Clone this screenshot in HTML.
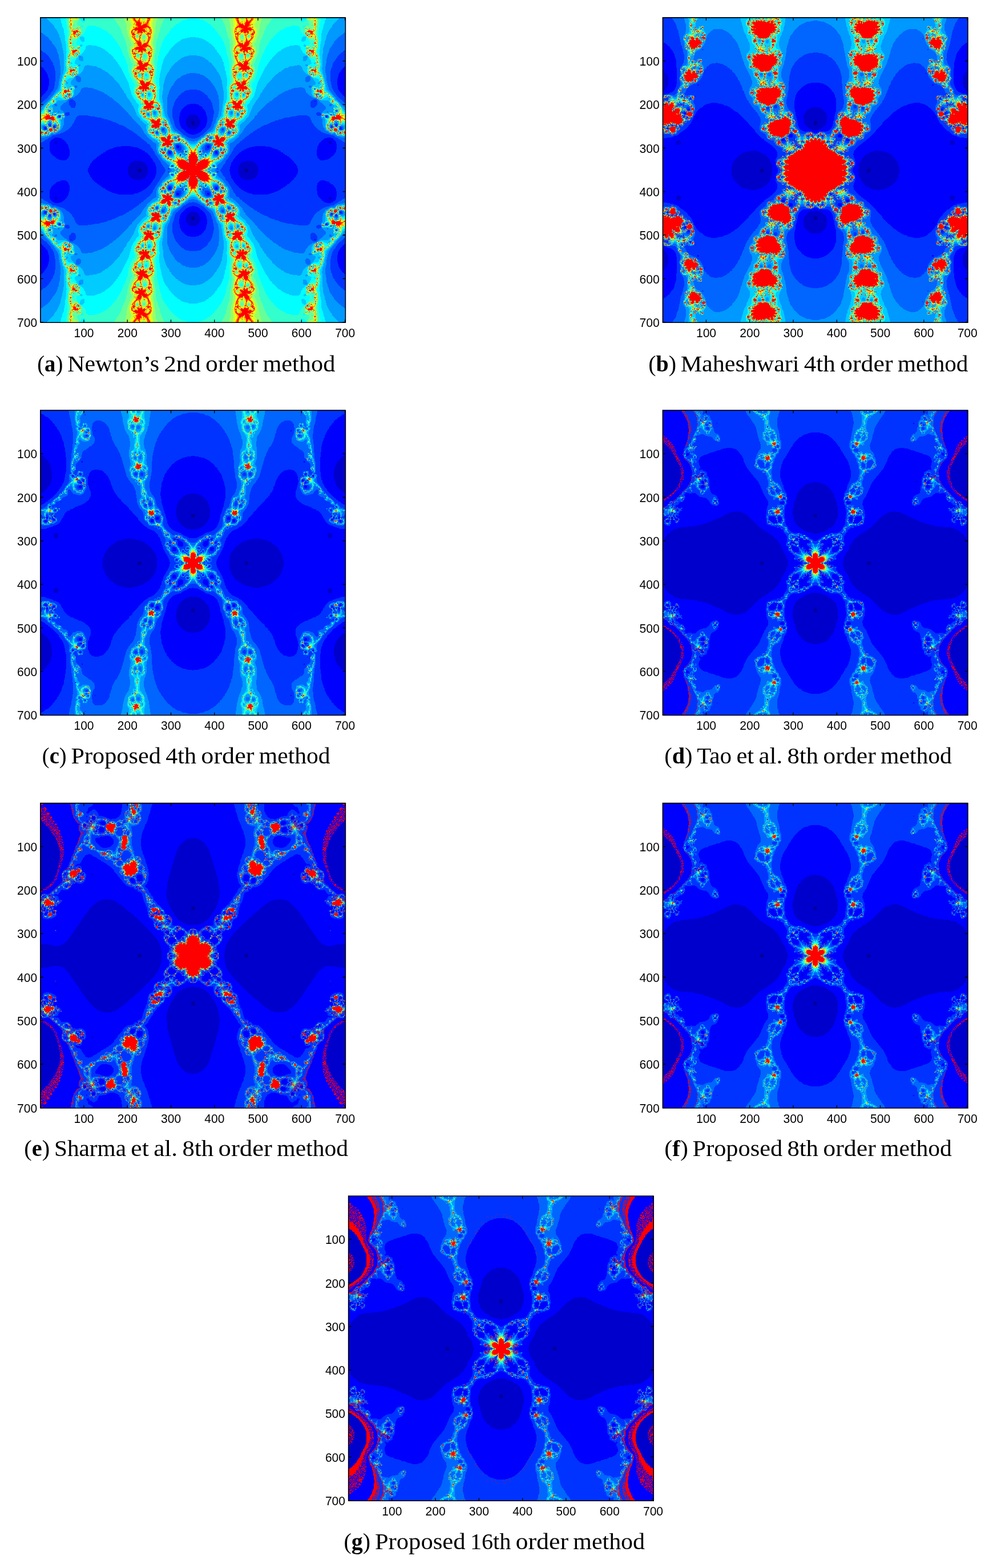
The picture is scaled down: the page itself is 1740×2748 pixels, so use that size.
<!DOCTYPE html>
<html lang="en"><head><meta charset="utf-8"><title>Basins of attraction</title><style>html,body{margin:0;padding:0;background:#fff}svg{display:block}.r{fill:none;stroke-width:1}.t{fill:none;stroke:#000;stroke-width:1.3}.b{fill:none;stroke:#000;stroke-width:1.7}.b2{fill:none;stroke:#000;stroke-width:1.55}text{font-family:"Liberation Sans",Arial,Helvetica,sans-serif;font-size:22px;fill:#000}.xl text{text-anchor:middle}.yl text{text-anchor:end}.c text{font-family:"Liberation Serif","Times New Roman",serif;font-size:40px}.k{font-weight:bold}</style></head><body><svg width="1740" height="2748" viewBox="0 0 1740 2748" fill-rule="evenodd">
<svg x="71.3" y="31.6" width="533.7" height="533.4" viewBox="0 0 699.607 699.213" preserveAspectRatio="none" shape-rendering="crispEdges"><rect width="700" height="700" fill="#009"/>
<g id="qa"><path fill="#00c" d="M350 350l-119 0 0-3-1-1-6 0-1 4-224 0 0-351 351 0 0 237-2 0-2 2 0 5 2 2 2 0z"/><path fill="#00f" d="M350 350l-104 0 0-6-4-8-4-4-6-3-3 0 0-1-12 0-10 5-6 9-1 8-201 0 0-192 2 0 0-10-2 0 0-149 351 0 0 223-5 0-4 2-5 5-1 5-1 0 0 9 1 0 1 5 6 6 8 2zM36 289l2-1 0-4-1-1-4 0-1 1 0 4 1 1z"/><path fill="#03f" d="M350 350l-84 0-1-9-1 0 0-3-1 0 0-3-2-4-2-1-3-7-3-2 0-2-11-11-2 0-2-3-4-1-1-2-5-1-4-3-11-2 0-1-6 0 0-1-23 0 0 1-6 0 0 1-4 0 0 1-4 0-3 2-3 0-2 2-3 0-10 5-1 2-4 1-1 2-2 0-4 4-2 0-2 3-2 0-13 12 0 2-4 3-1 4-2 1 0 3-2 3 0 4-110 0 0-168 2 0 3-4 2 0 1-3 5-4 0-2 2-1 3-6 1-7 1 0 0-15-1 0 0-4-2-3 0-3-3-6-2-1 0-2-3-2 0-2-7-6-2 0 0-112 351 0 0 198-7 0 0 1-6 1-3 3-2 0-9 10-3 6-1 8-1 0 0 14 1 0 0 4 4 8 12 11 8 4 7 1zM71 192l0-2-2 0 0 2zM22 214l-1-2 0 2zM45 227l0-2-3 0 0 2zM22 248l0-2-2 0 0 2zM32 251l0-2-2 0 0 2zM13 255l-1-3-3 1 1 2zM56 327l4-2 4-4 1-5 1 0 0-14-1 0 0-4-1 0 0-3-3-6-8-9-2 0-1-2-4-2-4 0 0-1-9 0 0 1-3 0-7 6-2 4 0 3-1 0 0 13 1 0 0 3 3 6 6 7 2 0 5 5 4 2 3 0 0 1 3 0 0 1zM294 287l2-2 0-3-3-3-4 4 0 2 2 0 1 2zM316 299l2-2 0-2-2-2-2 0-2 2 0 2 2 2zM298 311l1-3-2-2-3 1 0 3 1 1z"/><path fill="#06f" d="M350 350l-63 0 0-2-2-1-1-4-2-1 0-2-6-7-1-4-6-7-2-5-2-1 0-2-2-1-2-6-2-1-2-6-5-5 0-2-4-4-2 0-5-6-2 0-4-5-2 0-4-5-2 0-2-3-2 0-2-3-2 0-2-3-2 0-4-4-2 0-1-2-4-1-1-2-6-2-1-2-10-5-3 0-13-7-6-1-2-2-6-1-6-3-4 0 0-1-7-1 0-1-5 0 0-1-5 0 0-1-5 0 0-1-15-1 0-1-21 0-4 2-3 3-5 12-2 1-2 5-10 10-2 0-1 2-2 0-1 2-6 3-3 0 0 1-3 0 0 1-9 2 0 1-8 1-3 3-7 3-1 2-6 2-4 4-4 1-1 2-2 0 0-92 3 0 8-8 2 0 11-13 0-2 4-4 4-8 1-7 1 0 0-7 1 0 0-25-1 0 0-5-2-3 0-3-2-2 0-3-2-4-2-1-1-4-2-1 0-2-3-2 0-2-10-10-2 0-5-5-3 0 0-75 351 0 0 165-8 0 0 1-7 1-6 3-1 2-2 0-10 9 0 2-5 5-5 10 0 3-2 3 0 4-1 0 0 6-1 0 1 16 1 0 0 4 1 0 0 4 1 0 2 9 3 6 18 17 4 1 1 2 8 4 8 1zM60 181l-1-2 0 2zM76 207l4-3 0-3 1 0-1-9-6-5-6 0-3 3 0 9 6 7zM23 214l-1-3-2 0 0 3zM63 225l4-3 0-4-4-2-5 1-2 2 0 4 3 2zM34 223l0-2-2 0 0 2zM45 228l1-3-1-1-4 0 0 4zM23 232l1-1 0-2-5-1 0 2 2 2zM23 235l-1-2 0 2zM23 249l1-3-2-3-2 0-1 1 0 4 1 1zM33 252l1-4-1-1-3 0-1 1 0 3 1 1zM12 257l2-2 0-3-2-2-4 0-1 1 0 4 2 2zM283 258l0-3-3 0-1 1 1 2zM268 265l1-3-2-1-1 1 0 3zM294 287l2-2 0-3-3-3-4 4 0 2 2 0 1 2zM312 283l-1-2 0 2zM322 304l1-1 0-7-2-4-4-2-6 1-1 1 0 7 1 2 5 3zM279 304l-1-2 0 2zM329 306l-2-2-2 0 0 2zM299 314l2-2 0-5-2-2-5 0-2 2 1 6 2 1zM334 308l1-2-3-1 0 3zM323 309l0-2-2 1zM322 316l0-3-2 0 0 3zM335 315l-1-2 0 2zM303 342l1-2-1-1-3 0 0 3zM295 348l1-3-2-1-2 2 0 2zM310 346l-1-2 0 2zM314 348l-1-2 0 2z"/><path fill="#09f" d="M350 350l-19 0 0-8-2 3 0 5-28 0-7-7 0-5-15-13 0-2-3-2-2-5-4-3-3-6 0-4-1 0 0-14-4-3-2 0-16-14 0-2-7-7-1-4-2-1-1-4-3-2 0-2-21-21 0-2-7-6 0-2-24-24-2 0-4-5-2 0-7-7-2 0-10-8-4-1-1-2-8-4-5-1-5-3-3 0 0-1-3 0 0-1-3 0 0-1-11-1 0-1-9 0 0 1-3 0-3 3-3 8-3 2-1 3-2 0-2 3-2 0-3 3-11 3-9 9-2 0-10 10 0 5 8 7 2 4 1 10-3 2 0 13-1 0-1 6-3 3 0 2-4 4-2 0-4 4-5 1 0 1-6 0-3-2 1 3-7 5-8 1 0 1-4 0 0 1-7 0 0-70 4-1 19-19 0-2 9-9 0-2 3-2 0-2 4-4 1-5 1 0 0-4 1 0 0-5 1 0 0-5 1 0 0-6 1 0 0-7 1 0 0-6 1 0 0-15-1 0-2-19-1 0 0-4-1 0 0-4-2-3 0-3-2-2 0-3-3-6-2-1 0-2-6-7 0-2-12-13-2 0-3-4-2 0-4-4-4-1 0-34 351 0 0 127-15 2-2 2-3 0-6 3-5 5-2 0-9 9 0 2-3 2 0 2-4 4-7 14 0 3-2 3 0 4-1 0 0 6-1 0 0 27 1 0 0 7 1 0 1 6 3 4 3 11 3 4 0 3 3 6 5 5 2 0 7 6 2 0 5 6 5 2 2 3 2 0 4 4 4 2 3 0 0 1 4 0zM91 91l0-2-2 0zM90 148l3-5-1-6-3-3-5-1-2 1-2 3 1 6 4 4zM83 160l2-3-2-2-5 1 0 4zM57 161l0-2-2 0 0 2zM72 164l-1-3-2 1 0 2zM63 177l-1-3-1 2zM68 177l0-2-3 0 1 2zM60 181l0-2-2 0 0 2zM30 195l1-2-2 1zM37 203l0-4-1-2-4 0-1 1 2 5zM31 208l-2-2 0 2zM22 215l1-1 0-3-4 0-1 1 1 3zM42 218l1-3-3-1 0 3zM32 217l1-2-2 1zM263 219l0-3-2-1-1 1 0 3zM35 218l-1-2 0 2zM23 220l0-2-2 1zM248 223l1-3-2-1-1 1 0 3zM29 224l1-2-3-1 1 3zM34 223l0-2-2 0 0 2zM26 225l1-2-2 1zM44 230l2-1 1-5-1-1-5 0-2 2 0 3 3 2zM23 232l1-1 0-2-5-1 0 2 2 2zM23 235l-1-2 0 2zM18 240l0-2-2 0zM25 240l0-2-2 0 0 2zM22 251l3-4 0-4-1-2-2 0 0-2-2 0-3 3 0 5 1 2zM34 253l2-5-2-3-3 0-2 2-1 4-4-1 2 2 3-1 0 2zM12 258l3-2-1-6-2-2-6 0-2 3 1 5 3 2zM19 254l-1-1 1-1-1-1-1 2zM285 262l1-7-2-2-4-1-2 2 0 5 3 3zM269 267l1-1 0-5-1-1-3 0-2 2 0 3 3 2zM18 265l0-2-2 1zM288 265l-2-2 0 2zM284 266l-1-2 0 2zM290 267l-1-2 0 2zM312 277l1-3-1-1-3 0-2 2 1 2zM294 287l2-2 0-3-3-3-4 4 0 2 2 0 1 2zM273 283l-2-2 0 2zM312 283l0-2-2 0 0 2zM269 287l-1-2 0 2zM327 311l0-3 2-1-1-4 2-2-1 0 0-4-4-4 0-2-2 0-3-3-8 0 0 1-5 1 1 10 3 3 0 2 6 5 5-1 3 2zM271 291l0-2-2 0 0 2zM275 292l-1-2 0 2zM300 300l1-2-3-1 0 2zM287 304l0-3-1 0 1-2-1 0-2 2 0 3zM280 304l-1-3-2 0 0 3zM300 317l2-1 1-2 0-6-2-3-4-2-4 0-2 3-1 5 3 5 2 1zM335 309l1-3-1-1-3 0-1 1 1 3zM282 312l0-2-2 0 0 2zM331 315l2-1-1-2-2 0 1 1-1 2zM322 317l1-4-3 0-1 3 1 1zM336 315l0-2-2 0 0 2zM336 319l-1-2 0 2zM327 320l2-2-3 0 0 2zM344 336l3-2-6 0 0 2zM303 343l2-2 0-2-1-1-4 0 0 4 1 1zM310 346l1-1 0-2-3 1zM314 348l1-1 0-2-2 1 0 2z"/><path fill="#0cf" d="M350 350l-19 0 0-8-2 3 0 5-16 0 0-2 2 1-1-1 1-1 0-2-2 0 0 3-1 1-4 0 1-2-3 0 0-2-3 0 0 1-4-1-1 1-3-2 0-2 2 0 0-6 1-1-4-4-5-2-3-4-2 0-5-5-1-5-7-5 0-4-1 0 0-10 1 0 0-7 2-2-5-2 0-3-4-1-1-2-7-3-10-10-3-6 0-5-1 0 1-9-14-12 0-2-7-7-10-24-2-1-1-4-2-1 0-2-8-10-4-9-4-4-1-4-4-4 0-2-3-2-2-5-12-12-1-3-16-14-2 0-4-4-4-1-1-2-6-3-3 0-5-3-8-1 0-1-8 0 0-1-8 1-2 2-4 10-8 8-8 3-10 12-2 4 0 4 2 2 4 1 3 5-1 15-4 6-2 0-1 2-4 0-3 4-6 1 0 1-18 0-1 3-4 4-4 1-4 4-1 3 3 1 0 5-1 0 1 1 0 5-2 2-2-1 1 1-1 3 2-2 2 1 2-3 4 0 0 1 3-1 0 2 4 0 0-1 1 1 1-1 2 1 6-1 3 2 0 3-2-1-1 1 2 2 2 0 0 2-2 2-3 0 2-1-1-2-1 2-2-1 1 4-3 3 1 14-1 0 0 4-2 4-3 3-2 0-4 5-11-1 0 2-2 0 0 2-2 2-4 2-5-1 1-2-2 0 0 2-2 1-9 0 0-59 4-1 3-3 0-2 8-8 0-2 11-10 0-2 4-3 0-2 14-14 1-7 1 0 1-11 2-3 0-6 2-3 0-4 2-3 1-9 1 0 0-6-1 0 0-31-1 0 0-8-1 0 0-5-1 0 0-4-1 0 0-4-1 0 0-4-1 0 0-4-2-3 0-4-1 0-1-6-7-14-2-1 0-2-2-1-2-5-16-16 0-2 336 0 0 87-9 0 0 1-8 1 0 1-3 0-8 4-1 2-5 2-3 4-2 0-11 12 0 2-3 2-3 7-2 1-5 10-2 8-1 0-1 9-1 0 0 7-1 0 0 8-1 0 0 9-1 0 0 11 1 0 1 10 1 0 0 10 1 0 0 7 1 0 1 10 5 6 0 2 2 1 0 2 2 1 1 6 3 4 1 6 3 6 4 4 5 1 8 4 7 8 4 1 4 5 2 0 6 6 4 2 4 0zM97 99l1-1 0-7-1-2-3-2-5 0-2 2 1 7 4 3zM91 111l1-4-1-1-4 1-1 3 1 1zM69 115l-1-2 0 2zM82 115l0-2-2 0 0 2zM77 127l0-2-2 0 0 2zM75 131l0-2-2 0 0 2zM63 151l0-2-2-2-3 1 2 3zM69 159l0-2-2-1 0 2zM57 161l0-2-2 0 0 2zM62 165l3-2 0-3-2 0 1 3-3 1zM72 165l1-3-1-1-3 0 0 4zM69 180l-2-1 2-2 0-3-5 1-1-2-2 0-1 1 1 3 4 0 1-1 0 3 1 1zM250 177l1-3-3-1-1 2 1 2zM236 178l-1-3-2 0 0 3zM60 182l1-3-1-1-3 0-1 1 1 3zM38 187l0-3-2 0 0 2zM30 195l1-2-2 1zM22 204l1-2-3-1 0 2zM22 209l1-2-2 0 0 2zM23 216l1-4-2-2-3 0-2 2 0 3 1 1zM27 214l-1-2 0 2zM264 223l2-3 0-4-1-2-5-1-2 2 0 4 3 4zM23 220l0-2-2 1zM248 225l2-1 0-5-4-1-2 2 0 3zM34 224l2-3-4-1-1 3 1 1zM27 225l0-2 2 1 1-2-3-1-2 3zM24 224l1-2-1 1-2-1 0 2zM45 230l2-2 0-5-2-1-4 0-3 3 0 4 1 1zM23 232l1-1 0-2-5-1 0 2 2 2zM19 254l-1-1 1-3 4 2 0-3 3-3 0-5-3 0 3-3-3 0-1-1 1-4-2 3-1-1-2 0 2 1 0 1-4 0 1 2-1 1 0 7 3 2-2 5zM271 245l1-4-2-2-2 0-3 5 1 1zM285 242l-1-3-4 0 1 3zM246 244l-1-2 0 2zM35 253l2-3 0-4-3-3-5 2-1 6-4-1 1 2 4 0 0 1zM282 247l2-3-3 1 0 2zM11 259l4-2 0-6-1-1 2-1-3 0-4-4-4 0-3 3 0 6 2 3 4 2zM251 249l-1-2 0 2zM286 267l2-4 2 1-1-1 0-7-1-2-4-3-7 0-1 2 0 6 2 4 3 3 2-1zM271 257l1-2-3-1 0 2zM32 258l0-3-5 1 2 2zM260 259l1-4-3 2 0 2zM255 259l0-2-3 1zM14 264l0-2 3 0 1-1 1-3-6 2 1 2-2 2zM32 261l0-2-2 0 0 2zM269 269l2-1 1-5-3-4-4 0-2 2 0 5 2 2zM19 265l0-2-3 0 0 2zM291 267l0-2-2 0 0 2zM283 270l1-3-3 1zM288 269l-1-2 0 2zM312 278l2-1 0-2-2-3-6 0-1 5 2 1zM303 277l1-2-1 1-2-1-1 1zM321 281l-1-3 0 3zM294 287l2-2 0-3-3-3-4 4 0 2 2 0 1 2zM326 281l-1-2-2 1zM273 283l0-2-2 0 0 2zM312 284l1-1 0-2-4 0 1 3zM332 321l-1-2 2-2-2-2 1-1 1 1 3 0 0-2-4 0-4-8 3-1 2-2-1-7-6-6-6-3-3 0 0 1-8 0 0 1-3 0-1-2 0 2 1 1-1 0 0 4 2 2 0 6 1 0 0 2-2 1 2 0 1-1 2 5 6 6 1 0-1-2 3 0 0-2 3 0 2 5 5 1 1 2-1 2zM300 289l0-2-2 1zM276 292l-1-2-2 1zM301 300l-1-4-3-1 0 4 1 1zM305 300l1-2-4-3 0 3 2 0 0 2zM286 305l2-2 0-3-1-2-3-1 1 2-2 1 0 4-2 1 2 0 0-1 1 1zM279 305l1-1 0-4-3 0-1 3zM300 320l4-2 1-2 0-6-4-6-4-2-4 0-3 4-1 6 4 6zM336 309l1-3-2-2-3 0-1 1 0 3 1 1zM282 312l0-2-2 0 0 2zM322 318l1-1 0-5-4 1 0 5zM287 315l-2-2 0 2zM336 319l1-2-2 0 0 2zM327 321l2-3-4 0 0 2zM330 323l-1-2 0 2zM333 324l-2-2 0 2zM338 326l1-2-2 0 0 2zM344 336l3-2-6 0 0 2zM304 343l2-2 0-3-1-1-4 0-3 3 2 3zM312 346l-1-1 1-2-1-1-3 2 1 2zM317 348l1-2-2 0 0 2z"/><path fill="#0ff" d="M350 350l-17 0 0-10-2 0-1 2-1 8-9 0 0-1-2 1 0-1-3 0 0-5-2 1 0 2-3 0 0 1-4-1 0-1 6 0 0-4-3 0-1 3-1-2-3 2-1-1-1 1-1-1-5 1 0-3 1-1 2 0 0 2 6 0 2-3 0-3-1-1-4 0-2 1-2 3-1-2 5-4-2 1-1-4-11-5-2-2 0-3-1 1-4-1-2-8-6-2-1-6-1 0 0-5 2-3 0-5 3 1 0-3-3 0 0 2-2 0 0-2 1-1 3 0 3-4-2 1-3-2 1-1 0-3-3 0-1 3 3 2-3 0-1-1 0-5-12-5-3-3-1-2 1-4-1 2-2 0-3-2-1-5-1 0 0-6 1 0 0-4 2 0-2-1 2-5-2-2-2 0 0-3-1-1-2 0-2-3-2 0-7-7 0-2-5-5-1-6-1 0 0-9 1 0 1-6-7-7 0-2-6-7-4-8-7-26-19-38-2-1-1-4-2-1-2-5-3-2 0-2-5-4 0-2-15-14-2 0-5-5-12-6-3 0-3-2-4 0 0-1-6 0 0-1-9 0 0 1-3 0-2 2-2 8-2 1-2 5-6 5-4 1-3 3 0 2-2 1-1 4-3 3-1 7 7 3 3 5-1 1 0 5 1 0-1 7-4 5-3 0-2 4-6 3-8 1-3 2-1 5-1-1-2 0 2 2-3 4 0 3 3 1 1 7 2 0 0-2 2 1 0 2-3 0 0 2 4-1 0-5 2 1 2-2 7 0-1 3 1 0 0-2 2 1-1 3-2-1 1 2-2 0 0 3-2-1 2 3 0 9-4 4-4 0 0-1 3-1-2-2 2 0 0-2 2-1-2-2-5 2 0-2-3-2 0 3-2 1 1 2 2 1 2 0 2-2 0 5-1 0 0 3-2 2-2 0-1-2 0 3-7 0-14-7 1 2-7 4 2 3-1 6-1 1-2-1 0 2-2 1-7 0 0 2-4 4 0 2 3 0 0 3 1-1 2 1 0-2 3 1 0 4-2 0 2 3-3 0 0 2-3 1 0 3 2-1 0-2 2 0-1 5-2-1 0 2 3 0 0 1 2 0 0-2 3 1 0-2-2-1 3 0 0 3 3 1 1-3 4 0 1-3 3 1 0-2 2 3 8-1 1 1 0 1-3-1 0 3 4 1-1 2-4-1-3 2 1-4-2-2-5 0-3 2-1 2 0 4 2 1 5 0 2-2 2 0 0 3-2-1-4 3 1 7 1 0 0 6 1 0-1 5-1 0 0 4-2 2-3 0 0 1-3-1 0 1 2 0-1 3-1 0 0-2-2 0 2 3-7 0-1-2-2 1-1-2-2 2 1 1 1-1 0 2-2 0-2 4-2-1-1 3-5-1 0-2-6 3-3 0-2-2-2 0 0-16 2 0 1 4 2 2 5 1 0 1 7-3 0-3-1 0 0-4 1-1-3 0 1-2-2 0-3-4-4-1-4 3 0 2-2 0 0-31 4 0 4-4 2-6 2-1 1-4 4-3 0-2 9-7 1-4 3-2 0-2 2 0 4-4 0-2 2 0 9-9 1-2 0-11 1 0 1-8 1 0 0-5 1 0 2-9 3-4 0-3 2-2 0-12-1 0 0-8 1 0 0-3-1 0 0-3 1 0 0-9 1 0 0-8 1 0 0-3-1 0-1-16-1 0 0-7-1 0-1-19-1 0 0-4-1 0 0-4-1 0-1-6-1 0 0-4-3-6 0-4-2-3 0-4 305 0 0 45-14 1 0 1-9 2-6 3-1 2-5 2-2 3-2 0-12 12 0 2-4 3 0 2-8 10-5 10 0 3-2 2-1 7-1 0-2 14-1 0 0 5-1 0-1 9-1 0 0 20 1 0 0 6-1 0 0 23 3 5 0 3 2 2 1 7 1 0 2 22 12 13 1 6 3 4 0 4 1 0 0 3 1 0 0 3 2 4 2 0 1 2 8 1 0 1 3 0 1 2 3 0 5 7 4 1 15 15 4 2 3 0zM100 54l1-2-1-7-4-3-4 0-2 2 1 7 4 3zM94 66l2-2 0-2-1-1-3 0-2 2 0 2 1 1zM87 70l0-2-2 0 0 2zM74 71l-1-2 0 2zM82 82l1-2-3-1 1 3zM86 81l-1-2 0 2zM81 85l0-2-2 1zM73 105l-2-3-3 1 1 2zM79 111l0-2-2 0zM69 115l0-2-2 0 0 2zM82 116l1-1 0-2-3 0-1 1 1 2zM77 127l0-3-4 0 2 3zM81 127l0-3-2 0 0 3zM75 131l-1-3-2 1 0 2zM228 133l1-3-2-1-1 1 0 3zM243 133l1-3-3-1 0 4zM60 139l-2-2 0 2zM54 155l-1-2 0 2zM57 162l0-2 1 1 1-1-4-3-1 5zM71 166l2-2 0-3-4 0-1 1 0 3 1 1zM62 169l0-1-4 0 0 1zM251 181l3-4 0-3-3-3-4 0-1 1 0 6 2 3zM236 180l1-1 0-4-1-1-4 0-1 1 0 3 2 2zM60 182l1-3-2-2-3 0-1 1 1 4zM247 187l-1-2 0 2zM32 190l1-2-2 1zM30 195l2-2-2 0-1-4 0 4 1 1-2 1zM230 199l0-2-2 1zM255 204l0-6-2-1-4 3 0 2 1 1zM268 204l0-3-1-1-3 0 0 2 2 2zM230 203l-1-2 0 2zM28 208l-2-2 2 0zM265 208l0-2-2 0 0 2zM20 217l3-1 1-2 0-3-2-1-4 0-2 3 0 3 1 1zM264 228l4-4 0-3 1 0-1-6-6-4-4 0 0 3-1 0 0 8 3 4zM236 215l0-2-2 0 0 2zM241 216l-1-3-1 3zM252 216l0-2-2 0zM34 220l-3 0 0-3 1 2 1-1 2 0zM249 227l2-2 0-6-3-2-3 0-2 2 0 5 2 2zM255 221l-1-2 0 2zM238 227l-1-2 0 2zM269 229l0-2-2 0 0 2zM32 261l0-6 5-4 0-4 1-1-5-5-4 3-1 7-4-1 0-1 2 0-1-3 2-2 0-3-2-1 1-3-2 0-2-4 2-2 0-2-4 0-1-1 0 2 2 1-1 2 1 2-3 0 0 1 2 1-4 0 0 3-2 1 1 5 2 1 0 2 2 0-2 5 2 0-1-2 4-1-1 1 1 2 2-4 1 3 3-1 1 2 2 0-4 3 4 1-1 3zM261 230l0-2-2 0zM278 238l-1-2 0 2zM287 245l-3-8-4 0-3 3 0 2 1-2 1 2 3 0 0 1 3-1 0 2zM250 241l-1-3-1 3zM271 245l1-4-2-2-2 0-3 5 1 1zM25 241l-2-1 2 0zM284 248l-1-2 1-2-4 1 0 2zM252 249l0-2-2 0 0 2zM274 250l1-2-2 1zM288 270l0-4-1-1 4-2 0-7-5-6-6 0-4-2 1 2-2 0 0 4-6 0-1 2 1 1 5-1 1 1 4 10 3 0-1 1 0 2 2 0 0-2 2 2zM270 252l0-2-5 1 0 1zM259 254l1-2-2 1zM37 257l0-2 2 1-1-1 1-2-3 0 0 4zM260 260l1-1 0-4-3 0-1 3 1 2zM255 260l0-4-3 0 0 3 1 1zM13 266l1-4 5-1 0-3-3 0-4 2 2 2-3 2 0 2zM272 270l1-2-1-7-4-3-3 0-2 2-1 6 2 1 0 2 2 1zM8 264l1-2-3-1 0 2zM18 266l1-1 0-2-4 0zM3 267l1-2-2 1zM291 268l1-2-3-1 0 2zM15 268l1-2-2 1zM260 268l-1-2 0 2zM284 267l-2-1 2 0zM289 272l1-1 0-2-1 2-2 0zM310 279l3-1 1-3 2-1 2 3 1-5-2 0-1 1-1-2-3 1 0-1-5-1-2 1 0 4-2 1-2-1-1 1 1 3 2 0-1-2 4 0-2 1 0 1zM304 274l0-2-2 0 0 2zM315 274l-2 0 0-2 2 0zM321 281l-1-3 0 3zM292 292l0-4 4-3 0-3-2-1 0-2-5 4 0 3-3 2 1 2zM326 282l0-3-4 0 2 3zM312 284l1-3-1-1-2 0-2 2 1 2zM316 285l0-2-2-1 0 2zM340 328l-2-2 1-2-3 1 0-2 2-1-3 1 0-4 2 0 0-2-2 0 0 2-2 0 1-4 3 0 0-2-5 0 0-1 2-1-1-1-3 0 1-2 3 2 4-1 0-3-2-2-5 0 5-2 0-5-2-1 0-2-7-6-3 0-3-3-2 0 1-3-1 2-4 3-1-1-2 1-7-1 0 2-3 1 5 8 0 2-3-2 0-2-2 0 0 2-2 0-2-3-3 0 0 3 2 3 4 0 0-2 1 1 2-1 0 2 2-1 0 2 2 1-2 2 3 0 0 3 2 1 1 4 3 3 4-2-1 4 1 2 3 0 1-1 0-5 1 0 1 1-1 1 0 2 2 0 1-2 2 2-4 1 0 3 5-2 1 2-3 0 0 2 3-1 0 2 2 0-1 2 3-2 1 2 2 0 0 2zM281 285l-3-2 1 2zM300 289l-2-6 0 6zM324 285l0-2-2 0zM278 289l1-2-2 1zM285 306l4-2 0-4-1 0 1-4-1-1-1 1-2-1 1 3-2-1-1 1 0 6-3 0 2-2-2-1 0-2-3 0-1 1 0 4 1 1 6 0 1-1 0 2zM303 322l3-2 0-3 1 0-1-6-1 0 0-2 2-1-3 0-1-3-3-1 1-2-3 1-2-2-4 0-2 4 0 3-3-2-1 2 3 0-1 3 3 6 3 3 5 1 0 1zM305 305l-1-2 0 2zM331 308l-2-1-1-3 3 1zM277 309l2-1-1-2-2 0 1 2-2 0zM282 312l0-2-2 0 0 2zM321 313l-2-1 2 0zM289 317l-2-4-3 0 1 2-3 1 2 1 2-2zM284 320l1-2-2 1zM336 336l1-2 2 0 1-4-3 0 0 3-2 2zM344 336l3-2-6 0 0 2zM318 348l0-2-2 0 0 2z"/><path fill="#3fc" d="M329 350l-3 0-1-2-5 2 0-1-2 0 0-4-2 1 0-2-4 1 1-3-1-1-2 0-1 2-3-1 2-2 0-4-2-1-5 1 2-3-2-3-8-3-1-3-1 2-3-1-2-4-4 0 0-2-2-1 0-4 1 0-1-2 2 0 0-2-2 0 0 2-1-1-2 1-4-2-1-11 3-3-1-3 3-1-3-3 2-1 2 1 1-1-1-2 3 0 0-2-3-1 1 2-3 0 1-3-3 1 0-3-4 1 0-3-1-1-5-1-3-3-5-1-2-7-3 1-2-1-2-8 1 0 0-4 2-3-2-1 0-3 3 0 3-3-2 0 1-2-1 1-6 0 1-1-1-3 2 0 0 3 2 0 1-3-5-1-1-2-4-1-2-3-2 0-3-3-1-5-2 0-3-3-1-9 1 0 0-3 2-2 0-4 2-1 0-2-3-2 0-3-10-10-5-10 0-3-1 0 0-9 1 0 0-4 2-2 0-4-5-6-5-10 0-3-2-2 0-3-2-3 0-5-1 0-1-12-2-3 0-3-2-2 0-3-3-4 0-3-3-4 0-3-3-4 0-3-6-12-2-1-1-4-2-1-2-5-3-2 0-2-6-5 0-2-15-13-18-9-4 0 0-1-4 0 0-1-15 0-2 1-2 3 0 3-4 8-6 6-2 0-4 3 0 2-2 1-5 10 0 6 7 2 3 4-1 2 0 3 1 0 0 8-4 5-3 1 0 2-2 2-13 6 0 4-3 4 0 5 3 0 1 2-1 2 2-1 0 3 1-2 3 0 7-4 2 0 2 2 0 2-3 2-2-3-3 1 0 4 5-1 0 4 2 3-1 1 0 4-2 0 0 2-2 1-2-1 0 3-5 3-14-2 0 2-4 4 3 2 0 3-3 0 0 2 2 1-5 3 0 3-2-1 1 3 2 0-1 2-1-1-1 1 1 1 1-1 2 0-1 1 0 4 2 0 2-2 0 2-1 1 2 0 0-3 1 0-1 6 1-2 5-1 1-2 2 0-1 3 1 1 3 0 2-1-1-6 4-1-1 3 1-2 1 0 0 3-3 0 0 4-3 1 2 4 0 8-3 0 0 3-4 0 0-1 3-1 0-3 2-2-2-3-2 0-1 3-2 0 0-3-3-1-2 1 0 4 3 2 3-1 1 4-1 1-4-1 0-2-2-2-4-1-1 2 1 3 1 1 4 0 1-1 1 3 1-1-1-1 2 0 0 3-3 1-1-2 0 2-3 0 0-1-3 1-9-9-5 0-2 1-1 2 1 1 0 2-3-1 1 2-5 0-1 1 0 4-2-1 1 1 0 4 1 0-2 2 2 0 0-1 3 1-2 0 0 2-4 0-6-3 1 2-2 0 1 5-5 2-1 2 0 3 2 0-1 2 2 0-2 2-1 4 1 2 3 0 2-2 2 1-3 2 0 2 2 0 0 4 1 1 4-1 0-2 1 2 3-2 0 2 2 1 2-2 0-2 2 2 3-3 0 2-4 3 0 4 1 1 7 0 2-2 2 0 0 3-3-1-1 2-4 0 0 5 2 2 1 7 1 0 0 3-2 1 0 5-4-1 1-2-3-1 2-3 2 2 0-2-2-2-1-5-2-2-3 0-3 3 0 2-2-1 0-5-1-2-2 0-2-4 2-2 0-2-5-1 0 2 2 1-1 2 1 2-2 0-1-1 0 3-1-1-2 0 0 3-2 2 1 1-1 3 2 0-1 2-2 0-2-5-3-2-4 0-2 3-2 0 0-24 4 0 5-4 2-8 3-6 4-3 0-2 9-7 1-4 3-4 2 0 8-9 5-2 3-3 1-2-1-11 1 0 1-8 1 0 0-6 1 0 0-3 2-2 1-5 2-1 1-4 3-3-2-18 1 0 1-17 2-3 0-4 1 0 0-7-1 0-1-16-1 0 1-27-1 0-2-17-1 0 0-6-1 0 0-8 34 0 0 6 2 1 0 2 2 0 1 2 5 0 1-1 0-7-2-1 0-2 250 0 0 2-9 0 0 1-5 0-3 2-6 1-8 4-4 4-2 0-14 13 0 2-5 4 0 2-3 2 0 2-6 7-7 14-1 6-2 3 0 4-1 0 0 4-1 0-1 9-2 3-1 8-1 0 0 6-1 0 0 22-1 0 0 9-1 0 0 16 2 3 1 9 1 0 0 4-1 0 0 23 6 7 2 4 0 3 1 0 1 22 1 0 0 3 4 4 5 2 4 5 1 7 3 3 0 4 1 0 3 12 2 1 6 0 0 1 6 0 1 2 4 1-3 1 1 1 0 2-5-3-8 0 0 2-2 0 0 2 3 1-2 1-2-1-2 4 2-1 2 1 1-1 0 2 1-1 9-1 0-2 2 0 1-2 1 10-2 1-1-3-1 2-2 0 1-1-1-3 2 0 0-1-6 2 0 3 4 0 0 1 3-1 1 2-13 0 0 1-4 0-1-4 0 6 4-1 2 6-3 1 1 2-2 0-1-3-4 0 0 3 1 0 0 3 2 1 3-1 0-2 1 1 2-1 0 2 2-1 0 3 1 0-1 2 2 0 0 2 2 1 1 6 4 4 3-3 0 5 1 1 3 0 2-5 1 7 2 0 1-2 0 3 2 0 1-1 0 3 3 3 2 0 1 5-2 4-5 5zM95 22l2-1 1-2-1-2-3 0-2 2 1 3zM89 26l0-2-2 0 0 2zM80 31l-1-2 0 2zM88 37l1-2-2 0 0 2zM85 38l0-2-2 0zM76 62l1-2-2-2-3 1 1 2zM76 69l1-2-2-1 1 2-1 1zM80 68l1-2-3 1zM87 71l0-3-3 0 0 3zM74 71l0-2-2 0 0 2zM81 71l-1-2 0 2zM78 76l-1-3 0 3zM87 81l-1-3-2 1 1 2zM83 82l0-3-4 0 2 3zM83 86l-2-3-3 1 1 2 2-1zM225 87l0-3-3 1 0 2zM240 88l1-2-1-1-3 0 0 3zM68 95l0-2-2 1zM71 117l-1-1 1-2-2 1 0-2-2 0 0 3zM76 116l1-2-2 0 0 2zM228 120l-2-1-1-3 0 3 1 1zM77 127l0-4-1 1-2-1-1 1 1 3zM83 127l-2-4-2 0 0 4 2-1zM244 137l2-2 1-4-3-4-3 0-2 2 0 6 2 2zM75 134l0-2 2-2-2-2-4 0 0 3zM228 135l2-2 0-4-1-1-3 0-2 2 0 3 2 2zM245 141l-2-2 0 2zM246 144l-1-2 0 2zM240 151l0-2-3 1zM221 156l-2-2 0 2zM58 159l-2-1 0-2 3 0zM258 162l0-3-1-1-4-1 2 5zM69 162l-1-3 2-1 1 2zM254 166l0-2-2 1zM224 169l0-2-2 0 0 2zM255 169l-1-2 0 2zM61 170l1-2-4 0zM229 171l1-3-3 0 0 3zM249 187l4-2 0-2 2-1 1-2 0-6-3-4-7-1-1 5-1 0 0 5 1 0 0 3 4 3-1 2zM240 172l0-2-2 0zM261 173l1-2-3 1zM237 182l1-7-3-3-2 0-3 3 0 5 2 2zM247 187l0-2-2 0 0 2zM254 188l1-2-2 0 0 2zM34 194l-4-1 0-4 4 1zM234 196l0-2-2 0 0 2zM252 208l-1-1 0-4 3 0 0 4 1 0 0-9-1-1-3 1-2 2 0 2-2 0 0 6zM273 205l0-2-4 0 0-3-3-2-2 0-2 2 2 4zM234 205l0-2-2 0zM268 207l-2-2 0 2zM22 210l-4 0 2-4zM265 208l0-2-2 0 0 2zM26 214l-2 0-1-5 3 1-1-2 2 0 0 4-2 0zM241 217l1-3 3-1-2-1 1-2-2 0 0-2-2 3 2-1 0 2-3 0-1 2 1 3zM274 213l-2-5-2 0 0 2 2 0 0 2zM267 232l-2-6 1-1 3 1 2-4-3-10-4 0-2-2-7 0 0 1 2 0 0 4-1-1-3 1 3 0 0 7 1 0 1 5 2 0-1 3 2 0-1-4 2 0 0 4 1 1-2 1 2 0 0-1 1 1zM235 216l1-4-3 0 0 3zM252 216l0-3-2 0 0 3zM251 228l1-2 0-6-4-4-3 0-3 4 0 4 2 3 2 1zM25 220l-2-2 2 0zM34 220l-2-1 3-1zM46 222l-3 0 0-1-2 1 0-3 2 1 1-1 0 2 2 0zM255 221l0-2-2 0zM53 227l-1-1-4 0 0-2 1-1-3-1 3 0 1-2 2 0-1 5 4 0zM236 222l1-2-4 1zM240 225l-1-2 0 2zM238 227l-1-2 0 2zM269 229l0-2-2 0 0 2zM278 238l-1-2 0 2zM287 245l-1-2 1-3-3-4-5 0 0 3-4-1 2 4 2-2 0 3 6 0zM271 245l1-4-2-2-2 0-3 5 1 1zM290 243l-1-3-1 3zM257 243l-3-2 1 2zM288 276l2-1-2-1 2-2-1-5 3 1 0-3-3 0-1 2 0-3 5 0 0-6-1 0 1-2-2 0 0-2-4-3 0-2-5 1 1-2 3 0-3-2 1-2-2 1-1-1-2 1 1 2 3 0-2 2-2-1-4 1-1-1-1 1 2 2 0 3-6 0 1-4-5 1 0 1 3 0-1 3 1 2 6-1 1 1-1 1 1 2-2 1 2 1 1-2 1 6 2 2 2 0 0 3 2-2 3 1 2 4-1 2zM28 251l-4-1 3-1-2-2 2-1 1 0zM292 250l1-2-3-2 0 3zM16 249l-2-2 3 0zM252 249l0-2-3 0 1 2zM18 252l-3 0 1-3zM24 264l-7-1 2-3 3 0 0-8 1-2 2 1 0 2 3-1 1 4-2 0-1-1 0 2 5 1-2 1 0 2 3 0 1-1 2 2 0 1-6 0-5-3-2 2 1 1 1-1zM21 254l-2 0 0-2 2 0zM261 260l1-2-1-3 3-1-3 0-2-2-1 2 2-1 0 2-3 0 0 4 1 1zM20 258l-5 0 1-1 0-4 1 2 2-1 2 2zM296 255l-3-2 1 2zM17 269l-4 0-1-2-5 1 0 1-5 0-1-2-2 0 0-7 4 0-2-2-2 0 0-4 2 0 0 2 4 3 9 2-1 2-4 0 0-2-3 0-1 1 1 1-1 1 0 3 3-1-2-2 3-1 2 1 0 2 4 0-1 2 3-3zM36 262l-1-2-3-1 0-4 1-1 3 0 0 3 1-2 4 1-3 3-1-1-2 0 2 1zM255 260l0-5-3 0-1 2 1 3zM271 272l2-1 1-2 0-4-2-4-2-1 1-2-3 1-1-2-2 0-2 2 0 3-1-1-2 0 0 2 2-1-1 2 1 3-3-2 0 3-2 1 2 0 4-2 3 4zM14 260l-2 0 0-2 3 0zM252 264l0-2 2 0 0-1-4 1zM15 265l-2-1 1-2 2 0zM20 267l-2-2 3-1 0 2zM4 267l0-2-2 1zM315 270l-2-2 0 2zM350 350l-17 0 0-10 2 1 4-4 8-3-8 0 1-4-2-2 2-1-2-1 1-2-3 1 0-2 2 0-2-1 2-1-2-1 2-3-3 0-1-1 4-1 0-2-5-2 0-1 5 0 1-1-1-5-2 0 2-1 0-6-5-4 0-3-3 1-3-5-4 1-1-1 0-2 2 1 1-2-5 1 0-3 1-1 2 0 0 2 3 0 0-2 3 2 0-2-4-2-4 1-2-1 1-2-1-6 3 2 0 3 5 1 1 2 2 0 1 3 2 2 2 0 1 3 9 9 5 2zM263 273l1-2-2 1zM306 323l2-2 0-6-1-2 3-2-2-1 0 2-2 0-1-3 2 0 1-2-4 1 1-2-2 1 0-2 2 0-1-4-1 0 1 3-1 1-3-1 1-2-3 1-3-3-3 0 0 2-3 0 1-3-2-4 2-1-2-1 4 0 0-5 4-3 0-3-3-3-4 4 0 3-3 2 1 2 4 2-4 0 0 3-4 1 1 2-2 2-2 0 0-2-3 0-2 4 2 3 9 1-1 4 1-1 2 0 0 3-4 0 0 3-2 0 0 2 2 1-1 2 2-1-1-1 0-2 4 0 1 1-1-3 2 0 0 3 6 5 3 0 0 1zM333 286l-1-2-2 1zM305 288l-2-1 2 0zM307 299l-3-2 0-3 2 1zM283 304l-3-1 3-1zM290 307l-3-1 2 0 0-3 2 0zM331 307l-2 0 0-3 2 1zM277 310l0-2 2 0 0-2-3 0 1 2-3-1zM333 310l-3-1 3 0zM335 319l-2-2 2 0zM291 321l0-2-2 0zM336 327l-2 0-1-2 2 0zM299 345l-3-1 1-3 2 0 0 2 3 0zM321 348l-2-2 0 2z"/><path fill="#6f9" d="M58 185l-5 0 0-2-2 0-4-9-5 0 0 3-2-1 0 1-3 0-1 2-1-2 6-5 4-1 5-4-1-17 3-4 0-7 2-4 2 0-1-1 1-4 5-5 2-4 0-3-2-3 0-5-1 0 1-17 1 0 0-4 1 0 1-6 3-5-2-11-1 0 0-13-1 0 1-2 0-8 1 0 0-4 1 0 0-11-1 0 0-5-1 0 0-7-1 0 0-18 26 0 0 3-5 8-1 6 3 2 3 0 5 5-1 2 0 3 1 0 0 9-4 4-2 0 0 2-5 5-4 2-3 0-1 2-2 0 0 6-1 0-1 6 5 3-1 2 2-1 0 3 2 0-2 2 0 3 1-3 3-2-1-2-1 2-1-3 11-4 2 2 0 2-2 0 0 4-1 0 2 3 0 7-1 2-4 1 0 2-4 3-13 0 0 2-3 3 0 2 2 0-1 2 2-1 0 5-1 2-3 1 0 6 1-1 2 1 1-3 2 0 1 2-1 2-3 0 0 1-2-1 0 1 2 1 0 2 3-1 1 1 0 4 4-2 0-3 2 0 0-2 2 0-1 2 1 1 3 0 3 6-1 2 1 2-2 1-1-2 1-3-4-1 0 5-1 0 1 2-1 3-3-3 2-1 1-4-1-1-1 1-2-1-1 3 2 2-4-1-1 3 2 2 2 0 1 3-5 0-4-2-1-2-4-1-1 2-2 0 1 5-1 1-3 0-1 2 1 3 2-1 2 3-4 0 1 2 2 0-1 2-5 0-2 2 2 1-1 1 1 1-1 1 0 4 4-1-1 1 0 4 2 0 2-2 0 2-1 1 2 0 1-2-1 5 3-3 3 0 0-1 2 0 0 3 5 0 0 1-2 0 0 2 3 5-1 2 1 2-3 1 0 3-4 0 0-1 3-1 0-3 2 1-1-1 1-1-1-3-2-2-2 2-2 0 0-2-3 0 0 1-2-1-1 1 1 1-1 2 3 3 4-1 1 4-1 1-4-1 0-1 3-1-4 0-2-3-3-1-1 1-1 6 2-1 0 2 3-1zM276 301l-3-1 2-1-1-2 2-1 0-2-2-1 3 0 1-5 4-3-3-2-2 1 0-2-3 1 1-3-3-1-2-3-4 0-1-2-2 1-2-1 0-2-4 0-1-2 2 0 1 1 1-1-1-2 4-1 0 2 4 3 3 0 0 1 4-1 1-2-1-2 0-4 1-1-2 1-1-3 2 0 1 1 1-2 1 8 4 3 3 0 1 3 2-2 1 2-1 2 2 0 1-1-1-3 2-1-1-3 4 0-2-1 0-2 2-1-1-6 2 1 0-2-2 0-1-3-4-3 5-1 1 2 1-2-2-1 0-2-2-1-1 0 1 4-4 0 0-1-4 1 1-2 2 0-3-2 1-2-1 1-3-1-1 1 0 2 3 0-1 2-4-2-3 1-2-3 0 4-1 1 3 0 1 1-1 1 1 2-2-1-4 1 1-4-5 2 3 1-1 3 1 1 6-1 1 1-1 1 1 2-5 0 0-1 3-1-6 0 0-1-3 0 0 2-2 0 0-2 1-1-1-1 2-1-3 0 1-2-3 0-2 2 0 3-2-1 0-2-3 0-2 6 2-1 0 1 3 0 0-2 2 0 1 1 0 4 3 0 1 4-3-3-5 2 0-1-4 0-1-1 2-1 1 1 0-2 2 1 0-2-5 1-1-2 1-1-1-4 3-3 0-2-2 0 0-2 4 1-1-2 2 0 0-3 1 1 3-1-1-2-2 0-1-2-4 1 1-4-3 1 0-2-2-2-5-2-2-3-3 0-1-1-1-6 2 0 1-2-5 2-3-2 0-3 1 0-2-2 1-5 3-3 0-2 3 0 1-2 2 0-1-1 1-2-4-2 1-4-1-1-2 1 1 3-1 1-2-1 1-2-1-5-3-1-6-6-1-2 0-4 1-1-3 0-2-3 0-9 2-4 2-1 0-3 3-3-2-1-2-7-6-6-2-4 0-3-2-2 0-3-1 0 0-12 1 0 0-3 3-6-3-3-3-6 0-3-3-4 0-3-2-3 0-4-1 0 0-4-1 0-1-15-1 0-2-9-2-2 0-3-2-2 0-3-2-2 0-3-3-4 0-3-7-14-2-1 0-2-2-1-2-5-3-2 0-2-3-2 0-2 119 0 0 2-3 3-6 12 0 3-2 2-2 11-1 0-1 7-1 0 0 4-1 0 0 3-2 3 0 4-1 0 0 5-1 0 0 17-1 0 0 5-1 0-2 18-1 0 0 6 1 0 1 10 1 0 0 10-1 0 0 9-1 0 0 6-1 0 0 7 1 0 1 5 3 3 0 3 2 3 0 5-1 0 1 10-1 0 0 6-1 0 0 7 9 9 0 3 2 1 1 27 2 2 8 3 2 2 0 2 3 1 0 7 4 4 0 4-3 1 3 1 0-2 1 0 0 5 1 0 1 7 1 1 7 0 0 1 1-1 3 0-2 3-5-1-1 4-2 0 0 2 4 1-2 1-1-1-2 0-1 7 1 0 0-4 4 2 1-1 3 1 4-2 0 2-3 0-2 3 1 1 4 0 0 1 3-1 0 2-7 0-2-1-3 2-4 0-1-4 0 6 4-1 1 2-1 2 2 1-3 1-1 2-1-2-4-1 0-2-3 0 0-3 4-3 0-3-3-3-4 4 0 3-3 2 1 2 4 2-4 0 0 3-4 1 1 2-2 1-2 0 0-2-3 0-1 1zM78 18l0-3-4 0 1 3zM89 27l0-3-3 0 0 3zM76 28l1-2-2-1-1 2zM82 29l2-4-2 0 0 2-2 0zM80 31l-1-2 0 2zM85 38l4-1 0-3-2 0 0 2-4-1 0 3zM84 42l1-3-3 0-1 1 1 2zM223 43l1-3-3 0 0 3zM86 43l-1-2 0 2zM239 44l0-3-4 0 1 3zM72 52l0-2-2 0 0 2zM86 72l1-1 0-4-5 1 2 1 0 3zM75 72l-1-3-2 0 0 3zM83 82l0-3-2 0 1-2-1 1-1-1-2 0 2 1-1 3 1 1zM87 81l1-3-4 0 0 3zM83 86l-1-2 2 0 0-1-2 1-4-1-1 1 1 2 3 0 0-1zM226 89l1-4-2-2-3 0-1 1 0 4 1 1zM240 93l3-4 0-4-2-2-4 0-2 2 0 5 2 1 0 2zM237 96l-1-2 0 2zM234 98l-1-2 0 2zM216 110l0-2-2 0zM84 115l-1-3-4-1 7-1 0 4zM77 114l-2 0 1-2zM72 117l-2-2 2 0zM252 119l1-3-1-1-3 0 0 3 1 1zM84 117l-2-1 2 0zM228 120l-2-1-1-3 0 3 1 1zM218 123l0-3-2 0 0 3zM248 123l0-2-2 0zM223 125l0-3-2 0 0 3zM243 142l3-1 0-2 2-1 1-2 0-6-3-4-5-1-2-2 1 3-3 4 0 7 1 2 2 0 1 3zM233 127l-1-2 0 2zM81 128l-2-1 2 0zM228 137l2-1 1-2 0-4-2-3-4 0-2 3 0 4 3 3zM83 130l-3-1 3-1zM78 134l-3 0 0-2 3 0zM239 143l0-2-2 0 0 2zM246 144l0-2-2 0 0 2zM225 150l0-2-2 0 0 2zM240 151l0-2-3 1zM246 160l0-4-3-2-2 4 2 2zM258 163l1-1 0-4-7-3 0 1 2 1-2 0-1 3 2-1 1 3zM59 158l-3-2 3 0zM224 159l0-2-2 0zM74 166l-2-6 2-2 2 0-1 3 2 1-3 0zM255 166l1-2-1 1-1-1-2 0 0 2zM224 169l1-1 0-2-3 0-1 1 1 2zM230 171l2-4-5 0 0 4zM251 191l1-4 1 1 2 0 0-3 3-4 0-5-1 0-1-5-2 0-1-2-4-2-5 0 1 5-2 2 0 7 1 0 0 3 3 0-2 1 0 3 1 0 2-3 0 4-1 1 2-1 0 2zM255 169l-1-2 0 2zM61 170l1-2-4 0zM240 172l0-4-2 1-1-1 1 4zM261 173l3-2-3-1 0 2-2 0zM237 184l2-3 0-6-1 0 1-2-2 1-2-3-2 0-4 4 0 4 2 4 2 1zM29 186l-1-2 3-3 2 0 1-2 1 1 2-1 1 4-3-1 1 2-2 0-2-2-1 3zM60 186l-2 0 1-3 4 1-1-2 2 0 0 3-4-1zM30 197l-4-1-1-3-1 1-3-1 7-5 1 1-1 6 5-1zM34 194l-4-1 0-4 4 3zM20 202l-5 0 0-2 2-1 0-3 2-2 2 0 1 2-3 0-1 2 0 1 1-1 2 0-2 2zM267 236l-2-1 0-3 2 0 0-3 2 1 1-2-5-2 6 0 1-2-1-7-3-6-3 1 1-2-3 1-4-3-2 1-2-2 0-9-2-1-4 3 0 2-2 0 0 6 5 0-1-5 3 0 0 4 2 2-1 1 1 4-3-1 2 4 0 2-2 1 2 1 0-2 1 0 0 7 1 2 2 0 0 3 2-1-1-4 2 0 0 4 1 1-2 1 3 0 0 3 1 1zM267 209l1-2-1-2 5-1 1 2 2-2-5-2-3-5-6 0 2 2-4-1 1 3-1 1 1 1 7 1-1 3-4-1 0 2zM232 204l-2 0 1-2 5-1 0 2-4 0zM262 202l-2-1 2 0zM14 247l-3-2 1-2-2 0-2-5-5 0-2 2-2 0 0-20 5 1 4-2 1-6 1 0 0-4 2 0-1-3 2-4 2 0 0 4-2 1 0 4 5-1-2 3-2-1 1 1 0 5 3 1 3-3 2 1-3 2 0 2 2 0-1 2 2 2 0 4-4-1-1 9-3-1 0 2-2 1 0 4 1 0-1 2 2 0zM27 210l-2-2 2 0zM250 230l2-1 2-4-3-6 2-1-2-1 1-4-1-1-2 1 1 3-3 0 0-1-3 1-1-3 2-1-2 0 1-2-2-2-3 5-2 0-1-2-3 0 0 5 4 1-1-3 2 0 0 3 6-1-1 3-3 0 2 1-1 1 1 4 2 3 4 2zM272 214l2-1 0-3-2 0 0-2-2 0 0 2 2 0 0 3-2 1zM20 210l-2-1 2 0zM25 213l-2-2 0-2 4 2zM251 211l0-2-2 1zM34 220l-2-1 3-1zM42 222l-1-3 2 1 1-1 0 2zM52 226l-3 0 0-3-1 0 2-3 2 0-2 2zM46 222l-2-1 2 0zM38 225l-1-2 3-1zM42 256l-4-1 1-2-2 0 3-2-2-4-1-6-2-2-4 0-3 6-1-1 2-2-1-3-2 0 0-2-2 0-2-4 2-3 2 0-1-5 2 0 0-2 1 2 3-1 0 2 2 0 1-2 3 1-2 2 0 4 4 0-1 1 0 4 4 6-1 1 1 4 2 1-1 3-3 1 2 1zM240 225l0-2-2 0zM239 228l-2-3 0 3zM242 230l1-2-2 1zM42 233l-3-1 2-1 3 0zM290 245l1-4-1-1-3 1-1-2 2-1-3 0 0-2-6-1 0 4-2 0 1-3-2 0 1 2-2 0 0 3 2-1 0 3 8 0 1 2zM250 242l-4 0 1-4 1 3 2 0zM271 245l1-4-2-2-2 0-3 5 1 1zM288 243l-2 0 0-2zM28 251l-4-1 3-1-2-2 2-1 1 0zM252 247l-2-1 2 0zM18 252l-3 0 1-3zM35 263l-7-1-3-2-3 3-4-1 1-2 3 0 0-8 1-2 2 1 0 2 3-1 1 4-2 0-1-1 0 2 5 1-2 1 0 2 3 0 1-1zM35 255l-2-1 2 0zM3 259l-2 0 0-2-2 0 0-2 3 1zM20 258l-5 0 0-1 2 0 0-2 3 0 1 1zM36 262l-1-2-2 0 1-2-2 0 0-3 2 2 1-2 1 2 1-2 1 0 1 3-1 1-1-1-2 0 2 1zM14 260l-2 0 0-2 3 0zM5 266l-1-1-1 1-4 0 0-6 9-1 0 1 6 1-1 2-2 0-2-2-3 0-1 1 1 2zM16 263l-2-1 2 0zM6 269l-1-2 3-1 0-3 3 1-1 3zM24 264l-2-1 2 0zM292 265l-2-1 2 0zM257 269l-2-1 0-2 3-1 1 3zM312 270l-3 0 2-3zM317 273l-4-2 2-1-2-3 2 0 1 2 3 0-3 1 1 1zM263 273l1-2-2 1zM350 350l-17 0 0-10 2 1 4-4 8-3-6 0-1-1 1-4-2 0 1-2-3-5 1-2-2 0 2-1 0-2-3 0-1-1 2-1 1 1 2-1-3-4 1-1 3 0 0-4-1 0 1-1 0-6-3-3 0-2-3-1 0-4-3 2-1-2 3-1 0-4-3 1 1 2-1 1-2 0-1-2-1 1-2 0 0-3 3-3 1 3 2-2-3-4-1 1-1-1-3 0 0 1-3-1 0-2 1 0-1-4 3 1 0 3 4 0 4 2 1 4 5 3-2 1 1 4 2-1-2-2 2 0 1 3 2 0 6 8 4 1zM315 278l-1-2 2 0 1-2 0 3zM322 284l-2 0 0-3 3-1-1 2 3 1-3 0zM317 285l-3-4 4 0 0 3zM298 302l-3-2-3 0-2 2 0-3-1 0 1-2-2-2 2 0 1-2 4 0 0 4 1 0-1 2 3 1zM339 295l1-2-2 1zM306 298l-2-1 0-3 2 1zM306 304l-2-1 0-2-1 2 1 1-3 0-1-4 1-2 1 1 2-1 0 2 2-1 1 4zM277 308l-2-1-2 1 0-3-1 0 3-1 0-2 2 3 2 0-3 1zM306 308l-2-3 3-1 1 3zM281 307l-2 0 1-2zM284 315l-3-1 1-1 0-3-2 0 0 2-4-1 1-3 2 1 0-1 4 0 0-2 3 0-1 4 3-1-1 2 1 1-4 0zM308 312l-2-1 0-2 3-2 1 1 0 3-2-1zM329 350l-3 0-3-3-2 3-1 0 1-3-1-1-2 3 0-4-2 1 0-2-4 1 1-1 0-3-3 0-2 2-1-3 2-1 0-3-5-2 0-3-2-2-8-2-1-1 0-3-3 0 0-1-1 1 2 2-2 0-3-3 0-2-4 1-1-3 2-1 1 3 1-1-1-2 1-1 4 1-1-3 2 0 0 4 3 1-1 2 2-1 1 1-1 4 2-1 0-2 4 2 3 0 0 1 3 0 3-2 0-7-2-3 4-2 1 5 2 2 3 0 1-2 0 4 1 1 3 0 0-2 3 0-1 3 3 0 1-2 0 4 3-2 0 2-1 1 2 0 2 3 2 0 1 2 0 3-2 4-5 5zM291 321l0-2-2 0 0 2zM336 327l-2 0-1-2 2 0zM303 336l-1-2 2 0zM299 345l-3-1 0-2 1 1 2-1z"/><path fill="#9f6" d="M66 90l-3-2 2 0-1-2 2 0-1-2 4-6-1-5-3-5 0-22 1 0 2-9 1 0 0-7-3-6 0-10-1 0 0-11 1 0 0-4 22 0 0 2-2 2-11 5 0 6-2 3 0 4 3 0-2 3 2-1 1 2 2-1 0 3-2 0-2-2-1 1 0 2 2-1 3 1 1-1 2 2 0-2 2-2 2 0 0 3 2 0 1-1 0-4-2 0 0-2 4-1 2 2 0 2-2 1 0 5 2 3 0 4-2 1 0 2-3 0 0 3-4 3-12 0-1 1 0 2-2 1 0 4 3 1 0 5-5 4 2 0 0 4 4 0 0-3 2 1 0 3-3 0 0 3 4 1-1-2 2-1 1 2-1 1 0 3 1-3 5-3 0 2 3 0 3 3 0 2-1 1-1-1-3 0 0 1-2-1-1 1-1-1-2 0 2 5 4 1-3 1-3-2-1 1 0 3 3 1 1-2 2 1-1-2 3 0 0 3-1 1-2 1-7 0-2-2-5-1 0 2-2 0zM249 216l-5-2 1-2-2 0 1-1-1-1 1-2-1 1-2-1 0 2-3 3-2-3-2 0-2 2 0 2-3-1 1-3 3-2 0-3 5-2 0-3 1-1 1 1 2-1-5-1 0-2-3 1 2-2-1-2-3 1 0 3-2 0 1-4 2-2-3-3-2 0-3-3 0-2-2 0-2-2 0-6-2 0-2-2 0-3 1 0-1-1 0-4 1-2 4-3 0-2 1 1 2 0-1-3 3 1-1-4-5-2 0-2 2-1 0 2 2 1 1-3-3 0-2-5-5-4 0-2-3-3 0-5-3-2 0-8 1 0 0-3 4-3 0-3 3-2 0-2-2-1 0-4-2-1-3-7-2-1 0-3-1 0 0-3-3-6 1-12 2-4 2-1 0-2-5-8 0-3-2-2 0-3-3-6-1-9-1 0-1-15-1 0 0-3-1 0 0-3-3-5-1-5 77 0 0 4-1 0-1 6-1 0 0 5-1 0-1 20-1 0 0 5-1 0-2 15-1 0 0 8 1 0 0 6 1 0 0 12-1 0 0 7-1 0-1 9-1 0 0 9 3 4 1 6 1 0-1 18-1 0 0 4-1 0-1 10 5 5 4 8 0 5-1 0 1 10-1 0 0 5-1 0 0 6-1 2 1 2 2 2 2 0 4 5-2 3-3-4-4 0 0 1-2-1 0 2-2 0 1 2-1 2 7 3 0 2-2-2-3 1 3 4-5-2 0-2-1 2-2 0-1-1 0-9-1-1-3 1-2 2 0 2-2 0 0 6 5 0-1-5 3 0 0 4 2 2-1 1 1 4-3-1-1 2-1-3-1 1-2-1zM87 24l-3-1 3 0zM84 25l-3-1 3 0zM82 27l-2 0 0-2zM80 31l-1-2 0 2zM86 38l5-2 1-2-2 0-1 1-2-2 0 3-2 0 0-2-2 1-2-2 1 1-1 2 2 2zM223 45l2-2 0-3-3-2-3 2 0 3 2 2zM237 49l4-3 0-6-3-2-3 1-2 3 1 5zM86 43l-1-4-5 0 1 3 4-1 0 2zM214 61l0-2-2 1zM90 68l-3 0-1-2 3-1 2 1zM80 71l-1-3 2 0zM89 71l-2-1 2 0zM249 75l1-3-1-1-3 0 0 3 1 1zM216 77l0-2-3 0 0 2zM220 79l3-3-5 1 0 2zM89 83l-2 0-1-2 4-4 0 4zM230 82l-1-3 0 3zM239 99l-1-2 1-1 3 0 3-4 0-7-4-4-4-1-3 4-1 7 1 0 0 3 3 2 0 2zM226 91l2-3 0-3-2-3-4 0-2 2 0 5 2 2zM63 113l-2 0 0-10 1 0-1-8 1 0 1-5 2 1 2-1 0 3-2-1 0 3-2 0 0 3 1 0-1 2 3-2 2 1 0 3-2 1-1-3 1 5-3 0-1 1 0 2 2 0-1 1 1 2zM235 98l0-2-2 0 0 2zM242 100l0-2-2 0 0 2zM220 105l1-1 0-2-3 1zM224 108l-1-2-2 0zM239 109l-2-3-2 0 0 2zM84 115l-1-3 1-1-1-1 3 0 0 2-1 1 1 1zM227 114l-1-4 0 4zM67 114l-1-2 2 0zM72 135l-3-1 1-2-2 1-4-5-3 0-1 1 0 3-4 0 4-6 3 1-1-3 2-2 0-4-2-4 1-1 3 1-1 3 1-1 1 1 4 0 0 4 3-1-1 6 2 2-5-1-1 1 1 3 3 1zM77 114l-2-1 2 0zM252 120l2-4-2-3-7 1 1 3zM84 124l-3-2-2 0-1 2-4-1 1-7 3-1 0 2 4 0-1 2 3 3zM84 117l-2-1 2 0zM228 120l-2-1-1-3 0 3 1 1zM218 123l2-2-3-2-2 3 1 1zM256 122l1-2-3-1 0 1 2 0-1 2zM248 123l0-3-2 0 0 3zM224 125l0-2 2-2-2 1 0-1-3 0-1 4zM233 127l1-1-1-1 1-2-3 1 0 2zM241 147l-1-2 3-1 0-3 5 0 2-2 0-4 1 0-1-7-4-3-2 0-1-2-4 0-1 5-2 3-5-1-1-1 1-2-2-1-5 1 0 2-2 1 1 6 2 2 5 0 1-1 0-3 5-2 0 7 1 1 3 0 0 5-2 1zM84 128l-2-2 0-2 3 2zM218 127l0-2-2-1-3 1 3 2zM79 127l-2 0 1-2zM236 127l-1-2 0 2zM223 128l0-2-2 0 0 2zM81 128l-2-1 2 0zM79 132l-4-4 3 0 1 1zM83 130l-3-1 3-1zM256 130l-1-2 0 2zM78 134l-3 0 0-2 3 0zM55 148l-4 0 0-2 2-1-1-1 0-4 1 0 0-3 3-3 2 0 0 4-4 0 0 3-1 0 2 2 2-1 1 1 0 2-3 0zM75 135l-2-1 2 0zM239 143l0-2-3 1zM247 145l1-2-4-1 1 3zM240 152l1-3 3 0 0-4-3 4-6 2 0 1zM51 151l-1-3 2 1zM52 153l-3 0 0-2 3 1zM55 184l-2 0-2-2 1-3-2 1-1-7-1-1-3 0 6-5 0-4-2-3 0-6 3 0-2 1 0 2 1 0 0 4 2-1 1 4 2 0 0-2 2-1-1 2 2 2-1 4 3 1-3 2 0 3 2 2-2 0-1-2-3 0-1 1 0 6 2-1zM246 160l0-4-3-2-2 4 2 2zM259 163l0-3 2-1-2 0 0-2-2-2-6-1 0 2 3 1-6 0 5 5 2 1zM223 157l-3-1 2-1zM75 161l-3-1 3 0zM77 162l-2-1 2 0zM263 165l0-3-1 1-2-1 1 3zM70 172l-1-1-5 1-1-2-2 0 1-4-1-1 2-1 2 1 0-2 2 0-1 3 6 0 0 1-3 0 0 2 2 1zM255 169l-1-3 2-2-2 1-2-2-1 3 2 0 1 3zM227 173l5-4-1-5-2 2-2 0 0 2-2 0 0-3-3 0-1 1 1 4-3 1 1 2 3-3 1 1 2-1 0 3zM249 194l4-1 1-2-1-3 2 1 0-4 2 1 1-1 1-9-2-2 0-3 2-1-6 0-5-5-1 1-2-1-1 2 0 7-1 0 0 11 2 0-1 1 0 2 3-1 1 1-2 2 3 0 0 3-1 0zM238 185l1-1 0-9-1 0 1-2-1-1 2 0 0-4-1-1-2 0 0 4-6 0-1 1 0 3-2 1 1 1 0 4 2 1 0 2 2 1zM262 173l2-2-2-2-2 0 1 3-2 1zM243 173l0-3-2 0 0 3zM45 174l-3 0 0-2 3 0zM42 177l-1-1-2 1-1-1 2-1 0-2 2 2zM241 177l-1-2 0 2zM36 179l-1-2 2-1 0 2zM65 182l-2-1 1-2-2 0 2-2 2 2zM225 180l2-1 0-2-2 0 0 2-2 0zM38 183l-2-1-1 1-1-1-2 1-2-1 5-3 1 2 2 0zM70 182l-4-1 4-1zM64 185l-3 0 0-2 2 1-1-2 2 0zM30 185l-2 0 1-2zM58 185l-3-1 3-1zM28 195l-2 0 0-2-2-1 3-2 0-2 2 1 0 4zM32 193l-2 0 0-4 3 2zM24 193l-2-1 2 0zM22 196l-2 0 0-2zM31 196l-3-1 3 0zM20 202l-5-1 2-4 1 2 1-1 2 0-1 2-2 0 2 1zM237 199l-2-1 2 0zM276 205l-3-1-1-2-2 0 0-2 4-2 0 3-1 1 3 0zM236 203l-2 0 1-2zM262 202l-2-1 2 0zM270 214l-2-3-3-1 0-2 2 1 1-2-1-2 4-1 1 3-2 1 0 2 2 0 0 3-2-1zM13 207l-1-2 2 0zM277 220l-2-2 0-4 1-1-2 0 1-2-2-1 0-4 1-1 1 4 2 2 0 4-1 0zM13 244l-3-2 1-3-2 0-1-3-5 0-2 3-2 0 0-14 2 0-2-1 0-3 3 0 0 1 7-1 1-2 0-9 2-2 1 2-1 0 0 3 3 0 0 6 3 0 2-2 1 2-2 2 3 0-1 2 2 2 0 4-4-1 0 6-1 1-3 0 0 3-2-1-1 2zM20 210l-2-1 2 0zM251 211l0-2-2 1zM16 213l-2-2 3 0zM274 219l-2 0 1-2-3-1 2-3 2 3zM235 221l-4 0-2-2 0-2 3 0-1 2 3-1-2-2-3 0 1-2 6 3 1-1-1-1 2-1 0 5zM254 221l-2 0-1-2 2-1-2-2 2-1 2 3-2 1zM243 219l-4 0 0-2 3 0zM252 262l-3 0-1-2 1-2-1-1 5-8-1-2 2 0 0-3 5 1 0-2-4-1-1-2-3 0 1-3-3 0-1-3-4-2-3 0-1-3-3 0 2-1-1-2 2-1 0-3-2 0-1 5-2 0 0-4-1-1 2 0 1-2 2 1 2-1 0 3 1 0-1 4 2-1 2 3 6 2 2-1 0-5 1 0-1-2 3-1 0 6 3 3 2-1 0 3 3 1 0 3-2 1 1 2 2-2 0-2 2 0-2-1 0-3 3 0-1-2 3 0-1-4 3 1 0-7 4 0 0 9 2 2 3 0 1 2 3-1 1 2 2 0 2 3-1 4-3-1 2-1-1-1 1-2-3 2 0-2-2 0-1-2-4 0 0 2-2 0 1 2-2 0 0 4 1 0 1-2 0 3 8 0 0 1-2 1-4-1-1 1 1 2 3 0 0 1-4 0 0-1-3 1-2-1-1-2 0-4 2 0 0-2-2 0-1 2-1-2-2 0-3 5 4 2 1 4-5 2 3 1-1 3 2 2-2 0-1-2-2 0-1 2 0-3 1-1-2 0 1-3-3-1 0 2-3 2 0 3-2-1 0-3-2 0-2 2 0 4-1 1 2-1 1 1zM38 225l-1-2 3-1zM39 246l-1-4-1 0 1-2-1-1-6-1-2 4-1-1-1-5-5-3 2-3 2 0 0-5 1-1 1 1 3-1 0 3 4-3 1 3-2 1 0 3 3 0 1 1-2 2 4 6-1 2 2-1 0 3-2 0zM242 230l1-2-2 1zM44 232l-3-1 3 0zM264 233l-2-1 2 0zM248 242l-1 0 0-4 1 0zM296 251l-3-2-1-3-3 1 1 2-1 1-2 0 1-3-4 0-1-2 7 0 1-2-1-3 2-1 0 6 3 2zM29 245l-2-1 1-2zM43 251l-1-2-3 0 0-3 2-2 2 3zM18 252l-3 0 1-3zM40 255l-1-2-2-1 4-2 1 2-2 0zM274 254l-1-1-1 1-2 0 0-4 5 1zM296 253l-7 0-1-2 4 1-1-2 2 0 0 2 2-1zM29 262l-5-2 0-2-2-1 0-5 1-1 2 0 0 2 3-1 1 4-3-1 0 2 2 0zM276 300l-3-1 2 0 0-3 2-2-3-1 3 0 1-1-1-2 2 0-1-2 2 0 0-2 3 1 0-2-4-1-1-2-4 1 1-4-3 0 1-2-4-1-1-2-3 1 0-2-1 1-2-1 2-2 2 0 0 2 1-1 2 1 6 0 0-6-1 0 1-4-2 1-1-2 2-1 2 1 1 7 1 1 2 0 1 2 3-1-1 2 2 1 2-2 1 2-1 2 2 1 5 0 0-1-4-1-1-3 2-1 0-2 3-1-1-2 3-2-1-1 1-2-2 1 0-3 2-2-3 0-1-3 4 1 1-1 1 12 1 1 8-1-1 3-2-1-2 2 1 2-2 0-1 2-1 8 1 0 0-4 2 1 0 2 1-2 1 1 2-1 2 1-2 2 1 2 5 0 1 2-9-1-2 1-1-1-1 2 0-4-4 1-3-6-4 0-2 2 0 2 2 1 0 3-4 3 2 2 0 4-4 1-1 3-2-1 0-2-2 0-2 2zM36 261l-3-2 2-4 1 2 2-2 0 4-3-1 2 1zM5 266l-1-1-1 1-2-1 2-1 0-4 4-1 2 2-4 0 1 3zM261 266l-2-2-5 2 0-1-4 0-1-2 5 1 0-4 3 2 0-2-2-1 3 0 0 4 3 0zM11 262l-2 0 1-2zM22 263l-2 0-1-3 4 0zM33 263l-3-2 4 0zM259 268l-2 0 0-3 2 1zM262 273l-3-1 0-2 3 0 1-2 1 2zM309 269l-2-1 2 0zM317 273l-4-2 2-1 0-2 4 1-3 1 1 1zM329 279l-5-1 0-1-2 2-3-1 1-5 1 0 1 3 6 1zM350 350l-17 0 0-10 2 1 4-4 8-3-6 0-1-1 3-2-3 0 2-3-3-1 0-3-1 0 1-2-2 0 2-1-1-4-3 0 4-2 0-2-2-1 4-2 0-3-2-2 3-1 0-3-2-2 1-2-3-1 2-3-3 2-1-2-2 0-1-9-3 0 0-4 1 3 3 0 1 1-1 1 0 3 2 2-1 2 2-1 0-2-2-2 2 0 1 1 0 4 1 0 1-2 2 5 4 3 0 2 4 1zM317 285l-1-2 2-2 0 3zM322 284l-2 0 0-3 2 0zM330 288l-2-2-3 0-1-1 3-4 1 4 3 1zM325 283l-2-1 2 0zM304 294l-7 0-2-1 0-2-3 0 0-3 1-1 2 0 1 2 4 0 1-1 2 2-1 2zM291 302l-1 0 0-5-2-2 2 0 1-2 4 0 0 3-1 1 2 0-1 2 3 2-3 0-1-2-2 0zM306 298l-2-1 0-3 2 1zM306 304l-2-1 0-2-1 2 1 1-2 0-2-2 0-2 3 0 0-2 1 2 2-1 0 2-1 1 2 0zM277 308l-4-1 0-2 2 0 0-2zM306 308l-2-3 3-1 1 3zM284 315l-3-1 1-1 0-3-2 0 0 2-4-1 1-3 1 1 1-1 5 0 0-2 2 1zM308 312l-2-1 0-2 3-2 1 1 0 3-2-1zM329 350l-3 0-3-3-2 3-1 0 1-3-2-1-1 3 0-4-2 1 0-3-3 2 1-4-1-1-2 0-2 2 1-7-5 0 1-4-2-2-6-1 0-2-4 1-1-1 0-6 2 1-1 1 0 3 5-2 2 2 7 1 2-1 0-7-2-2 0-4 2 0 2 2 0 3 3 3 2 0 1-4 0 5 1 1 3 0 1-3 2 4 2-2 1 3 3-1-1 2 6 3 1 5-2 4-5 5zM288 322l-2 0 0-2-2 1 0-2 1 0 0-3 4 1-1-1 1-2 1 1 0 3 2 0 1 2-4-1zM283 320l-2-1 1-2zM292 323l-2 0 0-2zM290 324l-2 0 0-2zM336 327l-2 0 0-2z"/><path fill="#cf3" d="M68 68l-3-2 0-5 2-1-2-3 0-7 1 0 1-8 4-6 0-5-4-7 0-3 1 0-1-1 1-1-1-1 0-5-1 0 1-14 20 0-1 3-3 0 0 1-10 0-3 7 2 0 2 2 0 3-1 0 0 3-4 4 2-1 0 4 2-1 1 1 0 4 2-1 2 1 1-1 0 3 6-6 0 3 3 0 4 4 0 2-5-1-2 2-1-2-1 1-2-1 1 1-1 4 2 1-4 0 0 2 3 2 2-2 1 2 2-1 0 2-2 1-2-1-1 1-5 0-2-2-4 0-2 2-1 4 1 0 1-2 0 3-3 2 0 3 1 1 3-1 1 1 0 4-5 2-1 3 3 0zM249 202l-4-4-2 1-6-1 1-2-3 0 1-3-3-2 0-2-2 0-2-3-2 0 0-3-4 0 2-2-3 1 0-2 3 0 0-1 3 1-1-3-2-1 0 3-3-1-1-1 1-2-4-1-1-2 0-2 3-2-2-1-1 1 0-2 3-1-1-2 3-1 0-3 3 0-1-3 2 0 1 1-1-2 4 0 0 1 1-1-3-4-3 0 2-3-1-1-3 1 1-2-1-3-8-7 1-1-2-1 1-4-4-4 1-1-1-1 0-5 5-5-1-4 1-1 3 0 0 1-2 0 0 2 2 1 0-3 2 0 1 1-1-2 2 0 1-2-3-5-3 1 0-4-7-8-1-2 0-6-3-3 1-8 5-5 0-3 3-1 0-2-2-1 0-4-3-3-4-8 0-3-3-6 0-9 1 0 0-3 4-8-6-11-1-6 19 0 0 2 1-2 11 0 0 3 2 3 2 0 3-3 0-3 20 0-2 11-1 0 0 10 1 0 1 14-1 0-1 10-1 0 0 4-1 0 0 4-1 0 0 10 4 8 0 10-1 0-1 11-3 6 0 8 6 7 0 4 1 0 0 2-2 0 0 2 2-1 0 4-1 0 0 10-1 0 0 4-3 6 0 4 3 4 2 0 2 2 1 2-1 2 2-1 0 3 2 4-3 0 0-1-2 1-1-2 1-2-2-1 1-3-2 1-1-2-6 0 0 2 2 0 0 1-3 0 0-2-1 2-2 0 0-3-3-1-3 5 2 2 3 0 1-3 1 2 2 0 0 2 2-1 0 2 3 0-1 2-1-1-2 0 0 3 3 1 0 1-3 0-3-3-3 0-1-4 0 5 1 1-1 2-4 0 0-2-2-1-1 1 0 4-2 0-3-2 1-2-2-1 2-1 0-5-1 0 0 4-4 1-1 3-2 0 0-4-3-1-1 2 0 4 1 1-3 1 1 2 4-3 2 1 1 2 2-2 1 2-2 1 2 1-2 0 0 3 1 0 0 4-1 1 2-1 3 4 4 1 2-1 0-4 2-1-3-6 1-1-1-2 2 0 1-2 0 3 2 0-1 1 1 1-1 10 2 1 0 2 4 0-2 2 3 0-2 2 2 0-1 3 2 0 0-2 3 0 1-2-1-2 3 0 0-2 3-2 0-4 1 0-1-1 0-5-1 0 0-4 1-1-2-1-1 1-2 0 1-1-1-3 2-1-1-2 5 1 1-1 0 2 4-1-1 2 1 7-2-4-2 0 0-2-2 0 2 4-2 2 6 1-1 3-2-1 0 2 2 0-2 12 2 2 4 1-1 2 3-1 2 3-3 3 0-2-3-3-3 0 0 2-3-1-2 4 0-2-2-2-2 0-5 4zM217 15l-1-2 0 2zM213 20l-2-2 0 2zM92 25l-1-1-2 1-1-3 1-1 3 0zM91 27l-2-1 2 0zM248 31l0-3-1-1-3 0 1 4zM214 32l0-2-2 0 0 2zM219 35l1-4-3 1 0 3zM234 33l0-2-3 0 1 2zM210 35l-1-2 0 2zM88 39l-1-2 3-1 0 2zM239 53l4-5 0-8-3-3-5-1 0 2-3 3 0 9 2 0 1 3zM223 47l2-1 1-2 0-4-2-3-3 0-3 3 0 4 3 3zM87 41l-2 0-1-3 3 1zM232 54l1-2-2 0 0 2zM240 56l0-2-4 0 2 2zM235 60l2-2-1-2-1 1 1 1-2 1zM218 60l1-1 0-2-3 1zM233 62l0-2-5 0 0 2zM223 63l-3-2 1 2zM90 68l-3 0 0-3 3 1zM217 67l-2-2 0 2zM224 69l-1-4 0 4zM76 88l-3-1-2-3-3 0-1 1 0 3-2 0 1-1-1-3 5-5 0-4-3-3-1-4 3 1 0 3 2-2 1 3 2-1 2 1-1-2 2 0 0 5 2 2-1 2 2 2-4 0 0 3 3 2-3 0zM249 76l2-2 0-2-2-3-4 0-1 2-2 0-1-2-2 0 0 2 2-1 0 2 3 0 2 3zM88 78l-2-2-2 2-2-1-2 1 0-3-2 0 0-2 5-3 0 2 3 0 0 2 3 2zM89 71l-2-1 2 0zM216 81l1-1 0-2-2 0 1-4-3 0 0 3 2 1 0 3zM220 80l3-4-5 0 0 4zM229 78l0-2-2 0zM245 79l0-3-2 0 0 3zM254 78l-1-2 0 2zM239 102l-1-1 1-4 1-1 2 1-2 1 0 2 2 1 0-3 4-3 0-3 1 0-1-8 3-1-5 0-1-2-5-2 1-1-1-1 0 1-3 0 1 2-4 8 0 6 1 1 3 0 0 3-1 0 0-2-2 0-1 2 3 0 1 1 0 3 1-1zM90 79l-2-1 2 0zM230 82l-1-3-1 3zM226 93l2-3 0-5 2-2-2 0-1 1-1-3-4 0-3 3 0 6 3 3zM82 84l-2-2 4 0zM253 86l-3-3 1 3zM85 87l-3-3 3 0zM82 89l-5 0 0-1 2 0 1-2 3 0 1 2zM217 87l0-1-4 0 0 1zM231 91l-1-2 0 2zM63 97l-1-4 2 0-1-3 2 0 1 2-1 2-2 0zM66 104l-3 0-1-1 0-4 3 2zM235 105l-1-3-1 3zM219 105l-3 0 0-2 2 0zM63 113l-2 0 0-9 1 4 2 0-2 3zM221 107l-2-2 3 0zM239 109l-2-3-7 0 1 2zM227 114l-1-4 0 4zM249 124l1-3 3-1 1-6-3-3-3 1-2-2 0 2 2 1-5 1 2 0 0 3 5 2 0 2-5-1 0 2 2 2zM78 123l-4 0 1-1 0-6 2-1 1 3 2 0 3 3-3 1-1-1zM73 134l-3 0 0-2-2 1-3-7-3 0 0-2 3-2 0-4-2-2 2 1 1-1 1 1 4 0 0 4 3-1 0 2-2 1 1 4-2 0-1-1-1 1 0 3 2 2 2 0zM224 125l1-3 3-1 0-2-2 0 0-3-3 4-2 0 0 2-2-1 0-2-3 0-1 1 1 3 4-1 0 3zM257 122l-1-3-2 0 2 1-1 2zM240 152l2-1-1-2 3 0 0-5 3 1 1-1-1-2 3 0 1-7 1 0-1-4 2-2-3 1 0-3-4-1-4-5-1 1-2-1 0 3-1 0 0 3-2 1 0 3-2 0 0-2-1 1-2 0 0-2 3-1 0-4-2-1-1 5-2 0-1-2-3 0 0 2-2 1 0-2-2 0 0 2 2 0-1 1 0 7 4 4 4 0 1-3 2 0-1-4 3 0 0 7 5 0 0 2-1-1-3 0 0 2 3 0-1 3 2 0 0 3-5 3zM84 128l-2-2 0-2 2 1zM218 127l0-2-2-1-3 1 3 2zM79 127l-2 0 1-2zM236 127l-1-2 0 2zM62 128l-3-1 3-1zM75 128l-2-1 2 0zM81 128l-2-1 2 0zM256 130l0-3-2 0 0 2zM59 132l-2-1 1-3 2 2zM83 130l-2 0 0-2 2 0zM79 131l-2 0-1-2 3 0zM221 135l-1-4-4 1 2 1 1-1 0 3zM77 134l-2 0 0-2 3 0zM57 138l-3-1 2-3 2 2zM220 138l1-2-2 1zM54 143l-2 0 0-3 1-1 1 0-1 2zM55 147l-3-1 2-3 3 0 0 1-2 0zM223 151l-2-1 1-2zM228 153l-2-1 2 0zM237 160l2-1 0-2-4-4-1 1 0 6zM50 160l-1-3 2 0 0 2zM51 180l-1 0 0-10-3 2-2 0 1-2 6-2 0-3-2-2 0-3 1 2 2 0 1 2 3-1 0 2 2 0-1 4 3 1-3 2 1 5-3-3-3 0 0 4zM66 172l-5-2 1-1-1-4 2-1 2 1 0-2 1 3 3 3 0 2-3-1zM72 177l-2 0 1-1-1-3 1-1 2 2zM40 177l-2-2 3-1 1 2zM241 177l-1-2 0 2zM65 182l-2-1 1-2-2 0 2-2 2 3zM72 179l-3 0 0-2 3 1zM37 183l-1-1-2 1-1-3 5 1zM55 183l-3 0-1-2 2 0 1 1 1-1zM64 185l-3 0 0-2 2 1 1-1zM28 195l-2 0 0-3-2 0 3-1 0-3 2 2 0 3-2 0zM31 193l-1 0 0-4 3 2zM232 197l-2-2 1-2 2 0zM20 200l-3 0 0-3zM248 215l-4-1 1-2-2-1 2-2-1-1-1 1-2-1-1 3-4-2-4 1 1 2-1 2-2-4 3-1 1-2-1-2 3 0 0-2 2 0 1-3 0 1 3 0 1 2 4 0 0 6 2 0 0 2 2 0-1 2-2-1zM275 204l-5-2 0-2 4 0-1 2 2 0zM236 203l-2 0 1-2zM264 210l-5-2 0-2-1 2-3-1 0-4 2-2 2 0 2 3 4 0 1 1 0 2-2-2-3 0 0 2zM253 215l-2-2 1-1-1-1 1-2-1-2 0-4 3 0 0 4 2 2-1 4-2-1zM268 211l-2 0 2-4-1-2 4-1-1 5-2 0zM276 211l-3-1 0-4 1-1 1 2-1 1zM20 210l-2-1 2 0zM270 214l-2-3 4-1zM13 244l-3-2 1-2-1-2 1-1-2 0-1-3-3 0-4 4-2 0 0-4 3 0-3-1 0-3 2 0 1-2 0-3-3-1 0-2 5 0 0 1 6-1 0-11 2 0 0 5 2-1 1 5 3 0 1-2 2 0-2 2 0 2 3 1 0 3 1 0 0 3-4-1 0 6-1 1-3 0 0 3-1-2-2 1zM277 215l-3-3 3 0zM15 215l-2-2 2 0zM238 216l-2 0 1-2zM235 221l-4 0-2-2 0-2 3 0-1 2 1 1 2-1 0-2-2 0-1-2 7 2 0 2zM276 248l-3-1-1-2 0-4 2 0 0-2-2 0 0 2-2-2-2 0-2 2 0 2-3-2 2-5 2 0-2-1 0-3 3 0-1-2 3 1 0-3 4-1-1-2 2-1-2-1 2-1-1-2 2 0-1 10 1 1 4 0 0 2 6 0 0 1-9 0-1 1-1 7 10 2-2 1-4-1-1 1 1 2-3 0zM237 227l-2 0 0-4-1-1 4-1 0 3-2 0zM260 243l-3 0-3-3-2 0 0-3-2 0 0-2-2-2-3 0-1-3-2 1 0-2 3-1 1 2 6 2 1-2 2 0-2-4 1-1-1-2 2 0 1 6 2 0 0 2 3-1 0 3 3 1 0 3-2 1 0 3zM40 241l-2 0 0-2-3 0-1-2-3 0-1 2-2 0-1-3-5-3 2-3 2 0 0-5 1-1 1 2 2-1 1 2 4-3 0 3-2 1 0 2 3 1-1 3 4 4zM241 230l-4-2 2 0-1-2 2-2 2 0-1 3 1 2zM289 239l-1-3-3 2 0-3 1-1 2 0 2 3zM288 240l-2-1 2 0zM30 242l-2-2 2 0zM29 245l-2-1 1-2zM39 246l-1-3 3-1 0 2-2 0zM295 250l-3-4-3 1 1 2-1 1-2 0 1-3-4 0-1-2 7 0 1-2 0 2 2 0 2 2zM43 249l-1-1-1 1-2 0 0-3 2 0 0-2 2 3zM257 255l-2 0 0-2-4 2 0-3 3-3-1-2 3 1 0-2-2 0 0-2 1 1 4 0 1 2-1 1 1 4-2-1 0 3zM264 257l-1-2 1-1-2 0 0-2 2-1 0-6 2-1 3 2 1 4-5 1 2 1 0 4-3 0zM40 255l-1-2-2-1 4-2 1 2-2 0zM272 254l-2-1 0-3 5 1zM295 253l-6 0-1-2 4 1-1-2 2 0 0 2 2-1zM28 261l-1-2-3 1 0-2-2-1 0-5 1-1 3 2 0 4 2 1zM251 256l-2-1 2 0zM295 257l-2 0 0-2 2 0zM273 258l-2 0 0-2 2 0zM36 261l-2-1 0-3 3 0-2 1 1 1zM275 260l-2 0 0-2zM298 284l-2 0 0-2-3-3 1-3-4-1-1-2 2-2 0-2 3-1-1-2 2 0 1-2-1-1 1-3-2 0 0-1 3 0 0 5 2 4 2-1 6 0-6 3-1 2 1 2-2 3 0 5 1 1zM22 263l-2 0 0-2 3-1 0 2zM252 262l-3 0 0-2 4 0zM13 263l-1-2 2 0zM261 266l-2-2-5 2 0-1-4 0-1-2 5 1 0-3 2 0 1 2 4 0zM274 264l-2-3 3 1zM16 263l-2-1 2 0zM10 267l-2-1 0-3 3 1zM276 267l-2 0 0-3 1-1 1 0zM259 268l-2-1 0-2 2 1zM311 267l-3-1 3 0zM282 299l-2-3-3-1 1-2-1-3 2 0-1-2 5-1 0-2-2 0 0-2-3 0 0-1-4 1 0-1 3-2-3-1-1-3-3 0-1-2 2-1 0 1 4 0 1-1-1-5 1-1 2 4 2 1 3-1 0 2 5 1-1 1 1 3-2 1 0 2 3 2 0 3-4 3 2 2 0 4-2 1-2-1-1 1zM312 269l-2 0 1-2zM309 269l-2-1 2 0zM317 273l-3-3 1-1 4 0 0 1-3 0 1 1zM264 274l-2-1 2-2 2 0zM268 274l-3-1 3-1zM322 278l-3 0 1-3 4 1zM327 278l-3-1 3 0zM329 279l-2-1 2 0zM304 286l-2 0-2-2 3-3 0-2 4 2-1 2 1 1 2 0 0 1-5 0zM325 283l-2-1 2 0zM331 287l-3 0-1-2-2 0 0-2 2 0 1 2 2 0zM313 286l-4-1 4 0zM335 292l-2-3 0-3 2 2zM301 294l-6-1 0-2-3 0 0-3 1-1 2 0 1 2 4 0 1-1 1 1 0 4zM338 295l-1-2-2 0 2-2-1-3 2 0 0 5 1 1zM341 297l-3-1 3-1-1-1 0-2 3 3zM298 301l-3 0-1-2-3 1 0-2-3-3 2 0 1-2 4 0-1 5 2 2 2 0zM306 298l-2-2 0-2 2 1zM276 299l-1-2 3-1zM350 350l-17 0 0-10 2 1 4-4 8-2 0-1-6 0-1-1 3-2-3 0 2-3-3-1 0-3-1 0 1-2-2 0 2-1-1-1 1-3-2-1 3-1-3-3 1-1 4 0 0-3-2-2 3-1 0-3-2-4 2-2 2 4 3 3 2 0zM305 303l-1-2-4 1 0-2 3 0 0-2 1 2 2-1zM275 300l-2-1 2 0zM277 308l-4-1 0-2 2 0 0-2zM304 304l-2-1 2 0zM283 314l-2 0 1-1 0-3-2 0 0 2-4-2 3 0 0-2 6 0 0 4zM308 312l-2-2 2 0zM311 315l-1-1-2 1 0-3 3 1zM326 349l-4-3-2 1-1-2-3 1 0-2 2 0 0-1-4 0-1 2 1-5-3 0-1 1-1-1 2-2 0-3-4-1 1-2-1-2-7-2 0-4 3 2 8 0 1-3-2-3 0-3 1-1 4 5 4 0 0 2 2 0 1-3 2 0 0 3 1 1 1-2 2 0 0 3 1-1 1 2 2-1 2 3 2 0 1 2 0 3-2 4-4 3-1 5zM288 322l-2 0 0-2-2 0 3-1-2-1 0-1 5 0 1 1-2 1zM293 320l-2-1 2 0zM296 327l-3-1 0-4 1 3 4-2 0 3z"/><path fill="#ff0" d="M69 22l-2 0 1-1-1-1 1-1-1-1 1-2-1-2 0-5 1 0-1-1 0-5 2 0-1-1 0-3 4 0 0 2-2 1 1 1-1 2 2 1-3 2-1 4 1 1 4-1 1 3-2 1 0-2-1 0 1 4-3 0zM84 2l-7-1 0-2 7 0zM258 119l-4-1 2-1 2-3-2 0-2 2 0-3-3-3-2 1-3-1 0 2-2-1 1 2-2 0 0-2-2 0 0-2-5-3 0-2 2 0 1-2-1-2 1-2 1 3 4 0 0-2-2-1 4 0 1-6 1-2 2 0-3-1 1-1-1-4 2-1-6-1-4-4 0-2-1 2-2-1-1 1 0 4-1-2-3 1 0-2 1-1-5-2 2 3-2 3-2-2-2 0-2 3-3-1 0 3-5 1 4 1 1-1 1 1-1 2 2 4 3 2 4-1 1-5 1 0-1-1 1-4 1 0 0 2 2 0 0 5-2-2 1 6 1 0 0 4 2 0 1-1 1 3-3-1 2 2-2 3-3 0 0 4-2 4-1-4 1-1-4 1-2-4 0-3-4 0 2-1-1-4-8-8 1-7-2 0-2-2 1-7 2-3 3-1-1-4 2 0 0 2 2 1 0-3-2-1 6 0-1 2 2 2 0-4-1-1 2-1-3-1 1 2-2 0-1-1 2-2 0-2-1-1-3 1 0-4-5-6 0-2-2-1 0-7-3-3 0-5 3-6 2-2 5 1 1-1-5-1 3-4-1 0-2-8-2-1-3-6 0-3 11 0 1 3 5 0 1-3 6 0 0 6 3 4 5-1 2-2 2-4 0-3 13 0-4 16 1 0 0 4 2 2 0 3 1 0 1 10-2 3 0 8-2 2-1 6-1 0 0 8 5 7 0 3 1 0 0 8-1 0 0 9-3-1 2 1 0 2-1 0 0 4-3 5 0 6 8 8 0 5zM239 12l0-2-4 0 2 2zM218 15l0-2-4-1 2 1 0 2zM236 16l0-4-2 0 1 2-2 2zM92 25l-3-1 0-3 3 2zM229 25l-1-4-5 0-1 1 0 3zM70 26l-2 0 0-3 3-1zM79 44l-2 0-4-4-3 1-1-1 4-6-4-6 1-2 3 1 1-2 0 4 1 1 1-2 3 1 0 4 3 1-1 4-2 0zM248 33l0-2 2-1-1 0 0-3-2-2-6 1 0 2 2 0 1 4 2-1zM92 34l-3 0-1-2-1 1-5 0 1-4-1-2 3-1 0 2 3 0 0 2zM215 34l-1-2 2-1-3-2-1 1 0 3zM228 33l0-2-2-1 0 2zM220 35l0-4-2 0-2 2 0 2zM235 60l2-2-1-2 4 0 0-2-1-1 3 0 2-2 1-10-1-2-2 0-4-5-4 1 0-4-3 0 3 6-1 0 0 3-2 1-1 9 1 1 3 0 0 3-2 1 1 1-1 2 3 0-1 2zM244 35l-1-3-2 0 1 3zM210 35l-1-2 0 2zM228 39l3-1 0-2-2 1 0-2-3-1 1 5zM225 48l1-4 2 0 1-3-2 1-2-3 1-2-4-1-5 4 0 4 3 4zM248 38l0-2-2 0 0 2zM88 39l-1-2 2 0zM216 39l0-2-3 0 1 2zM87 41l-2 0 0-2 2 0zM68 46l-1-2 1 0 0-3 2 0 0 4zM85 45l-3-1 2-3 1 0zM251 42l0-1-4 0 0 1zM82 45l-3 0 1-3zM69 51l-3 0 0-5 2 1zM66 56l-1 0 0-5 2 1zM232 54l1-2-3 0 0 2zM72 58l-3-1 0-2 3 1zM70 61l-4 0 1-1-1-1 0-3 5 2 0 2-2-1zM217 60l-2 0-1-2 2 0zM233 62l0-2-5 0 0 2zM66 65l-1-3 2 0 0 2zM68 68l-2-2 3-1 0 2zM90 68l-3-1 1-2 2 1zM224 69l-1-4 0 4zM252 76l-1-1 0-5-3-3-3 1-1-2-1 1 1 2-2 1-1-1-2 0 0 2 2-1 0 2 2 0 2 3 2 1 3 0 0-1zM76 88l-5-6-2 0-1 3-2 0 0-2 3-3 2 0-1-1 1-4-3-2-1-4 2 1 0 2 2-2 0 2 2 2 1-2 2 1-1-2 2 0 0 5 2 2-1 1 1 3-2 0-1-1-1 1 1 2zM81 78l-1-3-2 0 0-2 5-3 0 3 2 0 1 3-5 1zM235 75l0-4-4-1 1 5zM217 84l-1-1 0-3 5 0 2-4 3-1-3 0 0-1-1 1-1-1-3 1-4-2-1 1 0 4-1 1 3-1 0 3-2 0 0 2 1 1zM212 77l-1-2 0 2zM217 78l-2-1 1-2 2 0 0 2zM88 78l-2-2 2 0zM247 79l0-2-5-1 1 3zM254 78l0-2-2 1zM82 84l-2-2 4 0zM233 85l-2 0 0-3 3 0zM253 86l-1-3-2 0 1 3zM85 87l-3-3 3 0zM82 89l-2 0 0-3 3 0zM63 95l-1-2 2 0-1-3 2 0 1 2-1 2zM252 93l1-2-2 0 0 2zM242 98l-2 0 0-2zM66 104l-4-2 3-1zM62 112l-1-2 1-1-1-1 3 0zM235 131l-1-2-3 0 1-2 2 0 0-4-1-2-2 1-1 4-4-1 0-3 2-1 0-2-2-3-3 4-4-2-3 0-1 3-3 0 1-4 2 0 2-2 0-2 3 0-1-3 2 1 1 0-1-2 5 1 0 4 7 1 1-3-2-1-1-3 6 0 1 3-2 2 3 3 2 0 0-3 2 0 2 1-1 3 4 1 2 2-2 1 0-1-3 0 0 2-3 0 0-1-2 1-2-2 0-2-3 1 1 2 3 1 0 2zM69 130l-3-2 0-3-4 1 0-2 2 0 2-2 0-3-3-3 4 2 3 0 1 3 1-1 2 0 0 2-2 1 1 2-1 1-3 0zM78 123l-3-1 0-6 3 0 0 2 2 1 0 2-2 0zM254 128l-4 0 2-1 0-2-2 0-1 2-1-2-3-1 1-1 3 1 1-3 4-2 2 4 1-1 2 0-1 5-3 0-1-1zM260 122l-2-1 1-2zM221 122l-2-2 2 0zM213 125l-2-1 1-2 4 0 0 2-3-1zM222 130l-3 0 0-2-2 0 1-3-2 0 3-1 0-2 2 3 0 3 2 0zM236 127l1-2-2 0 0 2zM62 128l-3-1 2-1zM216 128l-4-2 4 0zM224 128l-1-2 2 0zM257 135l-1-1-4 1 0-2 2-1-3-1 3-2 2 1 1 2 1-2-2-1 2 0 1-2 0 5zM59 132l-2-1 1-3 2 2zM83 130l-2 0 0-2 2 0zM218 132l-3-1 0-2 3 0 1 1zM71 132l-3-1 2-1zM219 173l-2-3 3-1 0-2-2-1 2 0 0-3 3-1 0-3 2 0-1-3 2 0 1 1 0-1 5 0 0-1-4-4-3 0 2-1 0-3-2 0 0-3-4-4-3-1 0-3-3-2 0-2 1 1 3-1 0 3 2 0 0-2-1 0 1-2 1 1 1 6 3 3 4 0 1-3 2 0-1-5 3 0-1 7 2 1 0 3 2 0-1 2 2 0 1 2-1 2-4 1 0 1 5 0 0-1 5 1-1-8 1 0 0 2 2 0 0-2 2 0 2-2 0-3 2 0-1-1 0-2 3-1 2 1-1 5-2 2 0 5 6 4 0 3-2 1 0-2-2-1-5 0 0 3-2-1 0 2-2 0 0-3-3-1-3 4 2 3 3 0 1-3 1 2 2 0 1 3 3 0 0 1-4 0 1 4-3-2 0-3-1 3-2 0-1-4 0 2-2 1 2 1 0 4-4 0-1-2 1-2-2 0-1 4-4 1 0-3-2-1 2-1 0-5-1 0 0 4-2 1-1-1-3 1-1-2-1 1-2-1-1 2 0 4 1 1-2 0zM56 137l-2-1 3-2 0 2zM220 138l1-2-2 1zM238 141l-2-1 2 0zM55 147l-2 0 0-3 1-1 3 0 0 1-2 0zM223 151l-2-1 1-2zM228 153l-2-1 2 0zM237 160l2-1 0-2-4-4-1 1 0 6zM265 163l-2 0 1-2-3 1-1-1 1-3-2-1 2 0-1-2 1-1 2 1-1 4 2-1 1 2zM53 178l-3 0 1-2 0-6-2 0 4-2-2-4 0-2 3 1 0 2 2 0 1-2 0 2 2 0 0 3-2 1 1 4-1 1-3-1-1 1zM66 172l-2-1 0-3-1 2-2 0 1-1-1-4 2-1 2 1 0-2 1 4 3 2 0 2-3-1zM258 165l-2 0 0-2zM257 167l-3-1 2-1zM265 171l-2 0 0-2-2 0 0-4 1 2 2-1zM260 171l-5-3 4-1zM61 171l-2 0-1-2 2 0zM47 172l-2-1 1-1 3 0zM72 177l-2 0 1-1-1-2 1-2 1 0zM228 179l-2-3-1 2-3 0 2-2-4-1 1-3 5 0 0 2 3 0-1 1zM241 178l-2 0 0-4 4-1-1 3-2-1zM264 177l-3-2-3 0 0-2 5 0zM42 176l-4-1 3-1zM261 181l-2-1 0-3 2 1zM241 183l-1-2 2-3 0 4zM249 202l-4-4-5 1-2-3-2 0 1-3-2 0 0-3-5-2-1-2-2 0 0-3-3 0 1-2-3 1 0-2 3 0 0-1 3 1 1-1-1 6 3 1-1-1 1-2 3 3 0 2 1-1 3 1 1-3 2 0 1-2 0 3 2 0 0 3 2-1 0 2 3 0-2 1 1 4 2 0 0-2 3 0 3-6 2 1 1-1 0-3 2 0-2-1 0-1 4-1 0 3-2 3 0 4 4 1 0 2 3-1-1 2 3-1 1 1 0 4-2 1 1-4-8-1-2 1-2 4 0-2-2-2-2 0-5 4zM35 183l-1-3 2 0 0 2zM29 193l-5-2 3 0 1-2 1 1zM232 197l-2-1 1-2zM248 215l-3-1 0-2-2 0 2-2-1-2-1 1-2-1 0 2-4 0 0-1-4 1 3-7 2 0 0-3 4 1 1 2 4 0 0 6 2 0zM275 203l-5-1 0-2 4 0-1 2 2 0zM261 208l-3-3-1 2-2 0 0-4 2-2 2 0 2 3 3 0-3 1zM255 212l-3 0-1-1 1-2-1-2 0-4 3 0 0 4 2 2zM270 209l-3 0 1-2-1-2 3 0zM263 209l-2-1 2 0zM270 213l-2-2 4-1zM232 214l-2-3 3 0zM11 242l-1-2 1-1-1-1 1-2-2-1 0-2-4 0-3 3-3 0 0-2 3 0-3-1 0-2 3 0 3-5 0-2-4 0 0-1-2 0 0-1 12 1-1-10 2 1 0 3 2 0 1 4 4-1 0 2 3 1 0 3-4 1 1 1 0 6-2 1-2-1 0 4-1-2-2 0 0 5zM235 221l-2 0 1-4-2 0-1-2 5 1 0 4zM238 216l-2-1 2 0zM231 219l-2-1 3-1zM276 221l-2-1 2 0zM276 225l-3-1 1-2 2 0zM30 238l-3-1-1-4-3 1-1-1 2-3 2 0 0-5 1-1 1 2 2-1 0 2 4 0-2 3 1 1 3 0-2 1 0 2 2 2-5 0zM276 248l-3-1-1-2 0-4 2 0 0-2-2 0 0 2-2-2-2 0-2 2 0 2-3-2 2-5 2 0-2-1 0-3 5-1 0-3 2 1 2-2-1-2 2 0 0 6 3 2-1 2-2 0-1 2 2 7 2-1 0 3 1 0zM260 243l-3 0-3-3-2 0 1-3-3 0 1-2-2-1 1-2 4 0 1-4 3 4 3-1 0 2 3 1 0 3-2 1 0 3zM249 233l-3 0-1-3-3 1 0-2 4 0 1 2 2 0zM286 234l-6 0 0-1 6 0zM289 239l-1-3-2 1 0-3 3 1zM38 239l-2 0 0-2zM40 241l-2 0 0-2zM288 240l-2-1 2 0zM13 244l-2-2 2 0zM39 246l-1-3 2-1zM290 247l-1-2 2-2 1 3zM42 248l-3 0 0-2 2 0 0-2 1 0zM267 256l-1-1-2 1 0-2-2 0 0-2 2-1 0-6 1-1 3 1 2 3 0 2-5 1 2 1zM258 254l-2 0-3-3 1-2-1-2 2 0 1 1 0-3 3 0 1 2-1 1 1 4-2-1zM295 253l-3 0-1-3 2 0 0 2 2-1zM28 261l-1-2-1 1-2 0 1-5-3 0 0-3 2 0 0 2 2-1 0 4 2 1zM20 258l-3-1 0-2 3 0 1 1zM21 263l-1-2 3-1 0 2zM274 264l-2-3 3 1zM260 265l-1-1-2 1-7 0-1-2 6 1 0-1 6 0zM276 266l-2 0 0-2 2 0zM298 284l-2 0 0-2-3-3 1-3-4-1 0-2 2 0-2-2 3 0-2-2 3 0 1-5 3 4 7-1-1 2-2 0-2 3 0 5-2 0 2 6zM259 267l-2 0 0-2zM282 299l-1-3-3-2 1-3-2-1 2 0 2-3 2 0 0-2-2-2-3 0 0-2-2-2-2 0 0-3-3 0-1-1 0-1 6 0 0-4 4 1 1 2 2-2 0 2 5 1-1 1 1 3-2 1 0 2 3 2 0 2-5 0 0 4 3 2 0 3-1 1-3 0-1 1zM264 274l-2-1 2-2 2 0zM268 274l-3-1 3-1zM322 278l-3 0 1-3 2 1zM304 286l-2 0-2-2 3-3 0-2 4 2zM309 285l-3-1 3 0zM329 287l-4-3 3 0 1 1zM301 294l-6-1 0-2-3 0 0-3 3-1 1 2 6 0 0 4zM339 294l-2 0-1-2 1-4zM342 295l-2-1 0-2 2 1zM292 300l-4-5 2 0 1-2 4 0-1 6-2-1zM341 297l-3-2 3 0zM276 299l-1-2 3-1zM343 299l-2-1 3-1zM306 301l-5 0 0-1 2 0 1-2 0 2 2-1zM350 350l-17 0 0-10 6 3 8-8-6-1 2-3-3 0 2-3-3-1 0-5-2 0 2-1-1-1 1-3-2-1 3 0 1-2-4-2 1-1 4 1 2-2-2-1 0-2 3-4-2 0 1-2-2-1 2 0 0-2 2 4 4 3zM275 300l-2-1 2 0zM298 301l-3-1 3 0zM277 308l-2 0 0-5zM306 308l-1-3 2-1 1 3zM283 314l-2 0 1-1 0-3-4 1 1-3 3 0 3 2 0 2zM309 315l-1-3 2 0zM289 321l-5-1 3-1-2-1 0-1 5 0 1 1-2 1zM327 348l-3 0-2-2-2 1-1-1 1-2-6-1 0-2 1-1-4 0-1-1 2-1 0-3-1-1-4 0 2-1 0-2-3-2-5-1 2-2 2 0 0 2 1-1 6 0 0-5 1-1-2 0-1-4 3 1 0 2 2 2 3-1 2 3 3-1-1-3 2 0 0 4 2-1 2 2 2-1 0 2 2-1 5 5 0 3-2 4-4 3-1 5zM293 320l-2-1 2 0zM298 326l-5 0 0-1 5-2zM303 326l-2-1 2 0zM317 346l-1-2 2 0z"/><path fill="#fc0" d="M83 2l-4-1 0-2 4 0zM213 88l-1 0 0-6-3-1 2-2-3 0 2-1-1-4 3 0-1-3 2 0 2-3 2 0 0-3 4 1 1 3 2 0 0-4-1 0 0-3-2 0-1-5-4 0 2-1 0-2-8-9 1-2-1-1 0-4-3-2 0-4 2-1-1-3 5-4 0-2 3 1 2-2 0-4-1-1-3 0 0-3 2 0-1 2 3 0 1-1-4-2 0-3-4-4-2-6 8 0 1 4 2 1 4 0 1-1 0-4 5 0-1 6 2 2-2 2 2 1 1-1-1-2 2 0 0 3-2 2 2 0 1 2-1 2 3 0-1-5 4 1 0-2-1-1 3 0 2-2 1-2 0-6 10 0-2 8-2 2 0 5-1 1 1 0 1 5 2 1 2 4 1 9-2 2 0 9-5 9-1 6 6 6 2 5-4-1-1 2 1-4-2 1-2-3-2 0 0 2-1-2-2 0-1 2-2-2-1 5 2-1 0 2 6 5-2 0-1-2-2 0 0 3-2 0-1-2-1 2-1-1-4 0 0 2 1 1-3 1 0-2 1-1-2 0 1-2-4 0 0 6-1-2-4 1 1-4 3 0 0-2-3 0 1-1 0-2-1 2-3-1-1 2-4-3-2 1 0 2-2 0 1 5 1-2 2 0 0 3-2 0 2 5-2 0zM70 8l-3 0 1-5 1 2 2 0zM237 10l-1-2 2 0zM69 18l-2-6 2 0 1 1 2-1-1 4 1 1-3 0zM232 16l0-3-1 2-2 0zM229 25l-2-7 6-1-6 0-1-1-3 3-1 6zM217 21l-2-1 2 0zM91 23l-2 0 0-2zM233 62l0-2 2 0 2-2-1-2 4 1 1-1-2-3 4 1 2-2 0-4 3 0-2-1 0-3-1 0 0-5 3-1 0-2-2 0-1 3-2 0 0-2-2-1 3-2 3 0 2-3 3 1-1 2-2 0 0 1 5-1-1-3-3 0 1-4-2 0 0-2-3-2-1 1-3-1 1 2-3 0-1 1 0 2 1-2 1 0 1 5 2-1 0 2-3 0 0 4-2-2-2 0 0-2-2 1-1-2-3 0 2 2 0 3-4 1 0-2-3-1 0 3-2 0-4-2 2-3-2-3-3 3-3-4-3 2 1 2-1 1 0 2 3-2 0 3 4-1 1 1-6 1 1 4-2 0 0 4 2 0-1-3 2 0 0-3 1-1 3 0 0 1-2 0 0 7 4 4 3 0 2-2 0-3 2-1 0-2 1 0 1 2-1 7 2 0-1 3 2 0-1 4 2 0 0 2-5 0 0 2zM253 30l1-3-2-1 0 4zM78 42l-2 0-1-3-4 0 0 2-1 0 0-3 4-4-1-4-3-1 0-2 4 1 0 2 2 0 0-2 3 1 0 4 3 1-1 4-3 0zM86 33l-4 0 2-5 4 2 0 2zM228 33l0-2-2-1 0 2zM216 34l-2-2 2 0zM247 33l-2-1 2 0zM210 35l-1-2 0 2zM231 43l-2-2-2 1-1-3 7-2 0 2-2 1zM249 43l2-1-1-3-1 2-2 0 0 2zM70 45l-3 0 1-4 2 2zM82 45l-2 0 0-2zM85 44l-3-1 3 0zM69 51l-3 0 0-2 2 0zM69 60l-2 0 0-3 4 1zM217 60l-2 0-1-2 2 0zM220 63l-2-1 1-2zM233 68l3-3 0-2-7 0 1 4 1 1zM81 78l-1-3-2 0 0-2 1-1 3 0 1-2 0 3 3 3-3 0zM237 76l-2-1 0-4-4-1 1 5zM75 85l-2 0 1-3-2-1-4 1 1-2 2 0 1-2 0-2-3-2 0-2 2 1 1-1 2 2 0-2 2 1 1-2 0 5 2 3-1 2-3 0zM258 114l-4 0-1-1 1-2-4-2-4 1 0 2-2-1-1 2 0-2-2 0 0-2-5-3 0-2 2 0 0-2 2 1 4-2 3-3 1-8 2 0-2-1-1-2 0-3 2-1-6-1 0-3 1 0 0 2 4 0-1-4 2 0 1-2 2 3-2 1 4 0 1-2-4-3 3 0 0-2 2 0 1 2 0 4-2 2 0 7-2 0 0-4-3 0 0 2-2 0 2 2 1-2 0 3 2-1 2 1-1 4-1-1-2 0 0 2 2-1 0 3-4 6 0 3 1 2 3 1 0 3 2-1 0 3 2-1zM88 77l-2-1 2 0zM217 78l-2-1 3-1zM221 82l-3 0 0-2 2 0zM218 85l-2-3 2 0zM233 85l-2 0 0-3 3 0zM82 89l-2 0 0-3 3 0zM225 109l-2-2 1-2-2 0 1-3-2 0 0-4-2-1 1-3-2 0-1 1-2-1 1-2-2-2-2 0 3-1 0-2 2-1 1 4-1 2 1 1 2-1 3 4 3 0 2-2 0-4 2 0 1 1-1 4 2 1-1 3 3 0 1-1 1 1 0 2-1-1-2 0 2 2-2 3-3 0-1 3-4 0zM231 89l-2 0 0-2 3 0zM65 93l-2-3 3 1zM66 104l-4-2 3-1zM230 126l-1-2-3 1 0-3 2-1-1-3 3 0 1-3 3-1 0-2-2-1-1-3 6 0 1 3-2 2 3 3 2 0 0-3 2 0 2 2-1 2 3 2-3 1 1 2-2 0-1-2-3 1 0-3-4 1 1 2 2 0-2 2 3 0-2 2-1-1-2 1 1-3-2 0 1-2-2 0 0 2-2 1zM215 121l-3 0 0-2 3-1 0-2 2 0 1-3 2 0-1-3 2 0 1 3 1 0-1-3 4 0 0 6-2 3-4 0-1-2-2 0-2 2zM259 118l-5 0 0-1 4-1 1-2zM69 126l-3 0 0-2-2 0 3-3-2-2 1-2 4 1 1 3 2 0-1 4-3 0zM78 122l-3 0 0-5 5 2 0 2zM250 121l-2-1 2 0zM216 124l-2-1-3 1 0-1 1-1 3 0zM254 128l-4 0 2-1 0-2-6 0 0-1 7-1 0-1 3 0 0 1 3-1-2 2 1 3-5-1zM221 130l-2 0 0-2-2 0 1-3-2 0 0-1 5 1zM69 130l-2-1 0-2 2 1zM235 131l-1-2-3 0 1-2 3 0zM219 131l-4-1 3-1zM59 132l-2-2 3 0zM71 132l-3-1 2-1zM257 135l-1-1-4 1 0-2 2-1-3-1 1-1 4 0 0 2 2-1zM217 135l-2-1 0-2 2 1zM232 154l-2 0 1-2-4-2 1-2-2-1 0-3-6-4 2-1-2-1 1-3 6 7 4 0 2-4-1-4 3-1-1 2 0 7 2 0-1 2 3 0-1 2 2 0 1 3-3 2-3 0zM219 138l-2-3 3 1zM249 157l-2 0 0-3-1-1-4 1 0-1-7 0 0-1 5 0 0-1 5 1-1-6 3 0 0-2 2 1 2-2 0-2 2 1-1-1 1-3 1 1 1-1-3-1 0-1 5 0 0 2-4 6 0 5 5 2 2 2 0 2-2 0 0-2-5-1-2 1 0 2-3 0zM262 158l-2-2 1-2 1 0zM230 165l-1-1-3 1 0-2-3 0 0-2 2-2 2 0 0-3 5 0 0 1 2-1 0 4-2 0 0 4zM243 169l-2 0-2-2 2-3-5 0 0-4 1-1 5-1 1 2 3 0 2-2 3 4 3 0-4 1 0 2-2 0-1-3-1 3-2-4 0 2-2 1 2 1 0 3zM265 162l-1-1-3 1-1-2 4-2zM53 176l-2 0 1-6-3-1 3 0 1-3 3-1 1-2 0 2 2 0 0 3-2 1 0 5-3-2-1 1zM54 165l-2-1 2 0zM69 171l-1-1-4 1 0-3-1 2-2 0 1-1 0-4 1-1 3 1-1 2 2 0 0 2 2 0zM237 169l-4 0-2-4 7 0zM221 169l-3-3 3 0zM260 171l-5-3 4-1zM264 170l-2-1 0-2 2 1zM61 171l-2 0-1-2 2 0zM219 173l-2-3 3 0zM225 178l-3 0 0-1 2-1-4-1 1-3 5 0 0 2-2 0 1 1zM228 178l-2-1 1-2zM227 183l-2 0 0-2 4-2 0 3zM249 202l-4-4-5 1-2-3-2 0 1-3-1-2-3-3-6-3 3 0 1 1 1-1 0 2 2-1 0 2 2 1 0-1 3 0 3-5 0 4 2-1 0 3 2 0 2 6 2 0 0-1 3 0 0-3 6-4 0-3 2 0-1-2 3-1 0 2-1 0-2 8 1 1 3 0 0 2-2 0-2 2 0 2-6-2-5 4zM63 185l-2 0 0-2zM31 193l-1 0 0-4 2 1zM269 196l-3 0 0-3 2 0-1 2 2-1zM271 199l-2 0 1-4 1 0zM20 200l-3 0 0-2 3 1zM273 203l-3-1 0-2 3 0zM241 210l-1-2-1 2-6-1 3-1-1-1 1-4 2 0 1-2 3 0 2 2-3 2 2 2 0 2-2-1zM260 207l-2-2-1 2-2 0 0-4 2-2 4 3 3 0-4 1zM255 212l-3 0-1-1 1-2-1-2 0-4 3 0zM246 214l-1-2 1-1-2 0 1-1-1-2 3-2 0 3 2 0 0 3zM270 209l-3 0 0-2 3 0zM263 209l-2-1 2 0zM271 212l-3-1 4-1zM234 217l-2 0-1-2 2 0zM12 241l-2 0 1-1-1-1 1-3-2-4-5 1-2 3-1-2 1-1-3 0 0-1 2 0 5-4 0-3-3-1 0-1 8 1 1-1-1-7 1 3 2-1 0 2 2 2 3-1 3 2 0 3-4 1 1 1 0 6-2-1 0 2-2-1 0 1-3 0zM231 219l-2-1 3-1zM238 224l-3-1 1-2 2 0zM50 226l-1-3 2 0 0 2zM241 227l-3 0 2-3zM30 237l-3 0-1-4-1 1-2 0 3-3 0-6 2 1 2-1 0 2 4 0-2 2 0 2 3 0-2 1 1 3-3 0zM275 228l-2 0 1-1-1-2 2 0zM249 233l-3 0-2-4 2 0 1 2 2 0zM260 243l-5-1-3-7-3-1 1-2 4 1 0-3 1-1 1 2 6 2 0 3 1-2 1 0 0 3-2 1 0 3zM266 243l-3-2 0-2 2-2 3-1-3-2 2 0 1-3 2 0 0-2 1 1 3-1 0 2 3 1 0 2-3 3 1 2-3 0 0 2-2-2-2 0-2 2zM286 234l-2-1 2 0zM289 239l-1-3-2 0 0-2 3 1zM288 240l-2-1 2 0zM276 248l-3-1-1-2 2-1 0-2 2 0 0 2 2 0-1 1 1 2zM283 245l-3-2 5 0zM266 255l-4-1 0-2 2-1 0-6 1-1 3 1 2 3 0 2-5 1 2 1zM258 253l-5-2 1-2-1-2 2 0 1 1 0-3 3 0 1 2-1 1 1 4-2-1zM295 250l-2-1 0-3 2 1zM18 252l-3-1 1-2zM40 255l-1-2-2-1 4-2zM28 260l-1-1-1 1-2 0 1-5 3 3zM36 260l-2 0 0-3 3 0-2 1zM274 264l-2-3 3 1zM251 264l-2-1 2 0zM260 265l-1-1-2 1-6 0 0-1 10-1zM275 266l-1-2 2 0zM259 267l-2 0 0-2zM298 284l-1-4 1-1-3 0-1-3-4-1 0-2 2 0-2-2 3 0 3-6 2 4 5-2 0 2-3 1 1 2-2 0 1 1-1 1 1 3-2 1 1 0 0 4 1 1zM316 272l-2-1 1-2 4 0-3 1zM265 273l-2-1 3-1zM283 296l-4-1-1-1 1-3-2-1 5 1-2-3 3-1 0-2-2-2-3 0-1-4-2 0-1-3-2 0 0-2 2 0 2 2 0-2 2-2 2 1 3-1 0 2 2-1 2 1 1 2-2 5 3 2 0 2-5 0 0 4 2 1 0 5-1 0-1-2zM267 274l-2-1 2 0zM322 278l-3 0 0-2 2 0zM304 286l-2 0-2-3 6-2-1 2 1 1zM335 290l-2-1 0-3 2 2zM301 294l-6-1 0-2-3 0 0-3 3-1 1 2 6 0 0 2-1 1 1 1zM342 295l-2-1 0-2 2 1zM292 300l-4-5 2 0 1-2 4 0 0 3-1 2-2 0zM276 299l-1-2 2 0zM275 300l-2-1 2 0zM350 350l-5 0-7-6 9-9-6-1 2-3-3 0 2-3-3-1 0-5-1 0 1-1-1-2 2 0 0-2-3 0 4-1 0-3-2-1 4 0 1-3-2 0 0-2 2 1 0-4 1 0-1-2 1-1 2 4 3 1zM277 308l-2 0 0-5zM306 308l-1-3 2 0 1 2zM309 315l-1-3 2 0zM289 321l-3 0 1-3-2 0 0-1 5 0 1 1-2 1zM314 321l-3 0 1-3zM293 320l-2-1 2 0zM292 323l-2 0 0-2zM327 348l-2 0 0-3-1 2-2 0 0-2-4-1-1-2-2 1 0-4-2 0-1 1-1-1 2-2 0-2-1-1-5 0 3-1 0-2-3-2-3 0-3-2 4-1 0 2 3-1 2 2 3-2-1-5 3 0 0 1 4-1 0 2 6 0 0 1 2-2 0 2 3-1 1 3 2-1 2 3-3 5 4-4 1 3-2 4-4 3-1 5zM290 324l-2-1 2 0zM298 326l-5 0 0-1 5-1zM303 326l-2-1 2 0z"/><path fill="#f90" d="M233 36l-5-1 0-1 2-1-2 0-1-3-1 2 2 2-2 0 0 2-2-1-3 1 1-4-1-1 4 0-2-2 0-4 6 0-2-7 6-1-6 0-1-1-1 2-6 1-1-2 2-1-4 0 3-1-1-2 1-2-3 1 1-3-5-5-2-5 6 0 1 4 4 3 2 0 2-2 0-2 2 0 0-3 2 0-1 7 2 1-1 3 2 0 1 2-3 4 7 0 0-5 1 0 0 2 2 0 1-2-2-2 4 1 2-2 0-3 2 0-1-1 0-5 8 0 0 2-2 2 0 3-2 2-1 6-1 0 1 4 4 3-1 4-5-3-4 0-1 2-2-2 0 2 2 1-3 1 1 0 0 3 3-1 0 3-2 2-3 0 0-1-2 1 0-2-4 0 2 2zM71 7l-3 0 0-3 3 1zM238 9l-2-1 2 0zM72 17l-4 0 0-2 2-1-2 0-1-2 4 1zM210 31l-1-3 2 0 1-3 2 0 0-2 5 0 0-2 3 0-1-2 2 0 0 3-2 3 0 5-1-1-3 1-1-2-4 0 0 2zM252 29l-2-1 1 0 0-3 2 0zM255 30l-2 0 1-2-1-2 2 0zM78 41l-4-4-2 2-2 0 4-4-1-7 1 2 3-1 2 2 0 2 3 1-2 3-2 0zM86 33l-4 0 2-5 4 2 0 2zM244 32l-2-1 2 0zM253 46l-1-4 1-1-3-3-2 1 1 2-4-1 3-2 0-2-4-2 5-1 0-2 2 1-2 3 5 0-1 2 1 7zM255 35l-2-4 3 0zM216 37l-7 0-1-3 2 1 0-3 2 0-1 3 3-2 0 3 2-1zM216 33l-2-1 2 0zM217 45l-3-1 2-2 0-4 2 0zM230 42l-1-1-2 1 0-2 1-2 4 0 0 2-2 0zM214 41l-2 0-1-2 3 0zM212 44l-2 0 1-1-1-2 2 0zM70 45l-3 0 1-3 2 1zM223 81l-1-2 1-2 3 0 0-2-3 0 1-3-1 0 0 2-2-1-4 1 0-2-2 0-1-2 5-4 2 0 1 3 2 0 1-1 0-3-2-1 0-2-2-1 4-1-5 0 1-3-5 0 3-1 0-3-2-1 0-2-2 0 0-2-2 0 0-2 3 1 2-1 0 2 3 3 4 0 0-2 2 0-1-1 1-4 3 0-1 2 0 6 1 1-1 1 1 1 2-1-1 4 2 0 0 2-5 0 0 3 2 4 3 1 3-4 2 0 0-2-3-3 2-2 3 1 1-3 2 1 2-2 0-3 3-3 2-6 1 1 1 6-5 8 0 4 4 3 1 4-2 0 0-2-4-1 0 2-1-1-4 1-1-1 0 2-3 1 0 2-6-1 1 5 3 0 0 2-8-1 0 3-3 0zM82 45l-2 0 0-2zM84 44l-2-1 2 0zM256 71l-2-1-3 1 0-2 2 0 1-2zM241 72l-2 0 1-2zM214 73l-2 0 0-2 2 0zM75 85l-2 0 1-3-3-3 2-2-1-3 2 0 0-2 2 4 2 0 1 2-1 3-3 0zM81 78l-1-3-2 0 1-3 3 0 0 2 2-1 1 1-2 3-2-2zM242 78l-5-2 0-3 1-1 4 1-1 2zM213 82l-2 0 0-3-3 0 2-1-1-1 0-3 3 0-1 3 1 0 0 3 1-2 2 0 0 3zM254 76l-3-2 3 0zM257 78l-1 0 0-4 1 0zM255 84l-4-1-1-3-2 1-1-1 0-3 4-2 1 3-2 1 2 0 0 2 2-3 2 0-2 3zM247 77l-2-1 2 0zM232 81l-1-2 2-1 1 2zM247 82l-4 0 0-3 1 0 0 2 3 0zM70 82l-2-1 3-1zM221 82l-3 0 0-2 2 0zM232 85l-1-3 3 0 0 2zM215 86l-1-1-2 1 0-3 3 1zM82 89l-2 0 0-2 3-1zM218 90l-3-1 0-2 2-1 1 0zM244 112l-3-1-1-4-3-3 1-2 2 1 8-4-1-1 2-1-1-3 2 0-2-1 0-2 2 1-1-1 1-2-2-1 4 0 1-1 1 3-3 1 1 5-2-1 1 3-3 4 0 3 4 2 1 3 2-1 0 2-3 0-1-2-3 0 0 1-2-1zM218 95l-2-1-1-3 5 2zM225 109l-2-2 1-2-2 0 1-3-2-4 2-2 3 1 2-2 0-4 3 0-1 6 1 2 2 0 1 5-1 1-3 0-1 3-4 0zM221 97l-2 0 0-2zM223 119l-3 0 0-2-2 0 0-2 2-2 3 0-1-3 4 0 0 6-1 2zM230 126l-1-2-3 1 0-2 2 0-1-1 1-1-1-3 3 0 1-3 2 0 1-2 3 0 2 2 0 3-4 1 2 6-1-1-2 1 1-3-2 0 1-2-4 0 1 3-1 0zM215 121l-3 0 0-2 3-1 0-2 2 0 0 2-2 1zM244 121l-3-1 0-4 3 0 1 2 2 0-3 1zM78 122l-3 0 0-5 4 1zM69 126l-2 0 0-6 4 0 1 4zM253 128l-3 0 2-1 0-2-3 0 0-2 5 0 1 1 0-2 1 1 1-1 2 0-3 5-3-1zM221 130l-2 0 0-2-2 0 1-3-2 0 0-1 5 1zM69 130l-2-1 0-2 2 1zM234 129l-3-1 3-1zM257 135l-1-1-4 1 0-2 2-1-3-1 1-1 3 0 0 2 3 0zM71 132l-3-1 3 0zM220 137l-2 0-1-2 2 0zM256 138l-4-2 5 0zM222 138l-2-1 2 0zM224 139l-2-1 2 0zM232 154l-2 0 1-2-2-2-2 0 1-1-1-6-3 0-1-2 2-1 1 2 5 1 0-2 2-1-1-2 2 0 1 7 2-1 0 2 2 0-1 2 2 1-3 2-3 0zM222 140l-2-1 2 0zM254 143l-2-3 2 0zM260 155l-2 0 0-2-2-1-4 0 0 1-2-1 0 2 1 1-4 0-3-4 0-5 2 0 1 1 0-2 3 0 3-2-1 6 1 2 3-1 2 1 2 2zM241 153l-6 0 0-1 6 0zM262 158l-2-2 1-2 1 0zM230 165l-6-2 0-2 3-2 0-3 2 2 1-2 2 1 2-1 0 4-2 0 0 4zM265 162l-1-1-3 1-1-2 4-2zM247 165l-2-1 0-3 2 0 1-2 2 3 4 0-5 2-2-2zM53 176l-2-1 2-4-1-3 2 0 0-3 3-1 2 1 0 3-2 1 0 3-3 0-1 1zM65 171l-1-3-2 0 0-3 1-1 4 4-2 1zM237 169l-4 0-1-4 4 0 1 1zM242 169l-2-2 2-2 2 0 0 2-2 0zM264 169l-2 0 0-2zM61 171l-2 0-1-2 2 0zM225 177l-5-2 1-3 5 0 0 2-2 0 1 1zM262 175l-4 0 0-2 5 0zM229 182l-2 0-1-2 2 0zM261 188l-2-2 2-1 0-3 2-1 0 2-1 0zM232 187l-3 0-2-2 3 0 1 1 1-1zM249 202l-4-4-5 1-3-3 1-3-2 0 1-2-2-2 6-1-1-3 4 5 3 1 1 4 5-1 0-3 1-1 3 0 1-2 2 0 0 4 3 0 0 2-2 0-2 3-5-1-1 2-2 0-2 2zM235 189l-2-1 2 0zM31 193l-1 0 0-4 2 2zM269 196l-3 0 0-3 1 2 2-1zM273 203l-3-3 3 0zM260 207l-2-2-1 2-2 0 0-3 2 0 1-2 2 0 1 2 3 0-4 1zM255 208l-3 0-1-1 0-4 3 0zM238 210l-2-2 0-3 3 0 4 2-1 2-2-2zM246 214l-1-2 2-1 0-2 2 0 0 3zM253 212l-2-1 0-2 2 0zM271 212l-2 0 1-2zM13 235l-3-4-5 1-1-1 5-6-4 0-2-2 3 0 0 1 4 0 1 1 1-1 0-4 2-1 1 3 4-1 0 5 1 1-2 0 1 1 0 6-4-1zM22 226l-2 0 1-2zM27 228l-1-3 2 0 0 2zM241 227l-3-1 3-1zM30 237l-3-1-1-3-1 1-2-1 6-6 1 1 2-1 0 2-1 1 4 2-2 0 1 3-4 0zM275 237l-6-1-2-2 1-3 2 1 1-2 3 0 0 2 3 0-2 2zM260 243l-3 0-3-2 2-2-3 0 1-2-2 0 0-3-2 0 0-2 1 1 4 0 0-2 3 0 0 2 2-1 2 1 0 3 2-1 0 2-2 1 0 3zM3 235l-1-2-3 0 0-1 6 0 0 1-2 0zM286 234l-2-1 2 0zM288 236l-2 0 0-2 2 0zM12 237l-2-2 2 0zM266 243l-3-2 0-2 2-2 6 0 1 1 0 3-2-2-2 0-2 2zM275 247l-2 0-1-3 2 0 0-2 2 0 0 2 2 1-3 0zM266 255l-4-1 0-2 2-1 0-6 1-1 3 1 2 3 0 2-5 1zM290 247l-1-2 2-1 1 2zM258 253l-4-1 0-2 3 0 1-1-2-1 0-3 3 0 1 2-1 1 1 4-2-1zM41 248l-2 0 0-2 2 0zM272 254l-1 0 0-4 4 1-3 1zM40 255l-1-4 2 0zM26 260l-2 0 1-5 3 3zM274 262l-2-1 2 0zM260 265l-1-1-2 1-3-1 1-1 6 0zM275 266l-1-2 2 0zM299 279l-4 0-1-1 0-5-1 0 0-3 3-4 1 3 5-1-3 4 1 4-2 1zM289 285l-7 0-5-4-2-5 3-4 3 2 2-2 0 2 2-1 2 1 1 4-2 1 0 2 3 2zM275 276l-3 0 0-2 3 1zM298 284l-1-4 2 0 1 3zM304 286l-2 0-2-3 6-2-1 2 1 1-2 0zM284 295l-5 0 0-4-2 0 3-1 2 1-2-2 1-2 3 0 0 2 2 1 0 4-2-1zM300 294l-4-1-1-2-3 0 0-3 3-1 1 2 6 0 0 2-1 1 1 1zM339 294l-2 0-1-3 2 0zM292 299l-2-1 0-2-2-1 2 0 1-2 4 0 0 3-1 2-2-2zM277 308l-2 0 0-5zM350 350l-5 0-7-6 9-9-6-1 2-3-3 0 2-3-3-1 0-4 3-1-4 0 2-1-2-1 2-1-1-3 2 0-1-4 2 0 1 1 2-2-2-3 2 0 0-3 3 0 0 2 2 0zM283 314l-2 0 1-4-3 0 0-2 3 0 3 2zM288 321l-2 0 1-3-2 0 0-1 4 0zM327 348l-2 0 0-3-1 2-2 0 0-2-7-3 2-2-2-1-3 1-1-1 3-1 0-3-3-1 0-3-1-1-4-1 0-2 3 2 2-1 1 2 0-2 2 0 0-4-1-1 2-1 1 2 4 0 0 1 3 0 0-1 3 1 1-2 0 3 3-2 1 3 2-1 2 2-3 7-2 1 0 3 2 0-2 3 0 3zM297 325l-2-1 2 0zM295 326l-2-1 2 0zM305 328l-4-1 4-1z"/><path fill="#ff4b00" d="M217 3l-2 0 0-4 1 0 0 2 1 0zM251 5l-6-4 0-2 4 0 0 2 2 1zM253 1l-1-2 1 0zM240 33l-3 0 0-1-2 1 0-4 1-1-2-1-4 0 1 1 0 4-3 0-2-2 3-4-1-7-1-1 6-1-6 0-1-1-1 2-4 0 2-3-5 1 2-3-3-4 1-2-3 0 0-1 4-1 2 2 3 0 0-2 2 0-1-2 3-1-1 2 1 0 0 4 1 2 2 0-2 2 2 1 0 2-2 1 7 0 0-3 3 1 1-3 2 1 2-2 0-3 2-3 2 0 0 2 2-1-4 8 0 4 5 4 0 2-2 0-4-2 0 1-3 0 0 2-3-2-1 2-2-2 0 4 2-1 1 1 0 3 2 0zM71 7l-1-1-2 1 0-3 3 1zM71 14l-3 0-1-2 2 0 2 1zM219 30l-2 0-2-3-1 1-2-1 1-2 2-1 2 0 2 2 1-1 0-4 2 0-1 8zM252 29l-1-4 2 0zM86 33l-4 0 0-2 4-2 1 1zM78 38l-3 0 0-2-2 0 2-2 1-4 2 0 1 3 3 1zM226 36l-1-1-4 1 2-5 3 0 2 2-2 1zM233 36l-1-2-1 2-2-1 2-3 2 1zM216 37l-5 0-1-2 4-2 0 3 2-1zM248 41l-3-2 3-1 1-3 1 3-2 1zM253 41l-2-3 0-3 3 0-1 1zM230 42l-1-1-2 1 1-4 2 1zM251 46l-2-1 0-2 2 0zM217 49l-4-1 0-2 3 1 1-1 1 1zM220 52l-2-1 0-3 2 2zM233 60l-6 0 0-1-1 1-6 0 1-3-2 0 1-1-1-3 1-1 1 1 4-1 3-2 0 2 2 0-2 3 3 0 0 4 2 0zM239 69l-2-5 2-1 0-5 7-3-1-2 4 0-1 3-2 1 0 4 2 1 0 2 2-1 1 3-3 0 0-1-4 0-1-1 0 3-2 0-1-1zM71 59l-4 0 0-2 2 0 2 1zM237 61l-2-1 1-2zM226 65l-2-1 4-3 0 2zM224 80l-2-1 3-1 1-3-3-4-1 2-2 1-2 0 1-2-4 0-1-2 2 0 0-2 4-1 1 2 3 0 3 5 2-2 3 0 0 3 3 0 0 2-2-1-6 0 0 3-3 0zM256 71l-3-1 0-3zM241 72l-2 0 1-2zM75 84l-2 0 1-1-1-1 0-4 1-1-2-1 0-2 2 0 0-2 2 4 2 0 1 2-4 2zM83 77l-1-2-4 0 1-3 3 0 0 2 2-1zM241 76l-4 0 0-3 1-1 4 1zM251 77l-2-1 2 0zM212 80l-2-1 0-2 2 0zM249 78l-2-1 2 0zM252 83l-2-2 0-2 2 0zM234 84l-3 0 0-2 2 0zM215 86l-1-1-2 1 0-2 3 0zM81 89l-1-2 3-1zM218 90l-1-2-2 1 0-2 3 0zM253 91l-4 0 3-4 1 0zM65 93l-1-3 2 1zM244 112l-3-1-3-9 2 1 1-1 1 3 0-3 1-1 3 0 3-3-1-4 2 0-1-2 2 0 1 3-2 0-1 6-2 0 0 4 5 3-4 0-1-1-1 2-1-2-2 0 2 3zM220 94l-4-1 4 0zM229 108l-6-1 1-5-2 0 1-1-1-4 3 2 2-1 1-3 3 3 0 3 1 0 1-2 1 2-4 4zM223 119l-3 0 0-1 2-1-4 0 0-2 1-1 4 1 0-5 3 0 0 6-1 2zM237 124l-2 0 0-2-2 0 1-2-4 0 1 3-2 1 0-2-2 0 1-1-1-3 3 0 1-3 2 0 1-2 3 0 2 2 0 3-4 1zM244 121l-3-1 0-4 3 0zM78 122l-3 0 0-5 2 0 2 2zM216 119l-1-2 2 0zM214 121l-2-1 3-1zM71 125l-1-1-1 1-2 0 0-4 1-1 3 0 1 4zM253 125l-4 0 0-2 5 0zM256 127l-2-1 0-2 1-1 3 0zM220 127l-2 0 0-3 3 1zM234 129l-3-1 3-1zM255 134l-1-2-2 0 0-2 3 0zM232 154l-2 0 1-2-2-1 0-3-2-4 2-1 1 2 2-2 1-3 2 5 4 2-1 2zM249 155l-2 0-2-2 1-1 0-5 1-1 4 0 1 5 3-1 4 2-3 1 0-1-4 0-1 1-1-1zM232 164l-6 0 0-2-2 1 0-2 2-2 4 1 0-4 2 0zM263 162l-2 0-1-2 3-1 1 1zM247 165l-2-1 0-3 9 1 0 1-6 0-1-1zM67 169l-5-1 0-3 1-1 2 1zM54 172l-1-3 1 0 0-3 2 0 1 1 0-2 2 0 0 3-3 1zM237 169l-1-1-3 1-1-4 4 0 1 1zM60 171l-2-2 2 0zM226 174l-5 0 0-2 5 0zM262 175l-3 0-1-2 2 0 1 1 2-1zM262 186l-2-1 1 0 0-3 2-1zM231 187l-4-2 3 0zM249 202l-4-4-5 1-1-1 1-2-3 0 1-3-2-1 3-1 0-2 2 0 1-2 1 3 2 0 0 2 2-1 1 4 2 0 0-1 3 0 0-3 2 0 1 2 0-3 4-2-1 4 4 2-3 0-1 3-5-1-5 4zM257 207l-2 0 0-3 5-2zM254 208l-3-1 0-4 3 0zM260 207l-2-2 2 0zM243 209l-2-2-1 1-4 0 0-2 6 0 1 1zM248 213l-2 0 0-2 1-2 2 0 0 3zM15 234l-4-1 0-2-5-1 1-2 2 0 0-3 4 0 1-2-1-2 5 2 1 2-1 2 1 1 0 5-4 0zM30 237l-3-1 1-1 0-4-1-1 5-3-1 4 2 0-1 2 2 2-4-1zM6 232l-2-2 2 0zM25 234l-2-1 3-2 0 2zM271 236l-2 0-2-3 6-2 2 4-4 0zM260 243l-3 0 2-5-6 1 1-2-2 0 1-2-3-1 0-2 3 1 1 2 1-3 3 0 0 1 2-1 0 3 2-2 0 3 2-1 0 2-2 1 0 3zM266 243l-3-2 0-2 2-2 4 0 0 2-3 2zM275 247l-2 0-1-3 2 0 0-2 2 0 0 3zM260 252l-2-1 0-3-2 0 0-3 3 0 1 2-1 1 1 1zM26 260l-2 0 0-2 3-1 0 2zM260 265l-3-2 4 0zM299 279l-4 0-1-1-1-8 2-2 2 0 0 2 2 0 0 7-1 0zM301 270l-2-1 2 0zM316 272l-2-2 3-1zM289 285l-5 0 0-3-2 3-1-1 1-5-5 0-1-1 1-1-1-2 3 0 0-2 7 1 0 2-2 1 0 2 4-3-2 5 3 2zM304 286l-2-4 4-1zM286 294l-6-5 1-2 3 0 0 2 2 1zM302 293l-2 0-1-2-2 1-5-1 0-3 3-1 1 2 6 0-1 1zM283 295l-1-2-3 1 0-2 4 0zM277 308l-2 0 0-5zM308 307l-3 0 0-2 2 0zM347 306l-2-1 2 0zM346 331l-6 0 2-2-3-2 0-4 3 0-2-1 0-2 4-1-1-1-3 0-1-2 4 0-2-1 0-2 3 0 1-2-1-2 3-1 1-2 0 2 2 0 0 21zM284 312l-2 0 0-2-3 0 0-2 5 1 1 1zM288 320l-2 0 1-2-2 0 0-1 4 0zM316 325l-3-1 1-2zM323 345l-5-1 1-2-4 0 0-1 2 0-1-3-1 1-2 0 2-4-3-1 0-3 2 0-2-2 3 0 0-3 2 0 1-2 2 2 2 0 2-2 1 1 0 3 1-2 4-1 1 2 2-1 2 2-5 10-2 0z"/><path fill="#f00" d="M250 2l-3 0-1-1 0-2 4 0zM216 5l-2 0 0-3 3 0 0 2zM232 35l-2 0-1-1 0-3-3 3-3 0-1-4 2-1 0-1-7 0 0-1-2 0 0-2 2-1 0-2 4 0 0-1 3 1 0-2-2 0 0-3-2-1 1-3-1 0-1-5 3 0 0 1 2 0 1-1 0-4 2 0 0 5 1 0 0 2 2 0 1 8 1 0 0-2 2 0 0-2 5 0 1-2 3 0 0-2 2-1 1-5 3 0 0 2-2 0 1 3-4 4 0 4 4 1 1 1 0 2-2 0-1-2-2 0 0 1-3 0-3 3-4 0 0 1 3 0 1 2 2 0 0 4-1 1-3 0-3-2 1 4-2 0zM219 8l-2 0 0-2 2 0zM252 24l-3 0 0-2 3 0zM80 36l-4 0 0-5 1-1 3 0 1 1 0-3 3 0 1 1 0 3-4 0zM210 34l-2 0 0-2 1-1 2 0 0 2zM252 38l-7-1 0-2 3-2 2 0 0 3 2 0zM216 40l-4 0 0-2-2 0 0-2 5-1zM88 41l-2 0-1-1 0-2 3 0zM234 79l-3 0-1-4-2 3-4 0 1-6-1 1-3 0 0-1-1 1-2 0-1-4 2 0 1-3 6 0 0 1 1 0-3-4-2 0 0-8-3-2 0-2 2 0 2 3 2 0 0-1 4 0 0 3 3 1 0 7 1 0 0-3 2 0 1-2 7-1 3-4 1-5 2 0-1 6-4 4 0 3 2 0 0 2-4 1-3 3-3 0 5 3 0 4-5 0 0-1-2 0 1 4zM77 79l-3 0 0-4 1-1 4 0 0-1 4 0 0 2-1 1-3 0 0 2-2 0zM250 84l-2 0 0-2-2 0 0-3 2 0 0-1 3 0 0 2 2 0 0 2-3 0zM215 85l-2 0 1-3-2 0 0-2 2 0 0-1 3 0 0 4-2 0zM252 90l-3 0 0-3 3 0zM237 123l-3 0-1-4-3 4-2 0 0-2-1 0 1-4-1 1-3 0 0-1-1 1-2 0 0-2-1 0 1-4 7-1-2-1 0-3-1 0-1-8 5-1 1 2 2 0 0 2 2 1 0 6 1-2 5-4 6 0 0 3 2 0 0 2-2 0-1 2-2 0 0 2-3 0 0 2 3 1 1 4-7 0zM72 123l-4 0 1-5 3 0 0 1 1-1 4 0 0 3-4 0zM253 127l-2 0-1-1 0-4 2 0 0 2 1-1 2 0 0 2-2 0zM218 130l-2 0-1-4 4-1 0 4zM243 168l-2 0-2-2 0-3-1 0 0 3-2 2-2 0 0-2-1 0 1-3-7 0-1-1 0-2 2-3 3 0 0-1 4 1-5-4-1-8 6-1 0 2 2 0 0 2 2 1 0 5 3-6 8-1 1 6-2 0-1 1 0 2-3 1 4 3 0 4-3 0 0-1-3 0-1-1 0 1 2 1zM260 170l-4-1 0-3 1-1 3 0 0 1 2 0 0 2-2 0zM58 172l-4-1 0-3 1 0 0-2 5 0 0 4zM65 170l-3 0-1-1 0-3 3 0 1 1zM225 176l-2 0-1-1 0-3 2 0 0 1 1-1 2 0 0 3-2 0zM228 183l-2 0-1-1 0-2 2 0 1 1zM248 212l-3 0 0-4-1-1-2 2-4 0 0-2-1 0 0-3 5-3-1-3-2-1 0-4-1 0 0-2 2 0 1-2 2 0 0 2 3 0 2 5 3-1 0-3 3 0 0-1 4 0 0 2 1 0 0 2-1 0 0 4-4 1 0 1 3 0 2 2 0 4-3 0 0-1-3 0 0 1 1 0 0 4-4-1 0-3-1 0zM271 211l-2 0-2-3 0-2 2 0 0-1 2 0 2 2 0 2-2 0zM274 217l-2 0 0-3 3 0 0 2zM238 222l-3 0-1-1 0-2 1-1 4 0 0 3zM29 235l-5-1-2-3-2 2-2 0 0-1-6 1 0-3-3 0 0-2 2 0 0-2 3-1 0-2 2 0 0 1 1-1 3 0 2 2 0 2 2 0 0-1 4 0 2 2 1 5zM266 254l-2 0-2-2 0-2-3 2-3 0-1-1 0-5 2 0 0-2 3 0 0-1-1-1-3 0-1-5-1 0 0-3 4-1 0 1 5 1 3 3 0-3 2-2 5-1 1 1 0 5-1 0 0 2-2 0-1 2 5 0 0 1 2 0 0 3-6 1 1 1 0 4-3 0-2-3 0 4zM288 248l-2 0 0-2-1 0 0-2 1-1 4 1 0 2-2 0zM23 261l-3 0 0-3-1 0 0-3 1 0 0-2 5 0 0 1 2 0 0 2-3 0 3 2 0 2-4-1zM36 259l-3 0 0-3 3 0zM4 264l-5-1 0-2 6 0 0 2zM258 266l-2 0 0-2-1 0 0-3 4 0 0 4zM14 267l-2 0 0-2-2 0 0-3 3 0 1 1zM293 297l-2 0-2-2 0-4-1 2-3 0 0 1-5 0 0-5 2-1 0-2 3 0 0-2-5-1-2-2-1-5 2 0 0-2 2 0 0 1 5 0 4 4 0-5 1 0 0-2 3-2 3 0 1 1 0 7-2 3 7-1 1 1 0 3-2 2-5 0 3 2 1 4-1 1-3 0-3-3 1 4zM316 273l-2 0 0-2 1-1 2 0 0 2zM321 283l-5 0-1-1 0-4 1 0 0-2 5 1 0 2-2 0 2 1zM305 302l-3 0 0-3 3 0zM283 313l-2 0 0-2-2 0 1-4 4 0 0 2 2 0 0 2-3-1zM350 350l-16 0 0-1-6 1-2-3-5-1 0-2-3-1-1-4-3 0 0-2 2 0 0-2-3-3 0-2 3 0 0-4 4 0 0 1 2 0 0-1 5 0 0 1 4 0 0 1 4 1 1 2 4 1 0 3 2 0 0-2-1 0 0-3-1 0 0-9 1 0 0-4 2 0-1-3 3 0 1-7 2 0 0 2 2 1zM293 324l-2 0 0-2 1-1 2 0 0 2zM344 339l-1-2-1 0 1 2zM327 350l-2 0 0-1 2 0z"/><g class="r" transform="translate(0 .5)"><path stroke="#0cf" d="M18 239h1m-1 1h1"/><path stroke="#0ff" d="M320 310h1m-8 38h1"/><path stroke="#3fc" d="M63 161h1m-1 1h1m11 1h1m-40 54h1m-14 5h1m30 1h1m-32 17h1m247 50h2m-2 1h1m15 7h1m34 12h1m-1 1h1m-4 1h2m6 4h1m0 1h1m-23 29h1m5 0h1"/><path stroke="#6f9" d="M65 159h1m2 0h2m-41 28h1m-3 19h1m-7 3h1m2 9h1m-1 1h1m28 6h1m-8 4h2m-29 7h1m258 4h1m-3 9h1m-15 11h1m-244 4h2m-2 1h1m-1 1h1m262 0h2m-283 1h2m-1 1h2m12 0h1m252 15h2m-1 1h1m5 4h1m-3 1h2m13 14h2m38 1h1m-1 1h2m-2 1h1m-8 5h1m-3 1h1m13 0h1m-12 4h1m-1 1h1m12 7h1m-34 19h1m-1 1h1m3 0h1m0 2h3m-2 1h1m5 1h2"/><path stroke="#9f6" d="M81 111h1m-25 45h2m-1 1h1m14 5h1m176 27h1m0 1h1m-2 1h1m-238 11h2m216 0h2m-220 1h1m6 3h1m-2 1h2m3 3h2m-1 1h1m-2 1h1m-2 2h1m231 1h1m-1 1h1m-223 2h2m-2 1h1m17 1h1m-3 1h2m1 0h1m208 6h1m-245 9h1m234 8h1m-241 1h3m11 0h1m225 0h1m-240 1h1m13 0h1m-1 2h1m255 1h1m-265 3h2m20 1h1m-1 1h1m-1 1h1m-2 1h1m-29 2h1m16 0h2m-19 1h2m-14 1h1m-1 1h1m19 3h1m269 0h1m-272 1h1m-1 1h1m268 0h1m-288 1h2m2 0h3m-6 1h1m2 0h1m250 2h2m-1 1h1m44 3h2m10 2h3m-3 1h1m-4 1h1m-2 1h2m-42 1h1m3 9h1m-4 1h2m28 8h1m-13 5h1m-13 2h2m0 1h2m53 4h1m-12 3h1m11 7h1m-34 15h1m12 13h1"/><path stroke="#cf3" d="M85 23h2m-4 43h2m-2 1h1m-21 21h1m2 11h1m-1 1h2m1 9h1m-2 1h2m13 0h1m158 35h1m-2 1h2m-187 1h1m184 0h1m-192 1h1m4 0h1m-6 1h2m-3 2h1m-1 1h3m-3 2h3m-3 1h1m4 3h1m17 2h3m0 1h1m-17 1h1m7 0h1m-9 1h1m9 3h3m-30 6h2m-8 4h1m-2 1h2m32 3h1m-2 1h2m-13 2h1m-3 1h3m-40 11h1m-1 6h1m-6 1h2m217 0h1m-209 8h2m-1 1h1m1 2h1m216 2h1m-5 2h2m11 0h1m-230 1h1m216 0h2m9 0h3m-212 1h1m-1 1h1m196 0h1m-2 1h2m-203 1h2m200 0h1m-203 1h1m-16 1h1m242 4h1m-223 2h1m-2 1h1m-24 3h1m226 4h1m-230 2h1m271 0h2m-6 1h1m-1 1h2m-274 3h1m-2 1h1m10 3h2m223 0h2m-223 5h1m5 0h1m-3 1h1m-32 1h1m-1 1h1m294 0h1m-295 1h1m247 0h1m-245 1h1m263 0h2m-269 1h1m2 0h3m-6 1h1m0 3h1m15 0h1m267 0h1m-285 1h1m257 3h1m-1 1h1m20 0h1m1 1h1m2 0h1m-32 1h1m44 0h1m1 1h1m9 4h1m-1 1h1m5 4h2m-1 1h1m8 0h1m-62 1h1m51 0h1m8 0h2m-62 1h1m43 1h1m21 18h1m-8 1h1m-1 1h1m-1 1h1m-23 2h1m1 0h1m-24 1h2m-2 1h1m-1 1h1m30 5h1m-36 1h1m34 0h1m5 0h1m9 0h1m-53 1h2m34 0h1m-36 1h1m34 0h1m11 1h2m4 2h1m-38 5h1m-1 10h1m-1 1h1m8 2h1m-2 1h1m-9 1h1m-3 1h3m4 0h1m4 3h1m1 0h1m-2 1h1"/><path stroke="#ff0" d="M85 0h1m-1 23h1m-3 11h1m1 0h1m4 4h1m-2 1h1m147 14h1m-165 13h2m4 2h1m7 14h1m-11 6h2m-17 11h1m3 0h1m16 13h2m-1 1h1m-2 1h1m-7 12h2m153 5h1m-156 1h1m-3 1h2m-24 6h1m-2 1h1m-1 1h1m-1 1h1m189 3h1m-1 1h1m-193 2h1m-1 1h1m-2 5h1m1 0h1m168 2h2m-173 1h2m-2 1h1m9 4h1m13 2h1m-1 1h1m-5 1h1m155 0h2m-2 1h1m14 4h1m-210 10h1m27 3h1m-33 2h1m224 1h1m-2 3h1m-2 1h1m-230 2h1m-2 1h1m-1 1h2m250 2h1m-11 1h1m-30 7h1m-223 2h1m8 0h1m3 0h1m-13 1h1m12 0h2m-16 1h2m245 0h1m15 1h2m-39 1h1m-1 1h1m36 0h2m-263 1h2m261 0h1m-25 1h1m0 1h1m16 0h2m3 0h1m-3 1h1m1 0h1m-3 1h1m1 0h1m-243 1h2m206 0h2m29 0h2m-34 2h1m-213 1h1m210 0h1m0 1h1m13 2h1m-2 1h2m-208 2h1m3 1h1m206 0h1m2 1h1m0 1h1m-216 1h1m-19 9h1m217 0h1m-219 1h1m217 0h1m-221 2h2m-1 1h1m256 4h1m-248 1h1m-20 1h1m268 1h2m-1 1h1m-249 2h1m-1 1h1m-41 1h1m38 0h1m230 0h1m-271 1h1m269 0h2m21 2h2m-288 4h1m0 1h2m297 2h1m1 0h1m-35 1h1m34 0h1m2 0h1m-40 1h2m30 0h2m1 0h2m-53 2h2m-2 1h1m54 5h1m8 0h1m1 1h2m0 1h1m-14 3h2m4 0h2m-9 1h1m9 0h2m-12 1h1m-44 1h1m5 0h1m53 2h1m-58 6h1m1 1h1m28 1h1m-5 1h1m3 0h2m-4 8h2m30 0h1m-63 1h1m9 1h1m56 0h1m-53 1h1m42 3h3m-47 1h1m45 2h1m-45 2h1m28 0h1m-30 1h2m44 0h1m-8 1h1m7 0h1m-54 3h1m49 3h1m1 3h1m-35 11h1m-5 7h3m2 0h1m6 3h1m0 1h1"/><path stroke="#fc0" d="M71 0h1m-4 1h3m-4 8h1m-1 1h1m-1 9h2m-2 2h1m2 1h1m-3 1h2m-2 1h1m5 0h1m6 2h1m4 16h1m-21 5h2m164 4h2m-169 1h2m-2 1h1m167 0h1m-169 1h1m167 1h1m-168 11h2m5 0h1m9 0h1m3 0h3m-1 1h1m-16 1h1m-4 1h1m-2 1h1m12 9h1m-1 1h1m-4 2h4m145 2h1m-1 1h1m-153 1h1m-3 1h1m2 1h1m-17 5h1m-1 1h1m-2 10h1m154 0h3m-158 1h1m-1 1h1m4 6h2m148 0h1m-151 1h1m7 1h1m-5 1h2m187 4h1m-2 1h2m-48 6h4m8 0h1m11 0h2m-157 2h2m-2 1h2m137 2h1m-3 1h1m1 0h1m0 1h1m-165 3h1m-5 3h1m-2 1h1m186 0h1m-188 1h1m193 0h1m0 1h1m-4 2h1m-188 12h1m166 0h2m-177 1h2m174 0h1m-157 2h1m-20 1h1m-1 1h1m12 0h1m1 0h1m-5 1h1m158 1h2m38 0h1m-41 1h2m4 2h1m-2 1h1m2 4h1m14 0h1m-16 1h2m-192 3h3m11 2h1m186 0h2m0 1h1m-1 1h1m-191 2h2m16 0h1m-41 3h1m222 1h1m-226 4h1m202 6h1m0 1h1m26 3h1m-247 6h2m260 0h1m-10 1h1m7 0h1m-250 1h1m248 0h1m-262 1h1m260 0h1m-263 1h2m6 0h1m-3 1h1m248 0h1m-251 1h1m-6 3h1m235 0h1m27 1h1m-3 1h1m1 0h1m-3 1h1m-254 1h1m12 0h1m238 0h1m-254 1h1m254 1h2m-238 3h1m196 2h1m7 2h1m-4 2h1m38 3h1m0 1h2m8 5h1m-17 2h1m-237 3h2m208 4h1m31 0h1m7 1h1m-2 1h2m2 1h2m-1 1h1m-273 1h1m6 0h1m261 0h1m-39 1h1m-1 1h1m44 0h1m-260 1h1m3 0h1m207 0h2m-211 1h1m230 1h2m-261 1h1m235 1h1m-228 1h1m227 0h2m-231 1h2m8 0h4m262 0h1m-277 1h1m274 0h1m0 1h1m-295 1h1m-2 1h2m10 1h1m2 0h1m-12 1h1m7 0h1m262 0h1m34 0h1m-37 1h1m34 0h2m-53 2h2m44 7h1m19 0h2m-27 1h1m26 3h1m-15 2h1m-42 1h1m5 0h1m47 0h2m5 0h2m-57 4h1m25 2h1m-1 4h1m33 1h2m-45 5h3m-17 1h1m47 3h1m-41 1h1m-11 1h2m1 11h1m39 3h2m-2 1h2m-15 18h1m6 5h1m-1 1h1m3 3h2m6 0h1m-9 1h1m6 0h2"/><path stroke="#f90" d="M71 0h1m8 0h3m-13 1h1m18 21h2m-23 1h2m21 0h1m-24 1h1m22 0h1m-22 4h2m17 3h1m0 1h1m0 1h1m147 1h1m0 1h1m0 1h2m-176 11h1m-3 5h2m151 9h2m-6 4h1m-148 1h1m146 0h1m28 2h1m-168 4h1m9 4h2m128 0h1m-1 1h1m-134 3h1m-2 2h2m165 1h1m-2 1h2m0 1h1m-4 1h2m-37 3h2m20 9h1m0 1h1m-1 1h1m-172 3h2m-5 2h1m7 4h1m146 0h1m3 1h1m-1 1h1m35 0h1m-188 1h1m14 0h1m171 0h1m-1 1h2m-2 3h2m-194 1h1m191 0h2m-193 1h3m185 1h1m5 0h1m-35 1h1m28 0h1m3 0h1m-21 3h1m7 1h2m-188 2h1m-2 1h2m-2 3h1m-4 1h1m1 0h1m176 1h1m-160 1h1m157 0h1m-3 1h1m1 0h1m1 6h2m-185 5h2m-5 4h1m170 0h1m4 3h1m-4 7h1m-174 1h1m170 4h1m42 0h1m-194 2h1m146 0h3m26 0h1m-28 1h1m34 1h2m-208 1h1m-2 1h1m174 0h1m8 0h1m3 0h1m-166 2h1m-1 1h1m156 1h1m10 0h1m-169 1h1m167 0h1m23 0h1m-206 1h1m204 0h1m-197 2h1m-34 2h2m224 0h1m-227 1h1m17 0h1m11 0h1m-31 1h1m27 0h1m-2 1h1m-1 1h2m192 2h1m-9 2h1m-221 3h2m-2 1h2m1 3h1m-14 3h1m-1 1h2m-6 3h1m260 0h1m-39 1h1m-221 5h1m237 2h1m-25 1h2m11 0h1m10 0h1m-24 1h1m-1 1h1m20 1h1m-22 1h2m3 0h2m17 0h1m-245 1h1m220 0h2m-223 2h1m221 1h2m-2 1h2m17 0h2m-209 1h1m191 0h1m-1 1h1m36 0h2m-227 1h2m186 0h1m-189 1h2m-22 1h1m237 1h1m6 0h1m-21 1h1m18 0h2m-31 2h1m1 1h1m-204 1h1m202 0h2m-208 1h1m239 1h2m6 4h1m-279 1h1m263 0h1m13 0h1m-278 1h1m274 0h2m-41 1h1m28 0h1m9 1h1m-276 1h1m268 1h3m-31 1h1m40 2h1m-1 1h2m-253 1h1m245 0h1m-40 1h1m38 0h1m5 0h1m-268 1h1m-12 1h2m233 3h1m-3 1h2m-211 1h1m222 0h1m-5 4h1m-248 1h2m245 0h1m-248 1h1m1 0h1m281 1h1m-295 1h1m-1 1h1m262 8h2m35 1h1m11 7h2m-5 4h1m10 0h1m-45 1h1m-4 11h1m66 0h1m-68 1h1m66 0h1m-70 1h2m69 0h1m-48 1h1m3 0h3m41 1h1m-74 1h2m70 0h2m-43 1h1m41 0h1m-39 8h1m0 1h2m-2 1h1m-21 1h1m22 2h1m5 0h1m-1 1h1m-6 1h1m-22 1h2m19 0h1m-2 1h2m4 1h1m-28 1h2m9 3h2m6 16h1m-14 2h1m23 3h1m-3 1h1m-1 1h1"/><path stroke="#ff4b00" d="M80 0h1m129 0h3m-145 1h1m1 0h1m141 1h1m0 2h2m16 3h2m3 1h2m-6 1h1m-166 1h1m168 1h1m-5 2h1m-164 2h1m144 0h1m-147 1h1m149 1h2m-152 2h1m152 0h2m-11 1h2m1 0h1m2 0h1m-130 2h1m1 1h1m160 0h1m-177 1h1m-4 2h1m180 1h1m-185 1h1m182 0h1m-1 1h1m-181 1h2m174 1h1m-160 1h1m124 0h1m-8 2h1m25 0h1m9 0h1m-37 1h1m31 0h1m-9 2h1m-17 1h2m-142 1h2m7 0h2m124 0h2m-128 1h2m125 0h1m-3 1h1m5 0h1m-139 1h1m136 0h2m29 0h1m-179 1h2m8 0h1m3 0h2m132 0h1m-149 1h2m157 0h2m17 0h2m-20 2h1m19 0h1m-180 1h1m156 0h3m19 0h1m-180 1h1m177 0h2m-3 2h2m1 1h1m-11 2h1m-175 1h1m1 1h1m147 4h2m1 2h1m2 0h3m-10 4h1m-126 2h1m-20 3h1m16 0h2m166 2h1m-1 1h1m-46 1h2m31 0h1m7 0h1m4 0h1m-41 2h1m39 0h1m-177 1h1m156 0h1m-150 1h1m124 0h2m40 0h1m-25 1h1m11 0h1m-175 1h1m149 0h1m6 0h1m4 0h1m-21 1h2m6 0h2m22 0h2m8 0h1m-187 1h1m159 1h1m26 0h1m-188 1h1m149 0h1m30 0h1m1 1h1m-186 2h2m162 1h2m-16 3h2m11 0h1m-1 1h2m22 0h1m-191 2h1m-1 2h1m177 0h1m-6 3h1m-1 1h1m-173 1h2m154 0h1m-158 1h1m-1 7h1m-2 2h1m184 1h1m9 0h1m-15 1h1m-181 1h1m180 0h1m-174 1h1m183 0h1m2 1h1m-194 1h1m192 0h1m-191 1h1m178 0h1m6 1h1m5 0h1m-37 1h1m-160 3h1m150 0h1m11 0h1m-146 1h1m143 0h1m19 0h1m-187 2h1m153 0h2m20 0h1m15 0h1m-186 1h1m182 0h3m-185 1h1m12 0h2m137 0h1m1 0h1m35 0h1m-191 1h1m7 0h2m139 0h1m1 0h2m-154 1h1m149 0h1m40 0h1m-201 1h1m156 1h1m4 0h1m35 0h2m-203 1h1m160 0h1m4 0h1m34 0h1m-201 1h1m177 0h1m21 0h1m-40 1h2m2 0h1m32 1h3m-3 1h1m-33 1h1m9 0h2m-181 1h1m166 0h2m-170 1h1m193 1h1m-193 4h1m187 0h1m-187 2h1m166 0h1m1 3h1m-1 6h1m1 0h1m-153 2h1m-1 3h1m-25 2h1m0 1h1m203 0h2m-16 1h2m-2 1h2m11 0h2m-32 1h1m25 0h1m10 0h1m-195 2h1m152 0h1m37 0h1m-214 1h1m1 0h1m19 0h1m148 0h3m39 0h1m4 0h1m-222 2h1m27 0h1m146 0h1m9 0h2m-179 1h2m3 0h1m184 0h2m-192 1h2m186 0h1m-201 1h2m183 0h1m38 0h1m-40 1h1m1 0h1m15 0h1m-179 1h1m162 0h1m13 1h1m21 0h1m-36 1h1m12 0h1m21 0h1m-42 1h2m-190 1h1m193 0h1m12 0h1m-208 1h1m1 0h1m192 0h1m-173 1h1m3 0h1m179 0h1m-185 1h1m175 2h1m9 0h1m3 0h1m-15 2h2m2 1h1m13 1h1m-228 1h1m2 0h2m1 0h1m-1 1h1m-10 1h1m-2 2h2m6 0h1m201 0h1m35 0h2m-34 1h1m2 1h1m31 1h2m-254 1h2m-4 1h1m223 1h1m32 0h1m-1 1h1m-12 2h3m3 1h1m6 0h1m-2 3h1m-23 1h2m-236 1h1m233 0h2m22 0h1m-45 1h1m-1 1h1m5 0h1m33 0h1m-259 3h1m217 0h2m-1 1h1m42 0h1m-245 1h1m218 0h1m-22 1h2m11 0h1m9 0h1m1 0h1m17 0h1m-254 1h1m23 0h1m196 1h1m33 0h1m-257 1h1m220 0h1m-239 2h1m2 0h1m45 0h1m203 1h1m-228 1h1m-1 1h1m210 0h2m33 1h1m-4 2h1m-25 1h1m18 0h1m-19 1h1m-248 1h2m282 1h1m1 1h2m-2 1h2m-277 1h1m2 1h1m21 0h1m248 0h1m-275 2h1m26 0h1m247 0h2m-259 1h1m8 0h1m215 0h1m-2 1h1m37 1h1m-251 2h1m-1 1h1m242 0h2m-273 1h1m13 0h1m222 0h1m33 0h1m8 0h1m-279 2h1m272 0h1m-273 1h1m237 1h2m15 1h1m2 0h1m19 0h1m-39 1h1m14 0h1m-233 1h1m222 0h1m2 0h1m-227 1h1m211 0h1m13 0h1m-249 1h1m0 2h2m15 0h2m237 0h1m-245 1h1m-25 2h2m13 0h1m-12 1h1m1 0h2m7 0h1m8 0h2m240 0h2m22 0h1m-285 1h1m237 1h1m-242 1h2m241 0h1m1 0h1m19 0h2m-272 1h1m252 0h1m16 0h1m-18 1h1m38 0h1m14 1h1m-50 2h1m13 1h1m-13 1h2m-4 2h1m57 0h1m-49 2h3m44 1h2m-2 1h1m-17 2h1m-27 1h2m-4 2h1m31 2h2m19 2h1m4 2h2m-1 1h1m2 0h1m-61 1h1m58 1h2m-1 1h1m-1 1h1m2 0h2m-54 2h1m3 0h2m48 0h1m-56 1h1m5 0h1m-1 1h1m-21 2h2m15 2h1m15 1h1m37 0h2m-64 1h1m62 0h1m-15 6h1m-25 2h1m0 1h2m27 4h1m-26 2h1m-1 1h1m-1 1h1m9 0h1m6 0h1m-8 1h2m2 2h1m-32 1h2m29 0h1m-30 1h1m6 1h1m1 1h1m-1 1h3m-1 5h1m-4 1h1m-8 4h1m17 6h1m-8 3h1m8 1h1m1 0h1m-1 1h1"/><path stroke="#f00" d="M69 0h1m12 0h3m127 0h4m10 0h1m1 0h1m22 0h1m-39 1h1m12 0h2m22 0h1m-183 1h1m158 0h1m18 0h2m1 0h1m-37 1h1m12 0h1m20 0h1m-31 1h1m27 0h1m1 0h1m1 0h1m-181 1h1m145 0h3m31 0h1m-31 2h1m-153 1h1m160 0h1m8 0h1m-8 2h1m5 0h1m-5 1h1m-165 1h1m146 0h1m15 0h1m3 0h1m-166 1h2m165 0h1m-169 1h2m142 0h2m20 0h1m1 0h1m-21 1h1m-148 1h1m147 0h1m13 0h1m-14 1h2m-154 1h1m-1 2h1m145 0h2m5 0h1m-8 1h1m2 0h1m26 0h1m-176 1h1m16 0h1m155 0h1m6 0h1m-180 1h1m20 0h1m-9 1h1m2 0h1m156 0h1m6 0h1m2 0h1m-170 1h1m166 0h1m1 0h2m-185 1h1m142 0h3m35 0h4m-181 1h1m4 0h1m5 0h1m125 0h2m30 0h1m7 0h1m2 0h1m-174 1h1m129 0h2m5 0h1m-147 1h1m6 0h1m129 0h1m1 0h1m5 0h1m1 0h1m32 0h3m-182 1h1m1 0h1m10 0h1m122 0h1m10 0h1m20 0h3m6 0h4m1 0h1m-181 1h2m11 0h2m126 0h1m27 0h2m6 0h2m-164 1h1m149 0h1m4 0h1m8 0h1m-169 1h1m4 0h1m121 0h1m14 0h1m11 0h1m6 0h1m6 0h1m-179 1h1m5 0h1m9 0h1m121 0h1m1 0h1m6 0h1m1 0h1m28 0h2m-181 1h1m15 0h2m119 0h1m8 0h1m32 0h1m-178 1h1m2 0h1m6 0h1m4 0h1m123 0h2m1 0h1m6 0h1m6 0h1m9 0h2m8 0h1m-177 1h1m3 0h2m6 0h3m134 0h2m2 0h1m12 0h1m1 0h2m1 0h1m-177 1h1m4 0h1m5 0h1m134 0h1m8 0h1m4 0h1m14 0h2m3 0h1m-168 1h1m3 0h1m140 0h2m15 0h2m-179 1h1m6 0h1m134 0h1m16 0h2m16 0h1m-170 1h2m134 0h1m32 0h1m1 0h1m3 0h1m-176 1h3m4 0h2m124 0h2m4 0h1m10 0h1m23 0h2m-184 1h1m13 0h1m127 0h1m1 0h2m12 0h3m18 0h1m1 0h2m-183 1h1m141 0h5m31 0h3m-37 1h2m1 0h1m11 0h1m19 0h4m-5 1h2m1 0h1m-36 1h2m10 0h2m17 0h1m3 0h1m-184 1h2m145 0h1m1 0h1m9 0h2m18 0h1m1 0h1m1 0h1m-184 1h2m148 0h2m7 0h2m22 0h1m-183 1h1m147 0h2m1 0h1m6 0h2m21 0h1m-32 1h1m7 0h1m-1 1h1m2 0h1m7 0h2m9 0h1m-179 2h1m166 0h1m-8 1h1m6 0h1m-170 1h3m146 0h1m2 0h1m-153 1h1m1 0h2m163 0h1m2 0h1m-169 1h1m167 0h1m-173 1h1m1 0h1m147 0h1m2 0h1m1 0h1m10 2h1m-167 1h1m179 1h3m-182 1h1m146 0h1m1 0h1m1 0h1m1 0h1m26 0h2m-182 1h1m176 0h1m4 0h3m-163 1h1m128 0h1m23 0h1m6 0h1m1 0h2m-187 1h1m7 0h1m13 0h1m162 0h2m-182 1h1m11 0h1m153 0h1m2 0h1m1 0h1m-3 1h1m11 0h2m-166 1h1m126 0h2m36 0h2m-181 1h1m166 0h1m1 0h1m11 0h1m-45 1h3m38 0h1m-43 1h3m40 0h2m-184 1h1m11 0h1m127 0h1m5 0h1m23 0h2m10 0h1m-181 1h1m11 0h2m130 0h1m2 0h1m18 0h1m-153 1h1m122 0h2m28 0h1m9 0h1m4 0h1m-183 1h1m9 0h1m125 0h4m28 0h1m6 0h1m1 0h1m-179 1h1m5 0h1m4 0h1m3 0h1m121 0h1m1 0h1m14 0h1m1 0h1m12 0h1m4 0h1m-177 1h1m3 0h1m1 0h1m11 0h1m137 0h1m6 0h1m8 0h1m11 0h1m-178 1h1m11 0h1m120 0h1m10 0h1m11 0h1m19 0h1m-176 1h1m8 0h2m128 0h3m13 0h1m10 0h1m-172 1h1m7 0h1m1 0h2m126 0h1m7 0h1m8 0h1m1 0h1m22 0h1m-187 1h1m6 0h1m8 0h3m1 0h1m128 0h3m10 0h3m-149 1h2m143 0h3m23 0h1m-190 1h1m8 0h1m142 0h1m13 0h1m-167 1h2m8 0h2m5 0h1m131 0h1m15 0h1m17 0h1m3 0h3m-191 1h1m1 0h1m10 0h1m3 0h1m132 0h1m15 0h1m16 0h1m6 0h1m-43 1h1m1 0h2m14 0h1m23 0h1m-192 1h1m149 0h5m34 0h1m-38 1h1m2 0h1m10 0h2m21 0h1m-37 1h1m35 0h1m-190 1h1m151 0h1m1 0h2m10 0h1m20 0h2m-188 1h2m151 0h1m11 0h1m19 0h2m1 0h1m-34 1h1m29 0h1m-32 1h2m1 0h1m11 0h1m1 0h1m-16 1h3m5 0h1m19 0h3m-30 1h3m4 0h1m19 0h2m-27 1h2m5 0h1m16 0h2m-184 1h1m168 0h1m8 0h1m4 0h1m-186 1h3m166 0h1m10 0h1m3 0h1m-184 1h1m2 0h1m155 0h1m16 0h1m5 0h2m-11 1h1m7 0h2m-182 1h1m155 1h1m1 0h2m9 0h1m0 1h1m-15 2h1m12 0h1m13 0h2m1 0h1m-190 1h1m187 0h1m1 0h2m-34 1h1m1 0h2m28 0h1m-37 1h1m8 0h1m18 0h1m8 0h3m-187 1h1m13 0h1m1 0h1m136 0h1m30 0h2m-188 1h1m11 0h1m161 0h1m-180 1h1m13 0h1m1 0h1m176 0h1m-1 1h1m1 0h1m-195 1h1m5 0h1m3 0h1m9 0h1m135 0h1m26 0h1m-178 1h1m146 0h2m37 0h1m-187 1h1m4 0h1m1 0h1m3 0h1m133 0h1m40 0h4m-45 1h1m29 0h1m10 0h2m2 0h1m-193 1h2m8 0h1m136 0h1m5 0h1m1 0h1m17 0h1m1 0h1m12 0h1m1 0h2m-180 1h2m132 0h1m6 0h1m16 0h1m11 0h1m1 0h1m1 0h1m-178 1h2m3 0h1m130 0h1m1 0h1m4 0h1m31 0h1m1 0h1m4 0h1m-193 1h1m15 0h1m130 0h1m13 0h1m10 0h1m5 0h1m4 0h1m2 0h2m4 0h1m-191 1h1m1 0h1m11 0h2m128 0h2m22 0h1m8 0h1m11 0h1m-195 1h1m147 0h1m5 0h1m7 0h1m29 0h1m-195 1h2m8 0h1m11 0h1m130 0h1m5 0h1m2 0h3m21 0h1m1 0h1m5 0h1m-189 1h1m4 0h1m140 0h1m5 0h2m1 0h1m7 0h1m26 0h1m-198 1h1m13 0h1m7 0h1m139 0h2m6 0h2m4 0h1m20 0h1m-181 1h2m140 0h1m12 0h5m14 0h1m1 0h1m3 0h1m-191 1h2m8 0h3m2 0h1m149 0h3m16 0h1m5 0h1m-200 1h1m19 0h1m137 0h1m3 0h1m11 0h1m18 0h1m2 0h1m2 0h1m-189 1h1m145 0h1m1 0h1m17 0h1m18 0h2m-200 1h1m14 0h1m4 0h1m155 0h3m18 0h3m-184 1h2m144 0h2m33 0h1m-199 1h1m159 0h1m2 0h3m-165 1h2m158 0h1m1 0h2m13 0h1m18 0h1m3 0h1m-38 1h1m12 0h1m20 0h1m-33 1h2m9 0h1m20 0h2m-36 1h1m1 0h1m11 0h1m18 0h2m-33 1h1m30 0h1m-30 1h1m13 0h1m6 0h1m8 0h1m-29 1h1m18 0h1m-19 1h1m25 0h2m-201 1h1m1 0h1m170 0h2m4 0h1m14 0h1m3 0h1m-198 1h1m1 0h2m170 0h2m21 0h2m-195 1h1m177 0h1m2 0h1m10 0h2m-195 1h1m180 0h1m11 0h1m-197 1h1m167 0h1m20 0h1m1 0h1m-7 1h1m-12 1h2m-3 1h1m23 0h3m-25 1h1m24 0h1m-205 1h1m206 0h1m-208 1h1m201 0h1m4 0h1m1 0h2m-8 1h1m5 0h1m-35 1h1m27 0h1m7 0h1m-41 1h1m7 0h1m18 0h1m11 0h2m-212 1h1m3 0h1m2 0h1m205 0h1m-38 1h1m33 1h2m-198 1h1m196 0h2m-196 1h1m6 0h1m150 0h1m36 0h1m-41 1h2m27 0h1m1 0h1m10 0h1m-212 1h1m9 0h1m157 0h2m6 0h1m29 0h1m-41 1h2m11 0h1m16 0h1m7 0h1m1 0h1m-207 1h1m2 0h1m1 0h1m5 0h1m154 0h1m6 0h1m23 0h1m12 0h1m-45 1h1m42 0h1m-203 1h1m184 0h1m7 0h1m-201 1h1m11 0h1m152 0h1m16 0h2m-170 1h1m151 0h1m4 0h2m6 0h1m2 0h1m7 0h1m17 0h1m-200 1h1m156 0h1m2 0h1m8 0h1m26 0h1m-215 1h1m1 0h1m173 0h1m2 0h1m1 0h1m4 0h2m4 0h1m26 0h1m-208 1h1m8 0h1m4 0h1m158 0h2m9 0h2m18 0h1m2 0h2m-222 1h1m8 0h1m12 0h1m153 0h3m5 0h1m12 0h2m22 0h1m-213 1h1m12 0h1m5 0h1m169 0h1m18 0h2m2 0h1m-225 1h1m23 0h2m4 0h1m155 0h1m33 0h3m-212 1h1m12 0h2m5 0h1m151 0h1m36 0h2m-211 1h1m188 0h2m21 0h1m-213 1h1m12 0h3m4 0h1m150 0h1m-160 1h2m3 0h1m153 0h1m3 0h1m13 0h1m19 0h4m-229 1h2m15 0h1m9 0h2m1 0h2m156 0h1m16 0h1m21 0h1m-200 1h1m3 0h1m156 0h1m-194 1h1m21 0h3m206 0h1m-209 1h1m1 0h1m3 0h1m165 0h1m13 0h1m19 0h2m-208 1h1m1 0h2m4 0h1m163 0h4m15 0h1m6 0h1m7 0h1m-32 1h1m24 0h1m6 0h1m-32 1h2m-205 1h1m205 0h2m5 0h1m-7 1h2m4 0h1m-5 1h1m8 0h1m-218 1h3m206 0h2m5 0h1m3 0h1m1 0h1m2 0h1m4 0h1m-231 1h3m221 0h1m-19 1h2m1 0h1m21 1h2m1 0h4m-234 1h1m216 0h1m15 0h2m-240 1h1m210 0h1m28 0h3m-12 1h1m9 0h1m-36 1h1m35 0h2m-1 1h1m-253 1h1m-2 1h1m254 0h1m-259 1h1m256 0h2m1 0h1m-40 1h1m1 0h1m-3 1h1m33 0h1m1 0h1m-259 1h2m244 0h2m2 0h1m10 0h1m-262 1h1m251 0h1m-31 2h2m29 0h1m-256 1h1m8 0h2m4 0h1m207 0h1m-223 1h1m4 0h1m7 0h1m206 0h1m11 0h1m4 0h1m4 0h1m8 0h3m1 0h1m6 0h1m-250 1h1m205 0h1m5 0h1m18 0h1m7 0h1m-250 1h1m224 0h1m9 0h1m-21 1h1m11 0h1m1 0h2m29 0h1m-262 1h1m215 0h1m6 0h1m9 0h1m-19 1h1m14 0h1m10 0h1m14 0h1m-249 1h1m207 0h1m6 0h1m5 0h1m27 0h1m-41 1h2m9 0h2m6 0h1m2 0h2m-233 1h1m208 0h2m2 0h1m1 0h1m3 0h1m10 0h2m18 0h1m-43 1h1m8 0h1m35 0h1m-264 1h1m228 0h1m31 0h2m-257 1h1m23 0h1m196 0h1m13 0h2m18 0h1m-260 1h1m2 0h1m17 0h1m14 0h1m202 0h2m-242 1h2m2 0h1m2 0h1m6 0h1m1 0h1m19 0h1m3 0h1m182 0h1m38 0h1m-255 1h1m1 0h1m24 0h1m4 0h1m187 0h1m12 0h1m19 0h1m-271 1h1m2 0h1m42 0h1m1 0h1m1 0h1m183 0h1m14 0h1m19 0h1m-263 1h1m12 0h1m26 0h1m188 0h1m13 0h1m19 0h1m-246 1h1m206 0h2m1 0h3m19 0h1m4 0h1m6 0h1m-38 1h1m1 0h3m-210 1h1m208 0h1m13 0h1m18 0h1m-267 1h2m234 0h1m10 0h1m18 0h1m-269 1h1m1 0h1m38 0h1m194 0h3m11 0h1m16 0h1m-271 1h2m28 0h1m1 0h1m210 0h1m26 0h1m-270 1h1m12 0h1m230 0h3m6 0h1m19 0h3m2 0h2m-282 1h2m8 0h2m1 0h1m1 0h1m14 0h1m219 0h1m7 0h1m14 0h1m6 0h1m1 0h1m-273 1h1m13 0h1m7 0h1m219 0h1m29 0h1m1 0h1m-286 1h1m10 0h1m13 0h1m7 0h1m250 0h4m-288 1h1m9 0h1m23 0h1m216 0h1m1 0h1m20 0h1m-265 1h1m7 0h1m10 0h1m5 0h1m239 0h1m-247 1h1m7 0h1m216 0h1m32 0h2m-279 1h1m18 0h1m6 0h1m250 0h2m1 0h1m-280 1h1m25 0h2m247 0h1m-259 1h1m220 0h1m21 0h1m2 0h1m12 1h2m-278 1h2m15 0h1m10 0h2m240 0h1m2 0h1m-273 1h1m14 0h1m12 0h1m-28 1h1m14 0h1m262 0h1m-266 1h1m13 0h1m242 0h1m-271 1h1m12 0h1m11 0h4m212 0h1m18 0h1m11 0h1m2 0h1m5 0h1m-257 1h1m1 0h1m241 0h1m4 0h1m6 0h1m-281 1h1m10 0h1m1 0h1m226 0h1m17 0h1m17 0h1m-275 1h2m7 0h1m241 0h1m20 0h1m3 0h1m-266 1h1m10 0h1m1 0h1m212 0h1m35 0h1m1 0h3m-271 1h1m12 0h1m1 0h3m211 0h1m8 0h1m29 0h2m-258 1h1m2 0h3m216 0h1m34 0h1m2 0h1m-269 1h1m2 0h2m231 0h2m6 0h1m2 0h1m20 0h1m-265 1h1m2 0h1m5 0h1m209 0h1m5 0h1m14 0h1m2 0h1m19 0h1m1 0h1m-297 1h1m17 0h1m17 0h1m2 0h1m227 0h1m24 0h4m-265 1h2m216 0h2m5 0h1m11 0h1m3 0h2m20 0h1m-281 1h1m233 0h1m7 0h1m12 0h1m2 0h2m22 0h1m-295 1h2m7 0h1m1 0h1m21 0h1m220 0h1m5 0h1m32 0h2m-295 1h1m4 0h1m15 0h1m226 0h1m1 0h1m8 0h1m33 0h1m-283 1h1m5 0h1m11 0h1m1 0h2m215 0h2m7 0h1m1 0h1m11 0h2m-245 1h1m-26 1h1m14 0h1m232 0h2m40 0h1m-295 1h2m4 0h1m6 0h1m260 0h1m11 0h1m-288 1h1m8 0h2m-10 1h1m6 0h1m9 0h1m237 0h1m18 0h1m30 0h2m-306 1h1m1 0h1m4 0h1m6 0h3m237 0h1m4 0h1m21 0h1m9 0h1m2 0h1m7 0h1m1 0h1m1 0h1m-295 1h2m264 0h1m20 0h4m3 0h1m2 0h2m-57 1h1m2 0h3m14 0h1m18 0h1m4 0h1m10 0h1m4 0h1m1 0h1m-62 1h1m2 0h2m2 0h1m27 0h1m5 0h1m12 0h1m6 0h1m-58 1h1m3 0h1m11 0h1m10 0h1m29 0h1m1 0h1m-57 1h1m12 0h1m20 0h1m-33 1h2m10 0h1m1 0h1m33 0h1m1 0h1m-51 1h2m1 0h1m1 0h1m6 0h1m3 0h1m6 0h1m24 0h1m-41 1h2m22 0h1m16 0h2m-41 1h1m43 0h1m-17 1h1m-32 1h2m23 0h1m15 0h1m-44 1h1m39 0h1m15 0h1m-52 1h1m30 0h2m5 0h1m-10 1h1m18 1h1m2 0h1m1 0h1m-50 1h1m23 0h1m10 0h2m9 0h4m3 0h1m-65 1h1m5 0h1m35 0h1m1 0h1m7 0h1m5 0h2m5 0h1m-30 1h1m20 0h1m1 0h1m6 0h1m-34 1h1m22 0h1m9 0h1m-5 1h4m-6 1h1m2 0h2m-33 1h1m28 0h1m1 0h2m-62 1h1m6 0h1m57 1h2m-3 1h2m-36 1h1m38 0h1m-64 1h1m2 0h1m18 0h1m2 0h1m36 0h1m-64 1h1m3 0h1m12 0h1m10 0h1m33 0h2m1 1h1m-52 1h1m12 0h2m34 0h3m-69 2h1m6 0h1m60 0h2m-63 1h1m14 0h1m8 0h1m37 0h1m-71 1h2m24 0h2m42 0h2m-72 1h1m16 0h1m11 0h1m-31 1h1m8 0h1m6 0h1m18 0h1m24 0h1m11 0h2m-66 1h1m56 0h1m7 0h2m-73 1h2m10 0h2m18 0h1m21 0h1m-55 1h2m4 0h1m1 0h1m23 0h1m21 0h2m16 0h1m-71 1h1m7 0h1m3 0h1m18 0h1m-22 1h1m18 0h1m-28 1h1m28 0h2m34 0h1m-69 1h1m31 0h2m27 0h1m7 0h1m-62 1h1m37 0h1m17 0h1m-55 1h1m1 0h1m19 0h1m1 0h1m12 0h1m8 0h1m6 0h1m-7 1h1m7 0h1m1 0h1m-62 1h1m-1 1h1m2 0h1m2 0h1m1 0h1m20 0h1m22 0h1m-47 1h1m-7 1h1m4 0h2m-6 1h1m3 0h3m1 0h1m37 0h1m-44 1h1m1 0h1m4 0h1m31 0h1m14 0h2m-58 1h1m3 0h1m29 0h1m-6 1h1m26 0h1m-27 1h1m8 0h1m-34 1h1m24 0h1m3 0h1m3 0h2m8 0h1m-43 1h1m5 0h1m2 0h1m15 0h1m6 0h1m15 0h2m-46 1h1m1 0h1m2 0h2m1 0h1m12 0h2m2 0h1m3 0h1m2 0h1m-30 1h1m1 0h2m1 0h1m25 0h1m6 0h1m1 0h1m-34 1h2m29 0h1m3 0h1m-35 1h2m1 0h2m24 0h1m-26 1h3m25 0h1m-27 1h1m26 0h1m-26 7h1m2 3h1m-1 1h1m0 2h1m-21 1h1m21 0h1m-9 1h1m0 2h2m18 2h1"/></g></g>
<use href="#qa" transform="matrix(-1 0 0 1 700 0)"/><use href="#qa" transform="matrix(1 0 0 -1 0 700)"/><use href="#qa" transform="matrix(-1 0 0 -1 700 700)"/></svg>
<path class="t" d="M146.9 565.2v-5.0M146.9 30.9v5.0M70.9 106.9h5.0M605.4 106.9h-5.0M223.2 565.2v-5.0M223.2 30.9v5.0M70.9 183.2h5.0M605.4 183.2h-5.0M299.5 565.2v-5.0M299.5 30.9v5.0M70.9 259.5h5.0M605.4 259.5h-5.0M375.8 565.2v-5.0M375.8 30.9v5.0M70.9 335.8h5.0M605.4 335.8h-5.0M452.0 565.2v-5.0M452.0 30.9v5.0M70.9 412.0h5.0M605.4 412.0h-5.0M528.3 565.2v-5.0M528.3 30.9v5.0M70.9 488.3h5.0M605.4 488.3h-5.0M604.6 565.2v-5.0M604.6 30.9v5.0M70.9 564.6h5.0M605.4 564.6h-5.0"/><path class="b2" d="M605.40 30.90V565.20H70.90"/><path class="b" d="M70.90 565.70V30.90H605.90"/><g class="xl"><text transform="matrix(.957 0 0 1 147.0 591.1)">100</text> <text transform="matrix(.957 0 0 1 223.3 591.1)">200</text> <text transform="matrix(.957 0 0 1 299.6 591.1)">300</text> <text transform="matrix(.957 0 0 1 375.9 591.1)">400</text> <text transform="matrix(.957 0 0 1 452.1 591.1)">500</text> <text transform="matrix(.957 0 0 1 528.4 591.1)">600</text> <text transform="matrix(.957 0 0 1 604.7 591.1)">700</text> </g><g class="yl"><text transform="matrix(.957 0 0 1 65.2 115.1)">100</text> <text transform="matrix(.957 0 0 1 65.2 191.4)">200</text> <text transform="matrix(.957 0 0 1 65.2 267.7)">300</text> <text transform="matrix(.957 0 0 1 65.2 344.0)">400</text> <text transform="matrix(.957 0 0 1 65.2 420.2)">500</text> <text transform="matrix(.957 0 0 1 65.2 496.5)">600</text> <text transform="matrix(.957 0 0 1 65.2 572.8)">700</text> </g>
<g class="c"><text x="65.2" y="650.7" textLength="45.2" lengthAdjust="spacingAndGlyphs">(<tspan class="k">a</tspan>)</text> <text x="118.2" y="650.7" textLength="160.8" lengthAdjust="spacingAndGlyphs">Newton’s</text> <text x="287.3" y="650.7" textLength="64.5" lengthAdjust="spacingAndGlyphs">2nd</text> <text x="360.1" y="650.7" textLength="92.0" lengthAdjust="spacingAndGlyphs">order</text> <text x="460.4" y="650.7" textLength="126.9" lengthAdjust="spacingAndGlyphs">method</text> </g>
<svg x="1161.8" y="31.6" width="533.7" height="533.4" viewBox="0 0 699.607 699.213" preserveAspectRatio="none" shape-rendering="crispEdges"><rect width="700" height="700" fill="#009"/>
<g id="qb"><path fill="#00c" d="M350 350l-118 0-2-4-5 0-2 2 0 2-224 0 0-351 351 0 0 238-3 0-1 1 0 5 2 2 2 0zM7 177l-1-2 0 2z"/><path fill="#00f" d="M350 350l-99 0-1-13-7-14-10-10-4-1-1-2-5-1-2-2-9-1 0-1-18 1 0 1-9 2-4 2-1 2-2 0-1 2-2 0-12 13-3 6-1 6-1 0-1 10-158 0 0-181 2 0 5-5 0-2 2-1 3-6 0-4 1 0 0-14-1 0 0-3-3-6-2-1 0-2-5-5-2 0 0-121 351 0 0 206-10 1-4 2-1 2-2 0-7 8-2 4 0 4-1 0 0 11 1 0 0 3 3 6 3 2 0 2 2 0 5 5 3 0 3 2 7 0zM7 177l-1-2 0 2zM80 231l0-3-1-1-3 1 1 3zM38 292l2-1 1-2-1-6-2-2-7 1-1 1 0 7 2 2z"/><path fill="#03f" d="M350 350l-86 0 0-3-6-10 0-9 1 0 0-3 3-6 0-4 1 0-1-7-2-4-2-1 0-2-9-9-2 0-3-4-2 0-2-3-2 0-2-3-2 0-4-5-2 0-17-17 0-2-14-14 0-2-27-26-5-2-5-5-4-1-1-2-10-5-3 0-5-3-8-1 0-1-5 0 0-1-14 0 0 1-8 1-8 4-5 5-2 0-11 11-3 7-2 1 0 3-7 14-6 5-1 3-11 10-2 0-9 8-6 3-3 0-2 2-4 0 0 1-4 0 0 1-7 0 0 1-10 0 0-25 2 0-2-1 0-54 2 0-2-1 0-18 2 0 4-3 4 0 0-1 4 0 0-1 6-1 1-2 2 0 5-5 3-6 0-3 1 0 0-4 1 0 0-37-1 0 0-12-1 0 0-6-1 0 0-4-1 0-2-9-3-6-4-4 0-2-3-2 0-2-12-10-5-1 0-57 351 0 0 149-8 0 0 1-8 1-10 5-1 2-2 0-12 13-4 8 0 3-2 3 0 5-1 0 0 20 1 0 0 6 1 0 0 5 1 0 0 5 1 0 0 4 1 0 0 5 1 0 2 12 4 8 4 4 4 2 3 0 0 1 15-1 4 3 6 1zM98 128l-1-3-1 2zM82 155l1-2-1-1-3 0 0 3zM281 155l0-2-2 0 0 2zM7 177l-1-2 0 2zM45 180l0-2-2 0 0 2zM75 180l-1-2 0 2zM64 187l1-3-2-1-1 3zM47 201l-1-2 0 2zM60 213l1-4-3-1-1 1 0 3 1 1zM52 221l2-3-5-1 0 3 1 1zM48 227l1-2-2-1 0 3zM57 229l0-2-2 0 0 2zM18 246l1-2-2 0 0 2zM30 246l-3-2 1 2zM32 247l-1-2 0 2zM22 248l0-2-2 0 0 2zM32 251l0-2-2 0 0 2zM12 255l0-3-2 0 0 3zM301 260l-1-2-2 1zM296 275l2-2 0-4-2-2-5 0-2 3 1 4 2 1zM335 272l2-3-3 0 0 3zM343 271l0-2-2 0zM278 283l1-1 0-4-1-1-4 0-1 1 0 4 1 1zM307 280l-1-2 0 2zM316 299l1-4-4 0 0 2 2 0 0 2zM276 321l-1-2 0 2zM269 331l1-2-2 0 0 2zM269 339l-1-2 0 2zM266 343l-1-2 0 2z"/><path fill="#06f" d="M350 350l-65 0 0-2-3 2-8 0 0-1-4 0-1-4-3-1 0-3-3 0 0-2-3-1 1-2-2-4 2 0 2-7 1-1 2 1-1-2 5-1 1-2 2 0-1-3 2 1 1-2 4 2 1 2 2-1-1-1 0-4 3 0 0-1 1 1 5-1 1 1 2-1 0-2 4 2 0-2 3-3 3 0 0-2-5 1 1 2-2 0 0-2-5 1 0 1-4-1-1 3-1-1-4 1-1-3 2-1-2-1-1 1-6 0-1-3 2-1-4-5-11-5-3-4 0-2-2-1 0-2-3-3-9-1 0-2-2 1-3-3-2-8-3-3-2 0-1-2-2 0-4-3-2-4 0-9 1 0 0-5 1 0 0-11-1 0 0-3-3-3-1-4-3-2 0-2-3-2 0-2-5-4 0-2-4-3 0-2-3-2 0-2-4-4-1-4-2-1-5-10 0-3-3-4 0-3-3-4-2-8-4-6 0-3-2-4-2-1-2-6-4-4-2-5-6-5 0-2-2-2-2 0-4-5-2 0-2-3-8-4-4-2-4 0 0-1-5 0 0-1-13 1-6 3-3 4-2 0-2 2 0 2-4 3-3 6 0 3-1 0 0 4-3 6-2 1 0 2-12 11-5 1-2 2-3 0-3 3-2 0-6 7-3 8-3 1 1 4 4 0 1 1 1 2-1 4 1 1 2-3 0-4 1-1 10 0 0 1 3 0 2 2 0 6-3 4 0 4 4 8 0 9-3 4 0 8-2 1 0 4-4 1-1 1 0 3-3 3-6 1-2 4-4-1-1-2 1 5-2 1 2 1-3 2-1 3-3 0 0-2-2-2-3 0 0 4 3 1 0 4-2 3-2 0-3 3-1 5-7 1-2 3-3 0-4-3-13 0-2-2-2 0 0-13 4 0 1-2-1-2-2 0 0 2-2 0 0-54 2 0-2-1 0-15 2 0 0-2 4-2 1 1 1-1 19 1 4-3 2-4 0-3 1 0 0-3 7-10 0-7-2-3 1-3-2 0 0-4 2-3 0-13-1 0 0-3 1 0 0-4 2-1 0-2 2-1 0-2 2-1 2-4 1-7 1 0-1-15-1 0-1-8-1 0-2-9-1 0-7-35-3-6 0-3-2-2 0-3-3-6-2-1-1-4-3-2 0-3 329 0 0 80-16 2 0 1-6 1-8 4-1 2-5 2-11 11-2 5-2 1-5 10 0 3-2 3 0 4-1 0 0 5-1 0-1 18-1 0 0 15-1 0-1 15-1 0 0 6-1 0 0 12 1 0 0 4 3 6 10 8-2 2 3 0 1 2 0 9 5 7 0 2-2 0 2 1-1 2 0 6 3 3 0 2 4 3 4 9 2 0 1 2 7 0 1-2 4-2 5 0 0-1 4 1 0-1 3 0 0 2 3 0 1 2 4 1zM104 49l0-2-2 0zM93 74l-1-3-2 0 0 3zM274 83l1-2-2-1 0 3zM77 101l-1-2 0 2zM84 101l0-2-2 0 0 2zM85 119l1-2-2-1-1 3zM82 125l0-3-2 0 0 2zM80 129l1-2-3 1zM281 155l0-2-2 0 0 2zM57 157l1-2-2 0 0 2zM46 181l0-3-1-1-3 1 0 3zM67 181l-3-2 1 2zM8 191l-1-1 0-2 1 1 4 0 0-1 2 1-2-2 0-5-8 2-3 3 1 3 4-1 0 2zM65 188l1-4-2-2-2 0-2 5 1 1zM50 189l-1-2 0 2zM222 191l-1-2-2 0 1 2zM15 194l-1-1 1-2-1-1-4 0 2 1-1 2 1 1zM49 197l1-4-2 0-1 1-1-1 1 2-1 2zM40 196l0-2-2 0 0 2zM48 203l0-3-2-2-3 0-1-2-2 2-4 0 0-2-2-1-2 1 1 3 2-1 1 1 0 2 3-1 0 3 1-3 3 1 1-2 1 3 1 1zM45 197l-1-2 0 2zM261 208l2-5-2-3-4 0-2 2 0 4 2 2zM62 213l1-1-1-6-2-2-5 0-1 1 0 5 2 1 0 2zM243 210l1-4-2-2-2 0-2 2 0 3 1 1zM31 214l-7-2 1 2zM45 215l-1-2 0 2zM47 231l0-3 3 0 0-5 6-2-3-1 1-3-3-3-4 0 0 2-5-1 2 4 5 2 0 3-2 0 0 2-1-2-4-1 1 1-1 2 3-1 2 2-1 1 0 3zM63 222l3-2 0-3-2 0-2 4zM292 223l-3-2 0 2zM57 231l2-2-3-3-2 0-1 4 1 1zM268 231l1-2-3-1 0 2zM25 242l5-9-1-2-2 1-4 8zM45 234l-1-3 0 3zM252 235l2-2-4 1zM262 245l-3-4 0-2-2-1 0-2-3 0 0 2zM53 239l0-2-3 0 0 2zM37 244l-1-4 0 4zM19 248l-1-2 1-2-3-2-1 3 2-1 1 4zM23 251l0-2 3-2 0-2-2 0-1 1-1-1 1-2-2-1-1 1 1 1-1 4 2 0 0 3zM5 246l0-2-3 0 1 2zM29 248l1-3-3-1 1 4zM43 246l0-2-2 0zM245 247l-1-3 0 3zM13 247l0-2-2 0 0 2zM32 247l-1-2 0 2zM17 248l-3-2 0 2zM12 256l1-3 2-1-3 0-1-2 1-2-3 0 0 2 2 2-3 0 0 3 1 1zM33 252l1-3-1-1-3 0 0 4zM292 255l-1-1 1-3-1 1-17 0-1 1 0 1zM235 255l-1-2 0 2zM301 260l-1-1 1-4-2 0 0 4-1 1zM315 301l1-2 2 0 0-3-3-2 6 1 0-2-2 0-1 1 0-2-7 1-4-3 2-3-2 0-1-2 3-3-4 1-1-1 1-2-2 0 1-1-1-2 2-1 0-5-9-8-2 0-2 3-3 0 0 3-2 1 0 4 4 8 1 1 7-1 5 5 0 3 2 4 5 1-3 1 0 2 7-1 0 1-2 1 2 0-1 2zM25 266l2-2-2 0-1 1zM280 271l-1-3 0 3zM334 279l-1-2 1-1 2 1-1-4 1 0 0-3 2 2 5 0-1 2 3 0 1 2 0-2-1-1 1-1-2 0 1-3-3-1-1 3-2 0 0-3-1 1-5-1-2 2 0 3 2 0 0 4-1 1zM332 276l0-2-2 1zM278 288l4-3 0-4-3-5-5 0-1 2-2 0-1 3 4 6zM286 279l0-2-2 0zM308 280l1-2-3 0 0 2zM318 285l-1-2 0 2zM324 287l-1-2 1-2-1 1-2-1-2 2 1 1 1-1 1 2zM298 289l1-3-3-1-1 1 0 3zM303 293l-1-2-2 0 0 2zM303 304l3-2-4-2-1 2 2 0-1 2zM320 306l6-5-3-1-4 4 0 2zM282 305l-2-3-3 0 1 3 2-1zM309 321l0-10-2-2-3 0 0 4 4 8zM286 312l-2-1 2 0zM278 322l-2-3-2 1 1 2zM270 331l1-1 0-2-3 0-1 1 1 2zM276 338l1-1-1-1 1-3-3 1 1-2-2 1-1-1-2 1 0 3 2 1 2-1 0 2zM270 340l-1-3-2 1 1 2z"/><path fill="#09f" d="M350 350l-65 0 0-2-3 2-4 0 1-2-5 1 1-2-2 0 0-2-9-4 2-1 0-3-1 2-1-2-1 1-2 0-1-2 1-2-1-1 3 0-2-2 2 0 0-4 2 0-1-2 8-1 1-2 4 1 1-1-1-2 3 0-1 1 0 2 1-1 1 1 1-1 4 1 0-1-3 0 0-3 1 0-1-2 1 0 0-3 4 0 3 3 2 0-1-4 1-1 4 1 0-2 2 0 1-3 1 1 2 0-1-4 1-2 1 1 5 0 0-1-1-2-4 1-2-2-1 2 2 1-3 0 1 4-3-1-1 2 0-2-2 1-8-1 1 3-1 1-4 0 3-5-4 0-1-1 0-3-4 1 0-4-7-3-1-2-6 0 0-3-2 1-1-4-2-1-2-7 3 0-2-1 1-1-1-2 2 0 0-2 2 0 0-1-2 0-2 3-3 0 1-2-2-1-2 2 0 2 1-2 1 0 0 3-4 0 0 1-2-1 1-3-2 0 1 4-7-1 0-4-1 0 1-6-1-1 3-2-3-3-1 2 2 0 0 1-3 0 0-2-6 0-1-2-3 0-3-4 2-1-2-1 2-2 0-5 3-3 4-1 0-3 1-1 3 0 2 2 4 1-1-1 1-7-2-1 2-2-2-1-1 1-4 0-1-1 0-6-5-4-2 0-5-5-4-12-2 0-1-2-3 0-4-2 1-2-2 1-1-1-1-2 0-10-8-9 0-3-1 0 1-9 3-6 2-1 0-3 2-3-1-9-2-3 0-3-16-31 0-3-1 0-1-6-3-6 0-4-1 0-5-18-2-2 0-3-4-8-2-1-1-4-7-7 0-2-12-10-8-4-3 0 0-1-4 0 0-1-12 0 0 1-4 0-3 3-2 0-8 8-3 6 0 3-1 0-2 11-2 1-1 4-4 4 0 2-7 6-4 1-5 5-2 4 0 3-1 0-1 10 7 1 0-2 3-2 8 0 1 1 1 2-1 9 2 1 2 4 0 3 1 0-1 1 0 4-1 0 1 2-1 6-2 0 0 3-2 2-2 0-1 3-3-2 2 4-2 1 0 2-3-2 0 2 2 2-2 4-3 3-5 0 0 1-4 0 0-1-4 1-1-1-2 1 0 1 2 1-2 0 0 4-3 4-2 0-1 2-10 0-2 7-2 0 0 6 2 2-1 1 0 5 3 0 2-2-1-4-3 0 0-4 3 0 1 1 2-1 1 2-1 5-1 0 1 3-2 1 3 0 0 5 2-4 2 1-1-3 1-1 1 3 2 0 0-3 1 1 4-1 1-1 0-3 2-1 8 3 0 5-2-1 1 4-3 0 1-2-3 2 0-3 2 0 0-2-3 1-1-2-2 0-3 3 0 4 7-1 0 3-2 0 0 4 3 2-1 2 2-1 2 4 0 3 3 1-1 2 1 3-2 1-2 5-7-1-1 1 0 4 1 1 3-1 2-3 3 1-2 2 2 2-3 2 2 2-1 1-4-1 0 2-2-1-4 1 0-2-4-1 0 2-2 1 0 3 4 0 1 1 0-3 2-1 4 1 0 2-2 3-5 0-3 2-3-1 0 2-1-1-4 1 2 2-1 2 1 3-3 4-2 0 1-2-3 0-3-3 0-4-1 0 0 5 1 0-1 5 3 3-1 0 0 3-8 3 1 4-3 1 3 0 0 2-4 0-2-7-2 0 0 4 2 2-1 1-3-1-1 2-2 0 0-3-1-1-3 2-6 0-2 1-3-2 2-1 0-1-4 1 0-3-2 0 0-8 2 0 2 2 3-3-2 0 1-2-1-1-3 0 0 2-2 0 0-53 4 0-1-3 2 0-1-3 2 1-1-2 1-1 1 2 4-1 3 4-1 2 1 3-3 2 3 0 1-2 0-4 2-3-1-2-3 0 0-2 1 1 3-1-4-2 4-3 0-2-2 0 0-2-3 0-1 3-2 0-1 2-3-1-1 2-4 0 0-3 2 0 0-3 2 1-1-2 2-1 3 1 0-2 1 1 5 0 0-1 2 1 1-1 1 2 4 1 3 3 4 0 3-2 1-6 3-4-1-1 0-4 2-2 2 1-1-3 3-2 0-2 4-4 0-4-3-3 1-3-2 0-2-2 0-4 2-1 0-3 2-1 0-5-1 0 0-5-1 0 0-6 2 1 1-1-1-2 5-5 5-1 3-4 1-25-1 0 0-3-4-4 1-2-2 1-1-2 0-14-3-5 0-7 5-8 0-3 2-3 0-15-1 0 0-4-1 0-3-11 302 0 0 7-12 1 0 1-8 1-16 8-13 12 0 2-3 2 0 2-4 4-3 6 0 3-2 2-1 6-1 0 0 4-1 0 0 4-1 0 0 5-1 0 0 6-1 0 0 6-1 0 0 7-1 0-1 10-1 0-2 11-1 0 0 3-3 6 0 4-1 0 0 15 2 3 0 3 2 1 2 5 3 2 0 2-2 0 0 2 2 0 0-2 1 0 0 9-1 0 0 4-1 0 1 7 1 0 0 6-2-1 1 3-2 1-1 5-1 0 1 7 1 0 0 5 1 0-1 2 1 9 4 4 6 0 4 4 4 1 1 4-1 2-2 0 3 1-1 6 4 2 0 2 2 0-1 8-2 2 0 3 2 2 2 0 0 2 2 2 2 0 0 2 2 1 0 5 6 9 4 1 4-3 1-3 3-1 0-2 4 0 0-1 2 1 0-1 4 0 0-1 2 0-1 2 2-1 1 1-1 2 4-1 0 2 2 0 0 2 2 0zM273 8l0-2-2 0 0 2zM89 25l0-2-2 0 0 2zM91 42l1-2-2-1-1 2zM76 44l1-2-2 1zM90 47l-1-2-2 0 0 2zM58 48l-1-2 0 2zM91 57l-1-2 0 2zM84 62l-1-5-2 0 0 3zM89 60l-1-2 0 2zM84 65l0-2-2 0zM57 75l-1-2 0 2zM274 83l1-2-2-1 0 3zM83 103l2-2-1-3-3 1 0 4zM68 103l2-1 1-3-1 1-4-1 0 3zM76 103l1-1 0-3-1 3-2 0zM75 112l0-2 2 0 0-1-3 0 0 2-2 0zM72 117l-1-2 5 0 0-2-6 0-1 2-3 0zM86 119l2-2-2 0-1-3-4 0 0 4 1 1zM46 128l2-3-1-1 1-3 3 0-1-2 2 0-3-1-1-2-2 1 0 3-1 0 0 4 1 0-1 4zM82 126l1-3-2-2-3 0-1 3 2 0 1 2zM56 126l-1-3 0 3zM228 132l1-4-2-2-2 0-2 2 0 3 1 1zM246 134l2-2 0-5-1-1-5 0-2 2 0 3 3 3zM81 130l2-1-1-2-4 0 0 2zM86 129l0-2-2 0 0 2zM46 143l2-3-2-1-1-4 0 1-3 0 0 2 1 0 0 4zM41 141l-1-2 0 2zM78 141l-2-2 0 2zM73 142l1-2-2 0 0 2zM240 144l1-2-2 0 0 2zM48 146l1-2-2 0 0 2zM67 147l-1-3-1 2zM71 146l1-2-3 0 0 2zM55 151l0-2-3 0zM55 156l-2-2 0 2zM57 157l1-2-2-1 0 3zM246 159l1-1 0-3-3 2 0 2zM273 157l-1-2-2 0 1 2zM223 158l0-2-2 0zM53 159l0-2-2 0zM275 163l-1-2 0 2zM208 170l-1-3 0 3zM67 181l-3-2 1 2zM222 191l-1-2-2 0 1 2zM59 216l0-2 4-1 0-5 1 0-2-3 1-2-6-4-2 1-7 0 2-3-1-2 2 0-2-4-3 2 0 3-1-1-2 1-3-1-1-3-2 1 0 3-3 0-1-2-2 1 2 2 0 3-2 0 0 2-3 3 5 0 1-3 2 2 1-2 1 2 3 0 1-2 3-1 0 4 1 1 5 1 7 7 0 2zM215 194l-1-2 0 2zM271 194l0-2-2 0 0 2zM267 232l1-2 3 0-1-3-1 1-2 0-1-2 1-2-1 1-2 0 0-6 1 0-1-2 1-4-1-1 3 0 1-1 0-5-4-8-8 1-1 2-2 0 0 10 2 3 4 0 1 1 2 5-4 3 3 0 1-2 0 5 2 1-2 2 4 0-1 3zM37 202l-2-1 2 0zM33 204l-2-1 2 0zM67 205l-2-2 0 2zM244 214l2-3-1-2 0-4 1-1-5 0 0-1-4 1-1 1 1 7 2 2zM248 205l-1-2 0 2zM250 205l1-2-2 0 0 2zM27 206l-1-2 0 2zM232 206l-1-2 0 2zM26 209l1-2-1 1-4 0 0 1zM22 213l-1-2 0 2zM31 214l-7-2 1 2zM47 231l1-2 2 1 1-1 1-2-1-3 1-1 6 0 1-1-3-1-2-2 1-1-1-2 2-2-2 0-1 2-2-1-1-3-7 1 1 2-2 0 0 2-4 0 3 2 3-1 0 2 5 2-2 3-1-3-4 1 0 3 1 1 1-1 2 0-3 4zM65 215l1-1 0-2-2 0 0 3zM268 216l0-2-2 0 0 2zM257 220l1-1 0-2-3 1zM288 226l2-3 2 0-2-3-3 0-1 1 0 4zM36 226l3-3-1-2-3 0 0 5zM277 226l0-2-2 0-1-2 0 3 1 1zM285 225l-1-2 0 2zM294 231l1-5-2 0 0-2-2 0-1 1 2 1-1 3zM240 229l-1-3-1 3zM260 232l0-2-2 0zM14 260l-1-1 0-6 2-1-3-2 2 0 1-2 2 1 2-1 1 2 2-2 0 7 12 1 0-2-5 0-2-2-2 1 0-4-1 0 1-2 3 0-1 3 3-2-2 4 7-1-3-5 0-3-2 0 0 2-3-1 1 2-2-1-3 1-1-1 1-1-1-2 3 0 1-1 4-8-1-2-2 1-3 8-4 4-2 0 1-2-3 0 0 2-2-1 1 2 2-1 1 3-5-1-1-3-2 0 1 1 0 4-3-1 2 4-3 0 0 4-2-1 0 2 2 0 1-1 4 2-1 1 0 2zM45 234l-1-3 0 3zM262 245l-3-4 0-2-2-1 0-2-3-1 2-1 0-2-4 2-6-2 1 2-2 0-1 3 1-1 3 1 1-2 3 3 3 0zM254 237l-2 0 0-2 2 0zM300 238l-1-1 1-2-6 1 2 2zM242 239l-2-1 2 0zM301 243l-1-3-3 1 1 2zM237 244l-1-3-1 2zM254 251l2-1 0-2-2 0-5-5-2 0 0 6 1 1zM5 246l0-2-3 0 1 2zM44 246l-1-2-3 0 1 2zM245 247l-1-3 0 3zM32 248l-2 0 0-2zM296 250l0-2-2-1 0 2zM238 255l1-2 3 1 1-2-2 1-2-1-1 1 0-2-4 1 0-3-3 0 0 4 3-1 0 3zM315 303l0-3 1-1 2 0 1 3 1 0-2-5 5-3-1-1-4 0 0-2-4 1-1-1 1-2-5 1-1-1 3-1-1-3 3 0-3-3-5-1-1-1 0-4 2 1 0 3 4 0-1-2-2 0 0-2 2 0-1-5-3-4-3 0 0-2-2 0-4-4-3 0 0-4-1 0 2-1-2-1 0-1 5 0 2 4-2 2 4 0-1-3 3 1-2-5-3 0 0-1-3 1-2-1 0-2-2 2-17 0-1 2 18 0 1 1-1 1 1 9-1 1-3 0 1 2-3 2-3-2 0 3 2 0 3 4 1 9 2 3 4-2-1 4 1 2 2 0 2-3 1 2 3-1 0 2-3 0 0 2 3 0-2 1 2 1-1 2 4 0 1-2 1 1-1 1 0 2 6-1-1 2 2 1 0 2zM8 260l0-3-2 0 0 2zM235 259l0-2-2 0 0 2zM269 276l0-7 2-3 0-7-1-2-2 0-6 5 0 9 3 1 1-2 0 3 2 1 0 2zM13 263l0-2-2 0 0 2zM245 263l0-2-2 0zM23 269l-3 0 1-3 3 1zM345 279l1-1 0-5 1 0-1-2 1-1-2-1 0-2-1 1-5-1-1 2-5-1 0 1-3 0-1 5 2 0-1 3 2 0 1 2 2 0 2-4-1-4 2 0 0 2 3-1 1 2 2 0 0 3 1 0-1 2zM280 271l-1-3 0 3zM242 273l2-1-1-2-2 2zM247 273l1-1 0-2-3 1 0 2zM283 275l1-2-2 1 0-2-2 0 1 1-1 2zM281 291l2-1 1-2-1-7-2-1 0-3-3-3-2 0 0 2-2 1-3-1 1 2-2 0 0 5 2 1 0 3 6 4zM263 283l1-2 2 1 1-1 0-4-1-1-2 5-3 0 0 2zM286 279l0-2-2 0zM328 288l-1-2-3 0 2-2-1-1-3 0 0-2-3-1 0 2-2 0 1 5 3-1 1 2 1-1zM338 282l-2-2-2 0 2 2zM300 287l-4-2 1-1-1-2 5 2zM310 284l-2-1 2 0zM313 293l-2 0-1-2 3 0zM311 296l-3-1 3 0zM319 296l-2-1 2 0zM320 306l6-5-3-1-4 4 0 2zM277 305l-2-1 1-2zM279 307l-2 0 0-2 2 0zM309 321l0-9 1-1 6-1-3-3-5 0-1 2-3 0 0 4 4 8zM274 321l-2-3 3-1 0 3zM271 331l1-4-4 0-1 3 1 1zM266 331l0-2-2-1 1 3zM271 341l0-3 2 0 0-2 1 2 2 0 1-2 3 0 0 1 2-1-3-1 0-2-2 2 0-2-2-2-2 0-3 2-1 2 2 2-1 1-2-1-1 1 1 3z"/><path fill="#0cf" d="M7 252l-3-4-5 1 0-52 4 0-1-3 2 1 1-2-1-3 2-1 0 3 3-2 2 1 1 2-1 2 2 0-1 1 1 3-5 3 6 0-1-3 2-2-1-2 2-3-1-2-3 0 0-2 5 1-4-4 6-1 0-2-1-1 1-1-2 0-1 1-1-2-5-1 0-1 4-1 3 3 3 0 4 4 0 2 2 1 5-1 2-8 1 0-1-4 2 0 1-2-2-5 2-1 0-2 2 1 0-3 2 0 1-4 6-5-2-5-3 0 1-2-2 0 1-2-3-1 2-1 0-2-3-1 2-1 0-3 4-3-1-4 2 1 3 0 0-1 1 1 2 0-2-1 0-2 2-1-3 1 0-2 2 0 1-2-1-2 2 0 1 3 3 0-1-3-2 0 0-2-1 1-2 0 0-5-1 1-4 0 1 3-2-1 1 7-2 1 1 2-3 0 2-4-2 0 1-2-2 1 0-5 2 1 1-1 2-5 2-1 8 0 3-2 0-11-1 0 1-2-2 0 0-6 2-1 0-5 2-4-3-3 0-3-3 0-3-3 1-2-2-2 1 0 0-4 1 0 0-5-2-2-1-5-2-1 1-1-1-3 2 0 2-6 2-2 4-1 4-6 0-4-1 0 0-4-1 0 1-15-1 0 0-3-3-3 0-2 26 0 0 2-4 3-2 4-2 13 1 2 1-1 5 1 0-2 2-2 9-1 2 2-1 8 2 1 0 2 2 1 2 4 0 3-1 0 1 6-3 5 0 3-2 0-1 3-3-1 1 6-2-1 0-2-2 2 3 2 0 2-2 1 0 3-2 1-1-2 0 2 1 1-3 0-2 2-7 0-1-1 1 2-1 1 2-1-1 6-7-1 1 2 4-1 1 3-2 1 0 2-8 2-1 10 1 2 2 0 0-2 4-2 0 3 2-1 0 2-1 1-4-1-1 3 1 2 2 0 3-4 2 3-1 2 2 0 2-3 2 0-1-1 0-2 3 1 0 4 5-1-1-5-3 0 1-4 2 1-1 2 2 0 0-2 4 0 0 6-2-1-2 4 0 3 3 1 1 3 3 2 1 3-3 5 2 0 1 2-1 1-3 0 0 6-1 1-6 2 1 4-1 2-4-1 0 2-2-1 0 2 4 0 0 2-3 1 1 3-2 0 0 2-2-2-2 1-1-2 1-2-3 0 0-1 2 0-2-1-1 2 2 2 0 3-2 0-1-1-1 1-1-1 0 2-2 0 1-2-3-1-1 1 1 2-2 1 3 1-3 0 0 5-2 3-3 0-2-3 3-1 2 1 1-1-1-2-5 0-1 5 3 1-1 2-4-1-2-3-4 0-1 2 1 2-1 3 1 1-2 0 1 2-2 0 0 3-3 1 0 4-1 0 0 2 2 2 2 0 0 3 2 2 4-4 1 2-2 2 3 1-1-2 2 0 0 5 2-4 2 1-1-3 2 0 0 3 5-1-2 2 1 3 8-1-1 2-4 0 0 3 3 2 0 2 2 0 2 2 1 6 3 0 0 5-3-1 1 5-3-2 1 4-3 0 1-5-3 0 1-1-1-3 1-2 2 0 1-2-2-1-1 2-6-8-4 0-1 2-3-1 1 2-2 0 0-3 2 0 0-3-2-1 0-2-3 3-3 0 0 2-1-2-2 1 0-4-1-1-2 1 0 3-2 0 0 2-2-2-3 0 0 2 3 2-4 0 1 2-2 0-3 7-3-1 0 3 2 0-1 3 2 2 6 0-6-1 0-4 3-1-1-2 6-1 0-1 4 0 0-1 1 2 6-2 0 4 8 1 1 2-2 2-6-1-2 1 0 2-3 1 0 2-2 0-1 3 6-1 3 3-1 1-3 0-1 3-6 6 4-1 3-3 0-2 1 1 3-1-3 4 3 0 0 1 2-1 1 1 1-2 2 0-1 4 2 1 4-1 0 2-5 0-2 1 0 2-1-1-4 1 2 4-2 0 1 2-1 0 0 3-1-3-6 1-2-5 0 5 1 1-2 0 1 4-2 0-2-7-2 0 0 2-2 0 1-2-2 1-2-1-1 3-2-1 1-1-1-2 6 0 2-4 0-4 1 0 0-2-4-2-4 0-1 5-1 0 1 7-2 2-1-2-5 1 1 2 2-1 1 3-5-1-1-3-7 0 0 1-3 0 0 3 3-1 0-2 2 2 1-2 3 0 0 4-3-1 1 2-2 1zM286 310l-2-1 0-2 2-2-4 0 1-2-2 1 1-3-5 1 0-2 3-1-2-3-7-1-3-4-3 2 0-2-2 1 0-2-3-1 1-3-3-1 1-1-1-1 0-4 1 0-1-2 1 0 0-3 4 0 0-1-6-1 1 2-3 0-2-2-4 5-1-3-2 0 1 4-2-1-2 1-3-2 2-1-2-1 0-2 1 1 3-1 1 2 4-3-2-2-2 1-1 2 0-2-3-1 1-3-3 1 1-2 4 0-1-2 2 0 0-2-2 0-2 2-2-2-6 0-1 1-1-3 5 0 1-4 1-1 2 1 0-2 2 1 1-2-1 1-1-1-3 1 0-2-4 1 0-2 1-1-1-1-3 0 0 2-2-1 0 2 2 0 0 2 1-1 2 1-3 2 4 0 1 2-2 0-1-1 0 2-2 1-1-2-1 2-3 0 0-2 2-1-3 0 1-2-1-1 2 0 0-6 1-1 6-1 1-2 3 1 1-2 0 2 4-1 1 1 0 3 1 0 0-3-3-4 1-4 1 1 4 0 0 2 3-3 1 2 3 0 7 7-7-11 1-2 5 1 0-3-3 0 1-4 5 1-2 1 0 1 4 0 0 1-2 1 1 1 3-1 0 4 1-4-1-1 4 1-2-4-2 1-1-2 1-2-2 0-1 1-1-2 2-1 1 1 2-1-1-4-2 0 0-2 2 0 1 1 1-2-1-1-3 0-1 2 0-4 5 1 0-8-3-1 1-1-1-3-5-6-2 0 0 4-1 1-3-1-1 3-4-1 0-3-1 0-1 3 2 0 1 2-3 1 0 2 3-2 0 6-1 0 1 1 0 6 1 1 1-1 2 0-2 3 1 2 4-1-1 6-1 0 0 4 1 1-3 0-1 2-2-1 0 2-2-1 0-2-2 1-2-1-1 4-2 0-1-2 2 0-1-1 1-2-3 0-1-1 1-3-5 1 2-2 0-3-5-2-2-3-4 0 0-2-3-1-1-12-1-1 2 0 1 1-1-4 3-1-5 0 0-1 2 0-2-1-2 4-1-1-6 1 0-1-3 0 0-2-2 0 1-1-1-1 0-5 2-1 0-4 2 0 0-2 3-1-5 1 1-2-3 1-4-2-3-4-2 0 0-5 3-6 2-2 8-2-1-2 4 0 2 3 3 0 0-1-2-1 2 0 1-2 4 1 0 2 2 0-1-2 3 0 0-2-3-1-3 2 0-2-3 0 1-4-5 0 1-1-2-1 2-1-1-1 0-4-8-9-2-13-5-4-2 0-1-1 1-2-2 1-1-2 1-11-6-9 0-8 2-4 2-1 0-2 2-1 0-2 2-1 1-10-1 0 0-4-1 0 0-4-2-2 0-3-4-6 0-3-6-11-9-32 105 0-4 23-1 0-1 7-2 2-2 9-2 2-1 6-1 0 0 5-1 0 0 12 1 0 0 3 4 8 3 3 0 2-2-1 0 3 3-1 0 4-1 0 0 3-3 6 1 12-3 0 2 2-4 3-2 4 0 16-1 0 0 5-1 1 1 0 1 6 9 4 4 5 0 3 2-1 0 5-3 5 0 5 2 1 1 7-7 7 0 3 2 2 0 4 2 1 0 4-2 0 2 1-1 2 0 12 2 2 6 0 2-1 0 2 2-2 2 0 2 2-1 1 0 2 3-1 0 2 2-1 1 5-2 1 2 0 0 3-3-1-1-5-2 0-1-3-3 0 0-1-3 1-1 5 2 2 2 0 0-2 4 1-2 3 1 1-1 2 2-2 2 1 1-2 2 0 1 5-1 2-3 0 0 1 6 1 0-3-2 0 2-2 4 4-2 7-3 2 0 3 5 2 0 4 2-1 0 1 3 0-3 1 0 3 3-2 2 2-1 5 3 1 1 6 2 2 1 6 1 0 0 3-1 0 0 4 1 1-2 4-2 0 0-2-6 0 4-1-1-2 4-2-4 0-1-2-2 0 0-2 4 0-3-2 2-1 0-3-1 0 1-3-4-1 1-1-1-2 3 0-2-5-2 0 2 2-1 3-2-1 0-3-1 3-2 0-4-3 3-3-1-3 3 1-2-6-5 0 0-1-3 1 0-2-2 2-17 0-1 2 18 0 1 1-1 1 0 4 1 0-1 3 1 2-1 1-2-1-1 1 1 2-1 1-4 0-1-1 0 3 1 1-2 1-2-2 0-2 2 1 0-6-2-4-2-1 0-2-2-1 0 3 3 6 0 7-1 1 2-1 1 2-1 1-1-1-3 0 0 1-3-1-2 1 0 2-2 0 0 3-3-3 0-3 2 0-1 2 2 0 0-7 2-3 0-7-1-2-2 0-2 3-2 0-2 2 0 9 3 1 1-2 0 3-3 2 2 1 0 2-2-1 0 3-3 0 1 4 3-3 2 2 4-2 0 2-3 3 4-2 1 1 0 3 3 3 5 1 0 1 4 0 1-1 0-7-1 0 1-3-2 0 0-3-2 1 0-3 3 0 0 4 1-2 2 0-1 1 0 2 1-2 1 0 0 3 1 0-1 2 2 4 4 0 0 3 3 0 1-3 1 1 4-1 0 2-3 0-1 3 2-1 0 3 1 1 4 0 0-2 2 1-2 2 1 3-3 1-2-2-1 2 2 1-4 0-1 5-1-3-2 0 0 2-5-2 0 1-3 0 0 3zM273 8l0-2-2 0 0 2zM73 9l-1-2 0 2zM88 27l1-4-2-1-1 1 0 4zM75 28l-1-3-3 0 1 3zM81 36l0-3-2 0 1 3zM77 41l2-1 1-2-1-2-2 2-2-1 1 2-1 2zM83 39l-2-2 0 2zM93 42l4-2-1-1-4 1-1-3-3 0-1 1 0 3 1 1zM76 44l1-2-2 1zM56 54l0-3 2 0-2-2 3-1-2-4-3 0-1 7 1 2zM89 51l0-4 1-1-2-2-2 0-2 3 4 1 0 2-2-1-2 2zM63 48l-4-3 1 3zM223 55l1-1 0-4-4-2-1 2 0 4zM94 51l-1-2-2 0 0 2zM241 58l2-2 0-5-1-1-5 0-1-1 1 2-1 0 0 5 2 2zM84 65l0-3 2 1 1-1-4-3 0-2-2 0 1 7zM61 72l-2-2 2-3-2 0-2-2 0-2-3 1 1 5zM75 70l0-2-3-2 0 4zM78 70l1-2 3-1-4 0-1 1 0 2zM241 82l1-2-2 1-2-2 1 3zM266 84l-1-3-2 1 1 2zM241 87l0-3-3 1 0 2zM201 89l-1-2 0 2zM268 90l-2-2 0 2zM67 121l1-3 2 1 0-3 1 2 3-2 1 1 5 0 3 3 4-2 1 1 2-1-2 0 0-2-2 0 1-3-3 0-1-2-3 0-1 2-5 0 3-3-3-2-2 5-4-2 0 4-3-1 0 4 1 0 0 3zM77 133l4-4 5 1 2-1 0-2-2 1-3-2 1-4-1-1-5-1-2 1 2 2-3 2 2 0 1-1 1 1-1 1 0 4-3 2zM88 124l-1-4-1 3zM258 122l1-2-2 0 0 2zM56 126l-1-3 0 3zM250 159l1-2-4 0 0-3-2-1 0-5 3 2-2-2 0-2 3 0-2-1 1-2-1-2 1-2 3 0 1-1 0-8-1 0 0-4-2-2-3 0 0 1-4-1-4 3-1 10 1 2 3 0 2 2 0 4 1 1-1 0 0 3-1-1-3 1 3 0 1 1-1 2 2 2-2 1 3 1-1 1 0 2 3 0 0-1zM84 128l-2 0 0-2zM228 136l2-2 0-7-1-1-7 0-1 1 1 7 2 2zM49 146l0-2 3-3-4 1 0-2-2-1 0-3 4-1-7 0-1-1-1 2 2 2-1 3 1 0 1 5 2 0-1-1 0-2 2 0 0 3zM80 137l0-2-3-1zM73 142l1-2-2 0 0 2zM251 144l0-2-2-1 0 2zM241 145l0-3-3 0-1 1 1 2zM67 147l1-2-2-1-1 2zM53 153l0-2 2 0 0-3 3-1 0-1-3 0 0 2-4 2 1 3zM221 149l0-2-2 0 0 2zM254 152l0-2-2 0zM255 156l2-1-1-4-1 4-1 0zM269 159l4-2 0-3-5-1 0 2-3 0 2 1-1 2zM240 158l0-2-3-1 1 3zM234 160l1-4-1 1-3-1-1 1 3 1-1 2zM272 166l1-2 4-1-1-4-5 3 1 1-1 3zM214 163l-1-3 0 3zM256 175l3-3 2 0 2-3 2 0 0-4-5-3-5 5-1 6-1 0 0 2zM207 177l2-1-1-2 1-1 3 1 1-1-1-3-3 0-1-5-2 2 0 3 3 1-1 2-2 0 0 4zM221 167l-1-2 0 2zM201 174l1-2-2 0 0 2zM277 175l-1-3-3 0 2 3zM47 180l-2-3-3 0 2-4 1 1 2-1 0 2-2 0 1 2 1-2 2 0zM41 179l-3-1 1-2 3 1zM8 183l-7 0 1-2-1-1 2 0-1-2 2-1 1 1 2-1 3 1 1 3-1 1-2-1zM63 180l-1-2 3-1 0 2zM276 180l-1-3-4 0 2 3zM67 180l-2-1 2 0zM68 187l-1-2 1 0 0-3-4 0-1-2 5 1 0-2 1 1 2-1 1 3-2 4zM218 182l0-2-2 1zM62 183l-1-2 2 0zM57 185l-1-3 2 1zM61 184l-2-1 2 0zM273 194l-2-4-3 0-1-3-2 1 0-3-2 0 1 3 3 1-1 3 2 2zM71 188l-3-1 3 0zM222 191l-1-2-2 0 1 2zM262 193l0-3 2 0 0-1-3 1 0 3zM216 196l-1-1 1-4-5-1 0 2 1-1 2 0 0 5zM258 197l0-3-4-2 1 3zM267 198l1-1 0-2-2 0 0 3zM231 198l-3-2 1 2zM233 201l1-1 0-2-2 1 0 2zM33 200l-2-1 2 0zM5 202l-1-2-2 0 0 2zM65 202l0-2-2 0zM245 217l1-1 0-4 1 0-1-7 2 0 0-3-6 2 1-2-2-1 0 2-2-1 1 2-4 0-1 1 1 5-2 1 2 0 0 2 4 4zM30 203l-2-1 2 0zM234 207l-2-5-2 0 0 3-3-1-1 1 1 2 2-1zM12 224l9-9 1-4-1 2-8 0 0 2-3 2 0 4-1 0 0 3zM54 216l-2-1 1-1-1-2 3-1 1 3-2 0zM229 214l1-1 0-2-3 2zM61 221l-5 0-2-3 2 0 2 2-1-3-2-1 4 0 0-2 4 0 1-1 0 2-2 0-1 2zM58 215l-2-1 2 0zM259 217l-2 0-1-3 3 0zM64 229l-2 0 1-2 0-6 2 0 1-2 3 0 0 2-1 1 2 1-4 0 0 1 2 0-1 1 1 2-1 1-3-1zM36 226l3-3-1-2-3 0 0 5zM48 223l-2 0 1-2zM279 229l-2-1 0-4-2-1 1-2-5 0 0 2 3 0 0 2 3 4zM53 228l-1 0 0-5 5 0 0 1-3 0 1 2-2 0zM237 231l-2-1 0-3 2 1zM239 231l-1-2 2 0zM61 235l-2 0 0-2-2-1 0-2 5 1 0 3zM45 234l-1-3 0 3zM236 242l-3 0 1-3 2 0zM299 244l2-1-1-1 1-1 0-2-7 3 3 1 1-1 0 2zM246 257l3-1 5-6 2 0 0-2-2 0-5-5-2 0 0 6-2 1 0 7zM28 246l-2-1 2 0zM26 253l-1 0 0-6 2 1 0 4zM296 250l-1-3-2 0zM7 266l-1-2-3-1 4-1 0-2 8 0 1-3-3 2 0-3 2 0 1-2-3 0 0-1 2-1-3-2 4-2 1 6 4 0 0 1 10 0 1 2 3 0-4 1-2-1 1 3-5 0-3-2-3 3-3 0 2 1 0 1-4 0-2 2-4-1zM10 251l-2-1 2 0zM38 256l-2 0 0-2-3-1 0-2 3 0 0 2 2 0zM7 260l-3 0-1-2-4 0 0-6 2 0 0 3 3-3 2 0 1 3-2-1-2 1 0 1 7 0 2 1-4 2 0-2-3 0zM30 253l-3-1 3 0zM298 262l-2 0-3-3-1-3 3-1 2 2-1 3 2 0zM24 266l-2 0 0-2-1 2-3-1 4-6 1 4 2 1zM3 263l-1-3 3 1zM13 263l0-2-2 0 0 2zM31 263l-2 0 0-2zM290 264l0-2-3-1zM28 264l-2 0 0-2zM350 350l-64 0 0-5-1 3-4 2 0-2-4 0 0-1-1 0 1 2-3 0 1-2-2 0 1-2-3 0 0-2-4 0 0-3 1 1 4 0 1-2-2 0 0-1 6 0 0-2 6 1 1 4 1 0 0-6-4 0-3-3-2 1 0-2-4 0-1 2-2 0 0-1 5-4-1-1-5-1-1 3 0-4 1-1 4 0 0 2 2 0 0-4 1 0 0 2 2 0 1-3 1 2 2-1 1 2 1-1 3 1 0-2-3 0 2-1-2-1 1-1-1-2 2 0 1-3 2 0 4 3 0 2 3-1 0-2-3-1 0-2 5 0 0-2 3 1-1-2 1-1 3 0-1-4 1-1 4 0 1 1 0 3-1 1-3 0 0 4 4 8 1 0 0-9 7-3-2 0-1-2-4 0-1-2 1-3-1-1 2-2 2 0 3 4 0-3 4 0 0 6 7-4 0-7-3 0-3-3-2 1 1-5 1-1 2 1 3-1 0 1 4 1-3-3 0-2-2-2-2 0 0-4 1 0 0-3 1 0 0-3 2-4 3-2 0-2 8 0 2-2 2 0-1 2 2-1 0 3 4-1 0 2-4 1 0-1-3 0 0-2-6 0 0 1 4 0 1 3-3 0 1-2-2 1-2-1-1 2-2-2-1 1 1 1-1 6 2 0-1 2 3 0 1 3 3 1 1 2 1-2-2 0-1-4 2 0 0-6 1 0 0 2 3-1 1 1-1 2 1 1 2-1 1 2-1 1 1 3-1 1 4 0-3-4 2-3-1-1 1-4 1-1 2 1zM31 266l-4-1 3-1zM253 269l-3-3 1 3zM23 269l-3-2 4 0zM348 269l-3-1 2-1zM242 272l-2-2 2 0zM287 277l-3 0-1-3 3 0 1 1zM306 280l-2 0 0-4 2 1zM309 277l-2-1 2 0zM300 286l-4-2 3-1 1 1zM272 290l-1-2-2 0 1 2zM313 293l-2 0-1-2 3 0zM319 296l-2-1 2 0zM323 301l-3 0-1-1 0-4 6 0 0 4zM274 320l-2-2 3-1 0 2zM266 329l-2-1 1-3 1 0zM267 340l-1-3-2 2 0-2-3 1-1-2 1-3 2 0-2-2 5 0 0-2 1 4-1 1 4 0-1 2 2 0-3 1z"/><path fill="#15ffea" d="M53 162l-4-2-2-5-1 1-2 0 2-3 2 0 0-3-3-2 1-1-1-3 2 0 0 2 2 1 0-3 3-2-2-1-2 1 1-2-2 0 0-3-1 0 4-2-1-1-5 0-2-2 3-1-2-3 2 1 3 0 0-1 1 1 1-1 2 1-1-2-2 0 2-2-1-1 0-3 1 1 2-1 0 2 2 0 0 3 1 0 0-5-1-2-2 0 1-2-3-1 2-3-1-1-6 1 0 1-2-1 2-2 4 0 0-1 3 0 0 1 7 0 0-5 1-1-3-3 0-4 1-1-1-2-2 0 0-2 1 1 2-1-2 0-1-3 3 1-2-2 3-4-1-2 2 0-1-2 2-4-5-2 0-2 2 0 0-2 1 2 2 0 0-3-1-1 2 0 0-2-4 0-2-2 4-2 0-1-2 1-2-1-4 1-2 3 0-4 3-2 0-2-3-3 1-1 2 1 1-2 0 4 1-2 1 1 4 0 0-1-2 0-2-3 1 0 0-3 5-1 0-2-2 1-1-1 1-2-4-3-5 1 0 1 2 0 0 5-1 0 0 4-1 2-4-4 0-4 5-8 7-1 4-2 0-6-1 0 1-3-1 0 0-3-3-2 1-1-1-4 2 0-1-2 1 0 1-10-3-3-2 0 0-2 12 0 0 2 1-2 6 0 0 6-3 6-2 1-4 0-1 1 0 10 3 2 1-4 4 0 1 2-1 2 1 1-2 0-2-2-1 1 0 4 6-1 2 1 0-2 2 1 2-2-2-1-1 2 0-3 2-1 2 1 1-5 2 1 1-1 5 0 0 3-2-2-1 2-4 0-1 6 2 0 3-3-1 4 2 2 2 0 2 4 3 1 0 3-6 0-1-4-6 0-1 2-2 0 0-4-2-1-2 5-4-1 1 5-1-2-3 1 2 1-1 2 2 0-2 3 3 1-1-3 7-4 1 1 5 0 0 1 10-1-1 2 2 0-1 1 1 4-2 0 0 4-4 1-2 2 0 5-1 0-1-2-1 3-2 0-3-4 1-1 0-5-5-2-1 6 1 2 3 0 0 6 1 0-2 2 1 1 3 0 0 3-2 2-3-1-3 2-1-1-2 0 1 2-2 0 0 1 3-1 0 2-3 0 1 3-2 0-1-1 0 2-1-1-2 0 1 2 2 0-3 1 0 3 4-3 0-2 2 2-3 4-4 0-2-2-2 0-2 5 2-1 1 2-1 3 1 1-2 1 1 3-2 2 1 0 0 3 1 1 4 0 0 2 3 0 0-2 2 1-1-3 2 0 1 2-1 2 7-3 0 2 4 0-1 2 2 1 0 2 2-1 2 1 1 3-1 1-3 0-2-3-4 0-2 3-2 0 2-4-3-1-1 3-3 0 0 1-1-2-2 0 0 3-3 1 1 2-1 2 2 0-1 5 2 0-1-2 2 0 2-2 0-3 1 2 1-1 9 1 2 1 0 2-6-2-1 2 1 3-2 0 0 2-5 0-1 8 2 0 1 6-2 0 1 2-3 1 2 5-2 0 0-3-1-1-2 1 2 3-6-1-3 4 1 4-2 0 0-2-4 1 2-4 3 0-3-2 2 0 2-3-3 0-2 3-3 0 1 1-1 1 1 1 0 5-2 0 0 2 4 2zM269 228l-2-6 2 0 0-2-2-3 2 0 2-2 0-3 1 0-1-3 1-1-2 0 1-1-1-1 1-3-2 0-1 1 0-2 2 0 2-2 2-5-2 0 0 2-3 3-3 0 0-2 2-1 0-2-3-1 0 2 1 1-2 0 0-3-2-1 0-3 5 0-1 3 4 2 0-1 3 0-1-4-2-2-2 1 0-2-5-2 0 2 2 2-3 0-2 2 1 3-1 0 0 4-2-1 0-3-4-2 1 3 2 1-1 4-5 0-1-3 0 2-5 2 0-2-4-3 1 3 4 4-3 0-1-2-1 2-1-1-5 1 0-2 1-1-3 2 0-2 1 0-1-2-2 1 1 2-3 2 1 2-2 0-3-2 1-3-2 0 0-2 3 0 0-1 4 1 0-1-2 0 0-3 2-3-3 0-2-2-3 0 0 1-4-1 2 2 0 4-2 2-4 1 0-1-3 0 0-2-2 2-1-1 0-4 1-1-2-1 3-2 0-2 4-1-3-2 4 0 2-1 0-2-2 2-1-1-4 0-2-2-4 0-2-5-1 1-2 0 2-2-2-2 2 0-1-2 1-2 2 0-1 5 2 0 0-4 1 2 2 0 0 3-2 0 0 4 3 0-1-3 8-1-1-2-2 1 0-2-2-1-2 1 1-4-1-1-2 0 0 2-4-1 2-1 0-2 6 0 1-5 3 1 0 2-2-1-1 2 1 1 4 0 0 1 1-1 2 1-1-3 2-1 0-2 1 1 3-1 1 3 1-3 6 0-1 5 2 0 1 2 1-1-2-2 0-3 3 0-2-1 0-1 5 1 3-3 2 1-1 3 2 0-1 2 2 0 1-3 3 1-1-4-2 0 0-4-2 0-1-2 2 0 1 1 0-1 3 0-3-3 2 0-1-2 3 0 1-1-2-2 3 0 1-9-3-3 1-4-2 0-2-6-2 2 0 3-4 0 0-1-1 2-4 0-1-1 0 3-2-1-8 0 1-4-1 3-3-2 1 3-4-1 0 3-2-1 2 2 0 6 3 4 2 1 4-2 0-3 2-1-1-1 1-2-1-3 6 0 0 5-2 3 0 5 4 0 2-2 2 5-2 0 0-2-4 0-1 3 1 1 4-1-2 2 0 2 2 0-2 3 5 1-3 1 0 2-3 0 0-2 1-1-3-1 0 3-4 2 0-1-3 0 0-2-4-1 1 3-3 0-2-2 0-2 3-1-3 0-1-1 2-1 0-2-4 0 2 4-2 0-1-2 0-3 3 0 0-3-4-3 0-2-2-2-3 0 0-3-2-1 1-2-1-6 1 0 0-3 2 0-1-3 6 0 0 1 2-1-5-1 0-1-4 1 0-2-9 1-3-2 0-7 5-3-1-1 1-2-3 0 0-3-3 0-2-2-1-4-2 0 1-1-1-3 5-6 7-1 1-3 3 0 1 1 0 2-3 0 0 2 2 0 1-2 3 1 0-3 3 0 1-4-2 1 0-2 1-1-5-1 1-1-1-1 1-1 0-5-5-5-2-4-1-12-4-4-3-1 1-2-2 1-1-2 1-12-5-7 0-8 2-4 2-1 1-4 24 0 0 2 2 0 0-2 49 0 0 2 3 4-2 1 0 2 3 0-2 9-2 2 0 13-3 1 1 2-4 3-2 4 0 13-3 6 0 6 2 4 7 3 5 6 0 3 1 0 0 5-2 1 0 3-3 3 2 4 1 8-2 0-2 4-2 0-3 3 1 10 1 0 0 6-2-2-2 0 1 2 2 0 0 2-2 1-1 13 4 2 2-1 7 1 2 2-1 2 2-1 0 2 2 0-1 3 2 0-2 1 2 2-1 2-1-1-2 1-1-2-1 2-2 0-3 4 1 3 0-3 1 1 2-2 2 1 1-2 3-1 0 2-2 0-1 5 4 4-2 0-2-2-1 1-3-1-1 1 1 2 2-1 0 4-4 1 3 1 0 2 2 0 2-2 1 2-2 2-2-1 0 2-2 1 0 2 3 3-1 4 1 0 1-2 0 3 1 0-1 1 1 3-3 1 4 2-2 0 0 2-3-1 0 2 3 0 1 1 0 3-1 0-1 10-1 2-3 0 1 3-3 2zM75 6l0-3-3 1 0 2zM73 9l0-2-2 0 0 2zM263 9l0-2-2 0 0 2zM199 11l-1-2 0 2zM93 25l-4-2 3-1 2 1zM264 31l0-2-2 0zM262 33l-1-2 0 2zM229 47l0-13-1 0 0 13zM58 40l1-2-2 1zM210 41l-2-2 0 2zM89 53l1-1-1-4 3 0 1-2-4 0 1-3-1 1-5 0-1 1 1 2-2 2 6-1 0 2-2-1-2 2zM254 47l1-2-2 0 0 2zM60 48l-2-2 2 0zM214 50l-1-3 0 3zM223 59l4-7-1-2-5-1 1-1-1-1-4 3 0 6 3 3zM243 83l-1-3-2 1 0-4 1-1-3 0 0-3 3-3 0-3 1 0-1-3 4 0 2-2 0-9-1 0-1-5-3 0 0 1-4-1-4 2-1 2 0 6-1 0 1 5 4 1 0 5 1 1-1 0-1 5-1 1-3-1 0 2 5-1 1 6 1 1 1-1zM74 51l-1-2 0 2zM93 52l1-2-3-1 0 3zM93 56l-2-1 2 0zM87 69l-3-3 0-4 2 1 1-1 2 0 0 3-2 0 1 3zM235 68l-1-3-2 1 0 2zM75 70l0-2-3-2 0 4zM245 68l0-2-2 0 0 2zM57 73l-2 0-4-3 1-1-1-2 4 0-1 2 2 0zM78 70l1-2 3-1-4 0-2 1 0 2zM215 71l0-2-2 0 0 2zM69 76l1-3-2-2 0 2 1 1-3 1 1 1zM249 77l-1-2-2 0 0 2zM220 82l-1-2 3 0 0-2-2 0 0-2-1 2-3-1 1 4zM234 82l-5-5 2 2-1 3zM249 81l1-2-2-1-1 3zM227 81l1-2-1 1-4-1 2 2zM260 86l0-2 2 1 4-1 0-3-1-1-4 0 0 2-3-1 0 1 2 0-1 1 0 3zM228 100l1-1 0-14-1-1-4 0-1 6-1 0 0 4 2 4 2 2zM241 87l0-3-3 1 0 2zM199 90l3-2 0-2-3 0-1 2 0 2zM264 93l0-2 3 1 2-1-1-3-3 0-4 3 1 1 1-1 0 2zM204 93l1-2-2 0 0-2-3 2 2 2zM201 95l-1-2-2 0 1 2zM82 98l-1-2 2-2 1 2zM89 101l-1-3-3-1 0-2 3 0 1 1zM70 100l-4-1-1-2 1-1 2 0 1 2 2-1 0 2zM87 101l-2 0 0-3zM259 106l2-1-1-3-4-2-3 0 0 2 4 4zM267 103l2-1 0-2-5 0zM85 104l-2-1 2 0zM202 104l-2-1 2 0zM266 108l-1-3-3 1 1 2zM250 117l-1-4-2 0-4-4-5-2 2 5 4 4zM204 114l-1-3 4 0 2-2-2-1-1 1-4 0-1-1 0 4 2 0 0 2zM255 124l6-3 0-2-2 0 0-2-3-3-2 1 0-5-1 0-1 2 0 4 3 0-1 2 1 4-2 0 0 2zM87 127l-4-1 1-1-1-4 1-2 3 0 0-1 3 1 0-1-2 0 0-2-2-1 2-2 2 0 1 2 1-2 0 5-3 3 0 2-1 0 0-3-2 1 1 2zM45 122l-4 0 1-2-2 1 0-2 1-1 3 0zM218 128l2-4-1-3 2-2-5 6-3-1-1 1 0 1 5 0 0 2zM235 124l-1-2 0 2zM76 132l-1-4 3-4 0 6zM84 128l-2 0 0-2zM78 139l-2 0 0-6 3-3 1 2 2-3 1 2 3-1-1 2-3 1 1 4-1 1-4 0zM88 131l-2-2 2 0zM80 137l0-2-3-1zM43 143l-4-1 2-1 0-2-2 0 1-4 2 1zM219 137l0-2-2 1zM76 140l-2-1 2 0zM249 142l-2-1 1-2 2 0zM75 148l-1-1-2 1-1-2 2-2 0-3 5 2-1 1 1 3-2 0-1-1zM79 143l-2-2 3 0zM72 144l-3-1 3 0zM242 148l-2-1 2 0zM257 158l1-1-1-2 2-1-2 0 0-4-2 1-2-2-1 2 3 1 0 2-1-1-1 1 1 2 2 0 0 2zM273 160l-2-2 2-1 1-5-1 2-2-2-4 0-2 2 1 2-1 3 2 1 1-1zM277 155l-2-2 0 2zM249 157l-2 0 0-2zM45 158l-4-1 3-1zM55 157l-3-1 3 0zM57 160l-3-1 1-1 3 0zM256 175l3-3 2 0 2-3 2 0 0-5-2-3-2-1-6 7-1 6-1 0 0 2zM39 172l-3-1 0-3 1 0-1-4 3 0 1 1 0-2-2-1 5 0-1 4-3 0-1 2 2 2zM221 167l-1-2 0 2zM35 180l-2-1 2-4-2-1 3-1 0 6zM44 177l-2-1 5-3 0 2-2 0zM281 178l-4-1 0-4 1 2 2-1 1 1zM41 179l-2-1 0-2 3 1zM47 180l-2-3 4-1zM12 178l-2-1 2 0zM17 181l-2-2-3-1 3-1 2 2zM65 179l-2 0 1-2zM277 178l-2-1 2 0zM5 180l-2 0 1-2zM7 183l-6 0 1-2-1-1 5 1 0-3 4 0 0 2-3 1zM20 183l-2-1 1-1-1-2 3 1zM67 180l-2-1 2 0zM70 185l-2 0 0-3-3 0 3-1 0-2 4 1zM40 183l-2 0 1-3zM65 181l-2-1 2 0zM7 251l-3-3-5 1 0-52 5 2-1-3 1 0 0-3 5-2 1 2 2 0-1 2 2 0-1 1 1 3-5 3 6 0-1-3 2-2 0-4 2 0-1-2 2-2-1-2-3-1 2-1 5 1 1-3 4 6 3 0 4-4-1-3 1-1 3 0 0 2 2 2 3-1 1 2 2-1 1-3 1 1-1 2 3 1 0 3 2 0 0-2 3-2 1 2 4-1-2 3 1 1 3 0-1 4 3 1 2 2 0 2 3 0-1 3 2 0 1 4-2 0 0-2-2-1 0-3-2-1-1 1 2 1 0 2-2 0-5-8-3 0-1 2-4-4 0-2-4 3-4-1 0-4-4 0-1 1 1 3-4-1 1 2-4-1-1 1 0 2 2 0 0 2-2-1 1 3-3 1-1 5-4 0 0 3 2 1-3 1 0 2-5 0 4-2 0-3-2-4-1 1-9-1 1 9 2 3-1 1-1 7 2 1 6 0 0 1 3 0 4-5 0-6-3-1 1-2 2 0 1 2 6 0-6-1 0-4 3-1-1-2 2-1 4 1 0-2 1 1 1-1 1 1 1-1 1 1 5 0 0 3 3 1-2 1 0 2-2 0 1 2-2 0-4 6 6-1 1 1 0 3-3 1 0 2-6 6 4-1 3-3 0-2 1 1 3-1-3 3 1 1 0 4 1 0 0-3 3-1 0 1 3 0-1 2 3 0 1 2-3 0-3 3-3 0 2 3-2 1 0 5-2-4-5 2-2-5 0 5 1 1-2 0 1 4-2 0-2-7-5 0 0 1-2-1-2 1-1-1 0-1 6 0 2-4 0-4 1 0 0-2-4-2-4 0-1 5-1 0 1 7-1 1-5-1 1-3-5-3 1 5 3 1-2 1 0 2-2 0 0-2-7 0 0 1-3 0 0 3 3-1 0-2 2 2 1-2 3 0 0 3-3 0 1 2zM63 182l-2-1 2 0zM269 185l0-2-2 0zM49 185l-2-1 2 0zM216 196l0-3 2-1 0-3-5 1-2-1 0 3 1-1 2 0-2 3 2 0 0 2zM225 197l-2 0 1-2-2 0 0-1 3 0zM221 198l-2-1 2 0zM33 200l-2-1 2 0zM5 202l-1-2-2 0 0 2zM251 203l-3-1 1-2 2 0zM44 205l-2-2 2 0zM240 204l-3-1 3 0zM245 235l-2 0 1-1-1-3 1-1-3 0-1-1 2-3-4 0 3-2-2-2 0-2-4 0-2-2 2-2-2 0-1 1-1-2 1-1 2 1 3-1 2 1 0 2 2 2 5 1 1-1 0-10-1 0 0-4 2 0 1-2 0 2 2-1 1 1 0 2-2 0 0 2-1-2-1 0 0 3 3-1 0 9 1 1 2-1 0 4 3 0 1 4-4 7-1-2-3 1-2-2 0 2-2-1zM225 209l-2-1 0-2 2 0-1-2 2 0 0 3zM229 217l-2-1 0-2 2 0 1-3-4 3-2-2 4-2-3-1 2-2 2 0 0 2 2 1 4-5 1 5-2 1 2 2-4 0zM67 214l-1-3-3-1 2-1-1-1 0-2 4 1 1 2 3 0 0 2-3-1 0 2 1 1-3 0zM51 212l-2 0-3-3 3-1 1 2 1-2 0 2 2 0zM54 216l-2-1 1-1-1-2 3-1 1 3-2 0zM61 221l-5 0-2-3 2 0 2 2-1-3-2-1 4 0 0-2 4 0 1-1 0 2-2 0-1 2zM269 214l-3-1 3 0zM250 216l-1-2 0 2zM68 217l-3 0 0-2 3 0zM293 223l-2-1-1-4-2 1 0-3 1-1 2 0 0 2 2 0-1 1zM271 277l-2-1 0-7 2-3 0-7-1-2-2 0-6 5 0 9 3 1 0-2 1 0 0 3-1 1-3-2-5 0 0 2-2 0-2-2-3 3-2-2 1-3-1-1-5 0-1-1 1-2-3 1 0-2 4 0-1-2 2 0 1-2-5 1-2-2-3 0-4 2-1-1 0-2 6 0 0-4 2 1 1-3 1 1 3-1 1 1 0 3 2-1 0 5 3 2-2-7 6-6 2 0 0-2-2 0-2-3-3-1 2-4-3 1-1 2 0 6-2 1 0 2-7 0 0-2-2 0-2 2 0-2 2-2-5 0 0 2-2-1 0 3 2 0 0 3-2 0 0 4-2 0-1-2 2-1-3-1 3-1-1-6 1-1 4 0 0-1 6-1 0-2 1 1 4-1 2 4 1-4-2 0-2-3 1-3 1 1 2-1 2 3 3-4 1 2 3 0 7 7-1-3-4-4-1-6 4 0 1 1 0-2 3-1 1 3 3-1 1 3 0-5 3 1-2-4 2-2 3 3 2 0-1 4 5 4 0-6-3-2 1-2-2 0 2-2-4-2 5-2 2-3 5-1 0 3-2 0-2 2 1 1-1 1 1 3 2 0-2 2 2 0 4-2 1 1-1 1 0 4 2-2 3 1 2-2-1 2 1 3-2 0-1 3 4 2-2 1 0 2-2 1 4 2 3-2-1-2 2 0 0-2-2-1 0-3-2 0 0-1 3 0 1 3 2 0 0 2-1 0-1 5-6 4-3-1 0-3-4-1-2 3 5 4-1 2-17 0-1 1 0 1 18 0 0 6 1 1-5 1 2 2 2-2 1 3-3 0-1 2-3 0 1 2-3-1 0 3 1 1-3 0 1-8-2-4-2-1 0-2-2-1 0 3 3 6 0 7-1 2-2 1-2-1-3 1zM64 229l-2 0 1-2 0-6 5-2 1 1-1 2 2 1-4 0 0 3 2 0-1 2-3-3zM295 220l-2-1 2 0zM36 226l3-3-1-2-3 0 0 5zM60 228l-3-1 2-2 0-3 1 0zM296 226l-2 0 0-3 3-1 1 2-2 0zM53 228l-1 0 0-5 3 2-2 1zM57 224l-3-1 3 0zM261 230l-2 0 0-4 2 2zM258 231l-2-1 2 0zM61 234l-2 0-2-3 5 1zM292 240l0-4-3-1 2 5zM236 242l-3-1 1-2 2 0zM300 240l-2-1 2 0zM18 247l-3-1 1-2zM21 252l-3-2 0-2 3 2zM26 253l-1 0 0-5 2 0 0 4zM303 255l-2-1 0-3-4 0 0 1-2-1-2 1-1-4 2 0 1 2 4-1 0 1 5 1zM17 254l-5-4 4-1 1 1zM10 251l-2-1 2 0zM38 256l-2 0 0-2-3-1 0-2 3 0 0 2 2 0zM7 260l-3 0-3-4-2 0 0-4 2 0 0 3 2 1 7 0-1 3-1-2-3 0zM30 253l-3-1 3 0zM18 263l-5 0 2-2 0-2 2 0-1-4 1-1 4 0 0 1 10 0 1 2 3 0-4 1-2-1 1 3-5 0-3-2-3 3-3 0 2 1zM233 258l-2 0 0-3 4 0 0 1-2 0zM296 260l-3-1-1-3 3-1 2 2zM304 265l-4 0 0-2-2-1 3-2-1-1 0-2 3 1 0-3 1 1 3-1-1 4-3 1zM309 263l-2-3 1-3 3 2-2 1zM24 266l-2 0 0-2-1 2-3-1 4-6 1 4 2 1zM8 265l-4-2 3-1 0-2 6 0zM5 262l-3-1 3 0zM339 265l-5 0 0-1 5-1zM307 267l-2-3 3 1zM311 271l-1-2-1 1-2 0 1-1-1-2 3 0-1-3 4 1 1 2-1 3zM346 267l-7 0 0-2 1-1 2 2 4-1zM253 269l-3-3 1 3zM332 269l-3-3 8 0 1 1-2 1-2-1-1 1-1-1zM350 302l-12-7-9 0-3 5 0-5-3 0-2-3-2 0 1-1 0-4 1 1 4-1 1 2 3 0-4-5 0-2-3 0 0-2 3-1 0-5 1 0-1-3 2 0-1-1 0-2 3 1-2 4 0 3 2 0 0 2 2 1 2-1 0 2 3 1 0 2 2-2-2 0-1-3 3-2 0-2 3 0 1 2 2-1 1 2-1 1 1 3-1 1 4 0-3-4 3-4-1-2 3-1zM242 272l-2-2 2 0zM317 285l-6-1-1-2-2 0 0-2 3 1 1-1-2-2 2 0 1-3-1-2-2-1 3 0 0-2 2 3 0 6 3 1 0 2-2-1-1 1zM281 274l-2 0 0-2zM246 276l-4-1-1-2 4 1 2-1zM262 279l-3 0-1-2 2-3 4 0-1 2 2 0 0 2-2-1zM287 277l-3 0-1-3 3 0 1 1zM283 279l-2 0 0-2 3 0zM306 280l-2-1 0-2 2 0zM286 309l-2 0 0-2 2-2-2 0-1-1 0-3-3-1 1-3-2 0 0-3-1 0 0 2-2 0-1-2-3 1 0-2-3 0 3-2-4 0 0-2 1 1 5-1 2 2-1 2 4-1 3 3 4 0 1-3-1 0 0-4-2-3 1-3-2 0 0-2 2 1 0-2 1 3 2-1 0 6 3 5 3-1 1 3 3 0 1-2 0 2 2 0 1 3 4 0 0-2 1 0 0 3-1 0 1 3-1 1-2 0-2-2-3 2-1 4-2-2-1 2-5-2 0 2-3 0zM267 292l-2-1-2 1 0-2-3-1 4-1-3-1 0-2 2 0-1-2 1-1 1 3 2 1-1 4zM299 285l-3-1 3-1zM271 288l-3-1 0-2 2-1 2 1zM342 285l0-1-5 0 0 1zM316 291l-5-4 1-2 6 1-2 1zM301 291l-3 0 0-2 3 1zM303 290l-2-1 2 0zM319 296l-2-1 2 0zM323 301l-3 0-1-1 0-4 6 0 0 4zM350 350l-64 0 0-5-1 3-4 2 0-2-4 0-1-2-2 1-1-7 3-1 2-3 0 1 5 0 2 6 2 0 0-7-1-1-5 0-4-4-4-1 1-3-2-1 2 0 1-2 4 1 1-2 1 1 4-1 1 2 3 0 0-1-3 0 0-2-2 0 1-1-2-1 2-1-1-2 2-2 3 0 3 2 0 2 3-1 0-2-3-1 0-2 6 0-1-2 3 1-1-2 5-2-2-2 1-2 5 1 0 3-1 1-3 0 0 4 5 8 0-9 1-1 6-1-4-4-3 0-1-1 1-1 0-4 3-1 3 4 1-3 3 0 0 12 3 6 2 1 1 4 2 1 2 6 2 1 1 4 8 6 4 1 4 4 2 0zM279 324l-2-1 1-2zM268 329l-1 0 0-4 3-1 2 1-4 1zM266 329l-2-2 2 0zM273 331l-2-1 2 0zM265 338l-5-2 1-3 2 0-2-1 0-1 3 0zM268 338l-2 0 1-4 3 0-1 2 2 1-3 0zM271 343l-4-1 0-2 4 1zM273 345l-2-1 2 0zM277 349l-3-1 3 0z"/><path fill="#7dff82" d="M65 12l-2-3 3-4 0-3-5-1 0-2 9 0-1 3 1-1 2 1 0-3 3 0 0 3-4 1 0 3-1 0 1 3-3 0 0-2-2 0-1 1 1 2zM243 79l-2 0 1-3-2-1 2 0 2-4 3-1 0-2 2-2 2 0-1-1 0-7 1-1 3 0-1-1 0-4 4 0 1-1 0-2-2-1-3 2 0-3 3 0 1-1-1-1 1-3-5-1-1-4-3-1-1 2 1 0 0 3 3 1-1 1 1 3-5 0-4-2 0 2 1 1-1 1-2-2-2 1 0 2-4 0-1-1-1-10-1 0 0 9-2 0 0-13-1 0 0 15-6-1 0-1-1 1-4-1 0 3-1 0 0 5-1 1-1-4-2-1 2-2 2 0 0-5 3-1-5-1 1 2-6 1 0 4 2 1 1 5 2 1 0 4 3-2 1 4 3 3 5-2-1-1 2-3-1-6 4-2 3 0-1 1 1 2-1 1-1-1-3 0 0 4 1-2 1 0 0 4-1 0-1 6 2 0 1-2 6 0-1 1 1 2-5-2-2 2 0 3 2 0 1-1 1 2-2 0 0 1 2-1 3 1-1 1-4 0 1 2-1 1-2-1-1 3-4 0-1-1-1 2-1-2 1-2-3 0-1 1 0-3-2 0-1-2 1-2-3-1 3-2-5-5 1-1-2-1 1-3-2-2-3 2-1-2 1-1-1-5 1 0 1-5 3-3 3 1 0-2-3 0 0-1-4 1 0-2 2 0 0-1-7 1-1 1 0-2 2 0-1-2 4-3-3 0 0-1-3 1 0-2-2 7-2 0 1-2-1-4 5-4 3 0 0-3-7-3-1-2-2 0 1-4-1 1-3 0 1-4 2 2 2 0 6-3-1-2-2 0-2 2 0-2-2 0 0-2 3-1 1 2 2 0 3-2 1 2 5 0 1 1 1-3-2 1 0-2 2-1 3 0 1 3 3 0 0-2 4 0 0-1 1 2 6-1 0 1-2 1 3 0 0-3-2-2-5 2-3-2 0-2 11 0 0 2 1-2 1 0 1 3-3 0 3 2-1 1 0 5 1 0 1-3 1 2 4 1 0-4-1-1 1-1-2 0 0-3 2 0 0-2 2 0 0 2 3 0-2 2 2 1 0 2 3-1-1-1 1-5 17 0 2 6 3 1 1 6-2 1 0 2-2-1 1 4-2 0-2 2 0 3 3 2 0 2-2 0-2-3-3 0-1 2 2 3-1 1-4 0 1 2 2 0-1 2 4 0 2-7 1 3 1-2 2 1-2 5-3-1 1 1 0 2-3-1 0 2-4 0-1 2 3 6 0 2-3 0 2 1 0 2 2 1-1 1 0 4-3 1-1 7-2 1 0 3-2 1-3 7-4-3 0 4 1 1-3 0zM74 9l-1-2 2-1 1-3 0 4zM209 6l-3 0-1-3 2 0 0 2 2 0zM263 19l4-3-2-3-2 0 0-2 3 0 2 2 0-3-3 0-1-5-7-1 1 2-2 1 2 1-3 0 1 2-3 1 0 2 3-1 0-2 3 1-1-2 5 1 0 1-2 0 1 5-3 0-1 2zM240 9l-3-2 3 0zM195 11l-2-1 2 0zM200 18l-1-1 0-2 1 1 1-1 3 1 2-2-4 0 0-2-3 0 0 3-2-1 0 4zM238 26l6-4 1-8-1-2-5 0-1 8-1 0 0 5-1 0zM66 22l-1-1-2 1-2-4 4 0 0-2 2 0zM257 22l0-6-1 0 0 6zM90 22l-3 0 1-3 1 1 2-1zM221 31l8-3-1-3-2-2-2 0-3-4-10 1 0 8zM76 26l-2 0 0-2-3-1 0-2 2 2 3 0-1 1zM259 25l-1-2 0 2zM93 25l-2-1 2 0zM66 29l-2-1 0-3 2 0zM66 82l-2 0 0-2-2 0 3-4-4 0 2-3 0-3-2-1 5 0 4-5 0-3-8-2 0 3 2 1 0 4-5 0 0-4 2-1-2 0-1 1 0-1-3 0-1-6 4 1 0-1 3 0 0 2 1 0 0-3-2 0 0-2-2-1 1-3 2-1 2 1 0 2 2-1 0 4 4 0-1-6-4 1-3-4 1-2-2 0 1-5 6 1 1-2 0-4-2 0 0-4 4 3-1-3 2 0 1 2 3 0 0-2 4 0 2-2 3 0 0 2 2 0 1 2 3 0 0 2 4 1-4 1-1-2-4-1-1 2-2 0-2-2-4 4-1-2-3 1 1 4-3 0 0 2 2 0-1 2 2 3 0 5 4 2 1 4 3 0 0 6 1 1-3 1 2 1 0 1-4 0-1 1 0 3-2 0 1-3-3-2 0 5 2 2-2 0-1 2 2 3-2 0-1-1 0 1-3 0zM209 32l0-5-2 0 0 4zM88 29l-2-1 2 0zM212 36l3-3-7 0 2 3zM254 38l-1-1 1-1-1-2-1 3zM96 39l-4-2 0-2 1 1 2-1 1 1zM58 39l-2-1 3-1zM56 40l-3 0 0-2 2 0zM217 41l1-3-3 2zM245 44l1-5-3-1 2 2-1 2 0 2zM89 43l-6 0 0-1 4-1 2 1zM82 51l-3-2-1 1-4 0 1-2-1-3 2 0 0-2 5-1 3 2-2 1zM93 46l-3-3 3 1zM54 48l-2-1 0-2 2 0zM94 50l-1 0 0-4 4 0 1 1zM237 48l-1-2 0 2zM51 50l-1-2-1 2-1 0 0-3 4 0zM252 56l-3 0-1-1 3-1 0-2-3 0-1-4 4 1 2 2-1 1zM53 51l-2-1 2 0zM87 61l-2 0-3-4 1-1 0-5 3 0 1 1 0 2-2 1 2 1zM91 55l-2 0 0-3 2 1zM210 57l-2-1 2 0zM254 60l1-2-3 0zM217 63l-1-2 0 2zM88 68l-2 0-2-2 1-2 2 0zM84 69l-2-1 1-2zM56 71l-3-1 0-3 2 0-1 2 2 0zM79 71l-2-1 3-2 2 0 0 2-3 0zM213 71l-3-1 1-2 2 1zM245 70l-2 0 0-2zM69 76l1-1 0-4-2 0 0 2-3 0 1 3zM215 72l-2-1 2 0zM57 73l-2-1 2 0zM60 75l-2-1 2 0zM219 77l-3 0 0-3 2 0zM240 125l-3-1 0-3-1 1-4-1-3-7-2 11-2-2-3 1 0-3 1-1-2-1-4 1-1 3-2-1-2 1 0-4 2-1 5 1-2-2 4-3 3-7-4 0-5 6-2 0 0 3-3 0 1-2-3 1-1-2-2 0 2-3 4 0 3-2-1-2-3 0-2 3-1-1-1 1-1-1-2 1 0-3-1 0 2-1-1-3 2 0 1 1 3-2 0-1-5 0-2-2 0-3 4-2 0-4-3-1 2-5 8 2 0-4 1-1 3 0 1 1-1 5 3 1 0-4-1-1 2-2 2 0-1 4 2 0 0 3-2 3 0 4 1 0 0 3 3 3 2 0 1-1 0-14-1 0 0-4 1-1 2 0-1 2 4 0-1-2 2-1 3 1 0 1-2 0 0 2 2 0 0 3-1 0 0-2-3 1 3 2 4 0 0-3-1-1 2 0 1 1 0-4 1-1 3 0 0 2 2 0-1 3 1 0 0 5 1 0 2-2 0-2-2-1 1-1 0-6 5-1 0-1 5 1 0-2 4 1-1 2 2 0 0-2 2 0 1 3-2 1-4-2-5 1 0 3-1 0 1 2-2 4 2 0 4-3 1 5-3 4-2-2-2 0-1 1 0 5-1 1 5-1 1-1 0-3 2-1 2 2 2-2 1 5 2 2-4-1 0 1-4 0 3 3 0 2-2 1-2-3-4-2-3 0 1 8 2 0 0 3-1 0 1 3-2-1 0-3-1 1-3-1 2 6-2 0-1-3-2 0-1-2-2 0-1-2-5-2 0 2 5 5 1 5 2 2-2 2-4-1zM233 80l-3-3 4-1 2 1-3 1zM213 81l-1-2 2 0zM266 80l-2-1 2 0zM272 88l-2 0 0-3-2 1-4 0 0-2 2 0 1-2 0-3 1 2 4 0-1 3 2 0 1 3-2-1zM72 83l-2 0 0-2 2 0zM226 84l-3-1 0-2 1 1 2-1zM70 84l-2-1 2 0zM200 86l-2-1 0-2 2 0zM204 85l-2 0 0-2zM233 84l0-1-4 0 0 1zM61 89l-2-1 2 0zM203 89l-2-1 2 0zM59 90l-2-1 2 0zM62 92l-2-1 1-2 2 0zM271 92l-1-3 2 0 0 2zM196 93l-2 0-1-3 3 0zM199 93l-2 0 0-3 2 0zM211 93l1-3-2 2-3 0 0 1zM62 97l-1-1-2 1-1-1 1-3-2 0 0-1 5 1-1 1 1 1zM71 99l-5 0-1-2 4 0 1 1 1-1zM61 104l-2-1 1-1-1-3 2 0 0 3 1 0zM269 109l-3-1 1-2-1-3 1-1 3 1-1-2 1-2 1 1 1 6-2 0zM202 101l-2-1 2 0zM60 149l-5 0 2-1 2-3-3 0-4 3-1-1 1-2-3 0 2-1 0-2 4 0 2-4-6 0 0 3-4-1 0-2 3-3-1-1-4 0 0-3 1-1 6-1-3-3 3-3 3 0 0 3 1 0-1-10 2-3 1 1 3 0 0-3 2 0-1-1 0-4 2 0 0 2 2 0 0-1 3 0 2-2 3 0 4-2 0 2 2 0 0 2 2 0-4 1 0 3-1-3-3 0-1 3-1-1-2 1-1-3-2 0-1 1 1 3-2 0-1-1-1 1 3 1-4 2 2 1-1 1 1 2 2 0-2 1 1 1-1 4 3-3 2 0 1-5 1 2 3-1 2 5-1 1-3 0 3 1 0 1-5 0-1 8 2 0 0 3 1 0 0 3-2 0 1 2-5 1-1 3 2 2-4 0-2-2zM265 111l-6 0-2-1 0-4 5 0-1 2 1 2 3 0zM263 122l-3-3 1-2-2-2-3 0 1-3 7 7zM90 118l-1-2-3 0 2-1 0-2 2 0 0 2 2-1 0 3-2-1zM55 116l-4-1 4 0zM252 123l-2-1 1-2-1-2 2-2 2 0 1 2-2 0 0 2 2 1-3 0zM89 123l-1-3-2 1 0 2-2 0-1-2 3-2 3 0 1 1zM257 134l-1-2 3-1 0-2-3-2 0 4-2 0-1-1 0-3 1 0-1-2 2 0 0-2 2-1 2 0 1 2 1-2 0 2 2-1 1 1-1 2 2 1-1 1-3 0 1 3-1 2-3-1zM236 126l-5 0-1-2 1-1 1 1 5 0zM86 126l-3-1 3-1zM67 128l1-2-2 0 0 2zM84 128l-2 0 0-2zM214 135l-3 0 3-3-3-3 3 0 1 1-1-4 3 0 0 3-1 1 2 0 0 3-2-1 0 2-2-1zM61 135l0-3-5-5-3 2 0 4zM224 156l-1-2-2-1 3-1-1-1 0-5 1 0-1-2 1-1-3 0 1-2-4-1 0-2 2 0 1 2 2-1 3 5 3 0 2-4-1-2 2 0-1-4 2 0-1-2 2 0 0-2-3 0 0-2 6 0-1 2 1 1-2 0 0 3-2 3 0 7 2 0 0 3 4 0-1 1 1 1 0 4-3-1 0 3-11-2 1 2zM46 130l-2-1 2 0zM78 139l-2 0 0-6 4-3 0 3 2 2-1 0 0 3-3 0zM221 133l-2 0 0-2 2 0zM80 137l0-2-3-1zM253 150l-1-2-2-1 3-1-1-1 0-2 1 1 3 0-1-3 2 0 0-2-2-2 2-1-2-1 4 0 1-1 1 1-1 2 1 2-1 1-2-1 1 4-4 3 1 3-3 0zM217 138l-2-3 3 0zM222 139l-1-2-2 0 0-2 3 1zM48 137l-2-1 2 0zM41 139l-2-1 2 0zM43 142l-2 0 0-3zM50 142l-2-1 2 0zM75 148l-3-1 1-1 0-5 5 2-1 3-2 0zM250 147l-2-1 2 0zM48 149l-2 0 1-2zM50 151l-2-2 3-1 1 2zM269 179l-2 0-4-4-4 0-1-1 5-5 2 0 0-5-1 0 0-3-4-1-1 2-2-2 1-1-1-4 2 0-1-2 1-1 3 0 2-3 3 1 1-2 2 1 4-1 1 1 0 3-2 0-1-2-1 1-2-1-2 2-3 0 0 4 2 1-2 1 0 2 6 0 1 1-2 4 0 3 2-2 3 1 1-2 2 0-3 3 2 2-3 0-2 2 3 5-4 0zM255 153l-6 0-1-4 4 1 1 2 2 0zM52 155l-5-2 3 0 0-2 2 0zM55 154l-1-3 1 1 2-1 1 1zM273 153l-2-1 2 0zM59 155l-2 0 1-2zM240 155l-2 0 1-2zM280 157l-3 0 0-3zM234 198l-1-5-2 4-2 0 0-3 2-3-3 0-2-2-3 0 0 1-2-1-6 0-4-2 4-2 0-2 3-1 0-2-3 2-4-4-3-1 3 0 0-2 5-1 0-1 2 3 0-4-3 0-2-3-2 0 1-3-2-1-3 0 0 1-4-1 3 0 0-1 9 1 3-2 2 1 0-4 2-1 2 0 1 2 4-1 0 3-2 1 0 2 3 6 2 0 2 3 4 1-1-10-1 0 1-2 0-6-1-1 2 0 1 3 2 0-1-3 3 0 0 3-1 1 3 1 3-3 3 0-1-3 2-1 4 1 0 3-1 1-5 0-1 2 0 15-2 0-3 3-1 5-9 4zM232 162l-2 0 1-3zM43 163l-2-1 2 0zM42 166l-2 0 0-3 2 1zM39 171l-2 0-1-2 1-1-1-1 0-3 3 2-1 2 1 1zM221 167l-1-2 0 2zM203 171l-2-2 3-1zM206 175l-2 0 1-7 1 2 2 0 0 2-2 0zM278 171l-2-1 2 0zM35 175l-2 0 1-2zM45 176l-2 0 1-2zM36 178l-2 0 1-3zM280 177l-3-1 1-1 3 0zM16 179l-2 0 0-2zM7 183l-3 0 0-2 2 0 0-3 2 0 1 3-2 0zM223 185l3-4 0-3-6 0 0 7zM21 182l-2 0-1-3 3 1zM70 185l-2 0 0-3-1 0 1-2 1 2 1-1 2 0zM266 185l-3 0-1-1-1-4 5 2zM274 183l-4 0-3-3 4 0 0 2 3 0zM261 194l-4 0-4-2-6-8 7 1 0 1 8 0 1 2-3 3 1 1zM47 192l-3 0-2-4-4 0-2 2-6 0 0-2 3-2 5 0 0 1 4-1 2 1 3-2 1 2zM274 189l-6-1-2-2 2-1 6 3zM54 196l-2 0 1-2-2-2-2 1 1-6 5 1 1 4 2 2 2 0-3 1-1-2-2 0zM8 225l-9 0 0-28 3 1-1 2 1 2 3 0-1-2-2 0 2-1-1-3 1-2 5-2 2 2 2 5-5 3 6 0-1-2 2 0-1-3 2-1-1-3 2 0 0-3 2 1 1-3 4 1 0 3 6-2-1 2 2 1-3 0-1 1 0 2 2 1-2 0 1 4-2 1 0 4-5 0-1-3-2 0-1 2-9-1 0 5 1 0 0 4 2 4-1 0 0 4zM212 189l-2-1 2 0zM210 191l-2-1 2 0zM221 195l-3 0 0-5 3 1zM265 196l-3-3 2-1 0-2 1 0zM212 195l-3 0 0-3zM237 203l-2-5 6-5 0 4 4 5-3 0-1-1 0 1-4 0zM270 197l-2 0-1-3 3 1zM272 197l-1-3 2 0zM256 200l-3-3-1 3-1 0 0-5 2 0 3 3zM273 204l-4-2 3-2 2-5 3 0 0 1-2 0 0 2 2 1-4 0 0 3-1 0zM63 199l-4-1 4-2zM227 203l-2-1 1-2-2-1 4 0-1-2 2 0 0 2 2-1 0 2zM269 200l-3-2 4 0zM30 200l-2-1 2 0zM64 203l-2 0 0-3 2 1zM251 203l-2-1 0-2 2 0zM45 247l-1-4-2-1-2 0 0 2-3 0 0-4-1 4-2 0 1 1 0 2-2 0-1-4-2 0 0-9 2-2 0-11-3-3-2 0-3 3 0-6-3-1 1-2 2 0 1 2 6 0 0-1-6 0 0-1 2-1-2-2 3 0 1-2 3 0 1-2 1 1 4 0 0 1 2-2 2 1-1 1 0 2 4 0-3 1 0 2-2 1 1 1-1 3-2 0-1 2 2 1 0-1 3 0 1 1 0 3-8 8 1 1 0-1 3 0 3-4 3 0-2 2 1 1 0 4 2-2 3 0 1 1 0 2-2 0-1 2-3-1 0 3 2 0-1 1 1 2-1 0zM250 209l-1-3 3-1 0 2-2 0zM274 216l-2-3 1-5-2-1 0-2 4 0 0 2 2 1-3 2 1 4zM29 207l-2-1 2 0zM69 210l-3 0-2-3 4 0 1 1zM229 209l-2-2 2 0zM21 213l-5 0 0-1 4-1 0-2 2-1 1 3-2 0zM49 210l-3-1 3-1zM51 211l-2 0 1-3zM65 210l-2-1 2 0zM231 215l-1 0 0-5 3 0 0 3zM250 214l-2 0-1-2 2 0 0-2 2 0 0 3zM61 221l-5 0-2-3 2 0 1 2 1-1-1-2-2-1 4 0 0-2 4 0-2 3zM233 216l-2 0 1-2zM237 220l-2 0-1-2 2-3 2 0-2 2 2 1zM270 226l-2-2 1-2-1-3 3-3 2 0-1 3 1 1-2 0 0 4zM241 220l-2-2 2 0zM64 229l-2 0 1-2 0-6 5-2 1 2-1 2-2 0 0 4-1-2-1 0zM248 232l-3-3-4 1 0-1 2 0-1-1 1-2-2-1 2 0-1-4 3 2 4 0-1-2 2-2 1 3 2 0 1 2 3-1 1 3-1 0 0 3-2 1-3-1 0 2-4-1zM283 236l-2 0 0-6-3-2 1-2-2 0 2-2-3-1 3-1 1 1 1-3 2 0-1 4 2 0 0 4 2-1 4 0 0 4-3 0-1 3zM36 226l3-3-1-2-3 0 0 5zM296 225l-2-2 3-1 0 2zM278 243l-6-8-3 0 0-4 3 0-1-1 0-3 6 1-1 4 5 4zM263 243l-2-1 0-9 2-1-2-1 3-1 0 3 1 0 0 6zM61 234l-3-1 1-2 3 1zM245 235l-2 0 1-1-1-3 3 0zM294 237l-6-3 2-2 7 1zM21 243l-5-1 1-1-1-3 5-1 1 5zM265 274l-3-2-3 0 0-8-6-1 0-3-2-3 0-4 3-3 2 0 0-2-2 0-2-3-3-1 2-4-3 1-1 2 0 6-2 1 0 2-4 0-2-2-3 0 1-3-4 0-1 1 0-2 5 0 0-1 2 1 2-3 0 1 3 0 1 3 1-4-3-1 1-4 3 0 0 2 3-3 5 1 7 7 0 3 9 6-1 3-2 0-6 5 0 9 3 1zM296 247l-3 0 0-3-3-1 0-2 3-1 1-3 2 0 0 5-1 0-1-2 0 3 5 2zM236 242l-2 0 1-1-1-2 2 0zM14 245l-2 0 0-3 3-1 1 2-2 0zM1 248l-2 0 0-6 7 0-1 2-3 0 0 3zM27 244l-1-1-3 1-1-2 6 0zM8 250l-2 0 0-2-4-1 3-1 0-2 2 2 1-2 3 0 0 3-3 0zM301 245l-2-1 2 0zM228 251l-1-3 2-1 0 3zM26 253l-1 0 0-5 2 0 0 4zM17 253l-1-2-3 0 1-2 3 1zM304 253l-3 0 0-2-6 0-1 1 0-2 2-1 1 1 5 0 0 2 2 0zM10 251l-2-1 2 0zM236 251l-2-1 2 0zM30 253l-3-1 3 0zM229 256l-3 0 0-2 2 0 0-2 1 0zM246 261l-6 0-2-2 0-3 4-3 2 0 2 4zM18 263l-4 0 3-4-1-4 1-1 13 1-1 2-6 0-4 4-3 0zM288 267l-3 0-5-5-2-5-4-3 17 0 0 6 1 1-5 0 3 3-3 1zM295 259l-2 0-1-2 2-2 1 2 2 0zM6 259l-2 0-1-2 1-1 4 0 0 1-3 0zM309 261l-2-2 3-1 1 2zM24 266l-2-2-1 1-3 0 4-6 1 4 1 0zM235 261l-4-2 3 0zM7 265l-2-1 0-2 2 0 0-2 3 0 0 4-2 0-1-1zM5 262l-2-1 2 0zM251 274l-2 0 1-5-2-1-4 1-1-1 1-1-1-2 3-4 2 0 2 2-1 1 1 4 3 1 0 3zM304 265l-4 0-1-3 4-1 1 1zM339 265l-3-1 3-1zM270 276l-1 0 0-7 3-5 0 3 1 0 0 8-3 0zM342 267l-3 0 1-3 2 1zM313 270l-2-2-3 1-1-2 6-1 1 1zM284 272l-3-1 1-4zM329 271l-2 0-1-2 3 0zM314 274l-2 0 1-4 1 0zM278 274l-1-3 2 0zM327 276l-2 0 1-2-1-3 3 1zM350 302l-12-7-9 0-2 5-1 0 0-5-2 0-3-3 0-2 2-2 6 1 3-3-2-1-1 2-2 0 0-2-2-1 1-3-2-1 3 0-1-1 0-2 10 4 0 3-2 2 1-1 7 0 0-1-5 0 1-3-2-3 2-4 4 1 0 1 2-1-1 4 2 0-1 3 4 0-3-4 2-1 0-3 3-2zM262 279l-1-1-2 1 0-2 2-1 0-2 3 0-2 2 1 2zM287 277l-3 0-1-3 3 0 1 1zM284 278l-3-1 3 0zM313 284l-2 0 0-2-2-1 7-1-1 3zM265 286l-4 0 2-1-1-2 2 0zM286 286l-1-3 2 0 1 2zM315 289l-3-1 0-3 3 0 1 1zM289 292l-3-1-1-4 2 0zM275 292l-2 0 1-2zM273 293l-3-1 3 0zM278 296l-2 0-1-3 4-1zM286 309l-2 0 0-2 2-2-2 0-1-2 1-1-1-2 2 0-2-1 0-3 2 2 3 0 0-5 2 0 0 2 2 1 2-1 3 1 2-4 0 3 1 1 5 1 0 3-3 0-1-2 0 3-2 0 0 2-3 0 0-1-2 0 0 2-1-1-2 1-2-1zM319 296l-2-1 2 0zM323 301l-3 0 1-2-2 0 0-3 1 1 1-1 4 0 0 4zM307 301l-2-1 2 0zM319 311l-5-2-2-3-3 0-1-1 2-4 3-1 0 3 4 0 0-1-2-1 1-1 2 0 0 3 1 0zM350 350l-64 0 0-5-1 3-4 2 0-2-4 0-1-2-2 1 1-2-1-4 2-3 2 1 0-2 5 0 2 6 2 0 0-7-1-1-4 0-1-2-3 0-1-3-4-1 3 0 0-3 1-1 4 0 3-2 2 2 3 0 0-1-3 0 0-3-1 0 1-5 4 0 2 4 1-2 2 0 0-2-2-1 0-2 4 0 2 2 0-2-1-1 2 0 1 3 2-2 0-2-4-1 4-1 2-2-1-2 2-1 2 1 0 3-1 1-3 0 0 4 5 8 0 4 6 5 6 1 2 2 3 0 0 1 3 0 0 1 3 0 4 2 4 4 4 1 4 4 2 0zM268 327l-1-2 3-1 0 2zM265 338l-3-1-1-4 3 0 1 1-1 1 1 1zM277 349l-2-1 2 0z"/><path fill="#e3ff1c" d="M69 2l-3 0 1-3 3 0zM74 1l-1-2 1 0zM231 3l-2-2-5 1 1-3 7 0 0 3zM244 2l-4 0 1-3 2 0zM259 30l-3 0 0-3 3-2 0-2-2-1 0-6-1 6-6 0 0 1-7 0 0-1 1 0 1-5 5-5 0-4-2-2 1-3 1-1 3 1 1-2 2 0 0-2 7 0 0 2-2 0 0 2-2 0-1-2 0 2-3 0-1 4 2 0-1 1 1 2-3 1 0 2-2 0 2 3 2 0-1-4 2 0 1 1 1-2 3 2-3 5 7 1-2 2 1 2-4 1 0 5zM266 1l-1-2 1 0zM265 2l-2-1 2 0zM70 5l-3-1 2-2 3 0zM264 5l-2 0 0-3 2 1zM236 48l-3-3-1-7-1 0 0 9-1 0 0-15-2 2 0 13-2-1 0 2-1 0 1-7-3 2 0 4-7-1 0-2 3 0-2-1 1-5-3 2-1 2 1 2-4 1-2-2 1-2 4 0 0-4 3-5-1 1-8 0 0 3-2 1-2 0-2-2 4-4 3 1 0-5-2 0-1 1 0 3-1-2-1 1-3 0 0-4 3 0 1-1 0-3-4 0-1-1 0-2 1-1-1-1 9-1 0-2 5-4 0-3-2-1 1-3 2 0 1 4 3 0 1-3 2 0-1 2 9-2 0 1-2 0 0 2 2 0 3-3 2 1-1 2-2 0 0 5-3 4-1 9-7-5 0-9-1-2-5 0 5 10-9 1 0 8 3 0 0 1 3 0 4 2 6-3 6 0 2-2 3 0 12 7 0 3-3 1 1 2-5-1 2 2-1 4-2 0 0 2-2 1-2-3-2 2zM248 10l-4 0 0-2-3 0 1-2-1-1 2-1 3 1-1 3 2 0zM71 9l-3-1 0-2zM208 15l-2 0-3-4-2 0 3-2 0-3 1 2 4 0 1-1 1 1-2 3 1 2zM266 10l-1-4 3 0 0 1-2 0zM239 11l-5 0 1-4 1 2 3 0zM271 11l-3-1 0-3 3 2zM268 15l-2 0-1-3-2-1 3 0 2 2zM270 13l-2 0 0-2zM194 15l-2 0 0-2 3 0zM64 17l-2-2 1-1 3 0 0 1-2 0zM267 19l-2 0 0-2 4-1 0 2zM64 21l-3-3 3 0zM75 25l-3-2 4 0zM268 27l-2 0 0-3 2 1zM77 35l-2-3-2 0 2-1 0-2 8-1 2 1-1 4-6-1zM268 33l-1-2-2 0 0-3 1 2 1-1 2 0zM68 31l-2-1 2 0zM260 36l-3 0 0-1-2 1 0-2-2 0 0-2-1 1-2-1 2-2 2 0 1 2 3 0-1 2 3 1zM69 34l-2-1 1-2zM87 33l-2-2 3 0zM90 33l-2-1 2 0zM69 39l-1-4 2-2 2 0 0 3-2-1zM253 35l-2-1 2 0zM257 41l-6-3 4 0zM80 65l-4-4-5-1-2-4 0-6-1-2-4 0 1-2-2-1 0-2 1-2 5-1 0 2 2 0 1 2 1 7 4 2 1 4 3 0 0 7zM248 46l-2 0 0-4 3-1 2 2-2 0zM82 51l-3-2-5 0 1-3-1-1 2 0 1 1 0-2 4-1 1 1zM209 46l-1-2 2 0zM251 46l-2-1 2 0zM209 49l-2-1 0-2 2 1zM52 49l-4-2 4 0zM221 48l-2-1 2 0zM254 50l-1-3 2 0 0 2zM63 58l-1-3-2 0 0-2-2-1 3-4 2 2 0 3 2 0zM232 50l-2 0-1-2 3 0zM214 57l-2 0-5-5 4 0zM215 56l-1-3 2 0zM259 57l-3-1 0-3 3 0-2 1 3 1zM64 67l-5-1 0-2 2-1 0-4-4 3-1-2 1-3 4-1 1 6 2 1zM230 60l-4 0 1-2 2 0 0-2 1 0zM217 61l-2-1 2 0zM219 65l-3 0 1-4 2 1zM74 73l-3 0-2-2 0-7 1-2 2 3 0 6zM228 78l-1-2-3 0-1 2 0-4-2 0-2 2 0-3-2 0 1-4 2 0 0-2 1 1 3 0 0-2 2-1 0-3 2 0-1 1 0 6 2-1 0 3 3 0-1 2 2 1-1 2-2-1 0 2zM87 66l-3-1 3-1zM237 65l-6 0 0-1 6 0zM220 67l-2 0 1-2zM252 69l-2 0 1-3 2 1zM54 70l-1-3 2 0zM67 73l-4 0 2-4 2 0zM247 74l-3-3 6-2 0 2-2 0zM236 73l-2 0 0-2 3 0zM245 77l-3-1 1-3 2 0zM263 77l-2 0 1-3zM67 80l-3-2 5-2zM260 78l-2-2 2 0zM232 79l-2-2 3 0zM256 87l-3 0-3-4 2-4 3 0 1-2 2 0-2 2 1 1-1 1 1 4zM265 78l-2-1 2 0zM263 104l-7-4-13 0 1-8-3-3 0-5-1-1 2 0 1 1 2-2 0-2 3 2 1 7 3 0 3 3-1 6 5-1 1-1 0-3 5 1 1 3-5 2 2 2zM216 86l-3 0 0-2 2-3 3 0 0 3zM236 84l-3 0-1-2 3-1zM222 91l-2-2 0-5 1-2 1 2 2 0 0 3zM271 88l-1-3-5 0 0-1 3 0 0-2 3 0 0 2 2 0 0 2-2 0zM209 108l-4 0-1-1 0-3 5-4-5 0-2-3 4-3 0-5-2-1 2-2-2-1 4 0 0-1 3 1 0 2 2-1 0 3-3 3-3-1 1 5 1-3 2 0 0 5 1 0 0 8-2 0zM260 93l-3-2 0-4 1-1 1 3 1-1 2 0 0 3zM62 97l-3-1 0-3-2 0 0-1 3 0 0 3 2 0zM87 98l-1-3 2 0 0 2zM268 98l-2-1 2 0zM61 104l-1 0 0-4 2 2zM202 101l-2-1 2 0zM205 103l-2-1 2 0zM78 109l-3-1 0-4 3 0 1 1zM73 109l-3 0 0-3 1-1 3 0 0 3zM270 108l-4 0 0-2 1-1 3 0zM261 110l-4 0 0-4 3 0 1 1zM81 108l-2-1 2 0zM213 116l-2-1 0-2-4 1-1-3 1-1 6-1 1-2 4 0 1 2-4 4-2 0zM64 112l-2 0 1-1-1-2 1-1 2 2zM251 115l-2 0 0-2-2 0-6-5 8 1 2 2zM256 111l-2-1-2 1-2-2 2-1 4 0zM263 111l-2-1 2 0zM67 112l-2-1 2 0zM259 115l-3-1 2-1zM69 143l-3 0-2-6-3-2 0-3-5-5-2 2-3-1 1-2-1-2 1-1 3 0 1 3 4-3-4-1 0-5 2-2 1 1 3-1-1 2 3 1 0 3 1 0-1 1 0 3 2 0 1-3 3 0 0-2 5 0-1 2 2 0-4 2 3 1 0 1-5 0-1 8 2 0 0 6-4-1 2 2zM252 123l-2-5 2-2 2 0zM44 122l-2 0 1-3-2 0 0-1 3 0zM215 122l-3-3 3-1 0 1 3 0zM240 125l-3-1 0-5 3 2zM262 131l-3-1-2-3-3 0-1-2 2 0 0-2 2 0 0 2 2 0 2-3 0 2 2 2 2 0-1 2-3 0 1 1zM234 126l-1-1-2 1 0-2 6 0zM67 128l1-2-2 0 0 2zM76 132l-1-4 1-2 2 0 0 4zM216 130l-1 0 0-4 1 0zM234 130l-2-2 2 0zM51 140l-2 0-1-2 2-2 0-2-4-1 0-3 6-1 0 3 1 1 8 2-2 3-8 0zM214 135l-3 0 3-3-2-1-1-2 3 0 2 2 0 3-2-1zM237 131l-3-1 3 0zM261 132l-4-1 4 0zM78 139l-2 0 0-6 5 0 1 1-1 2-4-2 2 3 2 0zM234 137l-2 0-1-3 3 1zM48 137l-2-1 2 0zM59 149l-2-2 2-1 2-8 2 8 3 1-4 0-1-1 0 2zM223 141l-3 0 0-2 2 1 1-1zM75 147l-3 0 1-1 0-5 2 0 0 3 2 0 0 2zM236 154l-2 0-1-2-2 2-1-2-2 0 0 2-1-1-2 1-4-1 3-1-1-3 2-1 0-2 4 1 2-1-1-1 0-4 2 0 0 7 2 0 1-1 0 2 4 1-1 2-2 0zM257 145l-2-1 3-3 1 2-2 0zM54 147l-2 0-1-4 4 0 1 3zM253 150l-1-2-2 0 1-2 3 0 1 2zM57 149l-2-1 2 0zM275 152l-2 0-1-2-2 1 0-2 5 0zM251 152l-2 0-1-2 3 0zM240 155l-2 0 1-2zM260 162l-3-2 1-4 2 0-1-1 0-2 1 1 4 0-1 2 2 0-1 4-4 0zM280 157l-3 0 0-3zM255 160l-4-1 2-1 0-2 3 1zM51 160l-2 0-1-3 3 1zM234 198l-1-5-2 4-2 0 0-3 2-3-5-1-2-2-1-4 2-1 2-5 3 0 5-3 1 1 2 0-1-1 0-9-1 0 1-6 4 0-1-2 3 0-1 3 2 1 4-1 1 1 0 15-2 0-3 3-1 5-9 4zM220 183l-2-1 0-2-2 2-3-1-1-3-2-1 3 0-1-2 4-2 1 3 1 0 0-4-4-1 1-3-2 0 0-2 2-2 3 1 0-2 4 1 0-1-2-1 2 0 0-2 2 0 1 1 0 4 3 1 2 6-8-2 0 8-2 0zM266 176l-7-1-1-2 3-1 2-3 2 0-1-8 1-1 4 0 1 1-1 1 0 6 1-1 4 1-1 0 0 3-5-2 0 6zM213 166l-2-1 2 0zM221 167l-1-2 0 2zM39 168l-2 0 1-2zM272 177l-3 0 0-4 1-1 2 2zM7 183l-3 0 0-2 2 0 0-3 2 0zM70 185l-2 0 0-3-1 0 1-2 1 2 2 0zM265 185l-3-1-1-4 5 2zM271 182l-3 0-1-2 3 0zM220 189l-5 0-2-2 0-2 2 0 0-2 3 0 2 2zM260 194l-3 0-4-2-6-8 7 1 0 1 8 0 1 2-3 3zM38 189l-3 0 2-3zM47 192l-2 0-2-3 3-3 2 1zM34 189l-1-2 2 0zM53 193l-3-3 0-3 5 1-1 1 1 3zM26 206l-5 0-1-3-2 0-1 2-5 0 0-1-4 0 0-2 6 0-1-2 2 0-1-2 2 0 0-3 2-1 0-3 2 1 1-2 3 4 2 0-1 2 2 0-1 4 2 1-2 1zM221 195l-1-1-2 1 0-5 3 1zM57 193l-2-1 2 0zM8 202l-3 0-3-3 4 0 0-2-2-1 0-2 6-1 0 3 2 0 1 3zM245 202l-3 0 0-1-4 1-2-1-1-3 6-5 0 4zM273 202l-2-2 4-4 0 2 2 1-4 0zM2 202l-3 0 0-4 3 0-1 1 1 1zM30 200l-2-1 2 0zM227 202l-1-3 5 0zM271 203l-2 0 1-2zM273 204l-2-1 2 0zM275 213l-3 0 1-5-2-1 0-2 4 3-1 2 1 1zM250 209l-1-3 3 0 0 1-2 0zM39 244l-2 0 0-4-1 4-2 0 0-2-1 1-3 0 0-9 2-2 0-11-3-2 0-2 3-3-1-1-3 0-3-4 3 0 2-2 4 0 0 1 1-1 2 1 4-1-1 2 5 0-5 2 1 2-2 1 0 3-2 3 4-1 0 2 2 1-2 4-6 6 1 1 5 0 0 1 4 0 1-2 3 0-1 2 1 1-2 2-3-1 0 3 2 0-1 1 1 2-3 0-2-2zM21 213l-5 0 0-1 7-3 0 2-2 0zM231 215l-1 0 0-5 3 0 0 3zM25 215l-4-2 3-1 1 1zM250 214l-2 0-1-2 2 0zM61 221l-5 0-2-3 2 0 1 2 1-1-1-2-2-1 4 0 0-2 4 0-2 3zM237 220l-2 0-1-2 2-3 2 0-2 2 2 1zM269 224l-1-2 2-2-1-2 2 0 1 2-1 0 0 3zM69 221l-4-1 3-1zM252 230l-2-2-5 2-1-2 0-4-2-1 0-2 3 2 1 3 2 0 1-1-1-4 2-2 0 5 1 1 2-1 2 1 1-1 2 1-1 4-5-1zM36 226l3-3-1-2-3 0 0 5zM281 230l-3-2 1-2-2 0 3-1 0-2 4 2 0 2-3 1zM43 230l-3-1 2-2 3 0zM278 243l-6-8-3 0 0-4 5-1-2-1 1-2 3 1 0 4 5 4zM290 231l-3 0-2-3 4-1 1 1zM245 235l-2-4 3 0zM260 234l-3-1 3-1zM294 237l-6-3 2-2 5 0zM263 243l-2-1 0-9 4 0 0 6zM21 243l-3-1-2-4 5-1 1 5zM261 249l-5 0-7-5 0-2 2-1-2-1 1-3 5 1 7 7 0 3zM247 243l-3 0 1-1-1-1 0-3 3 0zM297 246l-3 0-4-3 0-2 4-3 2 1 0 2-2-1 0 3 1 2 2-1zM14 245l-2 0 0-3 3-1 1 2-2 0zM2 247l-3-1 0-4 7 0-1 2-3 0zM27 244l-5-2 6 0zM245 252l-3 0-3-3-2 0 3-6 2 2 2 0 0 2 3-2 0 4-2 1zM8 249l-3-1 0-4 2 2 1-2 2 0 0 3-2 0zM292 251l-17 0 0-1 2-2 11-2zM4 248l-2-1 2 0zM17 253l-1-2-2 0 0-2 3 1zM38 254l-3 0 0-3zM16 262l-1-2 2 0-1-5 1-1 12 1 0 2-6 0-1 2zM245 261l-4 0 0-2-2 0-1-2 2 0 1-2 3 0 1 1zM24 265l-2-1-2 1-1-1 0-2 2 0 1-3zM10 264l-3-1 0-2zM249 269l-1-1-4 1 0-3 1 0-1-3 2 0 2 2-2-4 2 0 2 2-1 1zM304 265l-4-1-1-2 4-1 1 1zM18 263l-2-1 2 0zM265 274l-3-2-3 0 0-8 1-1 2 0 0 8 3 1zM339 265l-3-1 3-1zM341 267l-2 0 1-3zM252 273l-2 0-1-3 4-1 0 3zM329 271l-2 0-1-2 3 0zM246 275l-4 0-1-2 4 1 1-1zM350 282l-2 0-3-3 0-1 4 1-2-2 0-2 2 0 0-2 1 0zM263 276l-2-1 3-1zM285 277l-1-3 2 0 0 2zM342 284l-5 0 1-2-1-4 2 0-2-1 0-1 5 0 1 1 0 3-2 1 1 1zM347 300l-5-2-1-2-2 0-3-6-7 0-1 3 2 2-3 3 0 2-1 0 0-5-2 0-2-2 0-3 1-1 6 0 3-3-6-1 2-4-1-2 7 1 0 2 2 0-2 4 1-1 7 0 2 4 0 3 1 0 0 3 2 2zM315 283l-4 0 0-2 3 0zM315 288l-3-3 3 0zM290 296l-2 0 1-3zM289 305l-5 0 1-2-1-2 1-1 3 1 1-3 2-1 1 1 4 0 2-2 3 0 0 5-4 0-4-2 0 1 2 1-1 1-4-1-2 2zM305 300l-3 0 0-3 3 0zM313 306l-4 0-1-1 2-1-1-2 8 1-1-1 1-2 2 4-5 0zM307 309l-4 0 2-2-1-2 3 0zM303 311l-2-2 2 0zM350 350l-64 0 0-5-1 3-4 2 0-2-2 0-3-3 0-2-2-1 1 0 0-3 3 1 1-1-1-2 2 1 3-1 2 6 3 0 0-7-2-1-4 0-1-1-4-4 1-4 1-1 5 0 0-2 1 2 4 0-3-1 0-4-1-1 1 0 0-3 2 1 2-1 2 4 1-2 2 0 0-2-2-1 0-2 3 1 1 2 2-1-1-3 2 0 0 3 4-3 5 9 0 4-3-2-3 0 0-1-4 0-2 2-3 0-1 7 2 0 3 3 5 0 0-1 3 0 6-3 9 1 2 2 3 0 0 1 3 0 0 1 3 0 4 2 4 4 4 1 4 4 2 0zM264 337l-2 0-1-4 3 0 1 1z"/><path fill="#ffaf00" d="M231 2l-4-1 0-2 3 0zM71 4l-1-2 2 0zM236 48l-3-3-1-7-1 0 0 9-1 0 0-15-2 2 0 3-2 4-3 2 0 4-6-1-1-1 3-1-2-2 1-4-4 3 0-4 3-5-1 1-9 0 0 3-4-1 1-2 2 0 0-2 3 1 0-5-3 1 0 3-1-2-4 1 0-2 3-1 1-3 4 0 0-10 5-4 0-3-2-1 1-3 2 1 0 3 4 0 0 2-4 1 5 9-9 1 0 8 3 0 0 1 3 0 4 2 6-3 6 0 2-2 3 0 11 7 0 3-2 1 1 2-5-1 2 2-1 4-3 0-2-5-1 0 0 6-2 1zM253 13l-4 0 1-1 0-4-1 0 1-3-1-1 2 0 1 1 1-2 2 0-1 2 1 1-1 1 2 1-2 0 0 2-3 0 2 1zM70 5l-2-1 2 0zM227 9l-1-4 2 0zM232 8l-2-2 3-1 0 2zM245 9l-3-3 3 0zM210 11l-1 0 0-4 2 1zM270 10l-2 0 0-3 2 1zM208 13l-4 0-1-3 4-2 2 3zM239 11l-5 0 0-1 1-1 4 0zM256 22l-6 0 0-1 2-1 1-4 2 0-1-4 2 0 1 1 2-1 1 2-1 2-3 0zM67 19l-2 0 0-3 2 0zM206 22l-3 0-2-2 2-1-1-2 3 0zM259 27l-2 0 2-2 0-2-2-2 6-1-1 3-2-1 0 4zM268 31l-3 0 0-3 1 2 1-1 2 0zM78 34l-3-2 1-2 3 0zM257 35l-4-1 0-2-1 1-2-1 2-2 2 0 1 2 2 0zM212 39l-4-2 4-1zM214 44l-5-2 1-1 2 1 2-1zM70 53l-2-3 0-3-1-1-3 0 0-4 2 1 2-1 4 2 1 7zM93 46l-3-3 3 1zM82 51l-4-2 0-5 3 0-1 4 2 0zM96 49l-3 0 0-3 4 0 1 1zM221 48l-2-1 2 0zM63 58l-1-3-2 0 1-3-2 0 2-4 2 2 0 3 2 0zM84 55l-1-4 3 0 0 2zM232 55l-4-1-1-2 6-1 0 1-2 0 2 1zM259 57l-3-1 0-3 3 0-2 1zM60 60l-3-1 2-3 2 0 1 3zM87 61l-2 0-2-2-1-3 5 0zM64 67l-3 0-1-1 1-1-1-2 1-1 3 1zM73 72l-3 0-1-1 0-7 1-2 2 3zM79 67l-3 0-1-4zM230 77l-2-2-3 0-2-2-3 1-1 2 0-4-2-1 2 0 1-3 1 3 3 0 1-2-1-3 2 0 0 6 3 0 0 1 2-1 0 2 2 0-1 2-2-1zM251 69l-1-2 2-1 1 2zM65 73l-1-3 3-1 0 3zM249 71l-2-1 2 0zM247 73l-2 0 0-2 2 0zM245 74l-2-1 2 0zM232 79l-2-2 3 0zM256 86l-4 0-2-2 2-5 5 3 0 3zM216 86l-3 0 0-2 2-3 3 0 0 1-2 0zM247 85l-4-1 3 0 1-2zM271 88l-1-3-5 0 0-1 3 0 0-2 3 0 0 2 2 0 0 2-2 0zM212 90l-1-1-4 1-1-1 0-3 3 0 0-1 2 0 0 2 2-1 0 3zM261 92l-4-2 0-3 2 0 0 2 1-1 2 0 0 3zM209 108l-3 0-2-2 3-1 0-2-1-1 3-1-4-1 1-2-3 0 0-2 3-2 0-3 2 2 0 3 1-3 2 0 0 5 1 0 0 8-2 0zM262 99l-3-3 2 0 1-2 3 0 1 3-2 1-2-1zM268 98l-2-1 2 0zM74 108l-3-1 0-2 3 0zM77 108l-2 0 1-3 2 1zM270 108l-2 0 0-3 2 0zM260 109l-3 0 0-3 3 0 1 1zM251 114l-4-1-6-5 8 1 2 2zM256 111l-2-1-2 1-2-2 2-1 4 0zM208 114l-2-3 1-1 3 0 0 3zM227 124l-3-1 1-4-1 1-3-1 8-7-1 10zM90 118l-2-2 1-3 1 0zM71 140l-3 0-4-2-3-3 0-11-1-2-4 0 2-1-2-3 2-2 2 1 0-2 2 0-1 4 3 0 1 2-1 4 2 0 0 3 3-2-2-3 2 0 1-2 4 0 0 3-2 0-2 2 0 5-1 0 0 3 2 0zM254 117l-2-1 2 0zM252 119l-2 0 1-2zM215 121l-2 0 1-2 4 0zM238 124l-1 0 0-5 1 0zM54 129l-2 0 1-2-2 0 1-1-1-2 1-1 3 0 0 5zM237 125l-3-1 3 0zM257 127l-3 0-1-2 3 0zM262 131l-5-3 1-2 3 1 2-2 2 1-1 2-3 0 1 1zM51 140l-2 0-1-2 2-2 0-2-4-1 1-2 3 0 0-2 2 0 0 3 1 1 8 2-2 3-8 0zM216 134l-1-1-1 1-2-1 2-2 2 0zM258 140l-3-3 3 0zM75 147l-3 0 1-1 0-5 2 0zM231 145l-1-2 1-1-1-1 2 0 0 3zM56 146l-4 0-1-3 4 0zM61 148l-4 0 2-4 2 1zM253 150l-3-3 3 0zM225 154l-3-1 3-1 0-3 1-1 1 1 4-1 2 2-2 2 0-2-2 0zM236 153l-2-1 0-2 3-1 1 3zM275 152l-2 0-2-3 4 0zM260 162l-3-3 3-4 3 0-1 2 2 0 0 3-4 0zM234 198l-1 0 0-8-5 1-2-1-2-2-1-4 2-1 2-5 3 0 5-3 1 1 2 0-1-1 0-9-1 0 1-6 4 0-1-2 3 0-1 3 2 1 4-1 1 1 0 15-2 0-3 3-1 5-9 4zM220 173l-2 0 1-4-2 2-3-1 1-1-1-4 3 2 0-2 2 0 1 3 1-1-1-3 2 0-1-2 1-2 2 0 1 1 0 5-4 3zM229 163l-2 0 0-3 2 0zM269 165l-4 0-1-1 0-3 2 0 1 1 0-2 3 1zM42 166l-2 0 0-3 2 1zM272 171l-3-2 1-2 3 1zM266 176l-7-1-1-2 3-1 2-3 5 0 0 6zM208 172l-3-1 3-1zM272 177l-3 0 0-4 3 1zM215 181l-2 0 1-2-3-2 2 0 0-2 4-1 1 4zM220 183l-2-1 0-4 2 0zM264 184l-2 0-1-4 3 1zM220 189l-3 0 0-2-3 0 2-4 2 0 2 2zM260 194l-3 0-4-2-6-8 7 1 0 1 8 0 0 4-2 1zM38 189l-2 0 1-3zM47 191l-3 0-1-2 3-3 2 1zM53 192l-2 0-1-5 4 3zM55 189l-2-1 2 0zM221 194l-3-1 0-2 3 0zM8 202l-3 0-1-2-2 0 4-1-2-5 3 0 0-1 3 1 0 2 2 0 1 2zM26 206l-2 0 0-2-8-3-2-2 2-1 0-3 4-2 3 0 0 2 1-1 2 0-1 1 1 2-1 1 1 2zM243 202l-2-1 0-4 2 2zM239 202l-3-1 0-2 2-1 1 0zM2 202l-3 0 0-2 3 0zM17 205l-9-1 0-2 7 0 2 1zM8 225l-9 0 0-20 9 0 1 8 2 4-1 0 0 4zM39 244l-2 0 0-4-1 4-2 0 0-2-1 1-3 0 0-9 2-2 0-18-1-1-3 0-2-2 0-2 2 0 2 2 0-2 2-2 2 1 3-1 0 1 3 0-1 1 1 4-2 2 1 2-5 0 5 3 0 2-1-1-3 0 0 5 5-5 2 0-1 5-6 6 1 1 5 0 0 1 4 0 1-2 2 1 0 3-2 1-2-1 1 5-2 1-2-2zM21 213l-5 0 0-1 7-3 0 2-2 0zM232 214l-2-1 0-2 2 1zM61 221l-3 0-1-5 2 0 0-2 4 0-2 3zM269 224l-1-2 3-4 0 4zM250 227l-1 0 0-8 1 0 0 5 1 0zM281 230l-3-2 2-4 4 2-1 2-2 0zM257 229l-1-1-2 1 0-4 3 1zM247 230l-2 0-1-3 5 0-2 1zM289 230l-2 0 1-3zM272 235l-3 0 0-3 2-1 1 2 1-1-1-2 2 0-1-2 3 0 0 3zM294 237l-3-1 0-4 3 0 1 1zM21 242l-3 0 0-3 2-2 1 0zM261 249l-5 0-7-5 0-2 2-1 0-2-2 0 1-2 5 1 7 7 0 3zM303 240l-2-2 3-1zM247 242l-3-1 0-3 3 1zM295 246l-5-3 0-2 4-3 1 0-1 2zM14 244l-2-2 3-1 1 2zM5 244l-4 0 0-1-2 0 0-1 7 0zM8 249l-3-1 0-4 3 2zM245 252l-3 0-3-3 2-1 0-3 3 0 0 2 3-2 0 4-2 1zM229 250l-2 0 1-3zM38 254l-3 0 0-3zM20 260l-3 0-1-2 0-3 1-1 12 1 0 2-6 0zM291 257l-14 0-3-3 17 0zM242 261l-1-2-2-1 2-3 3 0 1 1 0 3zM288 267l-3 0-7-9 3 0 2 2 3 0 4 4-3 1zM16 262l-1-2 2 0zM304 265l-4-1 2-3 2 1zM249 268l-4 0-1-2 5-2zM252 273l-2 0 0-2 3-2 0 3zM350 282l-2 0-2-2 3-1-2-3 2 0 0-2 1 0zM342 283l-5 0 1-1-1-3 3 0-1-1 0-2 3 0 1 1 0 3-2 1zM347 300l-5-2-1-2-2 0-3-6-6 0 3-4-1-1-4 0-2-1 2-4 2 1 4-1 1 2-1 4 1-1 7 0 2 4 0 3 1 0 0 3 2 2zM299 285l-3-1 3-1zM271 287l-3-2 3-1 1 1zM327 300l-1 0 0-5-2 0-2-2 2-1-1-2 1-1 5 0-1 4 2 2-3 3zM301 300l-7-2 3 0 1-2 3 0zM324 300l-4-2 1-2 3 0zM318 303l-2-1 0-2 2 1zM289 305l-5 0 0-1 1-2 3 0zM313 306l-3-2 1-2 4 1zM307 309l-4 0 2-4 2 0zM300 315l-2-3 2 0zM309 325l-8-3-1-7 3-3 2 1 4 8zM297 324l-4 0-1-2-2 2-4 0 0-1 2-1-2 0-1-3 3-3 0 1 3 0 1 3 1-2 2 0 0-2-2-2 3 0 0 4 4 3zM285 335l-3 0-1-1 1-2-3 0-1-2 0-4 2 1 4-2 0-2 1 2 4 0 0 6-3 0 0 3zM350 350l-63 0 1-16 1-2 3-2 6 4 5 0 0-1 3 0 6-3 6 0 5 3 3 0 0 1 3 0 0 1 3 0 4 2 4 4 4 1 4 4 2 0zM264 337l-2 0-1-3 4 0zM280 338l-2-1 2 0zM282 350l-1-2-2 0 0-2-3-1-1-3 3-3 5-2 3 8-1 0 0 3z"/><path fill="#ff5400" d="M220 19l-3 0-6-5 0-2 3-2-1-6 2 0 0 3 4 0 0 2-4 1zM251 10l-2-4 2 0 1 1 1-1 1 3-3 0zM210 11l-1 0 0-4 2 1zM209 12l-5 0 0-2 4-1zM266 12l-3-1 3 0zM199 14l-2 0-1-2 3 0zM259 16l-5-1 0-3 2 0 1 1 1-1 2 1zM268 15l-2 0 0-3zM205 19l-2 0-1-2 3 0zM206 22l-3 0 2-3zM211 28l-2-1 0-6 1-1 1 0zM262 22l-2 0 0-2 3 0zM236 47l-3-2-1-7-1 0 0-5-1-1-2 2 0 3-2 4-3 2-1 3-2 0 1-2-2 0-2-2 0-3 2-4 5-6 8-1 2 5 2 1 2 4 0 7zM83 32l-2 0 0-2zM209 33l-3 0 0-2 2 0zM69 48l-2-2-3 0 1-3 3 0 0 2 1-2 1 0 0 4zM219 46l-2 0 0-2 2 0zM82 51l-4-2 0-2 2-2 1 2-1 1 2 0zM96 49l-3 0 0-3 3 1zM63 58l-1-4-2 0 1-1-1-2 1-1 2 0 0 3 2 0zM232 55l-3-1 1-3 3 0-2 1 2 1zM210 54l-2 0-1-2 4 0zM258 56l-2 0 0-3 3 0-2 1zM87 60l-4-4 4 0zM60 60l-3 0 1-3 3 1zM73 72l-3 0 1-2-2 0 0-6 1-2 2 3zM66 72l-2 0 1-3zM223 73l-2-1 2 0zM230 77l-2-1 0-4 2 1zM253 86l-3-3 5-2 0 2-2 1zM247 85l-4-1 3 0 1-2zM273 86l-2 0-1-2 3 0zM211 89l-5 0 0-2 1-1 3 0zM261 92l-4-2 0-3 2 0 0 2 1-1 2 0zM60 95l-3-3 3 0zM209 100l-3 0 1-3-4-1 4-3 2 3 0-3 2 0 0 5zM266 97l-4 0-1-2 2-1 0 2 3 0zM209 108l-3 0-1-1 2-2 0-3 1-1 2 1 0 3 1 0zM74 108l-3-1 0-2 3 1zM256 111l-2-1-2 1-2-2 2-1 4 0zM210 113l-4-2 1-1 3 0zM90 118l-2-2 0-2 2 0zM227 124l-3-1 0-3 4-3 0 5zM61 122l-2 0-2-3 4-1 3 2zM238 124l-1 0 0-5 1 0zM71 140l-3 0-4-2-2-3 3-6 4-3-2-3 2 0 1-2 3 0 1 3-2 0-2 2 0 5-1 0 0 3 2 0zM54 129l-2 0 1-2-2 0 0-1 4 0zM261 130l-2 0-2-2 1-2 3 1zM59 138l-9 0-1-1 1-3-2-1 2-1 0-3 2 0 0 3 1 1 8 2zM81 136l-5-3 5 0 1 1zM231 150l-2 0 0-2 2 0zM232 152l-1-2 2 0zM225 154l-3-1 5-2zM260 162l-3-2 1-3 3 1zM223 168l-3-4 2 0-1-2 2 0 1-2 1 1 0 5zM245 180l-5-2-3-3 0-9-1-2 1 0 0-4 5 0 3 2 0 4 1 0 2 11zM218 170l-4-1 1-1 3 0zM272 176l-3-1 0-2 3 1zM216 180l-2 0 1-2-2 0 0-2 2-2 2 0 1 4zM261 191l-11-3-3-4 13 3 2 2zM217 187l-3-1 1-1 3 0zM220 189l-2 0 0-3 1-1 1 0zM47 191l-2 0-1-3 4-1zM25 203l-5 0-3-3 0-4 1-1 5-1-1 2 1-1 2 0-1 2 2 1-2 1 2 2zM8 202l-3 0-1-2-2 0 4-1 0-4 2 0 1 3 4 0zM3 208l-4 0 0-3 9 0zM69 210l-3 0-2-3 4 0 1 1zM39 217l-6 0 0-2-3-2 0-4 1-1 5 0 0 2 2-1 2 2 0 2-6 0 4 2zM21 213l-5 0 0-1 5-2zM25 215l-2 0 0-3 2 1zM61 217l-2-1 0-2 2 0zM33 231l-1 0 0-9 4-4 1 3-2 0 0 6zM41 226l-1 0 0-5 2 0zM66 226l-3-2 0-2 5 0-2 1zM281 230l-3-2 1-3 2 0zM272 235l-3 0 0-3 1-1 1 2 1-1 2 0zM44 239l-3 0-8-7 11 2zM47 236l-2-1 1-3 1 0zM294 237l-2-3 3-1zM20 241l-2 0 0-2 3-2 0 3zM252 239l-3-1 3-1zM261 249l-7-1-2-3-3-1 0-2 2-2 3 1 8 6zM295 246l-3-3 3 0zM8 249l-2 0-1-5 3 2zM245 252l-3 0-3-3 3-1 0-3 2 0 2 4zM291 251l-16 0 0-1 2-2 11-2 3 3zM26 253l-1-4 2 0 0 3zM291 256l-16 0-1-2 17 0zM20 260l-3 0 0-2 4-1 1-2 7 0 0 2-6 0zM244 260l-2 0-2-2 2-1-1-2 3 0 1 1 0 3zM290 265l-3 0-4-5 3 0zM339 265l-2-2 2 0zM249 268l-3 0 0-3 2-1 1 0zM260 272l-1 0 0-8 1 0zM341 267l-2 0 1-3zM253 272l-3 0 2-3zM342 283l-5 0 1-2-1-1 3 0 0-2 3-1 0 3-2 1zM350 282l-2 0-2-3 4 0zM347 300l-5-2-1-2-2 0-2-5-2-1 0-2-7-6 2-1 4 0 1 1-1 4 1-1 7 0 2 4 1 6 2 2zM327 300l-1 0 0-5-2 0 1-2-2 0 1-1-1-2 2-1 4 0 0 3-1 1 2 2-3 3zM301 300l-3-1 3-1zM312 305l-2-2 3-1 0 2zM307 308l-3 0 1-3 2 0zM297 324l-4 0-2-3-5 0 0-1 2 0 0-3 3 0 1 3 1-2 2 0 0-2-2-2 3 0 0 4 4 3zM284 334l-3 0 1-2-3 0 1-2-1-3 3-1 0 2 2 1 1-5 2 1 0 6zM350 350l-61 0 0-7 3 0 0-5-1 0-1-7 3-1 5 4 5 0 0-1 3 0 6-3 6 0 5 3 3 0 0 1 3 0 0 1 3 0 4 2 4 4 4 1 4 4 2 0zM282 350l-1-2 2-3-4 2 1-2-3 0 3-2-1-4 1-1 2 0 4 5-1 5z"/><path fill="#f00" d="M266 5l-3 0 0-2 1-1 2 0zM238 47l-2 0 0-2-1 2-3 0 0-1-5 0 0 1-6-1-1-1 0-3-2 0-3-3-6-2 1-3-1 1-4 0 0-3 5-1 0-1-7 0 0-2-1 0 0-4 5 1 0-2-3 0 0-2-2-1 0-2 2 0 0-1 6 0-4-3 0-4 1-1 4 0 1 1 0-4 4 0 2 4 0-4 2 0 1 2 0-1 3 0 0-1 5-1 0 3 2-2 2 0 0 2 3 0 0 4 2-2 0-2 2 0 1 1 0 4 1 0 0-6 5 0 0 2-1 0 0 3 1 0 1-5 4-1 0 2 1 0 0 4-1 0 0 2 3-1 0-1 2 0 1 1 0 5-3 0 0 1 6 0 0 4-5 1 3 2 0 3-4 0 2 2 0 2-5 0 0 2-5 0 0 2-1 0 1 3-3 1-1 4-3 0zM267 13l-3 0 0-5 5 0 1 1 0 2zM198 15l-5 0 0-3 1-1 4 0zM66 20l-3 0-1-1 0-3 4 0zM92 23l-3 0 0-3 2 0 1 1zM212 25l0-1-2 0 0 1zM268 32l-5 0 0-3 4 0 1 1zM252 32l-1-2-1 0 1 2zM200 35l-3 0 0-2 1-1 2 0zM97 40l-4 0 0-3 4 0zM96 48l-5 0-1-1 0-3 1 0 0-2 5 1 1 1 0 3zM73 71l-3 0 0-2-2 0 0 2-3 0-1-1 0-3 1-1-4 0 0-3 2-2-5 0 0-3 1-1 1-1 3 0-2-1 0-4 1-1 4 1-2-6 2 0 0-1 5 1 0 2 1 0-1 3 3 0 0 1 1 0 0-4 1 0 0-2 4 0 1 1 0 4 4-1 0 3 2 2 2 0 0 5-3 0-3 3-3 0 0 2-3 3-2 0 1 3-2 0-1-1zM258 55l-9 0 0-4 1 0 0-2 1-1 4 0 1 2 2 0zM211 56l-2 0-1-1 0-5 1-1 5 0 0 2 1 0 0 3-4 1zM231 55l-4 0 1-4 2 0 1 1zM230 59l-4 0 0-2 4 0zM216 61l-3 0 0-3 3 0zM255 63l-4 0 0-3 1-1 2 0 1 1zM86 68l-3 0-1-1 0-3 1-1 3 0 1 4zM268 80l-3 0 0-2 1-1 2 0zM230 124l-4 0-1-2-2 0-1-1 0-2-1-1-3 0-1-2-5-1 0-3-3 1-1-1 0-3 1-1-4-2 0-2 3-1-1-1 0-3-2 0 0-3 2-2 5 0-4-3 0-4 1-1 3 0 4 3 0-1-2-1 0-4 1-1 2 0 1 2 1-1 3 0 1 2 0-2 8-2 0 4 2-3 2 0 0 3 1-1 3 0 0 1 3-1 1 3 1 0 0-4 4 0 0 2 2 0 2-3 3 0 0 6-1 0 0 1 1-1 3 0 0-1 3 0 0 3-3 4 4 0 1 1 0 3-3 1 2 2 0 3-4 0 1 1 0 3-3 0-1-1 0 3-3-1 0 2-2 1 0 3-2 0 0 3-2 3-2 0-2 2-8 0-1-2zM269 88l-2 0-1-1 0-4 6 0 0 4-3 0zM200 92l-5 0-1-1 0-2 3-2 2 0 0 1 2 0zM61 94l-3 0 0-4 3 0zM70 99l-2 0-1-1 0-2 2 0 1 1zM89 100l-5-1 0-3 4 0 0 2 1 0zM213 102l0-1-2 0 0 1zM270 106l-4 0 0-2 1-1 2 0 1 1zM202 114l-2 0-1-1 0-2 1-1 2 0 1 1 0 2zM91 117l-4 0 0-2 4-1zM45 120l-3 0 0-3 3 0zM60 147l-3 0 0-3-1 1-4 0 0-5-3-1 0-2 3-2-4-2 0-3 6 0 0-1-2-1 0-4 5 0 0-4 3-2 2 0 0 2 1 0 0 4 2 3 3 1-1-1 0-3 1 0 0-3 5 1 1 1 0 4 3-1 0 3 2 2 3 0 0 2-2 1 0 2-2 2-8 1 0 2-2 1 0 2-1 1-3-1 0 2-3-1zM91 126l-6 0-1-1 0-4 1-1 5 1 1 1zM262 130l-2 0 0-1-1 1-5 0 0-2-1 0 1-4 2 0 0-1 4 0 3 3 0 3zM215 134l-2 0-2-2 0-2 2-3 5 0 0 2 2 1 0 2-3 0zM236 132l-3 0-1-1 0-2 1-1 2 0 1 1zM235 137l-2 0-1-1 0-2 3 0zM261 138l-2 0 0-1-3 1 0-4 3 0 2 2zM220 139l-2 0 0-3 3 0 0 2zM76 147l-2 0-3-2 0-2 3-2 2 0 0 2 1 0zM237 154l-2 0 0-3 3 0 0 2zM277 160l-3 0-2-2 0-2 7-1 0 4-2 0zM57 159l-3 0 0-3 3 0zM242 202l-5-1-2-4-5 0-2-2-1 1-4 0 1-4-2 2-2 0-1-1 0-3 2-2-6 0 1-4 2-2 3 0 0-1-5 0-2-2 0-3 2-2 7 0 0-1-4 0 0-1-2 0-2-3 0-3 6 0 3 2 0-1-2-1 0-5 2 0 0 1 2 0 0-1 7 0 0-1 3 0 0-2 2 0 1 3 1-2 3 0 0 1 3 0 0 2 2-2 3 0 1 2 0-4 4 0 0 3 1 0 2-4 3 0 1 1 0 4-1 1 3-1 0-1 4 1-1 4 3 0 0 2 1 0 0 2-2 2-3 0 4 2 0 2-3 1 1 1 0 3-3 2-3 0 0 1-2 0 0 5-1 0 0 3-1 0 0 4-4 1-1 2-5 0 0-1-1 1-3 0zM40 168l-2 0-1-1 0-2 1-1 3 0 0 3zM207 174l-5 0-1-1 0-3 6-1zM48 178l-2 0 0-4 2 0zM279 179l-2 0-1-1 0-3 4 1 0 2zM8 182l-4 0 0-3 4 0zM71 185l-5-1 0-4 4 1zM52 191l-3 0 0-1-3 1-1-1 0-2 6 0 1 1zM213 196l-3 0 0-3 1-1 2 0 1 1 0 2zM1 247l-2 0 0-48 2 0 0 2 2 2 0-3 1 0 0-4 3 0 0-1 4 0 0 4 1 0 0 4 1 0 2-6 3 0 1-2 3 0 0 2 3 3 0 2-1 0-1 5-3 0 2 2 0 3-2 0 0 2 2 1 0-2 2 0 2 2 0-4 1 0 0-2 2 0 0-1 2 0 0 1 6 0 0 2 1 0 0 5-1 0 0 4-1 0 0 2 1 0 1-2 4 0-1 4-2 1 2 0 1 3 2 0 0 3-1 1 3 0 1 1 0 2-2 2-3-1 2 2 0 3-1 1-2 0-2-2 0 3-4 0 0 2-4-1 0-2-4 0-4-3-1 2-3 0-2-4 1 4-1 0 0 2-3-1-1 2-5 1 0-3-1 0 0 4-3 0-1-1zM272 202l-2 0 0-2-1 1-2 0 1-5 1-1 4 0 1 2 2 0 0 3-1 1-3 0zM66 204l-2 0-1-1 0-2 1-1 3 0 0 3zM4 206l-1-2 0 2zM251 208l-4 0 0-4 3 0 1 1zM70 212l-5 0-1-4 3 0 0-2 2 0 2 2 0 3zM275 209l-4 0 0-2 1-1 4 0 0 2zM231 214l-3 0-2-2 0-3 2-2 5 0 0 1 2 0 0 4-3 0zM65 226l-8 0 0-1-2 0-1-6 2-2 2 0 0-2 5 0 0 2 4 1 0 7-2 0zM237 219l-2 0-1-1 0-3 2 0 1 1zM34 222l-1-2-2 0-1 1 0 1 1-1zM295 225l-4 0 0-3 3-2 2 0 1 1 0 2zM274 275l-2 0-2-2-3 0 0-1-3 0 0-1-1 1-2 0 0-1-4 0 0 1-2 0 0-2-1 1-4 0 0-3 2-1 0-1-1 1-6 0 0-4 3-3-5 0-2-2 0-2 2-3 3 0 0-1-4-1-2-2 0-3 3 0 0-1 5 1 0-1-2 0-1-1 0-4 1-1 2 0 3 3-1-4 2 0 1 1 0-2 2 0 0-2 3 0 0-2 4 1 0-2 2 0 0 2 2 0 0-1 4 0 0-1 2 0 2 2 0-1-1 0 0-4 4 0 1 1 1-4 3 0 2 4 2-2 2 0 1 1 0 3 5 2 0 2-2 0-1 2 3 0 1 1 0 2-2 0 1 1 0 4-2 0 1 3-3 1 0 13-2 1 0 2-2 0 0 2-5 1 0 1-3 0 0 3-4 1zM61 233l-2 0-1-1 0-2 3 0zM302 240l-3 0 0-3 3 0zM4 243l-1-2 0 2zM24 264l-5-1-2-6-3-1 0-4 1-1 3 0 1-2 5 0 0 1 4-1 1 1 0 4-1 0 0 2 1 0 0 2-1 0 1 1 0 3-2 0 0 1-3 0zM37 255l-4 0 0-3 4 0zM230 258l-2 0-1-1 0-4 5-1 1 1 0 4-3 0zM8 264l-4-1 0-2 1 0 0-3 5-1 0 2 1 0 0 3-2 0zM305 264l-4 0-1-1 0-2-2-2 0-2 2 0 0 1 1-1 7 0 0 4-2 0zM340 270l-4 0 0-4 1 0 0-2 3 0 0 2 1 0 0 3zM333 268l-2 0-1-1 0-2 3 0zM310 270l-2 0 0-4 4 0 0 2zM244 277l-2 0 0-4 3 0 0 3zM285 279l-3 0 0-4 4 0 1 1 0 2-2 0zM350 350l-60 0 0-1-7 0 0-1-2 0-2-2 0-2-2-1 0-2 1-1 2 0 2-3 7 0-2-2-3 1 0-2-1-1-2 0 0-2-1 0 0-4 3-2 2 0 0 1 5 0-2-1 0-2-1 0 0-5 6 0 0-3 4 0 1 1 0-3 3 0 0-3 4 0 0-4 4 0 1 2 0-4 1-1 2 0 1 2 2 0 0-3 1-1 3 0 2 2-2-5 1-1 6 0-2-1 0-2-1 0 0-4 6-1 0 2 1 0 0-2-3-2 0-4 1-1 5 0 0 1 2 0 2 3 0-9 6 1 0 2 1 0 0 3 1 0 2-8 2 0zM287 284l-3 0 0-2 1-1 2 0zM266 291l-2 0 0-2-2 0 0-5 3-2 2 0 3 2 0 3-2 1 0 2-2 0zM274 294l-3 0 0-3 1-1 2 0 1 1 0 2zM268 337l-2 0 0-1-3 1 0-2-1 0 0-3 6-1 0 2 1 0 0 3z"/><g class="r" transform="translate(0 .5)"><path stroke="#06f" d="M294 309h2m-1 1h1m-32 32h1"/><path stroke="#09f" d="M39 196h1m-1 1h1m5 17h1m-1 1h1m2 29h1m255 47h1m-24 18h1m2 2h2m3 2h1"/><path stroke="#0cf" d="M90 125h2m-2 1h1m-90 58h2m33 11h1m12 0h1m-13 1h1m223 26h1m-10 13h2m-1 1h1m-204 3h4m-24 7h1m-8 1h1m6 0h2m-3 1h1m243 28h1m-18 3h1m66 5h1m-30 1h1m-2 1h2m-17 19h1m2 10h1"/><path stroke="#15ffea" d="M56 49h1m20 50h1m-15 1h2m10 0h1m1 0h1m-15 1h2m-22 14h2m163 1h1m-159 1h1m-1 2h2m-10 4h1m-1 1h1m5 0h1m39 0h1m-1 1h1m-1 1h1m-1 1h1m-5 6h1m-43 11h2m-1 1h1m-1 1h1m19 3h2m180 3h2m-206 7h1m-2 1h1m0 7h1m-37 9h1m51 5h1m-6 2h2m2 0h2m1 0h2m4 0h2m-11 1h1m-43 5h2m47 0h1m-1 1h2m-65 4h1m1 0h1m39 0h1m-1 1h1m2 0h1m-14 2h1m11 2h1m4 0h1m-12 2h1m5 0h1m19 3h1m5 2h2m184 8h1m1 0h1m-1 1h1m0 2h1m-215 4h1m218 1h2m19 0h1m-21 1h1m-1 1h1m31 2h1m-36 1h2m31 0h3m-63 1h2m-187 1h2m183 0h2m1 0h1m13 6h1m0 1h1m-17 4h1m-1 1h1m-218 3h1m7 0h1m-3 1h2m12 1h2m-38 6h1m1 1h1m-1 1h1m6 3h2m-2 1h1m316 6h1m-309 3h2m321 1h3m-104 2h1m-1 1h1m92 1h1m-7 1h1m3 0h1m-4 1h1m-67 1h1m-26 1h3m23 0h1m-25 1h1m1 0h2m21 0h1m-1 1h1m-10 2h1m-2 1h2m-2 3h2m34 1h1m-1 1h1m-2 3h1m10 6h1m-29 8h1m-1 1h1m20 3h1m-22 11h1m-9 13h1m2 7h2m-4 8h1"/><path stroke="#7dff82" d="M216 1h1m-132 21h1m113 0h1m-116 1h1m-6 15h1m125 0h1m-129 2h1m-26 1h1m40 0h1m1 0h1m-1 1h1m-1 1h1m-12 5h1m-1 1h1m4 0h2m4 1h1m-3 2h1m-43 1h1m0 2h1m34 7h1m0 1h1m-32 1h1m185 0h2m-186 7h1m-1 1h1m155 6h2m-10 1h1m-3 1h1m1 0h2m-16 7h1m74 4h1m-2 1h2m-68 1h1m-119 2h1m115 0h1m-119 1h2m116 0h1m-119 1h1m-3 4h1m-16 2h1m136 0h1m-137 1h1m0 1h1m133 1h1m-1 2h1m-119 1h2m2 0h2m111 0h2m65 0h1m-217 1h1m215 0h1m-221 1h1m1 0h1m149 0h2m-155 1h2m2 0h1m-5 1h1m152 0h1m2 0h1m-1 1h2m-111 8h1m-51 2h1m34 0h1m10 0h1m-44 1h1m42 0h1m-1 1h1m122 0h1m-1 1h1m6 0h1m0 1h1m-138 1h1m-1 1h1m-1 1h2m125 0h2m-169 1h1m198 8h1m-203 1h1m39 0h1m161 0h1m-197 3h2m-1 1h1m21 0h1m-1 1h1m-1 1h2m147 0h1m-1 1h1m0 1h1m1 0h1m-161 2h1m-8 5h2m2 0h1m-3 2h1m157 0h1m-160 1h2m157 0h2m64 0h1m-227 1h1m218 0h2m4 0h1m-245 6h1m0 5h1m238 0h1m-228 5h2m-39 1h2m192 0h2m72 1h1m-1 1h1m-7 1h1m-272 2h2m30 0h1m241 0h1m-242 1h2m176 0h1m-191 1h1m-9 2h2m7 0h1m-1 1h1m45 0h2m-66 2h1m207 0h1m-210 1h1m52 0h1m216 0h1m-234 1h1m230 0h3m0 2h1m-17 2h1m-230 1h1m6 0h1m221 0h1m-208 1h1m206 0h1m-2 1h1m-219 4h1m26 0h1m166 5h1m-1 1h1m12 0h1m-1 1h1m-21 2h2m-177 1h1m173 0h2m-183 2h1m6 0h2m173 0h1m37 0h1m-213 1h1m193 0h2m16 0h1m23 0h1m-43 1h2m36 0h2m2 0h2m-6 1h2m5 0h1m-40 1h1m-1 1h1m37 0h1m1 0h1m-41 1h1m-207 1h1m243 0h2m-29 1h2m26 0h1m-250 3h1m14 0h1m179 0h1m-182 1h2m178 0h1m-179 1h1m199 0h1m8 0h1m26 0h2m-38 1h1m-1 1h2m-8 2h1m-1 1h1m-3 1h1m47 1h2m-64 7h1m-210 3h1m-29 8h1m-1 1h1m-1 1h1m291 0h1m-293 1h1m231 0h3m62 5h1m-272 2h1m213 0h1m67 0h1m-283 1h2m277 1h2m-277 1h1m313 0h2m-2 1h1m-6 3h1m-99 1h1m97 0h2m-100 1h1m14 0h1m-1 1h1m-1 1h1m84 0h1m-90 2h1m4 0h1m56 0h1m-63 1h1m60 0h1m-46 2h1m16 1h1m22 4h1m-48 5h2m45 0h2m-49 1h2m38 0h2m-10 4h1m-13 1h1m-1 1h1m27 0h2m-31 1h1m25 1h1m2 1h1m-32 2h1m-2 1h1m15 4h1m5 0h1m0 1h1m-6 3h1m-1 1h1m-18 12h1m-4 2h1m-12 3h2m-3 1h1m1 0h1m-5 3h1m8 0h1m-1 1h1m-2 10h2"/><path stroke="#e3ff1c" d="M222 0h1m10 0h1m-170 1h1m10 2h1m163 0h1m-165 1h1m122 2h1m39 1h1m-175 2h1m130 0h1m-132 1h1m128 0h2m-131 1h1m127 0h1m-130 1h1m135 3h1m-4 3h3m-112 3h2m-25 1h1m26 2h1m-12 2h1m-16 2h1m20 0h2m-19 1h1m23 4h1m169 0h1m1 0h1m-3 1h1m0 1h1m-207 2h1m2 1h1m12 0h1m-13 1h2m21 2h2m-2 1h2m-27 3h1m155 2h1m24 0h1m-156 1h2m128 0h1m10 0h1m30 0h1m-172 1h1m128 0h1m32 0h2m-3 1h1m-2 2h1m-159 1h2m-37 1h1m34 0h1m158 0h2m-23 1h1m-140 2h2m161 0h2m-2 1h1m3 2h1m-2 1h2m-1 1h1m-168 1h1m-36 2h1m160 2h1m27 0h1m3 0h1m-36 1h1m-150 1h1m12 0h1m4 0h2m130 0h1m31 0h1m-171 1h2m136 0h1m-145 3h1m147 1h2m-155 1h1m6 0h1m145 0h2m33 2h1m16 0h1m0 1h1m-63 1h1m4 0h2m-6 1h1m12 0h2m20 0h1m-21 1h1m-1 1h1m-164 1h2m-2 1h1m-2 1h1m204 2h2m-206 1h1m0 1h2m202 3h1m-183 3h1m-17 2h2m1 0h1m-4 1h2m11 1h1m7 0h1m-1 1h1m-26 1h2m205 1h1m-206 2h1m3 0h1m11 0h2m-15 3h1m193 0h1m-217 4h1m5 0h3m148 0h1m-159 1h2m216 8h1m-45 1h2m-9 1h1m7 0h1m-1 1h1m-130 2h1m-43 1h1m168 1h1m-175 2h1m208 0h3m-174 1h1m172 0h1m-174 1h1m176 3h1m-45 1h1m42 0h2m-39 1h1m-6 1h1m-176 2h1m-1 1h1m-1 1h2m27 2h2m170 0h1m-201 1h2m2 0h1m205 0h1m-210 1h1m24 1h1m-22 1h1m-2 1h2m220 0h1m-2 2h2m-5 1h1m-209 1h2m205 0h1m-217 1h1m195 0h1m-199 1h1m228 0h1m-231 1h2m201 1h2m-22 2h3m-176 1h1m-2 1h1m218 0h1m-235 2h1m239 0h1m-3 1h3m-68 5h1m-3 1h1m-11 1h1m77 0h1m-265 6h1m20 0h1m-21 1h1m19 0h2m3 0h1m1 0h1m22 0h1m-61 1h1m9 0h2m254 0h1m-253 1h2m14 0h1m-16 1h1m-1 1h1m41 0h2m-24 1h1m-6 1h2m16 0h1m-30 3h1m242 0h3m-229 1h1m227 0h1m1 0h2m-252 1h1m9 0h2m178 0h2m-189 1h1m6 0h2m29 0h1m207 0h1m-247 1h1m11 1h1m174 0h1m53 0h1m-216 1h1m213 0h2m-233 1h2m229 0h1m2 0h1m-233 1h1m7 0h1m166 0h3m55 0h2m-45 1h1m-2 1h2m-6 1h2m46 1h3m-15 1h1m12 0h1m-20 1h2m-216 1h2m238 0h2m-249 1h2m220 0h1m23 0h1m0 1h1m-52 1h2m2 0h2m-201 1h1m37 0h2m165 0h1m-208 1h2m194 0h2m-177 2h1m1 0h1m-3 1h1m1 0h1m15 4h1m206 1h1m-208 1h2m205 0h1m15 0h1m-224 1h2m185 2h1m28 0h2m-11 2h1m-220 3h3m237 0h2m-1 1h1m-11 2h1m-27 1h1m-198 1h2m195 0h1m-18 1h2m16 0h1m35 0h1m-63 12h2m-220 3h1m-2 1h2m6 0h1m9 0h2m-2 1h2m-17 2h1m277 1h1m-1 1h1m-59 1h1m62 0h1m0 1h2m-304 1h1m239 0h1m-241 1h1m295 0h1m-297 1h1m225 0h3m8 0h1m-236 1h1m3 0h2m-5 1h2m9 0h1m215 1h1m78 0h1m-73 1h1m69 0h3m-19 1h1m-263 1h1m260 1h1m-54 1h2m-233 1h1m4 0h1m270 3h1m27 0h2m-30 1h1m28 0h1m-30 1h1m29 0h1m-3 1h1m-67 1h1m34 1h1m46 0h2m-2 1h1m19 0h1m-99 2h1m65 0h1m-48 1h1m2 0h1m33 1h2m-45 1h1m42 0h1m5 0h1m14 2h1m-65 5h3m21 0h1m34 2h1m-53 2h1m46 0h1m-48 1h1m24 1h1m25 0h1m-43 1h2m19 0h1m-21 1h1m19 0h1m-18 1h1m15 0h1m-22 1h2m39 0h2m-36 1h1m-1 1h2m27 3h1m-36 1h1m12 2h1m-7 4h3m-13 10h1m-1 1h1m1 8h1m-13 1h2m-3 1h1m7 16h2m1 1h1m-1 1h1m0 2h1"/><path stroke="#ffaf00" d="M225 0h1m15 0h2m-177 1h1m158 0h1m19 0h1m10 0h2m5 0h1m-5 1h2m4 1h2m-46 1h1m44 0h1m-199 2h1m5 0h1m190 0h2m-199 1h1m4 0h2m120 0h2m-128 1h2m2 0h1m121 1h1m60 1h1m3 1h1m-198 3h3m199 3h1m-203 1h1m132 0h2m63 0h1m-200 1h2m28 0h1m-21 4h2m10 0h1m-4 1h1m184 0h1m-1 1h2m-2 1h1m-184 1h1m-5 1h2m-15 2h2m18 1h2m0 1h2m-22 1h1m1 0h2m-3 1h1m132 2h1m50 0h1m-201 2h1m7 0h1m8 0h1m-18 1h3m6 0h1m190 0h3m-9 1h1m4 0h1m-5 1h1m-164 1h2m162 0h2m-5 1h2m-2 1h1m-8 1h1m-1 1h1m-181 1h1m148 0h1m7 0h1m-9 1h1m20 0h1m1 0h1m-2 1h2m-181 1h2m206 0h1m-45 1h1m41 0h3m-171 2h1m124 0h1m-126 1h1m124 0h1m-3 6h2m-157 1h1m160 1h1m12 2h1m1 0h1m19 0h1m-35 1h1m-143 5h2m-24 2h2m2 0h1m174 0h2m-179 1h1m4 0h1m185 0h1m-176 1h2m187 0h1m3 1h2m-2 1h1m-203 2h3m162 2h2m9 0h1m-176 1h1m4 0h1m163 0h1m25 0h1m-191 1h1m150 0h1m12 0h1m37 0h1m-52 1h1m15 0h1m-1 1h1m-1 1h1m-177 11h1m23 2h1m-1 1h1m-26 1h1m25 0h1m-27 1h1m-1 1h2m142 0h1m55 0h3m-1 1h1m-181 1h1m-21 2h1m0 2h1m7 0h1m-10 1h1m2 0h1m195 1h2m-211 1h1m9 0h2m191 2h1m-45 1h2m2 0h1m40 0h3m-49 1h1m1 0h1m2 0h1m-1 1h1m3 0h1m40 0h2m-43 1h1m41 0h1m-43 1h1m-175 1h1m35 0h1m4 0h3m-3 1h1m-45 1h2m39 0h2m134 0h1m-136 1h2m165 0h1m8 0h1m-9 1h1m-14 1h1m-157 1h1m131 1h1m-1 1h1m-1 1h1m-1 1h1m18 1h3m-155 1h1m174 0h1m-40 2h1m-137 3h1m-6 1h1m1 0h2m-4 1h1m-33 1h1m190 3h1m-13 1h1m-163 3h2m170 2h1m7 0h1m-20 1h1m21 0h2m1 1h3m12 2h1m-214 1h2m178 0h1m7 1h2m8 0h1m28 0h1m-1 1h1m-46 1h1m44 0h1m-64 3h1m19 0h1m13 0h1m27 0h1m-43 1h1m41 0h1m1 0h1m-45 1h1m41 2h3m-71 1h2m1 1h1m-174 1h1m-2 1h2m235 2h1m2 4h1m-78 1h2m-159 1h1m-10 1h1m-25 1h1m4 1h1m-7 1h1m266 0h1m-267 1h1m256 0h3m-265 1h2m261 0h1m-264 1h2m62 0h2m194 0h1m-210 1h2m12 0h1m194 0h1m-227 1h1m228 2h1m-257 2h1m260 0h1m-243 1h1m-4 1h1m-8 1h1m241 1h2m-2 1h1m-211 1h1m3 0h3m207 0h2m-53 2h1m48 0h1m-238 3h2m198 0h2m42 0h1m-246 1h1m2 0h1m195 0h2m43 0h2m-211 1h2m208 0h1m-34 2h1m8 0h1m-20 1h1m18 0h1m-220 1h1m219 1h1m-1 1h1m-26 1h1m24 0h1m-209 1h4m227 2h2m-2 1h2m-26 1h2m-195 3h1m229 1h2m-51 1h2m43 2h2m15 2h1m-247 1h1m225 0h1m-38 2h2m-6 1h1m-195 1h2m-2 1h1m191 0h2m13 0h2m7 0h1m-9 1h1m8 0h1m2 1h1m28 0h1m-40 1h1m-194 1h2m197 0h1m-204 1h1m2 0h2m196 0h3m-204 1h1m239 1h1m-44 1h1m47 5h2m-281 1h4m275 0h1m-276 3h1m6 0h2m-5 1h1m-1 1h2m-18 3h2m217 2h1m-232 4h1m3 0h1m286 0h1m-290 1h1m29 0h1m258 0h1m-61 3h2m-209 2h1m-4 1h1m2 0h1m211 0h1m-216 1h1m281 0h1m25 2h1m-2 1h2m-49 4h1m0 3h1m-24 1h2m21 0h1m40 0h2m-67 1h1m23 0h1m52 0h1m-34 1h1m-1 1h1m17 2h1m-14 1h1m12 0h1m-36 3h1m24 1h3m-1 1h1m-53 3h1m14 3h1m11 1h1m-2 1h2m-1 1h1m-10 1h1m8 2h1m2 1h1m9 0h3m-20 1h1m2 0h3m-8 2h1m14 0h1m-6 1h1m14 1h1m-40 20h1m-1 1h1m-6 2h2m8 6h1m-5 3h1m2 0h1"/><path stroke="#ff5400" d="M229 0h1m11 0h1m-13 1h2m-160 1h1m134 1h1m46 0h1m8 0h2m-15 1h1m-19 1h1m22 0h1m-187 1h1m152 0h2m7 0h2m-164 1h1m133 0h1m19 0h1m8 0h1m37 1h1m-33 1h2m29 0h2m-33 1h2m-37 3h1m-139 1h2m-1 2h2m8 7h1m190 2h2m-200 1h2m196 0h1m-188 2h1m179 0h1m5 0h1m-191 1h1m184 0h1m4 0h1m-189 1h2m186 0h1m-193 1h1m2 0h2m177 1h1m3 0h1m-5 1h1m7 0h1m-61 1h1m51 0h1m7 0h1m-7 1h1m-181 1h1m1 0h1m167 0h1m-1 4h1m0 1h1m-36 2h1m-131 1h1m175 1h1m-207 1h1m191 0h1m-196 1h2m-2 1h2m9 0h1m146 0h1m21 1h2m17 0h2m-163 2h1m168 0h3m-8 6h1m-26 1h2m-140 1h1m137 0h2m-177 3h1m202 0h1m-5 1h1m-189 1h1m172 0h1m-174 1h1m-3 1h1m1 0h1m19 2h1m144 0h1m-151 2h1m146 2h1m20 0h1m-190 1h1m16 1h1m192 1h1m-26 2h1m13 0h2m-3 1h2m-50 1h1m29 1h1m-21 1h1m-4 1h2m-156 1h2m152 0h2m-156 1h1m200 0h1m-61 4h2m-10 2h2m2 0h1m-1 1h1m-1 1h1m-138 8h1m139 0h2m-142 1h1m199 1h3m-187 4h1m181 1h3m-61 1h1m58 0h1m-198 1h1m192 4h1m-203 2h2m155 0h1m-151 1h1m192 0h1m-213 2h3m171 1h3m29 0h1m-34 1h1m48 4h1m-9 5h1m-210 1h1m208 0h1m-36 1h1m-175 1h1m166 0h1m-2 1h2m17 1h2m-159 5h1m156 0h2m-185 2h2m180 0h2m-190 3h2m5 0h1m1 0h2m181 1h1m-177 1h1m-1 1h1m158 0h1m32 0h3m-36 1h1m53 1h2m-38 1h2m37 0h1m-39 1h1m37 0h1m-224 2h1m-8 2h2m207 2h1m1 0h1m-29 1h1m25 0h1m1 0h1m7 0h1m7 0h1m-10 1h2m-211 1h1m177 0h1m-1 1h1m35 0h1m-2 1h2m-50 1h1m47 0h1m11 0h1m-238 1h1m-2 1h2m172 0h1m-1 1h2m-14 2h2m66 1h2m-1 1h1m-68 2h1m-1 1h1m-1 1h1m73 1h1m-266 1h1m263 0h2m-260 3h1m-10 1h1m8 0h1m249 0h1m-60 5h1m-175 2h1m-1 1h1m14 0h1m-29 1h1m26 0h2m-42 2h1m41 0h1m-50 1h1m52 0h1m163 0h1m-2 1h2m-163 1h2m211 0h2m-2 1h1m-1 1h1m-52 1h1m54 1h2m-212 1h1m-39 1h1m2 0h1m34 0h1m-1 1h1m209 0h2m-235 4h1m228 0h1m-202 1h1m203 2h1m-249 1h2m14 0h3m229 0h1m-26 1h1m-20 1h1m18 0h1m-20 1h2m40 0h2m-43 1h1m-165 2h1m168 0h2m-3 1h2m12 3h1m20 0h1m-22 1h1m19 0h2m-22 1h1m20 0h1m-22 1h1m18 1h1m-25 1h1m10 0h1m-7 1h2m26 0h1m-226 1h1m202 0h2m-205 1h1m203 0h1m39 0h1m-52 1h2m9 0h1m16 0h2m12 0h2m-44 1h2m27 0h1m12 0h2m-44 2h1m1 0h1m-187 1h1m183 0h1m20 0h1m-208 1h1m197 0h2m43 4h2m-7 1h1m3 0h2m-58 1h2m-205 1h2m202 0h1m-204 1h1m-35 3h1m286 0h1m2 0h2m-292 1h1m222 1h2m-6 1h1m-215 3h1m213 2h1m-193 1h2m190 0h1m74 2h1m-2 6h1m-284 1h2m280 0h1m-283 1h2m279 0h2m7 1h1m25 2h2m-1 1h2m-94 1h1m11 3h1m5 0h1m-7 1h1m5 0h3m48 0h1m13 0h1m-15 1h1m35 1h1m-1 1h1m-67 6h1m28 0h1m4 0h1m-6 1h2m-2 3h2m13 1h2m-66 5h1m47 1h2m-37 3h1m12 0h1m31 1h1m-31 1h1m2 1h1m8 1h2m11 2h2m-1 1h1m-33 1h2m31 0h1m-37 1h1m1 3h2m13 5h1m-1 1h1m-1 1h1m-27 12h2m-5 5h1m-8 3h2m-3 1h2m10 10h1"/><path stroke="#f00" d="M59 0h1m2 0h1m3 0h3m145 0h2m4 0h1m3 0h1m3 0h3m6 0h1m2 0h1m5 0h1m10 0h2m1 0h2m-200 1h1m5 0h1m5 0h1m139 0h1m4 0h1m1 0h1m8 0h2m1 0h1m3 0h2m18 0h5m-194 1h1m6 0h1m128 0h2m5 0h1m1 0h1m7 0h1m1 0h1m5 0h1m10 0h1m4 0h1m1 0h3m4 0h2m4 0h2m-193 1h2m157 0h1m1 0h1m2 0h1m16 0h1m-178 1h1m140 0h1m8 0h1m4 0h1m3 0h1m1 0h1m31 0h2m-200 1h1m1 0h1m2 0h2m133 0h1m8 0h2m1 0h1m4 0h1m12 0h1m4 0h1m3 0h1m4 0h1m4 0h1m5 0h1m1 0h1m-193 1h4m119 0h2m2 0h1m5 0h1m1 0h1m11 0h1m1 0h1m12 0h1m4 0h1m2 0h1m2 0h1m1 0h1m9 0h1m7 0h1m-202 1h1m130 0h2m1 0h1m1 0h1m4 0h1m40 0h1m7 0h1m1 0h1m-188 1h4m122 0h3m4 0h1m1 0h1m4 0h1m6 0h1m35 0h1m2 0h1m14 0h1m-202 1h1m1 0h2m120 0h1m10 0h1m49 0h1m3 0h1m3 0h1m-201 1h2m129 0h1m1 0h1m5 0h1m33 0h1m17 0h1m6 0h1m8 0h1m-208 1h1m135 0h1m5 0h1m48 0h2m15 0h1m-207 2h1m132 0h1m-134 1h1m138 0h1m62 0h1m-207 1h1m3 0h2m127 0h1m1 0h1m1 0h1m3 0h1m55 0h1m2 0h1m4 0h2m-74 1h1m5 0h2m6 0h1m58 0h1m-73 1h2m63 0h1m7 0h1m-203 1h1m128 0h1m1 0h1m68 0h1m-181 1h1m177 0h1m-204 1h1m8 1h1m2 0h1m12 0h1m1 0h1m3 0h1m-23 1h1m1 0h3m123 0h1m64 0h1m-193 1h1m1 0h2m5 0h2m10 0h1m171 0h1m0 1h1m-201 1h1m3 0h2m4 0h1m8 0h1m6 0h1m107 0h2m58 0h1m7 0h1m-205 1h1m1 0h1m3 0h1m4 0h1m1 0h1m2 0h1m9 0h1m175 0h2m-202 1h1m8 0h2m183 0h2m6 0h1m-204 1h1m5 0h1m128 0h2m63 0h1m-187 1h1m1 0h2m116 0h1m69 0h1m-202 1h1m3 0h1m6 0h5m114 0h1m10 0h1m53 0h1m5 0h1m-202 1h1m3 0h1m5 0h2m1 0h1m1 0h1m4 0h1m112 0h1m-133 1h1m5 0h1m2 0h2m4 0h1m5 0h2m1 0h1m173 0h1m-196 1h2m10 0h1m4 0h1m3 0h1m102 0h2m3 0h1m53 0h1m7 0h1m-192 1h1m11 0h1m7 0h2m169 0h2m-195 1h1m13 0h1m6 0h3m104 0h1m50 0h1m2 0h1m7 0h5m-195 1h1m11 0h2m11 0h1m104 0h2m4 0h1m2 0h1m40 0h1m-171 1h1m119 0h2m4 0h1m3 0h1m40 0h1m-194 1h1m2 0h1m11 0h1m3 0h1m20 0h1m106 0h1m47 0h1m-199 1h1m18 0h1m6 0h1m132 0h1m37 0h1m2 0h1m-202 1h2m9 0h1m3 0h1m11 0h1m12 0h1m2 0h1m112 0h2m45 0h1m-181 1h1m3 0h1m5 0h1m5 0h1m116 0h1m6 0h1m30 0h1m-189 1h5m9 0h1m6 0h1m3 0h1m1 0h1m1 0h1m5 0h1m112 0h1m3 0h1m1 0h1m1 0h1m31 0h1m2 0h1m5 0h2m-207 1h1m1 0h1m4 0h2m6 0h1m15 0h1m5 0h1m120 0h1m1 0h2m5 0h2m27 0h1m8 0h1m-207 1h1m7 0h1m3 0h2m154 0h1m26 0h2m1 0h1m9 0h2m-212 1h3m2 0h1m4 0h1m4 0h1m11 0h1m135 0h1m1 0h1m4 0h2m21 0h1m8 0h1m5 0h3m-209 1h3m6 0h1m29 0h1m121 0h1m8 0h1m1 0h1m12 0h1m11 0h1m2 0h2m5 0h1m-209 1h4m9 0h1m9 0h1m1 0h1m6 0h1m3 0h1m11 0h1m108 0h2m3 0h1m8 0h1m2 0h1m3 0h1m2 0h2m2 0h1m4 0h2m6 0h1m8 0h1m1 0h1m-208 1h1m6 0h1m4 0h1m19 0h1m3 0h1m4 0h1m1 0h1m112 0h1m2 0h1m4 0h1m9 0h1m10 0h1m11 0h1m-185 1h1m7 0h1m12 0h1m4 0h1m4 0h1m119 0h2m-165 1h1m3 0h1m30 0h1m5 0h2m132 0h1m-134 1h1m136 0h1m27 0h1m-200 1h1m31 0h1m133 0h1m-139 1h1m118 0h1m24 0h1m-182 1h1m37 0h1m141 0h1m27 0h1m-206 1h1m3 0h1m1 0h1m31 0h1m119 0h2m15 0h1m18 0h1m8 0h1m1 0h1m-171 1h2m116 0h1m1 0h1m1 0h1m39 0h2m5 0h1m-168 1h1m-35 1h1m154 1h1m3 0h1m11 0h1m26 0h1m-202 1h1m1 0h1m29 0h1m140 0h1m-175 1h1m31 0h1m1 0h1m127 0h1m10 0h2m27 0h1m-201 1h1m27 0h1m1 0h1m129 0h3m7 0h1m1 0h1m-176 1h1m2 0h1m24 0h1m6 0h1m128 0h2m7 0h1m8 0h2m19 0h1m-196 1h1m156 0h1m7 0h2m8 0h1m6 0h1m1 0h1m-165 1h2m136 0h1m16 0h1m6 0h1m1 0h2m4 0h2m1 0h1m-203 1h1m1 0h1m24 0h1m1 0h1m138 0h1m5 0h1m10 0h1m4 0h1m8 0h3m-203 1h1m1 0h2m6 0h1m1 0h1m13 0h1m2 0h1m7 0h1m125 0h1m5 0h1m5 0h1m3 0h1m21 0h1m-201 1h3m5 0h1m2 0h1m18 0h1m137 0h1m4 0h2m8 0h1m11 0h1m2 0h2m-199 1h1m2 0h1m20 0h1m4 0h1m129 0h1m16 0h1m13 0h2m2 0h1m2 0h2m-196 1h1m3 0h1m1 0h1m18 0h1m129 0h3m10 0h2m19 0h1m3 0h1m-184 1h1m6 0h1m139 0h1m1 0h1m7 0h1m8 0h1m3 0h1m6 0h1m-187 1h1m16 0h1m2 0h1m138 0h1m2 0h3m1 0h2m11 0h1m8 0h2m-191 1h2m10 0h1m150 0h2m4 0h1m1 0h2m5 0h1m5 0h1m2 0h1m1 0h2m-182 1h1m4 0h2m146 0h1m4 0h1m1 0h1m4 0h2m9 0h1m2 0h2m-180 1h1m2 0h1m148 0h3m2 0h1m1 0h1m2 0h1m1 0h3m11 0h1m14 0h3m1 0h1m1 0h1m-201 1h1m153 0h1m7 0h1m4 0h2m6 0h1m4 0h1m12 0h1m1 0h2m1 0h2m1 0h1m2 0h1m-203 1h2m150 0h1m13 0h2m1 0h2m2 0h1m7 0h1m1 0h2m6 0h1m4 0h1m-195 1h1m3 0h1m133 0h1m18 0h1m21 0h1m4 0h1m-47 1h1m9 0h1m13 0h1m18 0h1m5 0h1m13 0h1m-201 1h3m150 0h1m5 0h1m1 0h2m2 0h1m15 0h1m3 0h1m4 0h1m-199 1h1m7 0h3m133 0h1m2 0h1m7 0h1m16 0h1m3 0h1m2 0h1m3 0h1m3 0h1m3 0h1m16 0h1m1 0h2m-213 1h1m4 0h1m132 0h1m21 0h1m14 0h1m9 0h1m3 0h2m5 0h1m10 0h1m2 0h1m-210 1h1m4 0h2m1 0h1m127 0h2m2 0h1m6 0h1m3 0h2m35 0h1m8 0h1m6 0h1m-207 1h2m7 0h1m128 0h2m2 0h1m1 0h2m1 0h1m48 0h2m-61 1h1m1 0h2m5 0h1m2 0h1m3 0h1m45 0h1m2 0h1m1 0h2m7 0h1m-77 1h1m65 0h1m-58 1h1m50 0h1m4 0h1m3 0h1m-73 1h1m8 0h1m4 0h1m63 0h1m-210 1h1m206 0h1m-65 1h1m62 0h4m-211 1h1m203 0h1m-204 1h1m130 0h1m6 0h1m4 0h2m1 0h1m59 0h2m-74 1h1m7 0h1m5 0h1m48 0h1m7 0h2m-72 1h1m4 0h1m63 0h2m-211 1h1m3 0h1m19 0h2m113 0h3m64 0h2m-67 1h4m62 0h1m-199 1h1m200 0h1m-192 1h2m2 0h1m2 0h1m184 0h1m-209 1h1m3 0h2m3 0h1m5 0h2m2 0h1m-21 1h1m4 0h1m4 0h1m131 0h1m61 0h1m4 0h2m-211 1h1m4 0h1m4 0h1m1 0h1m2 0h1m193 0h2m-209 1h1m2 0h1m10 0h1m8 0h1m183 0h1m-197 1h1m-12 1h1m139 0h1m58 0h1m3 0h1m6 0h1m-212 1h2m3 0h1m4 0h1m2 0h3m2 0h1m191 0h1m-210 1h1m5 0h2m3 0h4m126 0h1m58 0h1m5 0h1m-197 1h2m7 0h1m118 0h1m67 0h3m-205 1h1m15 0h4m114 0h1m58 0h2m6 0h1m-191 1h1m6 0h3m1 0h1m114 0h1m57 0h1m3 0h4m-206 1h2m22 0h2m118 0h1m45 0h1m2 0h1m2 0h1m3 0h1m1 0h2m-215 1h1m2 0h1m8 0h1m7 0h1m1 0h1m3 0h1m7 0h4m108 0h1m9 0h1m-162 1h2m7 0h1m17 0h1m2 0h1m9 0h1m166 0h1m-207 1h1m16 0h1m4 0h1m16 0h1m119 0h1m3 0h2m38 0h1m-178 1h1m128 0h1m1 0h2m4 0h1m47 0h1m-217 1h1m11 0h2m5 0h1m5 0h1m5 0h1m17 0h1m110 0h1m5 0h1m40 0h1m10 0h1m-218 1h1m7 0h1m4 0h1m6 0h1m9 0h1m133 0h1m40 0h1m2 0h1m-186 1h1m6 0h1m13 0h1m124 0h1m37 0h2m2 0h1m5 0h2m-217 1h1m4 0h1m7 0h1m6 0h1m11 0h1m1 0h1m9 0h1m122 0h1m5 0h1m29 0h1m12 0h1m-211 1h1m15 0h1m7 0h3m1 0h1m8 0h2m123 0h1m3 0h1m1 0h1m30 0h1m1 0h1m7 0h3m-213 1h2m13 0h1m6 0h1m1 0h1m6 0h2m6 0h1m120 0h1m42 0h1m6 0h3m-199 1h1m6 0h1m5 0h1m4 0h1m134 0h1m27 0h1m3 0h1m4 0h2m-214 1h1m9 0h1m2 0h1m7 0h1m11 0h1m1 0h1m5 0h1m135 0h2m2 0h1m9 0h1m9 0h1m12 0h1m1 0h1m-208 1h1m13 0h1m10 0h1m14 0h1m119 0h1m24 0h1m2 0h1m1 0h1m2 0h1m-195 1h1m13 0h1m11 0h1m6 0h1m136 0h1m12 0h1m2 0h1m4 0h1m10 0h1m-211 1h1m8 0h1m13 0h2m9 0h1m133 0h2m3 0h1m4 0h1m31 0h1m11 0h1m-222 1h1m1 0h2m38 0h1m124 0h2m7 0h1m11 0h1m2 0h1m29 0h1m-218 1h1m2 0h1m28 0h1m3 0h1m126 0h1m20 0h1m2 0h1m1 0h1m15 0h1m10 0h1m-185 1h1m2 0h1m4 0h1m123 0h1m24 0h1m-190 1h2m38 0h2m131 0h1m42 0h2m-180 1h1m145 0h1m21 0h1m-44 1h1m45 0h1m2 0h1m-26 1h1m-188 1h1m183 0h1m2 0h1m25 0h1m-220 1h1m2 0h1m1 0h1m1 0h1m32 0h1m133 0h2m2 0h1m-176 1h1m4 0h2m29 0h2m135 0h1m13 0h1m-187 1h1m1 0h1m213 0h1m-182 1h1m150 0h1m-192 1h2m6 0h1m25 0h1m142 0h1m13 0h2m27 0h1m-222 1h3m31 0h1m156 0h1m1 0h1m23 0h2m-185 1h1m147 0h2m17 0h1m6 0h2m7 0h2m-209 1h1m1 0h1m18 0h2m6 0h1m142 0h3m7 0h1m5 0h1m2 0h2m6 0h1m7 0h3m-210 1h1m174 0h1m15 0h2m10 0h1m5 0h1m-218 1h1m4 0h1m176 0h1m24 0h1m6 0h2m-214 1h1m4 0h1m175 0h2m8 0h2m4 0h1m-199 1h1m8 0h1m1 0h1m1 0h1m163 0h1m10 0h1m17 0h1m3 0h1m1 0h1m-208 1h1m2 0h1m12 0h1m1 0h2m10 0h1m141 0h1m2 0h1m7 0h2m2 0h1m14 0h1m3 0h1m-210 1h1m5 0h1m9 0h1m1 0h1m3 0h2m1 0h2m145 0h1m12 0h2m10 0h2m8 0h1m-205 1h1m1 0h1m12 0h1m6 0h2m145 0h2m12 0h2m4 0h1m4 0h1m6 0h1m1 0h2m-203 1h2m6 0h1m158 0h2m4 0h1m5 0h2m4 0h1m11 0h1m2 0h2m4 0h1m9 0h2m1 0h2m2 0h1m1 0h1m-223 1h1m3 0h1m4 0h1m162 0h3m5 0h2m16 0h1m14 0h2m1 0h3m2 0h1m-223 1h1m171 0h3m4 0h2m14 0h1m5 0h1m10 0h1m6 0h1m1 0h3m-224 1h3m3 0h1m164 0h1m1 0h1m9 0h1m11 0h1m5 0h1m1 0h5m3 0h1m9 0h2m2 0h1m-54 1h1m2 0h1m6 0h1m4 0h1m10 0h1m12 0h1m-214 1h1m8 0h1m166 0h1m4 0h1m6 0h1m5 0h1m9 0h1m2 0h1m1 0h1m4 0h1m2 0h1m-222 1h1m3 0h1m1 0h1m5 0h2m163 0h2m1 0h1m1 0h1m2 0h1m28 0h1m1 0h1m5 0h1m6 0h1m-232 1h1m5 0h1m172 0h1m14 0h1m10 0h2m5 0h1m1 0h1m2 0h1m3 0h1m-223 1h2m5 0h1m189 0h1m2 0h1m2 0h1m2 0h1m3 0h1m18 0h1m8 0h1m-239 1h2m6 0h1m168 0h1m9 0h1m2 0h2m7 0h1m3 0h1m11 0h1m12 0h1m9 0h1m-231 1h1m1 0h1m158 0h3m5 0h1m6 0h1m6 0h1m11 0h1m1 0h1m2 0h1m12 0h2m1 0h2m-216 1h1m166 0h1m8 0h1m35 0h1m10 0h1m-236 1h1m175 0h1m4 0h1m47 0h1m6 0h1m1 0h1m-243 1h1m5 0h1m172 0h1m60 0h2m-239 1h1m164 0h1m3 0h1m6 0h1m5 0h1m55 0h1m-75 1h3m1 0h2m4 0h1m5 0h1m52 0h1m3 0h2m-237 1h1m162 0h5m67 0h1m-75 1h1m1 0h2m69 0h1m-71 1h1m67 0h1m-71 1h1m6 0h1m3 0h1m-13 1h1m4 0h2m63 0h1m-235 1h1m-1 1h1m168 0h1m63 0h1m-229 1h1m173 0h1m51 0h1m7 0h2m-71 1h1m4 0h1m5 0h1m1 0h1m57 0h1m-246 1h2m7 0h1m157 0h1m7 0h1m66 0h1m-243 1h2m169 0h1m4 0h1m-178 1h1m6 0h2m3 0h1m157 0h4m5 0h1m58 0h1m1 0h1m1 0h1m-263 1h1m21 0h1m169 0h1m1 0h1m4 0h2m55 0h1m10 0h1m-274 1h1m5 0h2m49 0h1m142 0h1m-200 1h1m4 0h2m24 0h1m229 0h1m2 0h1m-271 1h1m12 0h2m1 0h2m14 0h1m3 0h2m5 0h1m8 0h3m14 0h1m137 0h1m4 0h1m61 0h1m-274 1h1m30 0h1m2 0h2m15 0h2m4 0h1m1 0h1m8 0h1m137 0h1m7 0h1m1 0h1m54 0h1m1 0h1m-271 1h1m39 0h3m11 0h1m208 0h1m3 0h2m-274 1h1m19 0h1m13 0h1m3 0h1m11 0h1m5 0h1m13 0h1m142 0h1m-213 1h1m45 0h1m9 0h1m8 0h1m146 0h1m47 0h1m1 0h1m-250 1h1m24 0h1m3 0h1m11 0h1m12 0h1m144 0h1m46 0h1m2 0h1m-252 1h1m1 0h1m1 0h1m16 0h1m1 0h1m16 0h1m16 0h2m140 0h1m54 0h1m-256 1h1m5 0h1m15 0h4m5 0h1m26 0h1m142 0h1m47 0h1m9 0h1m-267 1h2m4 0h1m7 0h1m3 0h1m7 0h3m20 0h1m10 0h1m2 0h1m142 0h1m2 0h1m49 0h1m-265 1h1m8 0h1m1 0h1m1 0h1m6 0h1m14 0h1m29 0h1m197 0h1m1 0h1m6 0h1m-270 1h1m3 0h1m3 0h1m4 0h1m18 0h1m6 0h1m9 0h1m2 0h2m2 0h1m1 0h1m2 0h1m144 0h2m2 0h1m46 0h1m2 0h1m2 0h1m-259 1h1m5 0h1m12 0h1m15 0h1m6 0h1m3 0h1m208 0h1m9 0h3m-276 1h1m1 0h1m5 0h1m3 0h1m8 0h1m4 0h1m1 0h1m1 0h1m1 0h1m231 0h1m8 0h2m-264 1h2m6 0h1m5 0h1m1 0h1m5 0h1m8 0h1m6 0h1m7 0h1m156 0h2m1 0h1m41 0h1m2 0h2m8 0h1m-267 1h2m4 0h1m1 0h1m4 0h1m5 0h1m10 0h1m22 0h1m148 0h1m54 0h2m3 0h1m3 0h1m-261 1h1m11 0h1m28 0h1m4 0h2m157 0h1m-216 1h1m20 0h1m2 0h1m8 0h1m7 0h1m8 0h1m7 0h2m147 0h1m4 0h1m52 0h1m9 0h1m-267 1h1m1 0h1m20 0h2m2 0h2m4 0h2m5 0h1m8 0h3m150 0h2m9 0h1m3 0h1m1 0h1m1 0h1m25 0h2m5 0h1m10 0h2m-277 1h1m1 0h1m8 0h1m19 0h2m10 0h2m1 0h3m1 0h1m8 0h2m163 0h1m29 0h1m-224 1h1m28 0h1m163 0h1m3 0h1m5 0h1m10 0h1m7 0h1m22 0h1m-240 1h2m183 0h1m1 0h1m1 0h1m18 0h1m1 0h1m1 0h1m1 0h1m13 0h1m10 0h1m-276 1h1m27 0h1m5 0h1m6 0h1m23 0h1m176 0h1m23 0h2m6 0h1m-248 1h1m3 0h1m9 0h1m17 0h1m166 0h1m5 0h1m10 0h1m21 0h1m-243 1h1m2 0h1m3 0h1m7 0h1m2 0h1m18 0h1m162 0h1m2 0h1m5 0h1m10 0h1m4 0h1m21 0h1m-244 1h1m1 0h1m10 0h1m20 0h1m2 0h1m158 0h1m8 0h1m10 0h2m25 0h1m2 0h1m-251 1h1m2 0h1m8 0h1m3 0h1m22 0h1m3 0h1m155 0h1m4 0h1m3 0h1m39 0h1m-250 1h1m3 0h1m4 0h1m2 0h1m187 0h2m-205 1h1m11 0h2m28 0h1m1 0h1m158 0h3m-203 1h1m9 0h1m2 0h1m1 0h1m5 0h3m23 0h1m-28 1h2m1 0h5m183 0h1m13 0h1m-212 1h2m7 0h1m2 0h2m19 0h1m-48 1h1m13 0h1m11 0h2m2 0h1m193 0h3m22 0h1m-223 1h1m2 0h1m14 0h1m178 0h2m23 0h2m-234 1h1m10 0h4m4 0h1m8 0h1m155 0h1m9 0h1m13 0h1m14 0h2m1 0h1m-215 1h2m5 0h1m1 0h2m2 0h1m1 0h1m160 0h1m6 0h1m35 0h1m-216 1h1m170 0h1m8 0h1m10 0h2m6 0h3m5 0h1m4 0h1m2 0h2m-236 1h4m22 0h2m1 0h2m168 0h1m17 0h1m2 0h2m12 0h1m13 0h2m2 0h1m-252 1h1m27 0h1m200 0h1m17 0h1m2 0h2m-254 1h1m2 0h1m4 0h1m7 0h1m194 0h2m16 0h1m16 0h1m2 0h6m1 0h1m-256 1h1m1 0h1m195 0h1m2 0h2m7 0h1m9 0h1m10 0h1m11 0h1m1 0h1m12 0h1m-230 1h1m170 0h3m1 0h1m5 0h2m7 0h1m10 0h2m12 0h1m9 0h1m-224 1h2m170 0h2m13 0h1m1 0h1m1 0h1m7 0h3m2 0h1m7 0h1m-235 1h1m21 0h1m171 0h1m1 0h1m4 0h2m10 0h1m4 0h1m3 0h1m-225 1h1m1 0h1m196 0h1m14 0h1m10 0h1m2 0h1m-229 1h3m5 0h1m194 0h2m9 0h1m18 0h2m3 0h2m5 0h1m-250 1h1m9 0h3m188 0h1m7 0h1m6 0h1m7 0h1m17 0h1m2 0h1m2 0h1m2 0h1m4 0h1m-247 1h3m4 0h1m3 0h1m4 0h1m177 0h1m2 0h1m2 0h3m2 0h2m3 0h1m13 0h1m2 0h1m4 0h1m3 0h1m3 0h1m4 0h2m-254 1h1m1 0h1m14 0h1m1 0h1m181 0h1m1 0h1m2 0h1m1 0h1m2 0h4m24 0h1m3 0h1m-238 1h2m9 0h1m1 0h1m172 0h2m6 0h2m5 0h1m6 0h1m4 0h1m4 0h2m4 0h1m9 0h1m11 0h1m-246 1h1m6 0h1m1 0h1m1 0h1m173 0h2m5 0h3m19 0h1m2 0h1m24 0h1m-249 1h1m4 0h1m11 0h1m180 0h1m1 0h1m7 0h1m3 0h1m1 0h1m2 0h1m3 0h1m-23 1h2m3 0h1m8 0h1m13 0h1m-218 1h2m186 0h2m-193 1h2m1 0h2m184 0h1m1 0h1m2 0h1m6 0h1m42 0h3m-246 1h1m1 0h1m195 0h1m1 0h1m2 0h1m43 0h1m-57 1h1m5 0h2m47 0h2m-250 1h1m194 0h1m-195 1h1m188 0h1m5 0h1m55 0h1m-260 1h1m7 0h1m249 0h1m-252 1h2m182 0h1m5 0h1m-224 1h1m3 0h2m20 0h1m1 0h2m4 0h1m181 0h3m4 0h1m-223 1h1m3 0h3m19 0h1m189 0h1m8 0h1m57 0h1m-285 1h1m4 0h1m1 0h1m1 0h1m1 0h1m18 0h1m246 0h1m4 0h2m-285 1h1m4 0h1m5 0h2m8 0h1m2 0h1m6 0h1m185 0h1m7 0h1m-236 1h1m5 0h1m4 0h1m7 0h1m4 0h1m5 0h1m4 0h1m3 0h1m194 0h1m1 0h1m50 0h1m5 0h1m-285 1h3m10 0h3m2 0h1m5 0h1m255 0h1m1 0h1m-292 1h2m8 0h2m4 0h2m4 0h2m3 0h1m6 0h1m1 0h2m185 0h2m1 0h1m61 0h1m-293 1h1m3 0h1m4 0h1m3 0h1m10 0h2m2 0h2m9 0h2m187 0h1m7 0h1m-233 1h1m3 0h3m6 0h1m2 0h1m2 0h1m1 0h1m199 0h2m8 0h1m-232 1h1m5 0h1m21 0h1m192 0h3m61 0h1m-284 1h2m23 0h1m260 0h1m3 0h1m1 0h1m-297 1h1m7 0h1m15 0h1m4 0h1m195 0h1m2 0h1m2 0h1m3 0h1m59 0h1m2 0h1m-272 1h1m4 0h1m198 0h2m2 0h1m3 0h1m49 0h1m1 0h1m6 0h2m-301 1h2m284 0h1m11 0h2m-301 1h4m218 0h1m11 0h1m56 0h1m-295 1h1m1 0h1m1 0h1m1 0h1m30 0h1m196 0h1m55 0h1m2 0h1m12 0h1m-307 1h1m8 0h1m24 0h1m200 0h2m65 0h1m2 0h1m2 0h1m-298 1h2m17 0h1m2 0h1m205 0h1m52 0h3m1 0h2m10 0h1m-307 1h1m13 0h1m211 0h1m3 0h1m57 0h1m1 0h2m-281 1h2m215 0h1m1 0h1m59 0h2m15 0h1m-296 1h1m217 0h1m1 0h1m3 0h1m5 0h1m45 0h1m3 0h1m1 0h1m-60 1h1m4 0h1m1 0h1m52 0h1m-283 1h1m1 0h2m11 0h1m208 0h1m67 0h1m29 0h2m1 0h1m-339 1h1m6 0h1m1 0h1m3 0h1m4 0h1m4 0h1m4 0h1m211 0h1m48 0h1m17 0h2m25 0h1m1 0h1m-329 1h1m15 0h1m2 0h1m211 0h1m1 0h1m45 0h2m8 0h1m1 0h1m31 0h1m-315 1h1m9 0h1m211 0h1m2 0h1m56 0h1m7 0h1m1 0h1m33 0h1m-327 1h1m3 0h1m263 0h1m55 0h2m-326 1h1m1 0h1m1 0h1m263 0h1m18 0h1m6 0h1m14 0h1m6 0h1m7 0h2m-324 1h1m220 0h1m42 0h1m21 0h1m19 0h2m1 0h1m10 0h1m4 0h1m-106 1h1m2 0h1m4 0h1m77 0h3m17 0h1m-66 1h2m24 0h1m19 0h1m11 0h1m7 0h1m-109 1h2m9 0h1m2 0h1m3 0h1m51 0h4m12 0h1m13 0h1m7 0h1m-106 1h1m11 0h1m2 0h1m5 0h1m19 0h1m26 0h4m10 0h2m15 0h1m1 0h1m-79 1h1m1 0h1m11 0h1m4 0h1m25 0h1m13 0h1m-85 1h1m3 0h1m3 0h1m13 0h1m6 0h1m4 0h1m1 0h1m48 0h1m16 0h1m-84 1h1m11 0h1m1 0h1m5 0h1m31 0h2m12 0h1m-82 1h3m3 0h2m4 0h3m12 0h1m53 0h1m4 0h1m9 0h1m3 0h1m-104 1h1m3 0h2m23 0h1m41 0h1m30 0h1m-89 1h1m1 0h2m43 0h2m22 0h1m2 0h1m15 0h1m-88 1h1m51 0h1m1 0h1m21 0h1m-74 1h1m5 0h2m34 0h1m1 0h1m8 0h1m13 0h2m2 0h1m-75 1h1m3 0h1m3 0h1m53 0h2m6 0h1m1 0h1m3 0h1m1 0h1m7 0h1m-59 1h1m9 0h1m9 0h1m5 0h1m4 0h1m2 0h1m-64 1h3m9 0h1m25 0h2m9 0h1m4 0h2m1 0h2m2 0h2m-62 1h1m35 0h1m1 0h2m13 0h2m2 0h1m2 0h1m7 0h1m-69 1h1m11 0h1m41 0h1m2 0h1m-57 1h1m9 0h1m15 0h3m21 0h1m2 0h1m-28 1h2m11 0h1m8 0h1m4 0h1m13 0h1m-56 1h1m20 0h1m13 0h2m-49 1h2m25 0h2m13 0h2m4 0h1m4 0h1m7 0h1m-52 1h1m16 0h2m4 0h1m6 0h1m1 0h2m6 0h1m-45 1h1m2 0h1m18 0h1m10 0h1m3 0h1m7 0h1m3 0h1m7 0h1m-60 1h1m23 0h2m3 0h1m3 0h1m4 0h1m9 0h1m2 0h1m-39 1h2m18 0h2m3 0h1m12 0h1m-39 1h2m10 0h2m3 0h1m7 0h1m3 0h1m10 0h1m-38 1h1m17 0h1m3 0h1m7 0h1m5 0h2m2 0h1m1 0h1m-41 1h1m17 0h1m9 0h1m6 0h1m-36 1h1m6 0h2m8 0h3m2 0h1m-9 1h8m7 0h1m2 0h2m-32 1h2m8 0h1m5 0h1m3 0h2m3 0h1m-21 1h1m2 0h1m7 0h2m4 0h1m-31 1h1m11 0h1m3 0h2m3 0h1m5 0h2m-23 1h1m4 0h1m16 0h1m-25 1h1m5 0h1m27 0h1m-40 1h2m2 0h1m5 0h2m1 0h1m2 0h1m1 0h1m-19 1h2m4 0h1m1 0h1m1 0h2m19 0h1m-23 1h2m3 0h1m4 0h1m9 0h1m-23 1h1m2 0h1m8 0h1m7 0h1m-21 1h1m11 0h1m3 0h1m-15 1h1m13 0h1m-15 1h1m9 0h3m-12 1h1m-1 1h1m5 0h1m3 0h1m-10 1h1m9 0h1m-15 1h1m11 0h1m2 0h1m-13 1h1m-4 1h1m9 0h1m-3 1h1m-18 1h3m-4 1h1m13 0h1m-8 1h1m4 0h1m-12 1h1m3 0h1m3 0h1m3 0h1m-8 3h1m1 0h1m2 0h1m-16 1h2m1 0h3m12 0h1m1 0h1m-25 1h4m1 0h1m1 0h1m2 0h2m-11 1h3m9 0h2m-5 2h1m4 0h1m-16 1h1m-2 1h1m10 0h1m-15 1h1m19 2h1m1 1h1m-23 1h1m8 0h1m16 0h1m-25 1h1m4 0h1m3 0h1m3 0h1m3 0h1m-16 2h3m5 0h2m3 0h1m-13 1h2m7 0h1m-11 1h2m2 0h1m-1 1h1m1 0h4m2 0h1m-2 1h1m-4 1h1m-3 1h1m-2 2h2m1 0h1m-2 1h1m1 0h1m6 0h2m-2 1h1m3 0h1m3 0h1"/></g></g>
<use href="#qb" transform="matrix(-1 0 0 1 700 0)"/><use href="#qb" transform="matrix(1 0 0 -1 0 700)"/><use href="#qb" transform="matrix(-1 0 0 -1 700 700)"/></svg>
<path class="t" d="M1237.4 565.2v-5.0M1237.4 30.9v5.0M1161.4 106.9h5.0M1695.9 106.9h-5.0M1313.7 565.2v-5.0M1313.7 30.9v5.0M1161.4 183.2h5.0M1695.9 183.2h-5.0M1390.0 565.2v-5.0M1390.0 30.9v5.0M1161.4 259.5h5.0M1695.9 259.5h-5.0M1466.3 565.2v-5.0M1466.3 30.9v5.0M1161.4 335.8h5.0M1695.9 335.8h-5.0M1542.5 565.2v-5.0M1542.5 30.9v5.0M1161.4 412.0h5.0M1695.9 412.0h-5.0M1618.8 565.2v-5.0M1618.8 30.9v5.0M1161.4 488.3h5.0M1695.9 488.3h-5.0M1695.1 565.2v-5.0M1695.1 30.9v5.0M1161.4 564.6h5.0M1695.9 564.6h-5.0"/><path class="b2" d="M1695.90 30.90V565.20H1161.40"/><path class="b" d="M1161.40 565.70V30.90H1696.40"/><g class="xl"><text transform="matrix(.957 0 0 1 1237.5 591.1)">100</text> <text transform="matrix(.957 0 0 1 1313.8 591.1)">200</text> <text transform="matrix(.957 0 0 1 1390.1 591.1)">300</text> <text transform="matrix(.957 0 0 1 1466.4 591.1)">400</text> <text transform="matrix(.957 0 0 1 1542.6 591.1)">500</text> <text transform="matrix(.957 0 0 1 1618.9 591.1)">600</text> <text transform="matrix(.957 0 0 1 1695.2 591.1)">700</text> </g><g class="yl"><text transform="matrix(.957 0 0 1 1155.7 115.1)">100</text> <text transform="matrix(.957 0 0 1 1155.7 191.4)">200</text> <text transform="matrix(.957 0 0 1 1155.7 267.7)">300</text> <text transform="matrix(.957 0 0 1 1155.7 344.0)">400</text> <text transform="matrix(.957 0 0 1 1155.7 420.2)">500</text> <text transform="matrix(.957 0 0 1 1155.7 496.5)">600</text> <text transform="matrix(.957 0 0 1 1155.7 572.8)">700</text> </g>
<g class="c"><text x="1136.2" y="650.7" textLength="48.7" lengthAdjust="spacingAndGlyphs">(<tspan class="k">b</tspan>)</text> <text x="1192.7" y="650.7" textLength="207.8" lengthAdjust="spacingAndGlyphs">Maheshwari</text> <text x="1408.8" y="650.7" textLength="55.0" lengthAdjust="spacingAndGlyphs">4th</text> <text x="1472.1" y="650.7" textLength="92.5" lengthAdjust="spacingAndGlyphs">order</text> <text x="1572.9" y="650.7" textLength="123.5" lengthAdjust="spacingAndGlyphs">method</text> </g>
<svg x="71.3" y="719.9" width="533.7" height="533.4" viewBox="0 0 699.607 699.213" preserveAspectRatio="none" shape-rendering="crispEdges"><rect width="700" height="700" fill="#009"/>
<g id="qc"><path fill="#00c" d="M350 350l-118 0-2-4-5 0-2 2 0 2-224 0 0-351 351 0 0 238-3 0-1 1 0 5 2 2 2 0zM50 191l0-3-3 1 1 2zM314 285l0-2-2 1zM286 307l-1-2 0 2z"/><path fill="#00f" d="M350 350l-83 0 0-10-1 0 0-4-1 0-1-6-3-6-2-1 0-2-3-2 0-2-8-8-2 0-4-4-2 0-1-2-6-3-3 0-2-2-3 0-3-2-11-1 0-1-15 0 0 1-10 1 0 1-6 1-10 5-5 5-2 0-9 9 0 2-3 2-1 4-2 1-2 4 0 3-1 0 0 3-1 0 0 3-1 0-1 11-143 0 0-160 2 0 3-3 2 0 10-9 0-2 3-2 4-8 0-3 2-3 0-5 1 0 0-17-1 0 0-5-1 0-1-7-4-8-12-13-2 0-4-4-2 0 0-102 351 0 0 191-13 2-8 4-1 2-2 0-9 10-4 8-1 8-1 0 0 13 1 0 1 9 1 0 0 3 2 4 4 4 0 2 6 6 2 0 1 2 8 4 13 2zM82 77l-2-2 0 2zM120 164l0-2-3 0 0 2zM50 191l0-3-3 1 1 2zM38 292l2-1 1-2-1-6-2-2-7 1-1 1 0 7 2 2zM314 285l0-2-2 1zM286 307l-1-2 0 2z"/><path fill="#03f" d="M350 350l-53 0-2-9-13-23 0-3-2-2 0-3-2-3-1-7-2-2 0-3-2-4-2-1-2-5-9-9-14-6-1-2-5-2-16-16 0-2-13-13 0-2-8-7 0-2-18-17 0-2-8-7 0-2-3-2 0-2-4-4-5-10 0-3-2-2-3-11-6-12-3-2 0-2-8-7-4-2-3 0 0-1-3 0 0-1-10 0 0 1-5 1-6 6-2 8-1 0 0 8-1 0 1 12 1 0 2 9 3 6 0 10-4 8-11 9-10 5-3 0-4 3-3 0-6 4-3 0-4 2-1 2-4 1-7 7 0 2-2 1-2 6-2 1-3 7-7 7-6 3-3 0-2 2-15 4 0 1-4 0 0 1-10 0 0-55 8-3 7-6 2 0 2-3 2 0 3-4 2 0 17-18 0-2 6-7 5-10 0-3 2-3 0-4 1 0 1-13 1 0 0-35-1 0 0-11-1 0-1-14-1 0-1-8-3-6 0-3-2-2 0-3-8-16-2-1-1-4-5-5 0-2-5-4 0-2-11-10-5-2-4-4-8-3 0-7 351 0 0 105-13 1 0 1-11 2-12 6-14 11 0 2-6 5 0 2-4 4-1 4-2 1-3 6 0 3-2 2 0 3-1 0 0 3-3 6 0 5-1 0 0 5-1 0 0 10-1 0 1 16 1 0 0 5 1 0 0 5 1 0 1 8 1 0 2 9 1 0 0 4 3 6 0 4 1 0 0 4 1 0 0 5 1 0 1 6 4 8 8 8 8 4 11 3 3 3 16 8 9 1zM126 47l0-2-2 0 0 2zM82 77l-2-2 0 2zM96 119l0-3-3 0 1 3zM87 135l-1-2 0 2zM93 147l0-3-3 0 0 3zM85 149l-1-2 0 2zM75 151l1-3-3 0 0 3zM98 163l2-3-1-1-3 0 0 3zM93 167l1-3-3-1-1 3 1 1zM93 178l2-4-1-2-3-1-3 2 0 4 2 1zM50 191l0-3-3 1 1 2zM47 211l-1-2 0 2zM23 221l0-2-2 0 0 2zM46 228l-1-2 0 2zM35 230l-1-3-2 0 0 3zM27 239l0-2-2 0 0 2zM34 244l0-2-3 0 0 2zM16 248l0-4-3 0 0 3 1 1zM28 248l0-4-2 0-1 3 1 1zM271 251l1-5-2-2-4 0-1 1 0 5 1 1zM22 248l0-2-2 0 0 2zM32 252l1-3-4-1 0 3 1 1zM258 256l1-1 0-4-2-2-4 1 0 5 2 1zM13 256l1-1 0-3-5 0 0 3 1 1zM271 270l1-2-2 0 0 2zM314 285l0-2-2 1zM313 292l-1-2 0 2zM309 298l1-3-1-1-3 0 0 3 1 1zM323 313l4-2 0-3 1 0-1-5-3-3-5-1-2-4-4 0 0 3 2 1 0 8 1 2 3 3zM299 305l0-3-3 0 0 3zM286 307l-1-2 0 2zM294 308l1-2-2 1 0-2-2 0 0 2zM298 310l0-2-2 0 0 2zM309 323l2-2 0-5-2-2-6 0-1 1 1 7 2 1zM337 317l1-2-3-1 0 3zM328 323l0-2-2 0 0 2zM332 326l-1-2 0 2zM314 344l-1-3-3 1 1 2zM319 347l0-2-2 0z"/><path fill="#06f" d="M350 350l-15 0 0-1-2 0 0 1-14 0-2-2-6 1-4-4 0-4-1 0 1-2 2 0 0-3-4 0-4-2-1-2-2 0-2-2-2-6-6-6 0-4-4-6 0-3 1 2 1 0-1-4 2-3 0-6-2-1 0-2-2-1-3-6 0-3-4-6 0-4-4 0 1 2-5-1 0-3-1 0 1-2-1-2 1-2-2 1 0 4-3 0 0 1-3-2 1-3-3 0 0 1-8-1-4-4 0-2-7-6-2-4-1-13-2-4-3-2 0-2-3-2-6-12-1-12-1 0 0-8-1 0 0-5-1 0 0-4-1 0-1-6-4-8-7-7 0-2-3-2-1-4-3-3-13-46-2-2 0-3-9-18-2-1-8-16-1-6-2-3 0-4-2-3-1-7-4-8-2-1 0-2-5-5-8-4-12 0-4 2-4 5-1 8-1 0 0 8 1 0 1 8 5 9 0 8-1 0 0 3-8 8-2 0-10 8-2 0-4 4-2 4-1 10-4 4 0 2-8 7-1 2 0 12-6 8 4 5 4 0 1 2-2 1 2 0 2-1 0-3-2 0-1 1-1-2 2-1 0-4 2-3 9 1 2 1 1 8-2 0 0 2 1 1 4 0 2 2 1 2 0 6 1 0 0 6-1 0 1 10-7 14-6 3-12-1 0-1-5-1-7-9-2-1-3 1-1 2 1 9-2 2-6 3-3 0-4 5 0 2-6 3-4 0-3 3-1 4-9 3 1 7-3 3 3-1 0-2 1 2 2 0 0-3-2 1 0-2 1-1 3 1 1-3 2 0-1 2 4 0 2 3 5-1-1 2 2-1-1 3-2-2-2 0 0 4-5 5-3-2 0 6-2 2 0 3 2 2-3 0-1-3-3 0-1 1 2 7 4 3 2 0 2-2 0-4-3-1 4 0-1-2 2 0 0 3 2 1 0 5-8 6-7 0-1 2-5 1 0 1-2-1-10 1-4-4-2 0 0-13 7 0 2-1-1 1 1 1 0-1 3 0-1-3-5-1-4-5-2 0 0-13 5 0 0-1 6-1 8-10 4 0 0 2-1 1 2 0 1-6 11-11 2 0 4-4 0-2 10-9 0-2 2-1 0-2 2-1 2-5 4-3 0-2 2-1 3-6-1-14 1-2 5 1 0-3-3-2 0-22 1 0 1-10 1 0 0-12 1 0 1-21 1 0 1-23-1 0-1-14-1 0 0-5-1 0 0-4-1 0 0-5-1 0 0-5-1 0 0-5-1 0 0-5-1 0-2-11 286 0 0 5-11 0 0 1-5 0 0 1-8 1-5 3-3 0-8 4-1 2-4 1-16 14 0 2-5 4 0 2-3 2 0 2-4 4-1 4-2 1-7 14 0 3-2 2 0 3-2 2-1 7-2 3 0 5-1 0 0 5-1 0 0 7-1 0 0 10-1 0-1 29-1 0 0 7-1 0 0 5-1 0 0 4-1 0 0 5-1 0 0 16 1 0 1 6 4 8 3 2 4 8 2 11 1 0 0 3 2 4 6 5 0 2 3 3 1 7 4 6 0 19 3 6 18 17 6-1 0-1 5 1 0-2 2 0 3 3 3 0 4 2 0 2 4 3 5 1 7 7 4 2 4 0zM102 11l1-1 0-2-3 1zM103 36l1-3-3 0 0 3zM89 42l1-1 0-2-3 1zM110 47l1-2-1-1-3 1 1 2zM107 51l0-2-3 0 0 2zM108 59l0-4-4 0-1 1 1 3zM82 77l-2-2 0 2zM85 101l-1-2 0 2zM86 109l1-2-2 1zM77 136l-1-2 0 2zM91 150l2-1 2-3-2-4-3 0-2 1 0 2-2 0zM220 149l2-2 0-3-2-2-3 0-2 2 0 3 2 2zM234 150l2-2 0-4-2-2-4 0-1 1 0 6 1 1zM80 154l-4-7-4 0-1 4 2 2 5-2-1 2zM233 157l-1-2 0 2zM99 164l2-2 0-3-2-3-4 0-1 1 0 4 1 2zM95 170l-1-2 1-4-3-2 0-2-2 1 0-2-4 0-1 2 0-2-1 0 0 3 3 0-2 1 0 2 2 2 7 1 0 2zM221 162l-2-2 0 2zM227 168l-1-2-2 1zM94 181l2-1 1-2-1-6-1-1-2-1-7 0-3 2-1 4 2 4 2 1zM99 175l-1-3 0 3zM102 174l-1-2 0 2zM94 185l-1-2 0 2zM50 191l0-3-3 1 1 2zM46 204l-1-3-1 2zM248 206l0-3-3 1 1 2zM239 208l0-2-3 0 0 2zM253 219l2-2 0-5-2-1 0-4-3-1 0 5-2 2 0 3 3 3zM236 212l1-2-2 0 0 2zM243 221l1-2-1-3-1-1-3 0-1 1 0 4 1 1zM21 223l3-2-2-3-3 1 0 3zM23 226l1-2-2-1 0 3zM34 232l2-2 0-3-1-1-4 0-1-1 1 3-1 0 0 3zM274 234l-4-2-1-2-2 1 1 3 2-1 1 1zM26 242l-1-3 3 0 0-4-2 0-2 2-1-2 1-2-3-2 2 3-4-1 2 1-2 5 3 0 1 3zM268 238l0-2-2 0zM12 259l2-1 0-2 2-1 0-4-1-1 2-1 0-3 1 0 0-4-2-1 1-4-3 1-2 4 1 8-1 1-5 0-1 2 0 2 3 3zM24 238l-2-1 2 0zM249 243l2-3-3 2zM270 260l1-1-1-4 1 0 0 2 2 1 0-3-2-1 4 1 0-12-2-2-7-1-3 2-1 7 2 1 0 3 2 4 2 0 0-2 1 0 0 3 1 0-1 2zM22 250l1-1 0-5-2-1 0 2-2 0 0 4zM245 247l0-3-2 0 0 3zM259 247l0-3-2 0 0 2zM248 250l2-3 0-2-3 1 1 1-1 3zM259 259l2-1 0-7-2-3-6-1-2 2 0 2-2-1 1 1 0 4 3 3 2 1zM16 259l2-2-2 0-1 1zM7 261l1-2-2 1zM264 267l1-3-3 0 0 3zM272 270l1-3-1-1-3 1 0 3zM293 286l0-3-2 0 0 3zM289 287l0-2-2 0 0 2zM315 293l-1-4-4 0 1 3zM322 291l0-2-2 0zM309 299l2-2 0-3-4-3-4 0 0 5 3 3zM340 325l-3-1 3-2-1-2-2 0 0-2 3-1 0-3-1-1-4 0-1 2 3 6-2 0-3-3 1-1-1-2 1-3 2-2 3 1 0-2-10-10 0-2-8-2 0-1-8 0 0 13 2 2 0 3 3 1-2 2 2 0 1-1 3 7 3 0-1-2 1-1 4 0 0 1 3 0-1 2 2 0 1 3 2 0 0-2 2 0-1 2 1 1zM311 328l4-3 0-6-3-6-4-2-3 0 0-1-4 1-3-4-3 0 0-1 5 0 1-1-1-5-2-2-3 0-1 1 0 6-4-1-1 4 4-1 2 5 3 1 0 8 6 6zM303 301l1-1 0-2-2 2zM308 302l1-2-2 1zM309 310l-1-2 0 2zM295 317l0-3-2-1 0 2 1 2zM328 325l2-3-2-2-3 0 0 5zM337 331l0-2-2-1 1-2-2 1-2-3-2 0 0 3 3-1 0 2 2 0 0 2zM341 332l-2-4 0 2 1 2zM316 346l-1-1 1-5-1-1-5 1-1 3 1 2 2 1 2-1zM320 347l0-3-3 0 0 3zM327 349l-3-3-3 0 1 3 1-1 1 1z"/><path fill="#09f" d="M79 99l-2 0-1-2 0-10 1 0 1-10 1 0 0-4 1 0 1-11 1 0 1-7 1 0 0-6-1 0 0-3-3-6 1-2 4 0 0-2-2 0-3-4 0-5-1 0 0-5-1 0 0-23 15 0 0 2 1-2 1 0 0 3 1-3 4 0-1 5-2 1 0 2-5 5-2 4 2 10-3 5 1 7-3 0-1 1 0 3 2 2 2-1 0-2 2 0 0 2 2 0-1-3-2 0-1-2 1-1 1 1 3 0-1-2 2-1 0-6 2-1 2 1 3 0 0-1 3 1 2 4 0 2-2 2 1 1 4 0 3 3 2 17-3 6 0 3-3 3-3 0 0 1-10 0-6-5-3 1 0 4 2 2 0 3-5 4 0 5-4 5 0 5zM301 301l-1-3-3-2-1-3-4 1-1-2 1-2-2 0-1 2 0-2-3 0-1-1-2-4 1-3-3-4 0-4-5-7-2 0-1 2 0-3-1-1-1 1-1-1-2 1 0-3-3 2 0-2-3 0 0-1-3 0 0 1-3-1-2 1 0-1-5 0 0-1 2-1-3 0 4-1 1 1 2-1-1 2 1-1 7 0 1-1 0-3-1 0-1-5 2 0 1 5 2 0 0 2 3 2 2-2 2 1 3-2 1-2 0-6 1 0-2-1 0-2 1-1 1 1 2-1-1-1-3 1 0-3-3-3-1 1-4 0-2-1 4-1 1 1 1-1-1-2-2 1-1-2-2 0-1 1 1 2-1 1-4-1-1 1 2 3 0 5-3-1 2-1 0-2-3 0-2-2-1 3 3 3-2 0-1-2-2 0-4 6-1-2 3-2 1-2-1-3 1-1-2-1-3 3 1 12 1 2 3 0 0 1-5 0-2-5-1-1-3 0-1-2-1-7 3-3-1-4 1 0 0 2 2 0 0-2-2 0 0-1 5 1-5-3 4 0 0 1 1-1-3-1 0-2-3 0 0-2-5-1-8-11 0-5-2-2 0-3 3 2-2-2 0-2 4-4 0-5-2-3 0-21-5 1 0-2-2 0 0-5 2 0 0-4-2 3-4 0-2-2 0-2 2-2-4 0-6-4-1-6-1 0 0-4-3-6 1-9 3-5 0-5-1 0 0-4-1 0 0-4-1 0 0-5-1 0 0-17 1 0 0-6 1 0 0-14-1 0-1-10-2-4-2-1-6-12-1-6-1 0 0-5-1 0 0-5-1 0 0-6-1 0 0-5-1 0 0-5-1 0-2-11 69 0-5 35-1 0-1 8-1 0-1 6-2 2 0 3-2 2-2 11-1 0 0 14 1 0 0 5 3 5 1 8 1 0 0 14-1 0 0 4 1 0 1 8 3 5 0 9-1 0 1 13-7 11 0 3-1 0 0 8 1 0 0 5 4 7 2 9 4 3 4 0 0 2 3 0 1 1 0 3 2 1 3 18 3 3 5 1 1 3 3 1 0 2-3 1-1-4-6-1 0 3-1 0-1-2-1 4 2 1-1-2 2 0 0 2 7 0 0 2 2 0-1-2 2-1 0 4 2 4 4 3 0 6-2 0 1 1 0 4-2-1 1 1-1 9 5 5 1 4 2 0 4 5 2 0 2 3 2 0 1 5 1 0 0 4 2 4 2 1 0 2 2 0-3 1 2 2zM92 7l-1-2 0 2zM88 26l1-2-2 1zM103 38l2-2 0-3-1-1-4 0-2 3 3 3zM213 40l2-5-2-2-3 0-2 4 1 2zM227 42l1-1 0-5-2-2-4 1-1 1 0 5 1 1zM96 41l2-2 0-3-2 0 0 3-1 0 0 2zM107 52l1-1-1-4 1 0 1 2 3-2 0-3-2-2-3 0-1 1 1 4-7-1 0 2 1 1-2 0 0 1 3-1-1 3zM99 46l-1-2 0 2zM103 48l-2-1 2 0zM212 52l0-2-2 0 0 2zM107 62l3-2 0-3 2-2-3 1 0-2-7 0-2 1-1 4 1 2 2 1zM82 77l-2-2 0 2zM89 97l-2 0 0-2zM219 98l-1-3-2 1 1 2zM228 98l1-2-2-1-1 3zM73 147l-1-4-2-2 0-7 1 0-1-2 0-3 1 0-1-4 1-1-1-2 1 0 0-5 2-3 0-4 2-3 0-6-1-2 2-1 1 3 2 1 1 0-1-1 0-2 2 2 2-1 3 1 0-2-4 1 0-3 5 0 0 5-1 1 1 0 0 3-3-2 1 1-1 2 2-1 0 2-4 0-1-1 2 4-3 0 0 1-2-1-1 3-2 0 3 2-3 2 0 3-2 2-1 8 1 0 0-2 2 1 3-2 2 2 0 4-3 4-5-1 1 2zM230 112l2-2 0-6-1 0 1-4-1-1-2 1 0 3-4 4 2 5zM91 107l-2 0 0-2zM219 111l1-4-2-2-2 0-1 1 0 4 1 1zM86 115l-2-6 2 1 1-2 3 3-2 1 0 2zM85 116l-4 0-1-3 3-1zM228 121l1-2-2 1zM75 129l-1-2 3 0zM230 130l-1-2 0 2zM220 132l-1-3 0 3zM242 134l-2-5-3 1 1 3zM77 136l0-4 2 1 0-2-2 0-2 3 0 2zM212 135l0-2-3 0 0 2zM237 136l0-2-2 0 0 2zM214 139l2-2-1-2-2 1 0 3zM233 158l0-3-2-1 4 0 1 2 3-5 1-8-1-2-2 0-3-3-4 0-2 4-1-1-2 0 2 1 0 2-1 2-2 0-1-2 1-2-1-4 0 4-5-3-6 4 1 6 4 4 4 0 2-2 0-5 1 0 2 1 0 5 3 0 0 4 2 2zM87 145l-1-3 2-1 0-2 2 2 4-1 2 2-2 2 0-2-6 0zM77 148l-3-1 0-3 2 0zM86 147l-3-1 3-1zM70 149l-3-3 3 0 1 1zM93 191l-4-2-6 0-4-5-4-1-5-13-2 1 0 3-5 1-4 3 0 2-3 1 3 2 2-1 0 2-4 2 1 3 3-2-1 4-5 0-1-3-2 0 0 3-2 0 0-4 4-3 4-9 13-13 0-4-2-2 1-4-3 0-1-4 2 0 1 3 2-2 0 4 2 2 3-1 0-3 1 3 4-1 2 2 1-5 2 1 2-2 1 2 2 0 3-2-1 3 5 0 1 2 4 1-1 3 2-1 0 2-1 2-4-6-6 0-1 1 1 3-3 0 0-1-4 1-2-1 0 4 2 1-2 0 0 3 3 2-1 1-6 0-2 3 0 3 4 7 2 1 6 0 0 1 1 0-1-2 6 0 2-2-1-6 1 1 3-1-1 2 3 0-2 2 0 2-4 3 1 2-1 3-2 0 0-2-2 0 0 2 2 0 0 2zM80 152l-2-1-1-3 2 0zM228 155l0-2-2 0 0 2zM221 163l1-3-2-1-2 3 1 1zM102 164l-2-1 1-1 3 0zM226 164l-1-2 0 2zM104 176l-2-4-4-1-1 2-1-2-2 0 2-1-1-1 1-1-1-5 2 0-1 2 1 1 1-2 4 2 1-2 1 0 0 3-3 1 0 2 3 3zM227 169l1-3-3-1-1 1 0 3zM91 170l-3-1 2-1zM78 182l1-2-2 1zM95 185l0-2-3 0 0 2zM62 186l-2 0 1-2zM236 191l-2-2 0 2zM240 191l0-2-2 0 0 2zM29 215l-2 0 0-2-1 2-1 0 0-3 3-2 0-2 6-6 2 0 2-3 2 0 1-3 2 0 0-2 4-4 3 1-2 3-2 0-2 3-2 0 1 2 2-1 1 2-3 0 2 2-3 0-1 4-2-1 1-3-2 0 0 2-2 0-1 2-3 0 0 2-3 1 2 1 2-1 0 3-3 0zM255 229l1-4-2 1 0-4 1 0 0 2 2 0 0-2-2-1 1-1 2 1 0-9-3-3 0-2-3-1 1-1-1-1 1-1 0-2-3 1 2 3-3 1 0-4-2-2-3 0 0 5 3 1-1 3 3-3-2 4 0 7-1 1 2 0 0 4 4 0-3 2 3 3 2-1 0 3zM244 224l1-1 0-7-2-1 1-2-2 1 0-1-4 0 0-3-2-1 3 0 0 2 1 0-1-2 1-1 0-4-2-2-2 0-1 1 0 3-2-1-2 1-1 3 2-1 2 5 2 1 0 3-1 0 1 4 4 3zM44 206l-2-1 1-2 2 0 1 2zM235 210l-1-3 2 1zM32 215l-2-2 3 0zM12 245l-4-4 0-3-1 0 1-8-2 0-1 2-3-2-3 1 0-4 8 0 0-1 7-1 1-1 0-4 2-1-1-2 3 1 0-2-2-1 3-1 1 3 3-1 0 2-4 0-2 2 0 3 1 1 2-1 2 5 3-2 2 2 1-2 2 0-3 4 3 1 0 2-1 2-2-1-3 1-2-2 0-2-2 0 1 2-3-1-1 2 1 2-5-2-2 2 0 4-1 0zM253 225l-2 0 1-2zM36 226l-5-2 4 0zM39 231l-3-2 3-1zM242 233l-2 0 0-3zM257 239l0-3-3-1 0 4zM29 243l-4-1 3 0-1-3 2 0 1-3 1 2-2 2zM260 238l-1-2 0 2zM20 244l-1-2 1-2 3 1zM245 251l-1-3 2-2 0-3-3-1-1 1 0 4 1 0 0 4zM24 247l-2-4 2 0zM32 246l-3 0 0-3zM13 249l-3 0 0-2 2 0zM35 248l-2-1 2 0zM261 249l-3-2 3 0zM8 262l-3 0-3-4 0-5 1 0 0-3 6-2 0 2-2 0-2 2 1 5 3 1-3 2 2 1zM17 252l-1-3 3-1 1 2-3 0zM25 249l-2-1 2 0zM37 254l-3-1 1-1 0-4 2 2zM21 261l-2 0 1-3-1 0 0-3-2 0 0-3 2 1 0-2 1-1 2 1 0-2 3 3 1-3 0 3 3 1-4 1 1 4 4 1-6 0-1-1-2 1zM33 256l-1-2 2 0zM31 258l-1-3 2 1zM14 262l-2-1-3 1-1-2 1-1 1 1 4-1 0-2 2-1 0 2-1 1 1-1 2 1zM269 258l-2 0 1-2zM17 263l-2-2 4 0zM294 288l1-4-1-2-3 0-1 3-3 0-1 1 1 2 3 0 1-3 0 2zM316 285l-2-1 2 0zM309 290l-1-2 1-2 4-1 0 3-3 0zM317 294l-2 0 1-2-2-1 1-3 2-2 1 1 4 0 0 1-3 1 1 4-2 0 0-3-1 0zM350 350l-15 0 0-1-6 1-4-4-4-1 0-2-3 0-1 1 1 4-2 0-1-4 3-2 0-3-1-1-6 1 1-2 2 0-1-2-5-1-2-2-4 0-1-2-3 0-1-2 2 0 1-3-2 0 1 2-2 0-1-1 1-2-4-4-2 0-2-4 2 0 0 2 2 0-1-1 1-3 1 4 2-1 1 6 5 2 1 2-1 2 3-1 1 2 8 1 4-3 0-3-1 0 0-5-4-4 0-3-2-1 2-4 0 4 3 1-2 2 3 0 1 5 4 5 1-1-1-1 2-1 0 4 1 1 3 0 0-2 2 0-1 2 1 1 6 2 3 4 2-2 1 2-1-5-2-1 2-1-2-1 2-2-3 0 3-3-1-1-3 0 0-2 4 1 1-1 0-3-2-2-2 0 0-1 4 1-3-6 2-3-3 2 0-2-3-1 1-2-2 1-4-2 2-1-1-2 2 0-1-2-2 2-1-2-6-1 1-2-1-1 2-1 3 4 5 0 4 4-2 1 0 1 3-1 0 2 2 2 2 0 5 6 3 0zM312 296l-1-3 3 0 0 1-2 0zM307 310l-4-1 2-3-2 1-1-1 0-2 3 0-3-2 1-1 2 1 0-3 2 1 0 2 4 0-4 2zM289 306l-3 0 2-4 4-1 2 1 0 3-2-2-2 0zM312 308l-1-1-3 1 0-3 4 1zM297 307l-2-1 2 0zM292 314l-2 0 0-3-2 1 0-2-2 0-1-3 2 0 0 2 3 0 0-2 2 2 0-2 1 0 0 2 2 1-1 1 1 2-3 0zM303 310l-2-1 2 0zM310 312l-3-2 3 0zM297 317l-2-1 0-3 2 1zM310 341l-3-1 1-1 3 0zM314 348l-1-1-2 1 0-2 4 0z"/><path fill="#0cf" d="M86 36l-3-2-1-9-1 0 0-4-1 0 0-10 1 0 1-12 7 0 0 2-1 0 1 4-1 1-3 0 1 5-2 1 0 4-1 0 0 7 2 0 1-1 1 1 1-2 2 2-3 2 3 1 0 2-4-1 1 2 2-1 0 2-2 1-1-1-2 0 2 4zM93 9l-5 0 0-3 5 1 1-2-2 0-1-2 5-1 0-3 2 0-1 5-2-1 1 2zM241 205l-2-7-1-1-2 1 0-3-2 1-3-6 0-3 1 0 0-8 1 0 0-4 1 0 0-1-2 1-1-8-1 0 0 2-2 0 1-4-4 0 2-1-1-4-4 1 0-2-3 0 1-2-4-2-3 0-5-4 5-2 1 2-1 2 2-1 1 2 6 1 3-6 1 6 2 0-1 3 6 1 1-2 1 2 2-1 0-2 2 0 1-7 2 0-1-2 1-1 0-4-1-1 1-1-2 1 0-1-3 0-9-7 1 3-1 1 1 1-1 1-4-1-1-2-1 4-2-2-3 0-1 2-5 1-1 5 2 1 0 2-4 1 1-5-1 0 0-4-3-2 1-8 2 1-1-2 4-2-1-2 2-1 0 2 2 0 0-2 3 1-1-2 2 0-1-2-2 2-3-2 0-4 2-1-2 0-3-4 0-5-2-3 0-11 2 0-1-2 2 0 4-4 0-11 1 0 1-10 2-3 0-3-3-1 1 2-3 0-1-2 0-5 2-1 2 1 0-2-1-1 1-1-2 1-2-3-2 0 0 3 2 0 1-1 1 2-2 1-4-1-1-3 2-2-5-2-4-5 0-9-1 0-1-7 1 0 0-4 4-6 0-7-1 0-1-9 10 0 0 3 1 1 4 0 0-4 6 0-1 4 1 2 5 0 1-6 11 0 0 2-1 0 0 16 1 0 1 7 1 0 0 5-2 3 0 10-1 0-1 5-3 2 0 2-3 2 0 2-3 3-1 13 1 0 0 6 1 0 0 10 2 3 4 1 1 3 2-1 0 3 1 0 1 8-1 0-1 18 6 5 0 3 2 1 0 4-2 1 0 9 1 1-2 0 0 3 2 0 0 2-2 4-2 0-1 4-5 4 1 13 3 4 0 3 3 2 0 3 1 0-1 14-1 0 1 1 1-1 0 2zM93 2l-4-1 4 0zM221 10l-1-2 0 2zM223 14l1-2-2 1zM87 21l-2-1 2 0zM206 26l-1-3-1 3zM237 29l-2-2 0-3-1-1-3 0 0 3zM213 26l-1-2-2 0zM208 30l2-2-1-2-2 1 0 3zM230 29l0-2-2 1zM98 35l-1-3 1-1-2 1 0-2 3-1 1 2zM105 33l-1-2-3-1 4-1zM218 32l0-2-2 0 0 2zM214 43l2-3 0-4 1-1-3-4-7 1-1 1 0 6 1 2 3 2zM224 50l0-3-2-1 3 0 0 2 2 0 3-3 0-3 2-2 0-5-5-4-4 0-4 4 0 6-1 0 0 2 2 0-2 1 0 2 2 0 0 3 1 0 1-2 0 3zM107 36l-2 0 0-3 2 1zM96 39l-1-4 2 0zM90 38l-4 0 0-2 2 1 1-1zM105 46l-1-1-4 0-1 1 0-2-4-3 2 0 0-2 2 0 0-2 1 2 4-1 0 1 7 1-1 2-1-1-5 1zM110 68l-8 0-2-2-5-1-4-4 0-3-3 0-1 1 2 2-3 1 0 2-2 1 0 3-2 0 1-6 5-9 0-5-3-2 0-2-3-1 0-4 1 3 2 0-1-3 2-1 0 5 2 2 7-3 1 2 2 0 1 2-1 2 3 0-2 1 0 3 6 1 0 1-8 0-1 2 0 3 5 5 2-1 4 1 0-2 3 0 1-1 1-6 2 1 0-2 1 0 0 4-2 0 0 3-2 1 1 3zM114 54l-2-1-1 1-4 0-1-1 1-2 3 0-1-1 0-2 3 1-1-1 1-1-1-6 2 0-1 2 2 2-1 2 1 2-1 2 1 1zM217 59l1-2-1-1-3 0-1 1 1 2zM110 66l0-3-2 0 1 2-1 1zM83 77l-2-1 0-4 1 0 0-3 3-1 2 1-2 1 0 1 3-1 0 4-1 1-5-1zM79 99l-2 0 0-5 1 0-1-1 0-5 2-3 0-7 3-1 0 2-2 1 0 3 2-1-1 2 1 2-2 0-2 3 0 3 2 1 0 3-2 0zM220 82l-1-2 0 2zM224 82l0-2-2 0 0 2zM82 88l-2-1 2 0zM219 114l2-2 0-6-2-3-2 0-1-5 3 1 1-1 0-5-3-1-2 5-1-3-2 0 0 3 1 0-1 3 2 2-2 4 0 3 2 4zM226 100l4-3-2-5-3 1 0 7zM228 121l1-2 2 0 0-2-2 0-1 2 0-3 1-1 3 0 1 2 1-7 1 0-1-9-2-1 2-3-1-2-2 0 0 3-6 5-2 4 1 2 0 4-1 0 1 3-1 1 2 0 0 2 3 0-1 2zM84 99l-1-2 2 0zM87 100l-2-2 2 0zM77 100l-2-1 2 0zM81 110l-2 0-1-2-3 2 2-4-1-4 7-1 2 2-1 1-3-1 1 3-2 0zM212 103l-1-2 0 2zM239 103l-1-2-2 0 1 2zM86 108l-2 0 1-2zM87 114l-1 0 1-2-1-4 4 2-2 1zM73 119l-1-3 2-3 2 0-1 2 1 1-3 1zM72 124l-1-3 3-2 0 3-2 0zM215 122l1-2-2-1-1 2zM227 123l-2-2 0 2zM214 125l-2-1 2 0zM239 139l1-2 3 0-1-2 2 0 1-2-3 1 1-2-1 0 0-3-4-3-1 2-1-2-2 0-1 3-2-2 0 2 2 2 4 1 2 3 1-1 2 0-2 3-2 0 0-2-2-2-2 0 0 3zM230 130l-1-2 0 2zM74 136l-1-1-2 1 1-2-1-3 3 0 3-2 0 3-3 2zM220 132l-1-3 0 3zM235 130l-2-1 2 0zM79 135l-1-2 2-2 0 3zM210 139l-1-3 2 0 2-2-1-3-2 0-2 2 0 4-1 0 0 2zM212 140l6-3-1-2 1-2-2 1-1-2-1 1-3 6zM77 137l-3-1 3 0zM89 142l-2 0 1-3 2 1zM225 146l-1-4 2 0zM86 147l-2-2 2 0zM226 149l-2-2 2 0zM246 149l-2-2 2 0zM71 153l-3-1 2-1 0-2 1 0zM77 182l-2-1-1-8-1 0 0-7-4 1 0 1-2-1 2-2 2 0 0-2 3-2 0-2-2-1 0-3 4 1 0-2 1 1 2-1 0 1 3 0 1 2 1-1-1-3 2-2 2 0 1-2 0 3 8 2-4 0-1 1 1 4-1-1-7 0 0 4-1 0 1 3-1 1 2 2-7-1-1 1 0 8-1 1 2-1 2 4-2 0zM102 157l-5-2 0-2 4 1 1 1zM103 168l-1-1-4 1-2-1 0-2 2 1 1-1 1 1 1-1 2 1zM224 169l-2 0 1-4 1 0zM67 173l-2-1-3 1 0-1 4-3zM100 172l-2-3 3 0zM98 171l-2-1 2 0zM62 177l-3-1 2-3 1 0zM99 181l-1-3 2-2 0 4zM57 181l-1-2 2-2 1 2zM82 185l-3-2 1-3 1 3 2 0zM237 182l-1-2 0 2zM59 191l-4-2 0-3-2 0 2-4 1 1 5 0-1 2-2-1 0 2-2 0 1 3 3 0zM96 185l-1-2-3-1 5 0 0 2zM86 188l-3 0-1-2 3-3 1 0zM98 186l-2-1 2 0zM53 187l-2-1 2 0zM91 189l-4-1 0-2 6 0 0 1-2 0zM93 190l-2 0 1-2zM236 192l0-3-3-1 0 3 1 1zM240 194l1-1 0-4-3-1-1 1 0 4zM48 193l-3 0 2-1 0-2zM41 202l-3-2 3-1 0-3 2 0-1 2 1 1 2-1 0 2-3 0zM256 208l-3-3 1-5-5 1 0-2 7 0-1 3 1-2 1 0 0 3 2 2-2 0-1-1zM45 202l-3-1 3 0zM44 206l-2 0 1-3 3 1zM230 216l-1 0 0-5-1 0 1-4-1-1 5-3 2 1 0 2-4-1-1 1 0 3 3 0 0 2-3 0 2 1 0 2-2 0zM245 214l-1-2-2 2-2-4 1-3 3 0 0-1 1 3 2 0-2 1 1 2zM30 213l-4 0 2-2 0-3 2 3 3 0zM260 217l-2-2 1-2-1-5 2 1 0 3 1 0-1 2 2 0zM255 245l-1-1-2 1-1-2 1-2-1-1-4 2 0 3-1-4-4 1 3-3 0-2 4-3-2-2-3 0 1-2-3-3-7-2 2-2 5 3 3 0 1-1-1-11 1 4 1 0 0 4 2 1 0 3 2-1 0 2 2 0 1 2 1-3 3-1 1-7 1-1 2 8 9 2 0 2-4-2-4 0-1 1 0 2-3 3 5 1 1 1-1 1 1 2-2 1 0-2-3 1-1-2 1 6-3 0-1-1zM21 217l-2 0 1-2zM233 216l-2-1 2 0zM23 218l-2-1 2 0zM233 219l-1-2 2 0zM12 235l-2-1 0-2 2-3-6-2 9 0 1-1 0-3 1 0-1-2 1-1 1 5 3-1 2 4 1-1 2 1 1-2 1 2 1 6-1-1-2 1-3-1-1-3-4 4-2-2-3 0zM235 224l-1 0 0-4 3 1 0 2-2-1zM256 225l-2 0 0-2zM35 225l-2-1 2 0zM5 230l-1-1-5 1 0-2 7 0zM273 230l-2-1 2 0zM274 233l-2 0 0-2zM22 233l-2-1 2 0zM267 235l-2-1 2 0zM11 239l-2 0 1-1-1-1 0-2 2 0zM257 239l0-3-3-1 0 4zM273 237l-2-1 2 0zM275 238l-2-1 2 0zM11 244l-2-4 2 0zM22 243l-2 0 1-2zM241 249l-1 0 0-6 2-1-1 5 1 1zM262 246l-3 0 2-1 0-2zM247 250l-2 0 1-1-1-2 1-1 2 2zM279 254l-2-3 1-3-2 0 2-2 2 1zM9 250l-3-1 3 0zM244 252l-3 0 0-3 2 0zM5 253l-2-2 3-1zM23 253l-1-3 2 0zM21 260l-2-2 1-2-3-2 1-1 6 1 2-4-1 7 1 1-2 0-2-2 1 2-2 0zM248 256l-2-1 0-4 2 2zM5 256l-2 0 0-3zM282 270l-4-1-3-4-1 2-1-2-2-1-3 1 1-3-3 2-1-2-11 0 0-1 10-1-1-5 1 2 2-1 0 3 3 0 0 1 2-2 4 1 1-2 2 0-3 6zM251 258l-3 0 0-2 3 1zM5 261l-1-4 2 1 1-1 0 2zM10 262l-2-2 6 0-4 1zM253 261l-2-1 2 0zM282 272l-3 0 0-2 3 1zM287 276l-2-1-2 1-1-1 0-3 4 2zM288 284l-3-1 0-2-2-1 0-2 1 1 2-1 1 2 1-3 3 1-2 2 2 2-3 0zM294 282l-2-1 2 0zM286 286l-2 0 0-3 2 1zM290 285l-2-1 2 0zM300 295l-2 0-1-3-4-2-5 0 0-1 2 0 0-3 1 0 0 2 1-1 2 1 1-2 2 0-1 4 2 1zM317 293l-2-1 1-1-1-3 2 1 1-3 1 2 0 4-1 0-1-2zM287 288l-2-1 2 0zM327 293l-3-1 3 0zM331 297l-2-2 2 0zM334 301l-2-1 1-3 3 1-2 1zM307 308l-2 0 0-2-2 1 0-3 2 0-2-1 0-2 2 1 0-3 2 1 0 2 3 0-1 2-2 0zM294 304l-4-1 0-2 2 0zM341 304l-3 0-2-3 2 0 1 2 2 0zM350 350l-15 0 0-1-4 0 0-1-6-1-1-3-2 0 0-2-3 0 1-3-1-1-7 0 5-2 0-1-8-2 0-2 2 1 8 0 1-2-1-4 2-1 2 2 1-2 1 4 2 0 2-3 0 3 3-1 0 2 2-1 0 2 2 0 2 3 4 0-1-6-2 0 2-1-1-4 2 0 0-2-2-2 4 0-2-4 2-1 0-3-4-5 1-2 3 3 0 2 4 4 2 0zM292 314l-2 0 0-3-2-1 5-2 1 1-1 1 1 2-2 0zM313 313l-2-1 0-2 2 1zM317 319l-3-3 3 0 1 1zM296 322l-2-2 0-2 2 1zM320 325l-2-1-1-5 2 1zM303 328l-2-1 2 0zM306 331l-5 0-3-2 4 0 2 1 1-1zM309 331l-2-1 2 0zM343 338l-2-3 0 2zM317 345l-2-1 2-2 2 0zM331 350l-2-1 2 0z"/><path fill="#13ffec" d="M83 10l-1 0 0-7 2-2 0-2 5 0 0 2-2 0 1 3-4-2-1 2 1 4zM222 96l-1 0 0-7-2 0 2-1 0-2-1-1-3 1 0-3-1 0 0-5 3-4 0-4 1 0 0-12-2 1 1-3-3-3 3-3 2 0 0-2 1 3 1-1 1 1 4-1 5-8 1 1 2 0 0-2-4 1 0-2 2 0 0-5-1-2-3 0-2-3 2 0 1 2 2 0 0-2-2-1 0-2 2 0 0 2 2 2 2-3-1 0 0-5-4-4-1 2-1-2-2 0-2 1 1 1-1 2 5 4-2 0-1-1-1 1 1 3-2 0-1-3-2 2-2-1 1 3-1 2-1 0-1-3 0 3-2 0 1-4-1-2-2 2 1 2-2 0 0-2-5 1 1-2 3-1 0-2-3-1-3 2 0-2 1-1-1-1-3 0-1 1 0 7 1 0 1-4 2 0 1 6-3 0-1 2 1 4-1 2 1 0 1-2 0 3 2 3 6 1 2-3 0-5 1 0 1 1 0 3-1 0 1 9-1 1-4 0 0-2-3 0 1-2-1-1-5-2 1-2-1 1-3-1 0-2 1-1-1-1 1-1-1 0 0-7-2-1 0-4 2-4 4-2 0-3 5 0 1-1 1 2-3 0 0 1 3 0 1-1-3-3 1-2-1-1-2 0 0 3-1 0 0-4 2-1-5-5 0-5 4 0 0 3 2 4 5 0 1-1 1-6 2 0 0 6-1 2 2 1-2 0 0 2 2 0 0-2 1 0 0 4 1 0-1 2 4-2 0-2-2 0 0-1 4 1 2-4 0-3 1 0 0-4 4 0 0 6-1 0-1 7-1 1 1 0 0 3 5 5 1 9-2 0 0 6-1 0 1 8-3 4-3 1-1 3-2 0-4 4 0 14 1 0 0 5 2 2 0 8-3 3 0 6-2-1 1 2zM91 2l-2-1 2 0zM95 7l-3-3 3 0zM221 14l-1-3 0 3zM211 15l-2-1 2 0zM209 19l0-2-2 0 0 2zM229 23l-2-1 3-1zM84 30l-2-5 2 0 1-2 3 0-2 3 0 3zM219 26l0-3-3 1 1 2zM88 30l-2-1 2 0zM206 31l-1-2 0 2zM218 37l-1-3 2 0zM96 38l-1-3 2 0zM100 46l-2-3-2 0 3-3 0-2 1 2 3-1 0 1 3 0-3 2 1 3-4 0zM86 42l-2-1 0-2 2 1zM113 44l-2 0 0-3 2 0-1 1zM109 68l-2 0 0-2-2 1 0-1-9-1 1-2-3-1-3-8-4 3 0-2 3-3 0-4-2-2-3 0 0-2 4 2 2 0 0-3 1 1 4-1 2 1 1 2-1 1 0 5 2 1-5 0 0 7 2 0 2 2-1 2 7 1 3-2 1 1-1 1zM111 54l-2 0-1-2 2-1 0-2 3 3zM102 54l-2-1 2 0zM115 57l-3 0 0-2 2 1 1-1zM86 61l-1-2 2-2 1 2zM218 60l-2-1 2 0zM84 73l-2 0 1-1-1-3 4 0-1 2 3 0-4 1zM223 75l1-4-2 1 0 3zM223 85l2-1 0-4-1-1-1 1-1-1-1 1-3-1 0 3 1 1 2-1 0 2zM78 96l-1-2 2-2 1 2zM213 99l-4-1 2-1-2-4 2-1 3 1 1-1 0 2-4 0 2 3zM236 96l-6-3 5 0zM238 100l-2-1 1-4 1 0zM235 103l-2-3 1-3 2 2zM224 106l-2 0 0-3-2 2-1-2 1-2-1-2 2-1 1 1 2-1 0 2 4-1-2 3-2 0-1 2zM211 109l-3-4 2-1 0-3-1 2-1 0 0-3 1-1 2 0 0 5 1-4 1 0 0 5-2 0zM79 107l-2 0 1-4 5-2 1 2-1 1-2-1 0 3zM238 109l-3-4 1-3 2 2zM77 109l-2 0 1-2zM222 113l-1-2 1-1-1-1 2-2 0 5zM226 138l-2-2 1-2-1-6 3-1 0-3-2 0-1 2-1-1-4 0-3-3 1-3-2 0 1-2-3-2 0-2 3 3 4 0 0-2 2 0 3 6 0 3 2 0 2-2 0-2 2 1 3-2 1-2 0-7 2 0 1 1 0 3-2-1 1 3-1 0-1 6 3 2 0 2-2 1-2-1-1 3-2-1 0 2 5 4-3 0 0 2-2 1 0-2-2 0 1-6-2-1 0 5-1 0 1 1 0 4zM212 114l-2-1 0-2 3-1zM74 122l-2-1 1-2zM216 124l-2-2 2 0zM218 133l-4-1-1-2-3 0 3-1 1-3 2 1 1-3 1 2 2 0 0 3zM241 126l-2 0 0-2zM242 128l-1-2 2 0zM74 136l-2-3 2-3 3-1 0 3-3 2zM245 131l-2 0 0-2zM209 132l-1-2 2 0zM221 138l-3-1 1-2-2 0 4-2-1-1 0-2 3 3 0 3zM207 138l-1 0 0-4 2 1zM239 137l-2-3 3 1zM242 135l-2-1 2 0zM235 137l-2 0 0-2zM211 140l-2-3 3-1 0 3zM238 139l-2-1 2 0zM215 140l-3-1 3 0zM210 149l-2-1 1-1-1-6 2 0-1 2 1 0 0 4 1 1zM243 143l-2-2 2 0zM243 147l-2-1 3-3 0 3zM242 153l-2 0 1-4 4 0 0 2-2-1 1 2zM213 153l-3-1 4-1zM76 172l-2 0 0-3 1 0 0-6-1-1 2-3-2-2 3 0 0-2 5 0 1 2 1-1-1-2 2-2 3 0 0 1 2-1 1 1-1 4-6 1 0 3-2 1 0 4-1-1-4 0-1 5-1 0zM100 156l-1-2 2 0zM220 156l-4 0-1-2 3 0 2 1zM233 167l-2 0 0-2-2 2 0-3-2 0-1-4-3 0 0-2-3-2 3 0 0-2 3 0-1 2 2 0 0 2 4 0 2 2 3 0 0 1-3 1zM102 157l-2-1 2 0zM239 159l-2 0 0-2 3-1 0 2zM74 164l-2-1 2 0zM71 167l-1-2 2-1 0 2zM227 165l-2-1 2 0zM101 168l-3 0-2-2 2-1 2 1 1-1zM236 174l-4-1 1-1-1-4 1-1 3 5zM61 177l-1-3 2-1 0 3zM80 180l-4 0-1-2 0-5 1 4 2 2 2 0zM236 189l-2 0 1-2-2 1-1-1 2-1 0-3 1 0 0-2-1 2-1 0 0-4 2 1-1-1 0-5 2 2 0 3 2 0-2 1 0 4 3-2 1 2-1 4-2-1zM100 180l-2 0 1-3zM81 183l-2-1 2 0zM96 185l-1-2 2-1 0 2zM56 187l-1-3 1-1 4 0-4 2zM83 184l-2-1 2 0zM91 189l-3-3 4 0zM241 203l-1 0 0-5-2 0 0-3-4-1 2-1 0-4 1 4 1 1 3 0-1 3 1 0 1 5zM242 194l-1-3 2 0zM44 200l-4-1 3-1zM255 205l-2 0 0-2 3-1 1-2 0 4zM234 205l-3-1 2-1zM231 206l-2-1 2 0zM243 208l-2-1 2 0zM230 212l-1-2 4-1 0 2-3 0zM245 213l-4-1 0-3 4 1zM30 213l-3-2 3-1 1 1zM232 214l-2-2 2 0zM264 237l-8-1-4-4-2 2-2 0-2-2-1-4-4-2 5 1 2-3 1 2 5 2 1 2 0-4 1-1 2 1 0-2 2 0 1-2 0 4 6 0 0 1-5 0-1 1 1 2-3 2 5 2zM26 234l-1-2-2 0 0-2-4 1-1 3-1-3-5 1 3-4-3-1 5 0 0-3-1-1 2 0 0 2 2 1 2-1 1 3 2-1 3 3 0 3-2-1zM241 226l-4-1 2-1 2 1zM247 245l-2-8 2-2 3 0 1 2 3-1 0 3 6-1 0 4-2 0-2-2-1 4-2 0-2-3 2-2-2-1 0 2-4 2zM5 253l-2-2 2 0zM21 259l-2-1 1-2-2-1 0-2 4 0 2 1 1-2 0 5-2 0-1-1zM248 255l-2 0 0-3 2 1zM275 264l-5 0-1-2-4 1-2-2 2-1-1-1 1-3 1 0 0 3 3 0 0 1 2-1 2 1 1-1 1 1-1 1zM10 262l-1-2 5 0-4 1zM270 265l-2 0 0-2zM280 268l-2-1 2 0zM288 284l-3-1 1-2-2 0 1-3 2 2 1-2 1 0 1 4-2 0zM286 286l-2 0 0-3zM296 291l-3 0-3-2 2-2 2 2 1-2 1 1-1 1zM319 292l-1-2-1 2-2 0 1-1-1-1 0-2 1 1 1-1 2 0zM334 300l-2 0 1-3 3 1zM306 308l-1-2-2 0 0-2 2 0-2-1 0-2 2 1 0-3 2 3 3 0-1 2-2 0 0 3zM343 308l-2 0-1-2 1-2 2 2zM346 312l-2 0-1-4 2 1zM292 313l-2 0 0-2-2 0 1-2 4 0 1 3zM350 350l-14 0 0-1-7-1-3-3-4-1 1-2-1-1-3 1 2-4-2 0-2-4-4-1 1-1 1 1 6 0 0-4 3 0 0-1 1 2 3 0 0-1 3 1 1-2 0 3 2-1 5 5 3-1 0-2-1-1 1-2-2-2 2-1-2-1 2-1-2-1 3 0 0-2-2 0 0-2 1 1 3 0 0-3 1 0-1-4 2-1 0 2 3 2zM313 333l-3 0-1-2 2 0 2 1zM343 338l-2-3 0 2zM343 343l4-3-3 0-2 2z"/><path fill="#7bff84" d="M209 5l-3-1 1-5 1 0 0 3-1 1 2 0zM233 7l-2-2 2 0zM221 30l-3-2 1-1 0-4-3 1-2-2 0 2-2 0-3-3-3 0 2-2 2 1 1-2 3 0 1 3 3-3-5-2-1-2 1-1-1-4 6 1 2 2 0 2 2 0-1 2 2-2 3 0 4-3-1 5 5 2-2 1-2-1-1 1-1-1-1 2-3 0 0 2 2-1 0 2 3 3-3 0 0 1-3-1-1 1-1-2zM237 21l-2-1 2 0zM215 29l-2-1 0-3 3-1 1 3zM85 27l-1-2 2 0zM238 28l-2 0 1-2zM238 30l-2-1 2 0zM237 42l-3-3 3 1zM101 45l-2 0-2-2 0-2 3-1 2 1-1 2 2 1zM233 45l-1-2 1-1 3 1zM94 54l-1-4-1 0 1-2-2-2 2 0 0-2 5 0 0 5-1 2-2-1-1 1zM217 51l-2 0-2-3 2-1 0-3 3 3 0 3zM213 47l-2-1 2 0zM111 54l-2-1 1-4 2 2zM222 59l-1-3-4-3 2-3 6 2-4 2 1 1zM222 79l-2 0 0-2-2 0 2-1 1-3 1 2 2 0 0 2-2 0zM223 89l-3-4-2 0 0-2 2 1 0-2 1 0 0 3 2 0zM235 100l-2 0 1-3zM224 104l-2-2-1 2-1 0 0-5 1-1 3 1zM81 106l-2-1 0-2 3-2 2 2-3 0zM224 126l-1-1-4 0-1-1-1-2 1-2-1-1 1-1 3-1 4 4 0 4zM230 128l-4-4 1-2 6-1 0 2 4 0-3 1zM218 133l-4-1 2-1 0-1-3 0 0-2 2 1 0-2 2 0 0-2 3 3zM234 133l-1-1-4 1 0-3 2-1 1 2 2 0zM222 136l-3 0 0-3 2 0-1-1 0-2 3 3zM227 137l-3-1 1-3 2 0 1 2zM81 164l-1-2-3 1 1-7 4-1 1 2 1-1-1-2 1-1 5 1-1 4-4 0-1 1 1 2-2 0zM230 166l-1-3-2-1 1-2-4 0-1-3 1-1 7 4 0 4zM101 168l-3 0-1-2 2-1zM80 180l-4 0 0-2 2 0 2 1zM237 188l-3-1 2-1-2-2 4-1 1 1 0 3zM91 188l-3-2 4 0zM239 196l-4-3 4 1zM255 205l-2 0 0-2 3 0zM256 235l-2 0-2-3-2 2-2 0-1-1-1-5 3-1 6 3 0-4 3 1 2-2 1 5-2 3-3 0zM18 233l-1 0 1-2-1-3 1-2 8 2 0 3-3 0-2-2 0 2-2 0zM262 237l-3-1 0-3 2 0 2 2zM254 243l-2-1 1-3-1-1-1 2-5 0 0-4 4-1 1 2 3-1 0 3 6 0-1 2-3-1zM25 257l-2-1-3 1-1-4 5 1 1-1zM273 263l-4 0 0-1-2 1-2-2 0-4 1 0 0 3 2-1 0 1 5 1zM290 282l-3-1 1-2zM288 284l-2-2 2 0zM317 291l-2-2 3-1 0 2zM334 300l-2 0 0-2 3 0zM305 303l-2 0 0-2zM307 302l-2-1 2 0zM307 307l-2 0-2-3 4 0zM350 350l-13 0 0-3-1 2-3 0 0-1-3 0-4-2-3-6 1-2-2 0-1-3 3 0 0-3 1-1 3 1 0-3 1 3 2 0 1-3 0 3 4 0 6 6 4 0 0-1-3 0 0-3-2-2 1-1-1-4 3 0-1-1 0-2 2 0-1-2 2 0 0-3 1-1 2 0 1 1zM343 343l4-3-3 0-2 2z"/><path fill="#e5ff1a" d="M221 28l-2 0 0-5-3 1-2-2-1 2-3-2 0-2 2-2 2 0 1 3 3-3-5-2 1-1 0-4 1 1 2-1 1 2 2-1 1 4-2 1 0 2 1 1 2-5 5 0 1 1 0 2-2 2-2 0 0 2 3 3-2 1-4-1zM216 27l-2 0 0-3 2 0zM100 45l-3-3 4 0zM96 49l-3 0 1-1-1-3 1-1 4 0 0 3zM217 51l-2-1 1-3 2 1zM112 53l-3 0 1-4zM220 54l-2-1 1-3 1 2 2 0zM222 77l-3 0 2-3zM222 101l-2 0 1-2zM224 126l-1-1-4 0-1-1 1-1-1-2 1-2 1 1 2-1 3 2 0 4zM230 128l-3-2 0-3 1-1 7 1-3 1 0 2zM219 131l-3 0-3-2 3 0 1-2 2 0 1 1zM231 133l-2 0 0-2 3 0zM87 157l-2 0-2-2 1-2 4 1zM81 163l-2-2 0-4 1-1 2 1 2-1 0 2-1 2-2 0zM227 160l-3-1 1-2zM230 162l-3 0 1-3 2 1zM237 188l-2 0-1-2 3 0 1-3 0 4zM21 231l-3-3 1-1 4 0zM256 235l-2 0-1-3 3-1-1-2 2-2 2 0 1 1 0 3-1 2-3 0zM26 231l-3 0 1-3zM251 233l-3 0-1-1 0-3 1-1 4 0 1 1 0 2zM261 237l-2-1 0-3 3 1zM250 240l-3-1 1-3 3 0zM255 242l-3-1 1-2-2-2 1-1 2 0 0 3 6 0-1 2-3-1zM22 257l-3-2 0-2 3 0zM271 263l-5-1 0-2 5 0 1 1zM350 350l-5 0-6-7-3 6-8-2 1-2-3-1 0-3-2-3 0-2 5-2 0-2 1 1 1-1 1 1 3-1 1 2 4 1 2 3 4 0 0-1-3 0 0-9 1 0 0-3 3-1 0-3 1-1 2 2zM343 343l4-3-3 0-2 2z"/><path fill="#ffb800" d="M219 18l-2-2-3 0 1-1-1-3 3-1 0 2 2 0 0 2 2 0zM224 21l-4 0 1-1 0-4 2-1 4 0-1 2 1 2zM213 22l-2 0 0-2 3-1 0 2zM220 28l-1 0 0-6 5 1 1-1 0 3-4 0zM216 27l-2 0 0-3 2 0zM100 45l-3-3 3 0zM97 48l-3 0-1-1 2-3 3 0zM217 51l-2-1 0-2 2 0zM224 126l-2-2-3 0 2-1-1-2 1-1 2 0 2 2 0 3zM219 131l-3-1 2-1-1-2 3 1zM223 135l-3 0 1-1-1-4 3 3zM227 136l-3-1 1-2 2 0zM87 156l-3 0 0-3zM81 162l-1 0 0-6 2 0 1 1 1-1-1 4-2 0zM21 231l-2-1 0-2 1-1 3 0zM25 231l-2 0 1-3zM256 235l-2 0-1-3 3-1-1-2 1-1 3 0 1 1-2 1 1 3-3 0zM251 233l-3 0 0-4 5 0 0 2zM261 237l-2-1 1-2 2 1zM269 262l-2-2 2 0zM271 263l-2 0 1-3zM349 337l-6 0 0-6 2 0-1-3 2-4 2 1 0-2 2 0 0 13zM336 349l-3 0-2-3-2 0 1-2-2 0-1-2 0-4-1-1 1-2 3 0 1-2 1 1 4 0 0 1 2-1 1 2 2 0-3 5 0 4zM350 350l-5 0-5-6 7-4 3 0z"/><path fill="#ff5000" d="M218 16l-4 0 2-4 3 1zM225 20l-4-1 0-3 2 1 2-1zM214 21l-3-1 3-1zM220 28l-1-3 2 0 0 2zM98 46l-2 0-1-2 3 0zM224 126l-2-1-2-4 3 0 0 2 2 0zM230 128l-3-2 0-3 4 0zM83 160l-3-1 0-2 4-1zM252 232l-3-3 3 0zM256 235l-2 0-1-3 3-1-1-2 2 0zM250 239l-2 0 1-1-1-2 3 0zM350 334l-7 0 6-1-6-1 2-1-1-1 0-2 4 0 0-3 2 0zM333 347l-4-1 2-3-3 0 1-2-2-4 3-2 1 1 1-1 2 1 4-1 0 2 3-1-3 7-2-1 0 2zM350 336l-7 0 0-1 7 0z"/><path fill="#f00" d="M220 27l-2 0 0-2-1 1-2 0 1-4-3 1-1-1 0-2 1-1 4 1-2-2 0-3 1-1 3 0 1 3 4-1 1 1 0 2-2 1 1 5-2 0-1-1zM99 45l-2 0 0-2 2 0zM97 47l-2 0 0-2 2 0zM227 134l-3 0 0-1-1 1-3 0 0-2 2-2-4 1-1-1 0-2 1-1 3 0-1-1 0-4 4 0 1 3 1-1 4 0 0 3-3 1 0 1 3 0 0 3-3 0-1-1zM83 159l-2 0 0-3 2 0 0-1 3 0 0 2-3 0zM255 241l-2 0 0-3-1 1-3 0 0-4 2 0-2-1 0-4 4 0 2 2 1-3 3 0 0 3-1 0 0 2 2 0 0 3-2 0 1 1 0 2-3 0-1-2zM24 255l-4 0 0-3 3 0 1 1zM308 306l-3 0-1-1 0-2 4 0zM350 350l-12 0 0-1-5-1-1-2-2 0-1-1 0-8 6-2 0 1 4 0 0 1 2 0 4 4-1-11 2-1 0-2 3 0 1-1z"/><g class="r" transform="translate(0 .5)"><path stroke="#06f" d="M87 160h1m0 1h1m-68 50h1"/><path stroke="#09f" d="M95 145h1m-9 1h1m7 0h2m-10 1h1m8 0h1m-15 2h1m7 11h1m2 0h1m-1 1h2m-3 8h1m-70 50h2m7 1h1m-10 1h2m-2 1h1m-1 1h1m19 4h1m-9 4h1m-2 1h1m-2 1h1m-14 1h1m3 4h1m-8 1h1m7 0h1m2 16h1m244 0h1m-246 1h1m231 9h2m-1 1h1m6 4h2m40 28h1m-3 1h1m2 0h1m-3 1h1m1 0h1m-12 5h1m-2 1h1m-1 1h1m36 4h1m-2 1h2m-3 1h1m-2 2h1m-1 2h1m-7 1h1m6 0h1m-9 1h2m7 0h1m-1 1h1m-6 2h1m0 1h2m-13 23h1m-1 1h1m-2 1h1m1 0h1"/><path stroke="#0cf" d="M107 48h1m-19 57h1m0 3h1m-9 5h1m-1 1h2m-13 11h2m-2 1h2m-3 11h1m-1 1h2m-1 1h1m14 0h1m8 1h1m128 0h4m-134 1h1m-1 1h1m-23 2h1m2 0h1m-4 1h1m2 0h1m-8 1h1m3 0h1m3 0h1m10 0h1m8 0h1m-21 1h1m1 1h1m-1 1h1m-1 1h2m148 3h1m3 1h1m-3 1h1m2 0h1m-131 2h1m113 3h1m-124 1h1m7 1h1m115 0h1m2 0h1m-4 1h1m1 0h1m-132 5h1m-1 1h1m12 2h1m-1 1h1m0 2h1m-17 9h1m1 0h1m-2 1h2m5 3h1m-46 1h1m43 0h1m-45 1h2m-17 13h3m-5 2h1m-3 1h1m1 0h1m-4 1h2m216 0h1m-218 1h1m215 0h1m-217 2h2m204 0h2m-1 2h1m-218 2h1m9 0h2m-5 1h1m-12 3h1m-1 1h2m11 8h1m233 4h1m-231 2h1m228 0h1m-20 1h2m-222 3h1m216 2h2m26 0h1m-2 1h1m1 0h1m-245 3h1m-9 3h1m232 1h1m5 0h1m-248 1h2m246 0h1m-248 1h2m237 0h1m-234 1h1m-2 1h1m2 1h2m240 0h2m-235 2h1m233 0h1m-230 1h1m-4 1h1m1 0h1m245 0h1m-251 1h1m1 1h1m-23 1h1m8 0h1m-3 1h2m0 2h2m250 5h1m-2 2h1m4 0h1m-2 2h1m21 13h2m-1 1h2m24 3h1m-14 2h1m15 1h1m-3 2h1m-12 1h3m-3 1h1m10 0h1m-22 3h1m1 0h1m6 1h1m-10 1h2m8 1h1m-19 6h1m-8 1h1m1 0h1m-3 2h1m21 1h1m0 1h1m30 1h1m-7 1h1m-8 5h1m9 0h1m-9 2h1m5 0h1m-39 4h1m-2 1h2m35 0h1m-36 1h1m35 0h1m-27 13h1m-1 1h1m3 6h1"/><path stroke="#13ffec" d="M96 0h1m-5 1h1m-4 5h1m2 1h1m-3 1h2m-8 1h1m-4 4h1m-1 1h1m-1 1h1m-1 5h2m-2 1h1m5 0h1m1 5h1m12 4h1m-20 1h2m13 0h1m-16 1h2m13 0h1m-15 2h1m20 0h2m-22 1h1m0 1h1m-5 3h1m-1 1h1m24 0h3m-27 2h1m19 4h1m115 0h1m-108 1h1m-14 1h2m0 1h1m107 3h1m2 0h2m-1 3h1m-1 1h1m-102 2h1m99 0h1m-102 1h2m-2 1h1m102 0h1m-105 2h1m-28 1h1m26 0h1m-28 1h2m25 0h1m-1 1h1m-29 1h2m-2 1h1m20 0h1m-18 6h1m-6 2h1m-3 4h1m-1 1h1m-1 1h1m-1 1h1m1 1h1m-3 1h1m-1 1h1m3 0h1m-2 1h1m-5 1h1m-2 1h1m5 9h2m0 1h1m131 3h1m-133 2h1m-3 2h1m1 1h1m-4 1h1m1 0h2m-2 2h1m4 1h1m-4 2h2m140 5h1m-17 3h1m-1 1h1m-141 4h1m138 0h1m-141 1h1m139 0h1m-138 1h3m-6 2h1m162 0h1m-157 1h1m-8 1h1m7 0h1m163 1h2m-167 1h2m-2 1h1m161 3h1m-14 1h1m13 0h1m-171 1h1m23 1h1m-4 1h1m131 2h1m-150 1h1m-1 1h1m148 0h1m-155 2h1m5 0h1m10 2h1m124 0h1m11 0h1m-155 1h1m7 0h1m5 0h1m2 0h1m136 0h1m-157 1h1m155 0h1m-156 2h1m22 0h4m-27 1h1m149 4h2m-119 1h1m-18 1h1m16 0h1m-16 3h1m130 0h1m-151 3h1m33 0h1m120 0h1m-157 1h1m-2 1h1m18 0h1m1 0h1m7 0h2m3 1h1m-36 1h1m30 0h2m1 0h2m-36 1h1m1 0h1m-2 1h1m30 2h1m1 0h1m-42 2h1m42 0h2m-47 4h1m35 2h1m-2 1h1m1 2h1m-10 2h2m9 0h1m144 0h1m-191 1h1m4 0h1m185 0h1m-191 1h1m5 0h3m182 0h1m-196 2h1m-3 1h1m1 0h1m188 5h1m13 2h2m-3 1h1m-208 1h1m-8 1h2m4 0h1m207 0h1m-204 1h1m-4 1h2m-14 1h1m10 0h1m-13 1h1m198 1h1m4 0h1m-207 1h1m198 0h1m6 0h1m23 1h1m0 2h1m-27 1h1m25 0h2m-230 1h1m210 0h1m-14 1h1m13 0h1m14 0h2m-243 1h1m2 0h1m3 0h1m209 0h1m10 0h1m13 0h2m-242 1h2m0 1h1m238 0h1m-243 1h1m241 0h1m-237 1h1m208 0h1m26 0h1m-244 1h1m216 0h1m-218 1h1m216 0h1m21 0h1m-23 1h1m11 0h1m2 0h1m7 0h1m-235 1h1m11 0h1m-2 1h1m7 0h2m-9 1h1m-10 1h1m241 0h1m-261 1h1m1 0h1m259 0h1m-268 1h1m1 0h1m264 0h1m-271 1h1m3 0h1m1 0h1m31 0h1m-1 1h1m201 0h1m31 1h1m-253 1h2m219 0h1m-231 1h1m10 0h1m247 1h1m-261 1h1m7 0h1m225 0h1m25 0h1m-262 1h1m259 0h1m1 0h1m1 1h1m-8 1h1m8 0h1m-267 2h1m0 1h1m10 0h1m6 0h1m247 0h1m-257 1h2m6 0h1m212 0h1m7 0h1m-240 1h1m229 0h2m8 0h1m5 0h1m20 0h1m1 0h1m-251 1h2m0 1h1m208 1h1m39 0h1m-275 1h1m3 0h2m265 0h2m-268 1h1m23 0h1m204 0h1m5 0h1m31 0h1m-244 1h1m205 0h2m2 0h2m-238 1h1m6 0h1m224 0h1m6 0h1m29 3h1m-246 1h1m229 1h1m-16 1h1m14 0h1m-260 1h1m1 0h1m242 0h1m18 0h1m-263 1h1m20 0h1m224 0h1m-249 1h2m242 0h1m2 1h2m-3 1h1m6 0h1m1 0h1m0 4h1m4 1h1m14 3h2m-2 2h2m0 2h1m-1 1h2m2 1h1m-5 1h1m4 0h1m-6 1h1m6 7h1m20 2h2m-26 1h1m22 0h2m-24 1h1m23 5h2m14 0h1m-17 1h1m17 1h1m-29 4h1m-12 2h1m45 0h1m-47 1h3m44 0h1m-38 3h1m7 0h1m-14 1h1m12 0h1m-7 3h1m7 0h1m-3 1h1m2 1h2m-18 4h2m17 1h2m-26 1h1m25 0h1m-25 1h1m31 2h1m-30 1h1m0 1h1m39 0h1m-6 1h1m6 0h1m-40 1h1m38 4h1m-41 1h1m3 1h1m1 0h2m6 7h3m-4 1h1m-4 2h1m6 4h2m-1 2h1m3 1h1m8 2h2"/><path stroke="#7bff84" d="M84 0h2m132 0h1m-1 1h1m-133 1h1m8 0h2m-10 1h1m130 0h1m-126 1h1m123 1h1m-1 1h1m-135 1h1m-2 1h1m139 4h1m-14 2h1m-129 1h1m0 5h1m119 2h2m32 0h1m-35 1h1m5 0h1m-128 1h1m119 1h2m4 0h1m-2 1h1m-109 3h1m107 0h1m25 0h1m-5 1h1m-22 1h1m7 1h1m18 0h1m-19 1h1m-14 1h1m13 0h1m-15 1h1m-118 1h1m148 0h1m-33 1h2m-3 1h1m13 0h2m-116 1h1m113 0h2m-134 1h2m18 0h2m2 0h1m2 1h1m90 0h1m13 0h1m-106 1h1m104 0h1m-131 3h1m121 0h2m-110 3h1m127 1h2m-123 3h1m-7 1h1m1 0h1m-17 2h1m26 0h1m100 0h1m-104 1h1m1 0h1m-21 1h1m-9 1h1m7 0h1m17 0h1m-27 1h1m7 0h1m16 0h1m-27 1h1m135 1h1m-125 1h2m123 0h1m0 1h1m-119 1h1m117 0h1m-119 1h2m0 1h1m114 0h1m-2 2h1m-138 1h1m136 0h2m-140 1h2m-2 1h1m137 0h1m2 2h1m-8 6h1m6 0h2m-147 1h1m146 2h1m-2 1h1m-147 1h1m142 6h1m-1 1h1m-145 1h1m143 0h1m-145 1h1m152 0h1m-24 1h1m13 0h1m7 1h1m6 1h1m-155 1h2m124 0h1m6 1h1m19 0h1m-158 1h1m137 0h1m8 0h1m10 0h1m0 1h1m-31 1h1m16 0h1m-16 2h1m-1 2h1m11 0h2m13 0h1m-28 2h1m-125 2h2m-14 1h1m12 0h1m134 0h1m-149 1h1m137 0h1m9 0h1m-136 1h1m-14 1h1m156 3h1m-160 1h1m-1 3h2m139 4h1m-3 1h1m-141 1h1m2 1h2m156 0h1m-22 2h1m31 0h1m-169 1h1m132 0h1m35 0h1m-172 1h2m-2 1h1m133 0h1m35 0h1m-8 1h1m-166 1h1m172 0h1m-171 2h1m131 0h1m-137 1h1m135 0h1m9 1h1m24 0h1m-28 1h1m-127 1h1m136 0h1m-138 1h1m121 1h1m-3 1h2m-138 1h1m151 3h2m-2 3h1m-13 1h1m28 0h1m-30 1h1m1 0h1m27 1h1m-26 1h1m-2 1h3m-130 1h1m149 0h1m-2 1h1m-2 1h1m-4 2h2m-12 3h1m-130 1h1m127 4h1m-124 1h1m125 0h1m6 0h1m-169 1h1m167 1h2m-2 1h1m-173 1h1m13 0h1m-1 3h1m158 1h2m-179 1h2m39 1h1m-23 2h1m2 1h1m153 0h1m-178 1h3m-3 1h1m32 0h1m-37 1h1m178 1h1m-173 1h1m180 1h1m-191 1h1m180 0h1m-1 1h1m0 2h1m6 2h1m-1 4h1m8 2h1m4 0h1m-212 4h1m-13 1h1m210 2h1m1 0h1m-16 4h1m12 0h1m16 0h1m-29 1h1m12 0h1m14 0h1m-17 2h1m14 0h1m-27 1h1m-3 1h1m14 2h2m-14 1h1m12 0h1m-1 1h1m-13 2h1m-218 1h1m17 0h1m-19 1h1m16 0h1m204 1h2m25 1h1m-253 1h1m-10 1h1m9 1h1m9 3h1m2 1h1m241 2h1m0 1h1m-263 2h2m-1 3h1m229 2h1m20 1h1m-231 1h1m226 2h1m-19 1h1m5 0h1m-6 1h1m4 0h1m-244 2h1m16 0h1m225 1h1m-1 1h1m0 1h1m0 2h1m-238 4h3m-5 1h1m266 4h1m0 1h1m4 10h1m11 11h1m19 0h1m-24 1h1m-1 1h3m1 1h1m38 11h1m-27 1h1m28 0h1m-30 1h1m32 2h1m-53 4h1m-1 1h2m21 1h1m-23 1h1m45 0h1m9 1h1m-1 1h1m0 2h1m-15 1h1m7 3h1m-47 1h1m22 0h1m-22 3h1m-1 1h1m39 0h1m-2 3h1m-23 5h3m1 9h1m11 7h1"/><path stroke="#e5ff1a" d="M207 3h1m0 1h1m24 0h1m-2 1h1m-151 3h1m133 0h1m-5 5h1m15 0h1m3 5h1m-6 4h1m-144 3h2m120 1h1m-124 1h1m-1 1h1m116 0h1m13 0h1m-12 3h1m0 1h1m26 0h1m-29 2h1m-100 2h1m111 5h1m-12 2h1m28 0h2m-5 4h1m-11 9h1m-128 2h1m17 0h1m108 0h1m-112 4h1m111 0h1m-113 1h1m112 1h1m-123 1h3m3 1h1m-24 4h1m135 8h2m2 7h1m-3 3h1m-1 3h1m-145 1h1m143 0h1m-13 2h1m-135 5h1m4 2h1m130 0h1m-133 1h3m153 0h1m-158 2h2m-2 4h1m142 0h1m12 1h1m-14 1h1m12 3h1m-161 2h1m139 0h1m11 4h1m-156 1h1m2 10h1m-3 1h2m4 0h1m-2 3h1m156 3h1m-148 4h1m-17 1h1m137 0h1m-3 5h1m15 0h1m-16 1h1m34 1h1m-33 2h1m-114 4h1m127 0h1m-128 1h2m136 1h1m-2 1h1m-161 4h1m-6 1h1m-2 1h1m4 0h1m-6 1h1m26 0h1m130 0h1m-133 1h2m-1 1h1m-3 3h1m-23 1h1m158 0h2m0 2h1m-2 1h1m-158 4h1m-2 1h2m-22 4h3m36 1h1m-41 2h1m176 4h1m2 3h1m2 1h1m-1 1h1m-197 4h2m211 4h1m-3 1h2m4 2h1m-4 2h1m-26 1h1m-1 1h1m-203 1h1m229 1h1m0 3h1m-244 9h1m16 0h1m8 0h1m-31 6h1m3 1h2m244 3h1m-255 4h1m10 4h2m224 1h1m-224 1h1m222 0h1m13 3h1m-256 3h1m18 3h1m240 5h1m16 16h1m1 2h1m2 0h1m0 3h1m-1 2h2m3 0h1m-8 1h2m28 7h2m-2 1h1m1 0h1m13 8h2m-1 1h1m-31 2h1m1 0h2m-3 1h1m3 1h1m-1 2h1m34 4h1m-55 1h2m53 0h1m-7 2h1m5 4h1m1 3h1m-19 10h1m2 0h1m-4 1h1m2 0h1m-23 1h1m14 1h1m-9 1h1m24 1h1m-31 4h1"/><path stroke="#ffb800" d="M95 2h1m111 1h1m24 2h1m-142 3h1m138 2h1m-23 2h1m26 8h2m-133 9h1m111 4h1m2 0h1m14 6h1m1 2h1m-127 8h1m97 0h1m20 0h1m-139 1h1m18 0h1m107 1h2m-2 1h2m0 2h1m2 21h1m-1 1h1m0 3h1m1 3h1m-7 2h1m0 1h1m-1 1h1m11 12h2m-155 4h2m130 1h1m23 8h1m-2 4h1m-7 4h1m11 7h1m-13 5h3m-3 1h1m8 3h2m-19 4h1m-136 4h1m-12 1h1m166 5h1m-171 6h1m26 0h1m-22 1h1m145 0h1m5 2h1m-3 1h1m-1 1h1m6 0h1m-9 1h1m-153 5h1m21 0h2m-1 1h1m1 0h1m-5 1h1m136 3h1m1 2h1m-2 4h1m-1 3h2m-178 3h1m178 1h1m-3 2h2m-2 1h2m1 8h1m-6 9h1m10 6h1m25 18h1m-233 1h1m-21 2h1m2 1h1m235 7h1m-6 1h2m3 0h1m-230 1h1m-8 1h1m-12 5h2m265 0h2m-257 4h1m255 0h1m-257 1h1m224 2h1m-227 2h1m-16 2h1m269 7h1m18 18h1m-3 6h1m22 0h2m-2 1h1m24 17h2m-51 2h1m-1 1h1m55 10h1m-1 1h1m-48 6h1m24 5h1m16 6h2"/><path stroke="#ff5000" d="M218 1h1m13 1h1m-146 1h1m138 14h1m-1 1h1m8 2h1m-22 4h2m7 0h2m-11 1h2m15 2h1m-136 8h1m14 7h1m-13 1h1m-1 1h1m-7 2h1m-1 2h1m121 0h2m-1 2h1m2 1h1m-109 1h1m-2 11h1m109 21h1m0 1h1m-140 1h1m128 11h1m-1 1h1m9 1h1m-2 1h2m-2 3h1m-135 6h1m137 5h1m7 7h1m0 2h1m-17 4h2m-1 1h2m-6 1h1m15 2h1m-10 2h1m4 0h1m-6 1h1m4 0h1m-21 3h1m35 5h1m-34 6h1m15 11h2m-125 12h1m132 9h1m-146 6h2m-8 1h1m5 0h1m144 0h1m19 16h1m-223 1h1m209 0h1m6 0h1m-17 3h1m6 2h2m3 10h1m0 7h1m15 0h1m-244 1h1m3 1h1m-1 1h1m234 0h1m0 5h1m-2 1h2m9 0h1m-249 2h1m6 2h1m240 0h1m-16 1h1m3 5h1m-250 2h1m20 0h1m219 13h2m14 0h1m1 2h1m16 20h2m16 20h1m-17 1h1m16 3h1m38 4h1m-51 9h1m2 6h1m33 4h1m-28 1h1m14 4h1m2 1h1m10 13h1"/><path stroke="#f00" d="M93 3h1m-5 4h1m126 2h1m-1 1h1m10 4h1m-8 1h1m4 2h1m-140 3h1m122 2h1m-121 1h1m134 0h1m-140 1h1m125 0h1m11 1h1m-23 2h2m2 1h1m26 0h1m-6 1h1m-21 1h1m22 1h1m-28 2h1m-98 2h1m-15 5h1m111 0h1m-1 1h1m28 2h1m1 0h1m-140 1h1m2 0h1m116 5h2m-109 1h3m106 0h1m9 0h1m-120 1h2m106 0h2m-121 1h1m-6 2h1m125 1h1m-110 1h1m-18 1h1m2 5h1m12 1h1m112 0h1m-117 2h2m2 1h1m-3 1h1m112 8h1m-2 1h3m-2 1h2m-1 12h1m-9 4h1m-5 5h2m22 0h2m-26 1h2m11 0h1m10 0h1m-14 1h3m-3 1h2m-142 1h1m156 0h1m-159 1h1m127 0h1m14 2h1m-14 1h1m11 0h1m-133 1h1m-2 2h1m120 0h1m-129 1h1m3 0h2m123 1h1m9 2h1m-148 1h1m146 7h1m9 1h1m-2 1h1m-12 3h1m-5 4h1m14 0h1m-157 1h1m153 1h1m14 1h1m-19 1h1m-148 1h1m147 0h1m12 0h1m-30 2h1m26 1h1m3 1h1m-33 2h1m16 0h1m15 0h1m-34 2h1m-139 3h1m170 0h1m1 0h1m-150 1h1m144 1h1m-33 2h1m33 0h1m-32 1h1m-130 2h1m12 0h2m3 1h1m116 1h1m-117 1h1m127 0h1m-145 1h1m139 1h2m-135 1h1m133 0h2m7 0h1m-9 1h2m-131 6h1m-2 1h3m-2 1h2m-3 1h1m1 0h1m2 6h1m-1 1h1m-45 2h1m18 1h1m1 0h1m-20 2h1m-4 2h1m177 1h1m-151 1h1m3 0h3m143 0h2m-177 1h1m28 0h2m145 0h2m-1 8h1m-194 1h1m0 2h1m208 6h1m-1 1h1m-21 2h1m-205 1h1m226 0h1m-25 1h1m8 0h2m-2 1h3m-15 1h3m9 0h2m-13 1h2m27 9h1m-25 3h1m28 3h1m-6 1h1m8 0h1m-250 1h2m1 0h1m-4 1h4m9 3h1m239 0h1m-264 2h1m18 1h1m230 0h1m-13 2h1m15 0h1m-13 2h1m22 0h1m-32 1h1m30 0h1m-23 1h1m-224 4h1m230 0h1m-229 1h1m244 1h1m-271 1h1m236 0h1m-234 1h1m236 0h1m28 0h1m-17 2h1m-236 2h1m-7 2h1m1 0h1m253 1h1m-273 2h1m20 0h1m-11 1h1m-5 1h1m239 0h1m14 1h4m8 8h1m6 11h1m1 0h1m-2 1h2m-2 1h2m-4 4h1m0 2h1m5 1h1m24 0h1m6 0h1m-10 1h3m-10 1h2m6 0h1m5 0h1m-11 2h1m13 0h1m-28 2h1m34 1h1m-2 2h1m-3 1h1m4 0h1m-31 3h1m-18 4h1m52 1h1m-43 1h1m-10 1h1m-2 1h3m-2 1h1m23 4h1m-23 1h1m45 3h1m-5 2h1m7 5h1m3 0h1m-48 1h1m20 1h1m-15 4h1m17 1h1m0 1h1m9 1h1m3 1h1m-18 4h1m4 1h1m-6 5h1m6 0h1"/></g></g>
<use href="#qc" transform="matrix(-1 0 0 1 700 0)"/><use href="#qc" transform="matrix(1 0 0 -1 0 700)"/><use href="#qc" transform="matrix(-1 0 0 -1 700 700)"/></svg>
<path class="t" d="M146.9 1253.5v-5.0M146.9 719.2v5.0M70.9 795.2h5.0M605.4 795.2h-5.0M223.2 1253.5v-5.0M223.2 719.2v5.0M70.9 871.5h5.0M605.4 871.5h-5.0M299.5 1253.5v-5.0M299.5 719.2v5.0M70.9 947.8h5.0M605.4 947.8h-5.0M375.8 1253.5v-5.0M375.8 719.2v5.0M70.9 1024.1h5.0M605.4 1024.1h-5.0M452.0 1253.5v-5.0M452.0 719.2v5.0M70.9 1100.3h5.0M605.4 1100.3h-5.0M528.3 1253.5v-5.0M528.3 719.2v5.0M70.9 1176.6h5.0M605.4 1176.6h-5.0M604.6 1253.5v-5.0M604.6 719.2v5.0M70.9 1252.9h5.0M605.4 1252.9h-5.0"/><path class="b2" d="M605.40 719.20V1253.50H70.90"/><path class="b" d="M70.90 1254.00V719.20H605.90"/><g class="xl"><text transform="matrix(.957 0 0 1 147.0 1279.4)">100</text> <text transform="matrix(.957 0 0 1 223.3 1279.4)">200</text> <text transform="matrix(.957 0 0 1 299.6 1279.4)">300</text> <text transform="matrix(.957 0 0 1 375.9 1279.4)">400</text> <text transform="matrix(.957 0 0 1 452.1 1279.4)">500</text> <text transform="matrix(.957 0 0 1 528.4 1279.4)">600</text> <text transform="matrix(.957 0 0 1 604.7 1279.4)">700</text> </g><g class="yl"><text transform="matrix(.957 0 0 1 65.2 803.4)">100</text> <text transform="matrix(.957 0 0 1 65.2 879.7)">200</text> <text transform="matrix(.957 0 0 1 65.2 956.0)">300</text> <text transform="matrix(.957 0 0 1 65.2 1032.3)">400</text> <text transform="matrix(.957 0 0 1 65.2 1108.5)">500</text> <text transform="matrix(.957 0 0 1 65.2 1184.8)">600</text> <text transform="matrix(.957 0 0 1 65.2 1261.1)">700</text> </g>
<g class="c"><text x="73.8" y="1338.4" textLength="42.8" lengthAdjust="spacingAndGlyphs">(<tspan class="k">c</tspan>)</text> <text x="124.4" y="1338.4" textLength="157.5" lengthAdjust="spacingAndGlyphs">Proposed</text> <text x="290.2" y="1338.4" textLength="53.8" lengthAdjust="spacingAndGlyphs">4th</text> <text x="352.3" y="1338.4" textLength="93.2" lengthAdjust="spacingAndGlyphs">order</text> <text x="453.8" y="1338.4" textLength="124.8" lengthAdjust="spacingAndGlyphs">method</text> </g>
<svg x="1161.8" y="719.9" width="533.7" height="533.4" viewBox="0 0 699.607 699.213" preserveAspectRatio="none" shape-rendering="crispEdges"><rect width="700" height="700" fill="#009"/>
<g id="qd"><path fill="#00c" d="M350 350l-118 0-2-4-5 0-2 2 0 2-224 0 0-351 351 0 0 238-3 0-1 1 0 5 2 2 2 0zM291 284l-1-3-2 1 0 2z"/><path fill="#00f" d="M350 350l-63 0 0-4-1 0 0-4-2-2 0-3-6-12-2-1-4-8 0-3-3-6-2-1-1-4-2-1 0-2-15-14-2 0-7-6-4-1-4-4-5-2-2-3-2 0-29-29-2 0-4-4-5-1-2-2-10-1 0-1-16 2-9 5-3 0-3 3-14 7-3 0-6 4-3 0-2 2-3 0-2 2-3 0 0 1-12 3 0 1-12 2 0 1-12 1 0 1-11 0 0 1-18 1 0 1-5 0-3 2-3 0-4 2-1 2-2 0-1 2-2 0-4 5-2 0-3 3 0 2-5 4-2 5-3 1 0-93 2 0 0-2 2-1 3 0 1-2 3 0 0-2 2 0 1-2 4 0 1-1 0-3 4-1 1-3 3-1 0-2 3-2 0-2 2 0-1-2 3-1-1-2 2-1 1-4 3-1 0-4 2-2-1-2 2 0-1-2 2-2-1-2 1-1-1-1 1-1-1-1 0-6 1-1-1 0 1-1-1-1 1-5-2-1 1-2-2-3 0-4-2-1 1-2-2 0-1-2 0-4-2 0-1-6-4-4 0-4-2 0 0-3-2-4-2-1-1-4-3-1 1-2-2 0-2-2 0-2-2 0 0-3-4-1-1-3-4-1-1-2-4-1 0-75 351 0 0 165-11 1 0 1-6 1-6 3-1 2-2 0-3 4-2 0-2 2 0 2-6 6-4 8 0 3-3 5 0 4-3 6 0 4-1 0 0 4-1 0 0 5-1 0 0 16 1 0 0 5 2 3 0 3 3 6 2 1 0 2 7 7 2 0 1 2 4 1 1 2 10 5 3 0 2 2 7 1 0 1 7 0zM250 163l-1-2-2 0 0 2zM120 164l0-2-3 0 0 2zM248 250l-1-2 0 2zM32 251l0-2-2 0zM12 255l-1-3-1 2zM291 284l-1-3-2 1 0 2zM315 297l-1-2 0 2zM298 305l-1-2 0 2zM319 310l3-2 0-3-3 0 0 2-2 1 0 2z"/><path fill="#03f" d="M350 350l-20 0 0-1-1 1-10 0 0-1-2 0 2-2 0-2-2 0 1 2-4 0 0-1-4 0-2-4-6 0-1-3 3-1-2-1 1-4-3-1-5-6-2 0 0-2-3-1-3-4 0-7 1-1-2 1-3-3 0-6 2-2-1-13-2-4-2-1 0-2-3-2-1-5-7-4 2-1 0-4-5 4-3 0-2-1 0-2 4 0 1 1 2-3-1 1-2 0 1-2-2 2-4-1-1 2-10-1-2-2-6-1-3-3 0-7-1 0 0-5-1 0 0-9 1 0 0-10 1 0 0-3 1 0 0-3 3-6-1-9-2-4-2-1-1-4-2-1-14-32-26-32-9-18 0-3-5-10-4-4 0-2-9-8-8-2 0-1-14 0 0 1-4 0 0 1-3 0 0 1-3 0-6 3-4 0 0 1-3 0 0 1-18 5-2 2-6 1-8 4-4 4-1 5-1 0 0 6 1 0 0 4 2 3 0 5-2 1 0 3 2 1 1-2 5 0 3 4 3 0 3 2 1 2 0 6 4 4 0 3 1 0 0 15 2 3 0 8 1 0 1 6 3 3 8 3 4 4 0 3 3 2 0 6-1 0 0 1 2-1-1 7-5 3-11-3-4-4-2-5-5-5-4-2-5 0 0-1-7-1-11-9-8 0 0 1-14-1-1 3-3 1 2 1 1 6-1 0 0 3-3 2 0 2-3 3-5 0-5 6-3 0-2 2 0 3 2 2 2-2 4 4 1-1 4 0 0-1 3 0-3 4 1 3-1 1-4 0 0 4-3 3 1 4-2 0-2-3-2 2 0 3 3 2-1 1-3 0-1-3-2 0 1-4-3 0-2-2 0 2 2 1-5 4 0 3 1 0-1 2 2-1 1 1 2-2-1-2 1-4 2 2-1 2 3 2 0 3 1 1 5 0 1-4-3-1 5 0 1 1-1 6-4 4-4 0-1-1 0-4-2-3-1 1-7 0-1 1 1 1 0 5-3 6-6 0-6-4-2-8 4-3 0-2 2-1 1 2 2 0 1-1 0-3-1-1-2 1 0-1-9-1 0-1 5 0-2-2-3 0 0-17 9-2 2-5 5-3-1-2 2-2 2-1 8 0 2-2 0-2 4-2 0-2 6-4-1-2 3-1 2-3 2 0 2-5 2 0 0-2 3-1 0-2 3-3 2 0 1-4 3-1-1-2 2 0-1-3 2 0 1-1-1-2 3-1 0-5 1 0-1-1 1-2-1-1 1-2-1-3 2-2 0-5 1-1-2-1 0-5-1 0 0-4-2-1 0-5-2 0 0-3-3-1 1-2-2 0-1-3-2 0-1-3-2 0 0-2-4-2 0-3-1 0 1-2-2 0 0-4 2 0-1-1 1-2-1-1 1-1 0-4 1 0 0-3 2-1 1-6 2-1-1-2 2 0-1-1 2-2-1-3 2-1-1-1 2-4-1-2 2-2-1-2 2-2-1-1 0-4 2-3-1-1 0-3 1 0-1-4 1-1-2-1 1-5-2-1 1-3-2-2 0-4-2-2 1-2-2 0 1-3-1-2-2 0 0-3-2 0-2-6-4-3 1-2-2 0 0-2 308 0 0 51-11 0 0 1-4 0-6 3-3 0-6 3-4 4-2 0-13 13 0 2-3 2 0 2-4 4-1 4-2 1-1 4-2 1-1 4-2 1-1 4-2 1-1 4-2 1-5 10 0 3-2 2-1 7-1 0 0 6-1 0 0 16 1 0 0 4 1 0 1 6 2 2 0 3 2 2 2 10 6 10 1 8 1 0 0 7-1 0-1 10-3 4 0 5-1 0 0 4-1 0 1 20 1 0 0 11 1 0 0 3 5 5 1 4 5 6 6 3 3 0 0 1 13 0 0 1 3 0 1 2 7 1 4 2-2 3 3-2 3 3 2 0 2 3 6 2 1 2 5 1zM125 30l0-2-2 0 0 2zM241 38l0-2-2-1 0 3zM57 104l3-3 0-3-1-1-5 0-2 3 1 4zM92 151l-1-3 3-1 0-3-1-1-4 0-1 1 0 4-2 2 2 1zM83 155l0-2 2-1 0-5-1 0 0 5-2 0 0 2-2-1 1 2zM77 153l2-2-3-3-3 0 0 2 2 0 1 3zM99 163l1-4-1-1-3 0-1 1 1 4zM90 161l-2-2 0 2zM250 163l-1-2-2 0 0 2zM93 168l2-1-1-4-1-1-5 0 0 5zM94 179l2-5-2-3-5 0-2 1-1 3 3 4zM263 185l1-2-3 1zM280 204l1-4-1-1-4 0 0 3 2 2zM276 205l0-2-3 0 0 2zM44 206l0-2-2 0zM121 209l1-3-3-1-1 1 0 3zM276 215l3-4-1-3-3-1 0 1-4 0-2 1-1 3 3 3zM124 211l0-2-3 1zM20 213l0-2-2-1 0 2zM22 218l2-1 0-5-2 0 0 3-2 0 0 2zM125 214l0-2-2 0 0 2zM22 222l0-2 2 0 0-1-3 0-1 1 0 2zM31 226l0-1-4 0 0 1zM35 231l1-3-4-2-1 4 1 1zM40 229l-1-2 0 2zM22 236l-1-3-1 3zM251 236l-1-2 0 2zM27 239l2-2-3-1-1 3zM16 239l-1-2 0 2zM18 244l-1-3 0 3zM258 259l0-1 5 0 1-3 1 1 4-1 4-4-1-7-5-2-3 3 1 9-2-1-1 1-1-1-1-6-3-3-4-2-7 0-3 3 0 5 9 8 2 1zM15 248l1-3-2-1-1 3zM13 257l2-1 0-5-1-1-4 0-3 2 0 3 2 2zM245 256l-1-3-1 1-2-1 2 3zM272 257l0-2-2 0 0 2zM243 258l-2-2 0 2zM291 284l-1-3-2 1 0 2zM314 288l2-1-1-3-2 1 1 1-1 2zM326 291l-1-3-2 1 0 2zM298 291l1-2-2 1zM313 293l3-4-5 0 0 4zM312 300l-2-2 1-4-2-2-3 0-1 1 0 4 2 2 3-1 0 2zM334 325l2-4-1-1 0-4 3 1 1-3-2-1-2 1 0-3-2 0-2-2 0-4 1-1 4 1 1-5-3-3-3 0 0-1-7 1-4-3 0-2-1 1-3-1 1 2-4 0-1 1 0 3 1 0 0 3-1 0 0 10 1 2 4 3 5-3 1 1 0 4 1 1 2 0 1-1 1 1 0 2-1-1-2 0 0 3 1 1 3-1-1-2 3 0 0 2 2 0 0 2zM326 294l-2-2 0 2zM302 301l0-2 2 1 1-1-1-2-4 2zM310 325l2-2 0-6-2-3-11-5 1-1-1-3 2 0 1 1 1-4-2 1-2-3-2 0 1-1-1-1-3 3 0 3 1 2 4 0 0 2-5-1-1-3-2 0 0 4 2 0 1-1 1 1 1 9 2 4 3 3 3 0 0 1zM310 308l0-3-2 0 0 2zM288 308l0-2-2 0 0 2zM290 308l-1-2 0 2zM306 310l1-1 0-3-4 0-1 1 1 1 1-1 0 2zM291 319l1-2 3 1-2-4-2 0 1 1 0 2-2 0 0 2zM339 322l-2-2 0 2zM332 326l0-2-2 1zM338 326l1-2-2 1zM340 334l-1-3-4-4-2 0zM340 330l-1-2 0 2zM312 345l3-2 0-2-5 0 0 3zM323 349l1-2-2 1-1-2 0 2z"/><path fill="#06f" d="M50 98l-1 0 0-6 3-3 0-2 2 0 2-3 2 0 1-8 5-3 2-4 0-3 1 0 0-4 3-2-1-2 8-15-1-2 2-2 0-4 2-2 0-3-2-3 1-2-2-2 2-3 0-5-2 0-1-5-2-4-2-1 1-2-3-2 0-2 22 0-1 10 3 0 1-2 3 0 3 3 5 1 2 2 1 7 4 3 1 14 2 2 1 8 4 5 5 1 3 3 1 4 2 1 0 2-2 0 2 2 0 4-2 2-4 1-2-2-5-1-7-9-13-2-8-5-1 1-7 1 0 1-6 0-3 4 3 3-1 2 1 2-2 2 0 3-3 1-5 6 0 2 3-1 1 2 5-1 1 1-1 3-2 0-2 8-3-2-1 1 1 3-3 0 0-2-4 1 0-1 2-1-2-1-3 1 1-2-7-1 0 4-3 0 2 1-1 1 1 2zM282 214l-3-1 2-1-2-6-2 2 0-3 2-1 3 1 1-2-1-1 1-2-1-2-8 0 2 4-3-2 1 2-1 0 0 4-1 1-6 0 0-3-1 0 1-2-2-2-1 2-2 0-1-2-1 3-4 2-2-1 0-6-7-3-5-5 0-6-3-3 0-4 2-1 2-4 0-10-3-6 0-6-4-3 1-3-1-2-1 1-5 0-2-2 3-2 1 2 3 0 1-3-1 0 0 2-2 0 1-2-3 1-1-2-6 1-1-2-6-2-2-3-2 0-3-4 1-5 1 0 0-10 1 0 0-3 2-2 1-6 3-6 3-2 0-2 3-3 1-10-1 0-1-6-2-3-2-9-1 0 0-5-1 0 0-4-1 0-2-11-5-10-2-1-1-4-2-1-2-5-3-2 0-2-6-7-3-6 0-3 78 0 0 4-2 2-2 11-1 0-1 16 1 0 0 6 1 0 0 4 1 0 0 4 1 0 0 5 1 0 1 11 1 0 0 4 2 3 0 4 1 0 0 11-5 8-1 5-5 4-3 8-2 1-1 7-3 6-1 11-2 2 0 10 1 0 1 9 2 4 6 6 5 1 4 4 5 10 1 7 7 3-1 2 2 0 0 5 3 4 0 3-3 2 0 5 1 1zM91 14l-1-2 0 2zM96 22l5-1-1-3 2-1 0-2-1-1-3 0-1 1 0 4-1 2-1-3-2 1 1 3zM88 24l0-4-3 0 1 4zM108 30l1-3-4-1 0 4zM103 35l1-4-1-1-5 0-2 1 2 2 1-2 0 3 1 1zM241 38l0-2-2-1 0 3zM105 44l1-1 0-4-2-2-3 0-2 2 0 3 2 2zM251 62l1-2-3 1zM128 66l-2-4-2 0 0 3zM73 65l-3-2 1 2zM129 69l-1-2 0 2zM64 80l0-3-3 0zM265 85l1-1 0-4-1-1-3 0-1 1 0 3 2 2zM71 86l1-2-2-1-1 2zM260 85l0-2-3 0 0 2zM258 95l1-2 2 0 1-6-2 1-1-1-5 0-3 2 0 3 2 2zM66 92l1-3-1 1-3-1zM61 95l-3 0 0-3 1 2 2-1zM74 142l-2-2-1-5-3-3 0-3-2-3 0-5-2-1 0-2-4-1-1-3-4-2 2-1 1 1 1-1 2 1 1 2 0-1 3 0-3-1 0-2 2 1-1-2 1-1 3-1 0 2 2 0 0-6-3-1-4-4 1-2 2 1 0 2 2-1 0-2 2 0 2 3 3 0 4 5 0 6-5 0 1 2-3-1 0 8-3 3 0 3 2 0 0 2 2-1 0 3-2 1 0 3 2 0 3-3 1 2-2 0 0 2 2-1 2 1 0 4-3 1zM55 111l-2-2-4-1 0-5-2-1 0-2 1 1 4-1 1 1 0 3-1-2-1 0 1 2-1 3 3 1 0-2 1 0zM72 110l3-2 0-3-1-1-3 2 0 3-1 0zM69 114l1-3-2 1-1-1-1 3zM76 119l-3 0 2-1 0-3-2 0-1 1 0-3 5 2-1 1 1 2zM233 132l0-3-1 0 0-9-2-1 0-2-4-3-6-1-3 3-1 4 4 4 1 4 3 3zM238 132l2-2 3 0 1-5 1 0-2-5-2-1-5 3 0 6-2 1 0 2zM216 125l-1-3-1 2zM214 127l0-2-2 0 0 2zM242 134l-1-2-2 0 0 2zM94 143l-2-1 1-3 2 2zM86 144l-1-2 2-2 2 0 0 2zM237 143l-1-2 0 2zM75 145l-1-3 2 0zM76 147l-3 0 0-2 3 1zM99 147l-5 0 0-1 1-1 3 0zM75 151l-8 0 0-2 2 0 1-2 3 0 0 3 2 0zM91 193l-3 0-1-1 0-2-3-3 0-3-9-8 0-3-2-2-8 0-1 2 2 2-1 7 2 1 0 2-1 1-5-6-4-1 0 2-3 2-1-2 4-4 2 1 0-2 2-2 2 1-1-4 1 0 0-4 2 1-1-2 3 0 4-2 2-4 0-8 3 0-1 2 2 1 1-2 5 2 1-3 3 0 0 1 3-1 1 2 2 0 1-3-2 0-1-3 3-1 1 6 8 3-2 2-6-2-1 3-1-1-3 1 1-2 2 0-1-2-2 1 0 2-2 0 0 3-1-3-3 0 1 4-1 2 2 1-1 2-3-1 0 2 1 1 6 0 0-1 2 1-2 2-1-1-5 1-1 1 0 4 2 2 2 0 0 3 2-1 1 2 6 1 3-3-1-4 3 0 0-3-1 0 1-2-1-2-2 4-1-2-2 0 2-1-1-1 1-2-1-4 1 0 0 2 2 1 0-2 2-1 0 2 2 0 2 2-3 1 2 2 0 2-2 0 1 2-1 3 1 0 0-2 2 0 1 2-4 3 0 2-3 2 0 2-2 0-2 2 1 2zM84 150l-2 0 0-2 2 0zM102 164l-2-2 2 0-1-4 2 0 0 4 1 1zM95 163l-2-3 2 0zM250 163l-1-2-2 0 0 2zM94 170l-3-1 3 0zM265 172l0-2-2 0zM105 175l-2-1 0-2 2 1zM266 193l3-3-2-5 4 0 0-2-1-2-4-1-2-5-1 1-3 0 0-2 2 1 2-1 0-1-2-1-2 2-4-1 0 4 3 1 0-2 1 0 0 3-2 3 0 4 2 2 3-1 0 4 2-1 1 1-1 2zM255 177l-1-2 0 2zM256 193l1-1 0-5-7-4 2-1-1-2 2-1-2-1 0-2-3 0-1 1 0 3-1-2-2 1 0 2 3 0 1 9 4 3zM64 179l-1-2 0 2zM242 181l0-2-2 0zM250 182l-3-2 3 0zM255 184l0-3-2 0 0 2zM257 183l-1-2 0 2zM54 188l-1-2-3 1-2-2 5-2 2 1zM89 191l4-3-2-2 2 0 1-2-4-1 1 3-4 2 1 3zM246 188l0-2-2-1 1 3zM48 190l-2-2 1-2 1 0zM244 189l-1-2 0 2zM46 193l-2 0 1-5 1 0zM279 195l1-2-2-3-1 2-3 0-1 1zM27 213l-1-4 5-3 2-6 4 0 2-1 0-3 1 0-1-2 4 0 0 1-2 0 0 2 7 2 0 2-4-1-1 3-2 0 0 3 3 1 0 2-2-2-2 0-3-4-3 0 0 3-2-1 0 3 2-1 1 4-3-2-4 0zM120 216l-1-2-5 0-2-2 1-7 1-2 2 0-1-3 2-2 3 0 2 5 2 1 0 2 2 0 0 2-3 1 0-4-7-1-1 3 2 2-3 1 0 2 1 1 2 0-1-2 4 1 0-1-2-1 3-1 1 5zM119 203l1-3-3 0 0 3zM271 206l1-3-2-1 0 2 1 1-2 1zM20 210l-2 0-1-2 3 0zM127 214l-2 0 1-3-2 0 1-2 3 1zM29 241l-4-2 3 0 1-3-1-1-3 0-2-2 0-2-3 2-1 4-3 0 0-2-2 0 1 4-6-1-3 3-4-1 1-2-4 0 0-3 4-1 0-4-2-3-2 0 0-3 4-1 2 2 7 0 2-2 0-4 2 0-4-4 2-1 4 1 2-2 1 2-2 0 0 2 2 1 0 2-2 0-1 2 1 1 4-1 1 1-3 1 2 2 0 2 4-1 1 1 1-2 2 0 0 2-2 0 0 2 3 2-2 1 0 7zM28 217l-3 0 0-4zM29 215l-2 0 1-2zM247 255l-2 0-1-2-5 0 1-6-2-1 0-3 4-4-1-7 2 0-1 2 2 0 1 3 2-1 3 3 1-1 2 1 1-1-1-2 4 0 0-2-2-2-2 2-1-1-5 0 0-1 3 0 0-3-1-1-2 0-2 2 0 2-2 0 1-2-2 1 0-3 7-3 1-1 0-3 4 1 1 3 1-2 5 2-1-3 3 0-1-4 1-2 2 0 1 2 2-1 9 0 4-3 0 2-2 0-1 2 0 4-2 0-1-3-2-1-3 0-1 1 0 3 2 0 0 3-2 0 0 4 3-2 3 1 0-4 1-1 2 0 0 3-3 3 0 4 2 2 0 4-2 0 0-5-1 1-5-1 3 4-2 1 0 2-5-2 0 2-2 1-2-1 1-2-1-1-3 4-2-2-13 0-1 2 0 7-1 1 1 2 3 0zM123 217l-3-1 2-1 4 0zM25 222l-2 0 1-1-1-3 1-1 1 0zM262 221l-2-1 2 0zM275 222l-4-1 4 0zM27 226l-4-1 3-1zM42 227l-6 0 0-1 1-1 1 1 5-1zM38 231l-2 0 1-2zM35 235l-2-1 0-2 2 0zM23 236l-1-3 2 1zM248 236l-2-1 0-2 3 1zM288 283l-3-4-4 0-1-1 0-7-6-5-3 1 1-2-1-1-3 0 1-2-2 1 0 2-2 0 1-3-1 1-1-1-5 0-1 1-1-1 0-2 7 0 0-4 4 4 2 0 0-2 2 1 2-1 0-2-2-1 3-1 0-4-1 0 1-6-5-2 2-1 0-2 5 1-1 1 1 6-2 2 2 0 1-2 0 3 1 0-1 2 1 2-3 2 0 7 4 4 3 0 2 2 2 9 3 2zM22 243l-4-2 4-1 1 1zM2 242l-3 0 0-1 3 0zM17 245l-2-2-3 2 1-4 4 1zM263 252l-2-1 0-5-2-2 2-2 2 2-1 1zM26 250l-2 0 1-2-2-4 1-1 2 1-1 1zM31 247l-2-1 0-2 3 1zM18 251l-1-1-2 1 2-5 2 3zM13 249l-3 0 0-2 2 0zM9 250l-2 0 1-2zM36 254l-2-1 1-1 0-4 2 1-1 1zM7 252l-2 0 1-2zM24 251l-2-1 2 0zM16 258l-2-1 3-5zM8 259l-1-1-2 1 0-4-1-1 1-1 1 3 3 1zM34 255l-2-2 2 0zM31 255l-2-1 2 0zM33 257l-4-1 4-1zM250 258l-3 0 0-3zM248 262l-2-1 0-2-1 2-4-2 4-1-1-2 2 0 0 2 2 1zM11 263l-4-3 3-3 2 0 0 4zM256 263l-1-1-4 0 0 1-3-1 3-1-1-3 2 0 1 3 3 0zM258 264l-2-1 2 0zM284 278l1-1 0-2-1 2-1-2-2 0 1 3zM323 294l-2 0 0-2-4 1-1-4-7 0 0-2-2 1 0-2-3 2-1-1-4 0-2-1 0-3-1 3-2-1 0 2 2 1 0 4-3-1 1-2-3-2 0 5-3 1 0-3 1-1-1-2 1-1-1-2 3 0 0-2 7 0 0 1 4 0 2 2 6-2 0 3 1-2 1 0 1 2-1 2 2-1 2 1 1-1 0-3-2-1 3 0 0 3 1 1 6-1 2 1-3 1-1-1-2 2 2 2zM314 284l-4-2 3 0zM299 300l-1-3-3 0 0-1-4 1-2-2 0-2 7 1 0-2 2 0 0 2 2 0 0-3 3 0 1-2 3 0 1 2-2 0-1-1-1 1 0 4-2 0 1 2zM350 350l-15 0 0-1-5 1 0-1-3 0-1-2-3 0 1-2-2 0-2 2 0-4-2 0 1 2-4 0 0-2 2-1 0-3-4 0 0 1-5 1 1-2 2 0 0-5-2 0-3-4-6 0-2-5-4 0 1-3 2 1 1-2 0 3 2 2 6 0 1 1-1 2 1-1 1 1 7 0 1-1 0-6-3-2 1-1-1-4 2 0 0 3 3 1 2 2 0 2 4 0 1-1 1 2-2 1 1 1 3 0 0-2 3 0-1 4 3-2 0 3 5 2 0 2 4 3 1-3-2 0 0-4-1-1-2 1 2-5-3 0 0-2 4 0 0-2-4 0 0-3 4 1 1-2-1-2-2 0 1-5-1-1-4 1-1-2 0-2 2 0 0-2 1 3 2 1 1-7-2 0 0-2-2 1 0-3-5 0 1-2-1 1-3-1 0 2-5 0 0-2 1 1 3 0-1-2 2-1-2-1 1-1 1 1 4-1-2 3 3 0 0 1 1-1-2-2 2 0 1 1 0 3 8 3 0 4 2 3 5 2zM312 295l-1-2 3 0zM312 299l-2-1 1-2zM286 309l-2 0 0-5 2-2 2 1 0-3 4-1 1 3-3-1 2 1-2 1 1 2-4-1 2 2-4-1zM308 307l-1-3-2 1-1-3-2 0 0-3 1 2 2 0 1-2 1 1 2-1 0 2 3 1-1 3-1-1-2 0zM299 307l-4-1 4 0zM311 312l-3 0-1-2 1-2 3 0 1-2 0 3-1 1 1 1zM290 311l-3-1 1-2 2 1 1-2 0 1 4 0-4 1zM303 310l-4-2 3-1 1 1zM291 316l-2 0 0-2 3-4 2 1-1 1 1 2-3 0zM306 311l-3-1 3 0zM312 314l-2-1 2 0zM322 317l-2 0 0-3 2 0-1 1zM294 323l-1-2-2 1 0-2-2 1 0-2 3 0 0-2 5 3zM305 341l-1-1-2 1 0-2 3 0z"/><path fill="#09f" d="M84 15l-8-10 0-2 3-1-3 0-1 1-1-4 2 0 0 2 4 0-1 6 3 0 0-3 2 0 0 3-3 1 0 1 2 0 1-2 1 0-1 3 2 0 0-2 1 0 0 4-2 0-1-1 1 3zM253 85l-4 0 1-4-2-3 2 0 0-1-2 0-1 2-1-2-2 0 0 2-5 1 1-2-2-1 0-4-9-9 0-6 2 1-1-2 1-1-2 1-1-7 4-3 0-4 1 0-1-20-3-1 0-3 1 0-1-3-2 1-1-1-1 1-2-1-1-3 2 1 0-3-4 1-6-5-2 0-6-6 0-2 11 0 0 2 2 3 5 1 0 1 8-1-1 5 1-3 2-2 4 0 2-6 7 0 0 6-4 7 1 20 1 0 0 3 3 2 0 2 3 3 4 1 3 4 0 3 3 3 1 13 4 4 2 0 0 2-2 0-2-2-2 3-3 1 2 1 2-1 4 2 1-1-1-2 2-1 0 5-2 2-2 0 1-2-2-1-1 0 1 2-4 0 1 1 0 5-1-3-2-1 0 2-3-1 0 3-2-1zM229 4l-1 0 0-5 3 0 0 4zM236 9l0-2-2 0 0 2zM102 13l-2 0 0-2 3 0zM95 16l-1-3 3-1zM228 15l-1-2 2 0 0-1-3 0-1 1 1 2zM88 20l-4 0 0-5 2 0-1 2zM106 17l-2 0-1-2 2 0zM95 18l-2 0 0-2zM105 54l-2-1-2 1-2-2-1-4-2 0-2-3-2 0-3-5-6 0-1 1-1 4 2-1 0 3-2-1 0 2 4 1 0 3-2 0 0-2-3 0 0-1-3 0-1 3-2 0 1-3 3-1 2-4-1-6 2 1-1-2 2-1 2 1 0-4 2-1-1-8 2 0 0 2 2 0 0-2 4 1-1-1 0-6 2 2-1 1 0 2 2-1 3 1 2-2 0 2 6-1 0 1 4 0-1 3-5-1-1 3-1-4-2 1 0 2-5 0 2 1 0 3-1 0 1 4-2-1 0 2 7-1 0 2-4 0-2 1-1 2 0 2 2 2 3 0-1 2 1-1 1 1 6 0 1-1-1-6 2 1 2-1-1 2 2 0 0-2 1 0 0 3-2 1-1 4-4 2 0 4zM103 21l-2 0 0-3 2 0zM84 24l-4 0 1-3 2 1-1-2 2 0 2 2zM111 28l-2-1 1-2zM112 38l-1-1-2 1 0-3-1 3-2 0-3-3 1-1 3 0 0-3 2 0 0 1 3 0 0 2-2 0 2 1zM241 38l0-2-2-1 0 3zM104 52l1-4-2-1 0 3-2-1-1 1 1 2zM256 49l-2-2 0 2zM255 72l-1-2 2-2-1-1 1-1-1-3 4 0 0-3 1 0-1-1-1 1-2-3 1-2 2 1 0-2-2 0-1 1 0-1-5-1-1-2 4 0-1-2-2 0-1 2-1-2-3 0 0 4 3 0 0 1-2 1 2 1-2 1-1 6 3 1 1 3 2 0-2 2 3 0 1 3zM244 68l0-3 1 0-1-3 1-1-2 1-4-4 1-3 2 0-1-3-3-2-1 1 0 4-2 0 1-2-4 0 1 2 2 0-2 2 2 0 0 6 2 4 2 1zM245 53l0-2-2 0 0 2zM73 59l-2-1 0-2 2-1 0-3 4 1 0 1-2 0-2 2zM77 56l-2-1 2 0zM239 57l-2-2 2 0zM244 59l0-2-2-1 0 3zM126 58l-3-1 3 0zM246 59l-1-2 0 2zM122 68l-2-1 1-6 2-2 4-1 1 4-2 0-2-2-1 1 1 4-2 1zM234 62l0-2-4 1 0 1 2-1zM132 66l-3 0-1-1 0-3zM69 74l-4 0 1-1 0-5 3-1-1-4 2 0 0 2 3 0 0-1-2-1 3 0 1 3-1 1-2-1-1 4 3 0 0 2-7-2zM126 70l-1-2-2 1 0-2 2 0-1-2 3 0-1 1 1 2zM130 70l-2-1 2 0zM65 77l-1-2 2 0zM67 79l-2 0 0-2zM69 90l-1-2-2 0-1-2-2 1 2 1 0 1-4-1-1 2-2 0-1-1 1-2-2-2 5-1-1-1 1-2-2-1 2-2 3 2-1 3 1 1 4 0 0 2 4 0 0 2-1-1-2 0zM239 79l-2-1 2 0zM252 177l-1-4-2 1-4-2 0-5 2 1 0 3 3 0 0-2-2-1 1-2-3 1-1-1 1-1 0-6-1 0 1-2-2 1-3-3 2-4 0-3-3-3 0-2-3 0 1-1-2-1 1-2-3-1 0 2-2 0 1-3-3-2-3 0 0 1-2-1-1 1 0-2-2-1-5 0 0-2 3 1 1-1-1-1 1-2 2 5 10 1 2-2 2 2 0 2 1-1 4 1 0-4 3 0 1-1-1-4 3 1-2-1 1-1-1-6 3 0-2-2 3 0 1-4-3 0-1-2-2 2 2 2-3 1 0 2-4-4 0 3-2 0 0 2-2 0 1-7-3 1 0 2-2-1-1 2 0-3-1-1-3 0-1-2-3 1-3-2-3 2 0 3-2 2 0 4 2 0 0 2-3-1-3 5-1-2 3-3-1-3 2-1-1-6 3 0 1-1 0-2 2-1 0-5 3-4 7-1 4-3 0 2 3 0-2 1 0 2 1-1 5 1 0-2 3 0-2-2 2 0 1-3 3 3 5 0-2 1-2 3 7-1-1-3 2 2 2 0 2-2 0-2 1 2 2-1-1-1 1-1 0-5-1-1-5 0 0-1 4 0 0-1 1 1 1-1 4 1 0-3 1 0-1-4 2 0 1 7-5 2 0 6-1 2-6 4-1 6-2-1 1 2-5 4 1 1 0 7-2 0 1 2-2 1 0 11-3 1-3 4 0 5 3 3 0 2 2 0 0 11 1 2-2 0 0 2 5-1 3 3 2 0 2 3 3 0 2 3-1 2-2-3-7-2-1-3-3 0 0 1 2 0-1 4 1 0 0 3 2-1 0-2 1 1 3-1 0 2-3 0 1 4-2-1zM69 84l-1-3 2 0zM76 84l-2-1 0-2 3 1zM257 86l-4-1 4-2zM74 86l-2-1 3-1zM51 93l-1-2 3-1zM64 91l-3-1 3 0zM68 91l-2-1 2 0zM68 100l-1-2 2-2 0 3zM50 105l-1-3 3-2 0 2zM253 107l3-4-1-3-1 2-4-1 0 2-3 0 1 2-2 0 2 2zM77 106l-2 0 0-2-4-1 3-2 3 3zM223 106l0-2 4 1 2-3-1-1-4 0 0 1-2-1 1 2-2 0 0 3zM71 109l-2-5 2 0zM229 112l0-2 3 0 3-2-2 0-1-2-3 1 0-1-4 0-1-1 1 5zM68 111l-2-1 2 0zM68 122l-2 0-1-5-5 0 5-4 0-2 2 1-1 2 3 0-1 2 2 1-1 3-2-1zM58 113l-2-1 2 0zM60 114l-2 0 1-2zM76 117l-1-2 2 0zM234 126l-1-3 1 0 0-3-2-1 0-2 3 1 1 2-1 1 0 4zM76 119l-2-1 2 0zM219 125l-2 0 0-2zM217 131l-1-2-1 1-3 0 2-1 0-4 1 1 2-1 0 2 2-1 1 1-2 1zM69 130l-2-3 3-1 1 2zM213 128l-2-1 2 0zM220 131l-2-1 2 0zM73 139l-2-4 5-2 1 1-1 1 1 2-2 0-1-2 0 2 1 1zM74 141l-1-2 2 0zM230 141l-2 0 1-2zM232 142l-2-1 2 0zM76 147l-3 0 0-2 3 1zM69 151l-2 0 0-2zM71 150l-2-1 2 0zM247 151l-1-2 0 2zM81 178l-3-1 2-1 0-1-3 1 1-7-2-4-1-1-3 0 0-2 2 0 2-2 0-3-2-1 0-3 1 0 1 3 2 0 0-2 2-1 3 4 0-4 4 0 0 1 2-1 1 1-2 2 1 2-1 1-1-1-3 0 1 2 0 2-2-1 1 5-1 0 0-2-3 0 0 4 2 1 8 0 0 1-1 1-1-1-6 0-1 1zM246 156l1-2-4-1 1 3zM95 157l-2-1 1-2 2 0 0 2zM92 156l-2-1 2 0zM101 158l-1-2 3-1zM103 163l-2-5 2 0zM72 170l-3-3 2-3 1 0-1 2 1 1zM101 173l-2-4-4 0 2-1-1-2 2 0 1-2 1 0-1 4 2-3 2 1 0 2-2 0 1 3zM66 170l-1-3 3-1zM264 168l-2-1 2 0zM65 171l-2 0 0-2zM267 179l-4-4 3-3 0-2 1 4 2 0zM62 179l-2-3 2-1 2 1 1-2 0 3-2 0zM101 178l-2-1 1-3 1 0zM244 179l-3 0 0-3 2 1 1-3 2 0 1 3-2-1zM256 182l-2-1 1-2-2 0-1-2 2 1 1-1 1 1 2-1 1 4-2 0-1-1zM82 181l-1-3 3 0zM270 180l-3-1 1-1 3 0zM101 180l-2-1 2 0zM272 183l-2-1 1-3 1 0zM243 183l-2-2 6 0-4 1zM87 190l-2-3 0-2 2-1-1-2 2 0 1 1 2-1-2 4-2-1 1 2-1 0zM97 184l-1-2 2 0zM94 184l-2-1 2 0zM54 187l-5-2 1-1 3 0 1 1zM95 187l-3-1 2 0 0-2 2 0zM244 187l-2 0 1-1-1-2 4 0 0 1-2 0zM269 206l-3-1 1-1-1-3 2 0-1-2-1 1-1-1-2 1-3-1-1 1-4-4-3 0 0-2 6 1 1-1-1-7 3 4 3 0-1 2 2-1 3 2 1-2-1-4 2 0-1-2 2 0 1-2 1 1-1 3 1 1 4 0-1 1 1 2-3 0-1 3 3-1 3 2-3 0 0 2-2 0 1 2-2 0-1 3-2-1zM247 192l-2 0-1-2 2 0zM250 194l-2 0 0-3zM40 205l-1-4-2-1 3-1 0-3 1 2 2-1 4 2-1 2-2-1-1 3-3-1zM280 198l-3-1 3 0zM123 205l-3 0-3-2 4-1 0 2 2 0zM279 206l-2-1 2 0zM43 208l-2-2 2 0zM115 209l-2 0 1-3zM271 207l-2-1 2 0zM281 208l-2-2 2 0zM125 209l-2 0 1-2zM121 215l-2-2-2 1 0-2 3 0-2-2 2-1 1 0zM127 211l-2 0 0-2zM19 216l-2-1 3-2 0 2zM28 217l-2 0 0-2zM21 220l-3-1 3-1zM276 221l-1-3 2 0zM14 238l-2 0-1-2 0-7-1-2-2-1 4 0 1 1 2-1 1-1-1-4 3-1 0 4 5-1-2 2 2 3 4-1 2 1-1 1 1 5-3-1-1 2 0-2-2 0 0-2-1 1-2-1-2 2 0 2-2-2-3 0zM264 241l-2 0 0-3-1 0 2-1 0-3-1-1-7 0 0-1-2 1-2-1 1-1 0-3-7 0 0-1 2-1 3 1 3-2 2 1 2-1 0 1 3 0 0 2 3 1-2-2 1-3-2 0 0-2 4 1 0-2 3-1 0 3 2 0-1 2 1 2-2 0-1 3 6-2 2 1-1 1 1 3-6 1-1-2-2 0 0 2 1 1 2-1 2 2 0 2-1 1-4-1zM273 222l-2-1 2 0zM271 223l-2-1 2 0zM3 226l-4 0 0-1 3 0 1-1zM6 230l-2-1 1 0 0-3 2 0 1 3zM243 231l-1-2 3-1 0 2zM251 233l-2-1 2 0zM23 236l-1-3 2 1zM258 240l-4-1 0-2 3-1 0-2 4 0 0 3-1 2zM6 241l-3-1 1-2-2 0-1-2 3 0 1 1zM19 237l-2-1 2 0zM250 240l-3 0 0-2 3 0zM273 243l-2-2 3-2zM241 243l-2-1 2 0zM242 248l-2-2 1-3 1 0zM262 246l-2-1 0-2 2 0zM18 251l-2-3 3 1zM276 251l-2-2 4-1 0 2zM276 265l-6-1-1-2-3 1-3-3 2 0 0-2 2 0 1 2 2-1 3 1 1-1-1-4 2 0 1-3 2 0 0 2-3 2 1 3-2 1 0 3zM247 261l-1-2-2 1 1-4 3 3zM12 261l-4-1 2-3 2 1zM259 263l-2-1 0-2 3 0zM281 268l-3-1 3 0zM283 270l-3-1 3-1zM284 275l-2-1-2 1 0-2 1-1 4 0zM287 279l-2 0-1-2 2 0zM288 282l-1-3 2 1zM296 284l-3-1 4-1zM313 283l-3-1 3 0zM310 289l-2-3-4-1 5 0 1-2 0 3 2-1 0 3zM293 287l-3-1 2-1zM304 287l-5 0 0-1 3-1 2 1zM327 288l-3 0-1-2 2 0 2 1zM291 290l-3-1 1-2 2 1zM322 292l-4-2-2 1-1-3 2-1 2 2 2-1zM296 291l-3 0 1-3zM331 295l-3-1 0-3 1-1 2 1-2 1 2 1zM299 300l-1 0 1-4-8 0-2-3 2 0 1 2 5 0 1-2 2 2 0-2 3-1 0 3-2 0 1 3-2 0zM333 296l-2-1 2 0zM312 299l-2-1 1-2zM342 302l-2-1 0-2 2 0zM307 303l-3 0-2-2 4-1 1 1zM311 303l-3-1 0-2 3 1zM290 305l-4-2 4-2zM350 350l-15 0 0-1-4 0 0-1-2 1-1-2-1 1-4-1 1-2-3 0 0-3-3 1 1 2-2-1-2 1 0-2 2 0 0-2 3 0-1-3-6 0 0-1 3 0 0-2-2-2-6-2 3-1 1 1 1-1 2 2 4-1 0-5-2-1 0-4 2 0 0 4 2 2 4-1 0 2 3 0 1-2 1 3 2-1 0 2 2-1 0 2 2-1 1 3 4 1 2 4-1-4 1-1-2-1 0-4-3-1 3 0-1-4 2-1-3-3 4 0 0-3-4-3 2-1 1 2 2 0 0-5-2-2 1-3 3 2 0 4 2 2 2 0 0 25-4 1-4 5 8-4zM289 306l-2-1 2 0zM311 312l-3 0-1-1 2-3 3 2zM289 311l-2-2 3 0zM290 316l-1-2 1-2 4-1-1 2 1 1-3 0zM290 321l-1-2 2 0zM296 320l-2-1 2 0zM317 321l-2 0-1-2 2 0zM295 322l-4-2 3 0zM304 329l-1-3 3 0 0 1-2 0zM308 330l-2 0 1-2z"/><path fill="#0cf" d="M213 4l-1-2-2 1 0-2 2 0 0-2 4 0 0 2-2 0zM242 51l-2 0 1-2-4-1-2-3 0-2 2 0-1-3 2-1 0-6-1-2-3-1 0-2 3 2 0-2-2 0 1-7-2-1 0-2-3-1 1-2-2-1-2 1-1-1 4-1 0-1-3 0 0-1-3 1 1-2-1-1-4 0 0-2-2 2 0-2-6-1 2-1 1-4 2 5 6 0 1 2 3 0 2-2 0 3 1 1 1-2 5 2 0-2-1-1 4 0 1-1-1-3 3 0-2-2 1 0 0-2 2 0 0 9-5 2 0 2-2 1 0 5 4 4 0 6-1 0 0 6 1 2-2-1 0 3 2 0 1-2 3 3-3 1 1 2-2 3-2-2 1-1-1-1-1 1 0 4 3 0 1-1 0 3 6-2 1 3-4-1zM236 7l-2-1 2 0zM83 13l-1-4 2-1 0 3zM84 21l-2-1 2 0zM84 23l-3 0 0-2 3 1zM94 42l-2 0 0-4-3-4-3 0 0 4-2-1 1-4 3-1 1-2-1-2-3 0 1-1-1-3 2 0 1 3 5-1 1-2-2 0 0-1 6 0 0 1 3 0-3 1 1 2-4 0 2 1-2 1 2 2-2 0 1 1 0 2-1-1-2 0 0 3 2 0-1 2 1 2zM239 31l-1-3 0 3zM112 34l-5 0 0-2 1-1 1 2 3-1zM107 35l-2-1 2 0zM253 49l-3-1 0-3-3 0-3-3 1-3 2 1-1 2 2-1 1 3 2 1 1-1 2 0-1 1 1 2zM95 44l-2 0 1-2zM81 48l-1-1-2 1 0-2 2 0 0-2 3 1-2 1zM102 49l-3 0 1-4 3 2zM108 47l-1-2 2 0zM106 52l-1 0 0-5 2 0zM234 53l-2 0-3-3 4 0 3-2 0 2-3 1zM256 54l-3-3 2-2 2 0 0 3 3 1-4 0zM252 52l-2-1 2 0zM105 53l-2-1 2 0zM75 55l-2-1 3-1zM247 58l-1-2-2 1-2-4 5 1zM249 54l-2-1 2 0zM235 56l-5 0 0-1 3-1 2 1zM77 56l-2-1 2 0zM259 59l-3-2 4 0 1-2 0 3zM231 61l-1-2 1-1 4-1zM245 61l-3 0 0-2 3-1 1 1zM125 60l-2-1 2 0zM254 83l-4 0 1-1-1-4 2 0 0-1-4 0-1 1 0-3-2 0 0 2-2 1 1-4-6-4-2 1 0-2 2-1 1 2 2-1 1 2 3 0 1-1 0-4-1 0 1-3 1 1 0 3 3 1 0 2 3-1 0 3 2 0 0-2-1-1 3 0-1-2 1-2 3-1-1-2 2-1-1 7 2 0 2 3-2 1-2-1 1 2-2 1-5-1-1 2 1 1 5 0 1-2 0 1 6 0 0 1-1 1-3-1-1 2-2-1 1 3-2 0-1-2 0 4-1 0 0-2-2 0 1 2zM233 66l-2-1 0-2 3-1 1 3zM71 69l-2-2 1-2 3 0-2-1 0-1 3 0 1 3-3 0zM236 68l-2 0 1-3zM126 69l-2-1 1-2 2 1zM69 69l-2-1 2 0zM64 81l-4-2 2-1zM67 88l-2-2-5 2 0-3 2-1-1-2 2 0 1 2 4 0 0 3zM257 86l-4-1 4-1zM264 89l-3-2 0-2 5 2zM244 118l-1-2-2 0 1-2-1 0 0-3-2 1 1 4-1 1-1-1-2 1 1-5-5 2 0-2-2 0 2-3 3 0 0-2-2 1-2-3-3 0 3-2-1-2-2 0 0-1 6-1 1 2 0-2 2 0-1 2 2-1 1 4 2 0-1-2 1 0 0-3 2 1-1-4 2 0 0 2 4-1-1 4 2 1-3 1 1 2-3 2 4 0 0 1 3-1 2 2-3 1 1 3-1 1-2 0 1-2-4 0-1-2 1 6zM252 97l-4-1 4 0zM256 101l-2-2 1-1 3 0 0 2-2-1zM225 101l-2-2 5 0zM51 103l-1-2 2-1 0 2zM221 104l-2-1 1-1 3 0zM256 105l-1-2 3-1zM223 109l-2-2 1-1 3 0 0 2zM222 110l-3 0 0-3zM66 118l-2-2 1-5 2 1-1 2 3 0-2 1 1 2zM250 120l-3-2 5-1zM235 122l-2-2 1-2 1 0zM218 130l-4-1 2-1-2-1 0-1 3 0 0 1 2-1 0 2-2 0zM249 131l-4-2 0-2 1 1 3-1zM222 133l-2 0 0-2 2 0zM247 134l-3-1 2-1zM76 135l-2 0 1-2zM242 145l-1-3-3-1-2-3-2 0-2-3 2-1 3 2 3-1-1 2 3 0-1 4 2 1 0 2zM243 137l-1-2 2-1 0 2zM246 149l-2 0 1-2-2 1 0-3 3 1zM245 154l-1-3 2-1 1 3zM79 167l-2 0 1-1 0-4-2 0 0 2-3-1 5-4-2-3 2 0 1 1 1-2 2 0 1 2 0-3 1-1 4 1 0 3-2 1-2-1-1 2 1 1-1 1 1 3-2 0-2-2-1 1zM247 158l-2-2 2 0zM249 165l-2 0 0-2zM251 165l-1-2 2 0zM101 172l-1-3-4 0 1-1-1-2 4-1-1 3 2-3 2 1 0 2-2-1zM247 166l-2-1 2 0zM257 168l-3-2 3 0zM66 170l-1-3 2 0zM80 172l-1 0 0-4 2 1zM263 172l-3-2 1-2 2 2zM254 176l-2 0-1-3-3-1 4 0 1 1 2-3 0 3-1 1 2 1zM267 179l-3-3 1-1-1-2 2-2 1 2-1 1 3 0-2 2zM81 176l-1-2-2 0 2-2 1 0zM63 178l-3-2 3-1 1 1zM243 179l-2-2 2 0zM254 178l-2-1 2 0zM256 180l-2-2 2 0zM270 180l-3-1 1-1 3 0zM89 186l-3-1 1-3 3 2zM87 188l-2-1 0-2 2 1zM269 204l-3-1 2-2-1-2-1 1-1-1-3 1 0-2-3 1 1-2-3 0 0-2 2 0 1 1 1-3 5 0 2 2 1-4 2-1 1-4 0 4 2 0-1 5 2 0 0 2-1 0-1 5-3 0zM253 196l-1-2 3 0zM41 202l-1-2 2-3 1 2 2-1 1 1zM120 214l-2-2 3-1 0 2zM263 233l-8 0 0-2-3 0 2-1 0-2-3 0 0-2 7 1 1-1 2 3 2 0-1-4 2-1 0-2 5 1 0 2-2 0 0 4-3 0-1 1zM26 235l-1-3-2 0 0-2-4 3-2 0 0-2-3 0-1 3-2-2 2 0 1-5 3 0-1-3 2-1 0 2 2 1 2-1 1 3 2-1 3 3-2 2zM263 224l-3-1 3 0zM243 231l-1-2 2-1 1 2zM270 234l-3-1 0-3 1-1 4 1 0 2 2 0-4 1zM258 240l-2-4 1-2 4 0 0 3zM264 241l-3-4 5-1 2-2 2 4-1 1-1-1-2 1-1-2-1 1zM5 241l-2-1 1-2 2 1zM12 260l-4-1 2 0 1-2 1 1zM272 264l-3-2-3 1 0-3 1-1 1 1 6 0 0 1-2 0 1 2zM281 268l-2-1 2 0zM282 270l-1-2 2 0zM284 275l-2 0 0-2 3-1zM322 292l-2 0 0-4 2 2zM302 298l-3 0 0-2-2 0 0-2 2 0 1 1 2-2 0 2-1 0zM290 305l-4-2 4-1zM311 311l-3-1 1-2 2 1zM350 350l-14 0 0-1-5 0 0-1-2 1 0-2-7-3 2-1 0-1-5 0 2-1 0-3-3 0 1-3-1-1-3 0-1-2 7 1 0-4-2-2 2-1 1 3 3-1 0 2 3 0 0-2 2 0-1 2 2-1 1 2 2-1 1 2 4 1 0 2 2 0 2 3 0-5-2-1 0-4-1 0 2-1-1-1 1-2-2-1 3 0 0-2-2 0 0-1 4 0-1-4 2 0 1-4 1 3 2 0 0 22-4 1-4 5 8-4zM319 326l-2-2 2 0zM314 332l-2-1 2 0zM326 347l-3-1 3 0z"/><path fill="#12ffed" d="M214 3l-4-1 2-1 0-2 3 0zM244 7l-3-2 2-1 0-2 1 0zM217 6l-4-1 3-1zM225 9l-4-2 4 0zM242 9l-1-2 2 0zM233 17l-2-5-3 0-1-3 3-1 2 2 0-2 2 0 0 2 3 1 1-3 1 1-1 3-3 1 0 3-2-1zM237 20l-2-2 0-2 2 1zM92 36l-1-3-3-1 2-2-2-3 6-1 0-2 6 0 0 1-5 2 1 1-1 2 2 1-5 1zM240 31l-1-3-1 3-1 0 0-5 1-1 2 2zM93 39l-1-2 2 0zM94 42l-1-3 2 0zM237 42l-1-2 3 0zM249 44l-3 0-1-1 0-3zM111 43l-2-1 2 0zM251 45l-2-1 2 0zM253 49l-3-1 2-1-1-2 3 1zM102 49l-2 0 1-3 2 1zM244 50l-3 0 0-2-3-1 3 0 0-1 1 2 1-1 6 0-4 1zM256 54l-2-1 0-3 2 0 1 2zM245 56l-3-3 3 1zM260 58l-3-1 3 0zM245 61l-2-1 2 0zM235 65l-2 0 0-3 2 1zM71 69l-1-4 4 0 0 1-3 1zM126 69l-2-1 1-2 2 1zM253 77l-4 0-5-5 3 0 0-3 1 1 2-1 0 2 5 1 0-2-1-1 3 0 1-2 1 2 3 0-2 1-1 4-5-1-1 1 1 2zM253 71l-2-2 2 0zM244 72l-3-1 3 0zM254 83l-4-2 0-3 1 1 4-1 0-2 4 0 0-2 4 1-2 3-2-1 1 2-1 1-1-2-1 3-3-1 1 2zM68 87l-2-1-4 0-1 1-1-1 2-1-1-3 2 0 1 2 4 0-1 1zM256 86l-3-1 3-1zM264 88l-2 0-1-2 3 0zM252 97l-4-1 4 0zM228 100l-3-1 3 0zM244 117l-2-1-2-8-1-1-2 0 0 5-4 1 0-1-3 0 6-3-3-4-2 0 1-1-1-3 2 0 0-2 1 3 4-2 1 2-1 2 3 0-1-2 3-3 1 1 2-1 0 2 3 0-4 3 1 2-2 0 4 1 1 1 0 3-3 1-2-2 1 6zM251 113l-2 0 0-2zM66 116l-2 0 1-4 2 2zM239 116l-2 0 0-4 2 0 1 2zM250 120l-1-2 3-1zM218 130l-4-1 2-1-1-2 2 1 2-1 0 2-2 0zM240 140l-4-1-2-2 0-2 4 1 2-1-1 2 2 0zM82 162l-1-1-2 1-1-2 1-2-1-1 2-2 2 0 1 2 2-4 2 1 1 3-2 1-2-1zM247 158l-2-2 2 0zM99 169l-3 0 2-4 1 0zM254 175l-3 0-1-3 2 0 1 1 1-1zM270 180l-3-1 3 0zM95 187l-2-1 1-2 2 0zM270 203l-3 0 0-2 1-1-1-1-4 0-2-3 1-2 2-1 2 0 2 2 1-1 0-3 2 0 1-3 0 3 2 2-3 2 0 2 2 0 0-2 2 2-1 0 0 3zM44 201l-3 0 0-3 1-1 2 2zM263 233l-6 0-2-2 0-4 2 1 2-2 2 3 2 0-1-4 2-2 2 0 1 1 0 5-3 0-1 1zM26 233l-4-4-1 2-4 1 0-2-2 0 1-1-1-2 3 0 0-1 4 0 0 2 3-1 2 3zM270 234l-3-1 0-3 1-1 4 1zM259 238l-3-2 2-2 3 0 0 3zM264 240l-3-3 5-1 2-2 1 3-2 2-2-2zM247 260l-1-1-2 1 1-4 2 2zM12 260l-4-1 3-1zM272 264l-5-2-1-2 1-1 4 1 2 2zM284 275l-2-2 3-1zM312 288l-3-1 0-2 1 1 2-1zM331 294l-3 0 0-3 2 0-1 2 2 0zM302 298l-3 0-1-4 1 1 1-1 2 0-1 1zM290 305l-3-2 3-1zM311 311l-2 0-1-2 3 0zM350 350l-13 0 0-1-5 0-8-4 0-1 2-1-2 0 0-2-4 1 3-4-3 0 1-3-2 0 0-2 4 1 0-3 2-1 1 1 2-1 1 1 2-1 2 1 1-1 2 3 3 0 0 2 2 0 2 3 0-5-2-1 1-1-1-4 3-3-1-4 3 1-1-4 2 1-1-4 2 0 0 3 2 1 0 19-4 1-4 5 8-4zM326 347l-3-1 3 0z"/><path fill="#7bff84" d="M233 15l-2-1 0-2-3-1 1-2 4 1 1 3zM92 31l-1 0 0-5 3 0 0-2 2 0 1 2-3 1 1 3-3 0zM102 49l-2 0 1-3zM243 50l-2 0 0-3 3 1zM72 67l-2-2 4 0zM126 69l-2-1 1-2 2 1zM259 74l-3 0-1-1 0-3 4 0zM253 77l-2 0-3-3 1-2 4 0 1 4zM257 81l-1-1-4 1 0-3 3 0 0-2 5 0 1-1 0 2-2 0 1 2-2 0-1-1zM65 86l-3-1 3-1zM247 111l-2 0-1-2-4 0-1-2-5 0-1-2 1-3 4-1 1 1-1 1 1 3 3 0-1-4 3-1 1 1 0 4-1 1 4 2zM237 112l-3 0 0-3 2-1 1 0zM240 115l-3 0 0-3 2 0zM244 115l-3-1 0-2 3 0zM218 128l-2 0-1-2 2 0zM238 139l-2 0-2-3 4 0 1 1zM82 160l-2 0-1-3 4 0 0-2 3 0 0 2-2 0 0 2zM99 169l-3 0 1-3 2 0zM254 175l-3 0 0-3 3 1zM272 195l-3-1 1-3 2 1zM270 203l-3-1 2-3-5 0-1-4 5 0 0 2 5 0 0-2 2 1-2 2 1 2zM120 214l-2-2 3-1 0 2zM263 233l-1-1-4 0-1 1-1-5 5 0 2 1-1-2 1-1-1-1 3-1 2 1 0 3-2 0-2 2zM21 231l-3-2 1-2 3 0zM26 231l-3 0 0-3 1-1zM270 234l-3-1 0-3 3 1zM261 237l-3 0 0-3 3 0zM264 240l-2-3 1-1 3 0 2-2 0 3-3 0zM330 294l-2 0 0-3 2 0-1 1zM301 298l-2 0-1-3 4-1zM350 350l-13 0 0-1-4 0 0-1-5-1-3-6-3 0 0 1-2-1 1-1 4 0-1-4 2-4 3 2 0-2 2 1 0-2 2 0-1 2 3-1 1 2 5 1 2 3 0-6-2-1 2 0 0-5 2-1-1-3 2 0 1 1 2-4 0 2 1 0 0 16-4 1-4 5 8-4z"/><path fill="#e0ff1f" d="M231 12l-2 0 0-2 2 0zM233 14l-2-1 1-2zM94 29l-2 0 0-3 4-1 0 2-2 0zM238 29l-1-3 2 0 0 2zM243 50l-2 0 0-2 3 0zM257 74l-2-1 1-3 3 1 0 2zM253 77l-3-1-1-4 4 1 1 3zM257 81l-1-1-4 0 0-2 3 0 0-2 5 0-1 3-2-1zM246 111l-2-2-4 0-1-2-5-1 0-2 4-1 1 3 3 0-1-3 3-1 0 3 1 0-1 2 3 2zM237 112l-3 0 0-2 3 0zM240 115l-3-1 0-2 2 0zM244 115l-3-1 0-2 3 0zM85 157l-2 0 0-2 3 0zM84 159l-4 0 0-2 3 0zM272 195l-3-1 1-2 2 1zM268 199l-4-1 1-3 3 0zM273 201l-3 0 1-3 3 1zM263 233l-1-1-4 0-1-3 3-1 1 2 2-1-1-2 1-1 3 0 0 2-3 2zM21 230l-2 0 0-3 3 0zM26 231l-3 0 0-3 2 0zM269 233l-2 0 0-3 3 1zM260 237l-2-1 0-2 3 0zM264 238l-2-1 6-3 0 3-4 0zM301 298l-2 0-1-2 2-2 1 0zM350 337l-7 0 0-7 2 0-1-2 2-4 2 1 0-2 2 0zM337 349l-3 0-4-2-1-1 1-2-2 0-1-5-1 0 1-4 4 0 0-3 1 2 4 0 0 1 2-1 1 2 3 0-4 5 1 4zM350 350l-5 0-5-6 10-5z"/><path fill="#ffb500" d="M96 27l-2 0 0-2 2 0zM94 29l-2 0 0-2 2 0zM257 74l-2-2 3-1 1 2zM253 77l-3-1 0-3 3 0 1 3zM257 80l-5 0 0-2 3 0 1-2zM243 109l-3 0-1-2-5-1 0-2 4 0 0 2 4 0-1-3 3 0zM243 114l-2 0 0-2 3 0zM85 157l-2 0 0-2 2 0zM83 158l-2-1 2 0zM268 199l-2 0-2-2 1-2 3 0zM265 229l-2 0-1-2 3-1zM261 232l-3 0 1-2-2-1 1-1 2 1zM269 233l-2 0 0-3 2 0zM267 237l-2-1 3-2 0 2zM350 337l-7 0 0-2 6 0-6-1 2-1-2-1 2-2-1-2 2 0 2-3 2 0zM337 349l-8-3 1-2-2-1 1-1-1-1 0-5 2-1 1 1 1-1 5 0 0 3 3-2 0 3-2 2 1 4z"/><path fill="#ff4d00" d="M94 29l-2 0 0-2 2 0zM244 106l-2 0 1-3zM241 109l-2-2-3 0-1-2 3-1 0 2 3 0zM268 199l-1-2-2 0 1-2 2 0zM273 201l-3 0 1-3 2 0zM261 232l-3 0 1-1-1-2 2 0zM350 335l-4-1-2-2 2-5 1 1 3-1zM337 349l-4-1 1-4-4 1-1-1 0-3 1 0-1-3 3-2 3 0 2 6 2 1z"/><path fill="#f00" d="M61 29l-3 0 0-2 2 0 0-2 2 0 0 2-1 0zM109 36l-2 0-1-1 0-2 3 0zM63 47l-2 0-1-1 0-2 3 0zM1 63l-2 0 0-3 2 0zM59 65l-2 0 0-2 1-1 2 0 0 2zM3 65l-2 0 0-2 2 0zM258 79l-5 0 0-2-2-1 0-2 1-1 3 1 1-2 2 0 0 3 1 0zM16 77l-3 0 0-3 2 0 1 1zM32 107l-3 0 0-3 2 0 1 1zM240 114l-2 0 0-3-3 0 0-2 3 0-2-1 0-3 3 0 1 2 0-3 3 0 1 1 0 2-2 1 3 0 0 3-2 0-1-1 1 3-3 0zM35 111l-2 0-1-1 0-2 2 0 1 1zM38 115l-2 0-1-4 2 0zM44 158l-4 0 0-2 4 0zM100 170l-3 0 0-3 3 0zM18 196l-3 0 0-2 2-2 2 0 0 2-1 0zM270 201l-2 0 1-3-3 0 0-2 3 0 0-2 3 0 0 2 1 0 0 3zM264 237l-5-1 0-7 2 0 1 1 1-3 3 0 0 3-1 1 3 0 0 2-2 0 1 3-2 0-1-1zM350 350l-12 0 0-1-6-2-1-1 0-3-1 0 0-4 4-3 5 0 6 5 0-1-1 0 0-8 3-4 2 0 0-2 1 0z"/><g class="r" transform="translate(0 .5)"><path stroke="#06f" d="M78 147h1m6 2h1m-8 1h1m7 0h1m-8 1h1m-32 51h1m227 1h1m-231 1h2m-3 2h1m81 0h1m146 0h1m-254 3h1m-1 1h1m10 12h2m0 2h1m-1 1h1m4 4h1m-16 7h1m-2 1h1m-8 1h1m-1 2h1m-9 1h1m9 2h2m10 9h1m209 2h2m-4 1h1m1 0h2m-228 6h1m-2 1h2m248 2h1m-2 2h2m1 1h2m4 1h1m-2 1h2m0 1h1m64 42h1m-4 2h1m-1 1h1m0 2h1m-10 1h1m-4 1h1m-1 1h2m3 1h2m0 1h1m-22 20h1m-1 2h2"/><path stroke="#09f" d="M98 29h1m11 0h2m-2 1h1m-40 30h2m-13 16h1m-2 1h1m-7 10h1m17 5h1m-5 1h1m-19 1h2m-2 1h2m1 12h1m22 0h2m-25 1h2m23 0h1m-24 1h1m8 0h2m8 0h1m-2 1h1m-3 3h1m1 0h1m-1 1h2m-4 1h1m1 2h1m-7 6h1m-1 1h1m0 1h1m165 2h1m0 1h1m-2 1h1m-161 2h2m-3 1h1m14 8h2m-3 1h2m-14 2h1m19 0h1m-11 1h1m11 1h1m139 0h1m-155 3h2m-2 1h2m1 0h1m-8 1h1m11 8h1m3 3h1m-1 1h1m0 1h1m-1 1h1m-9 1h1m6 5h1m1 0h2m-1 1h1m-35 1h1m195 0h1m-163 2h1m5 2h1m155 0h1m10 0h1m-169 1h2m155 0h1m-204 1h2m6 0h1m181 0h1m12 0h1m-196 1h1m20 0h1m-32 1h2m28 0h2m1 0h1m-35 1h1m30 0h1m167 0h1m-202 1h1m198 0h1m1 1h1m-188 1h2m26 4h1m1 0h1m165 0h2m-170 1h1m-4 1h1m188 0h1m-191 1h3m187 0h1m0 1h1m-238 1h1m-5 1h1m1 0h1m5 1h1m-3 1h1m2 0h1m0 1h1m-1 2h1m67 0h2m-85 2h1m219 0h1m-2 1h3m-226 4h2m234 0h1m-238 1h1m-12 1h2m7 0h1m4 0h1m-14 1h1m93 1h1m167 0h1m-159 1h1m157 0h1m-2 1h1m-269 3h3m107 0h2m146 2h1m-3 1h1m-1 1h1m-246 2h2m226 0h1m25 0h1m-245 1h1m216 0h2m-2 1h1m2 0h1m22 0h1m0 1h1m-255 1h4m249 0h1m-247 1h1m6 0h1m-8 1h1m10 1h1m-5 1h1m3 0h1m-6 1h1m-2 1h1m210 2h1m-6 1h3m2 0h2m25 0h1m1 0h1m-29 1h1m27 0h1m-33 1h2m0 1h1m-226 1h2m223 0h1m5 1h1m-217 2h1m-22 1h3m10 0h1m0 1h1m-17 1h1m3 0h1m12 0h1m1 1h1m-15 1h1m12 0h1m244 0h1m-268 2h1m16 0h1m-19 1h2m15 0h1m11 0h1m-31 1h1m15 0h2m11 0h1m-9 1h1m-25 1h1m12 0h1m11 0h1m210 0h3m2 0h1m-1 1h1m-230 3h1m15 0h2m-19 1h2m233 0h1m-245 1h1m10 0h1m233 0h1m-237 1h1m235 0h2m1 2h3m-246 1h1m2 0h2m254 3h1m2 0h1m-10 1h1m5 0h1m1 0h1m12 3h1m-13 1h1m11 0h1m-5 6h1m-1 1h2m17 6h1m-3 1h2m-2 1h1m19 0h1m-14 5h1m-16 1h2m35 4h2m10 1h1m-1 1h3m-31 7h1m25 3h1m-2 1h1m-34 1h1m1 1h1m7 4h1m7 0h1m13 0h1m-41 1h1m25 0h1m-7 1h1m5 0h1m16 2h1m-1 1h1m-41 2h1m39 2h1m-40 2h2m33 0h1m-34 1h1m0 3h1m2 10h1m-1 1h1"/><path stroke="#0cf" d="M208 0h1m20 0h1m-155 1h1m132 0h1m20 0h1m-2 1h2m-153 1h1m-1 1h1m-1 1h2m7 5h1m13 1h1m-6 1h1m4 0h1m-6 1h1m-13 1h1m10 0h2m-3 2h1m-1 1h1m1 1h1m5 0h1m-17 1h2m8 0h1m-1 1h1m-4 1h1m13 2h1m1 1h1m-7 1h1m5 0h1m1 4h1m-11 7h1m-20 1h2m-4 1h1m-1 1h1m1 0h1m27 0h1m-30 1h1m16 5h1m-23 5h1m23 0h2m-1 1h1m0 2h1m138 2h1m-1 2h1m-169 1h1m167 0h1m-173 5h1m186 0h1m-127 1h1m125 0h1m-127 1h3m117 0h1m-184 5h1m-1 2h1m-2 1h1m-2 2h2m-6 1h1m4 2h2m1 3h2m0 1h1m4 0h2m190 1h2m-213 2h3m199 1h1m-191 2h1m-11 1h2m-9 1h1m12 1h1m-4 1h1m2 0h1m198 0h1m-206 1h1m3 0h1m-14 1h1m213 0h1m-215 1h2m179 0h1m31 0h2m-196 1h1m191 0h1m-193 1h1m190 0h1m-197 1h1m1 1h1m7 2h1m-2 1h1m1 0h1m-2 1h1m-5 1h1m0 1h1m4 0h1m-27 1h1m20 0h1m-1 1h1m-19 1h1m24 0h1m-9 1h1m147 1h1m8 0h1m-11 1h1m9 0h2m-171 1h1m155 1h1m2 0h1m-156 2h1m13 0h1m-15 1h1m7 2h1m177 2h1m-182 1h1m149 0h1m31 0h1m-38 3h1m-2 1h2m-143 1h1m-2 1h1m-1 1h2m147 3h1m-149 1h1m153 1h2m3 0h1m-5 1h1m4 0h1m-159 1h1m1 4h1m-1 1h1m154 0h1m-143 1h2m5 0h1m143 1h2m-166 4h2m8 0h1m-14 1h1m5 0h1m9 0h1m160 1h1m-181 1h1m1 0h1m22 0h1m154 0h1m-180 1h1m23 0h1m1 4h1m147 0h1m-153 1h2m2 0h1m6 0h1m-2 1h1m-1 1h1m-8 1h1m8 2h1m-9 1h1m-1 1h1m-24 2h1m-1 1h1m-2 1h1m-8 1h1m6 0h1m174 1h2m-184 1h1m24 0h2m160 0h1m-148 4h1m0 1h1m-28 1h1m25 1h1m153 1h1m1 0h1m-162 1h1m160 0h1m-161 1h2m-20 1h1m160 1h2m1 0h2m-5 1h1m-151 1h1m-42 1h2m191 0h1m-194 1h1m1 0h1m189 0h1m13 0h1m-15 1h1m2 0h1m10 0h1m-213 2h1m195 0h1m26 0h1m-183 1h1m155 0h1m3 0h1m-157 1h1m153 0h2m18 0h1m14 0h1m-191 1h1m1 0h1m173 0h1m13 0h1m-31 2h1m0 1h1m28 0h1m-30 1h1m25 0h1m4 0h1m-233 2h1m-13 3h1m78 1h1m137 0h1m3 0h1m-143 1h1m136 0h2m-138 1h1m4 1h1m145 1h1m-155 1h1m-73 1h1m71 0h1m1 1h1m0 1h1m-102 1h1m4 0h1m4 0h2m-2 1h1m-9 3h2m-2 1h1m245 2h1m11 1h1m-2 1h1m-261 2h1m258 0h1m-25 1h2m3 0h1m-236 1h1m229 0h1m5 0h1m19 0h1m-253 2h3m-18 1h1m238 0h1m-243 1h2m4 0h1m233 0h2m1 0h1m-244 1h1m4 0h1m24 2h1m-7 1h1m-1 1h1m215 1h1m0 1h1m-1 1h1m27 0h1m-252 1h1m218 0h2m-243 1h1m25 1h1m218 0h1m1 0h1m4 0h1m21 0h1m-29 1h1m24 0h1m-2 1h2m-254 1h3m248 0h1m3 0h1m-261 1h2m4 0h1m217 0h1m35 0h1m-16 1h2m-21 1h1m18 0h2m13 0h1m-245 1h1m208 0h2m-217 3h1m-2 1h1m237 0h1m11 0h1m-14 1h1m-22 2h2m-207 1h1m240 0h2m-38 1h2m4 0h1m28 0h1m-271 1h1m235 0h1m-213 1h1m2 0h1m216 1h1m0 1h1m-10 1h2m8 0h1m5 1h2m4 0h1m-11 1h1m4 0h1m3 0h1m-5 1h1m10 4h1m15 8h1m-6 3h1m7 3h1m21 2h2m-13 1h1m16 0h1m-27 1h1m6 0h2m-10 1h1m1 0h1m13 0h1m1 0h1m-9 1h2m22 0h2m-1 1h1m-37 1h2m4 0h1m-5 1h1m2 1h2m29 1h1m-29 1h1m13 0h1m-21 1h1m20 0h3m-24 1h2m34 1h1m5 0h1m-29 1h1m6 0h1m-1 1h1m-20 3h1m15 0h1m-17 1h1m16 0h2m-2 1h1m-18 1h1m49 2h2m-54 2h1m53 0h1m-61 1h1m59 0h1m-54 2h1m48 3h1m0 1h1m-25 7h2m-24 1h1m27 2h1m-19 2h1m-1 2h1m1 0h1m26 0h1m-28 1h1m1 1h1m0 1h1m-2 1h1m6 4h1m-4 1h1m2 0h1m-15 2h1m-1 1h1m6 0h1m6 3h1m0 1h2"/><path stroke="#12ffed" d="M208 0h1m33 0h1m-14 1h1m-1 1h1m-153 1h1m1 0h1m138 3h1m-141 1h1m140 0h1m-141 1h1m3 0h1m-2 1h2m-2 1h1m17 1h1m-19 1h1m12 1h1m-12 4h2m144 1h1m-136 1h1m134 0h1m-136 1h1m134 0h1m-132 1h1m-19 1h2m156 0h1m-137 1h1m134 0h2m-132 2h1m1 2h1m123 2h2m-131 2h1m3 4h1m-4 1h2m1 0h2m130 1h1m-1 1h2m-164 1h1m0 1h1m159 1h1m-161 1h1m160 0h1m-6 1h2m3 0h1m-162 2h3m12 0h1m-18 1h1m1 0h1m-3 1h1m26 0h1m0 1h1m127 1h2m-131 1h1m124 0h1m2 0h1m24 2h1m-184 1h1m159 1h1m-161 1h1m158 0h1m3 0h1m7 0h1m-176 1h1m166 0h1m-115 1h1m109 0h1m-109 1h1m105 0h2m-3 1h1m-107 1h1m-52 2h1m53 0h1m130 0h2m-189 1h2m171 0h1m-171 1h1m53 0h1m130 0h1m-132 1h2m114 0h1m0 1h1m-179 2h1m59 1h1m-57 1h1m165 0h1m-174 5h1m199 0h1m-22 1h1m19 0h1m-26 1h1m-179 1h1m-2 1h1m5 3h1m8 0h1m-3 2h1m-18 1h2m15 0h1m-4 1h1m-7 5h1m-4 1h1m183 2h1m16 1h1m-200 1h1m171 1h1m7 0h1m12 1h1m-205 1h1m182 0h1m19 0h1m1 0h1m-5 1h1m-204 1h2m21 0h1m179 0h1m-204 1h1m1 0h1m21 0h1m146 0h2m33 0h2m-39 1h2m-172 1h1m178 0h2m-160 2h1m153 0h1m4 0h1m-160 1h1m4 0h1m145 0h2m1 0h1m-6 1h1m30 0h1m1 0h1m-190 1h1m2 1h1m150 0h1m6 0h1m-166 2h1m12 1h1m142 2h1m-2 2h1m-2 3h1m-1 1h1m20 0h1m-23 1h2m20 2h1m-2 1h1m-165 1h1m-2 1h1m176 0h1m-177 1h1m150 0h1m26 0h1m-15 1h1m12 0h2m0 1h1m-29 1h2m24 0h1m-11 1h1m10 0h1m-24 1h1m19 0h1m1 0h1m-173 1h1m149 0h1m18 0h1m-171 1h1m158 0h1m9 0h2m-171 1h1m16 5h1m140 0h1m5 1h1m4 1h1m-2 1h1m-169 2h1m24 0h1m144 0h3m-178 4h1m175 1h2m-152 4h1m5 1h1m-14 4h1m-13 1h1m26 1h1m-25 1h1m3 0h2m-13 1h1m6 0h1m167 1h1m2 0h1m-1 1h1m6 0h1m-192 1h2m189 0h1m-192 1h1m179 0h1m15 0h1m-197 1h1m18 0h1m4 0h1m10 0h1m160 0h1m-165 1h1m2 0h1m153 0h1m6 0h2m-17 1h1m1 1h1m14 0h1m2 0h1m-187 1h1m183 0h1m-10 1h1m7 0h1m-200 1h1m197 0h1m3 0h2m-206 1h2m179 0h1m22 0h1m-205 1h1m178 0h2m23 0h1m-203 1h1m33 0h1m143 0h1m-158 1h1m171 0h1m-174 1h2m171 0h2m-17 1h2m-157 2h2m-38 1h2m35 0h1m-38 1h1m36 0h1m182 1h1m-14 3h1m-214 1h1m43 1h1m189 0h1m-28 3h1m-206 1h1m211 1h1m-215 3h1m71 0h1m164 2h2m-165 1h2m133 0h1m-138 1h1m1 0h2m158 3h1m-156 1h1m155 0h1m-157 1h1m0 1h1m-100 1h2m253 0h1m-1 1h1m-264 3h1m-7 1h1m1 0h1m11 0h1m241 3h1m-250 1h2m3 2h1m247 0h1m-23 1h2m-251 1h1m40 0h1m-41 1h1m40 0h1m224 0h1m-263 3h2m245 0h1m-241 4h1m-3 1h3m239 0h1m-8 1h1m-222 1h1m-5 4h1m-18 2h1m15 1h1m220 0h1m29 0h1m-251 1h1m219 5h1m-234 1h1m-2 1h1m14 1h1m12 0h1m227 2h1m-2 1h1m13 0h1m-262 1h1m224 0h2m21 0h1m11 0h1m-260 4h1m233 0h1m6 2h1m5 0h1m-13 1h1m6 0h1m-246 1h1m236 0h1m7 0h1m20 5h2m1 1h1m-2 1h1m2 8h1m0 1h1m24 4h1m-12 1h1m-10 1h1m7 0h1m24 2h2m-36 2h1m19 0h1m3 0h1m2 0h1m-27 1h1m2 1h1m13 0h1m8 0h1m3 0h2m10 1h1m-43 2h1m20 0h2m19 0h1m-43 1h1m20 3h1m26 0h1m2 2h1m-34 1h1m32 0h1m-39 1h3m35 0h1m-36 1h1m-12 4h2m35 0h1m-32 1h1m42 0h1m-46 1h1m-12 1h2m3 2h1m51 0h1m-56 2h2m-2 1h1m50 0h1m-5 4h1m-20 6h1m0 2h1m8 0h1m-26 1h1m3 2h1m1 1h1m0 1h1m2 0h1m0 1h2m1 1h1m-16 7h1m20 8h2"/><path stroke="#7bff84" d="M212 0h2m-3 1h2m3 1h1m26 1h1m-10 3h1m-16 1h1m21 0h1m-159 1h1m-2 1h2m14 3h1m-2 1h1m128 2h1m-132 4h1m142 4h2m-141 1h1m137 6h1m1 0h1m-152 1h1m19 0h1m-22 1h1m19 0h1m-1 1h1m-17 2h1m17 0h1m0 1h1m-2 6h1m135 0h2m-140 4h1m-3 1h1m144 0h2m-17 2h1m-136 2h1m131 1h2m14 1h1m11 3h1m-3 1h2m-16 1h1m15 1h1m-27 1h1m9 0h1m15 2h1m-27 2h1m11 2h1m-177 2h1m176 1h1m3 0h2m13 2h1m-20 5h1m7 8h1m-190 1h1m201 0h1m-7 2h1m-213 8h1m198 1h3m8 0h1m-14 1h1m7 2h1m1 0h1m-7 1h1m-31 2h2m-154 2h1m0 3h1m1 3h1m154 1h1m2 0h1m-166 1h1m-1 1h1m166 0h1m-168 1h1m180 1h1m-15 2h1m17 0h1m-17 2h1m1 0h1m10 1h1m-35 1h1m3 3h1m-150 3h1m0 1h1m177 1h1m0 1h1m-21 3h1m17 0h1m-21 1h1m16 0h1m-152 16h1m152 6h1m-152 5h1m158 2h1m2 3h1m-192 1h1m4 0h1m29 2h1m160 0h1m-184 4h1m21 1h1m3 0h1m-5 1h1m-1 1h1m142 0h1m9 1h1m0 1h1m-171 2h2m157 1h1m2 0h1m9 2h1m-13 1h1m-4 1h1m1 0h1m2 4h1m-2 1h1m-155 1h1m184 0h1m-28 2h1m4 1h1m23 3h2m2 1h1m-241 1h2m238 0h1m-241 1h2m75 2h1m-1 1h1m-74 1h1m232 2h1m-156 2h1m-98 2h1m248 8h1m-26 8h1m-246 1h1m5 0h1m229 3h1m9 0h1m-240 1h1m14 0h1m-18 1h2m5 0h1m8 0h1m5 0h1m208 0h1m-1 2h2m-226 2h1m6 3h1m232 1h1m14 0h1m-250 5h1m-14 3h1m5 1h2m5 0h1m252 0h1m-17 1h1m-255 7h1m236 1h3m-5 1h1m3 0h1m20 1h1m2 0h1m-13 1h1m8 0h2m1 0h1m13 8h1m10 13h1m-1 3h1m13 0h1m14 1h1m-36 2h1m30 2h1m-31 3h1m32 2h1m-15 3h1m-4 4h1m-20 1h2m0 1h1m52 1h1m-45 1h1m-9 7h2m56 4h1m-61 1h1m54 2h1m-3 8h1m-18 1h1m-3 1h1m-8 2h1m5 2h1m-11 5h1"/><path stroke="#e0ff1f" d="M221 7h1m8 13h1m7 3h1m-148 7h1m18 6h1m-19 2h1m19 1h1m-33 6h3m18 1h1m152 4h1m-23 2h1m-2 3h2m-104 9h1m125 0h1m-131 4h1m141 5h1m-4 3h1m-204 2h1m191 4h1m-190 2h1m187 0h1m-191 1h3m-7 4h1m7 1h1m182 6h1m-20 4h1m6 1h1m15 0h1m-8 3h1m-25 3h1m10 0h1m-1 34h1m-152 7h2m163 1h1m-1 9h1m-1 1h1m-1 1h1m-148 6h1m-1 1h1m162 5h1m-11 1h1m-3 1h3m-190 1h1m35 0h1m-1 1h1m-18 2h1m3 5h2m154 2h1m27 3h1m10 11h1m-164 4h1m0 8h1m-3 1h3m129 10h1m22 7h1m-263 3h2m229 2h1m-225 15h1m13 4h1m229 0h1m0 1h1m-256 5h3m278 32h1m38 0h2m-2 1h1m-1 1h1m-31 6h1m42 0h1m-1 1h1m-39 1h2m3 8h2m-1 1h1m33 5h1m-50 4h1m-3 1h2m23 1h1m8 11h1m-2 12h1m-3 2h2m5 3h1"/><path stroke="#ffb500" d="M82 5h1m147 5h1m-2 1h2m1 2h1m-145 7h1m5 12h1m14 1h1m1 0h1m127 1h1m-159 11h2m158 3h1m-10 7h1m-108 11h1m133 10h1m-198 9h3m8 0h1m177 11h1m-31 6h1m22 6h2m-2 1h2m-31 17h2m-1 1h2m-144 4h1m162 6h1m-2 1h1m12 27h1m-172 1h1m21 1h1m-21 2h1m173 9h1m14 1h1m-185 1h1m-21 4h1m179 6h1m33 7h1m-238 2h2m229 18h1m-10 7h1m-241 1h2m222 1h1m-226 2h1m-1 1h2m231 7h1m6 0h1m-2 1h2m-256 11h1m267 5h1m-14 1h1m16 19h1m1 0h2m15 23h2m-2 1h2m3 4h1m2 4h1m26 0h1m-41 14h1m36 13h1"/><path stroke="#ff4d00" d="M212 0h2m23 10h1m-9 1h2m-134 2h1m10 18h1m-8 17h1m156 9h1m-27 1h1m17 17h2m-8 34h2m-10 1h1m-2 1h2m5 1h2m-179 1h1m176 0h1m-178 1h1m181 15h1m-175 6h1m23 31h2m-2 1h2m154 6h1m-1 1h1m12 2h1m-8 1h1m-18 1h1m-149 7h1m176 8h1m-1 1h1m-4 6h1m-1 1h1m-149 10h1m-1 1h1m-101 16h2m1 0h1m-1 1h1m243 1h1m-1 1h2m-2 4h1m-5 1h1m1 0h1m-3 1h1m1 27h1m45 23h1m16 6h1m-35 15h1m-3 9h1m28 23h1"/><path stroke="#f00" d="M44 0h2m3 0h1m161 0h2m-170 1h1m1 0h2m1 0h2m20 0h2m140 0h1m29 0h1m-199 1h1m3 0h2m21 0h1m5 0h1m-30 1h1m2 0h1m20 0h1m141 0h1m-168 1h1m194 0h1m-198 1h1m1 0h1m2 0h1m1 0h1m-7 1h2m2 0h2m21 0h1m3 0h1m-26 1h1m-3 1h2m2 0h1m19 0h2m-27 1h2m32 0h1m146 0h1m-181 1h2m1 0h1m21 0h2m157 0h1m-185 1h1m1 0h1m1 0h2m174 0h2m-182 1h5m22 0h1m16 0h1m-43 1h1m2 0h2m-5 1h1m1 0h1m1 0h1m-5 1h1m2 0h1m22 0h1m-27 1h1m1 0h2m1 0h1m20 0h1m17 0h1m-44 1h1m1 0h1m1 0h1m20 0h1m-26 1h1m1 0h3m20 0h1m-24 1h1m1 0h1m20 0h1m7 0h1m-33 1h1m1 0h1m30 0h1m5 0h1m5 0h1m-45 1h1m2 0h1m25 0h2m9 0h1m-38 1h1m1 0h1m21 0h1m2 0h1m3 0h1m148 0h1m-182 1h1m1 0h1m17 0h1m1 0h1m13 0h1m-39 1h5m26 0h1m4 0h1m11 0h1m-45 1h1m18 0h1m12 0h1m-34 1h1m31 0h2m1 0h2m143 0h1m-146 1h1m144 0h1m-177 1h1m30 0h1m-6 1h1m20 0h1m-53 1h1m2 0h1m1 0h1m16 0h1m16 0h1m-39 1h2m1 0h1m17 0h1m5 0h1m7 0h1m-36 1h1m20 0h1m-21 1h2m1 0h1m176 0h1m-182 1h1m1 0h1m17 0h1m-21 1h1m3 0h1m20 0h1m-26 1h2m2 0h2m-5 1h1m1 0h2m14 0h1m-17 1h1m15 0h1m34 0h1m-55 1h1m1 0h1m1 0h2m179 0h1m-185 1h2m176 0h1m2 0h1m3 0h1m-185 1h4m-5 1h1m1 0h1m14 0h1m-18 1h1m2 0h1m16 0h1m157 0h1m-179 1h1m176 0h1m-155 1h1m168 1h1m-192 1h1m1 0h1m19 0h1m18 0h1m149 0h2m-194 1h1m2 0h1m177 0h1m-183 1h4m180 0h1m-185 1h1m2 0h2m-5 1h2m12 0h1m159 0h1m-173 1h2m-1 1h1m9 0h1m183 1h1m-196 1h1m9 0h1m-13 1h1m1 0h1m197 0h1m-259 1h1m56 0h3m-60 1h3m54 0h1m65 0h1m-123 1h1m1 0h1m54 0h2m9 0h1m1 0h1m172 0h1m-244 1h1m55 0h1m1 0h1m-56 1h1m54 0h1m67 0h1m-122 1h4m-7 1h1m2 0h3m64 0h1m158 0h2m-234 1h1m4 0h1m50 0h1m-55 1h2m1 0h1m2 0h1m63 0h1m57 0h1m-131 1h1m1 0h1m2 0h3m49 0h2m-59 1h1m1 0h1m6 0h1m1 0h1m1 0h1m111 0h1m-125 1h3m1 0h1m5 0h4m50 0h1m8 0h1m161 0h1m-233 1h2m1 0h1m2 0h1m2 0h2m40 0h2m70 0h1m110 0h1m13 0h1m2 0h1m-256 1h1m2 0h1m1 0h3m1 0h3m2 0h1m-12 1h4m1 0h1m2 0h2m-11 1h1m4 0h1m1 0h1m7 0h2m36 0h1m-54 1h1m4 0h2m5 0h6m34 0h1m-53 1h1m2 0h2m2 0h1m1 0h1m4 0h1m1 0h1m34 0h2m9 0h1m-61 1h1m1 0h1m1 0h2m1 0h2m4 0h1m36 0h1m194 0h1m9 0h1m-255 1h2m12 0h2m32 0h2m-48 1h3m6 0h1m3 0h2m216 0h1m-232 1h4m2 0h4m4 0h2m29 0h2m184 0h1m19 0h1m-250 1h1m1 0h2m1 0h1m1 0h4m1 0h2m30 0h1m8 0h1m188 0h1m1 0h1m2 0h1m-246 1h1m8 0h1m31 0h1m22 0h1m175 0h1m-242 1h1m4 0h3m1 0h1m3 0h1m230 0h1m-243 1h2m1 0h2m2 0h1m1 0h1m1 0h2m37 0h1m-48 1h1m3 0h3m1 0h1m1 0h1m25 0h1m5 0h1m2 0h1m5 0h1m6 0h1m194 0h1m-255 1h1m1 0h3m2 0h1m48 0h1m-57 1h2m1 0h1m1 0h3m2 0h1m24 0h1m14 0h2m3 0h1m-53 1h4m2 0h4m236 0h1m-244 1h1m4 0h2m-7 1h1m1 0h1m3 0h1m-9 1h1m4 0h1m1 0h1m21 0h2m-30 1h2m1 0h3m2 0h2m-9 1h2m2 0h1m2 0h2m-9 1h1m2 0h2m1 0h1m-7 1h2m4 0h3m235 0h1m-244 1h2m3 0h2m1 0h1m34 0h1m2 0h1m194 0h1m-238 1h1m1 0h1m18 0h1m-25 1h3m3 0h1m-6 1h1m2 0h2m2 0h1m-8 1h7m16 0h1m199 0h1m-223 1h1m5 0h1m-5 1h3m2 0h1m190 0h1m-198 1h3m2 0h3m13 0h1m189 0h1m6 0h1m-216 1h1m207 0h1m1 0h1m-209 1h1m15 0h1m173 0h1m19 0h1m-214 1h1m207 0h1m-209 1h1m4 0h1m0 1h2m41 0h1m146 0h1m11 0h1m-203 1h1m210 0h1m-215 1h1m4 0h1m-5 1h1m3 0h1m13 0h1m171 0h1m11 0h1m-204 1h1m19 0h1m181 0h1m-203 1h3m1 0h1m201 0h1m-206 1h1m1 0h1m18 0h1m11 0h1m151 0h1m-186 1h2m20 0h1m3 0h1m10 0h1m-37 1h1m2 0h1m25 0h1m153 0h1m20 0h1m2 0h1m1 0h1m-210 1h3m1 0h1m18 0h1m-21 2h1m2 0h1m-5 1h2m2 0h1m1 0h1m17 0h1m-25 1h3m-1 1h2m1 0h1m19 0h2m188 0h1m-212 1h1m1 0h2m18 0h1m4 0h1m-29 1h2m1 0h1m170 0h1m1 0h1m-176 1h1m2 0h2m19 0h1m-26 1h1m1 0h1m22 0h1m-24 1h2m21 0h1m-23 1h1m1 0h2m172 0h1m-179 1h1m1 0h1m174 0h2m-179 1h1m4 0h2m167 0h1m2 0h2m-173 1h1m-2 1h1m20 0h1m-26 1h1m1 0h3m1 0h1m18 0h1m-23 1h4m-2 1h1m196 0h1m-202 1h2m1 0h2m20 0h1m5 0h1m164 0h1m-194 1h1m1 0h1m24 0h1m168 0h1m-197 1h3m30 0h1m158 0h1m-195 1h1m3 0h2m189 0h1m-196 1h3m2 0h2m183 0h1m-188 1h2m190 0h1m-195 1h1m24 0h1m20 0h1m144 0h1m-189 1h3m-7 1h6m25 0h1m-29 1h1m1 0h1m21 0h1m-28 1h1m2 0h1m2 0h1m25 0h1m-32 1h1m4 0h1m18 0h1m24 0h1m-50 1h1m1 0h2m41 0h1m5 0h1m150 0h1m-202 1h1m3 0h1m35 0h1m8 0h2m-51 1h1m1 0h1m31 0h1m5 0h1m-40 1h3m36 0h1m-40 1h1m2 0h1m17 0h1m8 0h1m2 0h1m5 0h1m6 0h1m-50 1h1m1 0h2m1 0h1m28 0h1m1 0h1m4 0h1m3 0h1m1 0h1m156 0h1m-203 1h2m30 0h2m2 0h1m165 0h1m-205 1h2m1 0h1m20 0h1m-23 1h1m1 0h2m19 0h1m5 0h1m3 0h1m2 0h1m2 0h1m-42 1h1m1 0h1m22 0h1m5 0h3m6 0h1m9 0h1m-47 1h2m18 0h1m6 0h1m8 0h4m13 0h1m-54 1h2m28 0h1m6 0h1m9 0h1m-53 1h1m4 0h1m20 0h1m16 0h1m18 0h1m-62 1h1m1 0h1m1 0h1m47 0h1m-54 1h1m2 0h1m20 0h1m-25 1h2m22 0h1m6 0h1m-33 1h1m4 0h1m18 0h1m185 0h1m-209 1h3m26 0h1m14 0h1m-48 1h3m21 0h1m-24 1h1m3 0h1m17 0h1m-25 1h1m1 0h1m58 0h1m152 0h1m-215 1h1m4 0h1m17 0h1m17 0h1m17 0h1m-60 1h2m3 0h1m17 0h1m-25 1h1m2 0h1m46 0h1m-51 1h2m1 0h1m19 0h1m33 0h1m168 0h1m-227 1h1m21 0h1m-24 1h4m-2 1h1m214 0h1m-216 1h2m40 0h1m172 0h2m-199 1h1m211 0h1m-236 1h1m1 0h1m2 0h1m25 0h1m-32 1h1m2 0h1m206 0h1m-211 1h1m2 0h1m233 0h1m-240 1h1m1 0h1m-2 1h1m2 0h1m15 0h1m4 0h1m-28 1h1m4 0h1m18 0h1m198 0h1m-225 1h3m1 0h1m-6 1h1m4 0h1m15 0h1m3 0h1m36 0h1m154 0h1m-217 1h2m1 0h1m18 0h1m2 0h1m34 0h2m167 0h1m-232 1h2m1 0h1m1 0h1m14 0h1m222 0h1m-244 1h1m18 0h1m-20 1h1m-4 1h3m1 0h2m15 0h1m-23 1h4m1 0h1m217 0h2m-225 1h1m1 0h1m18 0h1m-23 1h1m1 0h1m1 0h1m16 0h1m221 0h1m-244 1h1m1 0h1m16 0h1m233 0h1m-254 1h1m244 0h1m4 0h1m-234 1h1m-20 1h2m16 0h1m2 0h2m226 0h1m-253 1h1m1 0h1m255 0h1m-262 1h2m30 0h1m218 0h1m-255 1h3m35 0h1m-40 1h1m1 0h5m28 0h2m219 0h1m-260 1h1m1 0h1m1 0h1m1 0h1m19 0h1m11 0h2m222 0h1m3 0h2m-269 1h1m1 0h1m1 0h2m1 0h1m18 0h1m239 0h1m12 0h1m-281 1h1m3 0h1m1 0h1m105 0h1m-116 1h1m3 0h1m1 0h1m248 0h1m-256 1h1m2 0h4m20 0h2m16 0h1m75 0h1m156 0h1m-278 1h4m21 0h1m99 0h1m-126 1h1m22 0h2m-9 1h1m5 0h1m7 0h1m-18 4h1m8 0h1m95 0h1m-107 1h1m105 0h2m-105 1h1m1 0h1m4 0h1m256 0h1m-266 1h1m-3 2h1m4 0h1m103 0h1m-109 1h1m0 1h1m-9 1h1m12 0h1m246 0h1m-264 1h1m1 0h1m14 0h1m239 0h1m-262 1h1m12 1h1m8 1h1m232 0h1m5 0h1m-258 1h1m6 0h1m10 0h1m9 0h1m227 0h2m-255 1h1m17 0h1m3 0h1m-4 1h1m1 0h1m-8 1h1m16 0h1m220 0h1m-239 1h1m-6 1h1m3 0h4m-10 1h1m243 0h1m7 0h1m-25 1h1m-231 1h1m237 0h1m5 0h2m-239 1h1m228 0h1m18 0h1m-240 1h1m227 0h1m-1 1h1m-237 1h1m223 0h2m-224 1h1m5 0h1m218 0h1m8 0h1m-254 3h1m3 0h1m-7 1h1m17 0h1m2 0h1m-7 1h1m240 0h1m-239 1h1m2 0h1m238 1h1m-229 2h1m-27 1h1m9 1h2m5 0h1m9 0h1m241 1h1m-271 2h1m9 0h1m-12 1h1m25 1h1m208 0h1m-209 1h2m207 0h1m2 3h3m-2 1h2m-237 1h1m248 0h1m-251 1h2m257 1h2m6 4h1m6 8h1m11 10h1m5 2h1m-10 1h1m17 0h2m-2 1h1m-8 4h1m17 0h1m5 1h2m-17 1h1m16 1h1m-31 1h2m-3 1h1m1 0h2m-2 1h1m9 4h1m-6 1h1m-18 1h1m16 0h1m-18 1h1m7 2h1m37 2h1m-46 1h1m19 0h1m-19 3h1m-4 2h1m3 0h1m45 0h1m-3 1h1m4 1h1m2 1h1m-9 1h1m3 0h1m-49 1h2m-1 1h1m46 0h1m-12 1h1m10 0h1m-13 1h1m10 0h1m-15 1h1m4 0h1m11 0h2m3 0h1m-18 1h1m-32 1h1m38 1h2m-38 1h1m2 0h1m28 0h1m9 0h1m-16 1h1m5 1h1m8 0h1m-18 2h2m3 0h1m1 0h1m0 2h1m2 0h1m3 0h1m-13 1h1m9 0h3m-10 1h1m2 0h1m-6 1h1m9 0h1m1 2h1m-32 2h2m5 0h2m8 0h1m-16 1h1m6 0h1m6 0h1m-15 1h1m8 0h1m3 0h1m-3 1h1m-8 1h1m3 0h1m6 0h1m-9 1h1m1 0h1m-7 1h1m6 0h1m-1 2h1"/></g></g>
<use href="#qd" transform="matrix(-1 0 0 1 700 0)"/><use href="#qd" transform="matrix(1 0 0 -1 0 700)"/><use href="#qd" transform="matrix(-1 0 0 -1 700 700)"/></svg>
<path class="t" d="M1237.4 1253.5v-5.0M1237.4 719.2v5.0M1161.4 795.2h5.0M1695.9 795.2h-5.0M1313.7 1253.5v-5.0M1313.7 719.2v5.0M1161.4 871.5h5.0M1695.9 871.5h-5.0M1390.0 1253.5v-5.0M1390.0 719.2v5.0M1161.4 947.8h5.0M1695.9 947.8h-5.0M1466.3 1253.5v-5.0M1466.3 719.2v5.0M1161.4 1024.1h5.0M1695.9 1024.1h-5.0M1542.5 1253.5v-5.0M1542.5 719.2v5.0M1161.4 1100.3h5.0M1695.9 1100.3h-5.0M1618.8 1253.5v-5.0M1618.8 719.2v5.0M1161.4 1176.6h5.0M1695.9 1176.6h-5.0M1695.1 1253.5v-5.0M1695.1 719.2v5.0M1161.4 1252.9h5.0M1695.9 1252.9h-5.0"/><path class="b2" d="M1695.90 719.20V1253.50H1161.40"/><path class="b" d="M1161.40 1254.00V719.20H1696.40"/><g class="xl"><text transform="matrix(.957 0 0 1 1237.5 1279.4)">100</text> <text transform="matrix(.957 0 0 1 1313.8 1279.4)">200</text> <text transform="matrix(.957 0 0 1 1390.1 1279.4)">300</text> <text transform="matrix(.957 0 0 1 1466.4 1279.4)">400</text> <text transform="matrix(.957 0 0 1 1542.6 1279.4)">500</text> <text transform="matrix(.957 0 0 1 1618.9 1279.4)">600</text> <text transform="matrix(.957 0 0 1 1695.2 1279.4)">700</text> </g><g class="yl"><text transform="matrix(.957 0 0 1 1155.7 803.4)">100</text> <text transform="matrix(.957 0 0 1 1155.7 879.7)">200</text> <text transform="matrix(.957 0 0 1 1155.7 956.0)">300</text> <text transform="matrix(.957 0 0 1 1155.7 1032.3)">400</text> <text transform="matrix(.957 0 0 1 1155.7 1108.5)">500</text> <text transform="matrix(.957 0 0 1 1155.7 1184.8)">600</text> <text transform="matrix(.957 0 0 1 1155.7 1261.1)">700</text> </g>
<g class="c"><text x="1164.3" y="1338.4" textLength="49.1" lengthAdjust="spacingAndGlyphs">(<tspan class="k">d</tspan>)</text> <text x="1221.2" y="1338.4" textLength="60.9" lengthAdjust="spacingAndGlyphs">Tao</text> <text x="1290.4" y="1338.4" textLength="30.8" lengthAdjust="spacingAndGlyphs">et</text> <text x="1329.5" y="1338.4" textLength="41.6" lengthAdjust="spacingAndGlyphs">al.</text> <text x="1379.4" y="1338.4" textLength="54.6" lengthAdjust="spacingAndGlyphs">8th</text> <text x="1442.3" y="1338.4" textLength="92.5" lengthAdjust="spacingAndGlyphs">order</text> <text x="1543.1" y="1338.4" textLength="124.8" lengthAdjust="spacingAndGlyphs">method</text> </g>
<svg x="71.3" y="1408.3" width="533.7" height="533.4" viewBox="0 0 699.607 699.213" preserveAspectRatio="none" shape-rendering="crispEdges"><rect width="700" height="700" fill="#009"/>
<g id="qe"><path fill="#00c" d="M350 350l-118 0-2-4-5 0-2 2 0 2-224 0 0-351 351 0 0 238-3 0-1 1 0 5 2 2 2 0zM98 91l0-2-2 0 0 2z"/><path fill="#00f" d="M350 350l-72 0-1-14-1 0 0-5-2-3 0-3-6-12-5-5 0-2-4-3 0-2-39-39-2 0-7-8-2 0-4-5-2 0-11-11-2 0-3-4-2 0-2-3-2 0-4-4-8-4-3 0-3-2-5 0 0-1-12 0 0 1-8 1-8 4-1 2-2 0-2 3-2 0-12 12 0 2-7 7 0 2-5 5 0 2-2 1 0 2-2 1 0 2-2 1-2 5-4 4 0 2-3 2 0 2-2 1 0 2-2 1 0 2-4 4 0 2-2 1 0 2-3 2 0 2-4 4 0 2-8 9-7 6-6 3-3 0 0 1-13 0 0-1-6 0 0-1-5 0 0-1-6 0 0-1-14 0 0-82 2 0-2-1 0-41 3 0 2-2 5-1 1-2 5-1 1-3 3 0 0-2 2-2 2 0 1-3 3-1 3-8 2 0-1-1 1-3 2 0-1-2 2 0-1-3 1 0 0-3 2 0-1-3 3-4-1-2 2-2-1-2 2-1-1-2 2-1-1-2 1 0 0-5 2-3-1-1 0-3 1 0-1-2 2 0-1-1 1-2-1-1 1-2-1-2 1-6-1-1 1-1-1 0 0-4-1 0 1-3-1 0 0-4-1 0 0-6-2-1 1-2-2 0 1-3-2 0 1-3-2 0-1-6-2 0 1-2-2 0-1-2 1-2-2 0 0-3-2 0-1-5-4-3-2-5-5-3 1-2-3-1-1-3-4-2-1-3-2 0 0-2-3 0-3-4-2 0 0-40 351 0 0 80-12 2-6 3-1 2-2 0-11 12-6 12-1 6-3 6 0 4-3 6 0 4-2 3-1 6-1 0 0 4-3 6 0 4-1 0-1 7-1 0-1 7-1 0 0 5-1 0 0 5-1 0 0 6-1 0 0 9-1 0 1 20 1 0 0 4 1 0 2 9 9 18 2 1 3 7 3 2 0 2 9 9 2 0 6 5 3 0 2 2 4 0 0 1 13 1zM161 23l1-1 0-2-3 1zM208 80l0-2-2 0 0 2zM151 85l0-2-2 0 0 2zM98 91l0-2-2 0 0 2zM120 165l1-3-1-1-3 0-1 1 1 3zM72 197l-1-2 0 2zM36 287l1-2-1-1-3 0 1 3z"/><path fill="#03f" d="M350 350l-38 0 0-1-1 1-10 0 0-2-3 0-1 2-7 0 0-6 5-5-1-3 3-1 0-2-2 0 0-5-4-4-2 0 0-2-4-4-2-4 1-3-2 1 0-8 2-1 0-2-3-6 2-2-5 1-2-3-8 0-2-3-2 0-3-4-1-5-1 0 1-7-2-1 0-4-2 1-1-3-1-1-3 0-4-5-3-20-3-5 0-3-3-4 0-3-1 0-5-18-2-2-5-1-3-2 1-6-3 3-3 0-5-6-7 0 0-1-6-1-1-2-2 0-8-8 0-2-12-13 0-2-7-7 0-2-10-10-2 0-2-3-2 0-4-4-4-1-1-2-4-1-4-4-4-1-4-4-8-3-1-2-4-2-6-1 0 1-4 0-1 2-2 0 0 2-5 5-1 4-2 1-1 4-3 3-5 0-5 4 0 2 3 0 0-1 8 0 3 4 0 4 2 3 0 2-2 2 2-1 0 2 4-1 3 3 1 2 0 7-1 0 0 5-3 3 0 2-6 4-6 0 0-1-4 0 0-1-4 0-1 2-3 0-2-2 1 3-4 2-1 4-7 7-2 1-13-1-8 11-3 0 0-1-6 1 0 2 9 2 2 7 6 2-2 1 0 1 3-1 0 2-4 0 0 4-1-2-2 0 2 3-1 1-3 0-3 5-8-1 1 1-1 2 1 6 2 1 3-1 0 2 1-2 2 1-3 5 1 1 0 6-4 4-8 4-5 0 0 1-8 0 0-1-3 0-3-3-1-6 2-4-1-2-3 0-1-2-2 0 0-4 4 0 1 2 2 0 0-2-3-1-1-4-3-1 0-16 3-1 0-2-3 0 0-7 2 0 3-4 3 0 0-1 6 0 0 1 9-1 0-2 5-5 3 0 1-3 3-1 0-2 5-2 0-3 5-2 0-2 3-1 3-4-1-1 1-4-1-1 2 0 0-2-3-3 0-5 1 0-1-3 2-1 1-5 1-1 5-1 0-2 4 1 0-3-1-1 2-2 3 0 0-3-1 0 0-3 2-1-1-2 6-9-1-1 1-5 2 0 0-5 3-2-1-2 2-1-1-2 2 0 0-3 1 0-1-3 2-1-1-2 2 0-1-3 2 0-1-2 2 0-1-2 2 0-1-1 2-1-1-2 2 0 1-8 2 0 0-3 1 0-1-4 2 0-1-3 2-1-1-2 1-2-2-1 1-2-3-2-1-4 1-1-1-1 1-4-1-1 2 0 0-2 3-3-1-1-1 1-5-1-2-2 0-2-3-1-2-6-2-1 1-2-2 0-1-2 1-2-2-2 1-3-2-1 1-5-2 0 1-5-2 0 1-3-2-1 0-4-1 0 1-2-1 0 0-2 52 0 0 4-3 3-7 3-2 4 0 3-3 4 1 3 4 0 3-5 4-1 1-2 5-2 7 6 4 9 2 1 6 0 0 1 5 0 0 1 3 0 4 3 3 0 3 2 12-1 8-5 0-2 4-4 0-3 2-3 1-19 69 0 0 4-1 0 0 4-2 3-2 12-1 0-5 18-2 2 0 3-3 4-2 8-4 7-1 7-2 3 0 5-1 0 0 20 1 0 0 4 1 0 0 4 1 0 2 9 2 2 1 6 3 6 0 4 1 0 0 3 3 6 0 4 1 0 2 11 1 0 0 10-1 0-1 10-1 0-1 5-5 5 0 3 6 5 4 9 2 1 2 5 3 2 4 9 6 6 0 2 3 3 2 0 7 8 3 1 4 8 0 4 8 1 6 6 2 4 0 3 1 0 0 12 1 1 1-1 13 0 6 3 1 2 4 1 7 7 3 0 1-3 2 0 3-3 5 0 0 6-1 0 0 2 1 0zM106 32l1-3-3 0 0 2zM125 37l0-3 1 0-1-4-1-1-5 0-1 1-1 6 3 0 0 1zM109 43l0-3-3-1 0 3 1 1zM118 43l-1-4-4 0 1 3zM145 50l3-1 1-2 0-4-3-3-6 0-5 3 0 3 2 0 1 2zM116 46l0-2-3 0 0 2zM103 54l2-3 0-3-4-3-3 2 0 5 3 2zM109 52l1-3-3 0 0 2zM132 56l0-3-3 1 1 2zM128 56l0-2-3 1zM141 67l3-1 3-3 0-6-1-1-5-1 0-1-5 0-2 5-1-1-3 0 4 3 0 5 1 1zM126 61l-1-2 0 2zM130 65l0-3-3-1-1 3 1 1zM98 69l1-2-3-2 0 3zM150 102l11-3 6-7 0-9-5-6-6-3-10 0 0 1-8 1-2 2-9 1-2 2 0 3 2 4 10 11 4 2zM208 80l0-2-2 0 0 2zM98 91l0-2-2 0 0 2zM89 148l2-1-1-2-3 1zM68 152l-1-4-2 0 0 3zM73 151l1-2-3 1zM81 153l1-2-2 0 0 2zM78 160l1-2 0-5-3 1 0 5zM55 166l0-2 3 0 0-4 2 0-1 3 2-1 0-3-1-1-2 2-3 0 0 4-1 0 0 2zM97 166l2-3 0-3-2 0-1 2-2-1 0-2-3 0-1 1 0 2 2 0-2 2 2 0 0 2 1-4 2 0-1 1 0 2 1 1zM88 163l0-2-3 0 0 2zM228 181l0-3 5 0 1-1 1-6-1 0-1-5-2-2-7-1-3 3 0 3-1 0 1 1 0 5 2 3 4 0 0 3zM60 167l-1-2-2 0 0 2zM79 169l0-4-2 0-1 2zM88 168l1-1 0-2-3 1zM61 171l-2-1 1-2-2 0 1 3zM84 176l0-4 3 0 1-2 1 1 2-1 0 2 4-2-1-1-1 1-7-1-2 1 0 2-1-1-1 1-3-1 1 2 2 0 0 3zM217 183l0-7-4-5-4 0-3 2 0 6 2 3 2 1zM55 176l1-3-3 0 0 2zM93 176l1-3-5 0 0 3zM79 181l-1-3-2 0 1 3zM225 182l0-2-2 1zM230 184l2-1 0-2-2 0-2 2zM72 184l0-2-2 0 0 2zM64 189l0-3-3-1 1 4zM68 189l0-3-2 0 0 3zM62 193l0-3-1-1-4-1 1 5zM221 193l1-2 3 0 0-2-4 2-1-2-2 2 0 2zM229 198l1-4-3 0-1 3 1 1zM23 213l-1-3-3 1 0 2zM11 217l0-2-2 0 0-4-5 3 1 1 2-1zM32 220l0-3-3 1 0 2zM26 222l2-2-2 0-1 1zM36 225l1-3-3 0 0 2zM34 230l-2-3 0 3zM10 231l-1-2 0 2zM7 234l-2-2 0 2zM35 234l-3-2-2 0 1 2zM5 238l1-3-2 0-1-2 0 2 1 1-2 1 1 1zM26 243l1-2-4-2 4 0 0-2-2-1-1 2-3-1 1 2-1 1zM7 239l-1-2 0 2zM18 239l0-2-2 1zM10 249l1-1 0-7-1-2-2 0-2 1 0 2 2 1 0 4-1 1 2-1 0 2zM15 248l1-4-2-1-1 1 0 3zM18 245l-1-2 0 2zM31 253l2-1 0-4-1-1-3 0-1-3-2 0-1 3 2 0 0 4zM22 249l0-4-2 1-1-1 1 3zM6 249l0-2-3 1zM278 254l3-4-2-2-3 0-1 2 1 2 2 0-1 1zM14 256l1-5 2 0 0-1-3-1-2 2-2-1 1 2-3-1 1 1-1 2 1 2zM266 255l0-2 2-2-3-2-1 1 0 3 1 2zM262 254l0-3-2 0 0 2zM275 256l-2-1 2-2-1-2 0 2-2 0 0 2 1 1zM270 255l1-1 0-2-3 1zM259 260l-1-3 4 0-2-1 0-2-1 2-2 0 0 3zM256 261l0-3-2-1-1 3 1 1zM292 263l1-3-2-2-2 0-1 4 1 1zM292 267l2-3-3 0-1 1 0 2zM263 271l1-5-3 0 0 3 1 2zM297 273l1-1 0-4-1-1-3 0-2 2 1 2-1 2 1-1zM291 272l-2-2 0 2zM267 280l1-3-1-2-2 0-1 1 0 4zM289 279l2-2-1-2-1 1 1 1-2 1zM295 277l1-2-3 0 0 2zM272 282l2-5-1 1-3-1-1 1 0 4zM276 280l0-2 2 0 0-1-2 0-2 2zM274 287l1-1 0-2-5 0 0 3zM318 290l-1-2-2 0 1-1 0-3-4 0 1 5zM281 291l0-3-2 0 0 3zM314 292l0-2-2 0 0 2zM36 293l-3 0 0-2 2 0zM318 313l1-2 2 0 0-2 3-2 0-2 4-1 0-2 2-1 0-6-5-4-9 1-3 5-1-1-3 1-1-3-3 0 2 4 2-1 0 3 1 0-1 4 3 6 2 2zM347 298l1-2-2 1 0-2 2 0 0-4-3 0-1 1 1 6zM294 301l2-2-1-4-3-3-4 0-2 2 0 3 5 4zM344 297l-1-2 0 2zM334 300l0-2-2 0 0 2zM303 305l2-3 3-1 0-2-3 0 0 3-2 0-1-2-7 1 0 2 2 0 0 2 2 0-1-2 2 0 1 2zM331 305l-1-2 0 2zM292 307l2-2-3 0 0 2zM292 310l0-2-2 0-1-2-3 0 0 4 2 0 0-2 2 0 0 2zM328 308l-1-2-2 1zM302 324l0-2 2-2 7-3 0-3-4-5-3-2-6 0 0 1-4-1 1 2-3 4 0 3 3 5 2 0 3 3zM327 313l-1-1 1-1 0-2-5 1 0 2 3-1zM329 314l1-1 0-2-2 0 1 1-1 2zM322 315l-1-2-2 0 1 2zM318 316l-1-2-2 0zM309 325l-1-3 1-1 4 1 0-3-4 0-1 2-2 0 0 2 2 0 0 2zM312 321l-2-1 2 0zM332 339l2-14-2-2-2 0-5 10 0 3 2 0 2 3zM300 332l1-2-3 0 0 2zM299 338l0-2-2 0 0 2zM298 347l1-2 2 0 0-2-2-1-5 2 0 3zM303 349l-1-2 0 2z"/><path fill="#06f" d="M237 203l-2 0-1-3-4-2 1-2 3 1 1-4-3 0-1 2 0-3-3 0-2-3-4 0 0-1-3 1 0-2-3 1 3 2-1 2-2 0 1-2-6-1-1-3 9 0 2-1-1-1 0-4-1 0 0-4-5-5 1-3 3-1 0-2-4 0-2 1 0 3-3-1-3 3-4-2 1-2-4 0 0 3-1-2-5 0 0 4 4 2 2-1 2 1-1-2 5-1-2 4 1 3-3 1 3 0 1-1 0 3 4 4 0 2-6 0-1-3-3 1 1-3-1-1-1 1 1 2-2 0 0-6-1-1-3 0-2-2-1-10-5-1-4-5 0-4 1 0-1-4 1-1-2-1 0-2-5-1-8-6-1-2 0-6-2 0-2-2 1-1 0-3-2 4-1-1-10 1-1-2-2 0 1-2-2 0 0-2-2-2-5 0-3-3 0-2-5-5-3-1-1-3-12-1-7-7-6-2-3-3-2 0-3 4-2 0 2 1 1 4 2 1-1 4-1 1-5 0-1 2-3 0 2 2-4 1-2 3 3 3-1 4-2 0-2 5-1 1-3 0-3 4 2 1-2 1 0 3 3-1 1 2-1 3-2 1 0 3-2 0 1-3-2-2-3 0-1 5-4 0 3-1 0-3 2-2 0-5 2-2 2 1-1-3 2 0-1-2 2-1 2-4-2-1 0-2 5 1-4-1 0-2 2-1 2 1-1-3 6-9-2-2 0-3 4-3 2 1-1-1 1-4 7-8 1 2 2 0 0-2-2 0 0-2 2 0-1-3 1 0 1-8 6-6 0-3 2 0 1-2 0-2-1 1-3-1-2-4-1 0 1 2-5 0-2-1 1-4-2-1 1-2-3 0-1-2 0-2 4 2-1-2-2 0 2-6-2-2-2 0-4-5 0-3-2-2 2-2-2-1 0 2-2 0-2-2 1-10 1 0-2-1 0-7-1 0 0-9 1 0 0-2 11 0 0 2-3 3-2 0 0 8-2 1 0 2 3-2 4 6 2 1 2-1 2 2-1 2 2-1 1 1 0 4-2 3-4-1 1 2-3 0 0 2-2-1 1 4 2 0 0 3 1 1 2-1-1 3 1 1 2-1 1-3 1 2 3 0 1 1-1 2 3-2 0 2-1 1 2-1 0 2 4-2 0 3-3 3-1-3-2 0-1-2-5 0-1 1 1 3-2 0 0 5 3 1 0 2 2-1 2 2 4 0 1-1-1-2 3-1 0-2 2 1 4-2 1-1-1-2 2-1-2 0-2 2-1-3 4 0 1-2 2 0-1-4 2 0-1 2 4 1 3-6-1-8 3 0 1 1-2 2 0 2 7 0 2-1 3 2-1 2-2-1 1 2-5 1-5 6 1 2 8 2 1 3-7 0 0-1 2 0-2-2 0 2-4 0 0 2-2 2-1-1-3 0 3 1-3 1 0 1 6-1-1 2-4 0 3 1-2 1 0 1 3 0-1 2-3 0 1 3 4 0 1 1 3-3 1 2-2 0-1 3 3-1 0 1 3 0-1 3 2 1-12 0 0-1-4 0 0-1-3 0-1 1 0 18 9 8 1 6 4 2 6 1 0 1 13 0 0 1 4-3 8 0 0 1 3 0 3 4 3-1 5-12 3-3 1-10-2-4-2-1 0-2-2-1 0-2-3-3-2 0-1 2-5 0-3-2 0-2-2 1-7 0-3-2 0 2 2 1-2 1-3-2-1 1-7 0-1-1 2-1 1 1 2-2 4 1 0-2 2 0 1-2 6 2 1 2 3-1-1-4-3 0 0 1-5 0 0-3 3-1 0-2-3-3 1-4 2-1-2-1 0-3 2 0-1-1 1-3-1 0 0-3-2 0-2-3-5-1 0-3 5 0 0 3 2 0-1-1 0-2 2 2 3-1 1 2-1 2 1 1 1-2 2 1-1 4-2-1-1 1 0 3 1-1 2 1 2-1-2-2 3-1 0-3 1 1 9 0 1 2 4 0 1 1 3-4 6-3 2 1 4 0 1-2 4 1-2-2 0-2 2-1-2-3 1-7 2-4 2 1-1-2 4-1 0-3 1-1 4 0-1-3-1 0 1 2-3 0 1-2-1-2 0-7 7 0 0 2 2 0 0-2 22 0 1 16-2 4-3 2 0 3 2 1 1 6 1 0-1 7-2 4-2 1 0 2-3 3-6 3-3 0 0 1-6 0-1 1 0 3 2 2 0 6 1 0 0 11-1 0 0 5-1 0 0 17 2 3 2 9 1 0 2 11 1 1 2-1 7 1 4 4-1 2 2 0 1 2 0 4-1 0-1 5 2 0 6 6 2 4 0 3-2 4 5 1 2 4-2 4 1 4-1 0-1 6-2 4-2 0 2 1 1-1 0 2-4 3 0 2-4-1 0-1 2-1-2-1 2 0 2-4 2 0 0-6-2-1 0-3-2-1 1-3-2 0-1-3-4 1 0-1-6-1 0 3-2 1 0-2 1 0-1-1-2 4 0 5-2 0 2 1-1 2 2 1 0 5 2 1-1 2 2-1 1 2-1 2 1-1 1 2 3-1 0 2 1-1 2 1 1-2 4 1 0 2-3 1 0 2 3 2 1 4 4 4-3 1zM206 6l0-3-2 0 0 3zM216 8l2-3-1-1-3 1 0-2-2 0 0 3 2-1 0 2zM220 5l1-2-2 1zM209 6l2-2-4 1zM218 11l2-2-4 0 0 2zM220 13l0-2-2 1zM221 18l2-3 1 1 3 0 0-5-3 0-1 1 0 3-3 2zM205 15l0-3-2 0 0 3zM217 15l-1-3 0 3zM222 14l-1-2 0 2zM87 17l-1-2 0 2zM201 21l1-2-1-1-3 0 0 3zM116 34l-2 0 1-1 0-2-3 0 3-3-2 0-2 2 0-3 5 0 1 1 3-3 2 0-1-3 2 0 0 4 2 0 0 2-2 1-1-2-4 1-2 3zM202 25l-1-3-3 1 1 2zM218 25l-1-2 0 2zM85 26l-1-2-2 1zM95 26l0-2-2 0zM198 28l0-3-3 0 1 3zM224 27l-3-2 1 2zM226 34l1-1-1-5-2 0-1 1-1-1 0 5 1 1zM199 36l-2-4-2 0 0 2zM222 36l-1-3-3 0 1 3zM151 35l-2-1 2 0zM212 36l0-2-5 0zM116 39l-3-1 1-3 3 2zM215 37l0-2-2 0zM219 44l2-2 0-4-5-1-1 2-2-1 2 2 0 4zM119 40l-2-2 2 0zM129 41l1-2-2-1-1 3zM191 46l4-2 0-5-1-1-3 0-2 3 0 4zM184 43l1-4-2 0 1 1-1 3zM212 43l0-3-2 0 0 2zM117 45l-1-1-4 0-1-3 3 0-1 2 4 0zM166 45l0-3 2 1-1-2-2 1 0 3zM181 52l3-2 0-4-2-3-3-1-4 3 1 5-1 0-1-2-1 4 1-1 2 1zM97 45l1-2-2 1zM187 51l2-1 0-3-3-2-1 1 1 2-1 3zM111 51l-2-3 3 0zM114 51l-2-1 2 0zM146 54l-3 0 0-3 1-1 4 1zM108 54l-2 0-1-2 2 0zM129 57l-2-4 2 0zM188 55l0-2-2 0 0 2zM184 74l4-3 0-3 2-2-1-3-2-1 1-4 5 1-1-1 1-3-1-1-2 1 0 2-1-1-7-1 0-1-1 1-4 0-1 2-3-1 0 1 2 0 0 2-2-1 1 2-3 0 2 1 1 2 1-4 1 0 0 4-1 1-3 0 2 1-1 1 1 5 6 3zM127 61l-1-3 2 1zM130 61l-2-1 2 0zM196 66l0-3 2 1 0-3-1-1-2 3 0 3zM132 63l-2 0 0-2 2 0zM194 65l-1-3 0 3zM152 65l0-2-2 0 0 2zM162 66l0-3-3 2zM201 73l2-2 0-5-1-2-5 1 0 6 2 2zM172 69l-1-2 0 2zM194 71l2-4-3 0-1 1 0 3zM128 70l0-2-4 0 1 2zM162 72l0-2-2-1 1 3zM165 73l1-2-2 0 0 2zM109 84l1-1 0-4-1-2-3 0-2 3-2 0 2 1 0 2zM208 80l0-2-2 0 0 2zM105 88l1-3-2 2-2-1 1 2zM107 93l1-3-1-1-5 0 0 3 1 1zM123 103l-1-3-2 0 1 3zM185 113l0-2-2 1-1-1 0-3 2-1 0-4-3-1-2 1-1 2 0 3 3 1-2 1 0 3 1-1zM93 105l0-2-2 1zM121 105l-1-2-2 0 0 2zM94 108l1-1 0-2-3 1zM187 110l1-3-2-1-1 1 0 3zM196 135l-2-3 6-6 3 0 1-2 3 1-1-4 2-1 0-3-3-3 0-2-5-4-5 0-4 2-3 3 0 2-4-1-1 2 4 0 0 3-2-1 0 2-2-1-5 0 3 3 1-2 1 0 0 3 2 1 1 5 4 4 3 0-2 1 0 1 2-1zM156 112l1-2-2-1-3 0-1 1 1 2 2 0 0-2 1 2zM160 114l1-4-3-1 0 3 1 2zM147 112l0-2-2 0zM145 115l1-2-4-1zM152 115l-1-2 0 2zM161 116l2-1-1-2-1 2-2 0zM142 116l1-2-2 1zM141 120l1-2-2 1zM146 122l-1-2 0 2zM81 123l1-2-2 1zM210 125l1-2-2-1-1 2zM150 126l0-3-2 0 0 2zM153 125l0-2-2 0 0 2zM183 126l-1-3-2 1 1 2zM176 131l0-2 3 1 1-1-1-3-4 0-1 2-1-2-4-2-4 1 0 4 6 1 1-2 2 0 0 2zM155 128l1-1 0-2-3 1 0 2zM225 128l0-3-4 0 1 1-1 2zM208 129l-2-3-2 0zM210 129l-1-3 0 3zM84 131l-3 0 1-1-1-2 2 1 2-1zM202 130l0-2-2 0 0 2zM227 135l2-2 0-3-5-1 0 1 2 0 0 3 1 0-1 2zM183 143l0-2 2-2 2 0-2 3 3-1-1-4 2-1-1-2-4-3-6 0-3 3 0 6 2 2zM198 133l-1-2 0 2zM201 133l0-2-2 0zM225 136l-1-4-1 1 0 3zM203 135l-1-2 0 2zM171 137l0-2-2-1 0 3zM173 136l-1-2 0 2zM71 140l-1-2 0 2zM221 143l-1-3 0 3zM230 159l-1-2 3-1-1-1 2-2-1-2 4 1 1-2 2 0-3-1-1 2-1-1 0-5-3-3-2 2-4-1 2 2 0 3-2 0 1-1-1-1-2 2 1 1 1-1 1 1 0 3 2 1 4-1-2 4-1-2-2-1-3 1 1 4zM83 149l-1-3 3 1zM87 147l-2-1 2 0zM95 181l-6 0-2-2-4 0-1 1 0-1-3 0-1-3-4 1-1-1 1-2-2 0-1-4-5 4-3 0 1-1 0-2-6 1 0-1 3 0 1-1-1-2-2 0 2-1 0-2-2-1 3 0 3-3-2 1 0-2 1-1-3 0 0-2-3 0 2-1 0-1-3 1 1 2-2 0-1-3 2-1 5 0 1-1-1-1 0-3 3 1-1 1 0 2 2-1 3 3 2 0-1-3 4-2 1 2 2 0-1 7 2 1 1-2 0-5 5 0-1-2 2 0-1-2 2 0 1-2 2 2 5 0-2 3 3-1-1 3 1 1-2 1 0 2-2 1-3-1-1 2-2 0 0 5-1 1 2 0 0 2-3 0-2-6-2-1-1 4-2 2 2 1 1 4 3 1-2 1 1 3 3 0 0 1 1-1 9 0 0-2 2 1 3-1 0 2-1 1-3-1 1 2zM183 149l-1-2 0 2zM76 150l-2 0 0-2zM202 157l2-5-3-2-3 1-3 4-2 0 2 2zM188 159l4-2-3 0 0-1-3 1 0-2-3 1 1 2 2-1 0 2zM55 158l-3 0 0-2 2 0zM222 158l-1-2 0 2zM234 159l0-2-2 0 0 2zM51 165l-2-1 1 0 0-4 2-2 0 4-1 0zM243 162l0-3-3-1 0 2zM188 162l1-2-3 0 0 2zM98 175l-3-2-4-1 1-1 3 0-2-2 0-3 4 1 2-1 1-1-1-2 2-2 1 2-1 2 1 1-4 1-2 2 0 2 3-2 2 0-1 1 1 2-2 0 2 2-3 0zM195 163l1-2-3 1zM89 165l-3-2 4-1 0 2zM91 166l-1-2 2 0zM51 170l-2-3 3-1 1 2zM82 172l-1-2-2 0 0-4 3 1 0 2 2 0-2 1zM91 169l-2 0 0-2 3-1 0 2zM214 170l-2-1 2 0zM59 174l-3 0-1-3 3 1zM52 175l-1-2 2-1 0 2zM60 197l-3-2-4 0-5-6-3 1 1 2-2 0 2 1 0 1-4-1 0 2-2 0-1-2 1-2 2 1-1-2 7-3 2-4 4-1 1-3-1-1-3 0 0-2 5 2 0-3 2 0-1 1 1 1 1-3 2 0-1 3 4 1 0-3 2 1 2-1 1 1-1 2 2 1-1 1 1 1 0 3-5 0 0-2-3-1 0 2-3 3-3-2-2 4 1 2-1 3 2-1 0 2 5 0 2-5 3 0 0 2 1-1 2 0-6 6-3 0zM199 177l0-2-2 0 0 2zM53 187l-1-3-1 2zM72 185l-2-1 2 0zM222 194l-2 0 1-2zM220 195l-2-1 2 0zM38 203l-7-1 0-2 3 0 1 1-2-4 6-2-1 2 1 2-2 0zM230 200l-6-2 3-1 0 1 3 0zM30 208l-3 0 1-2-2 1-1-1 1-3 2-1 3 0-1 1zM242 206l-4 0-1-3 4-1zM274 253l-1-3-4 0 0-2 2-2-4-2-2 2 0 3-2 0 0 3-3-3 0 3-3 1-1-2 3-1-4-1 0-2-6 3 0-4 3 1-2-1 0-2 2 1-1-1 1-2-4-3 0-3-1 0 1-6-5-3 1-3 3 1 0-2-2 1-2-1-1-5 2-1-3 1-1-11 3-1 3 3 0 2 2 0 3 3 0 2 3 2-2 1 0 1 4-1 1 2 0 5-1 1 5 1 3 3 2 5 3-1 3 2 0 3 4 0 1 1-1 2 2-1 0 1 3 0-1 2 2 0 2 7-6-7-3-1 0-3-3 0 1 4 2 1-1 1 1 4zM9 210l-2 0 0-2 4 0zM24 210l-4-2 3 0zM6 212l-2-1 0-2 2 0zM15 239l-2-2-3 1-3-2 1-1-1-3 3-1 0-2-2 2-2 0-1 3-3-2-1 3-2 0 0-12 8 0 0-2-2 0 0-2 2 0 2-3 3 1 1 3 2 0-2-1-1-2 1-1 0-4-2 0 1-1-1-2 4 1 1 3 1-3 2 0-1 2 1 1 4 0 1 1 0 3-3-1 1 1 0 4 2 2 2 0 0-2 4 2 1-2 0 3 2 0 1 2-3 0-1 2 2-1 0 3 4 0 1 2-2 1-2-1-1 1-2-1 1 2-2 0-1 4 0-4-4 1-1-2-2 1-4-7 0 6-1 0 0 4 1 1zM1 219l-2 0 0-6 3-1 1 3-2 0 1 3zM31 217l-2 0 1-1-1-3 2 0 1 2zM9 216l-2-1 2 0zM250 217l0-2-2 1zM36 220l-2-2 0-2 3 2zM7 218l-2-1 2 0zM29 221l-3-2 1-2 2 0-1 1 1 1zM254 225l1-3-2-1 0 4zM41 229l-1-2-2 0-1 2-2-2 2-1 1-4 4 1 0 2 2 0 0 2-1-1-2 0zM254 240l3-2 3 1 0-2 2-1 1 3 1 0 0-3-4-4 1-2-1-1-2 3-2 0-1 2-3-1 0-3-2 0 0 2 2 1 0 3-3-2 2 2-1 2 1 2zM12 236l2-1-1-2-2 2zM256 237l-2-1 1-2zM271 240l-1-3-2 0zM13 247l-1 0 0-5 1 0-1-2 6 0 0-2 3 1-1 6-2-2-2 1 0-2-2 0-1 1zM4 242l-1-2 2 0zM7 244l-2 0-1-2 2 0zM1 246l-2 0 0-1 2 0zM3 249l-1-1-3 0 0-1 2 0 1-2 3 1zM13 262l-6-2 0-4 3 2 3-1-1 2 2-1 0-2 2 2 3-1-4-1 1-3 2 0 0-3 1 0-1-1-1 1-1-2 2-3 2 1-2 2 2 0 1 2 2-1 1 2 2-1 0 3-3 2 4 0 0 3 3 1-5 0-3 2-3 0 0-2-2 1-2-1zM36 249l-3 0-1-1 2-1-1-2 2 0 2 2zM7 255l-1 0 0-5-2 0 0-2 2 1 0-2 1 1 2-1 1 3-3 2zM25 249l-2-2 3 0zM12 249l-2-1 2 0zM257 259l-1-2-3 0 1-2-2 0 1-2-2 0 1-1-1-3 2-1 1 2-1 2 4 4zM34 256l-6 0 1-2-1-1 4 1 0-1 3 0zM270 275l-1-4-5 2-1 2-1-2 5-2-2-1 1-2-2 0 0-2-5-1-1-2-3 1-1-1 6-2 1-2-2-1 3-1 0-2 10 2 0-1 3 0 0-2 2-1 0 3 1 0-1 2 2 0 0-5 1 0 0 2 2 0 2-2 0 3 9 0-1 2-1-1-7 1 0 1 2 0 1 2-4-1-2 2 3 2-1-3 2 0 0 3 1 1 1-1 3 0-2 2 0 2 3 1-1 1-3 0 1 2-3 0 1 2-5 0-1-2-2 0 0-2-2 0 2 3-7 0zM253 262l-2 0-2-2 1-1-1-3 2-1 2 2-1 1zM294 259l-1-2 2 0zM297 260l-3-1 3 0zM18 263l-3 0-1-2 1-1 4 1zM24 262l-2-1 2 0zM297 266l-2 0 0-2-4-1 2 0 1-2 3 0 0 2-1 0 1 1zM304 301l-4-5-3 0 1 2-2 1 0-7-2-4-3 0 0 3-2 0 1-4-3 1 0-3-3 0-2 2-2-1-2 3-2 0-1-2 3-3-1-1-3 0 1-2 3 0 0-2 2 0 0-2 2-1 5 0 0 2-1-1-2 0 1 2 2-1 1 1 2-1 1 1 4 0 1-4 3 0-1-1 1-1-1-8 3 1-1 1 1 1 0 4-1 0-1 8-3 4 4 2 5 0 4-4 2 0 0 3-1 0-1 5 2 0 3 4 0 2-2 0 0-3-5 0 1-2-4 0-1 1zM289 276l-2 0 0-2 2 0zM263 283l-2-2 0-4 1-2 1 4 2 1zM268 286l-4 0 1-2-2-1 3-1 0-2 2-1 0-3 2 0-1 4-2 2 1 1zM280 277l-2-1 2 0zM318 284l-6-2 1-1 1 1 3-1 1 1zM317 292l-1-2 2 0-1-1 1-2-1-2 3 0 0-2 2 0 0 2 3 0 0 1-6 0 1 2-1 0 0 3zM272 290l-3 0-3-3 3-1 1 2 4 0zM308 289l1-3-2 1 0 2zM331 292l-6-1-1-4 2 0 1 1 1-1 0 2 2 0zM345 291l-2-1 4-2 0 2zM350 291l-3-1 3-2zM300 293l0-3-3-1 0 3 1 1zM288 293l-2 0 0-3zM281 292l-2-1 2 0zM333 293l-2-1 2 0zM350 350l-37 0 0-1-4 1 0-2-2-2-3 1-2-1-1-2 1-2-3 1 0-2-4 1 1-5 1 3 3-2 3 0-3-2 1-1-1-2 3 0-1 2 6 1-3-2 0-2-3-1 0-2-4 0 1-2-2 1-1-1 0-3 2 0 1 2 3 0-2 2 3-1 0-3 3 1 0 2 2 0-1-2 2 0 1-3 4 1-2-5 2-4 1 3 3 0 2 2 0 2 2 0-1-1 1-1-1-3 1-2 2 0 0-2 1 3 2 2 1-1 3 1 0-1-2 0 2-1-2-1 2-1-2-5 2 0 0 1 2-1-4-1-1-2 1-1 1 1 1-1 3 1 1-1 1 3 2 0-1-2 1-3-1-1-3 0 3-2-1-1-3 0 0-5 3 2-1 2 1-1 3 1 3-5 2 3-3 1 2 0-1 2 4 5 2-4-1-1 1-2-2-1 2 0 1-2 0 3 1 0zM350 293l-1-1 1 0zM286 295l-2-2 2 0zM287 299l-2 0 0-3zM296 308l-3-1 1-2-3 0 0-1-4 0-1 1-1-1 2-2 0-3 3 2-1 2 1-1 2 1 0-2 2 0 0 2 2 0-1 2 3 2zM307 308l-2 0 1-2-3 1 0-2 1-2 3 1 1-1 1-4 0 7zM285 310l-2 0 1-5 1 0zM311 311l-2 0-2-2 1-2 3 1zM288 318l-2-4-2-1 0-2 2 1 2-1 1-2 2 2 0 4-2 0zM314 314l-2 0 0-2zM295 324l-3-1 1-2-3 1-1-1 1-2-1-3 3 0-1 2 2 0-1 2 2 0zM332 339l2-14-2-2-2 0-5 10 0 3 2 0 2 3zM300 333l-2-1 2 0zM316 342l6-6-3 0 0-1-6 1-1 1 1 4-2 1 2 0 0-1zM296 350l-5-1 0-3 1 0-1-2 2-2 1 4-2 2 2 0 1-1 1 1zM301 347l-2-1 2 0zM299 348l-2-1 2 0z"/><path fill="#09f" d="M82 7l-2-1 1-7 2 0 0 2 1-2 2 0 1 3-5 0 0 2 1 1zM89 1l-2 0 0-2 2 0zM203 5l-1-4 1 0 0-2 2 0 0 3zM208 3l-2 0 0-4 2 0zM209 5l-3-1 5-1-1-2 3 0 0-2 6 0 0 4-1 1-4 0-2-2 0 2-3 0zM229 14l-1-3 1-1-2-1 2-2-1-3-1 1-2-1 0 3 2 0-2 2 2 1-5-1 0 3-3-1 1-1-1-2 3 0 0-1-5 1 1-2 5-1 0-2-3 0 0-4 7 0 1 4 3 3-1 2 1 2-1 1 2-1 0 2zM229 1l-1-2 1 0zM212 9l-1-3 3 0zM218 36l-3 0 0-3-3-2-1 2 2 0 0 2-3-1 0-3-2 0-1-2 3-1-1-1 1-2-1-1-4-2-3 2 1-4 2-1-6-3 2 0 1-2 2 1-1 2 4-2 0-3-3 0 1-1 0-4 2 1 3-1 0 3 3 0 0-2 4 0 0 1-3 0 0 2-4 1 7-1 0 1-2 0 0 4 2-1 1-3 2 1-1 2 3-1 0 2-2 2 3 2 2-1 1 1-1 3 3 3 0 2-4-1 1-3-6 0-1 2 1 3-1 1 2 0 1 3-4-1zM83 16l-2 0-1-8 3 0 1 2-2 1zM230 16l-1-2 2 0zM92 31l-1-3-2 0 0 3-5 0 2-1 0-3-2 1 0-2 3-1-3-2-2 2-1-2 3-4 2 0-1-1 0-2 3 1-1 1 1 4-1 1 2 0 0 2 2-1 0-2-2-1 4 0 0-1 3 1 0 3 2 0 0 2-3-1 0-2-2 1 0 4 4 1-4 0zM227 20l-2-2 4-2 0 2zM197 20l-1-2 3-1zM208 20l0-2-2 0zM214 22l-1-4-2 2 0 2zM198 25l-4-4 2 1 2-1zM202 22l-3-1 3 0zM218 25l-1-2 0 2zM196 29l-2 0-1-2 1-3 2 0-1 1zM207 27l-2 0 0-2zM123 29l-3-3 3 0zM206 170l-1-3-2-1-6 2 2-2 0-2-2 0 0 2-1-1-3 1-2-1 4-2 1-2-2 0-1 2-5 0 1-3-4 0 0-2 1 1 5 0 2-3 2 1 7 0 2-5-4-2-5 5-9 0 0-1-3 1 0-2 2 0 3-4-4-1 0-2-2 1-1-2 4 0-1-1 0-3 3 2 1-2 3 0-1-3-2-1 4-2 3 3 2-1-1-2 3-1 4 4 0-2-2-1 4 0-1-1 1-2-2 0 1-2-1-2 3 0 3 4 3 0 0-1-2 0-1-2 2 0-1-4 2 0 1-3-2 1-2-1 2-6-4-4-1-4-3-1 2-1-1-2-6-2 0 2-2 0 1 2-1 1-4 0 0-2 3-1-3-4-5 4-2 0 0-2-2 0 0-3 2 0-2-1 0-2 2-2-4 1 0 3-2-2 4-4 0-2-1 2-1 0 0-4 2 1-1-2 1-1-3-2 1-3-2 1 0-3-1-1-2 1-2-4 1-2 1 2 3-1 0 2 5-1-1 2-2 0 1 1-1 1 1 1 0 4 2 0 2-2-1-4 2 0-2-1 0-2 2 1-1-2 2 0 0-3 1 2 3-2 2 0-1 2 0 4 2-1 0-8 2 5 2 1 8-2-3-1 2-2-1-1 0-4-4-3-1 2-1 0 0-3 2-1-2 0 0-2-2 2 2 1-5 1-2 3-2 0-2-3 1-3 4 1 0-2 2 1 1-1 0-4-1-1-4 0-1-2 2-1-1-3 5 0 4-3-1-3 2-4-2-2-2 0 3-2-5 0 0-2 4 0 0-4 2 1 0 2 5 0 2 2 0 3-1-1-1 1 3 1-1 1 1 2-2 0 0 2 2 1-2 0 0 2 3 0-2 1 1 2 2 0 2-2 2 2 4 0 1-1 2 1 0 1-6 0 0 1-7 0-3-2-3 0-1 10 4 4 0 4 3 5-1 1 1 4-2-1 1 2-2 0 1 3-1 1-2 0 0-2-2-2-2 0 0 2 1 0 0 3 2 2 3-2 0 2-2 1 2 6-3 4 4 5 0 4-1 1 4 1-1 2 1 2-1 1 2-1 0 7 2 1 0 4 2 4 4-1-2 3 1 1-1 4 2 1-1-3 2 0 0 2 5 0 0 1-2 0 0 4 4 0 1-2 2 0-2 5 4 1-3 1-2-1 0 2-1-1-3 0 0 2 2 1 0 3-3-1-1 2 3 1-1 3 3-1 0 2-3 2 1 3-2 0 0-2-1 0 2 5-2-1-1 1-1-3-3-1 3 3 0 3-1 1-2-1 0 2-2 1-2-1 0 2-2-1 1 2-5 1zM83 29l-2 0 0-2zM116 33l-1-4 2 0zM229 35l-2 0 0-3 2 0 1-2 0 3zM88 37l-1-4 2 0-1 2 1 1zM227 42l-1-2-4 1 1-4-3 1 0-2 2 0 0-3 1 2 2-1 0 2 2-1 0 3 2-1 0 3-2-1zM137 38l-6 0 0-1 1-2 2 2 1-1-1-2 2 0zM152 42l-1-2-4 0 1-1 0-4 1 2 3-2-1 4 2 2zM198 36l-2-1 2 0zM116 39l-1-3 2 1zM90 38l-2-1 2 0zM119 39l-2-1 2 0zM183 43l-2 0 0-2-2 0 1-3 1 1 1-1 2 0-1 1 1 2-2 0zM190 40l-1-2 2 0zM188 40l-2-1 2 0zM128 44l-3-1 0-3 1 2 2 0zM168 41l-5 0 0-1 5 0zM179 42l-2 0 0-2zM173 73l-3-3-2 0 0 2-2 1 0-2 1-1-2 0 1-2-2 2-2-1 1-3-1 0 0-3-3 3-2 0 0-2-4 0-2-1 0-2 3 1 0-2-3 0-1-2 1-2-2 0 2-1-2-1 2-2-1-3 3 0 1-2 2 0-1-2 3 0 1-4 2 2 2-2 1 5 2-2 2 0 0-2 2 0-1 4 1 0 1-2 3 2-2 3 2 0-1 3 2 0 0 3-2 0-1-2-3-1 1 3 3 0 1 2-4 2 1 2 2 0-1 2 2 1-3 0-1-1-2 1 0-3-5 0 3 2 0 2 4 0-1 2 2 0-1 2 2 0zM186 46l-3 0 0-1 2-1-2-1 3 0 1-2 0 4zM224 44l-2-1 1-2 3 1zM152 44l-2 0 0-2zM177 43l-2-1 2 0zM113 78l-5-6-2 0-1 2-2-1 5-3 0-3 2 0-1 2 4 0-4-3 2-2 0-3-3-1-2 2-1-2 1-1 4 0 1-1-1-2 2 0-1-2 4-2 4 1 0-1-2 0 1-5 2-1 0-2 3 2 2-3 1 5 7 0 0 1-7 1 0 3-3 0-3 2 1 2 4 0-3 1-1 2 1 2-2 0 1 2-1 3 2 0 1-1 0 4-2 0-4-5-2 0 0 3-2 2 0 5-1 0 1 1zM223 45l-3-1 3 0zM96 54l-3-1 2-1 0-3-2-1 0-2 1 1 1-1 2 0-1 1zM197 50l1-1 0-2-2 0 0 3zM137 52l-3-1 3-1zM186 55l-10-2 4 0 4-3 0 3zM145 54l-2-2 5-1zM190 52l-3-1 3 0zM110 56l-2-1 2 0zM124 56l-3-1 3 0zM190 56l-4-1 4 0zM127 57l-2-1 2 0zM103 59l-3-1 3 0zM105 60l-2-1 2 0zM160 70l-1-1-2 1 0-2 2 0 0-2 2 0 0 3zM192 71l-3 0 0-3 2-2 1 0-1 2zM154 70l-2-1-4 1 0-2 3-1 3 2zM135 73l-3 0-2-2 4-2zM146 72l-2 0-1-2 4-1 0 2zM110 72l-1-2 0 2zM127 72l-4-2 3 0zM130 71l-3-1 3 0zM156 71l-2-1 2 0zM143 72l-2-1 2 0zM101 79l-1-3 2-2 2 0zM118 104l-2-2-4 1 0-3-3 0 5-1-2-1 3-1-1-1 1-2-1-1-2 0 0 2-1-2-1 0 0 3 2 0-1 2-1-1-5 1-2-2 0-2 4 1 2-1 1-2-1-3 2-1-1-4 1 0 0-4 1-1 3 4-2 1 1 1-1 1 1 6 3 3 2-1 0 2 2 0-2 1 0 1 3-1 2 1 0 2-3-1-1 1 0 3zM101 89l-3 0 2-2-2-2 4 0 2-2 0 2zM109 89l-1-1-2 1-1-1 1-3 3 0zM105 89l-2-1 2 0zM102 94l-3 0 1-2-2-1 1-1 2 1zM94 94l-1-2 2-1 1 2zM92 97l-2-1 3-2 0 2zM206 101l0-2-2 0-1-4-1 1-2-1 0 3-2 0 1 1-1 2 6 0 0-1zM90 101l-2-1 1-3 1 0zM158 127l-3-5 2-2 0-2 2 0 1 1 3-3 0-2 2-1 2 4 4-1 3-4 1-10 5-4 1 1-1 3-2-1-2 4 0 3 1 0 0 3-1 0 1 2-1 1 2 0 1-1 0 1 3 0 1-1 0 3-2 0-1 2-1-2-3 1-1 3 3 3-1 1-4 0-1 2 0-4-2 1-4-2-1 3 0-2-4-1 1 2-2 0zM91 108l-6-2 1-1-1-3 1-1 1 1 4 0 1 5zM127 106l-3 0-3-2 3 0 1-3 0 4 2 0zM94 106l-1-3 2 0 0 2zM191 108l-2-5 2 0zM118 106l-2 0-1-2 2 0zM189 107l-2-1 1-2zM201 107l-3-2 5 0zM95 109l-4-1 1-1 1 1 2-1zM134 112l-2 0 0-2-2 0-2-3 4 0 5 3zM162 109l-4 0 0-2 3 0zM86 114l-2-1-2 1 0-2 2 0 0-3 4-1 1 3-2 1-1-2-1 1zM146 110l-3-2 3 0zM141 119l-4-1-1-2 2-1-2-1 2-2-1-3 5 0 0 1 3 0 0 3-3-1-1 2zM165 113l-3-2 0-2 3 2zM186 111l-4-1 2-1 2 1zM148 124l-3-1 2-1 0-2-4 1-1-1 2-1-2-1 0-2 3 0 1 1 1-1 0 3 2 1-1-8 2-2 3 3 4-1-1 7-3 2-2-1 0 2-3-1zM152 115l-1-2 0 2zM185 120l-2 0 0-4 3 0 1 1-2 1zM140 120l-2-1 2 0zM173 121l-1-2-2 0 0 2zM80 129l-1-2-2 2-2 0 1-1 0-4 4 0 1-2 3 0 0 2-1 1-2-1-1 1zM222 124l-2 0 0-2 5 0zM162 127l-2-1 1-2zM188 133l-2-2-4 0 1-1-1-4 1-2 2 5 3 2zM228 125l-3-1 3 0zM228 130l-4-2 1-1 3 1 1-3 1 3zM153 129l-2 0 1-3zM200 130l-2-1 1-2 4 0-3 1zM166 130l-2 0 0-2zM83 131l-2-1 3-1zM175 136l-2-2 1-2-5 1-1 3-1-3 2-2 4 0-1-2 2 0 0 2 3-1 0 2-2 1zM169 131l-3-1 3 0zM199 131l-2-1 2 0zM73 140l-2 0 0-4 1-1 1 0-1 2 1 1zM173 141l-4-1 0-1 2-1-2 0-1 1 0-2 4-1 0 3 2 0zM210 140l0-2-2-2-2 0 0 2 2 2zM72 143l-5 0 0-1 1-2 3 0zM221 143l-1-3 0 3zM177 145l-3-1 0-3 2 0 2 2zM226 143l-2-1 2 0zM229 143l-2-1 2 0zM181 145l-3-1 3 0zM199 148l0-2-2-2-6 0 0 3 1 1zM220 147l0-3-5 0 1 2zM79 176l-2 0-1-2-3 0 0-2-2 0 0-2-6 2 0-2-2 0-2-2 1-1-1-2 2-2 6-2-1-1-3 1-1-3-2 0 1-2-3-1 4 0 1-2 3 0 1 2 2 0-1 4 5 2 0-1 3 0 1-7 2 3 1-3 2 0-1-2 2 0 0-2 6 0 1 1-1 2 2 0 1-1 1 4-2 0-1-1 1 4-2 1-3-1 0 1-3 0 0 6-1 0 1 2-3-1-1-4-3-1 0 4-2 2 2 1 2 4 0 2-2 0zM90 152l-1-2 0 2zM76 155l-1-2-2 0 0 2-2 0-1-3 4 0 1-1 2 1zM237 154l-1-2 2 0zM240 159l-1-1-1 1-4 0 1-2-1-1 1-1-3-1 4 0 1 3 4-1zM226 159l-2-1 2 0zM234 160l-2-1 2 0zM185 162l-2-2 2 0zM241 174l-2-1 0-2 2-1-3 0-1-1 0-2 2 0 0 2 1 0 0-2-4-3 2-2-4 0 1-2 2 1 4-1 0 3 2 0 0 2-2 0 2 4-1 0zM82 171l-3-1 0-4 3 1zM219 171l-3 0-1-2 2 0 2 1zM99 174l-1-1-3 1-3-3 7-1 2 1-2 1zM195 175l-3 0 1-3zM201 181l-2 0 1-2-1-1 1-1-1-4 1 1 2-1-1 4 3 0-3 1zM95 180l-1-1-3 1-1-3 4 1 0-3 2 0zM240 178l-3 0 2-1 0-2zM59 186l-1-4-2 1-1-1 1-3 2 0 0-2 3 0 0 1 6-1 2 1 0 2-3 4-4-4 0 2-3 1zM81 178l-3-1 3 0zM85 179l-4-1 4 0zM239 182l-3-1 0-3 4 1zM90 181l-2-2 2 0zM236 182l-2-1 2 0zM56 184l-2 0-1-2 2 0zM204 186l-2 0-1-4 5 1-3 1zM52 187l-3 0 0-2 3 1zM232 191l-2-1-3 1 0-2-5 0-5-3 5 0 0-1 8 1 2 1-1 1zM234 187l-2-1 2 0zM49 189l-2-2 2 0zM216 189l-2-2 3 0zM214 189l-2-1 2 0zM61 196l-2-2 2 0 1-3 3 0 0-2 1 2 2 0-2 2-3-1 1 2-2 0zM44 194l-2-1 0-3 2 1zM52 191l-2-1 2 0zM54 193l-2 0 1-3zM42 195l-2 0 0-4zM234 192l-2-1 2 0zM237 203l-2-1 1-2-3-1 1-3 2 0 2 3 3 1-2 1-1-1zM36 203l-3-1 3-1-2-1 0-2 1-1 1 1 2-1 1 2-2 0 0 3zM33 201l-2-1 2 0zM30 206l-4-1 3-2 1 1zM243 213l-1-2 1-1-2 0 0-3 2 0 3 4zM15 238l-2 0-1-2 2-1-1-2-2 3-3 1 0-4-1-1 3-1 0-2-4 3-2-1 1 2-2 0 0-2-2 1 0-3-2 0 0-2 2 0 0-2 4-2 4 1-2-3 2-4 3 0 0 2 3 1-1-2 1-1-2-1 1 0 0-4 2 0 0 2 4 1-2 5 4-1-1 2-2 0-1 5 3-2 0-3 2 0 0 2 3 0 0 1 3-1 2 2-1 3 2-1 0 5-2 0 1 2-2 0 0 2-1-2-4 1-5-4-2-4 0 6-1 0zM19 213l-2-1 2 0zM244 217l-2 0 1-4 3 1 0-2 2 0 1 1zM22 214l-3-1 3 0zM32 216l-2 0-1-3 2 0zM24 215l-2-1 2 0zM255 233l-2-1 0-3-3 1-1-1 2-1 0-1-3 0 0-1-4 1-1-1 1-2 1 1 5 0-1-3-1 1-4-1 1-2-2-2 3 1 1-2 0 3 1-3 1 1 2-1 0 1 3 0-2 1 0 3 1 0-1 3 3 1-1 2 1 1 3 0-1 2-2 0zM257 223l-3-1 1-2zM1 225l-2 0 0-1 2 0zM41 228l-4-3 5-1zM38 229l-2-2 2 0zM248 229l-3-2 3 0zM260 229l-2-1 2 0zM262 232l-2 0 1-1-1-2 2 0zM1 234l-2 0 0-2 2 0zM252 235l-2 0-1-2 3 0zM260 251l-5-2 0-2-3-1 5-2 0-2-3-1 0 2-2 1 0-3 2-2 2 1 2-2 1 1 5 0 0-2 2 0 0 3 1-2 3 0-1 2 2 0 1-2 0 4-1 1 1 1-2 1-4-1-1 5-2 1-3-1zM18 243l-2 0 0-2 3-3 2 2 0 2-3 0zM258 248l2-1 0-2 3-1-1-3-4 0 0 4-2 1zM20 245l-2-2 2 0zM278 245l-2 0-1-2 2 0zM274 250l-5-1 1-2 2 0 0-3 2 1zM1 246l-2 0 0-1 2 0zM35 248l-2-3 3 1zM282 248l-2 0 0-2-2-1 3 0 1 1zM4 248l-3 0 0-2 2 0zM250 250l-1 0 0-4 3 1zM9 251l-4-1 1-3 1 1 2-1zM21 261l-2 0 0-3-1 0 1-2-2 0 1-2-2-1 2 0 0-2 6-1 2 1 0 2-3 1 2 2 0 3zM259 253l-2 0-1-2 3 0zM34 255l-2 0 0-2 3 0zM264 257l-2 0 0-2 2 0zM284 274l-1-2-2 1-1-3-4 0-1 2-5 1 1-2-1-1 2-1-6-2 1-2 0-4-1 4-4 0 1-3-3 1 1 2-2 0-1-4 3-1-1-3 2 0 0 2 4 1 4-4 2 1 0 5 2 0 1-3-3-3 5-1 1 1-1 2 2 0 0-3 1 1 3-1 0 2 2 0-2 2 3 1-4 0 0 2-3 1 4 0 0 1 2-1 0 3 2-1-2 4 1 2-2 0 1 2zM9 258l-2 0 0-2zM13 261l-2-1-2 1-1-2 1-1 3 0 2 1zM19 262l-3-1 3 0zM296 264l-5 0 0-1 5-2zM300 268l-2-1 3-1zM264 275l-2-2 3-1zM291 290l-2 0 1-1 0-3-2 0-1 2 0-3-5 0-1 2 0-2-2 1 1-3-3 0 0-2 3 0 1-2 2 0 0-2 2 2 3-1 1 2 2-1 1 2 2-1 1 2-2 2 7 4-5 0-1 1-1-3-2 0zM267 286l-3 0 1-1-1-3 3 0zM310 285l-2 0 0-2 2 0zM303 292l-2-1 1-2-2-1 5 0 0-2 2 0-1 3 1 1-4-1zM328 290l-3 0 0-2 2 0zM309 291l-2-1 2 0zM312 293l-3 0 1-3 2 1zM330 291l-2-1 2 0zM301 296l-2 0 1-1-1-2 1-2 2 1 0 3zM334 297l-1 0 0-4 1 2 2 0zM297 299l-1 0 0-4 1 0zM350 350l-35 0 0-1-2 1-5-4-5-1-1-3-5-2 6 0 0-1-3-1 3 0 0-2 3 1 2-1-5-5 0-3 1-1 8 1 0-1-4 0 2-1-1-3 1-1 4 1 1 3 2-1-2-1-2-3 2-1-1-1 0-2 1 1 4 0 1 3 2 0-1-1 1-1-1-3 2 0 1-2 1 2 4 2 3 0 0-5-2-1 1-1-1-2 3 0 1-2 3 0 0 2 2-1 0 4 1 0 0-4-2-1 0-3-1 0 1-2-3-2 3 0 0-2 3 0 2 1 3 4 1-3 2 0-1-2 2-1 0 23-1-1-5 0 0-1-5 0 0 6 11 7zM297 307l-4 0 1-2-2-1-5 0-1 1-1-2 2-1 2 1 5-1-1 2 2-1zM309 306l-1-1-4 0 0-2 2 0 1 1 2-1zM332 308l-3-2 0-2 4 2zM349 306l-1-2-2 0 0 2zM285 310l-2-2 1-2 1 0zM311 310l-3-1 3-1zM289 316l-3 0 0-3-1 0 1-2 2 0 0-2 1 3 2-1 0 3-1-1-2 0 1 1zM290 321l-1-2 2-2 1 3zM334 321l-1-2-2 0zM332 339l2-14-2-2-2 0-5 10 0 3 2 0 2 3zM299 327l-2 0-1-2 2 0zM312 343l1-2 3 1 6-6-3 0 0-1-6 1-1 1 1 4-2 0 0 2zM293 346l-2-2 3-2zM311 350l-2-1 2 0z"/><path fill="#0cf" d="M87 2l-3-1 0-2 2 0zM88 1l-1-2 1 0zM205 2l-1-3 1 0zM208 3l-2 0 0-4 2 0zM219 3l-2-1 0-3 2 0zM226 10l-4-1 1-6-2 0 0-4 5 0-1 3 2 1-2 0zM212 4l-4-1 4 0zM82 6l-2 0 0-2 3 0zM212 9l-1-3 2 1zM216 33l-3-3-4-1 1-4-1-1-4-1 0-3 3 0 0-2-1-1-1 1-3 0 4-3 0-3-2 0 0-2 2 1-1-3 2-1 2 0 0 3 1 0-1 2 5 0 0 5 3 0 0-2 4-1 0 2-2 2 3 1 0 3 2 1 0 1-2-1-4 1 0 2-1-3-1 0 0 3 1 0-1 2 1 1-2 1zM218 15l-1-3 2 1zM214 22l0-9-3 0 2 3 0 3-2 1 0 2zM88 31l-3 0 2-3-2-1 2-1-2-2 1-2-2 0 1-1-1-2 2 0-1-2 2 0 1 2-1 1 1 1-1 3 2 2 2-2 0-2-2 0 0-1 4 0 1-1 2 1 0 2-2-1-1 2 0 4 2 1-3 1 0-2-3 0zM202 46l-4 0 1-2 2 1-1-1 1-1-1-5 3-1-3-1 1-2-3 0 2-1-1-2 1-2 2 2 6 1 0 2-2-1 0 2 2 1-4 1 3 1-1 2 2 0-2 2 1 1 3 0-4 2-3-2zM220 32l-2-1 2 0zM135 38l-4-1 5-1zM149 39l-1-3 1 1 1-1 2 0 0 2-3 0zM227 41l-5-3 5-2 1 2zM152 40l-3-1 3 0zM182 42l-2-3 3 0zM167 41l-4-1 4 0zM168 70l-2-2-2 2-2-1 1-3-1 0 0-3-2 2-7-1 1-4-3 0-1-2 1-2-2 0 7-2 0-1-6 0 0-1 4 0 0-2-4-1 3 0 1-2 2 0-1-2 3 0 1-4 1 2 2 0 1-2 0 4 1 1 2-2 2 0 1 2 3 0 1 1-1 2 2 0-1 3 2 0 0 2-3 0-2-2-5 0 2 4 4 0 1-1 1 1-2 3-1-1-2 0 2 1 0 3 1 0-1 2-2 0 0-3-5 0 3 2 0 2 4 0zM224 44l-1-2 2 0zM186 46l-2-1 1-2 2 0 0 2zM223 45l-3-1 3 0zM125 47l-2-2 2 0zM216 48l-3 0 1-2-2-1 3 0 1 1zM212 47l-4-1 4 0zM219 47l-2-1 2 0zM222 47l-2-1 2 0zM118 64l-2-2-1 2-2-1 0-3-2 0 2-3-3 0 2-1-1-2 4 1 0-2 4 0 0-1-2 0 0-3 2-2 8 1 0 1-3 1-1 4-3 1 1 2 4 1-4 0zM202 58l-2 0-2-2 0-3-2 0-2-2 1-3 1 2 4-1-1 5zM126 53l-2-1 2 0zM192 64l-3-1 1-4 5 0 1 2-2 0zM114 67l-2 0 1-3zM160 70l-2-2 1-2 2 0 0 3zM135 73l-4-1 2-1 0-2zM196 105l-4-5-5 4-2 0-2-4 2-1-1-2 2-2-1-1-3 0 0-2 2 1 1-1-2-1 0-2 3 0-4-1 5-4-1-1 0-5 1 0-1-2 3-1-1-2 2 0 1 2 0-3 2 0 1 5 2-2-1-6 2 2 0 3 2 0 2 3-2 2 2 2 0 2 2 0 0 2-2-1 0 2 2 2 2 0-3 1 1 3-1 2-2 1-2-1 1 1-2 2 1 2-1 4 1 1zM208 72l-4-2 2-1 2 1zM108 71l-2-1 2 0zM111 73l-2-1 2 0zM207 75l-2 0-1-3 3 0-1 1zM111 76l-1-2 3-1zM182 82l-3-3 0-3 1 2 2 0-1 1 1 1zM193 82l0-3-3 0-2 2 0 1zM112 87l-1-4 2 0zM102 88l-2-1 0-2 3 0zM108 88l-2 0 1-1-1-2 3 0zM113 93l-3-1-1-3 4-1 1 4zM108 97l-1-1-2 1-2-3 3 0 1 1 1-1 1 1 1-2 0 3zM118 103l-5-1-1-1 0-2 2 0-2-2 3 0 1-3 3 2 0 2 2 0 0 2zM91 108l-5-2 0-3 5-1zM206 107l-3-3 1-2 1 2 2 0zM124 105l-2-1 2 0zM195 107l-3 0 0-2 2 0zM208 110l-2 0 0-2 1-2 2 0 1 2zM131 108l-2-1 2 0zM88 112l-1-2-2 0 2-2 2 2zM140 116l-2-2 0-4 4-1 1 3-1 2-2 0zM177 116l-3 0 1-7 2 1-1 1 1 1-1 1zM153 121l-4-1-1-7 1-2 2 1 0 3 1-3 1 1 4-1 0 2-2 0 1 1 0 3-3 0-1-2-2 0 3 3zM183 116l-5-1 0-2 4 1 1-1zM160 124l-5-2 2-1 1-3 3 1 0-2 1-1 2 1 1-2 0 3 5 0-4 1-2 3-3-1 1 2zM148 120l-6 0 0-1 2-1-2 0 0-2 3 0 1 1 1-1zM174 124l-2 0 1-5-3-1 3-2 3 5-1 2-2-1zM185 120l-2 0 0-4 3 0 0 2-2 0zM78 127l-2-2 3-1zM183 128l-1-2 2-2 0 3zM209 169l-3 0-3-4-1 2-4 0 1-3-2 0 0 2-1-1-3 1-2-1 4-2 1-2-4 2-3-1 4-6 2 1 7 0 2-3-1-3-3-1-5 5-5 0 0-1-4 1-3-2 4 0-1-2 2-1 0-2-2 0 0-2-2-1 1-2 1 1 3 0-1-3 3 0-1-4 1-1 3 1 1 3 2 0 0-2-2-1 2 0 1-3 4 4 3 0 0-1-2-1 2-1-1-1 1-3 3-1 3 4 1-3-2-2 1-2 2 0 1-3 0 2 2 0 2 2-1 3 1 1 4-1 1 1-1 2 1 2-2 1 4 0 1-1 2 4-6 1 0 2 3 1-4 3 2 1 1 2-1 1 1 1 0 3-1 0 1 3-2 0-1-2 0 2 1 1-3 1 0-2-3-1 3 3 0 3-1 1-2-1 0 2-4 0 0 2-2-1 1 2zM228 130l-3-2 3 0 1-2 0 3zM77 129l-2 0 1-2zM207 130l-2-1 2 0zM220 130l-2-1 2 0zM172 141l-3-1 2-1 0-1-3 1 0-2 4-1zM210 140l0-2-2-2-2 0 0 2 2 2zM200 145l1-1 0-5-2 0 0 6zM71 142l-2-2 2 0zM221 143l-1-3 0 3zM199 148l0-2-2-2-6 0 0 3 1 1zM220 147l0-3-5 0 1 2zM78 175l-4-1-1-1 1-2-3 1 0-2-1 1-5-1 0-2-3-2 2-1-1-2 6-1-2-3-3-1 0-4 7 1-1 4 5 2 0-1 3 0 1-7 2 3 1-3 2 0-1-2 8-2 1 1-1 2 3 0 1 3-2 0-1-1 1 4-3 0 0 1-1-1-3 1 0-3-2 0-3 3 4 0 0 2-7 0 0 4-2 2 2 1 0 3 2 1 0 2zM90 152l-1-2 0 2zM73 155l-3-1 1-2 2 0zM195 153l0-1-4 0 0 1zM238 162l-2 0-1-2 2 0zM241 163l-3-1 2-1zM84 167l-2-1-1-3 4 0zM243 165l-2-1 2 0zM242 171l-2-1 0-3-2-2 3 0 1 1zM239 168l-2-1 2 0zM99 173l-3-1 1-2 4 1zM95 173l-2 0 1-2zM59 183l-3-2 2 0 0-3 1-1 2 0 1 1 0 3zM67 182l-4 0 0-4 1-1 5 2zM201 180l-2-1 1-2 2 0zM93 180l-2 0 0-2 4 0zM238 182l-2-2 4-1zM203 185l-1-2 1-1 3 1zM228 191l-1-2-5 0 1-1-1-2 1-1 1 1 5 0 0 1 3 0-2 1 1 2-3 0zM49 189l-2-2 2 0zM63 194l-1-3 3 0 1-2 1 3-1 1-3-1zM44 193l-2 0 0-3 2 1zM52 191l-2-1 2 0zM54 193l-2 0 0-2 2 0zM238 202l-5-4 4 1 1 1zM249 214l-3 0 0-2 2 0zM246 216l-3-1 0-2 3 1zM15 238l-2 0-1-2 2-1-1-2-1 2-4 0 0-3 2-1 0-2-5 2 0-1-3 0 0-3 3-4 1 1 1-1 2 1-1-5 2-2 2 0 2 5 1-1-1-2 1-2-2-1 3-2 3 2-1 4 3 0-2 1-1 5 3-2 0-3 2 0 1 3 4-1 0 3 1-2 2 1-1 3 2 1 0 3-2 0 1 2-2 0 0 2-1-2-4 1-5-4-2-4 0 6-1 0zM253 223l-4 0-1-1 0-3 1-1 3 0-2 2zM15 227l-2-4-3 1 0 3zM253 228l-5-2 1-1 1 1 4 0zM260 250l-3 0-2-2 5-1 0-2 3-1 0-2-3-2 1-1 3 0 1-2 1 3 2-2 2 0-1 3 3 0-1 2 1 1-2 1-4-1 0 2-3 3-3-1zM18 243l-2-1 3-4 2 2 0 2-3 0zM258 242l-2-3 3 0zM20 245l-2-2 2 0zM281 247l-3-2 3 0zM21 261l-2 0 0-3 2-1 0-2-3-3 2 0 1-2 3 0 0 2-2 1 0 2 3 1 0 3-3 0zM20 256l-3-1 3 0zM282 272l-5-3-2 2-4 1 1-5-4 1-2-2 1-1 0-4-1 4-2 0 0-3-4 1-1-2 2-1 0-2 5 2 1-2 4 0 1-1 0 5 2 0 1-1 0-6 3 1-1 2 2 0 0-2 2 0 2 1-1 1 0 4-3 1 5 1 0 2 2 0-2 5zM19 262l-3-1 3 0zM295 264l-4-1 4-2zM291 288l-1-3-4 0 0-1-6 1-1-4 2 0 1-2 4 2 4-1 1 2 2-1 0 2-1 1 1 2-2 0zM279 283l-2-1 2 0zM296 288l-2-1 0-2 4 1zM320 288l-3 0 1-1-1-2 5 0-3 1zM300 288l-2-1 2 0zM303 291l-2 0 1-2-2 0 0-1 3 0zM312 293l-3 0 1-3 2 1zM301 294l-2 0 1-3zM344 350l-26 0 0-1-4 0-1 1 0-1-5-2 1-2-7-2 1-3 2 0-2-2 0-2 5 1 1-1-6-6 4-3 1 1 4 0 0-1-2 0 0-3 1-1 4 1 1 2 1-2-2 0 1-2-2 0 1-4 4 0 1 1-1 6 4 4 0-8-2-1 1-4 5 0 1 2 2 0 4 3-2-6 2-2-2 1-1-2 1-3 2-1 3 0 0 1 2-1 1 4 0-4-2-2 0-5 2-2 4 1 2 6 3 0-2-2 1-1-1-3 2 0 0-2 1 0 0 22-1-1-5 0 0-1-5 0 0 5-4 0-1 2-2-2-2 0-5 10 0 3 2 0 2 3 2 0 4 5 5 2 2 3 2 0zM294 305l-2 0 0-2zM309 306l-5-2 5-1zM297 307l-3 0 0-2 2 0zM332 308l-2-3 3 1zM288 316l-2 0-1-4 4-2 0 2 2-1 0 3-3-1zM312 343l1-2 3 1 6-6-3 0 0-1-6 1-1 1 1 4-2 0 0 2zM296 350l-3 0-1-2 2 0 1 1 1-1z"/><path fill="#18ffe7" d="M208 3l-2 0 0-4 2 0zM219 3l-2-1 0-3 2 0zM223 3l-2 0 0-4 5 0 0 2-3 0zM227 3l-2-1 2 0zM211 4l-3-1 3 0zM225 8l-3 0 1-1 0-4 2 0zM215 30l-1-1-3 1 0-3-2 0 2-2 0-2-2 0-1 1-2-2 0-2 3 0-1-3-2 0 1-1 0-4-1 0 1-2-1-2 2-1 2 0 0 3 1 0-1 2 5 0 0 5 3 0 0-2 3 1-2 3 2-1 2 4-1 2-1-1-1 1-3-1 0 3 1 1-2 0zM214 22l0-9-3 0 2 3 0 3-2 1 0 2zM218 15l-1-2 2 0zM89 30l-2 0 0-3-2 0 2-1-1-3 4 3 1-4-2-1 4 0 1-1-1 9-4-1zM203 42l-2-2 1-1-1-2 2-1-2 0-1-2 1-4 1 2 4 1 0 2-2 1 1 1 0 4zM208 33l-2-1 2 0zM208 36l-2-1 2 0zM116 39l-1-3 2 1zM227 40l-3 0-2-2 5-2zM182 42l-2-3 3 0zM169 69l-3 0 0-2-1 2-3 0 1-3-1 0 0-3-2 2-7-1 0-1 6 0 3-3-2-4-5 4-4 0 0-4-2 0 7-2 0-1-6 0 0-1 4 0 0-2-4-1 3 0 1-2 2 0-1-2 3 0 0-2 2 0 0 3 1-3 2-1 0 3 1 1 2 0 1-2 6 3-6 2 0 2-2 1 2 4 4 0 1-1 1 1-1 2-4 0 2 1 0 5-2 0 0-3-5 0 3 2 0 2 3 1zM223 45l-3-1 3 0zM215 47l-3-2 3 0zM222 47l-2-1 2 0zM115 63l-2-1 1-1-1-2 1-3-1-1 3 0 0-2 3 0-2-1 0-3 2 0 0-2 6 2 0 1-2 0 0 3-3 3 5 2-4 0-2 3-4 0zM174 54l-4-1 1-4 2 0zM197 53l-1-3 3 1zM200 57l-2-1 0-2 2 1zM191 63l-2 0 0-2 1-2 2 0zM194 62l-2-1 1-2 2 0 0 2zM135 73l-4-2 3 0zM111 73l-2-1 2 0zM112 75l-2-1 3-1zM187 104l-2 0-1-2 1-1-1-1 1-4 6-2-1-1-6 1 0-2 1-1-1-1 2-2-2-1 3-2 0-3 6 0 0-3-3 0-1 2-2 0-1-1 1-2-1-2 1-1 5 0 1 2 7-1 1 2-2 1 0 2 2 0 0 2 2 0 0 2-2-1 0 2 2 2-2 1-2-1-6 0 3 3 4-1 1 1 0 2-4-1 1 4-2 2 2 2-2 1-4 0-1-1zM182 82l-2-1 0-2 2 1zM113 92l-3 0 0-3 1-1 2 0-1 1 1 1zM108 97l-4-2 4 0zM118 103l-5-1 2-3-3-2 3 0 0-2 3 0 1 3 2 0 0 2zM198 104l-2 0 0-3 2 0-1 1zM91 108l-2 0 1-2-3 1 1-2-1-2 2-1 2 0zM208 110l-2 0 1-3 2 1zM88 110l-3-1 3-1zM143 112l-3 0-1-2 4 0zM151 120l-2 0 0-4-1 0 1-5 2 1 0 3 1-1 3 0-1 3-4-1 1 1zM140 116l-2-2 0-2 2 0zM183 116l-3 0 0-2 3 0zM146 120l-3 0 1-2-2-1 1-1 2 1 2-1 0 3zM185 118l-2-2 2 0zM156 118l-2-1 2 0zM160 123l-3 0 1-2-1-1 4 0 0-2 3-1 1 3-1 1-3 0zM174 121l-2-3 3 0zM209 169l-2 0 0-3-3 1 0-2-2 0-1-5-2 3 3 2 0 2-4 0 1-1 0-2-2 0 0 2-1-1-2 1-3-1 0-1 4-1 1-2-2 0-3 2-1-3 3-4 2 1 7 0 2-4 4 0 3-6 1-5-10 0-1 1 0-4-2 0 0 7-2-2-6 0 0 3 1 1 8 0 1 1-6 6-5 0 0-1-3 0-1-3 4-2-4-1 0-3 3-1-1-3 5 0-3-1 1-3 4 1 0 2 2 0 1-6 4 3 0 2 2 0 1-1-1-2 2-2-1-2 3-1 2 1 1 2 1-2-1-4 2-2 1 1 2-1 1 1-1 2 2 3 4-1 0 4 1 1-2 1 4 0 1 1-1 3-3 0-2-1 0-4-2 0-3 3 0 1 5 0 0 3 3 0 0 3-2 2 2 0 1 7-3-1 0 4 1 1-1 1-2 0-1-3-2 0 3 5-4 0 0 3-4 0-1 1 1 2zM176 133l-5-2 4 0zM210 140l0-2-2-2-2 0 0 2 2 2zM220 147l0-3-5 0 1 2zM78 173l-3 0-4-4-2 0 1 2-2 0-4-3-1-2 1-3 5-1-2-3-3-1 0-2 1-1 4 0 1 1 0 3 5 2 0-1 3 0 0-2 4-3 0-2 2 0-1-2 3 0 3-2 0 3-2 3 4-1 0-2 3 0 1 3-2 0-1-1 1 4-3 0 0 1-1-1-3 1 0-3-2 0-4 4 5 0 0 1-7 0 0 4-2 1 3 5zM91 152l-1-2 2 0zM73 155l-3-1 1-2 2 0zM76 155l-2-3 3 0zM195 153l0-1-4 0 0 1zM242 167l-3 0-1-2 3 0zM82 171l-3-1 0-4 3 1zM242 171l-2-1 0-2 2 0zM99 173l-3-1 1-2 2 0zM67 182l-4-1 0-3 3-1zM61 182l-3-1 0-3 4 0 0 3zM58 182l-2-1 2 0zM229 189l-5 0 0-3 6 1zM54 193l-2 0 0-2 2 0zM37 201l-3-1 1-3 2 1zM238 202l-3-3 3 1zM249 214l-3 0 0-2 2 0zM246 216l-3-1 0-2 3 1zM15 238l-2-2 1-2-1-1-1 2-4-1 2-5-5 2 0-2-2 0 0-3 3-2 3 0 0 3 6 0-1-3-1-1-4 0-1-3 3-1-1-2 2 0 0 3 2 2 1-1-1-2 1-3 3 0 1 1-1 3 3 1-2 0-1 2-1 10-1 0zM251 222l-2 0-1-2 1-2 3 0-2 1 1 1zM23 223l-2 0 0-2 2 0zM28 230l-5 0-5-3 3-2 3 0 4-2 0 3 2-1 0 3 1 0zM41 228l-3-1 1-3 3 0zM253 228l-4-1 0-2 3 1zM29 236l-1 0 0-5 4-1 0 2-2 0 1 2-2 0zM20 242l-3-1 1-3 2 1-1 1zM270 245l-3 0-1-2-3 0-2-3 3-2 2 0 0 2 3-1 0 2 2 0 1 2zM18 243l-2-1 2 0zM256 247l-4-2 3 0 3-2 0 2zM35 248l-2-3 3 1zM260 250l-3 0 0-2 3-1 0-2 3 0 1 3-1 1-3-1zM274 250l-2 0 0-4 1-1 1 0zM22 260l-3-1 2-2 0-2-3-3 5-2-1 5 1 0 0 4zM20 256l-3-1 3 0zM275 271l-4 0 1-1 0-3-3 1-2-1 0-6-1 4-2 0 0-3-4 1-1-2 2-1 0-2 5 2 1-2 4 0 1-1 0 5 2 0 1-1 0-6 3 1-1 2 5-1 0 4-3 2 3 1 2 2 0 2-5 2-2-4-1 1 1 2zM9 258l-2 0 0-2zM10 261l-1-3 4 1zM295 264l-4-1 4-1zM290 285l-7-1-1-1 1-4 3 1 0 3 1-2 5 1zM267 285l-2 0 0-2 2 0zM344 350l-26 0 0-1-4 0-1 1 0-2-5-1 1-1 0-2-3 0-2-2 1-2-1-2 5-2-2-1-1-4-2 0 0-2 2-1 4 0 1 2 1-3-2 0 0-3 1-1 4 1 1 2 1-1-2-1 1-3-2 0 1-3 1 1 4 0-1 6 4 4 0-8-2-1 1-4 5 0-1 2 3 0 5 3-1-6 2-1-1 0 0-3-2-1 2 0 0-2 3 0 0 1 2-1 1 4 0-4 1 0-2-1 1-2-2 0 0-4 3-2 4 3 1 4 3 0-2-2 1-1-1-2 2 0 0-3 1 0 0 22-1-1-5 0 0-1-5 0 0 5-5-1 0 3-2-2-2 0-5 10 0 3 2 0 2 3 2 0 4 5 5 2 2 3 2 0zM308 305l-4-1 4-1zM297 307l-3 0 0-2 2 0zM291 314l-1-1-4 1 1-2-1-1 2-1 1 2 2-1zM313 344l-1-2 1-1 3 1 6-6-3 0 0-1-6 1-1 1 1 4-2 0-1 2z"/><path fill="#83ff7c" d="M223 3l-2 0 0-4 5 0 0 2-3 0zM225 5l-2 0 0-2 2 0zM210 10l-4 0 0-2 4 0zM216 28l-5 0-1-1 1-4-5-1 3-2-2-3 2-3-2 1-1-4 8 1-3 1 2 3 0 3-2 1 0 2 5 1 1-1 0-2-3-1 0-6 1 4 3 0 0 3 1-1 2 0 0 3-5 2 1 2zM221 17l-3 0 0-2 2 0zM92 23l-2-2 4-1 0 2zM89 30l-2-1-1-3 7 0 0 2-4 0zM204 40l-2 0 1-4-2 0 0-3 3 0 0 4 1 1zM168 60l-6 0-2-4-5 4-4 0 0-1 2-1-2 0 0-2 5-2 0-2-2 0 0-2-4-1 3 0 1-2 2 0 0-2 5 1 1-3 1 1 0 3-4 4 1 2 3 0 1-1 0-6 5-1 1 3-3 1 0 2-2 1 2 2 0 2 3 1-2 1zM187 45l-2 0 0-2 2 0zM118 60l-3-3 0-2 1-2 3 0-1-1 1-3 0 1 3 0 1 3-2 0-1 5-2 0zM174 54l-4-1 1-4 2 0zM173 57l-3-1 2-1zM192 61l-2 0 0-2 2 0zM194 62l-2 0 1-2zM169 69l-2 0-1-2-3 1-1-2 0-4 3 0 1 3 3 1-1 1zM207 71l-3-1 2-1zM196 101l-4 0-1-1 0-4 5 0 0-2-2-1-3 0 0 1-1-1-6 1 0-2 2-1-1-1 1-1-1-3 3 0-1-4 6 0 0-3-3 0-1 2-2 0 1-2-2 0 1-1-1-2 1-1 5 0 1 2 8 0 0 1-3 2 3 2-4 1 1 1 5-1 0 2-2-1-1 1 1 3-1 1-1-1-6 0 3 3 4-1 1 2 0 1-4-1 1 4-2 2 2 2zM112 92l-2 0 0-3 1-1 1 0zM118 103l-3-1 2-2 0-2-2-1 1-2 3 1 0 3-1 0 1 3zM187 104l-2 0 1-3-2-2 3 0 3 2zM209 109l-2 0 0-2zM143 112l-3 0 0-2 3 0zM140 114l-2 0 0-2 2 0zM151 119l-2 0 0-3-1 0 0-3 1-1 2 1 0 2 1-1 3 0-1 3-4-1 1 1zM146 120l-2 0-1-4 2 1 2-1 0 3zM161 122l-2 0 0-2 4-1 0 2zM228 130l-1-2 2-2 0 3zM211 168l-4 0 0-7 1 0 0-10 3-4 1-5-10 0-1 1 0-4-2 0 0 7-2-2-8 0 0-2 1-1 3 0-2-1 1-2 2 0 0 2 3 0 0-4 7 3 1-1-1-2 2-4 2-1 2 1 1 2 1-2-1-2 4-2 1 1 0 4 1-1 4 0 0 4-3 0-5 5 0 3 2 0 3 3 4-1-2 4 3 0 1 5-3-1 0 5-1 1-2-3-2 0 2 2 0 3-3 0 0 3-2 0 0-6-2-1 0 8-1 0zM210 140l0-2-2-2-2 0 0 2 2 2zM224 141l-4-1 0-3 4 0 1 1zM223 145l-3 0-1-2 4 0zM190 148l-4-2 1-1 3 0 1 1zM195 155l-4 0 0-2 4 0 0-1-7 1 0-3 3 0 1-2 8 0 1 2-3 1zM77 173l-4-2 1-4-2 0 0 3-1-1-4 0 0-2-2 0 0-3 3-2 2 0 2 2 3-4 3 0 0-2 4-3 0-2 2 0-1-2 3 0 3-2 0 3-2 3 2 0 2-1 0-2 2 0-1 3 1 2-2-1-1 2-2-2 0 3-2 0 0-3-2 0-1 2-3 1 0 1 5 0 0 1-7 0 0 4-2 1 2 2 0 4zM91 152l-1-2 2 0zM70 161l-2 0-2-2 0-3 4 0 1 4zM201 167l-2-1 0-2-2 0 0 2-3-1 2-4-4 1-1-1 2-5 8 1-1 1 0 4-1 0 3 3zM205 165l-3 0 0-2 3 1zM84 167l-2-1 0-2 2 0zM82 169l-3 0 0-3 3 1zM62 181l-2 0-2-3 4 0zM66 181l-3 0 0-3 3 0 1 1zM226 189l-2 0 0-2 3-1zM63 194l-1-3 3 0 0 2-2-1zM245 216l-2-1 0-2 2 0zM15 236l-2 0 1-2-1-1-2 0 0 2-2-1 1-5-5 2 1-2-2 0 0-2 2 0 0-2 3 0 0 2 6 0-2-4-4 0-1-2 4-3 2 4 1-1-1-3 2-2 0 1 3 0 0 2-3 1 2 7-1 0 0 6-2 0zM250 222l-2-2 1-2 2 2zM28 230l-3-4 0-2 3 0 0 2 2 0 1 2zM31 234l-2 0 0-3 3 0-2 1zM268 243l-5 0-2-3 1-1 3 1 1-2 0 2 3 0zM20 242l-3-1 1-2 2 0-1 1zM258 242l-1-3 2 0 0 2zM257 246l-3-1 4-2 0 2zM260 250l-2 0 0-3 2 0 0-2 3 0 1 3-1 1-3-1zM22 255l-2 0-2-3 5-2 0 3zM276 259l-1-3 3 0zM13 260l-3 0-1-2 2 0 2 1zM275 270l-3-1 2-1 0-3-2 0 0 2-5 0 1-2-1 0 0-4-1 4-2 0 0-3-4 0 0-1 2 0-1-3 5 2 1-2 2 0 0 4 5 0 0-1 4 0 0-3 3 0 0 3-2 2 2 0 0 2 2 0 0 3-4 1-2-3-1 1 1 2zM286 284l-3 0 0-3 3 0zM289 284l-2 0 0-3 4 1zM344 350l-26 0 0-1-4 0-1 1 0-2-4-2 0-3 4 1-1-2 1-1 3 1 6-6-7-1-4 3 0 3-1 1-5 0 0-1 2 0-1-3 2-2 2 0 0-2-2 0-1 1 0-2 1-1-4-2 2-1 4 0 0 1 2-1 1 3 1-4 3 0 6 3 0-10-2-2 2 0 0-2 2 0 0 1 6 1 3 2 1-2-2 0 0-3 4 0 0-3-3-1 0-2 1-1 3 0 0 2 2 1 0-4 1-1-2 0 1-1-1-3 1-1 4 0 2 2 0 2 3 0-2-3 3-3 0 20-1-1-5 0 0-1-5 0 0 5-5-1 0 3-2-2-2 0-5 10 0 3 2 0 2 3 2 0 4 5 5 2 2 3 2 0zM319 324l-4 0 1-3-2-1 2-1 3 1 1 1zM328 322l-2-2 0 2zM314 328l-3-1 0-4 4 1 0 3z"/><path fill="#e2ff1d" d="M210 19l-2 0 0-2 2 0-2-2 1 0 0-3 2 0 2 6-3 0zM221 22l-3 0-2-3-2 0 0-2 4 0 0 3 3-1zM215 27l-2 0 0-2-2 0 0-2-4-2 3-1 1 2 6 1zM204 40l-2-1 1-4-2 0 0-1 3 0zM227 40l-3 0-2-2 3-1 2 1zM168 60l-6 0-3-7-5-1-1-4 3-1 0-2 5 1 0-3 1 0 1 4-4 4 1 2 5-1 2 2 0 2 3 1-2 1zM166 52l-1 0 0-6 2 0 1 1 2-1 0 2-3 1zM118 58l-2 0 0-4 3-1-1-2 1-1 4 1 0 2-2 0 0 2zM173 57l-3-1 2-1zM164 68l-2-2 0-4 3 0 1 3 3 1 0 1-5 0zM189 93l-3 0-1-1 2-4-1-2 2 0-1-3 1-1 5 0 0-3-3 0-1 2-2 0 1-2-2-1 2 0-1-3 5 0 1 2 4 0 3 4-3 1 3 4 0 3-7-1-1 1 0-1-4 0-1 3zM197 96l-1-2-4-1 0-3 1-1 3 2 3 0 0 2-2-1 1 3zM186 94l-2-1 2 0zM119 102l-2 0 0-4-2-2 4 1-1 2 1 1zM196 101l-4 0-1-1 0-4 5 0 1 3zM88 107l-1-2 1-1-1-1 4-1 0 3zM183 116l-2-1 2 0zM146 120l-2 0-1-4 2 0zM185 118l-2-2 2 0zM160 122l-1-2 3-1 1 1zM209 168l-1-4-1 0 0-3 1 0 0-10 3-4 1-5-10 0-1 1 0-4-1-1 4 1 1-1-1-2 2-1 0 3 2 2 2 0 0-2-4-3 1-4 3 1 1 2 1-2-1-2 5-1 0 4 2-1 0 1 3 0 0 3-3 0-5 5 0 3 5 2 0 6-1 1-4 0-3 2 5 1 3 3 0 3-3 0-1 3 0-5-3-2 0 8-2 0zM199 146l-2-2-5 0 1-4-2-1 1-1 2 0 0 2 3 0 0-3 2 0zM223 141l-3-1 0-3 3 0 2 2zM190 148l-3-1 0-2 3 0 1 1zM195 155l-3 0-1-1 4-1 0-1-6 0-1 1 0-3 3 0 1-2 8 0 1 2-3 1zM224 153l-5 0 0-3 4 0zM86 154l-3-3 3 0zM92 156l-2 0-1-2 2 0 0-2 2 0zM77 172l-4-1 1-4-7 1-1-4 2 0 0-2 2 0 2 2 3-4 3 0 0-2 3-3 5 0 1-1 1 1 0 4-2 0 0-3-2 0-4 4 5 0 0 1-7 0 0 4-2 1 2 2zM69 160l-2 0-1-2 1-2 3 0 0 3zM201 167l-2-1 0-2-3 0-1-1 1-3-3-1 0-2 8 0-1 1 0 4-1 0 2 2zM81 169l-2 0 0-3 3 1zM65 193l-1-1-2 1 0-2 3 0zM18 220l-2 0-1-3 4 1zM11 234l-2 0 1-5-3 1-2-3 2 0 0-2 2 0 0 2 6 0-2-4-4 0 1-4 2-1 1 4 2-2 2 1 1 6-4 2zM28 230l-3-4 0-2 5 2 1 2zM7 231l-2-1 2 0zM268 243l-4 0 0-3 1-1 3 1zM281 268l-3 0 0-3-3-2-2 0-1 4-3 0-1-6-2 0 0 4-2 0 0-3-4 0 2-1-1-3 5 2 1-2 2 0 0 4 5 0 0-1 4 0 0-3 3 0 0 3-2 2 2 1 0 2 2 0zM275 270l-2 0-1-2 5 0zM286 283l-3 0 0-2 3 0zM350 306l-3-2 1-3 2 0zM343 307l-3-1-1-3 4-1 2 1zM339 323l-5-1 1-2-1-4 3 0 0-3-2-1 0-3 3 0 1 3 8 0 3 2 0 6-1-1-5 0 0-1-5 0zM309 342l-3-2 2-4 2 0 0-2-2 0-1-2 1-3 2 1 2-1 0 3 2-4 3 0 6 3 0-12 2 0 1 3 2 0-1-2 4 0 0 3-6 10 0 3-10-1-4 3 0 3zM319 324l-4 0 1-4 3 0 1 1zM314 328l-3-1 1-3 3 0 0 3zM344 350l-26 0 0-1-4 0-1 1 0-3-2 0 0-2-2-1 4 0-1-2 3-1 1 1-1 3 10 0 8-4 2 3 2 0 5 5 2 0z"/><path fill="#ffb400" d="M210 19l-2 0 0-2 2 0-1-1 0-4 2 0 2 6-3 0zM220 22l-2 0-2-3-2 0 0-2 4 0 0 3 3-1zM210 23l-2-1 0-2 2 0zM215 27l-2-3-2 0 0-2 6 1zM226 40l-2 0 0-3 2 1zM160 50l-4-3 0-2 3 0 0 1 4-1 0 2zM166 52l-1 0 0-6 2 0 0 5zM121 54l-2-1 0-3 4 2zM168 60l-6 0-2-3 0-4 5-1 2 2 0 2 3 1-2 1zM119 57l-3-1 1-3 2 0-1 2 2 0zM194 62l-2 0 1-2zM164 68l-2-2 0-4 3 0 1 3 3 1 0 1-5 0zM197 83l-4-1 0-3-5-1 0-3 4 0 1 2 4 0 2 3 0 2zM193 89l-1-1-5 0-1-1 2-1-1-2 7 0 0 4zM197 96l-1-2-4-1 0-3 1-1 3 2 3 0 0 2-2-1 1 3zM196 101l-4 0-1-3 6 0zM88 107l-1-2 2-1 0-2 2 0 0 3zM163 121l-4-1 3-1zM211 166l-2 0-2-2 0-3 1 0 0-10 3-4 1-5-1-1-7 0 0-1-3 2 0-3 3 0 2-3 0 2 2 2 2 0 0-2-3-2 1-1-1-2 2 0 1 2 1-3 2 0 0-2 2 0 1 3 1-1 4 1 0 3-3 0-5 5 0 3 5 2 0 6-1 1-4 0-3 2 5 1 3 3 0 3-3 0-4-4zM199 144l-2-3 1-3 1 0zM190 148l-3-1 1-2 3 1zM221 153l-2 0 0-3 4 0zM86 154l-3-3 3 0zM85 161l-7 0 0-3 3-3 5 0 1-1 1 1 0 4-2 0 0-3-2 0-4 3 0 1 5 0zM69 160l-2 0 0-4 3 0 0 3zM201 167l-2-1 0-2-3 0-1-1 1-3-3-3 8 0-1 1 0 4-1 0 2 2zM72 168l-4 0-2-2 3-1-1-1 0-2 3 1zM77 171l-4-1 1-1-1-3 3 0 2 2zM27 228l-2-4 3 1zM12 233l-3 0 0-1 2 0-1-3-1-1-3 0 1-3 2 0 0 2 7 0-4 4zM31 229l-3-1 2-1zM30 234l-1-3 3 0 0 1-2 0zM263 249l-3-1 0-3 3 0 1 1zM22 260l-3-1 1-2 2 1zM266 265l-2 0 0-3-4 0 2-1-1-1 0-2 5 3zM270 265l-2 0 0-3 4 0zM281 268l-3 0 0-3 2-1 1 0zM350 306l-3-2 1-2 2 0zM343 307l-2 0-1-3 1-1 4 0zM336 321l-2 0 1-1-1-4 3 0 0-3-2-1 1-3 2 0 1 3 8 0 3 2 0 6-1-1-5 0 0-1-5 0 0 1-3 0zM324 322l-1-3 2 0 0 2zM325 336l-11-1-1-2-5 1-1-4 2 0 1 1 2-2 1 3 1-4 3 0 6 3 5-11 3 0 0 3-6 10zM314 328l-3-1 2-1 0-2 1 0zM309 342l-1-2 1-1-2-1 1-2 2 0 1 1 0 4zM344 350l-26 0 0-1-4 0 1-3-3 1-1-3 5-2-1 3 10 0 8-4 2 3 2 0 5 5 2 0z"/><path fill="#ff4700" d="M212 15l-3 0 0-3 2 0zM216 25l-5-2 6 0zM168 60l-6 0-2-3 0-4 5-1 2 2 0 2 3 1-2 1zM193 79l-5-1 0-3 4 0 1 1zM197 96l-1-2-4-1 0-3 1-1 4 2zM215 134l-1-2 2-1 0 2zM219 136l-1-3 3 0 0 2zM213 143l-2-2-7 0 0-2 4 0 2 1 0-5 4 0 1 5-2 1zM195 155l-2 0 0-2 2-1-5 0 0-2 2-2 8 0 1 2-3 1zM221 153l-2 0 0-3 3 0zM85 161l-7 0 0-3 3-3 5 0 1-1 1 1 0 4-2 0 0-3-2 0-4 3 0 1 5 0zM70 159l-3 0 1-3 2 0zM199 164l-3 0-1-2 5-3 0 3zM71 165l-3-1 0-2 3 1zM69 168l-2-1 1-2zM77 171l-2 0 0-3-2-2 3 0zM99 172l-3-1 3-1zM13 223l-3-3 3 0zM279 268l-1-3 3 0 0 1-2 0zM343 307l-3-1 1-3 2 0zM339 316l-2 0 0-3-1 0 1-2 3 1 0 3zM336 320l-2-2 1-2 2 0 0 3zM326 333l-3-1 0-3 3-6 2-1 0-2 2 0 0 5zM311 334l-3 0 0-2 2 0 0-2 2-1 0 4zM311 341l-2 0-1-4 3 0zM344 350l-26 0 0-2 15-7 2 3 2 0 5 5 2 0zM314 347l-2 0-1-2 4 0z"/><path fill="#f00" d="M4 3l-2 0-1-4 7 0 0 2-2 0zM209 4l-2 0 0-5 2 0zM223 11l-3 0 0-5 1 0 1-4-4 0 0 1-3 0-3-2 0-2 12 0 0 11zM214 26l-2 0 0-5-1 1-2 0 0-2 1 0-1-1 1-5-2 0-1-1 0-2 2-3 3 0 1 1 0 5 4 0 0 2 2 0 0 2-2 0 2 1 0 3-3 0-1-1 0 4zM12 14l-2 0 0-2-1 0 0-3 2 0 2 2 0 2zM74 13l-3 0 0-3 2 0 1 1zM1 22l-2 0 0-7 2 0 1 1zM4 20l-2 0 0-2 2 0zM18 26l-4 0 1-5 1-1 2 0 0 2 2 0 0 2zM92 29l-4 0 0-2-1 0 0-3 1-1 2 0 1-3 2 0 1 1 0 2-2 1 1 3-1 0zM10 33l-2 0 0-4 3 0zM24 34l-2 0 0-3 1-1 3 0 0 3-2 0zM5 41l-2 0 0-2 3-2 2 0 0-2 2 0 0 3-4 1zM227 39l-4 0-1-1 0-2 1-1 3 0 0 2 1 0zM164 67l-4 0-2-5-1 1-4-1-1-1 0-3 1-1-3 0 0-3 1 0 0-6 1-1 3 1 0-2 2 0 0-2 5 0 1 3 3 0 0-1 5 1 0 2-1 1 2 0 0 4-1 1-2 0 0 2-3 0 1 1 0 4 1 0 0 2-1 0 0 2-3-1zM36 50l-3 0 0-3 1-1 2 0zM119 56l-2 0 0-2 1 0 0-2 2 0 0 2-1 0zM37 60l-2 0 0-2 2 0zM35 62l-2 0 0-2 2 0zM43 65l-2 0 0-4 2 0 1 1 0 2zM39 66l-3 0 0-3 2 0 1 1zM42 69l-2 0 0-2 2 0zM46 71l-4 0 0-2 4 0zM193 106l-5 0-2-2 0-2-1 0 0-4 2-1-1 0-1-5 1 0 0-2 2 0-1-1 0-3 2 0-1-1 1-4-2-1 0-4 2 0 0-3 5-1 0 1 3 0 0 2 2 0 0 3-2 2 2 1 1 4-2 0 1 1 0 3-1 0 1 3-1 1-2 0 0 2-1 0 0 4 2 0 0 4-4 1zM46 82l-2 0 0-3 2 0zM44 84l-3 0 0-2 3 0zM116 103l-2 0-1-5 2 0 1-2 2 0 0 2 1 0 0 3zM50 104l-3 0-2-2 0-2 4 0 1 1zM92 106l-3 0 0-3 5-1 0 2-2 0zM52 107l-3 0 0-2 1-1 3 0 0 2zM141 115l-4 0 0-2 2 0 0-2 2 0zM146 119l-3 0 0-2 3-3 6 0 1 1 0 2-2 0 0 1-5 0zM184 118l-2 0 0-4 4 1 0 2-2 0zM81 126l-3 0 0-3 2 0 1 1zM184 130l-2 0-1-1 0-2 3 0zM210 167l-5 0-1-4-3 1-1 2-2 0-1-3-1 1-2 0-1-4 2-1-1-1 1-3-2-1 0-4-1 1-3 0 0-2 1 0-1-1 0-3 1 0 0-3 3 0 0-3 2 0 1 2 0-3 2 0 0 2 4-1 3 4 0-6 3-1 0-3 3 0 0 3 1 0 0-5 3 0 0 1 2 0-1 3 1-1 3 0-1 4 4 0 0 2-1 1-3 0 0 1 3 0 0 2-2 0-1 2 2 1 0 4 2 1 0 3-2 3-2 0-2 2 0 4-7 0zM173 140l-3 0 0-2 1-1 2 0zM74 141l-4 0 0-2 4 0zM44 145l-2 0 0-2 1 0 0-2 2 0 0 2-1 0zM219 149l0-1-2 0 0 1zM77 170l-3 0-1-1 1-4-2 2-4 0-1-1 0-3 3-1-2-2 0-3 2-1 0-2 7-1 0 1 5 0 1 2 0-4 1 0 0-2 6 1 0 2 1 0 0 4-2 2-5-1 0 7-1 1-2 0 0 2-3 0zM98 174l-4-1-1-1 0-2-3-1 0-2 3 0 0 1 4 0 0 1 2 0zM25 188l-2 0-1-1 0-2 2 0 1 1zM19 235l-6 0 0-1-3 0 0-3 1 0 0-2-3 1-1-1 0-3 1-1 3 0-1-1 0-3 4 0 1 1-1-3 1-1 2 0 1 3 4 1 2 5 1-1 3 0 2 2 0 5-4 0 0 1-2 0-3-2 0 1-2 0zM250 221l-4 0-1-1 0-2 4 0 1 1zM274 252l-3 0-1-1 0-3-1 0-1-4-1 1-3 0 1 3-2 0-1-1-1 3-5-1 0-2 1-1-2-1 0-4 1-1 4 0 1 2 2-3 2 0 1 2 5 1 0 3 2 0zM24 244l-2 0 0-1-3 1 0-3 3 0 0 1 2 0zM22 259l-2 0-2-2 0-4 1 0 0-3 8 2 0 2-1 0 0 4-4 0zM258 257l-3 0 0-1-2 0 0-5 2 0 1 1 0 2 2 0zM275 269l-2 0 0-2-2 0-2-3-7 0-1-1 1-5 1-1 5 0 0 2 2 0 0-1 3 0 0-1 4 0 0 2 3 0 0 2-3 2 3 1 0 3-4 0-1-1zM297 265l-4 0 0-2 1-1 4 0 0 2zM269 285l-3 0-1-1 0-3 3 0 1 1zM321 289l-3 0 0-5 3 0zM350 350l-30 0 0-1-1 1-3 0 1-3-3 1-2-2 0-2 2 0-2-2 0-2-4 0 1-4 2 0-2-1-1-5 1-1 4 1-2-1 1-4 4 0 1 1-1-4 1-1 2 0 2 2 1-5 2 0 1 5 2 0 0 1 1 0-1-1 0-2 5 0 1 2 2 0 0-6 3 0 0-3-1 0-1-4 1-1 4 0-1-3 1 0 0-2 4 0 2 3 0-3 2-1 0-2 1 0zM307 307l-2 0 0-4 2 0 1 1 0 2zM289 315l-2 0 0-4 3 0 0 3zM318 346l-1-2 0 2z"/><g class="r" transform="translate(0 .5)"><path stroke="#06f" d="M111 39h2m26 12h3m-10 4h1m-3 1h1m1 0h1m-42 91h2m-26 2h1m3 0h1m-5 1h1m2 0h1m9 0h2m12 8h1m-37 2h2m-1 1h1m-2 1h1m-2 6h1m-1 1h1m25 2h1m4 0h2m-2 1h1m-18 7h1m157 0h1m-151 1h1m149 0h1m-158 2h1m-4 5h1m-1 1h1m155 4h1m-1 2h1m-188 11h1m-16 6h1m-13 3h1m-10 5h1m29 0h1m-1 2h1m1 0h1m-2 1h1m12 0h2m-3 1h1m-14 11h2m-9 2h2m-26 1h1m3 0h1m17 0h1m2 6h3m-8 1h1m245 8h1m3 0h1m-5 1h1m-2 1h2m30 7h1m-1 1h1m-1 1h1m-43 2h1m35 2h1m-33 2h2m1 1h1m29 3h1m-19 1h1m3 0h1m-6 1h1m-2 1h1m37 11h1m10 0h1m-11 1h1m8 0h1m0 1h2m-10 1h1m17 10h1m-34 3h1m0 2h1m-11 1h1m2 2h1m-2 1h2m27 1h1m-3 2h3"/><path stroke="#09f" d="M86 14h1m-5 3h2m5 0h1m1 2h1m20 8h1m2 0h1m9 1h1m-15 1h1m14 0h1m0 4h1m-1 1h1m14 1h1m-15 1h1m14 0h2m-19 1h1m1 0h1m16 0h1m9 0h1m36 0h2m-65 1h1m24 0h1m-65 1h1m63 0h2m-63 1h1m102 0h2m14 0h2m-121 1h1m6 0h1m0 1h1m-3 1h2m11 0h1m1 0h2m-14 1h1m0 1h3m2 0h2m41 0h1m-44 2h1m0 1h2m2 2h1m17 1h1m-27 1h1m1 1h1m20 0h1m-33 2h1m-2 2h1m-1 2h1m2 0h1m74 0h1m-76 1h2m48 4h1m-19 1h2m16 0h2m21 0h2m-1 2h1m-31 1h1m-2 1h1m-3 1h1m-2 1h2m20 0h1m2 1h1m-1 1h2m-66 8h1m-1 2h2m-9 18h1m-10 2h1m37 3h2m33 0h1m27 0h2m-103 1h1m39 0h1m56 2h1m7 0h2m14 0h1m-18 1h2m-4 2h1m-28 1h1m1 0h1m23 0h3m-27 1h1m-3 1h1m-1 1h2m-82 3h1m1 1h1m-4 1h2m-2 1h2m74 0h1m28 0h1m-109 1h1m79 0h1m-1 1h1m23 0h1m28 0h1m0 1h1m11 0h1m-73 1h1m71 0h1m-73 1h1m58 0h2m-29 2h1m-3 1h3m8 3h1m2 0h1m-22 1h1m18 0h1m-122 3h1m5 3h1m-3 2h2m-1 1h1m159 0h1m-162 1h1m160 0h3m-11 2h1m-164 1h3m16 0h3m141 0h1m-145 1h1m-16 1h1m-5 1h2m173 0h1m-6 2h2m-178 2h1m-3 1h2m-4 1h1m2 0h1m37 0h1m91 0h2m-134 1h1m187 0h1m-1 1h2m-146 1h2m143 0h1m-185 1h1m35 0h2m-2 1h1m4 0h1m-11 3h1m-1 1h1m9 0h1m-8 1h2m2 0h1m120 0h1m24 0h1m-155 1h2m2 0h1m2 0h1m95 0h1m-100 1h1m2 0h1m4 0h1m-44 3h3m28 0h1m109 0h1m-148 1h1m35 0h1m-26 1h1m5 0h1m-1 1h1m1 1h1m-20 1h1m15 0h1m3 0h1m1 0h1m-23 1h3m147 2h1m1 0h1m20 0h1m-29 1h1m4 0h1m1 0h1m15 2h1m4 0h1m-175 1h1m172 0h1m7 1h1m-179 1h1m8 0h1m142 0h2m-143 1h1m-21 5h1m-1 2h1m9 0h1m0 1h1m177 0h2m-5 2h1m-7 1h2m-2 1h1m13 7h2m-218 2h1m3 0h2m-21 1h2m1 1h1m-10 2h1m8 0h1m-7 4h1m28 1h1m-30 1h1m14 0h2m12 0h1m10 6h1m-2 4h1m-11 1h1m-2 2h3m-34 4h1m30 0h1m-33 1h1m17 1h1m1 0h1m233 0h1m-236 1h1m239 0h3m-240 2h1m-19 3h1m6 0h2m10 0h1m-19 1h1m5 0h1m11 0h1m-7 3h1m-3 1h1m6 0h2m-15 1h2m12 0h1m257 1h1m-267 2h1m234 1h3m-226 1h1m224 0h1m25 0h1m-251 1h1m236 0h1m-239 1h2m263 2h2m-279 1h1m276 0h1m-42 2h1m33 2h1m0 6h1m0 1h1m-13 3h2m-9 2h1m7 0h1m-8 1h1m26 0h1m1 0h1m-31 1h1m28 0h1m-38 1h1m18 0h1m-20 1h1m1 1h1m33 0h1m-34 1h1m31 0h1m-22 1h1m37 0h1m1 0h1m-46 1h3m2 0h1m37 0h2m2 1h1m-50 3h1m-1 1h1m-1 1h1m7 0h1m46 1h1m-46 1h1m0 1h1m15 0h1m-10 1h2m53 0h1m-57 2h1m54 2h3m-58 2h1m59 0h1m-43 1h1m-1 1h1m0 1h1m30 2h1m-2 1h1m-29 2h1m-1 1h1m-14 1h1m-2 1h1m18 2h1m7 1h1m-4 1h1m-3 1h1m-22 7h1m-2 1h1m11 1h1m-2 1h1m-6 8h2m1 2h1m-6 3h1m4 10h1m3 1h1"/><path stroke="#0cf" d="M210 1h1m18 4h1m-12 1h1m-16 1h1m13 0h1m10 0h1m-14 1h1m12 0h1m0 1h1m1 1h1m-4 2h2m-2 1h1m-148 1h2m119 0h1m26 0h1m-149 1h1m117 1h2m-5 2h2m-2 1h1m27 1h2m-29 1h1m-2 1h2m-4 2h1m3 1h1m2 0h2m2 0h1m-126 1h1m40 0h2m70 0h2m4 0h1m5 0h2m20 0h1m-147 1h1m117 0h2m-86 2h2m104 0h1m6 0h1m-114 1h1m79 0h2m-1 1h1m-82 1h1m-28 1h1m121 0h3m-86 1h1m94 0h1m-136 1h2m50 0h1m2 0h1m-56 1h1m55 0h2m-57 1h1m104 0h1m2 0h3m15 0h1m-104 2h1m42 0h2m30 0h2m0 1h1m-70 1h1m57 0h1m-77 1h1m24 0h2m48 0h1m-78 1h2m1 1h1m23 0h1m-30 1h1m5 0h1m49 0h1m-59 1h1m98 0h1m-100 1h1m-1 1h1m33 0h4m51 0h1m-90 3h1m44 0h2m47 0h1m1 0h1m-97 1h1m14 0h1m32 0h2m-50 1h1m81 0h3m4 0h1m-1 1h2m-63 1h1m-18 4h4m87 0h1m3 0h2m-105 1h1m100 0h1m1 0h1m3 1h1m-82 1h1m49 0h1m-2 1h1m31 0h1m-10 1h1m-79 1h1m32 0h1m20 0h1m23 0h1m9 0h1m-1 1h1m-99 1h1m37 0h1m43 0h1m-2 1h2m-80 1h2m-3 1h2m23 0h1m18 0h2m33 0h3m-89 2h3m57 0h1m-60 1h1m69 0h1m-73 1h1m98 0h2m-1 1h1m-103 1h1m80 0h2m-82 1h1m10 0h1m-14 2h1m3 4h1m100 7h1m-111 1h1m-1 1h1m-2 1h1m6 0h1m79 4h1m23 0h1m-26 1h1m24 0h2m-96 1h1m68 0h1m26 0h1m-30 1h1m1 0h1m-4 1h2m23 0h1m-108 3h1m80 0h1m32 0h1m-116 1h1m81 0h1m23 0h2m-17 1h1m-27 1h2m30 0h1m-30 1h1m0 1h1m-29 1h1m9 0h1m17 0h2m19 0h3m-42 1h1m9 0h1m-11 1h1m19 0h1m-31 1h1m49 0h3m23 0h1m-1 1h1m-1 3h1m1 0h1m-1 1h1m-1 1h1m-1 2h2m-68 1h1m30 0h1m42 0h2m-139 1h1m66 0h1m3 0h1m65 0h2m-72 1h1m3 0h1m49 1h1m-122 1h2m79 0h1m-9 1h1m3 0h1m38 0h2m-46 1h1m17 1h1m6 0h1m3 0h1m37 0h1m-57 1h1m13 0h1m4 0h2m14 0h1m-16 1h1m16 0h1m-36 1h1m-1 1h1m20 0h1m10 0h1m-130 1h1m102 0h1m19 0h1m-28 1h1m6 0h1m52 0h2m2 5h1m-56 2h1m-1 1h1m3 1h1m54 0h1m-169 1h1m113 0h2m-96 2h1m-6 1h1m141 0h1m9 0h1m-1 1h1m-10 2h1m2 2h2m4 1h2m-180 1h1m4 0h1m120 0h1m52 0h1m-183 1h1m2 0h1m178 0h1m-185 2h1m176 0h1m14 0h1m-17 1h2m14 0h1m-193 1h1m-2 1h2m191 0h1m-194 1h1m192 0h1m-10 2h1m1 1h1m-181 1h1m37 0h1m100 1h1m-146 1h1m11 0h1m-13 1h1m12 0h1m148 0h2m2 1h1m-162 1h1m9 0h2m-12 1h1m1 1h1m11 0h1m14 0h3m109 0h1m-1 1h1m-141 1h2m137 0h1m4 0h1m38 0h1m-188 1h1m3 0h1m182 0h1m-170 1h1m167 0h2m-156 1h1m151 0h1m-17 1h1m-1 1h1m1 1h1m-169 1h1m-1 1h1m180 2h1m-16 2h1m-176 1h1m166 0h2m1 0h1m3 0h1m-4 1h1m-1 2h2m-159 3h2m-24 1h1m22 0h1m179 7h1m-213 1h1m210 0h1m-226 9h2m-16 4h1m22 0h1m2 5h1m7 0h1m209 0h2m-199 1h1m-46 1h1m248 1h1m-219 1h1m210 1h1m-245 1h1m36 1h1m4 0h1m215 0h1m-3 1h1m-4 1h1m-1 1h2m9 4h1m-257 1h1m-3 3h1m247 0h1m-242 1h2m236 0h1m1 0h1m20 0h1m0 1h1m-271 1h1m22 1h1m-17 2h1m236 2h1m7 4h2m16 0h1m-18 1h1m-243 1h1m239 3h1m29 0h3m-38 1h1m4 0h1m-7 1h1m5 0h1m27 1h2m-31 3h1m9 5h1m24 1h1m-3 1h1m-26 3h1m13 0h1m6 0h1m4 1h1m8 0h1m-36 1h1m5 0h1m18 0h1m-28 3h1m17 2h1m-5 2h1m37 0h1m-42 1h1m40 0h2m8 3h1m-37 1h1m-1 1h1m36 0h1m-57 1h1m35 0h2m19 0h1m23 0h1m-44 1h1m18 0h1m19 0h2m-31 1h2m25 0h2m-311 1h1m262 2h1m-1 1h1m15 1h1m-27 4h1m15 0h1m-1 1h1m-15 1h1m-4 3h1m-3 2h1m8 2h1m-4 10h1m18 0h2m-22 1h3m0 3h1m1 1h1m4 4h1m-2 1h1m-1 4h1m-7 11h2m-2 2h1m-2 1h1"/><path stroke="#18ffe7" d="M87 0h1m-7 1h1m120 0h1m-123 3h2m144 0h1m-147 1h2m131 1h1m4 0h1m-8 1h2m15 0h1m-18 1h1m16 0h1m-4 1h1m-145 2h1m120 1h1m25 1h1m-148 1h2m146 0h1m-145 3h2m-1 1h1m109 0h2m26 2h1m-138 1h1m112 0h2m-105 1h1m-16 1h1m12 1h3m24 0h1m102 0h1m-129 1h1m100 0h1m0 2h2m-75 2h1m69 1h1m20 0h1m-22 1h1m2 0h1m12 0h1m1 0h2m11 1h1m1 0h1m-20 1h2m4 0h1m11 0h1m-1 1h1m-142 2h1m46 0h2m14 0h2m-64 1h1m43 0h1m3 0h1m11 0h2m-1 2h2m36 0h1m-63 1h1m-15 1h3m54 1h1m-73 1h1m2 0h2m82 0h1m22 0h1m1 0h2m-108 1h1m98 0h1m4 0h1m-83 1h1m67 1h1m15 0h2m-102 1h1m5 0h1m-1 1h1m16 0h2m42 0h1m19 0h1m-4 1h1m-10 1h1m10 0h1m-10 1h1m-91 1h1m28 0h2m20 0h1m-52 1h1m37 0h1m47 0h1m2 0h1m-1 1h1m2 1h2m-88 3h2m23 1h1m-1 1h1m2 0h1m-9 1h1m29 0h1m-21 1h1m-15 1h1m-5 1h1m-2 1h1m8 0h1m74 0h1m-84 1h1m8 0h1m36 0h2m45 0h1m-87 1h1m38 0h2m29 0h1m-70 1h1m26 0h2m1 0h2m-45 1h1m3 0h1m9 0h1m7 0h1m-21 1h2m15 0h1m15 0h3m5 0h1m3 0h1m34 0h1m-53 1h1m3 0h1m-39 1h1m100 1h1m-2 2h1m-105 1h1m104 0h1m-1 2h1m-1 2h1m-95 3h2m-2 1h1m-12 1h2m-2 1h2m9 0h1m69 2h1m-1 1h1m-88 3h1m-2 1h1m15 1h1m-18 1h1m16 0h1m89 2h1m-111 1h1m86 3h2m21 0h1m4 1h1m-111 2h1m21 0h1m6 0h1m82 0h1m-90 1h1m57 0h1m17 0h1m11 0h1m-13 1h2m10 0h1m-77 1h2m22 0h2m4 0h1m-29 1h1m13 0h1m10 0h1m-25 1h1m4 0h1m13 0h1m3 0h2m18 0h1m-40 1h1m7 0h1m30 0h1m9 0h1m1 0h2m20 0h1m-123 1h1m87 0h1m33 0h1m-128 2h1m73 0h1m21 0h1m7 0h1m23 0h1m-37 1h2m-18 1h1m15 0h1m-17 1h1m-1 2h1m7 0h4m42 0h1m-30 1h2m-44 1h1m10 0h1m16 1h1m42 0h1m-136 1h2m91 0h1m1 0h1m34 0h1m-36 1h1m48 0h1m-15 1h1m18 0h2m-68 1h1m-84 1h1m3 0h1m66 0h1m71 0h1m-145 1h1m-2 1h2m87 1h1m19 0h1m20 0h2m11 0h1m-37 1h1m2 0h1m43 0h2m-63 2h1m55 1h1m-57 5h1m4 1h1m-105 1h2m-1 1h1m103 0h1m52 1h1m-54 1h1m1 0h1m3 1h1m43 0h1m1 2h1m10 0h1m-173 1h1m7 0h1m110 3h1m49 4h1m0 1h1m-4 1h1m4 1h1m-53 1h1m50 0h1m2 0h1m-55 1h2m48 1h2m6 1h1m-4 1h1m-24 1h1m-125 1h1m148 0h1m-193 2h2m10 2h1m139 0h1m-5 1h1m-141 2h1m30 0h1m101 1h1m26 0h1m-23 1h1m4 0h1m16 0h2m-164 2h2m20 0h1m-1 2h1m122 0h1m37 0h1m-149 1h2m-2 1h2m145 0h2m-38 1h1m35 0h1m-5 1h1m2 0h1m-35 1h1m-2 1h2m18 0h1m-21 1h1m-154 1h1m0 1h2m-4 2h1m170 0h1m-171 1h1m177 1h1m3 0h1m-190 1h2m188 0h1m-193 1h1m1 0h2m192 5h1m3 5h1m0 5h1m0 1h1m0 2h1m-2 1h1m-229 1h1m14 1h1m-21 1h1m5 0h1m14 0h1m-31 4h1m254 2h1m-11 1h1m8 0h1m6 8h1m-227 1h1m225 0h1m-262 3h1m18 1h1m-19 1h1m8 2h1m238 1h1m-237 2h1m8 1h1m-1 1h1m-4 2h1m258 1h3m-1 1h1m-273 1h1m14 0h2m-17 1h1m-4 1h2m1 0h1m-1 1h1m249 2h1m-231 1h1m3 0h2m-6 2h1m233 1h2m9 0h1m-255 4h1m-4 1h3m264 0h1m-1 1h1m-22 2h1m33 0h1m-1 1h1m-12 1h1m-19 3h1m20 5h1m-27 7h1m31 0h1m-33 1h1m29 2h1m14 1h1m-11 1h1m7 0h1m-7 1h1m17 0h3m-49 1h1m28 0h2m2 0h2m15 0h1m-33 1h2m10 1h1m-2 1h1m9 0h2m-12 1h1m10 0h1m-15 1h1m50 0h1m-48 1h1m7 0h1m30 2h1m-7 1h1m-39 1h1m-4 4h1m-4 1h1m44 0h1m-6 2h2m-48 3h1m24 0h2m-27 1h1m24 0h2m1 4h1m14 0h1m-42 2h1m43 0h1m-13 1h1m-32 1h1m22 1h1m-15 7h2m9 0h1m-9 11h1m-2 4h1m2 0h1m-1 1h1m2 5h1"/><path stroke="#83ff7c" d="M84 0h2m120 0h2m-4 1h1m1 1h2m20 5h1m-148 2h1m139 0h1m-1 1h1m-1 1h1m-1 3h1m7 0h1m-144 4h1m-2 2h1m135 3h1m-127 1h2m104 1h1m-87 4h1m98 0h1m-100 1h1m98 1h1m14 1h1m-32 1h1m29 0h1m-34 1h1m10 1h2m-64 1h1m51 1h1m-48 2h1m13 1h3m36 1h1m-51 1h1m-39 1h1m36 0h1m54 0h1m-34 1h1m22 1h1m26 0h1m-13 1h1m-117 1h1m75 0h1m-77 1h1m28 1h1m73 6h2m-68 1h1m66 0h1m-99 2h1m6 1h2m91 0h1m-34 2h1m-1 1h2m19 0h2m-38 1h4m11 0h1m-21 1h1m-24 2h1m33 0h2m-1 1h1m46 1h1m-99 4h1m1 1h2m-3 1h2m63 1h1m6 1h1m-4 1h1m1 1h1m-1 11h1m-2 8h1m-59 2h2m55 0h1m16 3h1m-8 1h1m6 0h1m-9 1h1m6 0h1m-79 1h1m69 0h2m16 0h1m-1 1h1m-53 1h1m-67 1h1m-3 1h2m50 0h1m37 0h1m-92 1h1m73 5h1m-2 5h1m14 3h1m-96 1h2m134 0h1m-135 1h1m-3 1h1m1 0h1m91 10h1m-2 1h2m-1 1h1m12 9h1m49 2h1m-159 3h1m160 0h1m-162 1h1m107 0h1m1 3h1m2 0h1m-8 1h1m54 0h1m-142 3h1m88 2h1m-98 1h1m102 1h2m-97 3h1m-1 1h1m121 2h1m-1 2h1m-135 1h2m113 0h1m39 2h1m-149 3h2m-2 1h1m107 0h1m-144 2h1m177 2h1m-177 1h1m12 0h1m157 3h1m-181 2h1m-8 2h2m-10 8h2m0 1h1m-33 9h1m-1 1h2m237 0h1m-243 3h2m26 0h1m214 6h2m9 1h1m-4 2h1m-215 3h2m-2 1h1m210 0h3m-5 2h1m2 1h1m-250 1h1m23 3h1m-2 1h2m228 5h1m-252 1h2m19 3h1m8 2h2m217 0h1m-223 1h1m4 0h1m244 0h1m-258 1h1m10 3h1m214 4h1m-226 2h1m262 0h2m-265 1h1m-1 1h1m266 5h2m-12 8h1m-13 5h1m-2 2h1m40 5h1m-46 2h1m14 0h1m40 0h2m-18 3h1m20 0h1m19 1h2m-69 1h1m31 1h1m38 7h1m-10 1h1m-1 1h1m-34 3h1m-2 1h2m1 4h1m-1 1h2m13 0h1m-20 26h1m-5 6h1"/><path stroke="#e2ff1d" d="M211 7h2m9 0h3m-14 1h1m-6 1h2m18 9h2m-10 6h1m-14 1h1m14 0h1m-16 1h1m11 0h1m-7 1h1m-125 1h2m26 1h1m112 4h1m-21 4h1m-29 2h2m30 3h1m-42 7h2m-38 1h2m34 0h1m-28 2h1m32 1h1m-65 2h1m37 1h1m-1 1h1m-44 2h1m59 2h1m-1 1h1m-1 1h1m-10 3h2m-40 2h1m0 1h1m82 0h1m-2 1h1m-63 1h1m64 0h1m0 2h1m-110 17h1m-2 1h1m-5 1h1m12 4h1m96 2h2m-84 1h1m82 6h1m-117 2h1m117 0h1m1 0h1m-123 1h1m43 0h1m24 0h1m50 0h2m-53 1h1m26 1h1m-35 2h1m2 2h2m-74 1h1m70 0h2m-73 1h1m57 1h2m42 9h2m44 0h1m-47 1h1m24 0h1m20 0h1m-26 1h1m24 0h1m-57 3h2m15 11h2m30 1h2m-150 1h1m147 0h1m-38 1h1m35 1h2m-2 1h1m-133 2h1m-33 6h1m134 1h1m28 1h1m-1 1h1m12 1h1m-183 1h1m-2 1h2m150 2h1m-9 1h1m7 0h1m-7 1h1m41 0h2m-1 1h1m0 2h2m-2 1h1m-49 5h2m-136 4h2m15 0h1m-12 1h2m-5 1h1m1 0h2m138 2h1m-1 1h1m14 3h1m-159 8h1m-1 1h1m-27 4h2m199 0h2m-1 1h1m-208 5h1m-10 15h1m0 1h2m-2 1h1m233 2h1m-5 2h1m5 5h1m-233 2h1m-1 1h1m9 0h1m-22 3h1m3 2h2m6 0h2m-11 1h2m251 1h1m-1 1h1m-1 1h2m-18 2h1m23 0h1m-27 7h2m-1 1h1m-247 3h1m263 1h1m21 0h2m-24 1h1m-1 1h1m-253 1h1m-4 1h2m280 6h2m-14 9h1m0 5h1m-1 1h1m25 0h2m-28 1h1m-7 3h1m0 3h1m34 1h1m15 4h1m-38 2h1m-3 9h2m30 0h1m-33 1h2m13 3h1m-24 4h2m4 32h1"/><path stroke="#ffb400" d="M222 0h4m1 1h1m-3 1h1m-20 9h2m-113 10h1m-1 5h1m-11 4h1m65 6h1m51 0h1m-1 1h1m-2 1h1m-40 2h1m-12 2h1m55 1h1m10 2h1m0 1h2m-116 1h1m-12 1h1m30 0h1m-21 1h1m64 0h1m-1 1h1m-2 2h3m-78 1h1m76 0h1m-2 2h1m-21 4h3m-1 4h2m-25 2h1m-30 20h1m97 1h1m-2 1h2m-1 1h1m-90 1h2m74 0h1m-1 1h1m-72 6h2m-1 1h1m0 3h2m-2 1h2m77 1h1m-1 1h1m-76 3h2m-31 1h1m36 0h1m79 0h1m-1 4h1m-72 1h2m-2 1h2m32 5h2m-1 1h1m-99 9h1m123 1h1m-25 3h1m22 2h1m-127 2h1m148 3h2m-154 1h2m151 0h1m-2 3h1m-1 1h1m-34 8h1m-117 1h1m-1 1h1m113 5h1m5 1h2m-2 1h2m10 5h2m-112 10h1m-8 2h1m3 0h1m-27 1h1m25 0h1m147 0h1m-177 1h1m134 2h1m26 0h1m-15 4h1m15 1h1m-4 1h2m-164 3h3m-1 1h1m-5 2h1m-35 11h2m215 9h2m-1 1h1m-232 1h1m3 2h2m-3 1h2m231 1h1m-1 1h1m-236 13h1m-1 1h1m233 1h2m-224 3h1m238 0h1m-2 1h2m-2 1h1m-232 4h2m241 1h1m-21 10h1m6 0h1m11 0h1m-20 1h1m18 0h1m-1 1h1m-7 8h1m3 3h1m23 78h1"/><path stroke="#ff4700" d="M81 5h1m126 12h3m-121 4h2m116 0h2m-119 1h1m-6 4h2m114 8h1m0 2h1m-56 1h2m53 0h1m-50 2h1m-36 12h1m-1 1h2m49 0h3m-53 1h1m0 2h1m-5 1h1m73 3h1m-1 1h1m-24 2h1m-11 2h2m3 2h1m1 0h2m-4 1h1m-54 7h2m65 1h1m-1 1h1m20 4h1m-2 1h2m-3 1h1m2 4h1m-94 1h2m90 0h2m-101 3h1m-11 12h2m-2 1h2m-4 2h2m-2 1h1m119 1h1m-67 3h1m20 0h1m-22 1h1m8 6h1m-7 1h1m5 0h1m21 0h2m-30 1h2m15 1h2m-86 4h2m128 9h2m-1 1h1m-11 4h1m-7 1h2m-1 1h1m-6 5h2m-1 1h2m-117 6h1m16 0h2m-2 1h1m130 3h1m-30 1h2m-3 4h2m44 4h2m-161 1h1m-1 1h1m-1 1h2m-13 2h2m-6 21h1m-1 1h1m160 6h1m16 10h1m0 6h2m-219 11h2m-2 1h1m-1 1h1m-17 3h3m-2 1h1m17 0h3m235 9h1m-1 1h1m-1 1h1m-268 3h1m271 1h2m-273 1h2m269 0h2m-249 4h1m-1 1h1m-6 5h1m-2 1h2m257 2h2m-16 1h1m14 0h1m-16 1h1m-1 1h1m-1 1h1m20 17h1m1 0h1m-3 1h1m1 0h1m2 5h1m9 1h1m0 2h1m46 12h2m-1 1h1m-34 18h2m-10 1h1m7 0h2m-7 1h1m-20 25h2m-1 1h1"/><path stroke="#f00" d="M70 0h1m8 0h1m5 0h1m139 0h1m-158 1h3m-71 1h2m222 0h1m-221 1h1m66 0h1m138 0h1m-141 1h2m9 0h1m126 0h1m20 0h1m-160 1h2m139 0h1m-209 1h1m199 0h1m4 0h3m13 0h1m-225 1h1m70 0h2m136 0h1m2 0h1m-213 1h1m1 0h1m6 0h1m60 0h1m1 0h1m145 0h1m-219 1h1m4 0h1m1 0h2m62 0h1m135 0h1m5 0h1m5 0h1m4 0h1m-224 1h1m1 0h1m2 0h2m71 0h1m1 0h1m146 0h1m-229 1h2m1 0h6m70 0h1m123 0h1m25 0h1m-230 1h4m1 0h1m2 0h1m4 0h1m192 0h1m22 0h2m-230 1h1m1 0h1m4 0h2m4 0h1m203 0h1m11 0h1m-230 1h2m7 0h1m1 0h1m60 0h1m8 0h1m134 0h1m-212 1h2m1 0h3m61 0h1m11 0h1m117 0h1m17 0h1m-215 1h1m1 0h1m2 0h1m59 0h1m127 0h1m19 0h1m-217 1h1m2 0h3m62 0h3m6 0h1m4 0h1m117 0h1m-197 1h1m2 0h2m2 0h1m56 0h1m9 0h1m6 0h1m132 0h1m1 0h1m2 0h1m-227 1h1m4 0h1m78 0h1m120 0h1m13 0h1m-218 1h1m1 0h2m1 0h4m1 0h1m60 0h1m13 0h1m130 0h2m-214 1h1m3 0h1m60 0h2m121 0h2m4 0h1m-198 1h1m3 0h1m1 0h2m1 0h2m58 0h1m9 0h1m110 0h4m5 0h1m4 0h1m6 0h2m1 0h1m-218 1h1m1 0h1m3 0h1m1 0h1m2 0h1m7 0h1m52 0h1m48 0h1m72 0h2m9 0h1m9 0h1m7 0h1m-223 1h5m2 0h1m64 0h2m9 0h1m10 0h1m108 0h1m2 0h1m6 0h1m-215 1h2m2 0h6m1 0h2m59 0h1m10 0h1m1 0h1m9 0h1m25 0h3m83 0h1m6 0h1m-213 1h1m5 0h1m1 0h1m1 0h1m3 0h1m56 0h2m46 0h1m71 0h1m9 0h2m20 0h1m-227 1h1m1 0h1m1 0h1m1 0h2m5 0h1m1 0h1m3 0h1m55 0h1m38 0h1m85 0h1m2 0h1m5 0h1m5 0h1m11 0h1m-228 1h1m4 0h2m2 0h1m2 0h4m4 0h1m54 0h1m6 0h1m11 0h1m17 0h1m1 0h1m1 0h1m4 0h2m85 0h1m1 0h1m9 0h1m-221 1h1m2 0h1m13 0h4m60 0h1m3 0h1m4 0h1m23 0h1m80 0h1m8 0h1m2 0h1m2 0h1m1 0h1m-211 1h2m7 0h1m1 0h1m7 0h1m92 0h1m12 0h1m76 0h1m1 0h4m2 0h2m5 0h1m8 0h1m-229 1h2m2 0h3m4 0h1m2 0h1m1 0h2m1 0h1m56 0h1m7 0h1m2 0h1m26 0h1m13 0h1m75 0h1m2 0h1m1 0h1m9 0h1m8 0h2m-230 1h3m1 0h1m2 0h1m2 0h1m1 0h2m7 0h1m4 0h1m90 0h1m81 0h2m4 0h1m1 0h1m4 0h1m-208 1h1m3 0h1m1 0h1m3 0h1m1 0h1m2 0h1m4 0h1m50 0h3m46 0h1m77 0h1m1 0h1m5 0h1m-211 1h5m2 0h1m4 0h1m1 0h1m6 0h1m54 0h1m1 0h1m65 0h1m54 0h1m9 0h1m3 0h2m-216 1h3m4 0h1m4 0h2m2 0h1m1 0h1m2 0h5m53 0h1m48 0h1m2 0h1m2 0h3m1 0h1m5 0h4m2 0h1m51 0h3m2 0h1m2 0h1m6 0h1m-212 1h1m3 0h5m2 0h3m1 0h1m2 0h1m53 0h1m45 0h1m10 0h1m11 0h1m54 0h2m15 0h1m-220 1h1m1 0h2m7 0h1m1 0h1m2 0h5m3 0h2m55 0h1m5 0h1m23 0h2m3 0h2m3 0h1m25 0h1m1 0h1m33 0h2m6 0h1m6 0h1m3 0h1m3 0h2m-199 1h1m1 0h2m1 0h1m1 0h1m3 0h5m1 0h1m52 0h2m8 0h1m22 0h1m1 0h2m2 0h1m2 0h1m1 0h1m29 0h1m2 0h1m33 0h1m2 0h1m1 0h1m5 0h1m4 0h1m-200 1h2m2 0h2m1 0h1m8 0h1m4 0h3m50 0h2m37 0h1m27 0h1m8 0h1m23 0h1m15 0h1m1 0h2m7 0h1m14 0h1m1 0h1m-216 1h1m1 0h3m2 0h2m2 0h1m1 0h2m3 0h3m51 0h2m7 0h1m6 0h1m13 0h1m5 0h1m11 0h1m21 0h1m12 0h1m14 0h3m4 0h1m9 0h2m1 0h1m-197 1h1m5 0h1m1 0h1m3 0h1m4 0h2m4 0h2m2 0h1m50 0h3m28 0h1m3 0h1m11 0h1m35 0h1m10 0h1m3 0h1m17 0h1m6 0h1m-199 1h3m3 0h1m1 0h2m2 0h3m2 0h1m2 0h1m1 0h2m51 0h1m1 0h1m14 0h1m21 0h1m1 0h1m3 0h1m71 0h1m10 0h2m-206 1h1m2 0h1m2 0h2m3 0h1m1 0h1m3 0h2m1 0h1m1 0h1m54 0h1m16 0h1m18 0h2m5 0h1m32 0h1m12 0h1m13 0h1m35 0h1m-210 1h1m1 0h1m3 0h3m4 0h4m54 0h1m2 0h1m1 0h3m9 0h1m10 0h1m2 0h3m1 0h1m3 0h1m32 0h1m27 0h2m35 0h1m-214 1h3m2 0h2m2 0h1m1 0h2m1 0h2m1 0h2m59 0h1m2 0h2m5 0h1m3 0h2m3 0h1m3 0h2m1 0h2m1 0h1m52 0h1m41 0h1m2 0h1m7 0h1m-208 1h1m1 0h1m5 0h1m4 0h1m2 0h1m60 0h1m6 0h1m6 0h1m3 0h1m4 0h1m54 0h1m30 0h1m8 0h1m3 0h2m6 0h1m-209 1h2m2 0h4m5 0h1m63 0h1m22 0h3m1 0h1m76 0h2m-184 1h2m1 0h4m1 0h3m1 0h1m2 0h1m3 0h1m4 0h1m56 0h2m2 0h1m6 0h1m2 0h1m9 0h1m4 0h1m5 0h1m3 0h1m-121 1h1m1 0h2m2 0h2m1 0h1m2 0h2m67 0h1m3 0h1m6 0h1m4 0h1m1 0h1m2 0h1m1 0h1m3 0h1m62 0h1m-171 1h1m2 0h1m3 0h1m4 0h2m1 0h1m1 0h1m1 0h2m54 0h1m8 0h1m6 0h1m4 0h1m5 0h1m16 0h1m3 0h1m10 0h1m27 0h1m15 0h1m1 0h1m4 0h1m-184 1h1m6 0h1m1 0h2m2 0h2m2 0h1m55 0h1m18 0h1m3 0h1m3 0h3m4 0h1m12 0h1m5 0h1m5 0h1m2 0h1m21 0h1m10 0h2m13 0h1m-183 1h1m3 0h6m2 0h2m2 0h1m1 0h1m52 0h2m9 0h1m4 0h1m4 0h1m13 0h1m2 0h1m6 0h1m8 0h2m40 0h2m-164 1h2m2 0h3m4 0h2m2 0h1m1 0h1m61 0h4m8 0h1m7 0h1m3 0h1m22 0h1m31 0h1m3 0h2m-168 1h2m2 0h1m3 0h1m1 0h2m1 0h2m2 0h2m1 0h3m48 0h1m13 0h3m2 0h1m1 0h1m2 0h4m4 0h1m2 0h1m2 0h1m-108 1h2m2 0h3m3 0h1m1 0h1m6 0h2m48 0h1m14 0h1m7 0h2m13 0h1m20 0h1m22 0h1m17 0h1m10 0h1m-178 1h3m3 0h1m1 0h1m5 0h3m1 0h1m46 0h2m6 0h1m1 0h3m7 0h1m1 0h1m1 0h1m1 0h1m12 0h1m45 0h1m1 0h1m-156 1h1m5 0h1m1 0h4m3 0h1m2 0h1m50 0h2m7 0h1m2 0h1m1 0h1m3 0h3m1 0h1m1 0h1m6 0h2m1 0h1m1 0h1m42 0h1m1 0h1m1 0h1m-152 1h1m1 0h1m1 0h1m1 0h1m2 0h2m2 0h2m2 0h2m75 0h1m5 0h1m4 0h1m41 0h1m27 0h1m5 0h1m-181 1h1m3 0h1m1 0h1m1 0h1m1 0h3m5 0h1m64 0h2m1 0h1m11 0h1m4 0h1m44 0h1m26 0h1m-174 1h1m2 0h1m2 0h3m4 0h1m1 0h2m49 0h1m6 0h2m20 0h1m3 0h1m1 0h1m25 0h1m17 0h1m5 0h1m14 0h4m10 0h2m-183 1h1m2 0h1m2 0h1m1 0h1m8 0h1m50 0h1m23 0h1m5 0h1m2 0h1m7 0h1m40 0h1m17 0h3m9 0h3m-182 1h1m1 0h3m2 0h4m3 0h1m1 0h1m50 0h2m20 0h1m4 0h1m35 0h1m36 0h1m1 0h1m2 0h1m-168 1h1m1 0h2m1 0h1m1 0h1m4 0h1m3 0h1m44 0h1m1 0h1m13 0h2m18 0h1m28 0h1m1 0h1m-131 1h1m2 0h2m1 0h1m57 0h4m3 0h1m8 0h2m10 0h1m3 0h1m2 0h1m3 0h1m41 0h1m1 0h1m-149 1h2m1 0h2m2 0h1m62 0h1m2 0h1m7 0h1m3 0h1m38 0h1m5 0h1m2 0h1m-133 1h1m5 0h1m1 0h1m1 0h1m1 0h2m1 0h1m50 0h2m1 0h1m10 0h1m2 0h1m14 0h1m32 0h1m6 0h1m1 0h1m1 0h1m-142 1h2m3 0h2m8 0h1m48 0h5m2 0h1m46 0h1m16 0h1m7 0h1m24 0h1m-169 1h1m1 0h2m3 0h3m1 0h2m3 0h1m48 0h1m1 0h1m1 0h2m14 0h1m33 0h2m4 0h1m7 0h1m3 0h1m3 0h1m21 0h1m14 0h2m-179 1h3m2 0h1m1 0h2m1 0h1m52 0h1m3 0h2m10 0h1m2 0h1m16 0h1m4 0h1m10 0h3m44 0h1m-160 1h1m4 0h1m3 0h2m4 0h1m44 0h1m2 0h2m29 0h1m3 0h1m2 0h2m7 0h1m2 0h1m3 0h1m4 0h1m52 0h1m-177 1h1m6 0h3m1 0h1m1 0h1m1 0h1m47 0h2m16 0h1m20 0h2m38 0h1m23 0h1m9 0h1m-177 1h2m4 0h1m3 0h1m2 0h1m47 0h1m1 0h1m40 0h1m27 0h1m43 0h1m-177 1h1m3 0h1m3 0h2m1 0h2m48 0h3m18 0h1m-80 1h5m1 0h1m2 0h3m1 0h1m43 0h2m1 0h1m17 0h1m63 0h2m11 0h1m9 0h1m7 0h1m-175 1h1m1 0h3m2 0h1m1 0h1m1 0h1m2 0h2m42 0h1m1 0h1m-60 1h1m3 0h1m2 0h4m3 0h2m127 0h2m24 0h1m-167 1h1m4 0h3m2 0h1m1 0h1m40 0h2m95 0h1m13 0h1m-166 1h2m3 0h1m2 0h1m1 0h1m2 0h1m40 0h1m1 0h1m20 0h1m-79 1h1m2 0h1m50 0h1m1 0h1m114 0h1m-170 1h1m1 0h4m1 0h1m44 0h2m9 0h1m12 0h2m67 0h1m-147 1h3m3 0h1m5 0h1m1 0h1m38 0h1m96 0h1m1 0h1m-153 1h1m2 0h1m6 0h1m1 0h3m40 0h1m21 0h1m67 0h1m19 0h1m-165 1h5m3 0h2m1 0h1m1 0h2m37 0h2m12 0h1m9 0h1m68 0h1m4 0h1m14 0h1m-164 1h1m4 0h1m5 0h2m38 0h1m16 0h1m78 0h1m14 0h3m-165 1h2m2 0h1m1 0h1m2 0h1m40 0h1m94 0h1m-144 1h3m1 0h1m1 0h1m1 0h1m37 0h1m10 0h1m8 0h3m-71 1h1m3 0h1m2 0h1m3 0h1m37 0h2m18 0h1m78 0h1m12 0h1m-162 1h3m1 0h2m1 0h2m1 0h2m1 0h1m33 0h3m16 0h1m99 0h1m-164 1h1m1 0h1m1 0h1m2 0h1m1 0h2m33 0h1m13 0h1m11 0h1m89 0h1m-163 1h1m1 0h3m1 0h1m2 0h3m35 0h1m8 0h1m15 0h1m73 0h1m-147 1h3m1 0h1m2 0h2m36 0h1m1 0h1m24 0h1m87 0h1m-158 1h3m1 0h1m37 0h2m13 0h1m11 0h1m88 0h1m-161 1h1m1 0h2m1 0h1m3 0h1m1 0h1m31 0h1m99 0h1m-142 1h2m1 0h2m2 0h1m1 0h1m31 0h1m18 0h1m1 0h1m77 0h1m13 0h1m-157 1h2m1 0h3m1 0h1m1 0h1m2 0h1m29 0h2m21 0h1m1 0h1m9 0h1m67 0h1m-145 1h1m4 0h1m1 0h2m33 0h1m7 0h1m22 0h1m89 0h1m-164 1h3m3 0h1m1 0h1m31 0h2m30 0h1m81 0h1m-155 1h4m1 0h2m33 0h1m27 0h1m13 0h1m57 0h1m2 0h1m11 0h1m8 0h1m-162 1h2m1 0h1m2 0h3m36 0h1m29 0h1m-77 1h1m6 0h1m1 0h1m27 0h1m5 0h1m97 0h1m18 0h1m-154 1h1m34 0h1m91 0h1m-136 1h1m1 0h1m34 0h1m3 0h1m3 0h1m2 0h1m26 0h1m58 0h2m-133 1h1m5 0h1m26 0h1m9 0h1m34 0h1m52 0h1m24 0h1m-157 1h2m38 0h2m107 0h1m2 0h1m3 0h1m1 0h1m-160 1h1m43 0h1m33 0h1m2 0h1m59 0h1m14 0h1m3 0h1m3 0h2m-167 1h6m29 0h1m7 0h2m1 0h1m4 0h2m26 0h2m2 0h1m67 0h1m9 0h1m-160 1h2m1 0h1m2 0h1m25 0h2m8 0h1m68 0h1m32 0h1m16 0h1m-161 1h1m1 0h2m27 0h1m5 0h2m4 0h1m3 0h1m61 0h3m17 0h1m13 0h1m1 0h1m16 0h1m-161 1h1m3 0h1m24 0h1m8 0h1m3 0h1m98 0h1m17 0h1m2 0h1m-166 1h3m2 0h2m36 0h1m92 0h1m6 0h1m-138 1h1m24 0h1m64 0h3m4 0h1m2 0h1m29 0h1m26 0h1m-164 1h1m2 0h3m36 0h1m55 0h2m9 0h1m21 0h1m-133 1h1m2 0h1m1 0h1m2 0h1m88 0h1m5 0h1m1 0h1m35 0h1m-136 1h1m1 0h1m22 0h1m86 0h1m12 0h1m9 0h1m-142 1h3m27 0h2m3 0h1m58 0h1m-95 1h1m2 0h1m1 0h1m1 0h1m103 0h2m23 0h1m-134 1h5m22 0h1m3 0h1m60 0h2m11 0h1m2 0h1m2 0h1m13 0h1m-127 1h2m3 0h2m21 0h1m4 0h1m68 0h1m6 0h2m16 0h1m7 0h1m29 0h1m-167 1h1m1 0h1m2 0h1m94 0h1m6 0h1m1 0h1m1 0h1m3 0h1m23 0h1m-140 1h5m1 0h1m20 0h1m66 0h1m15 0h1m4 0h1m1 0h1m5 0h1m43 0h1m-169 1h1m1 0h1m1 0h1m1 0h2m20 0h1m5 0h1m71 0h1m3 0h1m2 0h2m3 0h1m11 0h1m-131 1h1m3 0h1m2 0h1m22 0h1m3 0h1m82 0h1m14 0h1m-131 1h4m31 0h1m77 0h1m1 0h1m6 0h1m7 0h1m36 0h1m4 0h3m3 0h2m-179 1h1m1 0h1m31 0h2m87 0h1m56 0h1m-184 1h3m1 0h1m1 0h1m20 0h1m5 0h1m69 0h1m31 0h1m-135 1h2m37 0h1m65 0h2m20 0h1m7 0h1m2 0h1m34 0h1m7 0h1m-179 1h3m19 0h1m79 0h2m12 0h1m1 0h1m6 0h1m26 0h1m1 0h1m13 0h1m9 0h3m-185 1h1m2 0h3m19 0h2m11 0h2m70 0h1m29 0h1m41 0h2m-183 1h1m3 0h2m18 0h1m3 0h1m2 0h1m2 0h2m2 0h1m69 0h1m13 0h1m9 0h1m20 0h1m7 0h1m1 0h1m3 0h1m13 0h1m2 0h1m-187 1h1m1 0h1m2 0h1m119 0h1m10 0h1m18 0h1m7 0h1m12 0h1m2 0h1m7 0h1m-185 1h4m123 0h1m2 0h1m8 0h2m24 0h1m5 0h1m-173 1h2m2 0h1m22 0h1m100 0h2m27 0h1m1 0h1m12 0h1m-174 1h2m126 0h1m1 0h1m23 0h1m6 0h1m-163 1h1m3 0h1m1 0h1m139 0h1m14 0h1m2 0h1m12 0h1m-176 1h1m3 0h1m149 0h1m2 0h1m19 0h3m3 0h1m-187 1h1m2 0h2m120 0h1m25 0h1m2 0h1m27 0h1m-183 1h2m1 0h3m121 0h1m26 0h1m7 0h1m16 0h1m-177 1h1m2 0h1m16 0h1m8 0h1m98 0h1m27 0h1m1 0h1m-135 1h1m4 0h1m111 0h1m16 0h1m-161 1h1m3 0h1m122 0h1m19 0h1m1 0h1m37 0h1m-190 1h1m3 0h1m26 0h1m152 0h2m5 0h1m-192 1h1m4 0h1m21 0h1m5 0h2m99 0h1m46 0h1m2 0h1m7 0h2m-190 1h2m17 0h1m7 0h1m114 0h2m-148 1h1m3 0h1m18 0h1m123 0h1m-149 1h1m1 0h1m1 0h2m18 0h1m115 0h1m4 1h1m2 0h1m32 0h1m13 0h2m-197 1h1m3 0h1m19 0h1m19 0h1m1 0h1m94 0h1m5 0h1m47 0h2m-193 1h1m21 0h2m5 0h1m11 0h1m1 0h1m93 0h1m40 0h1m-163 1h1m2 0h2m8 0h2m11 0h1m3 0h1m130 0h1m16 0h1m-200 1h1m1 0h1m17 0h2m3 0h1m1 0h1m8 0h1m12 0h1m144 0h1m-194 1h1m1 0h1m15 0h2m3 0h1m7 0h1m5 0h1m3 0h1m8 0h1m91 0h1m4 0h1m1 0h1m1 0h2m31 0h1m8 0h2m2 0h1m-200 1h1m16 0h2m10 0h1m4 0h1m5 0h4m10 0h1m90 0h1m-144 1h3m23 0h1m4 0h1m6 0h1m2 0h1m9 0h1m1 0h2m97 0h1m36 0h1m5 0h1m-198 1h1m29 0h1m13 0h1m11 0h1m94 0h2m32 0h1m-185 1h3m12 0h1m11 0h1m1 0h1m22 0h1m98 0h1m1 0h1m-156 1h1m1 0h2m9 1h1m2 0h1m38 0h1m96 0h1m1 0h1m38 0h1m-174 1h1m27 0h1m7 0h1m88 0h1m1 0h1m5 0h1m32 0h1m7 0h1m3 0h1m-198 1h3m8 0h1m10 0h1m5 0h1m29 0h1m86 0h3m36 0h1m5 0h1m7 0h1m5 0h2m-206 1h1m25 0h2m1 0h1m116 0h1m51 0h2m4 0h1m-207 1h3m10 0h1m1 0h1m16 0h1m20 0h2m3 0h2m121 0h1m19 0h1m-199 1h1m27 0h1m16 0h1m105 0h1m48 0h1m-204 1h1m11 0h1m12 0h1m25 0h1m4 0h1m7 0h1m90 0h1m42 0h1m2 0h1m1 0h1m-202 1h1m24 0h1m128 0h1m3 0h1m41 0h3m-206 1h2m12 0h1m10 0h1m149 0h1m28 0h2m-207 1h2m1 0h2m10 0h1m1 0h1m7 0h1m6 0h1m15 0h1m7 0h1m103 0h1m4 0h2m37 0h1m2 0h1m-208 1h1m2 0h1m12 0h2m6 0h1m1 0h1m2 0h1m2 0h1m4 0h1m13 0h1m9 0h1m3 0h2m105 0h1m8 0h1m2 0h1m19 0h1m2 0h1m-208 1h1m1 0h2m21 0h1m4 0h1m4 0h1m1 0h1m8 0h1m157 0h2m1 0h1m-209 1h1m1 0h1m12 0h1m11 0h1m7 0h1m1 0h3m135 0h1m4 0h1m25 0h3m-184 1h1m10 0h3m2 0h1m24 0h1m98 0h1m-164 1h1m13 0h1m10 0h2m1 0h1m2 0h1m1 0h1m4 0h1m26 0h1m90 0h1m6 0h1m-163 1h1m13 0h1m9 0h2m12 0h1m8 0h1m3 0h1m12 0h1m100 0h1m1 0h1m13 0h1m-187 1h2m1 0h2m14 0h1m4 0h1m5 0h1m3 0h1m19 0h1m7 0h2m97 0h2m-163 1h2m1 0h2m19 0h1m2 0h1m1 0h1m2 0h1m4 0h1m4 0h1m22 0h1m96 0h1m7 0h2m15 0h1m-188 1h1m17 0h1m3 0h2m2 0h1m4 0h1m2 0h2m8 0h1m19 0h1m102 0h1m-169 1h3m1 0h1m14 0h1m9 0h1m16 0h1m161 0h1m-207 1h1m21 0h1m2 0h1m2 0h1m2 0h1m13 0h1m2 0h1m1 0h1m10 0h1m-62 1h2m16 0h1m4 0h1m1 0h1m1 0h1m5 0h1m2 0h2m4 0h1m7 0h1m3 0h1m2 0h2m3 0h1m104 0h2m19 0h1m-194 1h1m1 0h1m19 0h2m3 0h1m5 0h4m25 0h3m131 0h1m13 0h1m-210 1h1m1 0h1m17 0h1m1 0h1m6 0h1m9 0h1m3 0h1m3 0h1m2 0h1m14 0h1m106 0h2m30 0h1m4 0h1m-212 1h1m3 0h1m33 0h1m6 0h1m5 0h1m124 0h2m17 0h1m-197 1h2m3 0h1m16 0h1m16 0h1m4 0h1m132 0h2m19 0h1m9 0h1m-206 1h2m16 0h1m154 0h2m2 0h1m15 0h1m4 0h1m2 0h1m1 0h1m-209 1h1m2 0h1m27 0h1m9 0h1m3 0h1m136 0h1m20 0h1m2 0h1m5 0h1m-209 1h1m37 0h1m137 0h3m1 0h1m17 0h1m1 0h2m-204 1h2m16 0h1m7 0h1m17 0h1m137 0h1m18 0h1m1 0h1m4 0h1m-213 1h1m19 0h1m9 0h1m161 0h1m2 0h1m8 0h2m4 0h1m-211 1h2m1 0h1m27 0h1m160 0h1m9 0h1m1 0h1m1 0h1m-210 1h1m4 0h1m28 0h1m11 0h1m3 0h1m-52 1h1m1 0h1m1 0h2m15 0h1m24 0h3m152 0h1m4 0h2m-210 1h1m2 0h1m19 0h1m4 0h2m8 0h1m9 0h3m151 0h1m3 0h1m-209 1h2m5 0h1m22 0h1m9 0h1m174 0h1m-218 1h3m1 0h2m1 0h1m16 0h1m18 0h1m166 0h1m4 0h1m2 0h1m4 0h1m-224 1h1m4 0h2m23 0h1m187 0h1m-222 1h1m2 0h1m1 0h1m1 0h1m17 0h1m190 0h1m6 0h3m1 0h1m-230 1h1m3 0h1m1 0h2m211 0h1m9 0h1m-228 1h1m1 0h1m1 0h1m213 0h1m8 0h1m-233 1h1m2 0h3m1 0h1m19 0h1m4 0h1m2 0h1m190 0h1m-229 1h1m2 0h1m2 0h1m21 0h1m3 0h1m1 0h2m199 0h2m-238 1h2m1 0h1m1 0h1m229 0h3m-238 1h2m28 0h1m205 0h1m3 0h1m-240 1h1m234 1h1m1 0h1m-1 1h1m-212 1h2m211 0h1m-235 2h1m4 0h1m9 0h2m5 0h1m-20 1h1m6 0h1m4 0h1m-6 1h1m-14 1h1m1 0h1m12 0h1m4 0h1m-24 1h1m9 0h1m9 0h1m223 0h1m-227 1h4m225 0h1m-246 1h1m14 0h1m2 0h1m3 0h2m218 0h3m1 0h1m-247 1h1m14 0h2m4 0h1m220 0h2m1 0h1m-232 1h1m2 0h1m2 0h1m2 0h1m3 0h1m217 0h1m-240 1h1m237 0h1m-236 1h1m2 0h1m3 0h1m2 0h2m5 0h1m4 0h2m-27 1h1m1 0h2m6 0h1m4 0h1m9 0h1m210 0h1m6 0h1m-251 1h1m2 0h1m1 0h1m21 0h2m-24 1h2m3 0h1m7 0h1m7 0h1m226 0h1m-255 1h1m1 0h1m3 0h1m15 0h1m1 0h1m4 0h1m217 0h1m-246 1h1m1 0h1m1 0h1m18 0h1m2 0h1m222 0h1m-251 1h1m21 0h1m23 0h1m195 0h1m7 0h1m-250 1h1m23 0h1m7 0h1m6 0h1m4 0h1m196 0h1m5 0h2m-249 1h1m21 0h1m2 0h1m11 0h2m203 0h1m7 0h1m1 0h1m-251 1h3m26 0h1m3 0h3m210 0h1m-214 1h4m2 0h1m-40 2h1m26 0h1m-26 1h1m23 0h1m3 0h1m225 0h2m-231 1h1m222 0h1m6 0h2m-259 1h1m252 0h1m-231 1h1m223 0h1m11 0h1m-257 1h1m1 0h1m17 0h1m2 0h1m220 0h1m-242 1h1m8 0h1m7 0h2m219 0h1m6 0h1m-250 1h1m5 0h1m4 0h1m231 0h1m-228 1h1m246 0h1m-268 1h1m6 0h1m246 0h1m12 0h1m-266 1h2m11 0h1m1 0h1m238 0h1m-255 1h2m12 0h2m233 1h1m-237 1h1m235 0h2m17 0h1m-246 1h1m251 0h1m-27 1h2m-225 1h2m2 0h2m229 0h1m10 0h1m-275 1h1m1 0h1m28 0h1m-32 1h1m7 0h2m21 0h2m216 0h1m2 0h1m18 0h1m-267 1h3m1 0h1m6 0h1m231 0h1m11 0h1m-257 1h3m7 0h1m17 0h1m-28 1h1m8 0h1m5 0h1m228 1h2m5 0h1m8 0h2m13 0h1m-266 1h1m15 0h1m248 0h1m-252 1h1m1 0h1m218 0h1m-236 1h1m-2 1h1m14 0h1m1 0h1m215 0h1m11 0h1m3 0h1m1 0h1m2 0h1m3 0h1m-246 1h1m221 0h2m6 0h1m1 0h1m3 0h1m2 0h1m8 0h1m2 0h1m7 0h1m-281 1h1m252 0h1m16 0h1m15 0h1m-285 1h1m17 0h1m231 0h2m24 0h1m-276 1h1m11 0h1m227 0h1m31 0h1m1 0h2m9 0h1m-274 1h1m227 0h1m7 0h1m26 0h1m-277 1h1m6 0h1m268 2h1m5 0h1m-33 1h1m22 0h2m14 0h1m-40 1h1m3 0h1m29 0h1m-32 1h3m16 0h1m10 0h1m6 0h1m-34 1h1m3 0h1m3 0h1m1 0h1m21 0h1m-24 1h1m1 0h1m20 0h1m-39 1h1m38 0h1m-40 1h2m3 0h1m12 0h1m1 0h1m1 0h1m16 0h1m-37 1h1m8 0h1m2 0h1m3 0h1m-7 1h2m3 0h1m10 0h1m-28 1h1m8 0h1m7 0h1m1 0h2m-11 1h1m7 0h2m9 0h1m5 0h1m-30 1h1m7 0h1m4 0h1m9 0h1m2 0h1m-24 1h1m8 0h2m-4 1h1m11 0h1m1 0h1m-15 1h1m1 0h2m3 0h1m-25 1h1m5 0h1m17 0h2m5 0h1m-20 1h1m10 0h1m3 0h1m5 0h1m-22 1h1m9 0h1m-7 1h1m5 0h5m25 0h1m1 0h1m-53 1h1m20 0h1m29 0h2m-36 1h1m3 0h2m2 0h1m19 0h1m-44 1h1m11 0h1m4 0h1m1 0h1m2 0h1m2 0h1m-25 1h1m49 0h1m-51 1h1m8 0h2m2 0h1m3 0h1m1 0h2m28 0h1m4 0h1m-47 1h1m12 0h1m25 0h1m30 0h1m-56 1h1m22 0h1m3 0h1m9 0h1m18 0h1m2 0h1m-58 1h1m34 0h1m16 0h1m3 0h2m-59 1h2m56 0h1m-316 1h1m252 0h1m7 0h1m3 0h1m10 0h2m-27 1h1m24 0h4m17 0h1m-21 1h1m1 0h1m18 0h1m8 0h1m-32 1h1m23 0h1m12 0h1m-64 1h1m16 0h2m39 0h1m-48 1h1m36 0h1m15 0h1m-2 1h1m-62 1h1m44 0h1m10 0h2m2 0h1m1 0h1m-13 1h1m6 0h1m4 0h1m-58 1h1m1 0h1m41 0h3m-50 1h1m15 0h1m30 0h1m1 0h1m9 0h1m-62 1h2m1 0h1m50 0h1m3 0h1m1 0h1m-62 1h1m7 0h2m3 0h1m-6 1h2m7 0h1m5 0h1m16 0h1m5 0h1m2 0h3m2 0h1m-45 1h1m39 0h1m-52 1h1m4 0h1m46 0h1m-14 1h2m11 0h2m-51 2h1m4 0h1m17 0h1m13 0h1m3 0h1m0 1h1m3 0h1m-48 1h1m48 0h1m-46 1h1m35 0h1m3 0h1m5 0h1m-52 1h1m27 0h1m5 0h1m1 0h1m12 0h2m-23 1h1m20 0h1m1 0h2m-24 1h1m1 0h1m9 0h2m8 0h1m-48 1h1m27 0h1m13 0h1m2 0h1m-17 1h2m1 0h1m3 0h1m5 0h2m-42 1h1m20 0h1m1 0h1m4 0h2m5 0h1m2 0h1m2 0h1m1 0h1m-44 1h1m13 0h1m1 0h1m9 0h1m14 0h1m-42 1h1m19 0h1m3 0h1m9 0h1m7 0h1m-43 1h1m19 0h1m3 0h1m10 0h1m-32 2h1m1 1h1m7 0h1m3 0h1m-12 1h1m6 0h1m3 0h2m-10 1h1m4 0h1m2 1h1m-13 1h1m2 1h1m4 0h1m-1 1h1m-4 1h1m1 0h1m2 0h1m-6 1h2m-1 1h2m-3 1h2m-8 1h1m1 0h1m3 0h2m3 0h1m-10 2h1m2 0h1m1 0h1m0 1h2m0 1h1m3 0h1m-4 1h1m-7 1h1m6 0h1m1 0h1m-18 1h1m10 0h1m-4 2h1m6 0h1m1 0h1m-5 1h1m2 0h1m-3 1h1m-15 1h2m17 0h2m-22 1h4m11 0h2"/></g></g>
<use href="#qe" transform="matrix(-1 0 0 1 700 0)"/><use href="#qe" transform="matrix(1 0 0 -1 0 700)"/><use href="#qe" transform="matrix(-1 0 0 -1 700 700)"/></svg>
<path class="t" d="M146.9 1941.9v-5.0M146.9 1407.6v5.0M70.9 1483.6h5.0M605.4 1483.6h-5.0M223.2 1941.9v-5.0M223.2 1407.6v5.0M70.9 1559.9h5.0M605.4 1559.9h-5.0M299.5 1941.9v-5.0M299.5 1407.6v5.0M70.9 1636.2h5.0M605.4 1636.2h-5.0M375.8 1941.9v-5.0M375.8 1407.6v5.0M70.9 1712.5h5.0M605.4 1712.5h-5.0M452.0 1941.9v-5.0M452.0 1407.6v5.0M70.9 1788.7h5.0M605.4 1788.7h-5.0M528.3 1941.9v-5.0M528.3 1407.6v5.0M70.9 1865.0h5.0M605.4 1865.0h-5.0M604.6 1941.9v-5.0M604.6 1407.6v5.0M70.9 1941.3h5.0M605.4 1941.3h-5.0"/><path class="b2" d="M605.40 1407.60V1941.90H70.90"/><path class="b" d="M70.90 1942.40V1407.60H605.90"/><g class="xl"><text transform="matrix(.957 0 0 1 147.0 1967.8)">100</text> <text transform="matrix(.957 0 0 1 223.3 1967.8)">200</text> <text transform="matrix(.957 0 0 1 299.6 1967.8)">300</text> <text transform="matrix(.957 0 0 1 375.9 1967.8)">400</text> <text transform="matrix(.957 0 0 1 452.1 1967.8)">500</text> <text transform="matrix(.957 0 0 1 528.4 1967.8)">600</text> <text transform="matrix(.957 0 0 1 604.7 1967.8)">700</text> </g><g class="yl"><text transform="matrix(.957 0 0 1 65.2 1491.8)">100</text> <text transform="matrix(.957 0 0 1 65.2 1568.1)">200</text> <text transform="matrix(.957 0 0 1 65.2 1644.4)">300</text> <text transform="matrix(.957 0 0 1 65.2 1720.7)">400</text> <text transform="matrix(.957 0 0 1 65.2 1796.9)">500</text> <text transform="matrix(.957 0 0 1 65.2 1873.2)">600</text> <text transform="matrix(.957 0 0 1 65.2 1949.5)">700</text> </g>
<g class="c"><text x="42.3" y="2026.3" textLength="44.9" lengthAdjust="spacingAndGlyphs">(<tspan class="k">e</tspan>)</text> <text x="95.0" y="2026.3" textLength="126.0" lengthAdjust="spacingAndGlyphs">Sharma</text> <text x="229.3" y="2026.3" textLength="31.6" lengthAdjust="spacingAndGlyphs">et</text> <text x="269.2" y="2026.3" textLength="42.0" lengthAdjust="spacingAndGlyphs">al.</text> <text x="319.5" y="2026.3" textLength="54.7" lengthAdjust="spacingAndGlyphs">8th</text> <text x="382.5" y="2026.3" textLength="94.5" lengthAdjust="spacingAndGlyphs">order</text> <text x="485.3" y="2026.3" textLength="124.8" lengthAdjust="spacingAndGlyphs">method</text> </g>
<svg x="1161.8" y="1408.3" width="533.7" height="533.4" viewBox="0 0 699.607 699.213" preserveAspectRatio="none" shape-rendering="crispEdges"><rect width="700" height="700" fill="#009"/><use href="#qd"/><use href="#qd" transform="matrix(-1 0 0 1 700 0)"/><use href="#qd" transform="matrix(1 0 0 -1 0 700)"/><use href="#qd" transform="matrix(-1 0 0 -1 700 700)"/></svg>
<path class="t" d="M1237.4 1941.9v-5.0M1237.4 1407.6v5.0M1161.4 1483.6h5.0M1695.9 1483.6h-5.0M1313.7 1941.9v-5.0M1313.7 1407.6v5.0M1161.4 1559.9h5.0M1695.9 1559.9h-5.0M1390.0 1941.9v-5.0M1390.0 1407.6v5.0M1161.4 1636.2h5.0M1695.9 1636.2h-5.0M1466.3 1941.9v-5.0M1466.3 1407.6v5.0M1161.4 1712.5h5.0M1695.9 1712.5h-5.0M1542.5 1941.9v-5.0M1542.5 1407.6v5.0M1161.4 1788.7h5.0M1695.9 1788.7h-5.0M1618.8 1941.9v-5.0M1618.8 1407.6v5.0M1161.4 1865.0h5.0M1695.9 1865.0h-5.0M1695.1 1941.9v-5.0M1695.1 1407.6v5.0M1161.4 1941.3h5.0M1695.9 1941.3h-5.0"/><path class="b2" d="M1695.90 1407.60V1941.90H1161.40"/><path class="b" d="M1161.40 1942.40V1407.60H1696.40"/><g class="xl"><text transform="matrix(.957 0 0 1 1237.5 1967.8)">100</text> <text transform="matrix(.957 0 0 1 1313.8 1967.8)">200</text> <text transform="matrix(.957 0 0 1 1390.1 1967.8)">300</text> <text transform="matrix(.957 0 0 1 1466.4 1967.8)">400</text> <text transform="matrix(.957 0 0 1 1542.6 1967.8)">500</text> <text transform="matrix(.957 0 0 1 1618.9 1967.8)">600</text> <text transform="matrix(.957 0 0 1 1695.2 1967.8)">700</text> </g><g class="yl"><text transform="matrix(.957 0 0 1 1155.7 1491.8)">100</text> <text transform="matrix(.957 0 0 1 1155.7 1568.1)">200</text> <text transform="matrix(.957 0 0 1 1155.7 1644.4)">300</text> <text transform="matrix(.957 0 0 1 1155.7 1720.7)">400</text> <text transform="matrix(.957 0 0 1 1155.7 1796.9)">500</text> <text transform="matrix(.957 0 0 1 1155.7 1873.2)">600</text> <text transform="matrix(.957 0 0 1 1155.7 1949.5)">700</text> </g>
<g class="c"><text x="1164.3" y="2026.3" textLength="41.5" lengthAdjust="spacingAndGlyphs">(<tspan class="k">f</tspan>)</text> <text x="1213.6" y="2026.3" textLength="157.5" lengthAdjust="spacingAndGlyphs">Proposed</text> <text x="1379.4" y="2026.3" textLength="54.6" lengthAdjust="spacingAndGlyphs">8th</text> <text x="1442.3" y="2026.3" textLength="92.5" lengthAdjust="spacingAndGlyphs">order</text> <text x="1543.1" y="2026.3" textLength="124.8" lengthAdjust="spacingAndGlyphs">method</text> </g>
<svg x="611.1" y="2096.7" width="533.7" height="533.4" viewBox="0 0 699.607 699.213" preserveAspectRatio="none" shape-rendering="crispEdges"><rect width="700" height="700" fill="#009"/>
<g id="qg"><path fill="#00c" d="M350 350l-118 0-2-4-5 0-2 2 0 2-224 0 0-351 351 0 0 238-3 0-1 1 0 5 2 2 2 0z"/><path fill="#00f" d="M350 350l-63 0 0-4-1 0 0-4-2-2 0-3-6-12-2-1-4-8 0-3-3-6-2-1-1-4-2-1 0-2-15-14-2 0-7-6-4-1-4-4-5-2-2-3-2 0-29-29-2 0-4-4-5-1-2-2-10-1 0-1-16 2-9 5-3 0-3 3-14 7-3 0-6 4-3 0-2 2-3 0-2 2-3 0 0 1-12 3 0 1-12 2 0 1-12 1 0 1-11 0 0 1-18 1 0 1-5 0-3 2-3 0-4 2-1 2-2 0-1 2-2 0-4 5-2 0-3 3 0 2-5 4-2 5-3 1 0-92 4 0 4-2 1-2 2 0 1-2 3 0 12-12 2 0 0-2 4-3 0-2 3-2 0-2 4-4 0-3 4-6 1-11 1 0 0-12-1 0 0-5-1 0 0-4-2-3 0-4-6-8-2-8-2-1 0-3-2-2 0-3-4-8-2-1-1-4-3-2-2-5-7-7-2 0-3-4-6-2 0-67 351 0 0 165-11 1 0 1-6 1-6 3-1 2-2 0-3 4-2 0-2 2 0 2-6 6-4 8 0 3-3 5 0 4-3 6 0 4-1 0 0 4-1 0 0 5-1 0 0 16 1 0 0 5 2 3 0 3 3 6 2 1 0 2 7 7 2 0 1 2 4 1 1 2 10 5 3 0 2 2 7 1 0 1 7 0zM120 164l0-2-3 0 0 2zM248 250l-1-2 0 2zM32 251l0-2-2 0zM12 255l-1-3-1 2zM315 297l-1-2 0 2zM298 305l-1-2 0 2zM319 310l3-2 0-3-3 0 0 2-2 1 0 2z"/><path fill="#03f" d="M350 350l-20 0 0-1-1 1-10 0 0-1-2 0 2-2 0-2-2 0 1 2-4 0 0-1-4 0-2-4-6 0-1-3 3-1-2-1 1-4-3-1-5-6-2 0 0-2-3-1-3-4 0-7 1-1-2 1-3-3 0-6 2-2-1-13-2-4-2-1 0-2-3-2-1-5-7-4 2-1 0-4-5 4-3 0-2-1 0-2 4 0 2 1 1-2-2 0 0-2-2 2-4-1-1 2-4 0 0-1-6 0-2-2-4 0-5-4 0-7-1 0 0-5-1 0 0-9 1 0 0-10 1 0 0-3 1 0 0-3 3-6-1-9-2-4-2-1-1-4-2-1-14-32-26-32-9-18 0-3-5-10-4-4 0-2-9-8-8-2 0-1-14 0 0 1-4 0 0 1-3 0 0 1-3 0-6 3-4 0 0 1-3 0 0 1-18 5-2 2-6 1-8 4-4 4-1 5-1 0 0 6 1 0 0 4 2 3 0 5-2 1 0 3 2 1 1-2 5 0 3 4 3 0 3 2 1 2 0 6 4 4 0 3 1 0 0 15 2 3 0 8 1 0 1 6 3 3 8 3 4 4 0 3 3 2 0 6-1 0 0 1 2-1-1 7-5 3-11-3-4-4-2-5-5-5-4-2-5 0 0-1-7-1-11-9-8 0 0 1-14-1-1 3-3 1 2 1 1 6-1 0 0 3-3 2 0 2-3 3-5 0-5 6-3 0-2 2 0 3 2 2 2-2 4 4 1-1 7-1-3 4 1 3-1 1-4 0 0 4-3 3 1 4-2 0-1-3-3 2 0 3 4 2-5 1-1-3-2 0 1-4-3 0-1-2-1 2 2 1-5 4 0 3 1 0-1 2 2-1 1 1 2-2-1-5 2 0 1 1-1 2 3 2 0 3 1 1 5 0 1-4-3-1 5 0 1 1-1 6-4 4-4 0-1-1 1-3-3-4-1 1-7 0-1 1 1 1 0 5-3 6-6 0-6-4-2-8 4-3 0-2 2-1 1 2 3 0 0-4-1-1-2 1 0-1-9-1 0-1 5 0-2-2-3 0 0-17 9-1 3-4 0-3 2 0 2-2 1-4 2-1 7 1 2-3 2 0 0-2 3-3 5-3 1-4 2 0 4-4 0-2 15-14 2-4 0-3 5-6 0-12 3-5-1-1 0-4-1 0 0-4-2-2 0-3-1 0 0-3-2-4-13-13 0-2-2-1 0-3-2-1 0-2 2-1 0-5 1 0 1-7 2-2 0-3 2-1 0-4 2-2 0-3 3-3 0-6 1 0 0-5 1 0 0-7 1 0 0-10 1 0-4-22-2-1-2-4 0-3-2-1-1-4-4-3 0-4 303 0 0 51-11 0 0 1-4 0-6 3-3 0-6 3-4 4-2 0-13 13 0 2-3 2 0 2-4 4-1 4-2 1-1 4-2 1-1 4-2 1-1 4-2 1-1 4-2 1-5 10 0 3-2 2-1 7-1 0 0 6-1 0 0 16 1 0 0 4 1 0 1 6 2 2 0 3 2 2 2 10 6 10 1 8 1 0 0 7-1 0-1 10-3 4 0 5-1 0 0 4-1 0 1 20 1 0 0 11 1 0 0 3 5 5 1 4 5 6 6 3 3 0 0 1 13 0 0 1 3 0 1 2 7 1 4 2 1 2 2 0 1 2 2 0 2 3 6 2 3 3 3 0zM125 30l0-2-2 0 0 2zM57 104l3-3 0-3-1-1-5 0-2 3 1 4zM82 156l1-3 2 0 0-2 7 0-1-3 3-1 0-4-5 0-1 1 0 4-2 2-1-2 1-1-2 0 0 5-2 0 0 2-2-1 1 3zM77 153l2-2-3-3-3 0 0 2 2 0 1 3zM99 163l1-4-1-1-3 0-1 1 1 4zM90 161l-2-2 0 2zM87 164l-2-3 0 2zM93 168l2-1-1-4-1-1-5 0 0 5zM94 179l2-5-2-3-5 0-2 1-1 3 3 4zM263 185l1-2-3 1zM280 204l1-4-1-1-4 0 0 3 2 2zM276 205l0-2-3 0 0 2zM44 206l0-2-2 0zM121 209l1-3-3-1-1 1 0 3zM276 215l3-4-1-3-3-1 0 1-4 0-2 1-1 3 3 3zM124 211l0-2-3 1zM20 213l0-2-2-1 0 2zM23 218l2-2-1-1 0-4-2 1 0 3-2 0 1 3zM125 214l0-2-2 0 0 2zM22 222l0-2 2 0 0-1-3 0-1 1 0 2zM23 227l-1-2 0 2zM26 228l0-2-2 0zM35 231l1-4-4-1-1 4 1 1zM40 229l-1-2 0 2zM22 236l0-2 2 0 0-1-3 0-1 3zM251 236l-1-2 0 2zM27 239l2-2-3-1-1 3zM16 239l-1-2 0 2zM18 244l-1-3 0 3zM258 259l0-1 5 0 1-3 1 1 4-1 4-4-1-7-5-2-3 3 0 6 1 0-1 3 0-1-3 0-1-6-3-3-4-2-7 0-3 3 0 5 9 8 2 1zM15 248l1-3-2-1-1 3zM13 257l2-1 0-5-1-1-4 0-3 2 0 3 2 2zM245 256l-1-3-1 1-2-1 2 3zM272 257l0-2-2 0 0 2zM243 258l-2-2 0 2zM314 288l2-1-1-3-2 1 1 1-1 2zM326 291l-1-3-2 1 0 2zM298 291l1-2-2 1zM313 293l3-4-5 0 0 4zM312 300l-2-2 1-4-2-2-3 0-1 1 0 4 2 2 3-1 0 2zM334 325l2-4-1-1 0-4 4 1 1-2-2-2-3 1 0-3-2 0-2-2 0-4 1-1 3 0-2 1 0 1 4-1-1-2 1 0 0-3-3-3-3 0 0-1-7 1-4-3 0-2-1 1-3-1 1 2-4 0-1 1 0 3 1 0 0 3-1 0 0 10 1 2 4 3 5-3 1 1 0 4 1 1 2 0 1-1 1 1 0 2-1-1-2 0 0 4 3 0 1-1-1-2 3 0 0 3 2-1 0 2zM326 294l-2-2 0 2zM302 301l0-2 2 1 1-1-1-2-4 2zM310 325l2-2 0-6-2-3-11-5 1-1-1-3 2 0 1 1 1-4-2 1-2-3-2 0 1-1-1-1-3 3 0 3 1 2 4 0 0 2-5-1-1-3-2 0 0 4 2 0 1-1 1 1 1 9 2 4 3 3 3 0 0 1zM310 308l0-3-2 0 0 2zM288 308l0-2-2 0 0 2zM290 308l-1-2 0 2zM306 310l1-1 0-3-4 0-1 1 1 1 1-1 0 2zM291 320l1-3 3 1-2-4-2 0 1 3-2 0 0 3zM340 322l-1-2-2 0 0 2zM338 326l1-2-2 1zM331 327l1-2-2 0 0 2zM340 334l-1-3-4-4-2 0zM340 330l-1-2 0 2zM313 345l2-2 0-2-3-1-2 1 0 3 1 1zM323 349l1-2-2 1z"/><path fill="#06f" d="M50 98l-1 0 0-6 5-6 2 0 0-2 3-1 0-4 1 0-1-2 2-2 2 0 3-4 1-7 3-3 0-5 2-1 0-3 5-7 1-8 2-3 0-7-1 0 0-4-1 0 1-1 0-7-3-4 0-3-3-3 0-3-2 0 0-3 21 0-1 10 3 0 1-2 3 0 3 3 5 1 2 2 1 7 4 3 1 14 2 2 1 8 4 5 5 1 3 3 2 4-1 2 2-1 0 2-2 0 2 2 0 4-2 2-4 1-2-2-5-1-7-9-13-2-8-5-1 1-7 1 0 1-6 0-3 4 3 3-1 2 1 2-2 2 0 3-3 1-5 6 0 2 3-1 1 2 5-1 1 1-1 3-2 0-2 8-3-2-1 1 1 3-3 0 0-2-3 1 1-2-2-1-3 1 1-2-7-1 0 4-3 0 2 1-1 1 1 2zM282 214l-3-1 2-1 0-2-2-4-2 0 2-2 1 1 2 0 1-2-1-2 1-1-1-2-8 0 2 4-3-2 1 2-1 0 0 4-1 1-6 0 0-5-1-1-3 1-1-2-2 1 0 2-2 0-2 2-2-1 0-6-7-3-5-5 0-6-3-3 0-4 2-1 2-4 0-10-3-6 0-6-4-3 1-3-1-2-1 1-5 0-2-2 3-2 1 2 2 0-1-2 1-1-3 1-1-2-6 1-1-2-6-2-2-3-2 0-3-4 1-5 1 0 0-10 1 0 0-3 2-2 1-6 3-6 3-2 0-2 3-3 1-10-1 0-1-6-2-3-2-9-1 0 0-5-1 0 0-4-1 0-2-11-5-10-2-1-1-4-2-1-2-5-3-2 0-2-6-7-3-6 0-3 78 0 0 4-2 2-2 11-1 0-1 16 1 0 0 6 1 0 0 4 1 0 0 4 1 0 0 5 1 0 1 11 1 0 0 4 2 3 0 4 1 0 0 11-5 8-1 5-5 4-3 8-2 1-1 7-3 6-1 11-2 2 0 10 1 0 1 9 2 4 6 6 5 1 4 4 0 2 2 1 2 4 2 10 7 3-1 2 2 0 0 5 3 4 0 3-3 2 0 5 1 1zM91 14l-1-2 0 2zM95 23l1-2 5 0-1-3 3-2-2-2-3 0-1 1 0 4-1 2-1-3-2 1 1 4zM88 25l0-2 1 1 2-1-3-1 0-2-3 0 1 4zM108 30l1-3-4-1 0 4zM103 35l1-4-1-1-5 0-2 1 2 2 1-2 0 3 1 1zM105 44l1-1 0-4-2-2-3 0-2 2 0 3 2 2zM251 62l1-2-3 1zM128 66l-2-4-2 0 0 3zM74 68l-2-4 0 3zM129 70l-1-3 0 3zM64 80l0-3-3 0zM265 85l1-1 0-4-1-1-3 0-1 1 0 3 2 2zM72 86l0-3-3 1 1 2zM260 85l0-2-3 0 0 2zM258 95l1-2 2 0 0-5 2 0 0-1-3 0 0 1-1-1-5 0-3 2 0 3 2 2zM66 92l1-3-2 1 0 2zM61 95l-3 0 0-3 1 2 2-1zM74 142l-2-3 1-2-2 0 0-2-2-1 0-3-2-3 1-2-2-1-1-7-5-1-1-3-4-2 2-1 1 1 1-1 2 1 1 2 0-1 3 0-3-1 0-2 2 0 0-2 3-1 0 2 2 0 0-6-3-1-4-4 3-1 1 2 1-3 2 0 2 3 3 0 4 5 0 6-5 0 1 2-3-1 0 8-3 3 0 3 2 0 0 2 2-1 0 3-2 1 0 3 2 0 3-3 1 2-2 0 0 2 2-1 2 1 0 4-3 1zM55 111l-3-3-3 0 0-5-2-1 1-3 1 2 3-1 1 1 0 3-1-2-1 0 1 2-1 3 3 1 0-2 1 0zM72 110l3-2 0-3-1-1-3 2 0 3-1 0zM69 114l1-3-2 1-1-1-1 3zM76 119l-3 0 2-1 0-3-2 0-1 1 0-3 5 2-1 1 1 2zM233 132l0-3-1 0 0-5 1-1-3-6-4-3-6-1-3 3-1 4 4 4 1 4 3 3zM238 132l2-2 3 0 1-5 1 0-2-5-2-1-5 3 0 6-2 1 0 2zM216 125l-1-3-1 2zM214 127l0-2-2 0 0 2zM242 134l-1-2-2 0 0 2zM237 135l-1-2 0 2zM235 140l-1-2 0 2zM94 143l-2-1 1-3 2 2zM86 145l-2 0 1-3 2-2 2 0 0 2-3 1zM237 143l-1-2 0 2zM75 145l-1-3 2 0 0 2zM76 147l-3 0 0-2 3 1zM99 147l-4 0 0-2 3 0zM75 151l-8 0 0-1 3-1 0-2 3 0 0 3 2 0zM91 193l-3 0-1-1 0-2-3-3 0-3-9-8 0-3-2-2-8 0-1 2 2 2-1 7 2 1 0 2-1 1-5-6-3 0 0-2 2 1 0-2-3-1 4 0 0-2 2 1-1-2 1 0 0-6 2 1-1-2 5 0 5-6 0-3-1 0 0-3 1 0-1-2 3 0-1 2 2 1 2 0 1-2 1 3 2-1 0-2 3 0 0-1 1 1 3-1 1 2 2 0 1-3-2 0-1-3 3-1 1 6 8 3-2 2-6-2-1 3-1-1-3 1 1-2 2 0-1-2-2 1 0 2-2 0 0 3-1-3-3 0 1 5-1 1 2 1-1 2-3-1 0 2 2 1 5 0 0-1 2 1-2 2-1-1-5 1-1 1 0 4 2 2 2 0 0 3 2-1 1 2 6 1 3-3-1-4 3 0 0-3-1 0 1-2-2-2 0 3-2 1 0-2-2-1 2 0-1-3 3 0 0-3 2-1 0 2 2 0 2 2-3 1 2 2 0 2-2 0 1 2-1 3 1 0 0-2 2 0 1 2-4 3 0 2-3 2 0 2-2 0-2 2 1 2zM84 152l-3-1 1-3 2 0zM102 164l-2-2 2 0-1-4 2 0 0 4 1 1zM97 166l-2 0 0-3zM94 170l-3-1 3 0zM265 172l0-2-2 0zM105 175l-2-1 0-2 2 1zM266 194l0-2 4-2-2-1-1-4 2 0 1 1 1-3-1-2-4-1-2-5-1 1-3 0 0-2 2 1 2-1 0-1-2-1-2 2-4-1 0 4 3 1 0-2 1 0 0 3-2 3 0 4 2 2 3-1 0 4 2 0 0 3zM255 177l-1-2 0 2zM257 193l0-6-7-4 2-1-1-2 2-1-2-1 0-2-3 0-1 1 0 3-1-2-2 1 0 2 3 0 1 9 4 3zM64 179l-1-2 0 2zM54 183l-1-2 4-2 0 2zM242 181l0-2-2 0zM250 182l-3-2 3 0zM255 184l0-3-2 0 0 2zM257 183l-1-2 0 2zM54 188l-1-2-3 1-2-2 3 0 2-2 2 1zM89 191l4-3-2-2 2 0 1-2-4-1 1 3-4 2 1 3zM48 190l-2-2 1-2 1 0zM246 188l-1-2 0 2zM244 189l-1-2 0 2zM46 193l-2 0 1-5 1 0zM279 195l1-2-2-3-1 2-3 0-1 1zM44 209l-2-2-2 0-3-4-3 0 0 3-2-1 1-5 3 1 4-3 0-4 3 0 1 1 0 3 4 1 0 2-4-1-1 3-2 0 0 3 3 1zM120 216l-1-2-5 0-2-2 1-7 1-2 2 0-1-3 2-2 3 0 2 5 2 1 0 2 3 1-4 2 0-4-7-1-1 3 2 2-3 1 0 2 1 1 2 0-1-2 4 1 0-1-2-1 3-1 1 5zM120 203l0-3-3 0 0 3zM271 206l1-3-2-3 0 4 1 1-2 1zM27 212l-1-2 1-2 4-3 1 3 2-1 1 2-1 2-2-2-4 0zM20 210l-2 0-1-2 4 0zM127 214l-2 0 1-3-2 0 0-1 4 0zM29 241l-4-1 3-1 1-3-1-1-3 0-2-2 1-2-2 0-2 2-1 4-3 0 0-2-2 0 1 4-6-1-1 3-6-1 1-2-4 0 0-3 4-1 0-4-2-3-2 0 0-3 2 0 1-2 4 4 7-1 3-7-4-3 2-1 4 1 2-2 1 2-2 0 0 2 2 0 0 3-3 1 1 2 4 0 1-2-1-3 2-1-1 7-3 0 1 1 0 4 3 0 1-2 2 1 1-2 3 1-3 1 0 2 3 2-2 1 0 7zM28 217l-3 0 0-4 1 1 3-1 0 2-2 0zM247 255l-2 0-1-2-5 0 1-6-2-1 0-3 4-4-1-7 2 0-1 2 2 0 1 3 2-1 3 3 1-1 2 1 1-1-1-2 4 0 0-2-2-2-2 2-1-1-5 0 0-1 3 0 0-3-1-1-2 0-2 2 0 2-2 0 1-2-2 0 0-2 7-3 2-2-1-2 4 1 1 3 1-2 5 2-1-2 3-1-1-4 1-2 2 0 1 2 2-1 9 0 4-3 0 2-2 0-1 2 0 4-2 0-3-4-3 0-1 1 0 3 2 0 0 3-2 1 0 3 3-2 3 1 0-4 1-1 2 0 0 3-3 3 0 4 2 2 0 4-2 0 0-5-1 1-5-1 0 2 2 0 1 2-2 1 0 2-5-2 0 2-2 1-2-1 1-2-1-1-3 4-2-2-13 0-1 2 0 7-1 1 1 2 3 0zM123 217l-3-1 2-1 4 0zM262 221l-2-1 2 0zM275 222l-4-1 4 0zM42 227l-6 0 0-1 1-1 1 1 5-1zM38 231l-2 0 1-2zM35 235l-2-1 0-2 2 0zM248 236l-2-1 0-2 3 1zM23 236l-1-2 2 0zM323 294l-2 0 0-2-4 1-1-4-7 0 0-2-2 1 0-2-3 2-1-1-4 0-2-1 0-3-1 3-2-1 0 2 2 1 0 4-3-1 1-2-3-2 0 5-3 1 0-3 1-1-1-2 1-2-2 0 0-4-2-2-4 0-1-1 0-7-2-2-4-3-3 1 1-2-1-1-3 0 1-2-2 1 1 2-2 0 0-3-1 1-1-1-5 0-1 1-1-1 0-2 7 0 0-4 5 4 1-2 2 1 3-2-3-1 1-2 2 0 0-4-1 0 1-6-5-2 2-1 0-2 5 1-1 1 1 6-2 2 2 0 1-2 0 3 1 0-1 2 1 2-3 2 0 7 4 4 3 0 2 2 2 9 2 1-1 2 4-1 0 2 6 0 0 1 4 0 2 2 6-2 0 2 2-1 1 2-1 2 2-1 3 1 0-4-2-1 3 0 0 3 1 1 6-1 2 1-3 1-1-1-2 2 2 2zM22 243l-4-2 4-1 1 1zM2 242l-3 0 0-1 3 0zM17 245l-2-2-1 1-2 0 1-3 4 1zM263 252l-2-1 0-5-2-2 2-2 2 2-1 1zM26 250l-2 0 1-2-2-4 1-1 2 1-1 1zM31 247l-2-1 0-2 3 1zM18 251l-1-1-2 1 2-5 2 3zM13 249l-3-1 2-1zM9 250l-2 0 1-2zM36 254l-2-1 1-1 0-4 2 1-1 1zM7 252l-2 0 1-2zM24 251l-2-1 2 0zM16 258l-2-1 3-5zM31 255l-3-1 0-2zM8 259l-1-1-2 1 0-6 1 3 3 1zM34 255l-2-2 2 0zM33 257l-4-1 4-1zM250 258l-3 0 0-3zM248 262l-2-1 0-2-1 2-4-2 4-1-1-2 2 0 0 2 2 1zM11 263l-4-3 3-3 2 0 0 4zM256 263l-1-1-4 0 0 1-3-1 3-1-1-3 2 0 1 3 3 0zM258 264l-2-1 2 0zM284 278l1-1 0-2-1 2-1-2-2 0 1 3zM314 284l-4-2 3 0zM299 300l-1-3-3 0 0-1-4 1-2-2 0-2 7 1 0-2 2 0 0 2 2 0 0-3 3 0 1-2 3 0 1 2-2 0-1-1-1 1 0 4-2 0 1 2zM350 350l-15 0 0-1-5 1 0-1-3 0-1-2-3 0 1-2-1-1-3 3 1-4-3 0 1 2-4 0 0-2 2 0 1-4-5 0 0 1-5 1 1-2 2 0 0-5-2 0-3-4-6 0-2-5-4 0 1-3 2 1 1-2 0 3 2 2 6 0 1 1-1 2 1-1 1 1 7 0 1-1 0-6-3-2 1-1-1-3 2-1 0 3 3 1 2 2 0 2 5-1-1 3 1 1 3 0 0-2 3 0-1 4 2 0-1-2 3-1-1 4 5 2 0 2 4 3 1-3-2 0 0-4-1-1-2 1 2-5-3 0 0-2 3 0 1-1-4-1 0-3 4 2 1-1 0-4-3 0 1-5-1-1-4 1-1-2 1-2 4 2 1-7-2 0 0-2-2 1 0-3-5 0 1-2-1 1-3-1 0 2-5 0 0-2 1 1 3 0-1-2 2-1-2-1 1-1 5 0-2 3 3 0 0 1 1-1-2-2 2 0 1 1 0 3 8 3 0 4 2 3 5 2zM312 299l-2-1 1-2zM289 306l-3 0-1-3 1-1 2 1 0-3 4-1 1 2-3 0 2 2-2 0 1 2zM308 307l-1-3-2 1-1-3-2 0 0-3 2 2 2-2 1 1 2-1 0 2 3 1-1 3-1-1-2 0zM286 309l-2 0 0-4zM299 307l-4-1 4 0zM303 310l-4-1 2-1-1-2 2 0zM311 312l-3 0-1-2 1-2 3 0 1-2 0 3-1 1 1 1zM290 311l-3-1 1-2 2 1 1-2 0 1 4 0-4 1zM306 311l-3-1 3 0zM291 316l-2 0 1-4 4-1-1 2 1 1-3 0zM322 317l-2 0 0-3 2 0-1 1zM294 323l-1-2-2 1 1-5 5 3zM305 341l-1-1-2 1 0-2 3 0z"/><path fill="#09f" d="M84 24l-4 0 1-3 2 1-1-2 2 0 0-4-1 0 0-3-6-7 0-3 2-1-4 0-1-3 2 0 0 2 4 0-1 6 3 0 1-1-1-2 2 0 0 3-3 1 0 1 2 0 1-2 1 0-1 3 2 0 0-2 1 0 0 4-2 0-1-1 1 3-1 1 2 0-1 2 3 3-3 0zM252 177l-1-2 1-1-1-1-2 1-4-2 0-4 2 0 0 3 3 0 0-2-2-1 1-2-3 1-1-1 2-3-2-4 1-2-2 1-3-4 2 0 1 2 2 0 1-2-5-1 1-5-3-3 0-2-3 0 1-1-1-3-3-1-1 4-1-2 1-3-1-1-2-1-3 0 0 1-2-1-1 1 0-2-2-1-5 0 0-2 3 1 1-1-1-1 1-2 2 5 10 1 2-2 2 4 3 0 0-1 2 1 0-4 3 0 1-1-1-4 3 1-2-1 1-1-1-6 3 0-2-1 0-1 4 0-1-2 1-2-3 0 0-2-3 2-1-2 0 2 3 2-3 1-1 2-3-4 0 3-2 0 0 2-2 0 1-6-3 0 0 2-2-1-1 2 0-3-1-1-3 0 0-2 2 1 1-2 4 0 1-2-3-2-1 1-5-1 3-3-1-2-4 0 0 1-2-1 1 2-2 0 0 3 2 0 0-2 3 0 0 1-2 1 1 0 0 4 2 1-2 1-4-2-3 1-3 6 0 4 2 0 0 2-3-1-3 5-1-2 3-3-1-3 2-1-1-6 3 0 1-1 0-2 2-1 1-7 2-2 7-1 4-3 0 2 3 0-2 1 0 2 1-1 6 1 3-7 3 3 5 0-2 1-2 3 7-1-1-3 2 2 2 0 2-2 0-2 1 2 2-1-1-1 1-1 0-6-6-1 4 0 0-1 6 1 0-3 1 0-1-2 1-1-3-1 1-2-1-1-2 0 1 2-4 0 1 1 0 5-1-3-2-1 0 2-3-1 0 3-2-1 0 2-4 0 1-5-2-2 2 0 0-1-2 0-1 2-1-2-2 0 0 2-5 1 1-2-2-1 0-4-9-9 0-6 3 1-2-1 2-2-2 0-1 1-1-2 0-5 4-3 0-4 1 0-1-20-3-1 1-4-1-2-4 1-3-2 1-2 0 1 5 1-1-2 3-1-4 0-2 1 0-2-3 0 0 1-3-1-1-2-5-2-6-6 0-2 11 0 0 2 2 3 5 1 0 1 8-1-1 3 3-3 4 0 2-6 7 0 0 6-4 7 1 20 1 0 0 3 3 2 0 2 3 3 4 1 3 4 0 3 3 3 1 13 4 4 2 0 0 2-2 0-2-2-2 3-3 1 2 1 2-1 4 2 1-1 0-3 1 0-1 7 2 3 0 4-5 2 0 6-1 2-6 4-1 6-2-1 1 2-5 4 1 1 0 7-2 0 1 2-2 1 0 11-3 1-3 4 0 5 3 3 0 2 2 0 0 12 2 0 5 5 2 0 2 3 3 0 2 3-1 2-1-3-6-1-2-1-1-3-3 0 0 1 2 0-1 4 1 0 0 3 2-1 0-2 1 1 3-1 0 2-3 0 1 4-2-1zM229 4l-1 0 0-5 3 0 0 4zM236 9l0-2-2 1zM232 11l-1-2 0 2zM102 13l-2 0 0-2 3 0zM94 19l-1-3 1 0 0-3 3-1 1 2-3 1 0 3zM106 17l-2 0-1-2 2 0zM96 21l-1-3 2 0zM103 21l-2 0 0-3 2 0zM105 54l-2-1-2 1-2-2-1-4-2 0-2-3-2 0-3-5-6 0-1 1-1 4 2-1 0 3-2-1 0 2 4 1 0 3-2 0 0-2-5-1 1-2-2 0 2-1 1-2 0-3-1 0 0-2 2 0-1-2 5-2 0-3 2-2-2-3 0-3 2 0 0 2 3 0-1-2 4 1-1-6 2 1-1 2 1 1 3-1 0 2 1-3 2 0 0 2 6-1 0 1 4 0-1 3-5-1-1 3-2-4-1 3-3 0 0 4-1 0 1 4-2-1 0 2 7-1 0 2-4 0-2 1-1 2 0 2 2 2 3 0-1 2 1-1 1 1 6 0 1-1-1-6 2 1 2-1-1 2 2 0 0-2 1 0 0 3-2 1-1 4-4 2 0 4zM91 23l-2 0 0-2zM112 30l-2 0 0-3-1 0 1-2zM112 38l-1-1-2 1 0-3-1 3-2 0-3-3 1-1 3 0 0-3 2 0 0 1 3 0 0 2-2 0 2 1zM104 52l1-4-2-1 0 3-2-1-1 1 1 2zM256 49l-2-2 0 2zM256 72l-2-2 2-2-1-1 1-1-1-3 4 0 0-3 1 0-1-1-1 1-2-3 1-2 2 1 0-2-2 0-1 1 0-1-5-1-1-2 4 0-1-2-2 0-1 2-1 0 1-3-4 1 0 4 3 0 0 1-2 1 2 1-2 1-1 6 3 1 1 3 2 0-2 1 0 1 3 0 1 3zM244 68l0-3 1 0-1-3 1-1-2 1-4-4 1-3 2 0-1-3-3-2-1 1 0 4-2 0 1-2-4 0 1 2 2 0-2 2 2 0 0 6 2 4 2 1zM245 53l0-2-2 0 0 2zM77 54l-2-1 2 0zM73 59l-2-2 2-3 2 0-2 2zM77 56l-2-1 2 0zM239 57l-2-2 2 0zM244 59l0-2-2-1 0 3zM126 58l-3-1 3 0zM246 59l-1-2 0 2zM122 68l-2-1 1-6 2-2 4-1 1 4-2 0 0-2-2 0-1 1 1 4-2 1zM234 62l0-2-4 1 0 1 2-1zM132 66l-3 0-1-4zM74 72l-4-2-4 1 0-3 3-1-1-4 2 1 4-1 2 1-1 2-2 0 0-2-1 0 0 5-1 1 3 0zM126 70l-1-2-2 1 0-2 2 0-1-2 3 0-1 1 1 2zM69 74l-4-1 3-2zM69 90l-1-2-2 0-1-2-2 1 2 1 0 1-4-1-1 2-2 0-1-1 1-2-2-2 4 0 1-1 0-3-2-1 2-2 3 2-1 3 1 1 4 0 0 2 4 0 0 2-1-1-2 0zM239 79l-2-1 2 0zM70 84l-2 0 0-3 2 0-1 1zM76 84l-2-1 0-2 3 1zM257 86l-4-1 4-2zM74 86l-2-1 2 0zM65 94l-1-3-3 0 0-1 4 0zM68 91l-2-1 2 0zM68 100l-1-2 2-1 0 2zM50 105l-2-4 4-1 0 2zM253 107l3-4-1-3-1 2-4-1 0 2-3 0 1 2-2 0 2 2zM77 106l-2 0 0-2-4-1 3-2 3 3zM71 109l-2-5 2 0zM68 111l-2-1 2 0zM68 122l-2 0-1-5-5 0 5-4 0-2 2 1-1 2 3 0-1 2 2 1-1 3-2-1zM58 113l-2-1 2 0zM60 114l-2-1 2 0zM76 117l-1-2 2 0zM234 126l-1-3 1 0 0-3-2-1 0-2 3 1 1 2-1 1 0 4zM76 119l-2-1 2 0zM219 125l-2 0 0-2zM217 131l-1-2-1 1-3 0 2-1 0-4 1 1 2-1-1 3 2 0 0 2zM69 130l-2-3 3-1 1 2zM220 128l-2 0 0-2zM213 128l-2-1 2 0zM220 131l-2-1 2 0zM75 138l-2 0 0-2-2-1 5-2 1 1-1 1 1 2-2 0-1-2zM74 141l-1-2 2 0zM230 141l-2 0 1-2zM232 142l-2-1 2 0zM76 147l-3 0 0-2 3 1zM247 151l-1-2 0 2zM81 178l-3-1 2-1 0-1-3 1 1-7-2-4-1-1-3 0 0-3 3 1 1-2 0-3-2-1 0-3 1 0 1 3 3 0 1-3 3 4 0-4 4 0 0 1 2-1 1 2-2 1 1 1-1 4-1 0 0-3-3 0 1 4-2-1 1 5-1 0 0-2-3 0 0 4 2 1 8 0 0 1-1 1-1-1-6 0-1 1zM96 156l-2-2 2 0zM92 156l-2-1 2 0zM102 157l-1-2 2 0zM95 157l-2-1 2 0zM103 163l-2-5 2 0zM71 167l-2-1 3-2 0 2zM99 167l-1-2 2-1 0 2zM66 170l-1-3 3-1zM101 173l-2-4-4-1 2-1 3 1 0-2 3 0 0 2-2 0 1 3zM264 168l-2-1 2 0zM65 171l-2 0 0-2zM267 179l-4-4 3-3 0-2 1 4 2 0zM101 178l-2-1 1-3 1 0zM244 179l-3 0 0-3 2 1 1-3 2 0 1 3-2-1zM62 179l-1-2-3-1 7 0zM254 178l-2-1 2 0zM256 182l-2-1 1-1-1-2 1-1 1 1 2-1 1 4-2 0-1-1zM82 181l-1-3 3 0zM270 180l-3-1 1-1 3 0zM272 183l-2-1 1-3 1 0zM247 182l-6 0 0-1 6 0zM87 190l-1-4-1 0 2-2-1-2 2 0 1 1 2-1-2 4-2-1 1 2-1 0zM97 184l-1-2 2 0zM94 184l-2-1 2 0zM244 187l-2 0 1-1-1-1 0-2 4 1zM54 187l-5-2 4-1 1 1zM96 185l-2-1 2 0zM269 206l-3-1 1-1-1-3 2 0 0-1-3 0-1-2-1 2-1-1-3 1-4-4-3 0 0-2 6 1 1-1 0-5 2 2 4 0 0 3 4 0 0-4 1-1-2-1 2 0-1-2 2 0 1-2 1 1-1 3 1 1 4 0-1 1 1 2-3 0-1 1 0 3 1 0 0-2 5 2-3 0 0 2-2 0 1 2-2 0-1 3-2-3zM247 192l-2 0-1-2 2 0zM250 194l-2 0 0-3zM40 205l-2-5 3-1-1-1 0-2 3 0 4 4-1 1-2-1-1 3-3-1zM280 198l-3-1 3 0zM123 205l-3 0-3-2 4-1 0 2 2 0zM279 206l-2-1 2 0zM43 208l-2-2 2 0zM115 209l-2 0 1-3zM271 207l-2-1 2 0zM281 207l-2-1 2 0zM121 215l-4-1 0-2 3 0-2-2 2-1 1 0zM19 217l-1-3 2-1zM28 217l-2 0 0-2zM14 238l-2 0-1-2 0-7-2-3 3 0 1 1 0-1 3 0 1-1-1-1 1-1-1-3 5-2 0 2-3 1 1 1-1 2 4-1-1 2 1 0 0 4 3 0 1-2 3 1-1 3 1 0 0 4-1 0 0-2-2 0-1 2 0-2-2 0 1-2-2 1-2-1-2 2 0 2-2-2-3 0zM276 221l-2-2 3-1zM264 241l-2 0 1-3-3 0-2 2-4-1 0-2 3-1 0-2 5 0 0-1-4 0 0-1-1 1-2-1-2 1-2-1 1-1 0-3-7 0 0-1 2-1 3 1 0-1 5-1 0 1 5 0 1 3 3 0 0-1-3-1 1-3-2-1 1-1 3 1 0-2 3-1 0 3 2 0 0 4-3 3 6-2 2 1-1 1 1 3-5 1 1 4-1 1-4-1zM273 222l-2-1 2 0zM271 223l-2-1 2 0zM3 226l-4 0 0-1 3 0 1-1zM6 230l-2 0 1-1-1-4 2 0 2 2 0 2zM245 230l-3-1 3-1zM251 233l-2-1 2 0zM267 235l1-1 0-2-5 1 0 2zM7 241l-3 0-1-1 1-2-2 0-1-2 3 0zM250 240l-3 0 0-2 3 0zM273 243l-2-2 3-2zM241 243l-2-1 2 0zM242 248l-2-2 1-3 1 0zM262 246l-2-1 0-2 2 0zM18 251l-2-3 3 1zM276 251l-2-2 4-1 0 2zM276 256l-3-1 2 0 1-3 2 0 0 2zM247 261l-1-2-2 1 1-4 3 3zM12 261l-4-1 2-3 2 1zM276 265l-2-1-6 0 1-2-3 1-3-3 2 0 0-2 4 2 1-1 3 1 2-3 1 2-2 1 0 3zM259 263l-2-1 0-2 3 0zM281 268l-3-1 3 0zM283 270l-3-1 3-1zM284 275l-2-1-2 1 0-2 1-1 4 0zM287 279l-2 0-1-2 2 0zM289 283l-2 0 0-4 2 2zM293 287l-3 0 0-2-3 0 4-3-1-2 2 0 1 3 4-1-1 2-4 0zM313 283l-3-1 3 0zM310 289l-2-3-4-1 5 0 1-2 0 2 2 0 0 2zM304 287l-5 0 0-1 3-1 2 1zM327 288l-3 0-1-2 2 0 2 1zM291 290l-3-1 1-2 2 1zM322 292l-4-2-2 1-1-3 2-1 2 2 2-1zM296 291l-3 0 1-3zM331 295l-3-1 1-3-2 0 0-1 3 0 1 1-1 1 1 1zM299 300l-1 0 1-4-8 0-2-3 2 0 1 2 5 0 1-2 2 2 0-2 3-1 0 3-1 1 1 1zM333 296l-2-1 2 0zM312 299l-2-1 1-2zM342 302l-2-1 0-2 2 0zM307 303l-3 0-2-2 4-1 1 1zM311 303l-3-1 0-2 3 1zM289 306l-2 0 1-2-2-1 4-2 0 4zM350 350l-15 0 0-1-4 0 0-1-2 1-1-2-1 1-4-1 1-2-2-1 0-2-3 0-1 1 1 2-2-1-2 1 0-2 2 0 0-2 3 0 0-3-5 0-1 1-1-2 3 0 0-2-2-2-6-2 3-1 1 1 1-1 2 2 4-1 0-5-2-1 0-3 2-1 0 4 2 2 4-1 0 2 5 0 2 2 2-1 0 2 2-1 1 3 4 1 2 4-1-4 1-1-2-1 0-4-3-1 3 0-1-4 2 0 0-2-3-2 4 0 1-1-2-2 0-2 2 0 0-5-2-2 1-3 3 2 0 4 2 2 2 0 0 25-4 1-4 5 8-4zM311 312l-3 0-1-1 2-3 3 2zM290 310l-3-1 3 0zM290 316l-1-2 1-2 4-1-1 2 1 1-3 0zM342 314l-3-1 2-1zM338 320l-1-2 2 0zM296 320l-2-1 2 0zM295 322l-4-2 3 0zM304 329l-1-3 3 0 0 1-2 0zM308 330l-2 0 1-2z"/><path fill="#0cf" d="M213 4l-1-2-2 1 0-2 2 0 0-2 4 0 0 2-2 0zM244 2l-3 0 1-3 2 0zM243 51l-3 0 1-2-4-1-2-3 0-2 2 0-1-3 3-1-2-1 1-2-1-4 2-1 0-3-1 0 0 3-3 0-1-1 0-2 3 2 0-2-2 0 1-7-2-1 0-2-2 0 0-2-3 0 1-2-2 1-1-1 3-1 0-1-5 0 1-2-1-1-4 0 1-2-2 0-1 2 0-2-6-1 2-1 1-4 2 0-1 3 1 2 6 0 1 2 3 0 2-2 1 5 2-3 2 2 2 0 0-2-1-1 4 0 1-1-1-1 0-2 4 0 0 5-5 2 0 2-2 1 0 5 4 4-1 13 2 0 1 3 2 0-1 2-2 0 1 2-2 3-2-2 1-2-2 1 0 4 3 0 1-1 0 3 1-1 4 0 0-1 2 1 0 2-4-1zM236 7l-2-1 2 0zM83 13l-1-4 2-1 0 3zM96 15l-2 0 1-3 3 1zM94 19l-1-3 2 0 0 2zM96 21l-1-3 2 0zM87 20l-2-1 2 0zM85 21l-3-1 3 0zM83 23l-2 0 0-2zM94 42l-2 0 0-4-2-1 0-2-1-1-3 0 3-4-1-2-2 0 0-2 5 1 2-1 1-2-2 0 0-1 9 1 0 1-3 0 1 2-2 0 0 2-2 0 2 1-2 1 1 3-3-1 0 3 2 0-1 2 1 2zM112 34l-5 0 0-2 4 1 1-1zM107 35l-2-1 2 0zM86 38l-3-2 3 0zM83 38l-2-1 2 0zM253 49l-3-1 0-3-3 0-3-3 1-3 2 1-1 2 2-1 1 3 2 1 1-1 2 0-1 1 1 2zM95 44l-2 0 1-2zM81 48l-2-1 1-3 3 1-2 1zM102 49l-3 0 2-1-1-1 0-2 3 2zM108 47l-1-2 2 0zM106 52l-1 0 0-5 2 0zM234 53l-2 0 0-2-3-1 4 0 3-2 0 2-3 1zM256 54l-3-3 2-2 2 0 0 3 3 1-4 0zM252 52l-2-1 2 0zM105 53l-2-1 2 0zM247 58l-1-2-2 1 0-3-2 0 0-1 5 1zM249 54l-2-1 2 0zM75 55l-2-1 2 0zM235 56l-5 0 0-1 3-1 2 1zM237 55l-2-1 2 0zM77 56l-2-1 2 0zM259 59l-3-2 4 0 1-2 0 3zM234 59l-2-1 3-1zM245 61l-3 0 0-2 3-1 1 1zM231 61l-1-2 2 0zM254 83l-4 0 1-1-1-1 0-4-2 0-1 1 0-3-2 0 0 2-2 1 1-4-6-4-2 1 0-2 2-1 1 2 2-1 1 2 3 0 1-1 0-4-1 0 1-3 1 1 0 3 3 1 0 2 3-1 1 3 2 0-2-3 3 1 0-5 3-1-1-2 2-1-1 7 2 0 2 3-2 1-2-1 1 2-2 1-5-1-1 2 1 1 12-1 1 2-5-1-1 2-2-1 1 3-2 0 0-2-3-1-1 2 1 3zM233 66l-2-1 0-2 3-1 1 3zM72 69l-3-1 2-2 0-3 5 1-1 2-2 0 0-2-1 0zM236 68l-2 0 1-3zM126 69l-2-1 1-2 2 1zM69 69l-2-1 2 0zM64 81l-3 0-1-2 2-1zM70 82l-2-1 2 0zM67 88l-2-2-5 2 0-3 2 0 0-2 6 1 0 3zM70 84l-2-1 2 0zM257 86l-4-1 4-1zM264 89l-1-2-2 0 0-2 5 2zM244 118l-1-2-2 0 1-4-1-1-2 1 1 4-1 1-1-1-2 1 1-5-5 2 0-2-2 0 1-2 3 0 1-3-7-2 3-2-1-2-2 0 0-1 6-1 0 2 2 0-1-2 2 0 2 5 2 0 0-3 3-1-2-2 1-2 1 2 4-1-1 4 2 1-3 1 1 2-3 2 5 0 0 1 2-1 2 2-3 1 1 3-1 1-2 0 1-2-5 0 1 4zM252 97l-4-1 4 0zM256 101l-2-2 1-1 3 0 0 1-2 0zM225 101l-2-2 5 0zM51 103l-1-2 2-1 0 2zM221 104l-1-2 3 0zM256 105l-1-2 3-1zM240 108l2-3-3 0-1 1zM223 109l-2-2 1-1 3 0 0 2zM222 110l-3-1 0-2zM66 120l-2-3 0-3 5 0 0 1-2 0 1 2-2 0 1 2zM235 122l-2-2 1-2 1 0zM250 120l-3-2 4 0zM249 131l-4-2 0-2 1 1 3-1zM222 133l-2 0 0-2 2 0zM247 134l-2 0 0-2zM76 135l-2 0 1-2zM242 145l-1-3-1-1-3 0 0-2-2-2-2 0-1-2 4-1 1 2 5 1-1 4 2 1 0 2zM243 137l-1-2 2-1 0 2zM244 148l-1-3 3 1zM246 149l-2-1 2 0zM245 154l-1-3 2-1 1 3zM87 158l-2-2-2 1 0-3 1-1 4 1 0 3zM79 167l-2 0 1-1 0-4-2 0 0 2-3-2 5-2-2-4 2 1 4-1 2 2-1 2 2 1-2 0 1 3-2 0-2-2-1 1zM247 158l-2-2 2 0zM249 165l-3-1 1-1-1-3 2 0zM251 165l-2-1 0-4 3 3zM99 167l-1-2 2 0zM247 166l-2-1 2 0zM101 172l-1-3-4-1 1-1 3 1 0-2 3 0 0 2-2-1zM66 170l-1-3 2 0zM81 176l-1-2-2 0 2-1-1-1 0-4 2 1-1 1 1 1zM263 172l-1-2-2 0 1-2 2 1zM254 176l-2 0-1-3-3-1 4 0 1 1 2-3 0 3-1 1 2 1zM267 179l-3-3 1-1-1-2 2-2 1 2-1 1 3 0-2 2zM243 179l-2-2 4-2 0 2zM63 178l-5-2 6 0zM254 178l-2-1 2 0zM256 180l-2-2 2 0zM270 180l-3-1 1-1 3 0zM87 188l-2-3 3-3 2 3-1 1-2-1zM269 204l-3-1 2-1 0-2-3 0-1-2-1 2-4-1 1-2-3 0 0-2 2 0 1 1 1-3 3 0 0 1 3 0 1 2 1-1 0-4 2-1 1-3 0 3 2 0-1 6 2-1 0 3-2 4-3-2 0 3zM253 196l-1-2 3 0zM41 202l-1-2 1 0 0-3 2-1 1 3 2 1-5 1zM267 229l-5-1 0-3 2-1 0-2 5 1 0 2-2 0zM13 234l-2-2 2 0 1-5 3 0 0-4 3 3 2-1 0 6-2 0-1 2-2 0 0-2-3 0zM263 224l-3-1 3 0zM264 241l-2-1 1-2-3 0-3 2 0-6 5-1-4 0 0-1-3 1 1-2-4 0 0-1 2 0 0-2-3 0 0-2 1 1 6 0 1-1 0 2 5 1-1 1zM26 235l-2-3 0-3 1-1 1 1 2-1 0 3-2 1zM270 234l-3-2 1-3 4 1 0 2 2 0-4 1zM269 239l-4-4 4-1 1 4zM5 241l-2-1 1-2 2 1zM12 260l-4-1 2 0 1-2 1 1zM272 264l-3-2-3 1 0-3 1-1 7 1 0 1-2 0 1 2zM281 268l-2-1 2 0zM283 270l-2-2 2 0zM284 275l-2 0 0-2 3-1zM292 286l-4-1 3-3-1-2 2 0 1 2zM289 283l-2 0 0-2 2 0zM322 292l-2 0 0-4 2 2zM302 298l-3 0 0-2-2 0 0-2 2 0 1 1 2-2 0 3 1 0zM289 306l-1-2 2-2 0 3zM288 304l-2-1 2 0zM311 311l-3-1 1-2 2 1zM350 350l-14 0 0-1-5 0 0-1-2 1 0-2-2 0-4-3 1-2-5 0 2-1 1-3-4 0 1-3-1-1-3 0-1-2 7 1 0-4-2-2 2-1 1 3 3-1 0 2 3 0 0-2 2 0-1 2 2-1 1 2 2-1 1 2 4 1 0 2 2 0 2 3 0-5-2-1 0-4-1 0 2-1-1-1 1-2-2-1 3 0 0-2-2 0 0-1 4 1-1-5 2 0 1-4 1 3 2 0 0 22-4 1-4 5 8-4zM319 326l-2-2 2 0zM314 332l-2-1 2 0zM326 347l-3-1 3 0z"/><path fill="#13ffec" d="M214 3l-4-1 2-1 0-2 3 0zM244 7l-3-2 2-2 1 0zM218 6l-5 0 0-1 3-1 2 1zM242 9l-1-2 2 0zM233 17l-1-3-2-2-2 0-1-3 3-1 2 3 0-2 2-1 0 2 3 1 1-3 1 1-1 3-3 1 0 3-2-1zM231 16l-2 0 1-2zM237 20l-2-2 0-2 2 1zM92 36l-1-3-3-1 3-3-3-2 6-1 0-3 1 1 5 0-5 5 2 2-5 1zM240 31l-1-3-1 3-1 0 0-5 1-1 2 2zM242 38l-2 0 0-2-2-1 4 0zM239 38l-2-1 2 0zM94 42l-1-3 2 0zM237 42l-1-2 3 0zM249 44l-3 0-1-1 0-3zM111 43l-2-1 2 0zM251 45l-2-1 2 0zM253 49l-3-1 2-1-1-2 3 1zM244 50l-3 0 0-2-3-1 3 0 0-1 1 2 1-1 6 0-4 1zM256 54l-2-1 0-3 2 0 1 2zM260 58l-3-1 3 0zM245 61l-2-1 2 0zM235 65l-2 0 0-3 2 1zM126 69l-2-1 1-2 2 1zM254 83l-4-2 0-4-3 0 1-2-2 0 0-2-2-1 3 0 0-3 1 1 2-1 0 2 2 1 4 0-2-3 2 0 1 1 0-2 2-1 0 2 3 0-2 1-1 4-5-1-1 1 1 2-3 1 0 2 1-1 3 0-1 1 1 3zM253 71l-2-2 2 0zM244 72l-3-1 3 0zM259 80l-1-2-2 0 0-2 7-1-2 3-2-1 1 2zM68 87l-2 0 0-2-4 2-2-2 2 0 0-2 2 0 0 1 4 0zM70 84l-2-1 2 0zM256 86l-3-1 3-1zM252 97l-4-1 4 0zM228 100l-3-1 3 0zM244 117l-2-2 0-3-2-1 0-4 2-2-5 1 0 5 3 0-1 1 1 3-1 1-2 0 0-4-4 1 0-1-3 0 6-3-3-4-2 0 1-1-1-3 2 0 0-2 1 3 4-2 1 4 2 0 0-3 4-2 1 2 3 0-2 1-3 4 0 1 5 0 0 4-1 1-4 0 1 4zM251 113l-2 0 0-2zM65 117l-1-2 3-1zM218 130l-4-2 4 0zM240 140l-4-1-2-2 0-2 7 2zM87 158l-2-2-2 1 1-4 3 1 1 3zM82 162l-1-1-2 1 0-4-1-1 1-1 3 0 2 2zM248 164l-2 0 1-1-1-3 2 0zM99 169l-3-1 2-1zM254 174l-3 0-1-2 2 0 1 1 1-1zM243 179l-2-2 4-1zM270 180l-3-1 3 0zM270 203l-2 0 0-3-1-1-3 0-3-3 1-2 5 0 1 2 1-1 0-4 2 0 1-3 1 6-2 1 0 2 4-1 0 2-1 2-4 0zM44 201l-3 0 0-4 1-1 2 1 0 2 2 0zM267 229l-5-1 0-3 2-2 3 1zM18 226l-1-2 2 0zM18 232l-1-2-2 0 1-1-1-2 7-1 0 5-4 0zM264 240l-1-2-5 0-1-1 1-3 4-1-6-1-1-1 0-4 2 1 2-2 0 2 5 1-1 1zM26 233l-2-1 0-3 1-1 2 2zM270 234l-3-2 1-3 4 1zM270 238l-1-1-2 1-2-3 4-1zM247 260l-1-1-2 1 1-4 2 2zM12 260l-4-1 3-1zM272 264l-5-2-1-2 1-1 4 1 2 2zM284 275l-2-2 3-1zM291 286l-3-2 3-2-1-2 2 0 1 3-2 1zM289 283l-2-1 2 0zM312 287l-2 0-1-2 3 0zM331 294l-3 0 1-3zM302 298l-3 0-1-3 4-1zM311 311l-2 0-1-2 3 0zM350 350l-13 0 0-1-5 0-8-4 0-1 2-1-2 0 0-2-1 1-2 0 0-2 2-2-3 0 1-3-2 0 0-2 4 1 0-3 2-1 1 1 2-1 1 1 2-1 2 1 1-1 2 3 3 0 0 2 2 0 2 3 0-5-2-1 1-1-1-4 3-3-1-3 3 0-1-4 2 1-1-4 2 0 0 3 2 1 0 19-4 1-4 5 8-4zM326 347l-3-1 3 0z"/><path fill="#7cff83" d="M233 15l-5-4 1-2 2 0 0 2 2-1 1 3zM92 31l-1 0 0-5 3 0 1-3 2 2 0 2-3 0 0 2 1 1-3 0zM243 50l-2 0 0-3 3 1zM126 69l-2-1 1-2 2 1zM259 74l-3 0-1-1 1-1-1-2 4 0 1 1zM253 77l-3 0 0-3-2 0 1-2 4 0 1 4zM260 79l-4-1 0-2 5-1 0 2-2 0zM254 81l-2 0 0-3 3 0zM65 86l-3-1 1-1 3 0zM68 86l-2-1 2 0zM236 107l-2 0-1-3 1-2 4-1 1 1 0 4-3 0zM246 112l-2-1 0-2-4 0 0-2 2-1-1-3 1-1 3 0 0 4-1 1 4 2zM240 115l-3 0 0-3-3 0 0-3 3-1 0 3 3 0-1 1zM245 116l-3-1 0-3 3 2zM238 139l-2 0-2-3 4 0 1 1zM86 157l-1-1-2 1 0-2 3 0zM82 160l-2 0-1-3 4 0 1 1zM250 164l-1 0 0-4 2 2zM272 195l-2 0 0-2 3-1 0 2zM268 199l-4 0-1-1 0-3 4 0zM275 198l-4-1 1-1 3 0zM274 200l-4-1 4 0zM270 203l-2 0 0-3 2 0zM265 229l-3-3 2-2 3 1 0 3zM22 231l-2 0-2-2 1-2 3 0zM261 238l-3-1 0-3 4 0 0-2-1-1-5 1 0-4 5 0 0 1 3 0-1 1 0 6zM270 234l-3-3 3 0zM268 237l-2 0-1-2 4-1 0 2zM264 240l-1 0 0-4 1 0zM291 286l-3-2 2-2 3 0zM301 298l-2 0-1-3 4-1zM350 350l-13 0 0-1-4 0 0-1-5-1-3-6-4 1 0-2 4 0-1-2 1-5 2-1 2 2 0-2 2 1 0-2 2 0-1 2 3-1 1 2 5 1 2 3 0-6-2-1 2 0 0-5 2-1-1-3 2 0 1 1 1-4 2 2 0 16-4 1-4 5 8-4z"/><path fill="#e0ff1f" d="M233 14l-4-2 0-2 4 1zM94 29l-2 0 0-3 4-1 0 2-2 0zM238 29l-1-3 2 0 0 2zM259 74l-3 0-1-1 1-3 4 1zM253 77l-3 0-1-5 4 1 1 3zM259 79l-3-1 0-2 4-1 1 2-2 0zM65 86l-3-1 4-1zM246 112l-2-1 0-2-4 0 0-2 2-1-1-3 1-1 3 1-1 4 3 2zM239 106l-5 0 0-2 5-1zM240 115l-3-1 0-2-3 0 0-2 6 1-1 1zM245 115l-3-1 0-2zM84 157l-1-2 3 0zM84 159l-4 0 0-2 3 0zM274 200l-4-1 4 0zM270 202l-2 0 0-2 2 0zM265 229l-2-1 0-2 3 0zM22 230l-3 0 0-3 3 0zM263 233l-2-2-4 1 0-3 1-1 6 1zM270 233l-2 0-1-2 3 0zM260 237l-2-1 0-2 3 0zM268 237l-2 0-1-2 4-1 0 2zM291 286l-3-2 2-2 2 0zM330 294l-2 0 1-3zM301 298l-2 0-1-2 2-2 1 0zM350 337l-7 0 0-7 2 0-1-2 2-4 2 1 0-2 2 0zM337 349l-3 0-4-2-1-1 1-2-2 0-1-5-1 0 1-4 4 0 0-3 1 2 4 0 0 1 2-1 1 2 3 0-4 5 1 4zM350 350l-5 0-5-6 10-5z"/><path fill="#ffb700" d="M96 27l-2 0 0-2 2 0zM94 29l-2 0 0-2 2 0zM259 74l-3 0-1-2 3-1 1 1zM253 77l-3 0 0-4 3 0 1 3zM254 80l-2 0 0-2 3 0zM243 109l-3 0 0-2 2-1-1-3 4 0zM238 106l-4 0 0-2 4 0zM84 157l-1-2 2 0zM83 158l-2-1 2 0zM268 199l-4-1 1-3 2 0zM267 237l-2-2 4-1 0 2zM290 285l-2-1 2-2 2 0 0 2zM350 337l-7 0 0-2 6 0-6-1 2-1-2-1 2-2-1-2 2 0 2-3 2 0zM337 349l-8-3 1-2-2-1 1-1-1-1 0-5 2-1 1 1 1-1 5 0 0 3 3-2 0 3-2 2 1 4z"/><path fill="#ff4d00" d="M94 29l-2 0 0-2 2 0zM244 106l-2-1 1-2 2 0zM272 195l-2 0 0-2 3 0zM270 202l-2 0 0-2 2 0zM350 335l-4-1-2-2 2-5 1 1 3-1zM337 349l-4-1 1-4-4 1-1-1 0-3 1 0-1-3 3-2 3 0 2 6 2 1z"/><path fill="#f00" d="M53 85l-3 0 0-3 2-2 0-3 1 0 2-9 1 0 1-11 1 0 0-8 1 0 0-9-1 0-1-12-1 0-1-6-2-2 0-3-1 0-1-4-2-1-1-4-5-5-1-4 14 0 0 2-2 0 0 1-3 0 0-1-1 1 3 1 2 6 1 1 2 0 0 2 2 0 0 2-2 0 0-1-1 1 3 1 0 2 2 0 0 3-1 1 1 0 1 5 2 0 0 2-2 2 2 1 0 4-1 0 0 7 3 0 0 2-4-1 0 5 1 0 0 2-2 2 0 3-1 0 1 1-1 3 2 0 0 2-3 0 0 5-1 0 0 2 2 0 0 2-1 1-3 0 2 1 0 2-3-1-1 3 2 0 0 3-2 0 0-2-1 0 0 5-2 0 1 1zM77 9l-3 0 0-3 2 0 1 1zM80 21l-2 0 0-6-2-2 0-2 2 0 0 2 2 2zM5 19l-4-1 0-2 3 0 1 1zM80 25l-2 0-1-1 0-2 2 0 1 1zM81 31l-2 0 0-4 2 0zM11 35l-4 0 0-2 4 0zM109 36l-2 0-1-1 0-2 3 0zM12 40l-3 0 0-4 2 0zM26 40l-2 0 0-4 4 1 0 2-2 0zM241 39l-3 0 0-2 1-1 2 0zM30 45l-4 0 0-2 4-1zM24 48l-2 0 0-2 1 0 0-2 2 0 0 3zM3 50l-2 0 0-3 2 0zM31 52l-3 0 0-1-4 1-1-1 0-2 1-1 4 1 0-2 2 0zM1 208l-2 0 0-5 2 0 0-1 8-3 1-2 2 0 1-2 2 0 3-4 2 0 10-11 0-2 2-1 0-2 2-1 1-4 2-1 0-3 1 0 1-5 1 0 0-5 1 0 0-20-1 0 0-4-1 0-1-6-1 0 0-2-2-2 0-2-2-2-2-6-1 0-5-12-2-1-1-4-2-1 0-2-2-1 0-2-5-4 0-2-1-1-2 0-4-5-2 0-3-3-2 0 0-17 2 0 0-2-2 0 0-5 2 0 0 2 2 0 0 2 1 0-1 4 3 0 0 1 5-1 0 3-1 0 0 2 5 0 0 2 3 1 0 2-1 0 0 4 4 0 0 2 3 1 0 2-1 0 1 5 1 0 0-2 2 0 0 3-1 0 2 2-1 3 1 1 3 0 0 2-2 1 2 1 0 2 3 0 0 3-2 1 2 0-1 3 2 0-1 4 2 0 0 5 2 0 0 5 2 0 0 2 2 3 2 0 0 6 1 0 0 3 1 0 1 8 1 0 0-2 2 0-1 5-1 0 0 2 2 0-2 7 2 0 0 2-1 0 0 2-2 0 0 3 1 0 0 2-2 0 0 4 1 0 0 2-3 0 0 2-2 2 0 4-3 2 2 1 2 6-3 0 0-4-2-1-1 1 1 3-4 1-2 4-2 0 0 2-1 1-2 0 0 2-2 0-2 2 0 2-5 1 0 2-2 1 0 3-2 0 0 2-2 0 0-2 1 0-1-1-1 2-2 0 0 2-3 0-2 2-3 0zM27 55l-2 0 0-2 2 0zM25 57l-2 0 0-2 2 0zM23 59l-2 0 0-2 2 0zM14 67l0-2-2 1 0 1zM257 80l-4 0 0-3-1-1-1 2-2 0 0-3 2 0 1-2 3 1 1-2 2 0 1 5zM240 114l-2 0 0-2-3-1 0-2 3 0-3-2 0-2 4 0 1 1 0-2 3 0 1 1 0 2-2 1 3 0 0 3-2 0-1-1 1 3-3 0zM218 129l-3 0 0-3 2 0 1 1zM69 145l-2 0 0-6-1 0-1-6 3 0 0 5 1 0 0 3 1 0 0 3zM2 148l-3 0 0-4 2 0 0 2 1-1 2 0 0 2-2 0zM56 148l-3 0 0-2 1-1 2 0zM2 155l-3 0 0-3 4 0 0-1 2 0 0 2zM66 162l-2 0 0-2 1 0 0-8 2 0 0 8-1 0zM56 160l-2 0-1-1 0-2 3 0zM1 167l-2 0 0-7 3 0zM11 163l-3 0 0-2 1-1 2 0zM60 174l-3 0 0-2 2-1 1-5 2 0 0 3-2 2zM100 170l-3 0-1-4 3 0 1 1zM3 169l-2 0 0-2 2 0zM47 172l-2 0 0-3 4-1 0 2-2 0zM34 188l-2 0 0-2 2 0zM272 202l-3 0-1-1 0-2-2-1 0-3 3 1-1-1 0-2 3 0 1 2 2 0 0 2-1 0 0 4zM43 197l-2 0 0-2 2 0zM45 201l-2 0 0-4 2 0zM29 206l-2 0 0-2 1-1 2 0 0 2zM25 210l-2 0-1-1 0-2 4-1 0 2-1 0zM3 210l-2 0 0-2 2 0zM6 223l-3 0 0-2 1-1 3 0 1-2 3 0 0 4-3-1zM25 230l-4 0 0-4 2 0 1 2 1-1 0-2 2 0 0 3zM265 238l-3 0-1-2-2 0 0-4-1 1-2 0 0-2 2 0 0-2 3 0 1 1 0-3 4 0-1 4 1-1 2 0 0 3-2 0 1 3zM292 285l-3 0-1-1 0-2 3 0 1 1zM350 350l-12 0 0-1-6-2-1-1 0-3-1 0 0-4 4-3 5 0 6 5 0-1-1 0 0-8 3-4 2 0 0-2 1 0z"/><g class="r" transform="translate(0 .5)"><path stroke="#06f" d="M78 147h1m0 4h1m13 9h2m-47 42h1m211 0h1m15 1h1m-231 1h2m-3 2h1m228 0h1m-243 16h2m-9 2h1m8 0h1m-12 1h3m8 0h1m4 4h1m-16 7h1m-2 1h1m-8 1h1m-1 2h1m1 3h2m-17 9h1m-1 1h1m236 1h2m-4 1h1m1 0h2m-228 6h1m-3 1h3m248 2h1m-2 2h2m1 1h2m4 1h1m-2 1h2m0 1h1m57 18h1m-22 2h1m-1 1h1m1 2h3m-3 1h1m24 9h1m-25 9h1m-3 1h2m0 1h1m21 0h1m-1 1h1m0 2h1m-10 1h1m-4 1h1m-1 1h2m3 1h2m0 1h1m-22 20h1m-1 2h2"/><path stroke="#09f" d="M98 29h2m-24 19h1m-1 1h1m-2 1h1m-1 1h1m-5 9h2m-8 15h1m-6 1h1m3 0h1m-6 1h1m-7 10h1m-2 3h1m-3 1h2m-2 1h1m20 0h1m-5 1h1m-19 1h2m-2 1h2m1 12h1m22 0h2m-25 1h2m23 0h1m-24 1h1m9 0h1m8 0h1m-2 1h1m-3 3h1m1 0h1m-1 1h2m-4 1h1m1 2h1m-7 6h1m-1 1h1m0 1h1m165 2h1m0 1h1m-2 1h1m-161 2h2m-3 1h1m14 8h2m-3 1h2m-14 2h2m18 0h1m-11 1h2m10 1h1m139 0h1m-155 3h2m-15 1h2m11 0h2m1 0h1m-19 1h2m21 8h1m3 4h1m0 1h1m-1 1h1m-9 1h1m6 5h1m1 0h2m-1 1h1m-35 1h1m33 2h1m5 2h1m155 0h1m-158 1h2m155 0h1m-196 1h1m181 0h1m-183 1h1m20 0h1m-2 1h2m1 0h1m-35 1h1m30 0h1m167 0h1m-202 1h1m198 0h1m1 1h1m-187 1h1m25 2h3m-2 2h1m1 0h1m165 0h2m-170 1h1m185 1h2m-2 1h1m-237 2h1m3 2h1m-3 1h1m2 0h1m0 1h1m-1 2h1m67 0h2m-85 2h1m1 0h1m217 0h1m-2 1h3m-226 4h2m234 0h1m-238 1h1m94 0h1m-107 1h2m7 0h1m4 0h1m90 0h2m-106 1h1m93 1h1m11 0h2m154 0h1m-159 1h1m157 0h1m-2 1h1m-256 1h1m96 2h2m146 2h1m-248 4h2m226 0h1m25 0h1m-255 1h1m9 0h1m217 0h1m-2 1h1m2 0h1m22 0h1m0 1h1m-255 1h2m251 0h1m-247 1h1m6 0h2m-9 1h2m9 1h1m-5 1h1m3 0h1m-6 1h1m-7 1h1m4 0h1m-6 1h1m215 1h1m-225 1h2m217 0h3m2 0h2m25 0h1m1 0h1m-254 1h1m224 0h1m27 0h1m-33 1h2m0 1h1m-226 1h2m223 0h1m5 1h1m-217 2h1m-22 1h3m10 0h1m0 1h1m-13 1h1m12 0h1m1 1h1m-15 1h1m12 0h1m244 0h1m-268 2h1m16 0h1m-19 1h2m15 0h1m11 0h1m-31 1h1m15 0h2m11 0h1m-9 1h1m-25 1h1m12 0h1m11 0h1m210 0h3m2 0h1m-1 1h1m-240 2h1m-1 1h1m9 0h1m15 0h2m-19 1h2m233 0h1m-245 1h1m10 0h1m233 0h1m-237 1h1m235 0h2m1 2h3m-246 1h1m1 0h3m257 3h1m-10 1h1m7 0h1m12 3h1m-13 1h1m11 0h1m-5 6h1m-1 1h2m17 6h1m-3 1h2m-2 1h1m19 0h1m-14 5h1m-16 1h2m35 4h2m10 1h1m-1 1h3m-31 7h1m25 3h1m-2 1h1m-34 1h1m1 1h1m7 4h1m7 0h1m13 0h1m-41 1h1m25 0h1m-7 1h1m5 0h1m-33 1h1m-1 1h1m26 1h1m-27 1h1m25 0h2m-20 1h1m39 2h1m-40 2h2m29 0h1m3 0h1m-34 1h1m27 0h2m-29 3h1m2 10h1m-1 1h1"/><path stroke="#0cf" d="M229 0h1m-155 1h1m153 0h1m-2 1h2m-153 1h1m-1 1h1m-1 1h2m7 5h1m13 1h1m-1 1h1m-18 2h1m-1 1h1m17 3h1m-10 3h1m13 2h1m-22 1h2m21 0h1m-7 1h1m5 0h1m1 2h1m-1 1h1m-1 1h1m-11 7h1m-22 3h1m1 0h1m27 0h1m-31 1h2m16 5h1m-23 5h1m23 0h2m-1 1h1m0 2h1m138 2h1m-1 2h1m-169 1h1m167 0h1m-118 1h2m-3 1h1m-2 2h1m-54 1h1m52 0h1m133 0h1m-127 1h1m125 0h1m-127 1h3m117 0h1m-184 5h1m-1 2h1m-7 4h1m4 2h2m189 3h1m-182 1h2m190 1h2m-213 2h3m199 1h1m-191 2h1m-11 1h2m4 2h1m-1 1h1m198 0h1m-206 1h1m-10 1h1m213 0h1m-215 1h2m179 0h1m31 0h2m-4 1h1m-193 1h1m190 0h1m-197 1h1m1 1h1m7 2h1m-2 1h1m1 0h1m-2 1h1m-5 1h1m0 1h1m4 0h1m-27 1h1m20 0h1m-1 1h1m6 1h1m-9 1h1m-4 1h1m150 0h1m6 0h3m-162 1h1m150 0h1m10 0h1m-171 1h1m7 0h2m146 1h1m2 0h1m-156 2h1m13 0h1m-15 1h1m7 2h1m177 2h1m-182 1h1m149 0h1m31 0h1m-38 3h1m-2 1h2m2 1h2m1 5h1m-149 1h1m153 1h2m3 0h1m-5 1h1m4 0h1m-159 1h1m1 4h1m-1 1h1m154 0h1m-143 1h2m5 0h1m143 1h2m-164 1h1m-3 2h1m-1 1h2m8 0h1m-14 1h1m5 0h1m9 0h1m160 1h1m-179 1h1m22 0h1m154 0h1m-180 1h1m23 0h1m1 4h1m147 0h1m-153 1h2m9 0h1m-2 2h1m-8 1h1m8 2h1m-9 2h1m0 1h1m-25 1h1m-1 1h1m181 0h1m-184 1h1m183 0h3m-194 1h1m181 1h2m-184 1h1m24 0h2m160 0h1m-148 4h1m-40 1h1m39 0h1m-28 1h1m25 1h1m153 1h1m-158 2h1m-20 1h1m163 1h2m-155 2h1m-42 1h2m191 0h1m-194 1h1m1 0h1m189 0h2m12 0h1m14 0h1m-30 1h1m2 0h1m10 0h1m-213 2h1m195 0h1m26 0h1m-183 1h1m155 0h1m3 0h1m-157 1h1m153 0h2m33 0h1m-191 1h3m187 0h1m-31 2h1m0 1h1m28 0h1m-30 1h1m25 0h1m4 0h1m-233 2h1m66 4h1m137 0h1m3 0h1m-143 1h1m136 0h2m-138 1h1m4 1h1m145 1h1m-155 1h1m-73 1h1m71 0h1m1 1h1m0 1h1m-102 1h1m4 0h1m4 0h2m-2 1h1m91 1h2m-1 1h1m-102 1h2m100 0h1m-103 1h1m-1 1h1m245 1h1m9 4h1m-24 1h1m3 0h1m-236 1h2m228 0h1m5 0h1m19 0h1m-268 3h1m238 0h1m-243 1h2m4 0h1m233 0h2m1 0h1m-244 1h1m4 0h1m230 1h3m-209 1h1m-7 2h1m215 1h1m0 1h1m-1 1h1m27 0h1m-252 1h1m218 0h2m-243 1h1m25 1h1m218 0h1m6 0h1m21 0h1m-29 1h1m24 0h1m-2 1h2m-254 1h3m248 0h1m3 0h1m-261 1h2m4 0h1m217 0h1m35 0h1m-16 1h2m-21 1h1m18 0h2m13 0h1m-245 1h1m208 0h2m-217 3h1m-2 1h1m237 0h1m11 0h1m-14 1h1m-22 2h2m-207 1h1m240 0h2m-38 1h2m4 0h1m28 0h1m-271 1h1m235 0h1m-213 1h1m2 0h1m216 1h1m0 1h1m-10 1h2m8 0h1m5 1h2m4 0h1m-11 1h1m4 0h1m3 0h1m-5 1h1m10 4h1m15 8h1m-6 3h1m29 5h2m-13 1h1m16 0h1m-20 1h2m6 1h1m1 0h1m-9 1h2m22 0h2m-1 1h1m-37 1h2m4 0h1m-5 1h1m2 1h2m29 1h1m-29 1h1m-7 1h1m20 0h3m-24 1h2m34 1h1m5 0h1m-29 1h1m6 0h1m-1 1h1m-20 3h1m15 0h1m0 1h2m-2 1h1m-18 1h1m49 2h2m-54 2h1m53 0h1m-61 1h1m59 0h1m-54 2h1m48 3h1m-23 8h1m-24 1h1m27 2h1m-19 2h1m-1 2h1m1 0h1m26 0h1m-28 1h1m1 1h1m0 1h1m-2 1h1m6 4h1m-4 1h1m2 0h1m-15 2h1m-1 1h1m6 0h1m7 4h2"/><path stroke="#13ffec" d="M208 0h1m33 0h1m-14 1h1m-1 1h1m-153 1h1m1 0h1m-2 4h1m143 0h3m-146 1h1m3 0h1m140 0h1m-143 1h2m-2 1h1m17 1h1m-19 1h1m15 0h1m-4 1h3m-14 4h2m144 1h1m-136 1h1m134 0h1m-136 1h1m3 1h1m-19 1h2m156 0h1m-137 1h1m134 0h2m-132 2h1m1 2h1m-1 1h1m123 1h2m-131 2h1m3 4h2m-28 1h1m22 0h2m1 0h2m-32 3h1m-1 1h2m159 1h1m-161 1h1m160 0h1m-6 1h2m-158 2h3m12 0h1m4 0h1m-24 1h1m2 0h1m20 1h2m2 0h1m-6 1h2m4 0h1m127 1h2m-131 1h1m124 0h1m2 0h1m24 2h1m-184 1h1m166 0h2m-9 1h2m7 0h1m-170 1h1m158 0h1m3 0h1m5 0h1m1 0h1m-9 1h1m-115 1h1m109 0h1m-109 1h1m105 0h2m-3 1h1m-158 3h1m53 0h1m130 0h2m-189 1h2m171 0h1m-171 1h1m53 0h1m130 0h1m-190 1h1m57 0h2m114 0h1m-176 1h2m174 0h1m-177 1h1m-3 1h1m3 2h1m165 0h1m-174 5h1m199 0h1m-1 1h1m-27 1h1m-179 1h1m-2 1h1m14 3h1m-20 3h2m12 1h1m190 0h3m-1 1h1m-200 4h1m-4 1h1m183 2h1m16 1h1m-28 2h1m6 0h2m-1 1h1m12 0h2m-206 1h1m182 0h1m19 0h1m-3 1h1m-204 1h2m21 0h1m179 0h1m-204 1h1m1 0h1m21 0h1m181 0h2m-209 2h1m178 0h2m-160 2h1m153 0h1m4 0h1m-160 1h1m4 0h1m145 0h2m1 0h1m-6 1h1m30 0h1m-185 2h1m150 0h1m6 0h2m-154 3h1m142 2h1m-2 2h1m36 0h1m-3 1h2m-2 1h1m-37 1h1m-1 1h1m20 0h1m-23 1h2m20 2h1m-2 1h1m-165 1h1m-2 1h1m-1 1h2m150 0h1m26 0h1m-15 1h1m12 0h2m0 1h1m-29 1h2m24 0h1m-26 1h1m14 0h1m10 0h1m-24 1h1m21 0h1m-173 1h1m149 0h1m18 0h1m-171 1h1m158 0h1m9 0h2m-171 1h1m157 5h1m5 1h1m4 1h1m-2 1h1m-169 1h1m-1 1h1m24 0h1m144 0h3m-178 4h1m175 1h2m-1 5h2m-1 1h1m0 1h1m-161 2h1m-13 1h1m26 1h1m-25 1h1m3 0h2m-13 1h1m6 0h1m167 1h1m2 0h1m-1 1h1m-185 1h2m-2 1h1m179 0h1m15 0h1m-197 1h1m18 0h1m4 0h1m171 0h2m-166 1h1m2 0h1m153 0h1m-9 1h1m1 1h1m14 0h1m2 0h1m-187 1h1m183 0h1m-10 1h1m7 0h1m-2 1h1m3 0h2m-209 1h1m2 0h2m202 0h1m-205 1h1m203 0h1m-203 1h1m33 0h1m-14 1h1m171 0h1m-174 1h2m171 0h2m-17 1h2m-157 2h2m-38 1h2m35 0h1m5 0h2m-45 1h1m36 0h1m4 1h2m-50 4h1m43 1h3m187 0h1m-28 3h1m-206 1h1m211 1h1m-143 3h1m164 2h2m-164 1h1m133 0h1m-138 1h1m1 0h2m-7 4h1m9 0h1m-1 1h1m-99 2h2m253 0h1m-1 1h1m-264 3h2m-8 1h3m11 0h1m241 3h1m7 0h1m-258 1h2m253 0h2m-257 1h1m252 1h1m-272 1h1m249 0h1m-251 1h1m0 1h1m40 0h1m224 0h1m-263 3h2m234 2h1m-230 2h1m229 0h1m-233 1h3m228 0h1m10 0h1m-8 1h1m-222 1h1m-5 4h1m-18 2h1m15 1h1m220 0h1m29 0h1m-251 1h1m219 5h1m-234 1h1m-2 1h1m14 1h1m12 0h1m240 3h1m-262 1h1m224 0h2m33 0h1m-260 4h1m233 0h1m6 2h1m5 0h1m-13 1h1m6 0h1m-247 1h2m236 0h1m7 0h1m20 5h2m1 1h1m-1 1h1m1 8h1m0 1h1m24 4h1m-12 1h1m-2 1h1m24 2h2m-36 2h1m19 0h1m3 0h1m2 0h1m-27 1h1m2 1h1m13 0h1m8 0h1m15 1h1m-43 2h1m20 0h2m19 0h1m-43 1h1m20 3h1m26 0h1m2 2h1m-34 1h1m32 0h1m-39 1h3m35 0h1m-53 1h1m16 0h1m-18 1h1m-1 1h1m5 2h2m35 0h1m-32 1h1m42 0h1m-46 1h1m-12 1h2m3 2h1m51 0h1m-56 2h3m-3 1h1m46 4h2m-21 6h1m0 2h1m8 0h2m-27 1h1m3 2h1m1 1h1m0 1h1m2 0h1m0 1h2m1 1h1m-16 7h1m20 8h2"/><path stroke="#7cff83" d="M212 0h2m-3 1h2m3 1h1m26 1h1m-10 3h1m-16 1h1m21 0h1m-159 1h1m-2 1h2m14 3h1m-2 1h1m128 2h1m-132 4h1m142 4h2m-141 1h1m137 6h1m1 0h1m-152 1h1m-2 1h1m19 0h1m-1 1h1m-17 2h1m17 0h2m127 0h2m1 0h1m-132 1h1m-2 6h1m135 0h2m-140 4h1m-7 1h1m3 0h1m144 0h2m-152 1h2m133 1h1m-136 2h1m131 1h2m14 1h1m11 3h1m-2 1h1m-16 1h1m15 1h1m-27 1h1m9 0h1m-11 1h1m-1 3h1m-164 1h1m1 0h1m-3 1h1m174 0h1m0 3h1m3 0h2m13 2h1m-20 5h2m6 8h1m12 1h1m-219 10h1m198 1h3m8 0h1m-14 1h1m7 2h1m-5 1h1m-31 2h2m-154 2h1m0 3h1m1 3h1m154 1h1m2 0h1m-166 1h1m166 1h1m13 2h1m-15 2h1m16 1h1m-16 1h1m1 0h1m10 1h1m-35 1h1m3 3h1m0 2h1m-151 1h1m176 0h1m-178 1h2m177 1h1m0 1h1m-21 3h1m17 0h1m-21 1h1m16 0h1m-152 16h1m151 3h1m0 3h1m7 7h1m2 3h1m-192 1h1m31 0h1m-2 1h3m162 1h2m-12 3h1m-174 1h1m172 0h2m-153 1h1m3 0h1m-5 1h1m-1 1h1m142 0h2m-2 1h1m9 0h1m-12 1h1m11 0h1m-171 2h2m160 1h1m9 2h1m-13 1h1m-4 1h1m1 0h2m1 4h1m-2 1h1m-155 1h1m184 0h1m-28 2h1m4 1h1m23 3h2m2 1h1m-241 1h2m238 0h1m-241 1h2m2 4h1m232 2h1m-156 2h1m-98 2h1m90 2h2m-1 1h1m3 2h1m152 3h1m-26 8h1m-246 1h1m5 0h1m239 3h1m-240 1h1m14 0h1m-18 1h2m5 0h1m14 0h1m208 0h1m-1 2h2m-226 2h1m6 3h1m232 1h1m14 0h1m-250 5h1m-14 3h1m5 1h2m5 0h1m252 0h1m-17 1h1m-255 7h1m236 1h3m-5 1h1m3 0h1m20 1h1m2 0h1m-13 1h1m8 0h2m1 0h1m13 8h1m10 13h1m-1 3h1m13 0h2m-1 1h1m13 0h1m-36 2h1m30 2h2m-32 3h1m32 2h1m-15 3h1m-4 4h1m35 3h1m-45 1h1m-9 7h3m55 4h1m-61 1h1m52 10h1m-18 1h1m-3 1h1m-8 2h1m5 2h1m-11 5h2"/><path stroke="#e0ff1f" d="M238 23h1m-148 7h1m147 5h1m-130 1h1m126 1h2m-147 1h1m19 1h1m-33 6h3m159 3h2m-3 1h2m11 1h1m-23 2h1m-2 3h2m-104 9h1m125 0h1m-131 4h1m-65 10h1m191 4h1m-2 2h1m-195 5h1m7 1h1m182 6h1m-20 4h1m6 1h1m15 0h1m-8 3h1m-25 3h1m10 34h1m-152 7h2m163 1h1m-1 9h1m-1 2h1m1 0h1m-3 1h1m1 0h1m-3 1h1m1 0h1m-155 1h1m151 0h1m-148 3h1m-1 1h1m162 5h1m-164 3h1m-1 1h1m-18 2h1m3 5h2m154 2h2m26 3h1m10 11h1m-164 4h1m-2 9h2m-96 17h1m248 0h1m-250 1h2m-15 2h2m229 2h1m-211 19h1m-25 6h2m279 32h1m8 8h1m42 0h1m-1 1h1m-39 1h2m3 8h2m-1 1h2m32 5h1m-50 4h1m-3 1h2m32 12h1m-2 12h1m-3 2h2m5 3h1"/><path stroke="#ffb700" d="M232 13h1m-145 7h1m20 13h1m1 0h1m-31 12h2m149 10h1m1 6h1m-114 2h1m3 3h1m133 9h1m-1 1h2m-199 9h3m8 0h1m177 11h1m-31 6h1m22 6h2m-2 1h2m-172 22h1m162 6h1m-2 1h1m12 23h1m-1 1h1m-1 3h1m-172 1h1m1 3h1m173 9h1m14 1h1m-185 1h1m159 10h1m33 7h1m-238 2h2m229 18h1m-10 7h1m-17 2h1m15 0h1m-1 1h1m-7 1h1m5 0h1m-8 1h2m-251 19h1m267 5h1m-14 1h1m16 19h1m1 0h2m15 23h2m-2 1h2m6 8h1m-14 14h1m36 13h1"/><path stroke="#ff4d00" d="M212 0h2m23 10h1m-9 1h2m-134 2h1m3 34h1m-1 1h1m130 10h1m3 46h2m-2 1h2m6 4h2m-10 1h1m-2 1h2m5 1h1m-1 1h2m-179 1h1m181 15h1m-175 6h1m192 41h1m-8 1h1m-202 1h1m183 0h1m22 18h2m-247 32h2m-1 1h1m245 2h2m-1 1h1m-2 3h2m20 48h1m-2 1h2m38 8h1m-1 1h2m-38 24h1m28 23h1m-1 1h1"/><path stroke="#f00" d="M59 0h2m9 0h1m140 0h2m-157 1h6m8 0h3m4 0h1m130 0h1m3 0h1m4 0h1m24 0h1m-190 1h3m1 0h1m1 0h2m10 0h3m1 0h1m1 0h1m165 0h1m20 0h1m-210 1h3m2 0h3m9 0h1m3 0h1m137 0h1m-159 1h1m1 0h1m1 0h1m1 0h2m8 0h3m1 0h1m165 0h1m3 0h1m-192 1h1m1 0h1m1 0h1m1 0h3m9 0h1m8 0h1m-26 1h2m5 0h1m8 0h1m3 0h1m186 0h1m-209 1h1m164 0h1m12 0h1m-177 1h3m1 0h1m168 0h2m2 0h1m-179 1h2m1 0h1m2 0h1m1 0h2m8 0h1m1 0h1m5 0h1m146 0h1m-172 1h1m3 0h3m9 0h2m3 0h1m149 0h2m2 0h1m-175 1h3m2 0h3m11 0h1m147 0h1m2 0h2m-166 1h1m27 0h1m130 0h1m3 0h2m28 0h1m-200 1h1m1 0h2m1 0h1m13 0h2m1 0h1m13 0h1m2 0h1m124 0h1m5 0h1m-168 1h1m2 0h3m11 0h2m15 0h1m-36 1h1m1 0h1m2 0h2m13 0h2m15 0h1m130 0h2m10 0h1m-243 1h1m62 0h3m1 0h1m1 0h1m12 0h1m11 0h1m1 0h1m2 0h2m1 0h1m128 0h1m10 0h1m-180 1h1m2 0h3m11 0h2m1 0h1m10 0h1m1 0h1m-97 1h2m60 0h5m25 0h2m2 0h1m-96 1h1m63 0h1m1 0h1m1 0h1m11 0h1m4 0h1m-84 1h3m57 0h1m1 0h6m13 0h1m2 0h1m5 0h2m3 0h2m130 0h1m-231 1h3m4 0h4m54 0h2m1 0h2m8 0h1m5 0h2m9 0h1m1 0h2m-98 1h1m1 0h1m5 0h1m52 0h1m1 0h1m3 0h1m13 0h4m2 0h2m3 0h2m143 0h1m-237 1h2m2 0h1m1 0h2m59 0h2m12 0h1m6 0h1m2 0h5m162 0h1m-261 1h1m1 0h1m1 0h2m1 0h1m56 0h5m17 0h3m1 0h2m3 0h1m7 0h1m-103 1h1m1 0h3m5 0h1m1 0h1m1 0h1m52 0h1m2 0h1m6 0h1m7 0h1m2 0h1m1 0h1m-90 1h1m2 0h4m1 0h1m3 0h1m1 0h2m49 0h1m10 0h2m10 0h2m1 0h4m13 0h1m127 0h1m-237 1h3m5 0h2m2 0h3m50 0h3m11 0h2m2 0h2m6 0h1m1 0h2m141 0h1m-239 1h4m2 0h2m4 0h1m2 0h1m50 0h6m13 0h1m3 0h1m3 0h1m-94 1h1m9 0h2m52 0h1m1 0h1m1 0h1m1 0h1m10 0h2m3 0h1m1 0h1m1 0h1m2 0h1m5 0h1m9 0h1m-109 1h1m4 0h3m8 0h1m2 0h1m43 0h1m1 0h1m4 0h1m24 0h1m13 0h1m-111 1h2m1 0h3m3 0h2m2 0h3m1 0h1m2 0h3m42 0h4m1 0h1m8 0h1m1 0h2m2 0h2m6 0h1m14 0h1m128 0h1m-237 1h1m3 0h3m2 0h1m2 0h1m1 0h3m2 0h3m43 0h2m1 0h1m9 0h1m1 0h1m4 0h1m7 0h1m167 0h1m-263 1h1m3 0h1m6 0h1m5 0h1m1 0h1m47 0h2m1 0h2m7 0h1m1 0h1m2 0h2m153 0h1m-240 1h2m1 0h1m8 0h6m1 0h1m45 0h2m1 0h1m9 0h2m1 0h1m2 0h1m-82 1h1m2 0h1m2 0h1m2 0h1m1 0h2m5 0h1m44 0h1m1 0h1m2 0h1m6 0h3m2 0h1m1 0h1m24 0h1m-111 1h6m7 0h1m1 0h1m6 0h1m41 0h2m1 0h2m9 0h1m-79 1h3m5 0h1m5 0h3m5 0h2m41 0h1m1 0h1m9 0h1m14 0h1m148 0h1m-239 1h2m1 0h1m6 0h2m2 0h4m1 0h1m43 0h2m1 0h1m1 0h1m5 0h1m1 0h1m32 0h1m-112 1h1m3 0h2m5 0h6m4 0h1m41 0h1m1 0h2m2 0h1m6 0h1m165 0h1m-244 1h1m1 0h1m2 0h1m1 0h1m5 0h1m1 0h1m1 0h1m47 0h1m3 0h1m7 0h3m157 0h1m2 0h1m3 0h1m-244 1h1m4 0h1m1 0h1m2 0h1m4 0h1m1 0h2m1 0h1m2 0h1m2 0h2m38 0h3m6 0h1m263 0h1m1 0h1m-339 1h1m1 0h5m1 0h3m1 0h4m3 0h1m43 0h1m1 0h2m5 0h1m-76 1h2m1 0h1m1 0h2m1 0h1m6 0h1m6 0h1m6 0h1m38 0h1m6 0h1m2 0h1m29 0h1m127 0h1m3 0h1m-241 1h1m2 0h1m4 0h2m1 0h1m4 0h1m1 0h1m1 0h1m45 0h1m8 0h1m159 0h1m16 0h1m-252 1h1m1 0h2m1 0h2m2 0h3m1 0h1m9 0h2m36 0h1m11 0h2m5 0h1m246 0h1m-330 1h2m7 0h3m1 0h2m1 0h1m3 0h1m5 0h1m2 0h1m34 0h1m1 0h1m8 0h1m25 0h1m149 0h2m64 0h1m19 0h1m6 0h1m-342 1h1m2 0h2m1 0h1m5 0h1m2 0h4m3 0h3m36 0h1m2 0h1m6 0h1m7 0h1m17 0h2m149 0h2m-249 1h2m1 0h1m3 0h3m1 0h1m2 0h3m9 0h3m41 0h1m165 0h2m86 0h1m-326 1h4m1 0h2m2 0h1m2 0h2m3 0h2m9 0h1m1 0h1m39 0h1m1 0h1m166 0h1m22 0h1m69 0h1m-334 1h1m2 0h1m3 0h4m1 0h1m1 0h1m3 0h1m1 0h1m8 0h1m34 0h1m175 0h1m-241 1h1m2 0h2m3 0h1m1 0h1m3 0h1m4 0h1m45 0h1m4 0h1m1 0h1m156 0h2m-228 1h2m2 0h3m2 0h2m2 0h1m7 0h1m3 0h2m1 0h2m28 0h2m2 0h1m5 0h1m-68 1h1m3 0h1m1 0h1m1 0h4m2 0h1m1 0h1m1 0h1m2 0h1m2 0h1m1 0h1m1 0h1m28 0h1m2 0h1m4 0h1m1 0h2m168 0h1m10 0h1m68 0h1m-316 1h1m1 0h1m2 0h1m2 0h1m2 0h2m2 0h1m6 0h2m1 0h2m28 0h1m7 0h1m164 0h1m6 0h1m11 0h1m-251 1h1m2 0h1m1 0h1m1 0h1m1 0h1m2 0h1m3 0h1m5 0h1m1 0h3m31 0h3m4 0h1m172 0h1m-239 1h1m3 0h3m1 0h5m8 0h1m1 0h2m32 0h2m7 0h1m159 0h1m26 0h1m-254 1h1m1 0h1m1 0h1m2 0h2m1 0h1m3 0h1m5 0h1m7 0h4m26 0h3m166 0h1m25 0h1m-247 1h2m1 0h1m1 0h2m5 0h1m2 0h1m2 0h1m2 0h1m1 0h2m25 0h1m1 0h1m4 0h1m53 0h1m107 0h1m-212 1h2m1 0h3m6 0h2m1 0h1m27 0h1m1 0h1m3 0h1m1 0h1m172 0h1m-229 1h4m7 0h1m1 0h1m2 0h1m2 0h1m33 0h1m55 0h1m-115 1h1m2 0h1m1 0h1m1 0h2m1 0h2m1 0h1m1 0h1m5 0h1m2 0h2m26 0h1m4 0h1m1 0h1m51 0h1m4 0h1m177 0h1m-295 1h1m4 0h3m1 0h1m1 0h3m8 0h5m22 0h2m1 0h2m2 0h1m164 0h1m27 0h1m-246 1h2m3 0h1m1 0h1m3 0h1m1 0h3m1 0h2m1 0h1m2 0h1m22 0h1m1 0h1m3 0h1m5 0h1m158 0h2m77 0h1m-295 1h5m2 0h3m6 0h1m2 0h1m24 0h1m8 0h2m2 0h1m53 0h1m-110 1h1m4 0h2m1 0h1m1 0h2m5 0h1m23 0h4m6 0h3m57 0h1m-110 1h2m1 0h2m2 0h2m2 0h1m2 0h2m1 0h1m22 0h1m4 0h2m5 0h1m-56 1h2m1 0h1m3 0h3m1 0h1m2 0h1m1 0h1m1 0h3m23 0h1m3 0h1m58 0h1m109 0h1m19 0h2m-238 1h1m2 0h1m1 0h1m2 0h1m1 0h1m5 0h1m1 0h2m26 0h2m3 0h2m2 0h1m161 0h1m24 0h1m44 0h1m-289 1h1m1 0h1m1 0h4m4 0h1m1 0h2m2 0h1m28 0h1m61 0h3m108 0h1m13 0h1m2 0h2m40 0h1m-281 1h1m1 0h5m1 0h1m5 0h1m1 0h3m3 0h1m25 0h1m204 0h1m-253 1h1m4 0h1m1 0h2m2 0h1m1 0h3m3 0h3m24 0h1m1 0h1m183 0h1m2 0h1m1 0h1m3 0h1m-239 1h2m1 0h1m1 0h1m1 0h1m1 0h1m2 0h1m1 0h3m21 0h1m237 0h1m-276 1h3m4 0h3m1 0h1m1 0h2m26 0h2m193 0h1m8 0h1m-241 1h3m3 0h2m4 0h1m18 0h1m3 0h3m182 0h1m1 0h1m9 0h1m-235 1h1m4 0h4m1 0h1m21 0h1m2 0h1m1 0h1m1 0h1m194 0h1m-231 1h1m2 0h6m19 0h1m1 0h1m2 0h1m181 0h3m1 0h1m11 0h1m3 0h2m-239 1h1m3 0h1m1 0h1m1 0h1m2 0h2m198 0h1m6 0h1m52 0h1m-274 1h2m4 0h1m4 0h2m1 0h1m14 0h1m4 0h1m178 0h1m6 0h1m12 0h1m8 0h1m24 0h1m-266 1h3m1 0h1m3 0h2m1 0h1m23 0h1m188 0h2m-229 1h1m3 0h1m1 0h2m2 0h1m2 0h1m1 0h1m18 0h1m1 0h2m13 0h1m173 0h3m1 0h1m2 0h1m-229 1h1m4 0h2m23 0h1m4 0h1m190 0h1m-227 1h2m5 0h3m15 0h2m3 0h1m1 0h3m1 0h1m1 0h2m181 0h1m44 0h1m-268 1h2m3 0h1m5 0h1m15 0h1m2 0h2m1 0h1m2 0h1m2 0h1m2 0h1m1 0h1m1 0h1m194 0h1m-240 1h1m3 0h3m23 0h1m1 0h1m3 0h1m4 0h1m2 0h1m176 0h1m39 0h1m-262 1h1m2 0h1m5 0h1m10 0h2m1 0h1m2 0h1m8 0h2m1 0h1m1 0h1m1 0h1m190 0h1m29 0h1m-265 1h3m1 0h1m16 0h1m213 0h1m-236 1h1m4 0h1m3 0h1m1 0h1m8 0h3m1 0h1m12 0h1m196 0h1m-233 1h1m3 0h1m2 0h3m8 0h1m1 0h1m-19 1h1m4 0h1m9 0h3m-19 1h3m1 0h3m9 0h2m1 0h2m12 0h1m-33 1h2m1 0h1m2 0h1m8 0h1m-15 1h2m2 0h1m1 0h1m7 0h1m-17 1h2m2 0h1m3 0h1m7 0h1m14 0h1m201 0h1m-233 1h1m4 0h1m8 0h2m16 0h1m2 0h1m194 0h1m-228 1h2m1 0h1m1 0h1m5 0h1m-12 1h1m3 0h1m6 0h2m15 0h1m4 0h1m172 0h2m-209 1h1m3 0h1m7 0h2m193 0h2m42 0h1m-253 1h1m3 0h1m2 0h1m5 0h1m1 0h1m191 0h1m1 0h2m2 0h1m10 0h1m24 0h1m-248 1h3m1 0h1m5 0h3m178 0h1m13 0h2m1 0h1m13 0h1m-222 1h1m1 0h1m1 0h1m7 0h1m173 0h1m12 0h2m4 0h2m-203 1h1m5 0h2m1 0h1m186 0h1m5 0h2m-206 1h3m4 0h2m188 0h2m1 0h1m1 0h2m38 0h2m-245 1h1m3 0h1m4 0h2m171 0h2m15 0h1m1 0h1m1 0h1m3 0h1m-208 1h2m2 0h1m4 0h1m188 0h1m1 0h1m-198 1h1m184 0h1m6 0h1m11 0h2m35 0h1m-241 1h2m4 0h1m28 0h1m146 0h1m-187 1h1m1 0h1m7 0h1m185 0h1m10 0h1m1 0h1m1 0h1m-211 1h1m2 0h2m5 0h1m2 0h2m199 0h1m-217 1h1m12 0h1m13 0h1m155 0h1m1 0h1m10 0h2m-197 1h1m1 0h3m1 0h1m6 0h1m12 0h1m161 0h1m3 0h1m2 0h1m13 0h1m30 0h1m-238 1h1m1 0h2m7 0h1m1 0h1m172 0h1m17 0h2m-208 1h1m2 0h3m8 0h2m5 0h1m4 0h1m151 0h1m26 0h1m31 0h1m-232 1h2m7 0h1m1 0h1m1 0h1m7 0h1m2 0h1m167 0h2m3 0h1m1 0h2m-207 1h1m3 0h1m1 0h1m9 0h2m5 0h1m6 0h1m146 0h1m20 0h1m2 0h1m1 0h1m2 0h1m-204 1h3m1 0h3m7 0h2m6 0h1m178 0h1m-203 1h1m4 0h2m1 0h1m7 0h3m4 0h2m208 0h1m-232 1h4m1 0h2m8 0h2m191 0h1m-206 1h1m1 0h1m10 0h1m5 0h2m-24 1h1m1 0h1m1 0h2m1 0h1m8 0h2m1 0h1m2 0h1m188 0h1m-211 1h1m2 0h1m2 0h2m8 0h2m1 0h1m186 0h1m22 0h1m-227 1h1m1 0h1m11 0h2m1 0h1m1 0h1m-17 1h1m11 0h2m148 0h1m1 0h1m-169 1h1m15 0h2m169 0h1m-187 1h1m1 0h1m1 0h3m9 0h3m-21 1h1m2 0h2m3 0h2m8 0h1m1 0h1m1 0h1m-67 1h1m44 0h4m4 0h1m9 0h2m2 0h1m183 0h1m-206 1h1m3 0h1m1 0h2m9 0h1m-19 1h1m1 0h1m4 0h1m10 0h2m2 0h2m143 0h1m-211 1h1m44 0h2m2 0h1m12 0h2m-66 1h1m46 0h1m1 0h2m1 0h1m1 0h2m8 0h2m202 0h1m-268 1h2m44 0h2m2 0h1m3 0h1m8 0h2m2 0h1m-68 1h1m1 0h1m44 0h2m4 0h3m8 0h1m202 0h1m-269 1h2m44 0h1m3 0h1m1 0h1m1 0h2m182 0h2m1 0h1m2 0h1m-244 1h2m2 0h1m1 0h1m39 0h3m5 0h2m14 0h1m163 0h2m-236 1h1m4 0h3m44 0h1m16 0h1m167 0h2m-236 1h4m39 0h1m6 0h1m1 0h2m10 0h1m3 0h1m3 0h1m158 0h1m-235 1h4m1 0h1m49 0h1m12 0h1m2 0h1m159 0h1m1 0h1m1 0h1m-234 1h1m1 0h2m43 0h3m4 0h1m173 0h1m-226 1h1m42 0h1m22 0h1m163 0h1m-236 1h1m1 0h1m1 0h5m43 0h2m2 0h1m12 0h1m17 0h1m143 0h2m2 0h2m-236 1h1m2 0h1m2 0h3m39 0h1m1 0h2m2 0h1m14 0h1m15 0h1m2 0h1m144 0h1m-236 1h3m2 0h2m2 0h1m40 0h1m1 0h1m3 0h2m14 0h1m17 0h2m-91 1h1m1 0h1m1 0h1m1 0h3m41 0h2m2 0h1m1 0h1m13 0h1m21 0h1m-88 1h1m1 0h1m1 0h1m39 0h1m1 0h1m2 0h3m12 0h1m2 0h1m11 0h3m-83 1h1m1 0h1m2 0h2m38 0h2m14 0h2m1 0h1m1 0h3m11 0h1m1 0h1m2 0h3m175 0h1m-264 1h1m2 0h1m1 0h3m43 0h2m8 0h1m4 0h1m15 0h1m3 0h1m1 0h2m149 0h1m-239 1h1m1 0h1m40 0h2m1 0h1m13 0h1m1 0h1m5 0h1m8 0h1m1 0h1m6 0h2m151 0h1m-241 1h6m38 0h1m4 0h1m2 0h1m7 0h1m3 0h1m2 0h1m4 0h1m5 0h2m1 0h1m5 0h1m-92 1h2m2 0h3m44 0h3m2 0h1m7 0h1m1 0h1m4 0h1m1 0h1m8 0h2m4 0h1m-90 1h1m4 0h1m1 0h1m2 0h1m41 0h1m1 0h3m8 0h1m6 0h1m1 0h1m2 0h2m3 0h2m1 0h3m2 0h1m-90 1h1m9 0h2m38 0h1m1 0h3m1 0h1m7 0h1m9 0h1m1 0h1m4 0h1m3 0h1m1 0h1m156 0h1m4 0h1m-246 1h3m2 0h3m40 0h1m1 0h1m19 0h2m2 0h1m4 0h2m159 0h1m21 0h1m-262 1h2m41 0h1m1 0h2m1 0h2m17 0h1m2 0h3m163 0h1m-234 1h3m36 0h1m3 0h1m1 0h1m17 0h1m3 0h1m1 0h2m2 0h1m3 0h1m-86 1h3m1 0h1m41 0h1m1 0h1m3 0h2m17 0h3m3 0h1m1 0h2m2 0h1m6 0h1m2 0h1m-95 1h1m3 0h2m1 0h2m1 0h3m37 0h1m1 0h1m1 0h1m14 0h1m2 0h1m4 0h1m3 0h4m13 0h1m1 0h1m2 0h1m-102 1h1m1 0h1m5 0h3m36 0h1m1 0h2m3 0h1m16 0h1m1 0h1m6 0h2m1 0h2m5 0h1m-93 1h3m4 0h1m1 0h2m37 0h2m1 0h1m16 0h1m4 0h1m9 0h1m1 0h1m16 0h1m-99 1h2m1 0h2m1 0h1m58 0h1m3 0h1m3 0h2m5 0h1m1 0h2m5 0h1m153 0h1m-243 1h1m41 0h2m1 0h1m3 0h1m12 0h1m4 0h1m3 0h2m4 0h1m1 0h1m-79 1h1m39 0h1m1 0h2m1 0h1m1 0h1m13 0h2m2 0h2m1 0h1m19 0h1m151 0h3m-246 1h1m3 0h1m39 0h2m1 0h1m3 0h1m8 0h2m1 0h2m16 0h2m160 0h4m-246 1h1m42 0h1m1 0h1m1 0h2m9 0h2m1 0h2m3 0h1m14 0h1m-85 1h1m5 0h1m40 0h1m1 0h1m1 0h2m8 0h1m2 0h1m3 0h1m-63 1h2m37 0h2m1 0h2m1 0h1m8 0h1m1 0h1m3 0h2m32 0h1m-99 1h2m1 0h2m41 0h1m201 0h1m-249 1h1m47 0h2m17 0h1m7 0h1m21 0h1m144 0h1m10 0h1m-257 1h1m4 0h2m36 0h1m7 0h1m31 0h1m-83 1h1m1 0h1m40 0h1m5 0h2m34 0h1m13 0h1m161 0h1m-263 1h1m1 0h5m35 0h1m5 0h3m42 0h1m167 0h2m-261 1h1m41 0h1m2 0h1m1 0h1m12 0h1m17 0h1m-81 1h3m39 0h1m5 0h1m13 0h1m-62 1h1m41 0h1m2 0h1m205 0h2m-253 1h2m41 0h2m10 0h1m1 0h1m20 0h1m171 0h3m-213 1h1m1 0h1m3 0h1m7 0h1m1 0h1m2 0h1m1 0h1m1 0h1m38 0h1m163 0h1m-225 1h2m1 0h1m7 0h1m1 0h1m6 0h1m180 0h1m-202 1h1m1 0h1m7 0h1m188 0h2m1 0h1m-208 1h1m3 0h2m8 0h1m3 0h1m196 0h1m5 0h1m9 0h1m-227 1h1m7 0h1m3 0h1m43 0h1m-62 1h1m11 0h1m1 0h1m1 0h2m-7 1h1m2 0h1m190 0h1m7 0h1m-214 1h1m1 0h1m7 0h2m192 0h1m-208 1h1m1 0h1m1 0h1m7 0h1m3 0h1m36 0h1m152 0h3m-211 1h1m2 0h2m1 0h1m6 0h2m1 0h2m1 0h1m1 0h1m10 0h1m21 0h2m154 0h1m12 0h1m-223 1h1m1 0h1m2 0h1m5 0h2m39 0h1m7 0h1m149 0h1m23 0h2m-236 1h2m1 0h2m5 0h1m40 0h1m185 0h1m-241 1h1m11 1h2m-16 1h1m1 0h2m2 0h1m6 0h1m201 0h2m12 0h1m10 0h1m-241 1h4m1 0h1m6 0h2m1 0h1m219 0h1m3 0h1m-243 1h1m1 0h1m1 0h1m9 0h2m48 0h1m172 0h3m-241 1h1m1 0h3m1 0h1m6 0h3m215 0h1m11 0h1m1 0h1m1 0h2m6 0h1m-257 1h1m2 0h4m6 0h1m3 0h1m221 0h4m5 0h1m-250 1h5m2 0h1m6 0h1m1 0h1m1 0h1m222 0h1m1 0h1m8 0h1m5 0h1m-260 1h1m4 0h1m8 0h1m2 0h2m-21 1h4m2 0h1m1 0h1m7 0h1m2 0h1m-22 1h2m2 0h1m2 0h1m9 0h1m1 0h1m1 0h3m220 0h3m9 0h1m6 0h1m-261 1h3m9 0h2m5 0h1m6 0h1m213 0h3m21 0h1m-267 1h1m1 0h1m1 0h2m7 0h1m4 0h1m1 0h1m224 0h1m1 0h1m-250 1h2m1 0h4m7 0h2m1 0h2m1 0h1m225 0h1m3 0h1m-249 1h2m1 0h1m7 0h1m230 0h2m4 0h1m15 0h1m-266 1h1m1 0h1m8 0h3m83 0h2m2 0h1m147 0h1m-258 1h2m2 0h1m2 0h2m236 0h1m9 0h1m-255 1h1m19 0h1m13 0h1m75 0h1m143 0h1m12 0h1m-272 1h1m1 0h5m12 0h1m99 0h1m151 0h1m-274 1h1m1 0h1m1 0h1m16 0h1m250 0h1m-276 1h1m2 0h1m1 0h1m1 0h1m7 0h1m1 0h3m9 0h1m94 0h1m153 0h1m-273 1h1m1 0h1m8 0h1m-17 1h5m7 0h1m10 0h1m98 0h1m-122 1h1m1 0h3m5 0h1m8 0h1m-24 1h4m10 0h1m7 0h2m95 0h2m-119 1h1m10 0h1m105 0h2m-121 1h2m2 0h1m7 0h1m3 0h1m1 0h1m4 0h1m94 0h1m161 0h1m-281 1h1m1 0h1m12 0h1m1 0h1m1 0h1m6 0h1m-27 1h1m9 0h1m2 0h1m3 0h1m6 0h2m-16 1h2m1 0h1m2 0h3m103 0h1m-114 1h1m4 0h1m1 0h2m2 0h1m1 0h1m-8 1h1m-2 1h3m3 0h1m246 0h1m7 0h1m-262 1h1m3 0h2m1 0h1m239 0h1m-262 1h3m12 0h1m3 0h1m4 0h1m-25 1h2m5 0h2m4 0h1m2 0h1m1 0h1m2 0h3m226 0h1m9 0h1m-248 1h2m4 0h1m1 0h2m19 0h1m212 0h1m5 0h1m-258 1h1m6 0h2m3 0h1m1 0h2m2 0h1m8 0h2m227 0h2m-257 1h3m3 0h2m2 0h1m3 0h1m4 0h1m3 0h2m224 0h1m1 0h3m9 0h2m-264 1h1m1 0h1m6 0h1m12 0h1m4 0h1m4 0h1m2 0h1m215 0h1m21 0h1m-264 1h1m1 0h1m10 0h1m1 0h1m3 0h1m2 0h1m214 0h1m4 0h2m1 0h1m4 0h2m-238 1h1m1 0h1m4 0h2m204 0h1m16 0h1m-245 1h1m3 0h1m6 0h1m2 0h1m213 0h1m-231 1h1m6 0h1m1 0h1m5 0h1m1 0h1m210 0h1m25 0h1m-250 1h1m3 0h1m9 0h1m208 0h1m12 0h1m-244 1h1m14 0h1m222 0h1m17 0h2m-251 1h1m2 0h1m225 0h1m18 0h1m-241 1h2m227 0h1m11 0h1m-13 1h1m11 0h2m-253 1h1m2 0h1m223 0h2m10 0h1m12 0h1m-248 1h1m5 0h1m218 0h1m8 0h1m2 0h2m5 0h1m-18 1h1m9 0h1m2 0h1m3 0h1m-262 1h1m-3 1h1m2 0h2m-7 1h1m4 0h2m11 0h1m2 0h1m-19 1h1m11 0h1m6 0h1m233 0h1m-239 1h1m2 0h1m238 0h1m-250 1h1m248 0h1m-229 1h1m-1 1h1m-27 1h1m2 0h1m6 1h2m5 0h1m9 0h1m-17 1h1m257 0h1m-271 2h1m9 0h1m-12 1h1m257 0h1m-235 1h1m1 0h1m208 0h1m21 0h1m-259 1h1m23 0h1m3 0h2m207 0h1m27 2h1m4 0h1m-31 1h3m22 0h1m-25 1h2m19 0h2m-259 1h2m248 0h1m8 0h1m2 0h1m-263 1h2m257 1h2m-3 1h1m-4 1h1m4 0h1m-5 1h1m1 0h1m-5 1h1m3 0h1m1 0h1m6 0h1m-11 1h1m14 3h2m0 4h1m0 5h1m4 2h1m-2 1h1m1 0h1m4 2h1m-8 2h1m12 0h1m8 0h1m-19 1h1m16 0h3m-2 1h2m3 0h2m10 1h1m-9 2h1m1 0h1m6 0h1m-26 1h1m17 0h1m6 0h1m-19 1h1m16 0h3m-18 1h1m16 0h1m-32 1h1m30 0h1m-31 1h3m-4 1h4m-2 1h1m2 3h1m6 0h1m-19 1h1m11 0h1m5 0h1m-6 1h1m-19 1h2m16 0h1m-22 1h1m2 0h3m46 0h1m-3 1h1m-39 1h1m4 0h1m-8 2h1m39 0h1m-46 1h1m19 0h1m-22 1h1m19 0h1m1 0h1m-20 1h1m-1 1h1m45 0h1m-49 1h1m2 0h1m44 0h1m-50 1h2m2 0h1m45 0h1m2 0h1m-29 1h1m22 0h1m2 0h1m1 0h1m-4 1h1m2 0h1m-1 1h1m1 0h2m-9 1h1m1 0h3m-52 1h2m1 0h2m20 0h1m-22 1h1m32 0h2m10 0h1m1 0h1m2 0h2m-28 1h1m11 0h1m6 0h2m1 0h2m4 0h1m-20 1h1m1 0h2m8 0h2m1 0h1m-18 1h2m1 0h1m2 0h2m7 0h1m2 0h2m3 0h1m-23 1h1m4 0h2m-33 1h1m31 0h1m-8 1h1m1 0h1m2 0h3m1 0h2m3 0h2m-38 1h1m2 0h1m22 0h1m2 0h1m2 0h1m9 0h1m-19 1h1m2 0h1m1 0h1m3 1h1m8 0h1m-18 1h1m-1 1h2m3 0h1m1 0h1m0 2h1m2 0h1m3 0h1m-13 1h1m9 0h3m-10 1h1m2 0h1m-6 1h1m9 0h1m-23 1h1m-7 1h2m1 0h1m2 0h1m1 0h1m21 0h1m-32 1h1m4 0h1m1 0h1m-9 1h3m1 0h1m1 0h1m1 0h2m8 0h1m-16 1h1m3 0h1m1 0h3m5 0h1m-18 1h2m1 0h1m1 0h1m4 0h1m1 0h1m3 0h1m-17 1h2m3 0h1m3 0h3m2 0h1m-14 1h1m5 0h2m1 0h2m6 0h1m-12 1h2m1 0h1m1 0h1m-9 1h1m1 0h1m6 0h1m-4 1h1m2 1h1"/></g></g>
<use href="#qg" transform="matrix(-1 0 0 1 700 0)"/><use href="#qg" transform="matrix(1 0 0 -1 0 700)"/><use href="#qg" transform="matrix(-1 0 0 -1 700 700)"/></svg>
<path class="t" d="M686.7 2630.3v-5.0M686.7 2096.0v5.0M610.7 2172.0h5.0M1145.2 2172.0h-5.0M763.0 2630.3v-5.0M763.0 2096.0v5.0M610.7 2248.3h5.0M1145.2 2248.3h-5.0M839.3 2630.3v-5.0M839.3 2096.0v5.0M610.7 2324.6h5.0M1145.2 2324.6h-5.0M915.6 2630.3v-5.0M915.6 2096.0v5.0M610.7 2400.9h5.0M1145.2 2400.9h-5.0M991.8 2630.3v-5.0M991.8 2096.0v5.0M610.7 2477.1h5.0M1145.2 2477.1h-5.0M1068.1 2630.3v-5.0M1068.1 2096.0v5.0M610.7 2553.4h5.0M1145.2 2553.4h-5.0M1144.4 2630.3v-5.0M1144.4 2096.0v5.0M610.7 2629.7h5.0M1145.2 2629.7h-5.0"/><path class="b2" d="M1145.20 2096.00V2630.30H610.70"/><path class="b" d="M610.70 2630.80V2096.00H1145.70"/><g class="xl"><text transform="matrix(.957 0 0 1 686.8 2656.2)">100</text> <text transform="matrix(.957 0 0 1 763.1 2656.2)">200</text> <text transform="matrix(.957 0 0 1 839.4 2656.2)">300</text> <text transform="matrix(.957 0 0 1 915.7 2656.2)">400</text> <text transform="matrix(.957 0 0 1 991.9 2656.2)">500</text> <text transform="matrix(.957 0 0 1 1068.2 2656.2)">600</text> <text transform="matrix(.957 0 0 1 1144.5 2656.2)">700</text> </g><g class="yl"><text transform="matrix(.957 0 0 1 605.0 2180.2)">100</text> <text transform="matrix(.957 0 0 1 605.0 2256.5)">200</text> <text transform="matrix(.957 0 0 1 605.0 2332.8)">300</text> <text transform="matrix(.957 0 0 1 605.0 2409.1)">400</text> <text transform="matrix(.957 0 0 1 605.0 2485.3)">500</text> <text transform="matrix(.957 0 0 1 605.0 2561.6)">600</text> <text transform="matrix(.957 0 0 1 605.0 2637.9)">700</text> </g>
<g class="c"><text x="602.5" y="2715.4" textLength="46.6" lengthAdjust="spacingAndGlyphs">(<tspan class="k">g</tspan>)</text> <text x="656.9" y="2715.4" textLength="158.7" lengthAdjust="spacingAndGlyphs">Proposed</text> <text x="823.9" y="2715.4" textLength="71.4" lengthAdjust="spacingAndGlyphs">16th</text> <text x="903.6" y="2715.4" textLength="92.4" lengthAdjust="spacingAndGlyphs">order</text> <text x="1004.3" y="2715.4" textLength="125.7" lengthAdjust="spacingAndGlyphs">method</text> </g>
</svg></body></html>
